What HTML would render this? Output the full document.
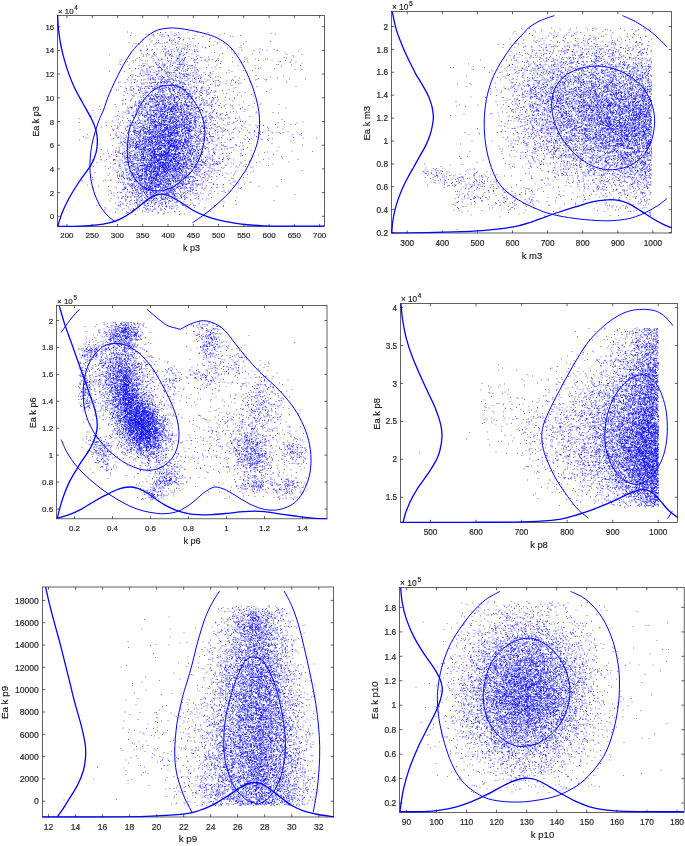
<!DOCTYPE html>
<html lang="en">
<head>
<meta charset="utf-8">
<title>Posterior scatter plots</title>
<style>
html,body{margin:0;padding:0;background:#fff;overflow:hidden}
svg{display:block}
text{font-family:"Liberation Sans",sans-serif;fill:#262626;stroke:#262626;stroke-width:0.18}
.a{fill:none;stroke:#262626;stroke-width:0.72}
.d{fill:none;stroke:#0000ff;stroke-width:2;stroke-opacity:0.55}
.m{fill:none;stroke:#0000ff;stroke-width:1.3;stroke-linejoin:round}
.c{fill:none;stroke:#0000ff;stroke-width:1.0;stroke-linejoin:round}
</style>
</head>
<body>
<svg width="685" height="846" viewBox="0 0 685 846">
<rect width="685" height="846" fill="#fff"/>
<g id="panel1">
<clipPath id="c1"><rect x="56.8" y="14.8" width="268.4" height="212.4"/></clipPath>
<path class="d" transform="scale(0.5)" d="M254 64h2m85 0h2m32 0h2m16 0h2m-75 1h2m-2 0h2m8 0h2m24 0h2m37 0h2m18 0h2m-155 1h2m50 1h2m33 0h2m97 0h2m91 0h2m-185 1h2m190 0h2m-261 1h2m32 0h2m16 0h2m7 0h2m-58 1h2m5 0h2m0 0h2m-1 0h2m11 0h2m-2 0h2m2 0h2m8 0h2m104 0h2m-181 1h2m74 0h2m10 0h2m1 0h2m36 0h2m89 0h2m-175 1h2m27 0h2m-2 0h2m122 0h2m-139 1h2m2 0h2m76 0h2m58 0h2m-112 2h2m-1 0h2m0 0h2m-21 1h2m26 0h2m6 0h2m43 0h2m-62 1h2m22 0h2m1 0h2m-105 1h2m13 0h2m47 0h2m28 0h2m38 0h2m-81 1h2m17 0h2m6 0h2m-55 1h2m23 0h2m26 0h2m-65 1h2m11 0h2m20 0h2m2 0h2m2 0h2m-9 1h2m16 1h2m59 0h2m9 0h2m60 0h2m47 0h2m-258 1h2m15 0h2m30 0h2m8 0h2m36 0h2m-126 1h2m53 0h2m2 0h2m15 0h2m15 0h2m-33 1h2m7 0h2m12 0h2m10 0h2m78 0h2m-1 0h2m-166 1h2m3 0h2m32 0h2m3 0h2m6 0h2m49 0h2m20 0h2m49 0h2m-182 1h2m9 0h2m76 0h2m5 0h2m121 0h2m-181 1h2m36 0h2m32 0h2m-83 1h2m50 0h2m15 0h2m1 0h2m54 0h2m23 0h2m-78 1h2m104 0h2m-219 1h2m26 0h2m30 0h2m48 0h2m10 0h2m2 0h2m25 0h2m-110 1h2m19 0h2m86 0h2m-82 1h2m18 0h2m14 0h2m3 0h2m12 0h2m9 0h2m-54 1h2m-2 0h2m15 0h2m39 0h2m47 0h2m18 0h2m-116 1h2m44 0h2m28 0h2m11 0h2m26 0h2m-121 1h2m2 0h2m-76 1h2m-1 0h2m17 0h2m13 0h2m-1 0h2m0 0h2m14 0h2m4 0h2m1 0h2m15 0h2m144 0h2m-227 1h2m8 0h2m18 0h2m17 0h2m23 0h2m8 0h2m8 0h2m3 0h2m152 0h2m-269 1h2m20 0h2m37 0h2m11 0h2m6 0h2m9 0h2m8 0h2m77 0h2m60 0h2m7 0h2m19 0h2m-276 1h2m10 0h2m189 0h2m22 0h2m44 0h2m-273 1h2m52 0h2m-2 0h2m16 0h2m6 0h2m24 0h2m3 0h2m201 0h2m-272 1h2m7 0h2m5 0h2m4 0h2m12 0h2m25 0h2m4 0h2m-136 1h2m58 0h2m9 0h2m55 0h2m-83 1h2m21 0h2m24 0h2m13 0h2m0 0h2m52 0h2m88 0h2m-178 1h2m16 0h2m4 0h2m4 0h2m195 0h2m-277 1h2m10 0h2m136 0h2m21 0h2m-186 1h2m12 0h2m12 0h2m16 0h2m-1 0h2m1 0h2m1 0h2m20 0h2m3 0h2m18 0h2m91 0h2m26 0h2m-215 1h2m14 0h2m30 0h2m-1 0h2m16 0h2m0 0h2m6 0h2m203 0h2m28 0h2m-387 1h2m66 0h2m9 0h2m31 0h2m6 0h2m-2 0h2m4 0h2m12 0h2m78 0h2m-131 1h2m19 0h2m25 0h2m7 0h2m27 0h2m188 0h2m-295 1h2m9 0h2m34 0h2m1 0h2m-1 0h2m7 0h2m11 0h2m-82 1h2m18 0h2m22 0h2m14 0h2m10 0h2m18 0h2m13 0h2m-83 1h2m103 0h2m168 0h2m-310 1h2m22 0h2m30 0h2m33 0h2m-1 0h2m28 0h2m1 0h2m59 0h2m23 0h2m76 0h2m-254 1h2m34 0h2m1 0h2m-1 0h2m1 0h2m25 0h2m185 0h2m-316 1h2m13 0h2m30 0h2m27 0h2m6 0h2m10 0h2m0 0h2m5 0h2m3 0h2m12 0h2m10 0h2m39 0h2m56 0h2m-173 1h2m0 0h2m28 0h2m154 0h2m18 0h2m2 0h2m-220 1h2m4 0h2m29 0h2m9 0h2m2 0h2m18 0h2m2 0h2m15 0h2m6 0h2m5 0h2m63 0h2m-248 1h2m25 0h2m7 0h2m26 0h2m12 0h2m6 0h2m27 0h2m29 0h2m26 0h2m16 0h2m106 0h2m37 0h2m-319 1h2m16 0h2m32 0h2m15 0h2m1 0h2m2 0h2m19 0h2m2 0h2m-1 0h2m18 0h2m13 0h2m5 0h2m21 0h2m2 0h2m78 0h2m52 0h2m-282 1h2m2 0h2m9 0h2m44 0h2m-1 0h2m2 0h2m9 0h2m125 0h2m-257 1h2m13 0h2m80 0h2m22 0h2m51 0h2m15 0h2m9 0h2m45 0h2m67 0h2m1 0h2m-296 1h2m47 0h2m7 0h2m15 0h2m4 0h2m16 0h2m6 0h2m13 0h2m74 0h2m115 0h2m8 0h2m-282 1h2m45 0h2m29 0h2m2 0h2m84 0h2m14 0h2m82 0h2m-271 1h2m21 0h2m5 0h2m5 0h2m1 0h2m6 0h2m-1 0h2m3 0h2m3 0h2m23 0h2m207 0h2m-320 1h2m2 0h2m27 0h2m25 0h2m93 0h2m-205 1h2m54 0h2m17 0h2m10 0h2m1 0h2m26 0h2m4 0h2m3 0h2m-128 1h2m70 0h2m1 0h2m23 0h2m12 0h2m1 0h2m-1 0h2m-1 0h2m0 0h2m-1 0h2m0 0h2m6 0h2m178 0h2m2 0h2m-301 1h2m64 0h2m1 0h2m1 0h2m-2 0h2m-2 0h2m37 0h2m20 0h2m24 0h2m15 0h2m147 0h2m-307 1h2m3 0h2m4 0h2m25 0h2m27 0h2m-2 0h2m22 0h2m7 0h2m0 0h2m1 0h2m0 0h2m89 0h2m32 0h2m89 0h2m-316 1h2m-2 0h2m29 0h2m9 0h2m8 0h2m20 0h2m21 0h2m177 0h2m-267 1h2m4 0h2m1 0h2m18 0h2m6 0h2m5 0h2m14 0h2m7 0h2m6 0h2m-76 1h2m15 0h2m-1 0h2m-2 0h2m30 0h2m5 0h2m1 0h2m3 0h2m21 0h2m39 0h2m-150 1h2m15 0h2m-1 0h2m14 0h2m3 0h2m-2 0h2m5 0h2m23 0h2m37 0h2m19 0h2m25 0h2m-126 1h2m15 0h2m5 0h2m13 0h2m-2 0h2m0 0h2m26 0h2m37 0h2m85 0h2m7 0h2m-263 1h2m10 0h2m4 0h2m15 0h2m27 0h2m9 0h2m13 0h2m7 0h2m6 0h2m8 0h2m-2 0h2m3 0h2m134 0h2m30 0h2m-280 1h2m62 0h2m28 0h2m22 0h2m1 0h2m6 0h2m30 0h2m-150 1h2m8 0h2m8 0h2m18 0h2m-1 0h2m3 0h2m27 0h2m10 0h2m22 0h2m193 0h2m12 0h2m-308 1h2m23 0h2m23 0h2m3 0h2m-1 0h2m-1 0h2m18 0h2m18 0h2m-113 1h2m8 0h2m21 0h2m5 0h2m3 0h2m20 0h2m-1 0h2m1 0h2m17 0h2m-1 0h2m6 0h2m5 0h2m66 0h2m27 0h2m16 0h2m-243 1h2m20 0h2m24 0h2m5 0h2m13 0h2m13 0h2m12 0h2m2 0h2m-1 0h2m27 0h2m-180 1h2m28 0h2m63 0h2m14 0h2m39 0h2m53 0h2m36 0h2m-185 1h2m6 0h2m2 0h2m0 0h2m1 0h2m1 0h2m-2 0h2m5 0h2m7 0h2m3 0h2m6 0h2m4 0h2m-2 0h2m0 0h2m49 0h2m-83 1h2m24 0h2m0 0h2m1 0h2m1 0h2m3 0h2m-1 0h2m0 0h2m7 0h2m25 0h2m5 0h2m13 0h2m10 0h2m36 0h2m-174 1h2m44 0h2m9 0h2m13 0h2m21 0h2m38 0h2m30 0h2m-175 1h2m36 0h2m13 0h2m4 0h2m18 0h2m-1 0h2m1 0h2m7 0h2m-93 1h2m13 0h2m14 0h2m1 0h2m13 0h2m0 0h2m33 0h2m0 0h2m2 0h2m3 0h2m6 0h2m4 0h2m1 0h2m27 0h2m-162 1h2m26 0h2m4 0h2m13 0h2m0 0h2m23 0h2m10 0h2m-2 0h2m12 0h2m-2 0h2m6 0h2m-1 0h2m34 0h2m-147 1h2m14 0h2m10 0h2m1 0h2m3 0h2m19 0h2m10 0h2m9 0h2m13 0h2m5 0h2m7 0h2m-1 0h2m12 0h2m9 0h2m-144 1h2m8 0h2m10 0h2m3 0h2m14 0h2m7 0h2m24 0h2m28 0h2m9 0h2m16 0h2m17 0h2m93 0h2m-250 1h2m20 0h2m34 0h2m10 0h2m7 0h2m3 0h2m1 0h2m7 0h2m13 0h2m7 0h2m0 0h2m-1 0h2m30 0h2m146 0h2m-294 1h2m1 0h2m38 0h2m0 0h2m3 0h2m-2 0h2m8 0h2m0 0h2m12 0h2m0 0h2m13 0h2m-2 0h2m2 0h2m-2 0h2m-1 0h2m21 0h2m22 0h2m14 0h2m32 0h2m-175 1h2m2 0h2m24 0h2m29 0h2m41 0h2m1 0h2m25 0h2m108 0h2m-286 1h2m5 0h2m39 0h2m-1 0h2m3 0h2m10 0h2m3 0h2m-2 0h2m8 0h2m15 0h2m-2 0h2m-2 0h2m4 0h2m27 0h2m10 0h2m17 0h2m18 0h2m-125 1h2m6 0h2m0 0h2m12 0h2m31 0h2m3 0h2m11 0h2m84 0h2m74 0h2m-261 1h2m4 0h2m1 0h2m9 0h2m20 0h2m4 0h2m5 0h2m7 0h2m3 0h2m2 0h2m7 0h2m9 0h2m-2 0h2m6 0h2m-2 0h2m2 0h2m114 0h2m-221 1h2m1 0h2m4 0h2m-1 0h2m11 0h2m1 0h2m0 0h2m14 0h2m0 0h2m0 0h2m14 0h2m21 0h2m15 0h2m6 0h2m14 0h2m151 0h2m30 0h2m-358 1h2m11 0h2m1 0h2m17 0h2m9 0h2m3 0h2m2 0h2m6 0h2m4 0h2m4 0h2m3 0h2m0 0h2m1 0h2m4 0h2m28 0h2m13 0h2m72 0h2m22 0h2m23 0h2m14 0h2m1 0h2m-273 1h2m18 0h2m-1 0h2m2 0h2m7 0h2m3 0h2m5 0h2m12 0h2m15 0h2m10 0h2m62 0h2m1 0h2m91 0h2m-202 1h2m10 0h2m5 0h2m1 0h2m1 0h2m9 0h2m3 0h2m3 0h2m11 0h2m2 0h2m24 0h2m32 0h2m1 0h2m24 0h2m2 0h2m8 0h2m-223 1h2m12 0h2m3 0h2m71 0h2m-2 0h2m3 0h2m4 0h2m2 0h2m17 0h2m1 0h2m5 0h2m5 0h2m30 0h2m21 0h2m43 0h2m31 0h2m-213 1h2m2 0h2m0 0h2m0 0h2m2 0h2m2 0h2m1 0h2m39 0h2m16 0h2m2 0h2m1 0h2m4 0h2m13 0h2m11 0h2m-202 1h2m32 0h2m35 0h2m17 0h2m3 0h2m-1 0h2m2 0h2m-1 0h2m15 0h2m0 0h2m0 0h2m99 0h2m6 0h2m100 0h2m-338 1h2m11 0h2m17 0h2m-2 0h2m11 0h2m8 0h2m5 0h2m3 0h2m0 0h2m-1 0h2m0 0h2m-1 0h2m-1 0h2m2 0h2m0 0h2m2 0h2m0 0h2m-2 0h2m5 0h2m0 0h2m1 0h2m10 0h2m12 0h2m-1 0h2m0 0h2m1 0h2m19 0h2m-2 0h2m8 0h2m2 0h2m4 0h2m61 0h2m-210 1h2m23 0h2m5 0h2m4 0h2m18 0h2m4 0h2m-1 0h2m-1 0h2m3 0h2m8 0h2m20 0h2m1 0h2m6 0h2m14 0h2m35 0h2m8 0h2m36 0h2m2 0h2m-200 1h2m17 0h2m10 0h2m7 0h2m7 0h2m8 0h2m15 0h2m45 0h2m43 0h2m-166 1h2m10 0h2m43 0h2m-2 0h2m11 0h2m0 0h2m6 0h2m-1 0h2m10 0h2m42 0h2m34 0h2m14 0h2m-195 1h2m28 0h2m-2 0h2m30 0h2m6 0h2m9 0h2m3 0h2m-1 0h2m3 0h2m43 0h2m-149 1h2m33 0h2m5 0h2m3 0h2m19 0h2m-1 0h2m-1 0h2m2 0h2m1 0h2m-2 0h2m1 0h2m21 0h2m52 0h2m6 0h2m-121 1h2m2 0h2m-2 0h2m-1 0h2m0 0h2m10 0h2m-1 0h2m0 0h2m9 0h2m-1 0h2m40 0h2m18 0h2m17 0h2m27 0h2m-170 1h2m1 0h2m2 0h2m10 0h2m3 0h2m2 0h2m16 0h2m12 0h2m0 0h2m29 0h2m40 0h2m4 0h2m67 0h2m-266 1h2m20 0h2m8 0h2m1 0h2m3 0h2m7 0h2m1 0h2m4 0h2m1 0h2m-1 0h2m6 0h2m-2 0h2m16 0h2m0 0h2m26 0h2m3 0h2m-1 0h2m-2 0h2m-1 0h2m18 0h2m15 0h2m108 0h2m76 0h2m-333 1h2m27 0h2m5 0h2m6 0h2m2 0h2m26 0h2m5 0h2m3 0h2m1 0h2m11 0h2m6 0h2m8 0h2m-107 1h2m29 0h2m8 0h2m10 0h2m0 0h2m2 0h2m6 0h2m1 0h2m1 0h2m2 0h2m1 0h2m2 0h2m3 0h2m11 0h2m8 0h2m1 0h2m-2 0h2m8 0h2m-1 0h2m12 0h2m52 0h2m-223 1h2m9 0h2m17 0h2m11 0h2m14 0h2m7 0h2m-1 0h2m2 0h2m-2 0h2m2 0h2m-2 0h2m4 0h2m4 0h2m12 0h2m4 0h2m31 0h2m10 0h2m3 0h2m7 0h2m47 0h2m-217 1h2m12 0h2m-2 0h2m16 0h2m2 0h2m6 0h2m0 0h2m4 0h2m0 0h2m1 0h2m6 0h2m5 0h2m1 0h2m8 0h2m-1 0h2m4 0h2m5 0h2m28 0h2m18 0h2m-123 1h2m-2 0h2m23 0h2m2 0h2m2 0h2m-2 0h2m7 0h2m0 0h2m4 0h2m6 0h2m0 0h2m5 0h2m9 0h2m-1 0h2m-1 0h2m3 0h2m2 0h2m1 0h2m18 0h2m7 0h2m138 0h2m-282 1h2m4 0h2m7 0h2m38 0h2m1 0h2m15 0h2m0 0h2m5 0h2m0 0h2m-1 0h2m14 0h2m2 0h2m0 0h2m-2 0h2m3 0h2m36 0h2m1 0h2m39 0h2m-227 1h2m2 0h2m14 0h2m5 0h2m45 0h2m1 0h2m5 0h2m1 0h2m-2 0h2m-1 0h2m2 0h2m14 0h2m4 0h2m-1 0h2m4 0h2m2 0h2m-1 0h2m-2 0h2m5 0h2m2 0h2m-1 0h2m2 0h2m3 0h2m7 0h2m4 0h2m9 0h2m-146 1h2m0 0h2m11 0h2m-1 0h2m2 0h2m22 0h2m-1 0h2m15 0h2m0 0h2m5 0h2m4 0h2m4 0h2m0 0h2m19 0h2m10 0h2m21 0h2m4 0h2m12 0h2m20 0h2m-156 1h2m-1 0h2m7 0h2m20 0h2m1 0h2m-2 0h2m2 0h2m15 0h2m9 0h2m4 0h2m2 0h2m19 0h2m10 0h2m9 0h2m0 0h2m14 0h2m0 0h2m-186 1h2m34 0h2m18 0h2m12 0h2m8 0h2m10 0h2m-2 0h2m7 0h2m11 0h2m16 0h2m4 0h2m5 0h2m4 0h2m29 0h2m35 0h2m64 0h2m-283 1h2m13 0h2m20 0h2m4 0h2m-1 0h2m18 0h2m2 0h2m-1 0h2m5 0h2m10 0h2m-1 0h2m6 0h2m7 0h2m3 0h2m3 0h2m-1 0h2m-1 0h2m7 0h2m13 0h2m18 0h2m-137 1h2m11 0h2m-1 0h2m6 0h2m13 0h2m8 0h2m27 0h2m0 0h2m-2 0h2m14 0h2m15 0h2m10 0h2m-2 0h2m17 0h2m5 0h2m60 0h2m-213 1h2m3 0h2m7 0h2m10 0h2m13 0h2m3 0h2m-1 0h2m22 0h2m8 0h2m20 0h2m28 0h2m3 0h2m59 0h2m-225 1h2m13 0h2m1 0h2m12 0h2m2 0h2m18 0h2m30 0h2m6 0h2m12 0h2m-1 0h2m9 0h2m-1 0h2m-2 0h2m5 0h2m3 0h2m13 0h2m46 0h2m-193 1h2m47 0h2m1 0h2m16 0h2m1 0h2m5 0h2m1 0h2m8 0h2m2 0h2m-1 0h2m4 0h2m6 0h2m1 0h2m2 0h2m16 0h2m17 0h2m26 0h2m-159 1h2m6 0h2m4 0h2m9 0h2m-1 0h2m-1 0h2m2 0h2m4 0h2m0 0h2m13 0h2m1 0h2m0 0h2m5 0h2m9 0h2m1 0h2m2 0h2m-2 0h2m0 0h2m4 0h2m7 0h2m23 0h2m-1 0h2m85 0h2m-201 1h2m3 0h2m-1 0h2m2 0h2m12 0h2m-1 0h2m12 0h2m2 0h2m15 0h2m11 0h2m-2 0h2m96 0h2m-229 1h2m15 0h2m1 0h2m17 0h2m3 0h2m4 0h2m2 0h2m1 0h2m4 0h2m9 0h2m0 0h2m4 0h2m10 0h2m3 0h2m1 0h2m8 0h2m-1 0h2m38 0h2m-1 0h2m-1 0h2m25 0h2m-147 1h2m10 0h2m-1 0h2m2 0h2m7 0h2m5 0h2m0 0h2m1 0h2m-2 0h2m16 0h2m0 0h2m12 0h2m2 0h2m3 0h2m6 0h2m0 0h2m0 0h2m-1 0h2m2 0h2m0 0h2m26 0h2m68 0h2m22 0h2m-241 1h2m23 0h2m3 0h2m7 0h2m-2 0h2m3 0h2m-2 0h2m3 0h2m-1 0h2m-2 0h2m8 0h2m2 0h2m4 0h2m6 0h2m4 0h2m0 0h2m-1 0h2m-2 0h2m-1 0h2m17 0h2m0 0h2m6 0h2m11 0h2m35 0h2m-161 1h2m3 0h2m11 0h2m17 0h2m0 0h2m6 0h2m0 0h2m-2 0h2m-2 0h2m-1 0h2m3 0h2m2 0h2m1 0h2m-2 0h2m0 0h2m1 0h2m3 0h2m-1 0h2m2 0h2m-2 0h2m-2 0h2m9 0h2m2 0h2m-2 0h2m-1 0h2m3 0h2m0 0h2m2 0h2m1 0h2m-103 1h2m3 0h2m-1 0h2m11 0h2m11 0h2m0 0h2m3 0h2m5 0h2m1 0h2m4 0h2m2 0h2m6 0h2m5 0h2m-2 0h2m18 0h2m15 0h2m4 0h2m24 0h2m1 0h2m1 0h2m2 0h2m14 0h2m-187 1h2m30 0h2m2 0h2m2 0h2m1 0h2m3 0h2m-2 0h2m-1 0h2m-1 0h2m15 0h2m1 0h2m2 0h2m-1 0h2m1 0h2m2 0h2m12 0h2m13 0h2m3 0h2m-1 0h2m-1 0h2m5 0h2m-1 0h2m11 0h2m62 0h2m-179 1h2m5 0h2m0 0h2m1 0h2m2 0h2m12 0h2m-2 0h2m4 0h2m3 0h2m3 0h2m6 0h2m1 0h2m-2 0h2m-1 0h2m6 0h2m4 0h2m4 0h2m0 0h2m1 0h2m6 0h2m-1 0h2m6 0h2m25 0h2m6 0h2m40 0h2m-219 1h2m9 0h2m22 0h2m2 0h2m11 0h2m-1 0h2m-1 0h2m2 0h2m16 0h2m0 0h2m17 0h2m-2 0h2m1 0h2m5 0h2m-2 0h2m8 0h2m10 0h2m1 0h2m17 0h2m23 0h2m29 0h2m-210 1h2m30 0h2m14 0h2m-1 0h2m1 0h2m-1 0h2m2 0h2m-1 0h2m-1 0h2m6 0h2m0 0h2m6 0h2m5 0h2m-1 0h2m0 0h2m3 0h2m13 0h2m-1 0h2m12 0h2m5 0h2m4 0h2m18 0h2m0 0h2m26 0h2m-191 1h2m13 0h2m29 0h2m6 0h2m1 0h2m-1 0h2m12 0h2m1 0h2m1 0h2m-1 0h2m12 0h2m1 0h2m2 0h2m1 0h2m22 0h2m23 0h2m25 0h2m22 0h2m-208 1h2m33 0h2m5 0h2m22 0h2m2 0h2m-2 0h2m6 0h2m1 0h2m1 0h2m1 0h2m-2 0h2m4 0h2m8 0h2m-1 0h2m-1 0h2m6 0h2m5 0h2m5 0h2m20 0h2m8 0h2m1 0h2m4 0h2m10 0h2m-165 1h2m25 0h2m5 0h2m14 0h2m2 0h2m6 0h2m-1 0h2m1 0h2m-1 0h2m0 0h2m16 0h2m-1 0h2m12 0h2m13 0h2m6 0h2m26 0h2m10 0h2m7 0h2m28 0h2m-196 1h2m7 0h2m5 0h2m0 0h2m7 0h2m-1 0h2m0 0h2m1 0h2m2 0h2m3 0h2m0 0h2m4 0h2m1 0h2m9 0h2m4 0h2m12 0h2m12 0h2m0 0h2m6 0h2m4 0h2m36 0h2m-154 1h2m4 0h2m3 0h2m-2 0h2m21 0h2m8 0h2m2 0h2m-2 0h2m4 0h2m0 0h2m10 0h2m-2 0h2m9 0h2m1 0h2m16 0h2m5 0h2m3 0h2m21 0h2m6 0h2m71 0h2m-210 1h2m21 0h2m4 0h2m0 0h2m1 0h2m17 0h2m2 0h2m-2 0h2m0 0h2m9 0h2m-1 0h2m-2 0h2m1 0h2m5 0h2m0 0h2m-1 0h2m6 0h2m-1 0h2m1 0h2m2 0h2m1 0h2m0 0h2m6 0h2m15 0h2m12 0h2m-147 1h2m0 0h2m0 0h2m9 0h2m1 0h2m0 0h2m11 0h2m4 0h2m-2 0h2m5 0h2m-1 0h2m1 0h2m12 0h2m1 0h2m5 0h2m0 0h2m-2 0h2m2 0h2m8 0h2m13 0h2m28 0h2m5 0h2m10 0h2m88 0h2m-247 1h2m12 0h2m0 0h2m2 0h2m7 0h2m11 0h2m10 0h2m5 0h2m2 0h2m-2 0h2m70 0h2m15 0h2m8 0h2m66 0h2m-266 1h2m-1 0h2m3 0h2m17 0h2m0 0h2m5 0h2m1 0h2m2 0h2m4 0h2m18 0h2m2 0h2m8 0h2m-1 0h2m-1 0h2m-1 0h2m5 0h2m3 0h2m3 0h2m4 0h2m0 0h2m0 0h2m-2 0h2m3 0h2m0 0h2m3 0h2m-2 0h2m2 0h2m-1 0h2m6 0h2m1 0h2m-2 0h2m14 0h2m0 0h2m-1 0h2m2 0h2m0 0h2m-181 1h2m52 0h2m6 0h2m2 0h2m-2 0h2m-1 0h2m13 0h2m1 0h2m-2 0h2m0 0h2m-1 0h2m0 0h2m3 0h2m-1 0h2m2 0h2m6 0h2m-1 0h2m-1 0h2m0 0h2m3 0h2m1 0h2m0 0h2m0 0h2m8 0h2m3 0h2m1 0h2m-1 0h2m-1 0h2m9 0h2m5 0h2m-2 0h2m7 0h2m15 0h2m5 0h2m25 0h2m66 0h2m36 0h2m-291 1h2m0 0h2m18 0h2m14 0h2m0 0h2m2 0h2m0 0h2m1 0h2m5 0h2m1 0h2m3 0h2m5 0h2m6 0h2m3 0h2m-1 0h2m14 0h2m-2 0h2m29 0h2m7 0h2m4 0h2m4 0h2m-1 0h2m36 0h2m15 0h2m-207 1h2m2 0h2m5 0h2m14 0h2m9 0h2m-2 0h2m-1 0h2m-1 0h2m2 0h2m10 0h2m-2 0h2m-1 0h2m0 0h2m0 0h2m8 0h2m2 0h2m4 0h2m-1 0h2m4 0h2m2 0h2m6 0h2m-1 0h2m-2 0h2m2 0h2m2 0h2m5 0h2m8 0h2m7 0h2m4 0h2m0 0h2m2 0h2m15 0h2m0 0h2m57 0h2m-301 1h2m68 0h2m6 0h2m-2 0h2m4 0h2m3 0h2m-1 0h2m11 0h2m1 0h2m3 0h2m0 0h2m-1 0h2m7 0h2m5 0h2m1 0h2m5 0h2m9 0h2m0 0h2m1 0h2m5 0h2m1 0h2m2 0h2m3 0h2m0 0h2m-1 0h2m-1 0h2m-2 0h2m2 0h2m3 0h2m-1 0h2m58 0h2m-1 0h2m13 0h2m-1 0h2m-235 1h2m68 0h2m-1 0h2m1 0h2m2 0h2m8 0h2m7 0h2m2 0h2m3 0h2m5 0h2m0 0h2m-1 0h2m0 0h2m-2 0h2m-1 0h2m3 0h2m0 0h2m1 0h2m-2 0h2m1 0h2m9 0h2m0 0h2m4 0h2m-1 0h2m37 0h2m-2 0h2m1 0h2m-173 1h2m4 0h2m2 0h2m9 0h2m6 0h2m0 0h2m2 0h2m-1 0h2m2 0h2m4 0h2m14 0h2m-1 0h2m3 0h2m1 0h2m1 0h2m0 0h2m-1 0h2m3 0h2m-2 0h2m5 0h2m-2 0h2m-1 0h2m-1 0h2m-1 0h2m4 0h2m12 0h2m6 0h2m1 0h2m18 0h2m106 0h2m-246 1h2m-1 0h2m17 0h2m5 0h2m-1 0h2m7 0h2m2 0h2m-1 0h2m1 0h2m5 0h2m10 0h2m-2 0h2m1 0h2m-2 0h2m-1 0h2m-2 0h2m6 0h2m3 0h2m-2 0h2m5 0h2m4 0h2m3 0h2m26 0h2m-2 0h2m-1 0h2m1 0h2m0 0h2m1 0h2m0 0h2m41 0h2m40 0h2m-229 1h2m2 0h2m1 0h2m15 0h2m0 0h2m5 0h2m8 0h2m5 0h2m2 0h2m1 0h2m4 0h2m-1 0h2m13 0h2m0 0h2m1 0h2m-2 0h2m0 0h2m-2 0h2m3 0h2m1 0h2m1 0h2m6 0h2m-2 0h2m0 0h2m6 0h2m-1 0h2m0 0h2m8 0h2m5 0h2m2 0h2m21 0h2m150 0h2m-318 1h2m15 0h2m11 0h2m26 0h2m3 0h2m2 0h2m-2 0h2m5 0h2m0 0h2m1 0h2m1 0h2m1 0h2m0 0h2m0 0h2m-1 0h2m-1 0h2m0 0h2m0 0h2m3 0h2m-2 0h2m10 0h2m12 0h2m-1 0h2m5 0h2m-1 0h2m14 0h2m14 0h2m26 0h2m13 0h2m13 0h2m-220 1h2m11 0h2m16 0h2m16 0h2m2 0h2m3 0h2m4 0h2m0 0h2m4 0h2m-1 0h2m1 0h2m4 0h2m1 0h2m1 0h2m-2 0h2m6 0h2m-1 0h2m0 0h2m4 0h2m6 0h2m0 0h2m5 0h2m-1 0h2m93 0h2m-282 1h2m70 0h2m8 0h2m3 0h2m9 0h2m1 0h2m8 0h2m8 0h2m0 0h2m-1 0h2m-2 0h2m1 0h2m2 0h2m3 0h2m-1 0h2m-2 0h2m3 0h2m2 0h2m-1 0h2m4 0h2m1 0h2m2 0h2m0 0h2m2 0h2m7 0h2m3 0h2m17 0h2m1 0h2m24 0h2m59 0h2m-214 1h2m5 0h2m1 0h2m2 0h2m6 0h2m2 0h2m9 0h2m-1 0h2m0 0h2m1 0h2m0 0h2m5 0h2m9 0h2m-2 0h2m-1 0h2m-1 0h2m-2 0h2m11 0h2m-1 0h2m-1 0h2m2 0h2m2 0h2m13 0h2m-1 0h2m4 0h2m1 0h2m8 0h2m-1 0h2m-218 1h2m68 0h2m15 0h2m25 0h2m3 0h2m-1 0h2m0 0h2m0 0h2m-2 0h2m0 0h2m-1 0h2m-1 0h2m0 0h2m4 0h2m7 0h2m1 0h2m-2 0h2m-1 0h2m4 0h2m-1 0h2m7 0h2m-1 0h2m-2 0h2m-1 0h2m8 0h2m4 0h2m16 0h2m16 0h2m-155 1h2m2 0h2m12 0h2m6 0h2m12 0h2m-1 0h2m4 0h2m0 0h2m4 0h2m-1 0h2m0 0h2m5 0h2m5 0h2m0 0h2m6 0h2m6 0h2m-1 0h2m0 0h2m-1 0h2m-1 0h2m1 0h2m1 0h2m11 0h2m5 0h2m0 0h2m28 0h2m1 0h2m15 0h2m0 0h2m-1 0h2m-193 1h2m40 0h2m2 0h2m-1 0h2m10 0h2m18 0h2m2 0h2m-2 0h2m0 0h2m-1 0h2m0 0h2m-1 0h2m0 0h2m-1 0h2m-1 0h2m-1 0h2m5 0h2m1 0h2m0 0h2m0 0h2m-2 0h2m-1 0h2m15 0h2m3 0h2m0 0h2m22 0h2m-2 0h2m0 0h2m16 0h2m51 0h2m19 0h2m-244 1h2m9 0h2m0 0h2m6 0h2m3 0h2m11 0h2m8 0h2m6 0h2m2 0h2m9 0h2m1 0h2m6 0h2m2 0h2m7 0h2m1 0h2m-2 0h2m3 0h2m-2 0h2m3 0h2m-1 0h2m0 0h2m-1 0h2m-1 0h2m5 0h2m3 0h2m4 0h2m-2 0h2m6 0h2m2 0h2m5 0h2m-1 0h2m11 0h2m0 0h2m46 0h2m10 0h2m38 0h2m-265 1h2m25 0h2m4 0h2m9 0h2m-2 0h2m11 0h2m-1 0h2m7 0h2m10 0h2m4 0h2m-2 0h2m-2 0h2m0 0h2m1 0h2m11 0h2m0 0h2m4 0h2m-2 0h2m0 0h2m-2 0h2m-2 0h2m3 0h2m-1 0h2m3 0h2m2 0h2m10 0h2m9 0h2m22 0h2m26 0h2m91 0h2m-289 1h2m5 0h2m10 0h2m10 0h2m3 0h2m4 0h2m4 0h2m1 0h2m1 0h2m-2 0h2m6 0h2m2 0h2m3 0h2m7 0h2m8 0h2m1 0h2m7 0h2m1 0h2m6 0h2m4 0h2m-1 0h2m2 0h2m-1 0h2m20 0h2m11 0h2m1 0h2m9 0h2m-1 0h2m76 0h2m43 0h2m-302 1h2m21 0h2m1 0h2m9 0h2m15 0h2m7 0h2m2 0h2m-1 0h2m-1 0h2m-1 0h2m6 0h2m29 0h2m6 0h2m0 0h2m2 0h2m-1 0h2m9 0h2m39 0h2m-2 0h2m9 0h2m-202 1h2m8 0h2m15 0h2m1 0h2m1 0h2m1 0h2m4 0h2m2 0h2m3 0h2m5 0h2m6 0h2m0 0h2m1 0h2m1 0h2m15 0h2m-2 0h2m4 0h2m2 0h2m0 0h2m-2 0h2m-2 0h2m-1 0h2m-1 0h2m-1 0h2m9 0h2m1 0h2m3 0h2m8 0h2m0 0h2m-1 0h2m-2 0h2m2 0h2m2 0h2m1 0h2m23 0h2m21 0h2m-170 1h2m19 0h2m-1 0h2m0 0h2m-1 0h2m0 0h2m1 0h2m5 0h2m0 0h2m-2 0h2m7 0h2m-1 0h2m0 0h2m1 0h2m0 0h2m-2 0h2m8 0h2m-2 0h2m2 0h2m-2 0h2m3 0h2m2 0h2m6 0h2m-2 0h2m2 0h2m2 0h2m-1 0h2m-1 0h2m-1 0h2m6 0h2m-1 0h2m-1 0h2m9 0h2m3 0h2m42 0h2m11 0h2m-190 1h2m6 0h2m5 0h2m2 0h2m-1 0h2m10 0h2m5 0h2m1 0h2m-1 0h2m2 0h2m-1 0h2m6 0h2m-1 0h2m1 0h2m3 0h2m7 0h2m4 0h2m2 0h2m11 0h2m-1 0h2m3 0h2m-1 0h2m1 0h2m-1 0h2m14 0h2m29 0h2m29 0h2m1 0h2m-277 1h2m53 0h2m27 0h2m-1 0h2m0 0h2m10 0h2m4 0h2m2 0h2m0 0h2m0 0h2m7 0h2m-1 0h2m-1 0h2m0 0h2m-2 0h2m4 0h2m6 0h2m0 0h2m0 0h2m2 0h2m0 0h2m1 0h2m0 0h2m-2 0h2m16 0h2m9 0h2m9 0h2m1 0h2m3 0h2m0 0h2m-1 0h2m10 0h2m12 0h2m6 0h2m18 0h2m9 0h2m-271 1h2m55 0h2m30 0h2m3 0h2m8 0h2m2 0h2m2 0h2m5 0h2m4 0h2m0 0h2m8 0h2m1 0h2m-1 0h2m8 0h2m11 0h2m3 0h2m3 0h2m-1 0h2m2 0h2m-1 0h2m2 0h2m6 0h2m4 0h2m-2 0h2m40 0h2m11 0h2m-205 1h2m32 0h2m21 0h2m2 0h2m7 0h2m4 0h2m-1 0h2m-2 0h2m8 0h2m0 0h2m3 0h2m-1 0h2m3 0h2m-2 0h2m1 0h2m2 0h2m1 0h2m2 0h2m-2 0h2m7 0h2m2 0h2m4 0h2m-1 0h2m-1 0h2m4 0h2m0 0h2m11 0h2m0 0h2m-1 0h2m3 0h2m-2 0h2m13 0h2m5 0h2m4 0h2m74 0h2m-310 1h2m34 0h2m15 0h2m42 0h2m9 0h2m-2 0h2m-1 0h2m-1 0h2m2 0h2m1 0h2m-2 0h2m2 0h2m-2 0h2m1 0h2m0 0h2m-2 0h2m4 0h2m-2 0h2m-1 0h2m1 0h2m2 0h2m-2 0h2m8 0h2m-2 0h2m0 0h2m0 0h2m4 0h2m-2 0h2m3 0h2m12 0h2m1 0h2m-1 0h2m8 0h2m5 0h2m-2 0h2m5 0h2m8 0h2m-1 0h2m1 0h2m10 0h2m6 0h2m44 0h2m-214 1h2m8 0h2m11 0h2m5 0h2m1 0h2m-1 0h2m14 0h2m0 0h2m2 0h2m0 0h2m-1 0h2m3 0h2m-1 0h2m6 0h2m3 0h2m-1 0h2m0 0h2m0 0h2m4 0h2m-2 0h2m0 0h2m6 0h2m3 0h2m-1 0h2m11 0h2m-1 0h2m1 0h2m-2 0h2m3 0h2m4 0h2m5 0h2m11 0h2m2 0h2m-2 0h2m32 0h2m-212 1h2m17 0h2m26 0h2m1 0h2m17 0h2m1 0h2m9 0h2m0 0h2m-1 0h2m1 0h2m2 0h2m0 0h2m-2 0h2m20 0h2m1 0h2m2 0h2m-2 0h2m-2 0h2m2 0h2m-1 0h2m2 0h2m13 0h2m0 0h2m7 0h2m10 0h2m5 0h2m10 0h2m2 0h2m12 0h2m14 0h2m-316 1h2m95 0h2m20 0h2m23 0h2m5 0h2m12 0h2m2 0h2m0 0h2m0 0h2m2 0h2m4 0h2m1 0h2m-1 0h2m1 0h2m-1 0h2m1 0h2m3 0h2m6 0h2m9 0h2m-1 0h2m2 0h2m-1 0h2m-1 0h2m5 0h2m0 0h2m13 0h2m13 0h2m5 0h2m19 0h2m19 0h2m-236 1h2m39 0h2m6 0h2m7 0h2m0 0h2m-1 0h2m2 0h2m10 0h2m0 0h2m7 0h2m1 0h2m2 0h2m1 0h2m1 0h2m9 0h2m1 0h2m4 0h2m2 0h2m-2 0h2m-1 0h2m4 0h2m-2 0h2m5 0h2m12 0h2m21 0h2m25 0h2m1 0h2m1 0h2m32 0h2m-187 1h2m6 0h2m0 0h2m1 0h2m-2 0h2m6 0h2m0 0h2m-1 0h2m17 0h2m-1 0h2m0 0h2m-1 0h2m-2 0h2m8 0h2m-2 0h2m9 0h2m-1 0h2m-1 0h2m-2 0h2m-2 0h2m3 0h2m1 0h2m-2 0h2m-1 0h2m-1 0h2m3 0h2m7 0h2m6 0h2m6 0h2m14 0h2m141 0h2m-332 1h2m42 0h2m-2 0h2m11 0h2m1 0h2m-1 0h2m-1 0h2m3 0h2m-2 0h2m-1 0h2m1 0h2m0 0h2m2 0h2m9 0h2m-1 0h2m-1 0h2m2 0h2m0 0h2m9 0h2m4 0h2m-1 0h2m1 0h2m0 0h2m-1 0h2m0 0h2m12 0h2m14 0h2m2 0h2m20 0h2m-169 1h2m10 0h2m-1 0h2m1 0h2m12 0h2m5 0h2m5 0h2m5 0h2m12 0h2m-1 0h2m4 0h2m6 0h2m0 0h2m-2 0h2m0 0h2m0 0h2m-1 0h2m-1 0h2m6 0h2m-2 0h2m-2 0h2m2 0h2m6 0h2m2 0h2m-2 0h2m4 0h2m-2 0h2m1 0h2m1 0h2m4 0h2m3 0h2m0 0h2m-1 0h2m5 0h2m-1 0h2m-1 0h2m-1 0h2m16 0h2m1 0h2m11 0h2m2 0h2m14 0h2m26 0h2m-252 1h2m53 0h2m2 0h2m11 0h2m2 0h2m4 0h2m3 0h2m3 0h2m7 0h2m-1 0h2m3 0h2m0 0h2m2 0h2m0 0h2m3 0h2m7 0h2m1 0h2m-2 0h2m-1 0h2m5 0h2m6 0h2m2 0h2m2 0h2m5 0h2m0 0h2m31 0h2m56 0h2m-209 1h2m12 0h2m1 0h2m-1 0h2m8 0h2m-1 0h2m-1 0h2m-1 0h2m-1 0h2m-2 0h2m1 0h2m-2 0h2m0 0h2m0 0h2m-1 0h2m1 0h2m4 0h2m3 0h2m-1 0h2m7 0h2m-2 0h2m0 0h2m-1 0h2m3 0h2m1 0h2m-1 0h2m-1 0h2m2 0h2m-1 0h2m-2 0h2m9 0h2m0 0h2m2 0h2m2 0h2m1 0h2m7 0h2m0 0h2m3 0h2m74 0h2m7 0h2m2 0h2m33 0h2m47 0h2m-330 1h2m15 0h2m1 0h2m1 0h2m5 0h2m16 0h2m17 0h2m-1 0h2m-1 0h2m10 0h2m0 0h2m3 0h2m-1 0h2m0 0h2m2 0h2m-1 0h2m1 0h2m2 0h2m0 0h2m-2 0h2m0 0h2m-2 0h2m-1 0h2m7 0h2m0 0h2m4 0h2m5 0h2m4 0h2m0 0h2m4 0h2m0 0h2m0 0h2m3 0h2m10 0h2m-1 0h2m0 0h2m1 0h2m5 0h2m44 0h2m22 0h2m113 0h2m-449 1h2m51 0h2m22 0h2m16 0h2m9 0h2m0 0h2m2 0h2m3 0h2m2 0h2m15 0h2m2 0h2m2 0h2m3 0h2m2 0h2m-1 0h2m-2 0h2m-1 0h2m1 0h2m2 0h2m3 0h2m8 0h2m-1 0h2m2 0h2m1 0h2m-1 0h2m4 0h2m5 0h2m3 0h2m-1 0h2m1 0h2m-1 0h2m3 0h2m2 0h2m0 0h2m-2 0h2m0 0h2m6 0h2m8 0h2m3 0h2m5 0h2m5 0h2m37 0h2m7 0h2m86 0h2m-311 1h2m12 0h2m8 0h2m6 0h2m-1 0h2m4 0h2m3 0h2m7 0h2m1 0h2m2 0h2m-1 0h2m9 0h2m-2 0h2m-2 0h2m4 0h2m1 0h2m4 0h2m7 0h2m6 0h2m-1 0h2m-1 0h2m-1 0h2m5 0h2m3 0h2m-1 0h2m11 0h2m1 0h2m5 0h2m-1 0h2m16 0h2m0 0h2m22 0h2m18 0h2m31 0h2m104 0h2m-330 1h2m9 0h2m3 0h2m-2 0h2m12 0h2m4 0h2m4 0h2m6 0h2m-1 0h2m3 0h2m-2 0h2m-2 0h2m-1 0h2m16 0h2m0 0h2m-1 0h2m0 0h2m3 0h2m6 0h2m2 0h2m3 0h2m9 0h2m-2 0h2m-1 0h2m0 0h2m4 0h2m76 0h2m-280 1h2m49 0h2m29 0h2m1 0h2m10 0h2m5 0h2m1 0h2m2 0h2m1 0h2m-1 0h2m-2 0h2m0 0h2m3 0h2m8 0h2m-1 0h2m0 0h2m2 0h2m2 0h2m5 0h2m-1 0h2m6 0h2m2 0h2m10 0h2m5 0h2m-2 0h2m0 0h2m-1 0h2m5 0h2m11 0h2m3 0h2m17 0h2m5 0h2m0 0h2m140 0h2m-296 1h2m14 0h2m0 0h2m16 0h2m-2 0h2m-1 0h2m-2 0h2m-2 0h2m6 0h2m2 0h2m0 0h2m0 0h2m0 0h2m0 0h2m1 0h2m-2 0h2m0 0h2m2 0h2m6 0h2m2 0h2m-1 0h2m-2 0h2m4 0h2m1 0h2m0 0h2m6 0h2m-1 0h2m0 0h2m-1 0h2m0 0h2m9 0h2m38 0h2m0 0h2m15 0h2m6 0h2m0 0h2m91 0h2m29 0h2m7 0h2m-334 1h2m-2 0h2m3 0h2m0 0h2m20 0h2m19 0h2m0 0h2m-1 0h2m-2 0h2m0 0h2m-1 0h2m-1 0h2m-1 0h2m1 0h2m0 0h2m-2 0h2m0 0h2m0 0h2m-2 0h2m0 0h2m-1 0h2m-1 0h2m-1 0h2m0 0h2m1 0h2m9 0h2m-1 0h2m5 0h2m-1 0h2m-1 0h2m-1 0h2m0 0h2m0 0h2m-1 0h2m0 0h2m-2 0h2m0 0h2m0 0h2m-2 0h2m-1 0h2m5 0h2m6 0h2m3 0h2m-2 0h2m-1 0h2m11 0h2m22 0h2m53 0h2m15 0h2m24 0h2m-315 1h2m15 0h2m10 0h2m12 0h2m2 0h2m0 0h2m1 0h2m19 0h2m-1 0h2m10 0h2m0 0h2m2 0h2m4 0h2m-1 0h2m-1 0h2m1 0h2m-1 0h2m0 0h2m0 0h2m-1 0h2m6 0h2m3 0h2m1 0h2m2 0h2m5 0h2m2 0h2m0 0h2m3 0h2m5 0h2m0 0h2m5 0h2m1 0h2m1 0h2m15 0h2m7 0h2m2 0h2m7 0h2m89 0h2m2 0h2m9 0h2m-294 1h2m1 0h2m27 0h2m0 0h2m1 0h2m2 0h2m4 0h2m2 0h2m11 0h2m-2 0h2m2 0h2m2 0h2m1 0h2m-2 0h2m-1 0h2m9 0h2m3 0h2m-1 0h2m5 0h2m2 0h2m-2 0h2m-1 0h2m4 0h2m1 0h2m-1 0h2m-1 0h2m0 0h2m-1 0h2m1 0h2m0 0h2m1 0h2m0 0h2m2 0h2m4 0h2m17 0h2m3 0h2m-1 0h2m2 0h2m0 0h2m9 0h2m13 0h2m19 0h2m31 0h2m-264 1h2m30 0h2m19 0h2m4 0h2m4 0h2m3 0h2m-1 0h2m13 0h2m-1 0h2m-1 0h2m-1 0h2m0 0h2m7 0h2m8 0h2m-1 0h2m6 0h2m2 0h2m-2 0h2m0 0h2m1 0h2m0 0h2m5 0h2m2 0h2m1 0h2m0 0h2m3 0h2m3 0h2m-1 0h2m-1 0h2m0 0h2m6 0h2m11 0h2m0 0h2m28 0h2m1 0h2m-238 1h2m45 0h2m2 0h2m0 0h2m24 0h2m-2 0h2m10 0h2m3 0h2m4 0h2m0 0h2m3 0h2m-1 0h2m-2 0h2m2 0h2m1 0h2m-1 0h2m-1 0h2m9 0h2m-1 0h2m4 0h2m-1 0h2m-1 0h2m1 0h2m-1 0h2m2 0h2m-1 0h2m0 0h2m6 0h2m5 0h2m-1 0h2m2 0h2m6 0h2m-2 0h2m-1 0h2m2 0h2m-1 0h2m22 0h2m58 0h2m41 0h2m39 0h2m-321 1h2m29 0h2m1 0h2m7 0h2m4 0h2m0 0h2m-2 0h2m0 0h2m-2 0h2m5 0h2m0 0h2m-1 0h2m-2 0h2m1 0h2m5 0h2m0 0h2m-1 0h2m10 0h2m3 0h2m0 0h2m-1 0h2m1 0h2m-2 0h2m-1 0h2m1 0h2m2 0h2m1 0h2m1 0h2m0 0h2m1 0h2m1 0h2m-2 0h2m-1 0h2m-1 0h2m2 0h2m-1 0h2m5 0h2m0 0h2m-2 0h2m1 0h2m0 0h2m7 0h2m2 0h2m0 0h2m6 0h2m4 0h2m3 0h2m9 0h2m9 0h2m54 0h2m23 0h2m18 0h2m-302 1h2m31 0h2m4 0h2m0 0h2m11 0h2m8 0h2m7 0h2m0 0h2m1 0h2m-1 0h2m1 0h2m1 0h2m-1 0h2m6 0h2m-2 0h2m0 0h2m-1 0h2m1 0h2m-2 0h2m0 0h2m1 0h2m-1 0h2m1 0h2m6 0h2m-2 0h2m0 0h2m-1 0h2m12 0h2m-2 0h2m1 0h2m1 0h2m1 0h2m2 0h2m2 0h2m-2 0h2m24 0h2m-1 0h2m26 0h2m-1 0h2m3 0h2m27 0h2m-244 1h2m15 0h2m7 0h2m12 0h2m10 0h2m2 0h2m-1 0h2m-2 0h2m1 0h2m14 0h2m11 0h2m7 0h2m-2 0h2m-1 0h2m-2 0h2m-1 0h2m-2 0h2m-1 0h2m3 0h2m1 0h2m1 0h2m-1 0h2m-2 0h2m4 0h2m-1 0h2m-1 0h2m11 0h2m-2 0h2m0 0h2m1 0h2m-2 0h2m2 0h2m0 0h2m6 0h2m0 0h2m5 0h2m2 0h2m4 0h2m-1 0h2m6 0h2m2 0h2m1 0h2m2 0h2m42 0h2m11 0h2m52 0h2m-314 1h2m24 0h2m16 0h2m0 0h2m9 0h2m-1 0h2m0 0h2m5 0h2m1 0h2m-2 0h2m2 0h2m-2 0h2m-1 0h2m5 0h2m-1 0h2m0 0h2m0 0h2m3 0h2m0 0h2m3 0h2m7 0h2m3 0h2m1 0h2m4 0h2m1 0h2m-1 0h2m-1 0h2m5 0h2m3 0h2m-1 0h2m0 0h2m1 0h2m3 0h2m2 0h2m27 0h2m34 0h2m4 0h2m114 0h2m-408 1h2m66 0h2m29 0h2m26 0h2m1 0h2m2 0h2m4 0h2m-1 0h2m2 0h2m10 0h2m2 0h2m-2 0h2m6 0h2m0 0h2m0 0h2m1 0h2m-2 0h2m0 0h2m1 0h2m-1 0h2m0 0h2m3 0h2m8 0h2m3 0h2m-1 0h2m-2 0h2m10 0h2m-1 0h2m1 0h2m7 0h2m9 0h2m31 0h2m15 0h2m14 0h2m-213 1h2m9 0h2m1 0h2m9 0h2m0 0h2m2 0h2m13 0h2m-2 0h2m0 0h2m0 0h2m-1 0h2m3 0h2m-1 0h2m-1 0h2m4 0h2m4 0h2m-1 0h2m-1 0h2m-2 0h2m0 0h2m0 0h2m0 0h2m4 0h2m-2 0h2m-1 0h2m0 0h2m4 0h2m0 0h2m2 0h2m-1 0h2m5 0h2m0 0h2m7 0h2m-1 0h2m1 0h2m-1 0h2m-2 0h2m-1 0h2m1 0h2m-1 0h2m0 0h2m3 0h2m27 0h2m7 0h2m25 0h2m28 0h2m-261 1h2m24 0h2m13 0h2m0 0h2m-1 0h2m5 0h2m0 0h2m-1 0h2m2 0h2m0 0h2m8 0h2m-1 0h2m14 0h2m0 0h2m3 0h2m-1 0h2m0 0h2m-2 0h2m-1 0h2m3 0h2m-1 0h2m-2 0h2m1 0h2m4 0h2m4 0h2m-1 0h2m-1 0h2m2 0h2m0 0h2m-2 0h2m8 0h2m4 0h2m-1 0h2m1 0h2m-2 0h2m-2 0h2m-1 0h2m0 0h2m0 0h2m2 0h2m-1 0h2m45 0h2m13 0h2m2 0h2m3 0h2m38 0h2m12 0h2m26 0h2m-281 1h2m8 0h2m0 0h2m18 0h2m3 0h2m-1 0h2m-1 0h2m-2 0h2m0 0h2m5 0h2m1 0h2m6 0h2m9 0h2m-1 0h2m-2 0h2m6 0h2m-2 0h2m-2 0h2m4 0h2m0 0h2m2 0h2m12 0h2m-2 0h2m5 0h2m-1 0h2m2 0h2m0 0h2m-2 0h2m-1 0h2m0 0h2m2 0h2m3 0h2m1 0h2m2 0h2m1 0h2m-1 0h2m-1 0h2m8 0h2m2 0h2m61 0h2m-223 1h2m2 0h2m3 0h2m-1 0h2m3 0h2m-1 0h2m0 0h2m-1 0h2m0 0h2m1 0h2m4 0h2m-1 0h2m1 0h2m2 0h2m6 0h2m-1 0h2m-1 0h2m0 0h2m-1 0h2m1 0h2m3 0h2m-2 0h2m1 0h2m-1 0h2m2 0h2m-1 0h2m0 0h2m-1 0h2m-1 0h2m5 0h2m-2 0h2m-1 0h2m8 0h2m0 0h2m3 0h2m1 0h2m0 0h2m-2 0h2m2 0h2m14 0h2m-2 0h2m0 0h2m-1 0h2m10 0h2m7 0h2m-2 0h2m2 0h2m21 0h2m4 0h2m4 0h2m4 0h2m59 0h2m65 0h2m-340 1h2m29 0h2m-1 0h2m5 0h2m1 0h2m-1 0h2m6 0h2m0 0h2m0 0h2m-1 0h2m0 0h2m1 0h2m-1 0h2m-1 0h2m0 0h2m6 0h2m-2 0h2m-1 0h2m0 0h2m3 0h2m3 0h2m-2 0h2m-1 0h2m5 0h2m2 0h2m3 0h2m0 0h2m0 0h2m0 0h2m4 0h2m0 0h2m-2 0h2m7 0h2m3 0h2m-1 0h2m7 0h2m19 0h2m-1 0h2m-2 0h2m8 0h2m6 0h2m24 0h2m9 0h2m21 0h2m29 0h2m6 0h2m1 0h2m5 0h2m-287 1h2m10 0h2m11 0h2m-2 0h2m2 0h2m6 0h2m-2 0h2m6 0h2m0 0h2m0 0h2m4 0h2m2 0h2m0 0h2m0 0h2m4 0h2m2 0h2m-2 0h2m6 0h2m1 0h2m-2 0h2m-1 0h2m7 0h2m-1 0h2m-1 0h2m-1 0h2m-1 0h2m-1 0h2m1 0h2m0 0h2m-1 0h2m1 0h2m1 0h2m-2 0h2m-2 0h2m-1 0h2m-2 0h2m2 0h2m4 0h2m0 0h2m4 0h2m0 0h2m14 0h2m4 0h2m36 0h2m29 0h2m30 0h2m17 0h2m6 0h2m17 0h2m8 0h2m3 0h2m5 0h2m-335 1h2m12 0h2m8 0h2m11 0h2m6 0h2m-1 0h2m9 0h2m0 0h2m4 0h2m0 0h2m-2 0h2m-2 0h2m4 0h2m-2 0h2m1 0h2m9 0h2m-2 0h2m1 0h2m2 0h2m2 0h2m7 0h2m-1 0h2m-1 0h2m-1 0h2m-1 0h2m0 0h2m0 0h2m-1 0h2m-1 0h2m0 0h2m0 0h2m-1 0h2m-1 0h2m-1 0h2m13 0h2m1 0h2m0 0h2m-2 0h2m3 0h2m33 0h2m0 0h2m42 0h2m35 0h2m44 0h2m48 0h2m-352 1h2m7 0h2m16 0h2m0 0h2m5 0h2m4 0h2m0 0h2m0 0h2m0 0h2m2 0h2m1 0h2m-1 0h2m11 0h2m2 0h2m-1 0h2m-2 0h2m8 0h2m5 0h2m-2 0h2m0 0h2m-1 0h2m1 0h2m-2 0h2m-1 0h2m0 0h2m0 0h2m0 0h2m-1 0h2m0 0h2m-1 0h2m-1 0h2m-1 0h2m7 0h2m-2 0h2m-1 0h2m3 0h2m1 0h2m2 0h2m13 0h2m7 0h2m-2 0h2m2 0h2m6 0h2m10 0h2m91 0h2m40 0h2m40 0h2m-374 1h2m36 0h2m-1 0h2m4 0h2m1 0h2m6 0h2m4 0h2m3 0h2m0 0h2m2 0h2m-1 0h2m2 0h2m0 0h2m-2 0h2m0 0h2m1 0h2m1 0h2m-1 0h2m-1 0h2m-1 0h2m-2 0h2m0 0h2m3 0h2m-1 0h2m0 0h2m-2 0h2m2 0h2m-1 0h2m6 0h2m7 0h2m11 0h2m0 0h2m0 0h2m4 0h2m-1 0h2m-1 0h2m8 0h2m17 0h2m3 0h2m3 0h2m11 0h2m26 0h2m-286 1h2m86 0h2m4 0h2m6 0h2m15 0h2m2 0h2m-1 0h2m2 0h2m8 0h2m-1 0h2m8 0h2m-1 0h2m-1 0h2m-1 0h2m1 0h2m0 0h2m-2 0h2m1 0h2m4 0h2m-1 0h2m-2 0h2m6 0h2m3 0h2m-1 0h2m3 0h2m-1 0h2m7 0h2m26 0h2m-1 0h2m17 0h2m100 0h2m63 0h2m12 0h2m-368 1h2m14 0h2m12 0h2m14 0h2m-1 0h2m-1 0h2m0 0h2m20 0h2m0 0h2m1 0h2m-1 0h2m2 0h2m6 0h2m-2 0h2m0 0h2m2 0h2m4 0h2m1 0h2m-1 0h2m0 0h2m-2 0h2m-1 0h2m-2 0h2m1 0h2m0 0h2m0 0h2m3 0h2m0 0h2m13 0h2m3 0h2m2 0h2m-2 0h2m3 0h2m1 0h2m-1 0h2m15 0h2m3 0h2m21 0h2m72 0h2m-290 1h2m9 0h2m38 0h2m0 0h2m14 0h2m12 0h2m1 0h2m1 0h2m3 0h2m3 0h2m-1 0h2m0 0h2m0 0h2m-2 0h2m0 0h2m1 0h2m2 0h2m0 0h2m-1 0h2m1 0h2m0 0h2m1 0h2m-2 0h2m2 0h2m5 0h2m3 0h2m2 0h2m0 0h2m8 0h2m12 0h2m-1 0h2m3 0h2m-2 0h2m47 0h2m43 0h2m44 0h2m63 0h2m-363 1h2m10 0h2m7 0h2m12 0h2m1 0h2m0 0h2m1 0h2m18 0h2m1 0h2m-2 0h2m6 0h2m-2 0h2m1 0h2m-2 0h2m-2 0h2m-2 0h2m0 0h2m8 0h2m5 0h2m-2 0h2m-1 0h2m0 0h2m4 0h2m3 0h2m0 0h2m-2 0h2m3 0h2m-1 0h2m0 0h2m-1 0h2m2 0h2m2 0h2m0 0h2m3 0h2m1 0h2m-1 0h2m0 0h2m35 0h2m-1 0h2m161 0h2m-419 1h2m105 0h2m11 0h2m1 0h2m0 0h2m6 0h2m2 0h2m1 0h2m-1 0h2m0 0h2m-2 0h2m-1 0h2m-1 0h2m2 0h2m2 0h2m4 0h2m-2 0h2m-1 0h2m1 0h2m-1 0h2m0 0h2m0 0h2m-1 0h2m1 0h2m-2 0h2m-1 0h2m-2 0h2m9 0h2m0 0h2m-2 0h2m10 0h2m5 0h2m4 0h2m3 0h2m-1 0h2m0 0h2m-2 0h2m7 0h2m1 0h2m7 0h2m11 0h2m1 0h2m0 0h2m0 0h2m84 0h2m-281 1h2m2 0h2m4 0h2m13 0h2m7 0h2m4 0h2m4 0h2m-1 0h2m5 0h2m2 0h2m1 0h2m-1 0h2m2 0h2m0 0h2m-1 0h2m0 0h2m-2 0h2m1 0h2m-1 0h2m-2 0h2m1 0h2m1 0h2m-1 0h2m-1 0h2m0 0h2m-1 0h2m1 0h2m-2 0h2m4 0h2m1 0h2m3 0h2m2 0h2m-1 0h2m4 0h2m0 0h2m7 0h2m-2 0h2m3 0h2m2 0h2m3 0h2m8 0h2m8 0h2m1 0h2m22 0h2m3 0h2m11 0h2m36 0h2m36 0h2m-279 1h2m13 0h2m3 0h2m5 0h2m6 0h2m3 0h2m8 0h2m-1 0h2m1 0h2m3 0h2m0 0h2m0 0h2m0 0h2m5 0h2m0 0h2m0 0h2m0 0h2m2 0h2m-1 0h2m2 0h2m0 0h2m-1 0h2m-1 0h2m-2 0h2m-2 0h2m1 0h2m-1 0h2m13 0h2m1 0h2m10 0h2m9 0h2m5 0h2m6 0h2m-1 0h2m2 0h2m1 0h2m6 0h2m7 0h2m28 0h2m21 0h2m27 0h2m90 0h2m-417 1h2m2 0h2m50 0h2m5 0h2m10 0h2m7 0h2m4 0h2m3 0h2m10 0h2m6 0h2m6 0h2m1 0h2m-2 0h2m-1 0h2m-1 0h2m4 0h2m1 0h2m4 0h2m4 0h2m-2 0h2m2 0h2m-2 0h2m2 0h2m0 0h2m6 0h2m-2 0h2m0 0h2m19 0h2m7 0h2m1 0h2m1 0h2m-1 0h2m1 0h2m-1 0h2m2 0h2m21 0h2m3 0h2m13 0h2m5 0h2m6 0h2m20 0h2m138 0h2m25 0h2m-408 1h2m19 0h2m12 0h2m12 0h2m-1 0h2m6 0h2m0 0h2m3 0h2m9 0h2m-2 0h2m2 0h2m5 0h2m-1 0h2m3 0h2m3 0h2m8 0h2m-2 0h2m-1 0h2m4 0h2m1 0h2m-2 0h2m-1 0h2m10 0h2m-1 0h2m3 0h2m4 0h2m3 0h2m1 0h2m1 0h2m1 0h2m-1 0h2m9 0h2m-1 0h2m9 0h2m26 0h2m50 0h2m12 0h2m34 0h2m-299 1h2m14 0h2m2 0h2m6 0h2m-1 0h2m12 0h2m2 0h2m-2 0h2m1 0h2m-2 0h2m1 0h2m3 0h2m0 0h2m0 0h2m0 0h2m2 0h2m-1 0h2m2 0h2m-1 0h2m1 0h2m1 0h2m3 0h2m0 0h2m1 0h2m-2 0h2m1 0h2m-2 0h2m6 0h2m-2 0h2m-1 0h2m2 0h2m3 0h2m-2 0h2m-2 0h2m15 0h2m8 0h2m3 0h2m5 0h2m8 0h2m-2 0h2m3 0h2m-2 0h2m0 0h2m3 0h2m0 0h2m-2 0h2m5 0h2m14 0h2m15 0h2m41 0h2m22 0h2m21 0h2m-323 1h2m25 0h2m10 0h2m0 0h2m0 0h2m2 0h2m6 0h2m10 0h2m-1 0h2m0 0h2m0 0h2m-1 0h2m0 0h2m0 0h2m5 0h2m1 0h2m7 0h2m-1 0h2m5 0h2m-2 0h2m-2 0h2m8 0h2m0 0h2m2 0h2m0 0h2m2 0h2m-2 0h2m4 0h2m6 0h2m3 0h2m0 0h2m-1 0h2m3 0h2m20 0h2m23 0h2m35 0h2m-1 0h2m26 0h2m7 0h2m-2 0h2m23 0h2m9 0h2m-378 1h2m117 0h2m-1 0h2m-2 0h2m1 0h2m4 0h2m-1 0h2m6 0h2m-2 0h2m4 0h2m-1 0h2m8 0h2m-2 0h2m1 0h2m0 0h2m4 0h2m-1 0h2m7 0h2m-1 0h2m1 0h2m0 0h2m-1 0h2m-2 0h2m9 0h2m-1 0h2m-1 0h2m5 0h2m-2 0h2m-1 0h2m0 0h2m2 0h2m-1 0h2m-2 0h2m-2 0h2m-1 0h2m1 0h2m17 0h2m12 0h2m5 0h2m18 0h2m24 0h2m-205 1h2m0 0h2m1 0h2m2 0h2m17 0h2m0 0h2m3 0h2m6 0h2m1 0h2m0 0h2m8 0h2m-1 0h2m4 0h2m-2 0h2m1 0h2m1 0h2m0 0h2m-2 0h2m-2 0h2m1 0h2m1 0h2m0 0h2m-2 0h2m1 0h2m-1 0h2m-2 0h2m0 0h2m-2 0h2m2 0h2m-2 0h2m-1 0h2m4 0h2m-1 0h2m0 0h2m0 0h2m-2 0h2m-1 0h2m8 0h2m1 0h2m0 0h2m-2 0h2m2 0h2m1 0h2m9 0h2m4 0h2m-2 0h2m6 0h2m4 0h2m8 0h2m111 0h2m-291 1h2m2 0h2m1 0h2m13 0h2m0 0h2m6 0h2m-1 0h2m1 0h2m-1 0h2m5 0h2m-1 0h2m0 0h2m0 0h2m-2 0h2m5 0h2m5 0h2m-2 0h2m1 0h2m-1 0h2m1 0h2m-1 0h2m0 0h2m5 0h2m-1 0h2m4 0h2m0 0h2m0 0h2m1 0h2m-1 0h2m-2 0h2m-1 0h2m-2 0h2m-2 0h2m-1 0h2m2 0h2m0 0h2m-2 0h2m-1 0h2m3 0h2m-1 0h2m9 0h2m3 0h2m1 0h2m4 0h2m9 0h2m7 0h2m0 0h2m9 0h2m6 0h2m-1 0h2m155 0h2m-342 1h2m3 0h2m13 0h2m2 0h2m-1 0h2m4 0h2m1 0h2m-1 0h2m1 0h2m-1 0h2m1 0h2m4 0h2m0 0h2m-1 0h2m4 0h2m-1 0h2m-2 0h2m2 0h2m-2 0h2m-1 0h2m-1 0h2m2 0h2m-1 0h2m-1 0h2m1 0h2m5 0h2m6 0h2m-1 0h2m0 0h2m2 0h2m0 0h2m8 0h2m1 0h2m-2 0h2m-1 0h2m3 0h2m0 0h2m0 0h2m-2 0h2m6 0h2m-2 0h2m-1 0h2m0 0h2m-2 0h2m-1 0h2m0 0h2m0 0h2m-1 0h2m7 0h2m1 0h2m1 0h2m2 0h2m-2 0h2m2 0h2m16 0h2m6 0h2m67 0h2m-249 1h2m5 0h2m1 0h2m11 0h2m0 0h2m1 0h2m6 0h2m1 0h2m0 0h2m9 0h2m-1 0h2m-1 0h2m10 0h2m1 0h2m-1 0h2m0 0h2m-1 0h2m-2 0h2m3 0h2m1 0h2m-1 0h2m0 0h2m0 0h2m0 0h2m-1 0h2m3 0h2m1 0h2m-1 0h2m1 0h2m0 0h2m1 0h2m1 0h2m3 0h2m3 0h2m-1 0h2m0 0h2m0 0h2m6 0h2m-141 1h2m4 0h2m-1 0h2m2 0h2m2 0h2m5 0h2m0 0h2m4 0h2m4 0h2m9 0h2m1 0h2m2 0h2m0 0h2m0 0h2m5 0h2m-1 0h2m1 0h2m-2 0h2m0 0h2m1 0h2m-1 0h2m0 0h2m0 0h2m-1 0h2m-2 0h2m-2 0h2m10 0h2m-2 0h2m0 0h2m-1 0h2m-1 0h2m0 0h2m5 0h2m3 0h2m-2 0h2m2 0h2m-1 0h2m0 0h2m1 0h2m-2 0h2m1 0h2m-2 0h2m0 0h2m1 0h2m3 0h2m-1 0h2m1 0h2m9 0h2m25 0h2m-1 0h2m22 0h2m5 0h2m29 0h2m-242 1h2m8 0h2m6 0h2m4 0h2m0 0h2m3 0h2m5 0h2m3 0h2m4 0h2m6 0h2m-2 0h2m3 0h2m-1 0h2m0 0h2m-2 0h2m-1 0h2m4 0h2m-1 0h2m-2 0h2m1 0h2m2 0h2m7 0h2m3 0h2m-1 0h2m-1 0h2m-2 0h2m-1 0h2m2 0h2m-1 0h2m1 0h2m-1 0h2m0 0h2m-1 0h2m-1 0h2m-1 0h2m2 0h2m-1 0h2m1 0h2m0 0h2m1 0h2m6 0h2m-2 0h2m3 0h2m18 0h2m16 0h2m22 0h2m43 0h2m-249 1h2m14 0h2m14 0h2m-1 0h2m-2 0h2m7 0h2m5 0h2m1 0h2m-2 0h2m2 0h2m9 0h2m-2 0h2m4 0h2m5 0h2m-2 0h2m-1 0h2m3 0h2m-1 0h2m-1 0h2m-1 0h2m0 0h2m2 0h2m-2 0h2m2 0h2m-2 0h2m1 0h2m1 0h2m-1 0h2m0 0h2m0 0h2m7 0h2m0 0h2m0 0h2m4 0h2m-2 0h2m-2 0h2m2 0h2m3 0h2m6 0h2m2 0h2m10 0h2m3 0h2m17 0h2m74 0h2m42 0h2m-348 1h2m45 0h2m12 0h2m3 0h2m2 0h2m3 0h2m-1 0h2m-2 0h2m0 0h2m6 0h2m-1 0h2m0 0h2m7 0h2m-1 0h2m1 0h2m-1 0h2m1 0h2m-1 0h2m6 0h2m-2 0h2m0 0h2m-1 0h2m6 0h2m1 0h2m0 0h2m6 0h2m-1 0h2m-1 0h2m3 0h2m1 0h2m-2 0h2m2 0h2m1 0h2m5 0h2m4 0h2m0 0h2m3 0h2m5 0h2m-1 0h2m10 0h2m-2 0h2m1 0h2m0 0h2m13 0h2m2 0h2m-174 1h2m7 0h2m3 0h2m10 0h2m1 0h2m-1 0h2m2 0h2m1 0h2m0 0h2m3 0h2m-1 0h2m1 0h2m3 0h2m0 0h2m3 0h2m1 0h2m1 0h2m-1 0h2m1 0h2m0 0h2m0 0h2m2 0h2m4 0h2m3 0h2m0 0h2m2 0h2m-1 0h2m10 0h2m-1 0h2m1 0h2m1 0h2m4 0h2m0 0h2m2 0h2m-1 0h2m5 0h2m11 0h2m75 0h2m-220 1h2m0 0h2m0 0h2m1 0h2m-1 0h2m3 0h2m4 0h2m-2 0h2m3 0h2m0 0h2m2 0h2m1 0h2m7 0h2m0 0h2m1 0h2m-1 0h2m-1 0h2m6 0h2m-1 0h2m-2 0h2m3 0h2m3 0h2m0 0h2m5 0h2m-1 0h2m7 0h2m-1 0h2m-2 0h2m0 0h2m0 0h2m-1 0h2m-1 0h2m0 0h2m-2 0h2m-1 0h2m1 0h2m5 0h2m-1 0h2m0 0h2m1 0h2m1 0h2m1 0h2m0 0h2m-2 0h2m8 0h2m8 0h2m32 0h2m2 0h2m0 0h2m7 0h2m-1 0h2m1 0h2m24 0h2m130 0h2m-382 1h2m36 0h2m1 0h2m2 0h2m1 0h2m-1 0h2m5 0h2m6 0h2m1 0h2m0 0h2m5 0h2m-2 0h2m-1 0h2m7 0h2m6 0h2m-2 0h2m-1 0h2m2 0h2m-2 0h2m-1 0h2m-2 0h2m-1 0h2m0 0h2m0 0h2m-1 0h2m-1 0h2m1 0h2m3 0h2m-1 0h2m-2 0h2m-1 0h2m-2 0h2m-1 0h2m1 0h2m-2 0h2m1 0h2m-2 0h2m1 0h2m-1 0h2m-2 0h2m9 0h2m1 0h2m7 0h2m0 0h2m2 0h2m1 0h2m-1 0h2m1 0h2m17 0h2m62 0h2m12 0h2m-246 1h2m2 0h2m2 0h2m9 0h2m3 0h2m-2 0h2m4 0h2m4 0h2m4 0h2m11 0h2m2 0h2m-2 0h2m1 0h2m-1 0h2m-1 0h2m0 0h2m1 0h2m0 0h2m-1 0h2m2 0h2m0 0h2m1 0h2m3 0h2m-1 0h2m-2 0h2m3 0h2m-1 0h2m0 0h2m0 0h2m0 0h2m-1 0h2m0 0h2m0 0h2m0 0h2m-2 0h2m0 0h2m-1 0h2m2 0h2m-1 0h2m-1 0h2m1 0h2m3 0h2m-1 0h2m-2 0h2m-1 0h2m-2 0h2m5 0h2m-1 0h2m-1 0h2m-2 0h2m0 0h2m7 0h2m7 0h2m6 0h2m-1 0h2m27 0h2m10 0h2m-193 1h2m-2 0h2m-1 0h2m3 0h2m9 0h2m0 0h2m1 0h2m-1 0h2m1 0h2m7 0h2m-2 0h2m0 0h2m1 0h2m0 0h2m18 0h2m-1 0h2m-2 0h2m7 0h2m2 0h2m4 0h2m2 0h2m-2 0h2m-1 0h2m-2 0h2m1 0h2m0 0h2m-1 0h2m-2 0h2m-1 0h2m-2 0h2m-1 0h2m1 0h2m4 0h2m0 0h2m2 0h2m2 0h2m6 0h2m2 0h2m1 0h2m-1 0h2m3 0h2m1 0h2m4 0h2m9 0h2m37 0h2m0 0h2m1 0h2m23 0h2m-226 1h2m1 0h2m-1 0h2m0 0h2m6 0h2m0 0h2m-1 0h2m-1 0h2m-1 0h2m0 0h2m-2 0h2m2 0h2m2 0h2m1 0h2m3 0h2m1 0h2m8 0h2m2 0h2m-2 0h2m5 0h2m2 0h2m1 0h2m0 0h2m0 0h2m0 0h2m-1 0h2m-2 0h2m7 0h2m-2 0h2m-2 0h2m0 0h2m2 0h2m-2 0h2m-1 0h2m-2 0h2m1 0h2m2 0h2m-1 0h2m-1 0h2m-1 0h2m0 0h2m2 0h2m1 0h2m-2 0h2m2 0h2m10 0h2m10 0h2m0 0h2m9 0h2m32 0h2m116 0h2m-322 1h2m14 0h2m2 0h2m5 0h2m2 0h2m2 0h2m-2 0h2m0 0h2m0 0h2m8 0h2m-2 0h2m1 0h2m-2 0h2m-2 0h2m-1 0h2m13 0h2m-1 0h2m6 0h2m3 0h2m-1 0h2m6 0h2m5 0h2m-1 0h2m-2 0h2m5 0h2m3 0h2m-1 0h2m-1 0h2m0 0h2m0 0h2m0 0h2m10 0h2m0 0h2m1 0h2m0 0h2m36 0h2m46 0h2m2 0h2m27 0h2m-264 1h2m37 0h2m-2 0h2m6 0h2m1 0h2m3 0h2m-1 0h2m10 0h2m0 0h2m1 0h2m-1 0h2m0 0h2m3 0h2m-1 0h2m-2 0h2m-2 0h2m1 0h2m0 0h2m0 0h2m5 0h2m1 0h2m2 0h2m1 0h2m-1 0h2m7 0h2m3 0h2m2 0h2m1 0h2m1 0h2m2 0h2m0 0h2m1 0h2m3 0h2m2 0h2m0 0h2m-1 0h2m6 0h2m-1 0h2m13 0h2m3 0h2m14 0h2m28 0h2m-214 1h2m10 0h2m9 0h2m-1 0h2m3 0h2m1 0h2m4 0h2m-2 0h2m0 0h2m1 0h2m6 0h2m-2 0h2m-1 0h2m2 0h2m5 0h2m1 0h2m3 0h2m0 0h2m-1 0h2m-1 0h2m-2 0h2m-1 0h2m5 0h2m3 0h2m-1 0h2m0 0h2m8 0h2m1 0h2m-2 0h2m0 0h2m-1 0h2m-1 0h2m0 0h2m3 0h2m-1 0h2m2 0h2m0 0h2m0 0h2m4 0h2m4 0h2m0 0h2m-2 0h2m15 0h2m6 0h2m14 0h2m25 0h2m-217 1h2m14 0h2m-2 0h2m27 0h2m1 0h2m5 0h2m0 0h2m-1 0h2m3 0h2m3 0h2m-2 0h2m4 0h2m0 0h2m0 0h2m-2 0h2m0 0h2m0 0h2m-1 0h2m8 0h2m-1 0h2m-1 0h2m0 0h2m-2 0h2m-2 0h2m1 0h2m-2 0h2m3 0h2m1 0h2m4 0h2m0 0h2m-1 0h2m5 0h2m-2 0h2m-1 0h2m4 0h2m4 0h2m0 0h2m19 0h2m-1 0h2m9 0h2m4 0h2m13 0h2m9 0h2m4 0h2m4 0h2m29 0h2m-285 1h2m51 0h2m13 0h2m5 0h2m-2 0h2m0 0h2m-1 0h2m-1 0h2m-2 0h2m-1 0h2m1 0h2m-1 0h2m0 0h2m-1 0h2m2 0h2m1 0h2m-2 0h2m2 0h2m-2 0h2m6 0h2m-1 0h2m-1 0h2m-1 0h2m2 0h2m-1 0h2m0 0h2m0 0h2m-1 0h2m7 0h2m5 0h2m0 0h2m0 0h2m3 0h2m-2 0h2m-1 0h2m0 0h2m0 0h2m0 0h2m-1 0h2m-2 0h2m1 0h2m-2 0h2m4 0h2m17 0h2m2 0h2m0 0h2m3 0h2m5 0h2m2 0h2m17 0h2m18 0h2m41 0h2m-241 1h2m4 0h2m2 0h2m13 0h2m5 0h2m8 0h2m0 0h2m2 0h2m4 0h2m0 0h2m0 0h2m-1 0h2m-1 0h2m-2 0h2m-1 0h2m-2 0h2m3 0h2m2 0h2m0 0h2m8 0h2m2 0h2m3 0h2m-1 0h2m1 0h2m-2 0h2m8 0h2m6 0h2m3 0h2m5 0h2m-1 0h2m3 0h2m-2 0h2m-1 0h2m0 0h2m3 0h2m2 0h2m2 0h2m5 0h2m22 0h2m0 0h2m8 0h2m28 0h2m12 0h2m-231 1h2m12 0h2m-1 0h2m14 0h2m2 0h2m-1 0h2m-1 0h2m7 0h2m-1 0h2m0 0h2m2 0h2m0 0h2m6 0h2m8 0h2m0 0h2m-1 0h2m3 0h2m1 0h2m0 0h2m2 0h2m0 0h2m0 0h2m2 0h2m-2 0h2m12 0h2m4 0h2m5 0h2m-1 0h2m0 0h2m-2 0h2m1 0h2m5 0h2m4 0h2m-2 0h2m-2 0h2m103 0h2m-289 1h2m14 0h2m-1 0h2m3 0h2m0 0h2m23 0h2m-2 0h2m10 0h2m8 0h2m2 0h2m-1 0h2m3 0h2m-2 0h2m0 0h2m-1 0h2m3 0h2m4 0h2m5 0h2m5 0h2m7 0h2m1 0h2m-1 0h2m-2 0h2m5 0h2m-2 0h2m3 0h2m0 0h2m-2 0h2m-1 0h2m2 0h2m-2 0h2m4 0h2m0 0h2m-1 0h2m8 0h2m5 0h2m7 0h2m1 0h2m22 0h2m134 0h2m28 0h2m-337 1h2m11 0h2m19 0h2m-1 0h2m-2 0h2m8 0h2m4 0h2m2 0h2m-1 0h2m-1 0h2m0 0h2m-1 0h2m-1 0h2m-2 0h2m2 0h2m-1 0h2m6 0h2m2 0h2m1 0h2m-2 0h2m-2 0h2m-2 0h2m5 0h2m3 0h2m9 0h2m9 0h2m1 0h2m1 0h2m8 0h2m6 0h2m0 0h2m14 0h2m20 0h2m195 0h2m-401 1h2m7 0h2m1 0h2m12 0h2m3 0h2m11 0h2m0 0h2m4 0h2m-2 0h2m-1 0h2m2 0h2m-1 0h2m1 0h2m-1 0h2m-2 0h2m7 0h2m-1 0h2m3 0h2m-1 0h2m-1 0h2m-1 0h2m2 0h2m-2 0h2m-1 0h2m3 0h2m1 0h2m1 0h2m-2 0h2m-1 0h2m-1 0h2m1 0h2m-2 0h2m3 0h2m-1 0h2m0 0h2m0 0h2m-2 0h2m-1 0h2m-1 0h2m8 0h2m0 0h2m-2 0h2m8 0h2m12 0h2m1 0h2m-2 0h2m1 0h2m-1 0h2m3 0h2m-2 0h2m0 0h2m9 0h2m3 0h2m10 0h2m116 0h2m-306 1h2m5 0h2m19 0h2m-1 0h2m13 0h2m6 0h2m-2 0h2m2 0h2m3 0h2m-1 0h2m7 0h2m-1 0h2m1 0h2m1 0h2m12 0h2m4 0h2m-1 0h2m-2 0h2m-2 0h2m-1 0h2m3 0h2m-2 0h2m-2 0h2m3 0h2m13 0h2m-1 0h2m-1 0h2m-1 0h2m-2 0h2m9 0h2m3 0h2m0 0h2m2 0h2m2 0h2m8 0h2m-1 0h2m7 0h2m21 0h2m-2 0h2m-2 0h2m33 0h2m64 0h2m-293 1h2m6 0h2m-2 0h2m2 0h2m7 0h2m12 0h2m3 0h2m14 0h2m0 0h2m3 0h2m2 0h2m-1 0h2m1 0h2m-1 0h2m3 0h2m1 0h2m7 0h2m1 0h2m0 0h2m-1 0h2m-1 0h2m-1 0h2m-1 0h2m-2 0h2m0 0h2m19 0h2m-1 0h2m2 0h2m2 0h2m5 0h2m20 0h2m-182 1h2m22 0h2m-1 0h2m1 0h2m3 0h2m8 0h2m1 0h2m19 0h2m-1 0h2m-1 0h2m-2 0h2m2 0h2m8 0h2m2 0h2m1 0h2m0 0h2m8 0h2m0 0h2m-1 0h2m-1 0h2m-2 0h2m1 0h2m3 0h2m-1 0h2m-1 0h2m0 0h2m-1 0h2m0 0h2m2 0h2m0 0h2m-2 0h2m3 0h2m-2 0h2m-1 0h2m-1 0h2m4 0h2m0 0h2m-2 0h2m0 0h2m-2 0h2m2 0h2m0 0h2m5 0h2m3 0h2m-1 0h2m-1 0h2m2 0h2m-2 0h2m5 0h2m3 0h2m4 0h2m24 0h2m-2 0h2m14 0h2m-1 0h2m5 0h2m4 0h2m21 0h2m-277 1h2m37 0h2m9 0h2m9 0h2m0 0h2m-2 0h2m8 0h2m-2 0h2m8 0h2m2 0h2m2 0h2m-1 0h2m1 0h2m-2 0h2m4 0h2m0 0h2m-2 0h2m-2 0h2m0 0h2m-1 0h2m4 0h2m0 0h2m0 0h2m-1 0h2m0 0h2m3 0h2m-1 0h2m-2 0h2m-1 0h2m0 0h2m-1 0h2m2 0h2m1 0h2m0 0h2m0 0h2m1 0h2m-1 0h2m-2 0h2m-1 0h2m0 0h2m-1 0h2m-2 0h2m0 0h2m6 0h2m0 0h2m-2 0h2m-1 0h2m3 0h2m2 0h2m1 0h2m-1 0h2m-1 0h2m0 0h2m-1 0h2m5 0h2m-2 0h2m3 0h2m20 0h2m61 0h2m-261 1h2m8 0h2m10 0h2m22 0h2m3 0h2m8 0h2m-1 0h2m-1 0h2m-2 0h2m-1 0h2m8 0h2m1 0h2m4 0h2m-1 0h2m0 0h2m-2 0h2m1 0h2m-1 0h2m-1 0h2m-1 0h2m-1 0h2m-1 0h2m0 0h2m1 0h2m0 0h2m0 0h2m-1 0h2m-1 0h2m-2 0h2m-1 0h2m-1 0h2m-2 0h2m-1 0h2m2 0h2m-2 0h2m-2 0h2m2 0h2m2 0h2m0 0h2m1 0h2m-1 0h2m-1 0h2m-1 0h2m0 0h2m-1 0h2m0 0h2m15 0h2m-2 0h2m5 0h2m3 0h2m17 0h2m-2 0h2m24 0h2m10 0h2m47 0h2m54 0h2m-321 1h2m24 0h2m0 0h2m0 0h2m-1 0h2m8 0h2m0 0h2m2 0h2m-2 0h2m-1 0h2m2 0h2m1 0h2m2 0h2m3 0h2m0 0h2m-1 0h2m9 0h2m2 0h2m-1 0h2m4 0h2m-2 0h2m-1 0h2m0 0h2m0 0h2m-2 0h2m1 0h2m1 0h2m-2 0h2m2 0h2m3 0h2m-1 0h2m-2 0h2m0 0h2m7 0h2m7 0h2m-1 0h2m0 0h2m4 0h2m5 0h2m10 0h2m5 0h2m1 0h2m2 0h2m-2 0h2m14 0h2m99 0h2m-271 1h2m5 0h2m4 0h2m1 0h2m2 0h2m1 0h2m8 0h2m17 0h2m-2 0h2m-1 0h2m-1 0h2m-1 0h2m-1 0h2m1 0h2m-1 0h2m0 0h2m0 0h2m1 0h2m2 0h2m-1 0h2m0 0h2m-2 0h2m1 0h2m-2 0h2m-1 0h2m-2 0h2m-1 0h2m-1 0h2m-2 0h2m3 0h2m-1 0h2m0 0h2m0 0h2m-1 0h2m-2 0h2m0 0h2m4 0h2m-1 0h2m1 0h2m4 0h2m10 0h2m-1 0h2m11 0h2m5 0h2m6 0h2m25 0h2m29 0h2m27 0h2m-269 1h2m28 0h2m2 0h2m5 0h2m0 0h2m-1 0h2m2 0h2m0 0h2m15 0h2m0 0h2m-2 0h2m2 0h2m2 0h2m-2 0h2m3 0h2m2 0h2m1 0h2m-1 0h2m-1 0h2m-1 0h2m4 0h2m-2 0h2m-1 0h2m3 0h2m-1 0h2m0 0h2m-1 0h2m0 0h2m0 0h2m-2 0h2m-1 0h2m-1 0h2m4 0h2m-1 0h2m-1 0h2m-1 0h2m-1 0h2m-1 0h2m-2 0h2m0 0h2m7 0h2m-2 0h2m11 0h2m-1 0h2m4 0h2m0 0h2m0 0h2m2 0h2m4 0h2m6 0h2m3 0h2m21 0h2m55 0h2m1 0h2m22 0h2m-309 1h2m30 0h2m1 0h2m35 0h2m1 0h2m5 0h2m1 0h2m-2 0h2m-1 0h2m1 0h2m4 0h2m5 0h2m-1 0h2m3 0h2m1 0h2m-1 0h2m5 0h2m-2 0h2m0 0h2m0 0h2m4 0h2m-1 0h2m0 0h2m-1 0h2m-2 0h2m2 0h2m6 0h2m-1 0h2m-1 0h2m-2 0h2m-1 0h2m3 0h2m1 0h2m-1 0h2m2 0h2m-2 0h2m2 0h2m2 0h2m-1 0h2m5 0h2m3 0h2m9 0h2m58 0h2m107 0h2m-345 1h2m23 0h2m2 0h2m-1 0h2m4 0h2m3 0h2m3 0h2m2 0h2m8 0h2m1 0h2m-2 0h2m1 0h2m0 0h2m1 0h2m-1 0h2m4 0h2m0 0h2m1 0h2m-1 0h2m0 0h2m-1 0h2m1 0h2m-2 0h2m-2 0h2m0 0h2m6 0h2m-1 0h2m-1 0h2m-2 0h2m-1 0h2m1 0h2m1 0h2m1 0h2m1 0h2m-1 0h2m-1 0h2m1 0h2m-1 0h2m9 0h2m-1 0h2m2 0h2m8 0h2m1 0h2m4 0h2m13 0h2m0 0h2m1 0h2m5 0h2m5 0h2m0 0h2m1 0h2m1 0h2m5 0h2m11 0h2m18 0h2m-208 1h2m-1 0h2m2 0h2m0 0h2m3 0h2m2 0h2m0 0h2m0 0h2m1 0h2m6 0h2m5 0h2m13 0h2m2 0h2m-1 0h2m-1 0h2m-2 0h2m-1 0h2m-1 0h2m8 0h2m-2 0h2m2 0h2m-2 0h2m0 0h2m-2 0h2m3 0h2m9 0h2m-1 0h2m0 0h2m1 0h2m-2 0h2m-1 0h2m-2 0h2m-2 0h2m-1 0h2m3 0h2m1 0h2m-2 0h2m-1 0h2m1 0h2m10 0h2m9 0h2m21 0h2m34 0h2m-192 1h2m11 0h2m0 0h2m11 0h2m1 0h2m-2 0h2m1 0h2m1 0h2m3 0h2m2 0h2m-1 0h2m-1 0h2m-1 0h2m-1 0h2m-2 0h2m-1 0h2m1 0h2m-1 0h2m-1 0h2m-2 0h2m4 0h2m-2 0h2m-1 0h2m1 0h2m4 0h2m-1 0h2m1 0h2m-2 0h2m-1 0h2m0 0h2m6 0h2m0 0h2m0 0h2m2 0h2m-1 0h2m-2 0h2m1 0h2m2 0h2m4 0h2m2 0h2m-1 0h2m0 0h2m0 0h2m-2 0h2m3 0h2m5 0h2m-2 0h2m-1 0h2m4 0h2m0 0h2m22 0h2m82 0h2m59 0h2m-317 1h2m7 0h2m6 0h2m5 0h2m0 0h2m0 0h2m3 0h2m1 0h2m-2 0h2m-1 0h2m-2 0h2m-1 0h2m-2 0h2m-1 0h2m-2 0h2m-2 0h2m4 0h2m3 0h2m1 0h2m11 0h2m1 0h2m2 0h2m-1 0h2m5 0h2m-1 0h2m0 0h2m1 0h2m-1 0h2m2 0h2m2 0h2m-2 0h2m-1 0h2m0 0h2m-2 0h2m-1 0h2m5 0h2m2 0h2m2 0h2m2 0h2m-2 0h2m-1 0h2m16 0h2m5 0h2m-1 0h2m20 0h2m18 0h2m-1 0h2m14 0h2m3 0h2m-213 1h2m5 0h2m3 0h2m-2 0h2m8 0h2m2 0h2m4 0h2m0 0h2m9 0h2m5 0h2m0 0h2m-1 0h2m2 0h2m-1 0h2m-1 0h2m1 0h2m-1 0h2m2 0h2m-1 0h2m-2 0h2m2 0h2m-2 0h2m1 0h2m4 0h2m-1 0h2m1 0h2m4 0h2m-2 0h2m0 0h2m1 0h2m1 0h2m2 0h2m2 0h2m0 0h2m-1 0h2m-2 0h2m7 0h2m-2 0h2m6 0h2m-1 0h2m-1 0h2m-1 0h2m3 0h2m0 0h2m0 0h2m7 0h2m-2 0h2m6 0h2m4 0h2m6 0h2m2 0h2m20 0h2m89 0h2m-338 1h2m9 0h2m12 0h2m0 0h2m-1 0h2m20 0h2m7 0h2m3 0h2m2 0h2m8 0h2m6 0h2m3 0h2m2 0h2m2 0h2m5 0h2m2 0h2m1 0h2m0 0h2m-1 0h2m-2 0h2m1 0h2m-1 0h2m-2 0h2m-1 0h2m-1 0h2m0 0h2m1 0h2m0 0h2m-2 0h2m1 0h2m1 0h2m4 0h2m2 0h2m-2 0h2m0 0h2m0 0h2m10 0h2m0 0h2m-2 0h2m2 0h2m5 0h2m-2 0h2m1 0h2m-1 0h2m-1 0h2m10 0h2m9 0h2m8 0h2m12 0h2m15 0h2m-2 0h2m10 0h2m43 0h2m23 0h2m67 0h2m-413 1h2m16 0h2m35 0h2m1 0h2m21 0h2m8 0h2m-1 0h2m2 0h2m0 0h2m-1 0h2m2 0h2m-2 0h2m0 0h2m-2 0h2m4 0h2m-2 0h2m4 0h2m-2 0h2m-2 0h2m3 0h2m5 0h2m-1 0h2m10 0h2m-1 0h2m-2 0h2m2 0h2m3 0h2m0 0h2m1 0h2m-2 0h2m-1 0h2m2 0h2m1 0h2m-1 0h2m2 0h2m3 0h2m2 0h2m-1 0h2m-1 0h2m-1 0h2m19 0h2m3 0h2m8 0h2m20 0h2m29 0h2m9 0h2m-242 1h2m1 0h2m26 0h2m12 0h2m1 0h2m0 0h2m-1 0h2m1 0h2m3 0h2m-2 0h2m-1 0h2m4 0h2m3 0h2m-1 0h2m-1 0h2m1 0h2m-1 0h2m3 0h2m1 0h2m-1 0h2m-1 0h2m-1 0h2m-1 0h2m-1 0h2m-1 0h2m-1 0h2m-1 0h2m8 0h2m-1 0h2m-2 0h2m1 0h2m-1 0h2m1 0h2m-1 0h2m0 0h2m0 0h2m-1 0h2m5 0h2m-1 0h2m-2 0h2m2 0h2m-2 0h2m0 0h2m0 0h2m2 0h2m5 0h2m1 0h2m1 0h2m-1 0h2m3 0h2m5 0h2m4 0h2m5 0h2m7 0h2m76 0h2m-282 1h2m24 0h2m7 0h2m14 0h2m-1 0h2m10 0h2m10 0h2m4 0h2m-1 0h2m4 0h2m2 0h2m-1 0h2m0 0h2m-2 0h2m-1 0h2m1 0h2m5 0h2m-2 0h2m0 0h2m1 0h2m8 0h2m6 0h2m-2 0h2m-1 0h2m-2 0h2m-1 0h2m-2 0h2m-1 0h2m0 0h2m2 0h2m5 0h2m1 0h2m-2 0h2m1 0h2m12 0h2m1 0h2m0 0h2m22 0h2m4 0h2m12 0h2m19 0h2m51 0h2m-250 1h2m0 0h2m4 0h2m2 0h2m-1 0h2m0 0h2m13 0h2m26 0h2m3 0h2m-1 0h2m-2 0h2m-1 0h2m4 0h2m2 0h2m3 0h2m3 0h2m2 0h2m-1 0h2m-1 0h2m-2 0h2m5 0h2m0 0h2m-2 0h2m0 0h2m-2 0h2m3 0h2m6 0h2m13 0h2m1 0h2m1 0h2m4 0h2m2 0h2m1 0h2m-2 0h2m9 0h2m2 0h2m11 0h2m3 0h2m2 0h2m6 0h2m52 0h2m-246 1h2m0 0h2m0 0h2m0 0h2m2 0h2m29 0h2m0 0h2m0 0h2m-1 0h2m0 0h2m6 0h2m-2 0h2m-1 0h2m1 0h2m4 0h2m-1 0h2m2 0h2m5 0h2m3 0h2m4 0h2m-1 0h2m-1 0h2m7 0h2m-1 0h2m12 0h2m-1 0h2m-1 0h2m-1 0h2m-2 0h2m8 0h2m5 0h2m4 0h2m7 0h2m-1 0h2m-1 0h2m26 0h2m3 0h2m78 0h2m56 0h2m-386 1h2m44 0h2m7 0h2m1 0h2m0 0h2m-1 0h2m0 0h2m-2 0h2m3 0h2m14 0h2m3 0h2m0 0h2m0 0h2m3 0h2m-1 0h2m2 0h2m1 0h2m6 0h2m-1 0h2m-2 0h2m0 0h2m-1 0h2m-1 0h2m-2 0h2m2 0h2m0 0h2m0 0h2m-1 0h2m0 0h2m-1 0h2m-2 0h2m0 0h2m-2 0h2m3 0h2m-2 0h2m0 0h2m-1 0h2m1 0h2m2 0h2m0 0h2m10 0h2m-2 0h2m-2 0h2m-2 0h2m-1 0h2m-2 0h2m1 0h2m5 0h2m1 0h2m0 0h2m4 0h2m1 0h2m22 0h2m-2 0h2m1 0h2m-1 0h2m102 0h2m-294 1h2m23 0h2m4 0h2m2 0h2m-1 0h2m4 0h2m1 0h2m14 0h2m-1 0h2m2 0h2m10 0h2m2 0h2m0 0h2m-2 0h2m-1 0h2m-2 0h2m-1 0h2m0 0h2m-1 0h2m7 0h2m-2 0h2m0 0h2m-2 0h2m-1 0h2m2 0h2m-1 0h2m-2 0h2m-1 0h2m-1 0h2m0 0h2m-1 0h2m1 0h2m-2 0h2m0 0h2m0 0h2m-2 0h2m10 0h2m-1 0h2m0 0h2m11 0h2m-2 0h2m-1 0h2m-1 0h2m3 0h2m11 0h2m1 0h2m4 0h2m12 0h2m6 0h2m8 0h2m0 0h2m8 0h2m14 0h2m5 0h2m17 0h2m-2 0h2m-253 1h2m30 0h2m3 0h2m0 0h2m1 0h2m5 0h2m4 0h2m0 0h2m5 0h2m2 0h2m-1 0h2m1 0h2m4 0h2m5 0h2m-1 0h2m0 0h2m-1 0h2m2 0h2m-1 0h2m1 0h2m-2 0h2m4 0h2m0 0h2m-1 0h2m5 0h2m2 0h2m2 0h2m0 0h2m1 0h2m0 0h2m-1 0h2m-1 0h2m5 0h2m14 0h2m-2 0h2m25 0h2m20 0h2m-1 0h2m4 0h2m-214 1h2m0 0h2m6 0h2m8 0h2m15 0h2m0 0h2m-2 0h2m0 0h2m1 0h2m2 0h2m-2 0h2m18 0h2m3 0h2m-1 0h2m-1 0h2m3 0h2m-1 0h2m-2 0h2m1 0h2m1 0h2m-2 0h2m4 0h2m6 0h2m-1 0h2m-2 0h2m-1 0h2m-1 0h2m2 0h2m3 0h2m-2 0h2m2 0h2m-1 0h2m-1 0h2m1 0h2m4 0h2m-2 0h2m-1 0h2m-2 0h2m1 0h2m1 0h2m-2 0h2m-2 0h2m1 0h2m-1 0h2m-1 0h2m1 0h2m-1 0h2m-1 0h2m-1 0h2m-1 0h2m5 0h2m7 0h2m15 0h2m-2 0h2m4 0h2m5 0h2m4 0h2m2 0h2m1 0h2m2 0h2m27 0h2m77 0h2m-308 1h2m33 0h2m12 0h2m-2 0h2m-1 0h2m-2 0h2m0 0h2m1 0h2m0 0h2m0 0h2m-1 0h2m-1 0h2m13 0h2m-2 0h2m2 0h2m2 0h2m0 0h2m-1 0h2m0 0h2m1 0h2m3 0h2m1 0h2m10 0h2m0 0h2m0 0h2m-1 0h2m4 0h2m1 0h2m1 0h2m3 0h2m0 0h2m5 0h2m-1 0h2m-1 0h2m-1 0h2m3 0h2m3 0h2m2 0h2m0 0h2m-2 0h2m20 0h2m0 0h2m6 0h2m-1 0h2m-1 0h2m54 0h2m-244 1h2m1 0h2m0 0h2m7 0h2m0 0h2m0 0h2m15 0h2m0 0h2m3 0h2m1 0h2m3 0h2m-1 0h2m-1 0h2m-1 0h2m-1 0h2m-1 0h2m-2 0h2m4 0h2m3 0h2m1 0h2m0 0h2m-1 0h2m0 0h2m-1 0h2m-1 0h2m3 0h2m1 0h2m-1 0h2m1 0h2m2 0h2m-1 0h2m0 0h2m-1 0h2m2 0h2m-1 0h2m19 0h2m6 0h2m4 0h2m1 0h2m5 0h2m2 0h2m11 0h2m5 0h2m31 0h2m24 0h2m-242 1h2m9 0h2m10 0h2m-1 0h2m1 0h2m6 0h2m5 0h2m-2 0h2m-1 0h2m-2 0h2m-1 0h2m-2 0h2m-1 0h2m-1 0h2m2 0h2m-2 0h2m1 0h2m0 0h2m-1 0h2m4 0h2m5 0h2m1 0h2m-1 0h2m5 0h2m1 0h2m-2 0h2m0 0h2m-1 0h2m0 0h2m0 0h2m-1 0h2m-1 0h2m1 0h2m1 0h2m-2 0h2m0 0h2m0 0h2m-2 0h2m4 0h2m0 0h2m2 0h2m-1 0h2m-1 0h2m4 0h2m-1 0h2m2 0h2m5 0h2m5 0h2m21 0h2m-2 0h2m1 0h2m3 0h2m15 0h2m21 0h2m84 0h2m-302 1h2m24 0h2m13 0h2m-1 0h2m3 0h2m-2 0h2m1 0h2m-1 0h2m-2 0h2m2 0h2m1 0h2m0 0h2m-2 0h2m4 0h2m-1 0h2m-2 0h2m1 0h2m0 0h2m5 0h2m0 0h2m-1 0h2m-1 0h2m-1 0h2m1 0h2m-1 0h2m0 0h2m2 0h2m-1 0h2m0 0h2m4 0h2m3 0h2m2 0h2m-2 0h2m-1 0h2m1 0h2m-1 0h2m2 0h2m-1 0h2m1 0h2m-2 0h2m2 0h2m2 0h2m-1 0h2m1 0h2m6 0h2m-1 0h2m6 0h2m0 0h2m-1 0h2m4 0h2m18 0h2m65 0h2m-302 1h2m21 0h2m28 0h2m-2 0h2m17 0h2m-1 0h2m4 0h2m-2 0h2m2 0h2m22 0h2m-2 0h2m-2 0h2m0 0h2m-1 0h2m-1 0h2m-1 0h2m0 0h2m-2 0h2m-2 0h2m0 0h2m3 0h2m-2 0h2m0 0h2m0 0h2m1 0h2m-1 0h2m1 0h2m-1 0h2m-1 0h2m-2 0h2m-1 0h2m1 0h2m-1 0h2m0 0h2m2 0h2m-1 0h2m-1 0h2m1 0h2m-1 0h2m0 0h2m5 0h2m-2 0h2m-2 0h2m3 0h2m6 0h2m0 0h2m1 0h2m0 0h2m-2 0h2m1 0h2m-2 0h2m7 0h2m2 0h2m0 0h2m-1 0h2m4 0h2m78 0h2m17 0h2m-272 1h2m38 0h2m0 0h2m1 0h2m0 0h2m-1 0h2m0 0h2m2 0h2m-2 0h2m0 0h2m1 0h2m8 0h2m0 0h2m0 0h2m3 0h2m0 0h2m1 0h2m1 0h2m3 0h2m-2 0h2m1 0h2m2 0h2m-1 0h2m3 0h2m-2 0h2m-1 0h2m-1 0h2m0 0h2m0 0h2m-2 0h2m-1 0h2m3 0h2m-1 0h2m-2 0h2m2 0h2m-1 0h2m3 0h2m0 0h2m0 0h2m2 0h2m1 0h2m-2 0h2m3 0h2m1 0h2m4 0h2m0 0h2m-1 0h2m4 0h2m5 0h2m3 0h2m18 0h2m4 0h2m40 0h2m12 0h2m28 0h2m-249 1h2m13 0h2m8 0h2m4 0h2m0 0h2m1 0h2m4 0h2m0 0h2m3 0h2m-1 0h2m0 0h2m-1 0h2m-2 0h2m3 0h2m0 0h2m2 0h2m-2 0h2m-1 0h2m-1 0h2m0 0h2m-1 0h2m1 0h2m1 0h2m1 0h2m-2 0h2m8 0h2m1 0h2m2 0h2m1 0h2m6 0h2m-1 0h2m-1 0h2m5 0h2m10 0h2m2 0h2m-2 0h2m1 0h2m2 0h2m8 0h2m9 0h2m23 0h2m3 0h2m52 0h2m-278 1h2m16 0h2m4 0h2m7 0h2m13 0h2m2 0h2m8 0h2m1 0h2m0 0h2m-2 0h2m0 0h2m1 0h2m-1 0h2m0 0h2m3 0h2m-1 0h2m-1 0h2m5 0h2m-1 0h2m1 0h2m-1 0h2m2 0h2m0 0h2m0 0h2m-1 0h2m1 0h2m-2 0h2m-2 0h2m0 0h2m0 0h2m2 0h2m-2 0h2m0 0h2m1 0h2m-1 0h2m0 0h2m1 0h2m3 0h2m1 0h2m-2 0h2m8 0h2m3 0h2m-2 0h2m16 0h2m3 0h2m0 0h2m4 0h2m-190 1h2m21 0h2m10 0h2m6 0h2m2 0h2m9 0h2m9 0h2m-2 0h2m0 0h2m-2 0h2m4 0h2m0 0h2m0 0h2m5 0h2m3 0h2m-2 0h2m0 0h2m1 0h2m-1 0h2m0 0h2m-2 0h2m-1 0h2m1 0h2m4 0h2m-1 0h2m-1 0h2m2 0h2m-2 0h2m-1 0h2m-1 0h2m3 0h2m0 0h2m0 0h2m-1 0h2m2 0h2m-1 0h2m-2 0h2m4 0h2m-1 0h2m1 0h2m-2 0h2m3 0h2m2 0h2m2 0h2m2 0h2m-2 0h2m1 0h2m12 0h2m23 0h2m2 0h2m20 0h2m-193 1h2m14 0h2m-2 0h2m0 0h2m2 0h2m-2 0h2m3 0h2m0 0h2m4 0h2m-1 0h2m3 0h2m1 0h2m2 0h2m3 0h2m0 0h2m-2 0h2m-2 0h2m-2 0h2m3 0h2m-1 0h2m0 0h2m-1 0h2m5 0h2m-2 0h2m3 0h2m2 0h2m8 0h2m2 0h2m-2 0h2m0 0h2m0 0h2m-1 0h2m0 0h2m0 0h2m-1 0h2m0 0h2m0 0h2m-1 0h2m11 0h2m-2 0h2m-1 0h2m3 0h2m43 0h2m-178 1h2m13 0h2m0 0h2m11 0h2m1 0h2m-2 0h2m2 0h2m1 0h2m-1 0h2m4 0h2m3 0h2m-1 0h2m2 0h2m7 0h2m4 0h2m0 0h2m-1 0h2m0 0h2m-1 0h2m-1 0h2m-1 0h2m0 0h2m0 0h2m-1 0h2m-1 0h2m-1 0h2m0 0h2m-2 0h2m-2 0h2m5 0h2m1 0h2m1 0h2m-2 0h2m0 0h2m-1 0h2m2 0h2m3 0h2m23 0h2m0 0h2m3 0h2m2 0h2m-174 1h2m4 0h2m4 0h2m8 0h2m14 0h2m-1 0h2m4 0h2m0 0h2m-1 0h2m-2 0h2m1 0h2m1 0h2m-1 0h2m6 0h2m-1 0h2m-2 0h2m-2 0h2m-2 0h2m1 0h2m2 0h2m4 0h2m0 0h2m3 0h2m0 0h2m-1 0h2m-1 0h2m-1 0h2m2 0h2m2 0h2m-2 0h2m6 0h2m1 0h2m-2 0h2m1 0h2m0 0h2m0 0h2m-1 0h2m0 0h2m1 0h2m13 0h2m2 0h2m11 0h2m9 0h2m1 0h2m2 0h2m7 0h2m13 0h2m11 0h2m-188 1h2m11 0h2m5 0h2m7 0h2m2 0h2m4 0h2m2 0h2m0 0h2m-1 0h2m3 0h2m4 0h2m1 0h2m5 0h2m-2 0h2m8 0h2m-1 0h2m1 0h2m-1 0h2m0 0h2m-1 0h2m0 0h2m5 0h2m-1 0h2m2 0h2m-2 0h2m5 0h2m0 0h2m1 0h2m-2 0h2m6 0h2m17 0h2m25 0h2m17 0h2m166 0h2m-374 1h2m18 0h2m4 0h2m-1 0h2m14 0h2m0 0h2m-1 0h2m5 0h2m2 0h2m1 0h2m-2 0h2m5 0h2m2 0h2m-1 0h2m0 0h2m-2 0h2m-1 0h2m3 0h2m2 0h2m0 0h2m3 0h2m1 0h2m0 0h2m-2 0h2m-1 0h2m0 0h2m0 0h2m-2 0h2m-1 0h2m9 0h2m0 0h2m-1 0h2m-1 0h2m1 0h2m-2 0h2m-1 0h2m-1 0h2m2 0h2m4 0h2m1 0h2m3 0h2m-1 0h2m5 0h2m8 0h2m28 0h2m7 0h2m1 0h2m7 0h2m31 0h2m16 0h2m13 0h2m-272 1h2m6 0h2m14 0h2m-1 0h2m9 0h2m9 0h2m-1 0h2m1 0h2m0 0h2m-2 0h2m-2 0h2m-1 0h2m-1 0h2m-2 0h2m4 0h2m-1 0h2m-2 0h2m-1 0h2m0 0h2m3 0h2m-1 0h2m-2 0h2m-1 0h2m-1 0h2m-2 0h2m-1 0h2m-2 0h2m-1 0h2m-1 0h2m0 0h2m2 0h2m0 0h2m1 0h2m0 0h2m1 0h2m-2 0h2m0 0h2m-2 0h2m3 0h2m1 0h2m0 0h2m-1 0h2m6 0h2m1 0h2m1 0h2m-1 0h2m-1 0h2m4 0h2m-2 0h2m18 0h2m0 0h2m3 0h2m1 0h2m2 0h2m-1 0h2m13 0h2m2 0h2m-186 1h2m11 0h2m-2 0h2m24 0h2m0 0h2m2 0h2m-1 0h2m7 0h2m-1 0h2m-1 0h2m0 0h2m4 0h2m0 0h2m-2 0h2m-1 0h2m-2 0h2m0 0h2m1 0h2m7 0h2m4 0h2m2 0h2m-1 0h2m0 0h2m4 0h2m3 0h2m2 0h2m1 0h2m6 0h2m5 0h2m8 0h2m19 0h2m3 0h2m0 0h2m8 0h2m11 0h2m-1 0h2m45 0h2m29 0h2m-314 1h2m42 0h2m17 0h2m-1 0h2m-1 0h2m13 0h2m33 0h2m0 0h2m5 0h2m-1 0h2m0 0h2m4 0h2m-1 0h2m3 0h2m-1 0h2m-1 0h2m2 0h2m-2 0h2m-2 0h2m3 0h2m10 0h2m4 0h2m-1 0h2m0 0h2m2 0h2m2 0h2m-1 0h2m1 0h2m5 0h2m5 0h2m20 0h2m-1 0h2m-170 1h2m15 0h2m1 0h2m1 0h2m-2 0h2m-1 0h2m-1 0h2m4 0h2m-1 0h2m13 0h2m1 0h2m-2 0h2m-1 0h2m-2 0h2m-1 0h2m6 0h2m-1 0h2m3 0h2m-2 0h2m1 0h2m0 0h2m-1 0h2m-2 0h2m2 0h2m5 0h2m-2 0h2m0 0h2m2 0h2m0 0h2m-1 0h2m5 0h2m0 0h2m3 0h2m1 0h2m0 0h2m5 0h2m11 0h2m1 0h2m0 0h2m-1 0h2m0 0h2m-2 0h2m6 0h2m31 0h2m10 0h2m9 0h2m5 0h2m8 0h2m-217 1h2m26 0h2m0 0h2m-1 0h2m4 0h2m-1 0h2m-2 0h2m5 0h2m4 0h2m2 0h2m-2 0h2m-2 0h2m6 0h2m3 0h2m0 0h2m2 0h2m0 0h2m1 0h2m5 0h2m-1 0h2m1 0h2m15 0h2m2 0h2m1 0h2m1 0h2m28 0h2m8 0h2m-187 1h2m14 0h2m2 0h2m16 0h2m0 0h2m3 0h2m2 0h2m-2 0h2m-1 0h2m-1 0h2m2 0h2m7 0h2m1 0h2m4 0h2m2 0h2m2 0h2m10 0h2m-1 0h2m0 0h2m-2 0h2m-1 0h2m2 0h2m0 0h2m-1 0h2m6 0h2m6 0h2m8 0h2m-2 0h2m7 0h2m3 0h2m8 0h2m3 0h2m-1 0h2m8 0h2m3 0h2m18 0h2m12 0h2m26 0h2m11 0h2m-227 1h2m17 0h2m9 0h2m-1 0h2m8 0h2m2 0h2m2 0h2m-1 0h2m-1 0h2m3 0h2m-2 0h2m0 0h2m3 0h2m0 0h2m-1 0h2m0 0h2m-1 0h2m2 0h2m-1 0h2m1 0h2m3 0h2m4 0h2m-2 0h2m4 0h2m2 0h2m0 0h2m-2 0h2m6 0h2m2 0h2m2 0h2m4 0h2m2 0h2m1 0h2m19 0h2m8 0h2m8 0h2m2 0h2m19 0h2m54 0h2m-249 1h2m3 0h2m2 0h2m8 0h2m2 0h2m-2 0h2m4 0h2m-2 0h2m10 0h2m-1 0h2m3 0h2m6 0h2m0 0h2m1 0h2m-2 0h2m2 0h2m1 0h2m0 0h2m-1 0h2m-2 0h2m9 0h2m-1 0h2m1 0h2m0 0h2m1 0h2m7 0h2m4 0h2m-2 0h2m-1 0h2m-1 0h2m8 0h2m1 0h2m4 0h2m2 0h2m12 0h2m4 0h2m-1 0h2m8 0h2m-1 0h2m55 0h2m-253 1h2m17 0h2m2 0h2m3 0h2m16 0h2m2 0h2m10 0h2m-2 0h2m1 0h2m-2 0h2m-1 0h2m-2 0h2m0 0h2m-1 0h2m6 0h2m-1 0h2m-1 0h2m5 0h2m7 0h2m-1 0h2m-1 0h2m-1 0h2m-2 0h2m1 0h2m6 0h2m1 0h2m0 0h2m6 0h2m0 0h2m2 0h2m-1 0h2m-2 0h2m-2 0h2m5 0h2m5 0h2m0 0h2m2 0h2m5 0h2m0 0h2m0 0h2m16 0h2m49 0h2m-208 1h2m2 0h2m-1 0h2m-2 0h2m8 0h2m7 0h2m3 0h2m-1 0h2m7 0h2m3 0h2m-2 0h2m-1 0h2m3 0h2m-1 0h2m0 0h2m7 0h2m-2 0h2m-1 0h2m3 0h2m1 0h2m-1 0h2m0 0h2m-1 0h2m-1 0h2m2 0h2m-1 0h2m-1 0h2m-2 0h2m2 0h2m-1 0h2m3 0h2m0 0h2m9 0h2m-2 0h2m2 0h2m-1 0h2m3 0h2m2 0h2m-2 0h2m2 0h2m1 0h2m1 0h2m-1 0h2m-2 0h2m46 0h2m0 0h2m-181 1h2m4 0h2m25 0h2m3 0h2m-1 0h2m-2 0h2m-1 0h2m0 0h2m-1 0h2m1 0h2m4 0h2m0 0h2m3 0h2m1 0h2m0 0h2m0 0h2m3 0h2m-1 0h2m-1 0h2m4 0h2m2 0h2m-1 0h2m1 0h2m-1 0h2m4 0h2m-1 0h2m-2 0h2m3 0h2m5 0h2m-1 0h2m1 0h2m3 0h2m12 0h2m1 0h2m1 0h2m2 0h2m-1 0h2m0 0h2m2 0h2m11 0h2m22 0h2m7 0h2m-200 1h2m10 0h2m11 0h2m3 0h2m8 0h2m2 0h2m-2 0h2m0 0h2m0 0h2m13 0h2m0 0h2m4 0h2m3 0h2m14 0h2m-1 0h2m0 0h2m0 0h2m5 0h2m4 0h2m-1 0h2m-2 0h2m-2 0h2m0 0h2m2 0h2m1 0h2m7 0h2m2 0h2m1 0h2m4 0h2m1 0h2m0 0h2m1 0h2m-2 0h2m14 0h2m8 0h2m-228 1h2m60 0h2m9 0h2m6 0h2m2 0h2m1 0h2m2 0h2m-1 0h2m12 0h2m3 0h2m1 0h2m1 0h2m0 0h2m-2 0h2m0 0h2m0 0h2m-1 0h2m1 0h2m3 0h2m0 0h2m22 0h2m3 0h2m7 0h2m4 0h2m-1 0h2m1 0h2m2 0h2m-2 0h2m0 0h2m12 0h2m0 0h2m14 0h2m-2 0h2m42 0h2m35 0h2m-235 1h2m-2 0h2m1 0h2m5 0h2m6 0h2m-2 0h2m0 0h2m1 0h2m0 0h2m2 0h2m4 0h2m2 0h2m-1 0h2m3 0h2m-2 0h2m1 0h2m-2 0h2m-1 0h2m-2 0h2m3 0h2m3 0h2m0 0h2m3 0h2m2 0h2m-1 0h2m-1 0h2m0 0h2m0 0h2m4 0h2m9 0h2m-1 0h2m0 0h2m1 0h2m1 0h2m1 0h2m3 0h2m2 0h2m4 0h2m-2 0h2m1 0h2m10 0h2m18 0h2m5 0h2m45 0h2m-228 1h2m9 0h2m-1 0h2m4 0h2m2 0h2m21 0h2m0 0h2m-1 0h2m-2 0h2m1 0h2m-2 0h2m1 0h2m4 0h2m1 0h2m4 0h2m-1 0h2m-2 0h2m0 0h2m-2 0h2m1 0h2m-2 0h2m-1 0h2m4 0h2m6 0h2m-2 0h2m-2 0h2m3 0h2m1 0h2m2 0h2m1 0h2m-2 0h2m0 0h2m5 0h2m-2 0h2m2 0h2m-1 0h2m13 0h2m18 0h2m73 0h2m-228 1h2m1 0h2m5 0h2m7 0h2m1 0h2m0 0h2m11 0h2m0 0h2m-1 0h2m0 0h2m-1 0h2m-1 0h2m-1 0h2m-1 0h2m2 0h2m-2 0h2m0 0h2m3 0h2m-1 0h2m-1 0h2m2 0h2m-1 0h2m2 0h2m1 0h2m7 0h2m0 0h2m-2 0h2m3 0h2m0 0h2m3 0h2m0 0h2m0 0h2m-2 0h2m5 0h2m2 0h2m-2 0h2m5 0h2m0 0h2m2 0h2m-1 0h2m3 0h2m46 0h2m16 0h2m-250 1h2m67 0h2m4 0h2m6 0h2m13 0h2m6 0h2m-1 0h2m2 0h2m9 0h2m1 0h2m0 0h2m-1 0h2m-1 0h2m5 0h2m7 0h2m-1 0h2m-1 0h2m2 0h2m12 0h2m13 0h2m3 0h2m6 0h2m-2 0h2m-2 0h2m42 0h2m138 0h2m-402 1h2m46 0h2m10 0h2m34 0h2m-1 0h2m-1 0h2m4 0h2m2 0h2m-1 0h2m1 0h2m2 0h2m8 0h2m1 0h2m4 0h2m-2 0h2m0 0h2m2 0h2m0 0h2m-2 0h2m0 0h2m1 0h2m0 0h2m2 0h2m-2 0h2m3 0h2m-2 0h2m1 0h2m-2 0h2m2 0h2m1 0h2m4 0h2m-2 0h2m2 0h2m1 0h2m8 0h2m2 0h2m0 0h2m-1 0h2m0 0h2m20 0h2m-1 0h2m13 0h2m0 0h2m5 0h2m55 0h2m-249 1h2m40 0h2m5 0h2m1 0h2m3 0h2m-1 0h2m-1 0h2m-1 0h2m0 0h2m12 0h2m1 0h2m1 0h2m-2 0h2m-1 0h2m1 0h2m2 0h2m-1 0h2m0 0h2m-1 0h2m5 0h2m0 0h2m4 0h2m4 0h2m-2 0h2m-2 0h2m1 0h2m5 0h2m-2 0h2m-1 0h2m2 0h2m-1 0h2m3 0h2m-1 0h2m11 0h2m17 0h2m0 0h2m0 0h2m-2 0h2m-1 0h2m18 0h2m41 0h2m-295 1h2m40 0h2m29 0h2m18 0h2m12 0h2m0 0h2m6 0h2m5 0h2m-1 0h2m6 0h2m1 0h2m0 0h2m5 0h2m3 0h2m0 0h2m2 0h2m2 0h2m0 0h2m0 0h2m1 0h2m5 0h2m-2 0h2m5 0h2m-1 0h2m4 0h2m0 0h2m-1 0h2m1 0h2m3 0h2m1 0h2m6 0h2m0 0h2m6 0h2m21 0h2m-141 1h2m-2 0h2m1 0h2m-2 0h2m1 0h2m12 0h2m0 0h2m9 0h2m1 0h2m-1 0h2m1 0h2m4 0h2m0 0h2m1 0h2m-1 0h2m3 0h2m6 0h2m0 0h2m3 0h2m-2 0h2m-1 0h2m3 0h2m2 0h2m-1 0h2m0 0h2m10 0h2m10 0h2m0 0h2m0 0h2m3 0h2m0 0h2m79 0h2m-238 1h2m9 0h2m2 0h2m27 0h2m-1 0h2m0 0h2m3 0h2m2 0h2m7 0h2m1 0h2m1 0h2m8 0h2m1 0h2m-1 0h2m6 0h2m2 0h2m0 0h2m2 0h2m9 0h2m2 0h2m5 0h2m-1 0h2m5 0h2m1 0h2m5 0h2m9 0h2m17 0h2m57 0h2m34 0h2m-267 1h2m2 0h2m3 0h2m24 0h2m16 0h2m-1 0h2m0 0h2m2 0h2m-1 0h2m3 0h2m-1 0h2m4 0h2m-2 0h2m8 0h2m2 0h2m2 0h2m1 0h2m18 0h2m7 0h2m5 0h2m15 0h2m32 0h2m2 0h2m76 0h2m-246 1h2m10 0h2m10 0h2m-1 0h2m0 0h2m1 0h2m2 0h2m2 0h2m-1 0h2m-2 0h2m3 0h2m-1 0h2m0 0h2m-2 0h2m-1 0h2m-1 0h2m0 0h2m-2 0h2m1 0h2m1 0h2m3 0h2m1 0h2m-1 0h2m-2 0h2m-1 0h2m2 0h2m2 0h2m1 0h2m-2 0h2m1 0h2m3 0h2m3 0h2m8 0h2m4 0h2m-2 0h2m0 0h2m11 0h2m-2 0h2m5 0h2m18 0h2m53 0h2m-214 1h2m8 0h2m3 0h2m22 0h2m2 0h2m-1 0h2m6 0h2m0 0h2m-1 0h2m-1 0h2m4 0h2m0 0h2m7 0h2m11 0h2m-1 0h2m1 0h2m0 0h2m-1 0h2m-1 0h2m10 0h2m-1 0h2m-1 0h2m2 0h2m0 0h2m6 0h2m4 0h2m-1 0h2m0 0h2m11 0h2m-139 1h2m-1 0h2m6 0h2m-1 0h2m-1 0h2m0 0h2m4 0h2m1 0h2m1 0h2m-2 0h2m2 0h2m-1 0h2m15 0h2m6 0h2m2 0h2m2 0h2m-1 0h2m0 0h2m-2 0h2m0 0h2m4 0h2m3 0h2m0 0h2m2 0h2m-2 0h2m15 0h2m-1 0h2m2 0h2m-1 0h2m0 0h2m-1 0h2m-1 0h2m0 0h2m2 0h2m-2 0h2m7 0h2m3 0h2m2 0h2m4 0h2m1 0h2m0 0h2m22 0h2m-1 0h2m33 0h2m13 0h2m10 0h2m-244 1h2m2 0h2m5 0h2m0 0h2m20 0h2m7 0h2m2 0h2m2 0h2m1 0h2m2 0h2m2 0h2m1 0h2m-1 0h2m-2 0h2m0 0h2m-1 0h2m-2 0h2m1 0h2m2 0h2m0 0h2m4 0h2m3 0h2m-2 0h2m2 0h2m-2 0h2m7 0h2m13 0h2m4 0h2m-1 0h2m0 0h2m9 0h2m7 0h2m1 0h2m29 0h2m4 0h2m11 0h2m-274 1h2m84 0h2m3 0h2m-2 0h2m0 0h2m19 0h2m-1 0h2m1 0h2m-2 0h2m9 0h2m2 0h2m7 0h2m-1 0h2m-1 0h2m-1 0h2m5 0h2m-1 0h2m4 0h2m1 0h2m12 0h2m2 0h2m-2 0h2m1 0h2m5 0h2m0 0h2m13 0h2m10 0h2m9 0h2m28 0h2m9 0h2m-189 1h2m2 0h2m-1 0h2m7 0h2m6 0h2m1 0h2m6 0h2m1 0h2m1 0h2m5 0h2m1 0h2m4 0h2m-1 0h2m0 0h2m0 0h2m5 0h2m-1 0h2m-1 0h2m1 0h2m8 0h2m2 0h2m18 0h2m15 0h2m2 0h2m12 0h2m11 0h2m52 0h2m-272 1h2m63 0h2m0 0h2m4 0h2m5 0h2m5 0h2m2 0h2m4 0h2m2 0h2m-1 0h2m-1 0h2m0 0h2m-2 0h2m6 0h2m-2 0h2m-1 0h2m-2 0h2m-1 0h2m-1 0h2m3 0h2m17 0h2m5 0h2m3 0h2m0 0h2m2 0h2m3 0h2m3 0h2m1 0h2m18 0h2m4 0h2m-1 0h2m-180 1h2m31 0h2m10 0h2m2 0h2m3 0h2m4 0h2m-1 0h2m8 0h2m-1 0h2m3 0h2m1 0h2m2 0h2m-2 0h2m1 0h2m3 0h2m-1 0h2m-1 0h2m-1 0h2m3 0h2m2 0h2m3 0h2m2 0h2m0 0h2m-2 0h2m2 0h2m2 0h2m6 0h2m-1 0h2m6 0h2m-1 0h2m-1 0h2m0 0h2m155 0h2m34 0h2m-326 1h2m17 0h2m2 0h2m14 0h2m-1 0h2m13 0h2m3 0h2m1 0h2m2 0h2m1 0h2m0 0h2m4 0h2m2 0h2m1 0h2m0 0h2m0 0h2m0 0h2m7 0h2m-2 0h2m-1 0h2m2 0h2m6 0h2m-1 0h2m8 0h2m14 0h2m-2 0h2m0 0h2m6 0h2m30 0h2m-145 1h2m4 0h2m5 0h2m7 0h2m1 0h2m1 0h2m1 0h2m-1 0h2m2 0h2m3 0h2m0 0h2m2 0h2m-1 0h2m8 0h2m1 0h2m1 0h2m9 0h2m0 0h2m6 0h2m-1 0h2m16 0h2m5 0h2m2 0h2m6 0h2m10 0h2m17 0h2m9 0h2m-2 0h2m10 0h2m35 0h2m-298 1h2m44 0h2m13 0h2m0 0h2m-2 0h2m0 0h2m8 0h2m-1 0h2m0 0h2m9 0h2m0 0h2m1 0h2m1 0h2m-1 0h2m3 0h2m-1 0h2m3 0h2m1 0h2m-2 0h2m-2 0h2m0 0h2m-2 0h2m1 0h2m6 0h2m8 0h2m-2 0h2m-2 0h2m1 0h2m-2 0h2m8 0h2m1 0h2m-1 0h2m2 0h2m-1 0h2m-1 0h2m-1 0h2m5 0h2m-1 0h2m1 0h2m1 0h2m1 0h2m-1 0h2m-1 0h2m1 0h2m10 0h2m4 0h2m89 0h2m-228 1h2m-2 0h2m12 0h2m2 0h2m9 0h2m0 0h2m1 0h2m0 0h2m0 0h2m2 0h2m-1 0h2m0 0h2m4 0h2m-1 0h2m0 0h2m-1 0h2m3 0h2m13 0h2m1 0h2m3 0h2m-1 0h2m4 0h2m-1 0h2m4 0h2m0 0h2m9 0h2m-1 0h2m8 0h2m0 0h2m6 0h2m20 0h2m4 0h2m69 0h2m-234 1h2m20 0h2m19 0h2m6 0h2m4 0h2m-2 0h2m16 0h2m-1 0h2m11 0h2m2 0h2m1 0h2m21 0h2m11 0h2m4 0h2m33 0h2m-179 1h2m0 0h2m-1 0h2m5 0h2m-2 0h2m16 0h2m0 0h2m-2 0h2m5 0h2m-1 0h2m-1 0h2m1 0h2m0 0h2m1 0h2m-2 0h2m-1 0h2m3 0h2m0 0h2m1 0h2m6 0h2m7 0h2m-2 0h2m9 0h2m0 0h2m1 0h2m0 0h2m2 0h2m3 0h2m-2 0h2m35 0h2m0 0h2m-118 1h2m0 0h2m7 0h2m-1 0h2m8 0h2m0 0h2m1 0h2m-2 0h2m0 0h2m1 0h2m1 0h2m5 0h2m0 0h2m10 0h2m3 0h2m0 0h2m-1 0h2m5 0h2m1 0h2m3 0h2m-2 0h2m0 0h2m6 0h2m8 0h2m5 0h2m30 0h2m-190 1h2m42 0h2m1 0h2m2 0h2m1 0h2m12 0h2m4 0h2m0 0h2m-1 0h2m-1 0h2m8 0h2m-1 0h2m0 0h2m5 0h2m-1 0h2m-1 0h2m4 0h2m0 0h2m-1 0h2m6 0h2m2 0h2m-1 0h2m-2 0h2m2 0h2m28 0h2m2 0h2m3 0h2m5 0h2m-1 0h2m53 0h2m-204 1h2m7 0h2m10 0h2m7 0h2m4 0h2m3 0h2m-2 0h2m23 0h2m-2 0h2m15 0h2m7 0h2m3 0h2m0 0h2m2 0h2m10 0h2m17 0h2m2 0h2m36 0h2m33 0h2m-199 1h2m12 0h2m10 0h2m3 0h2m0 0h2m6 0h2m2 0h2m18 0h2m0 0h2m3 0h2m0 0h2m2 0h2m0 0h2m5 0h2m2 0h2m19 0h2m4 0h2m1 0h2m46 0h2m13 0h2m-224 1h2m14 0h2m16 0h2m25 0h2m0 0h2m1 0h2m5 0h2m-1 0h2m8 0h2m-2 0h2m-1 0h2m3 0h2m-2 0h2m2 0h2m3 0h2m17 0h2m-1 0h2m18 0h2m3 0h2m80 0h2m24 0h2m-241 1h2m4 0h2m0 0h2m14 0h2m3 0h2m-2 0h2m6 0h2m2 0h2m11 0h2m2 0h2m-2 0h2m5 0h2m-1 0h2m-1 0h2m-2 0h2m-2 0h2m7 0h2m0 0h2m4 0h2m8 0h2m3 0h2m3 0h2m1 0h2m0 0h2m1 0h2m19 0h2m-1 0h2m4 0h2m74 0h2m-225 1h2m22 0h2m11 0h2m2 0h2m2 0h2m2 0h2m-2 0h2m3 0h2m5 0h2m-2 0h2m-2 0h2m1 0h2m13 0h2m0 0h2m5 0h2m7 0h2m6 0h2m-1 0h2m0 0h2m-1 0h2m4 0h2m17 0h2m21 0h2m0 0h2m6 0h2m4 0h2m-180 1h2m41 0h2m10 0h2m1 0h2m10 0h2m6 0h2m7 0h2m-1 0h2m3 0h2m13 0h2m1 0h2m-1 0h2m-1 0h2m7 0h2m0 0h2m2 0h2m1 0h2m0 0h2m9 0h2m3 0h2m6 0h2m8 0h2m0 0h2m12 0h2m12 0h2m14 0h2m-173 1h2m12 0h2m-1 0h2m2 0h2m-2 0h2m13 0h2m1 0h2m1 0h2m1 0h2m-1 0h2m2 0h2m-1 0h2m7 0h2m-1 0h2m2 0h2m-1 0h2m1 0h2m-1 0h2m-2 0h2m3 0h2m5 0h2m0 0h2m0 0h2m-1 0h2m1 0h2m16 0h2m21 0h2m-145 1h2m18 0h2m1 0h2m15 0h2m2 0h2m3 0h2m0 0h2m2 0h2m4 0h2m23 0h2m-1 0h2m19 0h2m3 0h2m224 0h2m-375 1h2m77 0h2m3 0h2m4 0h2m21 0h2m4 0h2m7 0h2m0 0h2m0 0h2m-2 0h2m-2 0h2m11 0h2m17 0h2m15 0h2m17 0h2m-191 1h2m22 0h2m12 0h2m9 0h2m5 0h2m0 0h2m4 0h2m-1 0h2m9 0h2m6 0h2m0 0h2m6 0h2m9 0h2m14 0h2m11 0h2m5 0h2m19 0h2m-130 1h2m13 0h2m4 0h2m16 0h2m1 0h2m1 0h2m14 0h2m3 0h2m2 0h2m4 0h2m2 0h2m6 0h2m3 0h2m5 0h2m5 0h2m-124 1h2m2 0h2m3 0h2m12 0h2m2 0h2m5 0h2m9 0h2m0 0h2m8 0h2m2 0h2m-2 0h2m-1 0h2m12 0h2m17 0h2m-1 0h2m7 0h2m8 0h2m3 0h2m28 0h2m-163 1h2m7 0h2m7 0h2m0 0h2m3 0h2m5 0h2m0 0h2m4 0h2m2 0h2m1 0h2m10 0h2m-2 0h2m-1 0h2m5 0h2m-1 0h2m0 0h2m-1 0h2m11 0h2m5 0h2m16 0h2m-1 0h2m1 0h2m0 0h2m10 0h2m5 0h2m102 0h2m-221 1h2m5 0h2m15 0h2m8 0h2m7 0h2m12 0h2m8 0h2m7 0h2m-2 0h2m-2 0h2m4 0h2m24 0h2m-2 0h2m5 0h2m1 0h2m48 0h2m-188 1h2m4 0h2m28 0h2m15 0h2m0 0h2m29 0h2m3 0h2m5 0h2m12 0h2m5 0h2m5 0h2m10 0h2m16 0h2m18 0h2m-193 1h2m20 0h2m4 0h2m26 0h2m18 0h2m3 0h2m-1 0h2m3 0h2m1 0h2m-1 0h2m-2 0h2m7 0h2m0 0h2m0 0h2m3 0h2m1 0h2m3 0h2m1 0h2m10 0h2m4 0h2m8 0h2m18 0h2m5 0h2m-115 1h2m-1 0h2m7 0h2m6 0h2m3 0h2m-2 0h2m1 0h2m3 0h2m6 0h2m6 0h2m11 0h2m-1 0h2m3 0h2m44 0h2m7 0h2m11 0h2m-168 1h2m22 0h2m15 0h2m-2 0h2m0 0h2m10 0h2m15 0h2m-1 0h2m-1 0h2m-1 0h2m0 0h2m4 0h2m32 0h2m-1 0h2m9 0h2m-130 1h2m8 0h2m9 0h2m-2 0h2m-2 0h2m6 0h2m16 0h2m12 0h2m34 0h2m60 0h2m-153 1h2m6 0h2m12 0h2m-1 0h2m4 0h2m3 0h2m1 0h2m4 0h2m-1 0h2m3 0h2m8 0h2m-1 0h2m15 0h2m-1 0h2m4 0h2m35 0h2m87 0h2m75 0h2m-330 1h2m29 0h2m23 0h2m2 0h2m4 0h2m10 0h2m0 0h2m6 0h2m4 0h2m16 0h2m5 0h2m0 0h2m57 0h2m-161 1h2m16 0h2m19 0h2m6 0h2m3 0h2m8 0h2m13 0h2m8 0h2m7 0h2m3 0h2m10 0h2m12 0h2m-132 1h2m34 0h2m30 0h2m14 0h2m6 0h2m21 0h2m0 0h2m91 0h2m-179 1h2m0 0h2m-2 0h2m5 0h2m4 0h2m15 0h2m6 0h2m-1 0h2m-1 0h2m9 0h2m6 0h2m16 0h2m-121 1h2m11 0h2m14 0h2m7 0h2m18 0h2m6 0h2m4 0h2m13 0h2m5 0h2m4 0h2m-1 0h2m18 0h2m30 0h2m-132 1h2m17 0h2m20 0h2m-2 0h2m11 0h2m11 0h2m8 0h2m4 0h2m23 0h2m34 0h2m-155 1h2m0 0h2m17 0h2m7 0h2m2 0h2m7 0h2m0 0h2m4 0h2m11 0h2m0 0h2m5 0h2m4 0h2m5 0h2m13 0h2m-107 1h2m17 0h2m16 0h2m44 0h2m48 0h2m5 0h2m89 0h2m-237 1h2m37 0h2m31 0h2m13 0h2m7 0h2m29 0h2m-1 0h2m0 0h2m18 0h2m-195 1h2m40 0h2m14 0h2m26 0h2m7 0h2m0 0h2m1 0h2m1 0h2m20 0h2m33 0h2m10 0h2m10 0h2m8 0h2m1 0h2m36 0h2m16 0h2m-211 1h2m0 0h2m-1 0h2m11 0h2m15 0h2m2 0h2m-1 0h2m64 0h2m8 0h2m-60 1h2m5 0h2m2 0h2m-2 0h2m10 0h2m6 0h2m4 0h2m0 0h2m-1 0h2m3 0h2m3 0h2m101 0h2m-192 1h2m58 0h2m14 0h2m13 0h2m21 0h2m-163 1h2m64 0h2m10 0h2m-2 0h2m66 0h2m31 0h2m19 0h2m-120 1h2m15 0h2m11 0h2m15 0h2m-1 0h2m-94 1h2m17 0h2m26 0h2m32 0h2m12 0h2m1 0h2m-136 1h2m18 0h2m2 0h2m20 0h2m2 0h2m4 0h2m9 0h2m10 0h2m5 0h2m1 0h2m7 0h2m0 0h2m8 0h2m29 0h2m18 0h2m35 0h2m-145 1h2m0 0h2m23 0h2m12 0h2m21 0h2m-124 1h2m34 0h2m46 0h2m2 0h2m7 0h2m13 0h2m0 0h2m-64 1h2m2 0h2m18 0h2m13 1h2m2 0h2m-16 1h2m13 0h2m42 0h2m-1 0h2m7 0h2m60 0h2m-170 1h2m9 0h2m19 0h2m29 0h2m11 0h2m49 0h2m-151 1h2m23 0h2m-2 0h2m38 0h2m38 0h2m-22 1h2m-1 0h2m-65 1h2m72 0h2m32 0h2m-37 1h2m40 0h2m-100 1h2m86 0h2"/>
<path class="a" d="M66.9 226.5v-2.6M66.9 15.5v2.6M92.2 226.5v-2.6M92.2 15.5v2.6M117.4 226.5v-2.6M117.4 15.5v2.6M142.7 226.5v-2.6M142.7 15.5v2.6M168 226.5v-2.6M168 15.5v2.6M193.3 226.5v-2.6M193.3 15.5v2.6M218.5 226.5v-2.6M218.5 15.5v2.6M243.8 226.5v-2.6M243.8 15.5v2.6M269.1 226.5v-2.6M269.1 15.5v2.6M294.3 226.5v-2.6M294.3 15.5v2.6M319.6 226.5v-2.6M319.6 15.5v2.6M57.5 216.3h2.6M324.5 216.3h-2.6M57.5 192.6h2.6M324.5 192.6h-2.6M57.5 168.9h2.6M324.5 168.9h-2.6M57.5 145.2h2.6M324.5 145.2h-2.6M57.5 121.5h2.6M324.5 121.5h-2.6M57.5 97.8h2.6M324.5 97.8h-2.6M57.5 74.1h2.6M324.5 74.1h-2.6M57.5 50.4h2.6M324.5 50.4h-2.6M57.5 26.7h2.6M324.5 26.7h-2.6"/>
<rect class="a" x="57.5" y="15.5" width="267" height="211"/>
<g clip-path="url(#c1)">
<path class="m" d="M57.6 15.1C57.8 17.6 58 25.1 58.6 30.4C59.2 35.7 60.1 41.3 61.2 46.8C62.3 52.2 63.9 58.3 65.3 63.1C66.7 67.9 67.9 71.3 69.4 75.4C70.9 79.5 72.3 83.1 74.5 87.7C76.7 92.3 79.8 97.7 82.7 103C85.6 108.3 89.7 115.2 91.9 119.8C94.1 124.4 95.1 126.9 96 130.4C96.9 133.9 97.4 136.9 97.4 140.7C97.4 144.4 97.1 148.8 96 152.9C94.9 157 93.5 160.8 90.9 165.2C88.4 169.6 84.1 174.4 80.7 179.5C77.3 184.6 73.3 190.7 70.4 195.8C67.5 200.9 65.2 205.8 63.3 210.1C61.4 214.4 60.1 218.7 59.2 221.4C58.3 224.1 58 225.7 57.8 226.5"/>
<path class="m" d="M57.8 226.5C61.6 226.4 74.2 226.4 80.7 226.1C87.2 225.8 92.2 225.4 97 224.9C101.8 224.4 105.5 223.7 109.3 222.8C113 221.9 115.8 221.1 119.5 219.3C123.2 217.5 127.9 214.8 131.7 212.2C135.4 209.6 138.9 206.4 142 204C145.1 201.6 147.7 199.4 150.1 197.9C152.5 196.4 154.4 195.8 156.3 195.2C158.2 194.6 159.7 194.2 161.4 194.2C163.1 194.2 164.6 194.4 166.5 195C168.4 195.6 170.2 196.3 172.6 197.5C175 198.7 177.4 200.1 180.8 202.2C184.2 204.3 188.8 207.9 193 210.2C197.2 212.5 201.7 214.5 206 216.2C210.3 217.8 214.7 219 219 220.1C223.3 221.2 227.7 222 232 222.7C236.3 223.4 239.8 224 245 224.5C250.2 225 255.7 225.5 263.2 225.8C270.7 226.1 279.8 226 290 226.1C300.2 226.2 318.6 226.2 324.3 226.2"/>
<path class="c" d="M115 221.8C113.5 220.5 108.9 217.2 106.2 214.2C103.5 211.2 101 207.7 99 204C97 200.3 95.2 195.9 93.9 191.8C92.6 187.7 91.6 183.6 90.9 179.5C90.2 175.4 90 170.9 89.9 167.2C89.8 163.4 90 160.8 90.3 157C90.6 153.2 91.1 148.8 91.9 144.7C92.7 140.6 93.8 136.6 95 132.5C96.2 128.4 97.6 124 99 120.2C100.4 116.5 101.8 114.4 103.5 110C105.2 105.6 106.5 100.4 109.3 93.8C112.1 87.2 116.8 77.3 120.5 70.3C124.2 63.3 128.1 56.8 131.7 51.9C135.3 47 138.9 43.7 142 40.7C145.1 37.7 147.4 35.9 150.1 34.1C152.8 32.3 155.1 30.8 158.3 29.8C161.6 28.8 165.8 28.2 169.6 28C173.3 27.8 176.5 28.1 180.8 28.6C185.1 29.2 190.5 30.2 195.6 31.3C200.7 32.5 206.6 33.9 211.2 35.5C215.8 37.1 219.4 39 222.9 41.2C226.4 43.5 229 45.5 232 49C235 52.5 238.3 57.2 241.1 62C243.9 66.8 246.5 72 248.9 77.6C251.3 83.2 253.8 90.2 255.4 95.8C257.1 101.4 258.1 106.6 258.8 111.4C259.5 116.2 259.6 119.6 259.5 124.4C259.4 129.2 259.1 134.8 258 140C256.9 145.2 255 150.4 252.8 155.6C250.6 160.8 248.5 165.6 245 171.2C241.5 176.8 236.3 184.2 232 189.4C227.7 194.6 223.3 198.4 219 202.4C214.7 206.4 210.4 209.9 206 213.3C201.6 216.7 194.8 221.1 192.5 222.7"/>
<path class="c" d="M169.6 85.2C166 85.2 161.9 85.7 158.3 87.3C154.7 88.9 151.2 91.7 148.1 94.8C145 97.9 142.3 102 139.9 106.1C137.5 110.2 135.5 115.8 133.8 119.3C132.2 122.8 130.9 124.1 130 127C129.1 129.9 128.8 132.6 128.3 136.6C127.9 140.6 127.2 146.1 127.3 150.9C127.4 155.7 127.8 161.1 128.7 165.2C129.6 169.3 130.9 172.2 132.8 175.4C134.7 178.6 137.4 182.3 139.9 184.6C142.4 186.9 145.4 188.2 148.1 189.3C150.8 190.4 153.6 190.8 156.3 190.9C159 191 161.4 190.9 164.5 190.1C167.6 189.3 171.6 187.8 174.7 186C177.8 184.2 180 182 182.8 179.5C185.6 177 188.9 174.8 191.7 171.2C194.5 167.6 197.5 163 199.5 158.2C201.5 153.4 203 147.4 203.9 142.6C204.8 137.8 205 133.9 204.7 129.6C204.4 125.3 203.6 120.9 202.1 116.6C200.6 112.3 198 107.5 195.6 103.6C193.2 99.7 190.4 95.9 187.8 93.2C185.2 90.5 183 88.6 180 87.3C177 86 173.2 85.2 169.6 85.2Z"/>
</g>
<g font-size="7.90" text-anchor="middle">
<text x="66.9" y="238.4">200</text>
<text x="92.2" y="238.4">250</text>
<text x="117.4" y="238.4">300</text>
<text x="142.7" y="238.4">350</text>
<text x="168" y="238.4">400</text>
<text x="193.3" y="238.4">450</text>
<text x="218.5" y="238.4">500</text>
<text x="243.8" y="238.4">550</text>
<text x="269.1" y="238.4">600</text>
<text x="294.3" y="238.4">650</text>
<text x="319.6" y="238.4">700</text>
</g>
<g font-size="7.90" text-anchor="end">
<text x="54.2" y="219.3">0</text>
<text x="54.2" y="195.6">2</text>
<text x="54.2" y="171.9">4</text>
<text x="54.2" y="148.2">6</text>
<text x="54.2" y="124.5">8</text>
<text x="54.2" y="100.8">10</text>
<text x="54.2" y="77.1">12</text>
<text x="54.2" y="53.4">14</text>
<text x="54.2" y="29.7">16</text>
</g>
<text font-size="9.00" text-anchor="middle" x="191.5" y="251">k p3</text>
<text font-size="9.00" text-anchor="middle" transform="translate(38.7 121.4) rotate(-90)">Ea k p3</text>
<text font-size="7.90" x="58" y="13.7">× 10<tspan dx="0.7" dy="-3.8" font-size="6.32">4</tspan></text>
</g>
<g id="panel2">
<clipPath id="c2"><rect x="390.8" y="10.9" width="281.4" height="222.8"/></clipPath>
<path class="d" transform="scale(0.5)" d="M1042 56h2m58 0h2m48 0h2m17 0h2m16 0h2m-133 1h2m125 0h2m53 0h2m45 0h2m-149 1h2m49 0h2m107 0h2m-257 1h2m72 0h2m89 0h2m51 0h2m11 0h2m19 0h2m-232 1h2m14 0h2m52 0h2m35 0h2m38 0h2m-32 1h2m34 0h2m26 0h2m40 0h2m-210 1h2m24 0h2m160 0h2m1 0h2m-246 1h2m174 0h2m-156 1h2m17 0h2m82 0h2m-19 1h2m21 0h2m63 0h2m-202 1h2m72 0h2m8 0h2m4 0h2m34 0h2m-95 1h2m88 0h2m116 0h2m-237 1h2m69 0h2m93 0h2m24 0h2m29 0h2m-45 1h2m55 0h2m-138 1h2m17 0h2m123 0h2m-214 1h2m41 0h2m6 0h2m29 0h2m20 0h2m9 0h2m-85 1h2m30 0h2m12 0h2m-1 0h2m42 0h2m17 0h2m13 0h2m67 0h2m-251 1h2m69 0h2m88 0h2m49 0h2m36 0h2m-224 1h2m38 0h2m128 0h2m14 0h2m7 0h2m-160 1h2m18 0h2m59 0h2m76 0h2m13 0h2m-191 1h2m97 0h2m-1 0h2m29 0h2m56 0h2m-198 1h2m44 0h2m18 0h2m14 0h2m11 0h2m15 0h2m-179 1h2m134 0h2m21 0h2m54 0h2m6 0h2m58 0h2m-128 1h2m9 0h2m69 0h2m-214 1h2m33 0h2m108 0h2m89 0h2m-251 1h2m38 0h2m26 0h2m22 0h2m0 0h2m21 0h2m14 0h2m56 0h2m8 0h2m14 0h2m-185 1h2m18 0h2m80 0h2m3 0h2m29 0h2m21 0h2m-199 1h2m44 0h2m35 0h2m37 0h2m27 0h2m53 0h2m33 0h2m22 0h2m-228 1h2m56 0h2m11 0h2m58 0h2m14 0h2m40 0h2m-189 1h2m40 0h2m2 0h2m15 0h2m25 0h2m60 0h2m1 0h2m41 0h2m0 0h2m4 0h2m0 0h2m-251 1h2m102 0h2m37 0h2m11 0h2m33 0h2m19 0h2m-216 1h2m14 0h2m40 0h2m66 0h2m10 0h2m7 0h2m9 0h2m40 0h2m-195 1h2m184 0h2m6 0h2m-1 0h2m42 0h2m5 0h2m0 0h2m-291 1h2m9 0h2m75 0h2m14 0h2m90 0h2m1 0h2m14 0h2m27 0h2m-149 1h2m3 0h2m47 0h2m0 0h2m0 0h2m1 0h2m18 0h2m51 0h2m1 0h2m23 0h2m27 0h2m-208 1h2m30 0h2m44 0h2m58 0h2m53 0h2m3 0h2m18 0h2m-247 1h2m27 0h2m48 0h2m3 0h2m-1 0h2m1 0h2m9 0h2m17 0h2m31 0h2m4 0h2m44 0h2m10 0h2m30 0h2m-250 1h2m11 0h2m39 0h2m1 0h2m3 0h2m1 0h2m63 0h2m2 0h2m5 0h2m5 0h2m12 0h2m1 0h2m-124 1h2m7 0h2m26 0h2m16 0h2m7 0h2m32 0h2m2 0h2m32 0h2m41 0h2m-268 1h2m22 0h2m15 0h2m15 0h2m17 0h2m7 0h2m45 0h2m20 0h2m61 0h2m15 0h2m-1 0h2m-2 0h2m16 0h2m17 0h2m-190 1h2m15 0h2m77 0h2m68 0h2m8 0h2m-144 1h2m38 0h2m32 0h2m5 0h2m22 0h2m15 0h2m2 0h2m42 0h2m-210 1h2m76 0h2m5 0h2m0 0h2m2 0h2m3 0h2m3 0h2m5 0h2m4 0h2m0 0h2m1 0h2m50 0h2m5 0h2m0 0h2m20 0h2m-2 0h2m-227 1h2m69 0h2m0 0h2m8 0h2m70 0h2m0 0h2m10 0h2m3 0h2m34 0h2m9 0h2m1 0h2m-196 1h2m11 0h2m24 0h2m2 0h2m22 0h2m6 0h2m7 0h2m20 0h2m-1 0h2m10 0h2m67 0h2m11 0h2m-248 1h2m17 0h2m8 0h2m0 0h2m5 0h2m4 0h2m28 0h2m5 0h2m4 0h2m54 0h2m0 0h2m21 0h2m5 0h2m1 0h2m26 0h2m-1 0h2m6 0h2m37 0h2m-240 1h2m29 0h2m19 0h2m1 0h2m5 0h2m15 0h2m91 0h2m12 0h2m5 0h2m21 0h2m-261 1h2m76 0h2m24 0h2m16 0h2m-1 0h2m-1 0h2m6 0h2m21 0h2m20 0h2m16 0h2m12 0h2m46 0h2m-1 0h2m20 0h2m-240 1h2m35 0h2m4 0h2m14 0h2m4 0h2m1 0h2m18 0h2m9 0h2m21 0h2m18 0h2m1 0h2m15 0h2m3 0h2m-1 0h2m2 0h2m13 0h2m-214 1h2m94 0h2m9 0h2m18 0h2m8 0h2m15 0h2m4 0h2m10 0h2m14 0h2m12 0h2m34 0h2m0 0h2m3 0h2m-1 0h2m5 0h2m-1 0h2m-222 1h2m13 0h2m15 0h2m22 0h2m18 0h2m14 0h2m22 0h2m1 0h2m30 0h2m-1 0h2m50 0h2m14 0h2m-244 1h2m2 0h2m15 0h2m8 0h2m6 0h2m1 0h2m4 0h2m29 0h2m41 0h2m10 0h2m3 0h2m2 0h2m7 0h2m10 0h2m1 0h2m2 0h2m3 0h2m26 0h2m4 0h2m19 0h2m0 0h2m1 0h2m-256 1h2m128 0h2m14 0h2m3 0h2m12 0h2m39 0h2m-201 1h2m15 0h2m28 0h2m32 0h2m25 0h2m12 0h2m0 0h2m-2 0h2m7 0h2m26 0h2m8 0h2m11 0h2m56 0h2m11 0h2m-195 1h2m40 0h2m-1 0h2m11 0h2m3 0h2m24 0h2m34 0h2m2 0h2m8 0h2m0 0h2m19 0h2m-244 1h2m7 0h2m14 0h2m24 0h2m10 0h2m28 0h2m36 0h2m9 0h2m19 0h2m7 0h2m14 0h2m16 0h2m47 0h2m0 0h2m4 0h2m-224 1h2m0 0h2m10 0h2m10 0h2m69 0h2m-1 0h2m0 0h2m25 0h2m1 0h2m26 0h2m3 0h2m21 0h2m-1 0h2m-149 1h2m63 0h2m8 0h2m14 0h2m-1 0h2m1 0h2m-1 0h2m6 0h2m10 0h2m1 0h2m21 0h2m-218 1h2m0 0h2m88 0h2m17 0h2m27 0h2m-1 0h2m29 0h2m1 0h2m2 0h2m20 0h2m29 0h2m-225 1h2m22 0h2m5 0h2m3 0h2m6 0h2m17 0h2m24 0h2m1 0h2m3 0h2m6 0h2m-2 0h2m-2 0h2m3 0h2m11 0h2m2 0h2m9 0h2m56 0h2m4 0h2m0 0h2m9 0h2m6 0h2m1 0h2m8 0h2m-266 1h2m42 0h2m8 0h2m17 0h2m10 0h2m-1 0h2m10 0h2m30 0h2m7 0h2m12 0h2m29 0h2m-1 0h2m0 0h2m2 0h2m19 0h2m15 0h2m4 0h2m14 0h2m6 0h2m2 0h2m12 0h2m15 0h2m-276 1h2m54 0h2m20 0h2m15 0h2m14 0h2m10 0h2m29 0h2m9 0h2m7 0h2m-1 0h2m20 0h2m-1 0h2m40 0h2m7 0h2m5 0h2m6 0h2m-202 1h2m41 0h2m10 0h2m8 0h2m7 0h2m21 0h2m7 0h2m31 0h2m22 0h2m2 0h2m3 0h2m10 0h2m10 0h2m10 0h2m-223 1h2m16 0h2m11 0h2m12 0h2m1 0h2m62 0h2m15 0h2m-2 0h2m13 0h2m2 0h2m8 0h2m8 0h2m31 0h2m-321 1h2m60 0h2m8 0h2m19 0h2m31 0h2m9 0h2m7 0h2m6 0h2m25 0h2m49 0h2m7 0h2m19 0h2m0 0h2m37 0h2m5 0h2m22 0h2m3 0h2m-289 1h2m15 0h2m61 0h2m13 0h2m4 0h2m25 0h2m40 0h2m10 0h2m0 0h2m4 0h2m22 0h2m43 0h2m10 0h2m10 0h2m-264 1h2m19 0h2m18 0h2m79 0h2m25 0h2m5 0h2m-1 0h2m0 0h2m-1 0h2m25 0h2m6 0h2m61 0h2m6 0h2m1 0h2m-260 1h2m9 0h2m24 0h2m6 0h2m2 0h2m7 0h2m1 0h2m14 0h2m-1 0h2m5 0h2m7 0h2m8 0h2m4 0h2m-2 0h2m-1 0h2m6 0h2m-1 0h2m6 0h2m8 0h2m1 0h2m10 0h2m0 0h2m7 0h2m15 0h2m13 0h2m5 0h2m-183 1h2m-2 0h2m41 0h2m6 0h2m12 0h2m-1 0h2m8 0h2m10 0h2m10 0h2m-2 0h2m5 0h2m-1 0h2m10 0h2m0 0h2m5 0h2m13 0h2m2 0h2m24 0h2m7 0h2m26 0h2m3 0h2m-236 1h2m3 0h2m66 0h2m3 0h2m-2 0h2m13 0h2m-2 0h2m1 0h2m0 0h2m5 0h2m33 0h2m36 0h2m16 0h2m2 0h2m2 0h2m12 0h2m13 0h2m19 0h2m-269 1h2m32 0h2m37 0h2m9 0h2m5 0h2m-1 0h2m16 0h2m66 0h2m-1 0h2m2 0h2m47 0h2m1 0h2m3 0h2m4 0h2m-1 0h2m8 0h2m-164 1h2m5 0h2m0 0h2m2 0h2m11 0h2m-1 0h2m-2 0h2m31 0h2m17 0h2m27 0h2m37 0h2m9 0h2m-354 1h2m59 0h2m57 0h2m3 0h2m5 0h2m9 0h2m30 0h2m1 0h2m7 0h2m16 0h2m25 0h2m14 0h2m2 0h2m2 0h2m9 0h2m11 0h2m15 0h2m2 0h2m0 0h2m-2 0h2m5 0h2m-1 0h2m0 0h2m14 0h2m3 0h2m-1 0h2m28 0h2m-279 1h2m-2 0h2m52 0h2m0 0h2m9 0h2m13 0h2m1 0h2m12 0h2m9 0h2m-2 0h2m15 0h2m9 0h2m5 0h2m10 0h2m0 0h2m16 0h2m0 0h2m0 0h2m10 0h2m4 0h2m-2 0h2m20 0h2m-1 0h2m9 0h2m-2 0h2m13 0h2m9 0h2m11 0h2m-281 1h2m-1 0h2m28 0h2m9 0h2m10 0h2m12 0h2m2 0h2m11 0h2m-1 0h2m3 0h2m6 0h2m10 0h2m35 0h2m-1 0h2m36 0h2m5 0h2m6 0h2m1 0h2m6 0h2m5 0h2m6 0h2m1 0h2m0 0h2m2 0h2m23 0h2m16 0h2m-281 1h2m54 0h2m5 0h2m23 0h2m61 0h2m4 0h2m1 0h2m16 0h2m12 0h2m36 0h2m-1 0h2m5 0h2m16 0h2m6 0h2m-211 1h2m21 0h2m4 0h2m11 0h2m3 0h2m-1 0h2m0 0h2m28 0h2m10 0h2m11 0h2m12 0h2m-2 0h2m1 0h2m0 0h2m0 0h2m18 0h2m-1 0h2m8 0h2m0 0h2m22 0h2m16 0h2m6 0h2m6 0h2m3 0h2m-352 1h2m68 0h2m39 0h2m-1 0h2m12 0h2m2 0h2m8 0h2m21 0h2m1 0h2m25 0h2m1 0h2m11 0h2m24 0h2m5 0h2m16 0h2m-1 0h2m17 0h2m-1 0h2m1 0h2m2 0h2m2 0h2m1 0h2m17 0h2m2 0h2m22 0h2m6 0h2m-1 0h2m-1 0h2m1 0h2m-300 1h2m9 0h2m15 0h2m2 0h2m15 0h2m28 0h2m14 0h2m42 0h2m1 0h2m5 0h2m37 0h2m-2 0h2m11 0h2m0 0h2m18 0h2m16 0h2m9 0h2m-2 0h2m9 0h2m3 0h2m-1 0h2m1 0h2m3 0h2m2 0h2m-1 0h2m-2 0h2m5 0h2m5 0h2m1 0h2m-403 1h2m4 0h2m60 0h2m73 0h2m32 0h2m1 0h2m2 0h2m17 0h2m17 0h2m1 0h2m-1 0h2m14 0h2m30 0h2m11 0h2m-1 0h2m-1 0h2m20 0h2m3 0h2m14 0h2m10 0h2m11 0h2m8 0h2m-2 0h2m-1 0h2m27 0h2m-276 1h2m28 0h2m9 0h2m49 0h2m13 0h2m5 0h2m15 0h2m3 0h2m-2 0h2m2 0h2m6 0h2m11 0h2m9 0h2m23 0h2m1 0h2m4 0h2m4 0h2m10 0h2m3 0h2m0 0h2m44 0h2m-293 1h2m32 0h2m-1 0h2m21 0h2m6 0h2m-1 0h2m7 0h2m12 0h2m10 0h2m3 0h2m3 0h2m22 0h2m0 0h2m1 0h2m12 0h2m4 0h2m2 0h2m0 0h2m13 0h2m0 0h2m27 0h2m1 0h2m3 0h2m14 0h2m5 0h2m9 0h2m1 0h2m-2 0h2m6 0h2m6 0h2m6 0h2m3 0h2m-355 1h2m102 0h2m0 0h2m19 0h2m2 0h2m1 0h2m10 0h2m44 0h2m8 0h2m10 0h2m1 0h2m23 0h2m2 0h2m22 0h2m6 0h2m19 0h2m10 0h2m6 0h2m-318 1h2m79 0h2m58 0h2m14 0h2m1 0h2m1 0h2m41 0h2m3 0h2m6 0h2m24 0h2m-1 0h2m8 0h2m9 0h2m5 0h2m-2 0h2m1 0h2m4 0h2m0 0h2m32 0h2m6 0h2m14 0h2m2 0h2m-313 1h2m35 0h2m8 0h2m12 0h2m8 0h2m12 0h2m-2 0h2m14 0h2m2 0h2m5 0h2m5 0h2m9 0h2m1 0h2m13 0h2m-2 0h2m4 0h2m2 0h2m8 0h2m-1 0h2m2 0h2m5 0h2m-1 0h2m16 0h2m0 0h2m8 0h2m8 0h2m-1 0h2m4 0h2m-1 0h2m1 0h2m-1 0h2m12 0h2m3 0h2m50 0h2m8 0h2m3 0h2m-266 1h2m0 0h2m1 0h2m9 0h2m-1 0h2m3 0h2m2 0h2m12 0h2m38 0h2m3 0h2m14 0h2m11 0h2m3 0h2m8 0h2m6 0h2m27 0h2m1 0h2m-1 0h2m22 0h2m2 0h2m4 0h2m0 0h2m13 0h2m8 0h2m5 0h2m-1 0h2m14 0h2m4 0h2m-315 1h2m24 0h2m36 0h2m20 0h2m19 0h2m10 0h2m13 0h2m8 0h2m20 0h2m9 0h2m-1 0h2m0 0h2m0 0h2m13 0h2m11 0h2m5 0h2m27 0h2m27 0h2m9 0h2m0 0h2m-1 0h2m0 0h2m3 0h2m-250 1h2m26 0h2m24 0h2m3 0h2m5 0h2m7 0h2m6 0h2m3 0h2m11 0h2m33 0h2m2 0h2m14 0h2m13 0h2m3 0h2m7 0h2m3 0h2m-1 0h2m3 0h2m0 0h2m16 0h2m1 0h2m4 0h2m-2 0h2m4 0h2m1 0h2m23 0h2m2 0h2m-295 1h2m66 0h2m8 0h2m14 0h2m-1 0h2m15 0h2m4 0h2m12 0h2m4 0h2m3 0h2m29 0h2m9 0h2m11 0h2m0 0h2m10 0h2m9 0h2m12 0h2m4 0h2m-1 0h2m-1 0h2m11 0h2m20 0h2m-307 1h2m19 0h2m29 0h2m5 0h2m43 0h2m-2 0h2m2 0h2m5 0h2m6 0h2m18 0h2m2 0h2m22 0h2m7 0h2m17 0h2m-1 0h2m-1 0h2m6 0h2m13 0h2m10 0h2m1 0h2m4 0h2m1 0h2m41 0h2m12 0h2m-1 0h2m4 0h2m3 0h2m-266 1h2m12 0h2m0 0h2m17 0h2m6 0h2m24 0h2m2 0h2m0 0h2m-1 0h2m-2 0h2m15 0h2m-2 0h2m8 0h2m2 0h2m24 0h2m-1 0h2m15 0h2m-1 0h2m1 0h2m3 0h2m4 0h2m4 0h2m1 0h2m1 0h2m0 0h2m23 0h2m2 0h2m15 0h2m-2 0h2m4 0h2m0 0h2m5 0h2m7 0h2m4 0h2m-1 0h2m0 0h2m-257 1h2m22 0h2m13 0h2m9 0h2m4 0h2m3 0h2m8 0h2m24 0h2m24 0h2m7 0h2m23 0h2m1 0h2m-1 0h2m7 0h2m-2 0h2m0 0h2m11 0h2m7 0h2m-2 0h2m9 0h2m-1 0h2m6 0h2m6 0h2m-1 0h2m-2 0h2m7 0h2m19 0h2m5 0h2m-1 0h2m-284 1h2m7 0h2m42 0h2m37 0h2m1 0h2m9 0h2m6 0h2m9 0h2m13 0h2m6 0h2m7 0h2m11 0h2m7 0h2m26 0h2m8 0h2m20 0h2m19 0h2m20 0h2m-280 1h2m54 0h2m3 0h2m16 0h2m14 0h2m-1 0h2m28 0h2m11 0h2m9 0h2m0 0h2m9 0h2m-2 0h2m0 0h2m2 0h2m5 0h2m17 0h2m2 0h2m4 0h2m11 0h2m7 0h2m13 0h2m0 0h2m2 0h2m4 0h2m5 0h2m8 0h2m3 0h2m-250 1h2m32 0h2m5 0h2m5 0h2m18 0h2m2 0h2m0 0h2m22 0h2m16 0h2m2 0h2m1 0h2m-2 0h2m1 0h2m6 0h2m3 0h2m-1 0h2m20 0h2m9 0h2m4 0h2m0 0h2m-2 0h2m12 0h2m12 0h2m-2 0h2m22 0h2m3 0h2m-1 0h2m13 0h2m-289 1h2m1 0h2m26 0h2m18 0h2m16 0h2m20 0h2m11 0h2m12 0h2m28 0h2m-1 0h2m16 0h2m6 0h2m-1 0h2m22 0h2m11 0h2m1 0h2m-2 0h2m20 0h2m1 0h2m4 0h2m4 0h2m7 0h2m1 0h2m0 0h2m2 0h2m6 0h2m0 0h2m5 0h2m-371 1h2m136 0h2m6 0h2m30 0h2m9 0h2m4 0h2m-1 0h2m6 0h2m-1 0h2m7 0h2m-1 0h2m7 0h2m17 0h2m1 0h2m4 0h2m3 0h2m-1 0h2m5 0h2m1 0h2m6 0h2m0 0h2m1 0h2m-1 0h2m0 0h2m0 0h2m1 0h2m3 0h2m2 0h2m12 0h2m0 0h2m2 0h2m0 0h2m0 0h2m3 0h2m4 0h2m2 0h2m24 0h2m-290 1h2m25 0h2m7 0h2m58 0h2m16 0h2m2 0h2m3 0h2m-1 0h2m17 0h2m-1 0h2m4 0h2m2 0h2m12 0h2m40 0h2m9 0h2m2 0h2m3 0h2m3 0h2m2 0h2m16 0h2m7 0h2m4 0h2m3 0h2m4 0h2m4 0h2m4 0h2m-249 1h2m28 0h2m13 0h2m11 0h2m1 0h2m5 0h2m6 0h2m6 0h2m0 0h2m5 0h2m2 0h2m4 0h2m25 0h2m-1 0h2m2 0h2m-1 0h2m11 0h2m40 0h2m-1 0h2m1 0h2m6 0h2m-1 0h2m11 0h2m10 0h2m-1 0h2m-293 1h2m49 0h2m7 0h2m17 0h2m24 0h2m3 0h2m-1 0h2m-2 0h2m-2 0h2m6 0h2m1 0h2m4 0h2m-1 0h2m9 0h2m14 0h2m10 0h2m8 0h2m8 0h2m1 0h2m5 0h2m4 0h2m5 0h2m-2 0h2m13 0h2m-1 0h2m-1 0h2m1 0h2m3 0h2m7 0h2m15 0h2m6 0h2m5 0h2m1 0h2m8 0h2m-1 0h2m3 0h2m-281 1h2m12 0h2m20 0h2m15 0h2m-2 0h2m2 0h2m13 0h2m2 0h2m12 0h2m4 0h2m17 0h2m6 0h2m11 0h2m5 0h2m-1 0h2m0 0h2m2 0h2m8 0h2m3 0h2m14 0h2m11 0h2m12 0h2m5 0h2m14 0h2m6 0h2m8 0h2m-1 0h2m10 0h2m6 0h2m3 0h2m3 0h2m-235 1h2m41 0h2m1 0h2m15 0h2m1 0h2m1 0h2m2 0h2m18 0h2m3 0h2m21 0h2m-1 0h2m1 0h2m2 0h2m2 0h2m1 0h2m1 0h2m25 0h2m6 0h2m6 0h2m9 0h2m8 0h2m12 0h2m-1 0h2m1 0h2m4 0h2m9 0h2m-272 1h2m38 0h2m20 0h2m1 0h2m22 0h2m13 0h2m-1 0h2m7 0h2m5 0h2m7 0h2m-1 0h2m31 0h2m2 0h2m2 0h2m8 0h2m11 0h2m2 0h2m3 0h2m24 0h2m3 0h2m16 0h2m-2 0h2m-1 0h2m-1 0h2m-1 0h2m7 0h2m1 0h2m-273 1h2m7 0h2m49 0h2m19 0h2m0 0h2m4 0h2m22 0h2m2 0h2m14 0h2m1 0h2m4 0h2m-1 0h2m-2 0h2m22 0h2m-1 0h2m4 0h2m1 0h2m11 0h2m0 0h2m8 0h2m4 0h2m4 0h2m11 0h2m3 0h2m3 0h2m3 0h2m5 0h2m-1 0h2m-1 0h2m0 0h2m18 0h2m-298 1h2m16 0h2m35 0h2m6 0h2m20 0h2m6 0h2m-1 0h2m0 0h2m4 0h2m9 0h2m7 0h2m5 0h2m0 0h2m10 0h2m3 0h2m1 0h2m2 0h2m6 0h2m29 0h2m8 0h2m10 0h2m-2 0h2m2 0h2m3 0h2m0 0h2m3 0h2m21 0h2m2 0h2m0 0h2m17 0h2m2 0h2m13 0h2m-253 1h2m8 0h2m8 0h2m0 0h2m-1 0h2m4 0h2m2 0h2m6 0h2m9 0h2m11 0h2m17 0h2m16 0h2m-1 0h2m5 0h2m5 0h2m30 0h2m0 0h2m9 0h2m12 0h2m6 0h2m1 0h2m6 0h2m2 0h2m7 0h2m7 0h2m0 0h2m4 0h2m3 0h2m14 0h2m0 0h2m-242 1h2m14 0h2m-1 0h2m28 0h2m29 0h2m-1 0h2m2 0h2m-1 0h2m6 0h2m6 0h2m9 0h2m3 0h2m4 0h2m2 0h2m-2 0h2m0 0h2m19 0h2m-1 0h2m10 0h2m1 0h2m0 0h2m11 0h2m8 0h2m5 0h2m4 0h2m7 0h2m-2 0h2m0 0h2m10 0h2m0 0h2m5 0h2m8 0h2m-260 1h2m9 0h2m22 0h2m13 0h2m2 0h2m18 0h2m1 0h2m2 0h2m4 0h2m8 0h2m10 0h2m3 0h2m1 0h2m4 0h2m0 0h2m7 0h2m-2 0h2m1 0h2m0 0h2m6 0h2m3 0h2m-1 0h2m7 0h2m5 0h2m8 0h2m-1 0h2m-2 0h2m0 0h2m12 0h2m11 0h2m17 0h2m24 0h2m-278 1h2m53 0h2m20 0h2m11 0h2m11 0h2m0 0h2m1 0h2m5 0h2m4 0h2m4 0h2m-2 0h2m1 0h2m4 0h2m3 0h2m1 0h2m6 0h2m-2 0h2m20 0h2m-1 0h2m8 0h2m12 0h2m0 0h2m14 0h2m-2 0h2m6 0h2m13 0h2m-1 0h2m14 0h2m2 0h2m10 0h2m-271 1h2m5 0h2m12 0h2m29 0h2m8 0h2m2 0h2m-1 0h2m19 0h2m5 0h2m-1 0h2m2 0h2m1 0h2m5 0h2m9 0h2m7 0h2m4 0h2m0 0h2m0 0h2m-1 0h2m-1 0h2m10 0h2m17 0h2m1 0h2m4 0h2m6 0h2m1 0h2m-1 0h2m1 0h2m7 0h2m5 0h2m-1 0h2m4 0h2m14 0h2m-1 0h2m1 0h2m4 0h2m0 0h2m2 0h2m-2 0h2m17 0h2m-1 0h2m2 0h2m-314 1h2m31 0h2m0 0h2m41 0h2m4 0h2m0 0h2m1 0h2m9 0h2m16 0h2m16 0h2m-1 0h2m0 0h2m8 0h2m6 0h2m12 0h2m-1 0h2m18 0h2m2 0h2m0 0h2m0 0h2m-1 0h2m10 0h2m-1 0h2m0 0h2m3 0h2m0 0h2m2 0h2m2 0h2m12 0h2m17 0h2m3 0h2m-1 0h2m-1 0h2m37 0h2m1 0h2m-365 1h2m97 0h2m36 0h2m32 0h2m3 0h2m0 0h2m9 0h2m-1 0h2m23 0h2m0 0h2m10 0h2m-1 0h2m2 0h2m0 0h2m5 0h2m-1 0h2m0 0h2m4 0h2m28 0h2m1 0h2m1 0h2m-2 0h2m4 0h2m0 0h2m4 0h2m-2 0h2m6 0h2m7 0h2m1 0h2m16 0h2m2 0h2m5 0h2m3 0h2m-383 1h2m113 0h2m13 0h2m38 0h2m-1 0h2m15 0h2m19 0h2m11 0h2m-2 0h2m4 0h2m17 0h2m1 0h2m4 0h2m6 0h2m2 0h2m2 0h2m9 0h2m4 0h2m13 0h2m5 0h2m-2 0h2m10 0h2m0 0h2m6 0h2m1 0h2m-1 0h2m0 0h2m5 0h2m4 0h2m16 0h2m-345 1h2m86 0h2m8 0h2m13 0h2m0 0h2m8 0h2m18 0h2m4 0h2m0 0h2m-2 0h2m21 0h2m0 0h2m8 0h2m14 0h2m13 0h2m4 0h2m-2 0h2m14 0h2m5 0h2m0 0h2m5 0h2m-1 0h2m11 0h2m0 0h2m2 0h2m4 0h2m2 0h2m0 0h2m16 0h2m4 0h2m9 0h2m4 0h2m-2 0h2m1 0h2m-2 0h2m0 0h2m20 0h2m-245 1h2m11 0h2m6 0h2m4 0h2m21 0h2m2 0h2m14 0h2m-2 0h2m-1 0h2m1 0h2m4 0h2m9 0h2m12 0h2m12 0h2m7 0h2m2 0h2m2 0h2m-1 0h2m3 0h2m-1 0h2m7 0h2m4 0h2m0 0h2m-1 0h2m2 0h2m5 0h2m3 0h2m3 0h2m6 0h2m2 0h2m8 0h2m2 0h2m10 0h2m8 0h2m-1 0h2m13 0h2m-1 0h2m-277 1h2m6 0h2m10 0h2m7 0h2m0 0h2m34 0h2m15 0h2m5 0h2m-2 0h2m41 0h2m-1 0h2m2 0h2m3 0h2m9 0h2m-1 0h2m0 0h2m11 0h2m7 0h2m3 0h2m1 0h2m6 0h2m3 0h2m0 0h2m0 0h2m-1 0h2m9 0h2m-2 0h2m8 0h2m11 0h2m6 0h2m0 0h2m3 0h2m-1 0h2m10 0h2m-275 1h2m13 0h2m13 0h2m20 0h2m13 0h2m3 0h2m5 0h2m10 0h2m5 0h2m1 0h2m3 0h2m4 0h2m17 0h2m6 0h2m20 0h2m1 0h2m1 0h2m7 0h2m8 0h2m0 0h2m-2 0h2m11 0h2m0 0h2m8 0h2m8 0h2m1 0h2m3 0h2m9 0h2m-2 0h2m12 0h2m1 0h2m3 0h2m11 0h2m1 0h2m-371 1h2m92 0h2m19 0h2m6 0h2m8 0h2m9 0h2m8 0h2m1 0h2m17 0h2m0 0h2m4 0h2m18 0h2m16 0h2m11 0h2m-2 0h2m13 0h2m2 0h2m0 0h2m1 0h2m1 0h2m-1 0h2m5 0h2m3 0h2m-1 0h2m-1 0h2m1 0h2m6 0h2m6 0h2m11 0h2m-1 0h2m16 0h2m4 0h2m0 0h2m-1 0h2m2 0h2m9 0h2m3 0h2m2 0h2m-1 0h2m0 0h2m-1 0h2m0 0h2m-312 1h2m15 0h2m15 0h2m34 0h2m6 0h2m1 0h2m13 0h2m2 0h2m0 0h2m7 0h2m1 0h2m-2 0h2m24 0h2m2 0h2m25 0h2m8 0h2m3 0h2m6 0h2m0 0h2m0 0h2m19 0h2m2 0h2m0 0h2m-2 0h2m5 0h2m0 0h2m1 0h2m-2 0h2m1 0h2m6 0h2m-2 0h2m0 0h2m-1 0h2m4 0h2m10 0h2m-197 1h2m-1 0h2m3 0h2m-1 0h2m9 0h2m1 0h2m12 0h2m1 0h2m2 0h2m4 0h2m0 0h2m-2 0h2m12 0h2m19 0h2m-1 0h2m-2 0h2m-1 0h2m3 0h2m-2 0h2m1 0h2m0 0h2m0 0h2m7 0h2m3 0h2m0 0h2m-2 0h2m4 0h2m7 0h2m13 0h2m1 0h2m-1 0h2m12 0h2m17 0h2m9 0h2m0 0h2m3 0h2m4 0h2m5 0h2m7 0h2m-1 0h2m2 0h2m-273 1h2m1 0h2m10 0h2m5 0h2m26 0h2m8 0h2m-1 0h2m6 0h2m12 0h2m12 0h2m1 0h2m5 0h2m1 0h2m5 0h2m12 0h2m5 0h2m11 0h2m9 0h2m1 0h2m1 0h2m12 0h2m2 0h2m-1 0h2m-1 0h2m5 0h2m-2 0h2m-2 0h2m4 0h2m5 0h2m2 0h2m-2 0h2m6 0h2m8 0h2m2 0h2m5 0h2m7 0h2m0 0h2m6 0h2m5 0h2m5 0h2m3 0h2m1 0h2m-324 1h2m27 0h2m-1 0h2m16 0h2m30 0h2m-1 0h2m5 0h2m-2 0h2m6 0h2m10 0h2m6 0h2m6 0h2m2 0h2m9 0h2m3 0h2m1 0h2m13 0h2m3 0h2m-1 0h2m6 0h2m9 0h2m6 0h2m6 0h2m-1 0h2m10 0h2m0 0h2m-2 0h2m13 0h2m-2 0h2m17 0h2m7 0h2m7 0h2m2 0h2m2 0h2m0 0h2m-1 0h2m2 0h2m13 0h2m-1 0h2m-2 0h2m4 0h2m0 0h2m-2 0h2m9 0h2m-287 1h2m25 0h2m1 0h2m32 0h2m0 0h2m4 0h2m10 0h2m-1 0h2m3 0h2m7 0h2m5 0h2m6 0h2m-2 0h2m15 0h2m4 0h2m14 0h2m3 0h2m2 0h2m-2 0h2m10 0h2m2 0h2m0 0h2m3 0h2m-1 0h2m14 0h2m3 0h2m-2 0h2m3 0h2m16 0h2m-2 0h2m2 0h2m9 0h2m1 0h2m-2 0h2m-1 0h2m-1 0h2m6 0h2m3 0h2m5 0h2m2 0h2m3 0h2m-1 0h2m-266 1h2m30 0h2m-2 0h2m-1 0h2m3 0h2m13 0h2m16 0h2m17 0h2m15 0h2m0 0h2m-1 0h2m-1 0h2m1 0h2m4 0h2m3 0h2m-1 0h2m0 0h2m6 0h2m1 0h2m9 0h2m-1 0h2m6 0h2m18 0h2m2 0h2m21 0h2m-2 0h2m14 0h2m2 0h2m0 0h2m17 0h2m2 0h2m3 0h2m5 0h2m-1 0h2m0 0h2m2 0h2m-1 0h2m-311 1h2m22 0h2m16 0h2m6 0h2m14 0h2m-1 0h2m23 0h2m3 0h2m17 0h2m7 0h2m9 0h2m30 0h2m16 0h2m8 0h2m2 0h2m12 0h2m0 0h2m3 0h2m-1 0h2m0 0h2m6 0h2m0 0h2m6 0h2m-2 0h2m0 0h2m0 0h2m8 0h2m9 0h2m0 0h2m-1 0h2m3 0h2m5 0h2m-1 0h2m0 0h2m2 0h2m6 0h2m0 0h2m5 0h2m-241 1h2m4 0h2m1 0h2m10 0h2m7 0h2m9 0h2m3 0h2m1 0h2m3 0h2m0 0h2m5 0h2m5 0h2m16 0h2m0 0h2m10 0h2m-1 0h2m8 0h2m-1 0h2m2 0h2m0 0h2m4 0h2m-1 0h2m30 0h2m0 0h2m1 0h2m5 0h2m-2 0h2m30 0h2m16 0h2m4 0h2m-2 0h2m-2 0h2m1 0h2m9 0h2m-322 1h2m19 0h2m24 0h2m19 0h2m-2 0h2m4 0h2m4 0h2m-1 0h2m7 0h2m20 0h2m1 0h2m15 0h2m9 0h2m6 0h2m13 0h2m2 0h2m-2 0h2m-2 0h2m0 0h2m3 0h2m1 0h2m-2 0h2m12 0h2m3 0h2m-2 0h2m0 0h2m3 0h2m-2 0h2m-1 0h2m0 0h2m-2 0h2m3 0h2m5 0h2m-2 0h2m2 0h2m0 0h2m4 0h2m1 0h2m12 0h2m-2 0h2m3 0h2m-1 0h2m8 0h2m4 0h2m-1 0h2m0 0h2m9 0h2m11 0h2m1 0h2m4 0h2m2 0h2m0 0h2m-2 0h2m1 0h2m-268 1h2m20 0h2m14 0h2m8 0h2m3 0h2m15 0h2m7 0h2m13 0h2m4 0h2m1 0h2m0 0h2m0 0h2m2 0h2m-2 0h2m1 0h2m10 0h2m0 0h2m4 0h2m1 0h2m1 0h2m16 0h2m-2 0h2m14 0h2m-1 0h2m2 0h2m1 0h2m0 0h2m1 0h2m0 0h2m4 0h2m11 0h2m-1 0h2m6 0h2m4 0h2m1 0h2m13 0h2m-2 0h2m0 0h2m9 0h2m-1 0h2m0 0h2m3 0h2m3 0h2m-274 1h2m19 0h2m8 0h2m0 0h2m0 0h2m28 0h2m4 0h2m1 0h2m5 0h2m-2 0h2m5 0h2m-1 0h2m3 0h2m16 0h2m11 0h2m11 0h2m3 0h2m-1 0h2m2 0h2m-1 0h2m4 0h2m0 0h2m3 0h2m13 0h2m1 0h2m3 0h2m-2 0h2m8 0h2m8 0h2m7 0h2m4 0h2m-1 0h2m7 0h2m17 0h2m7 0h2m11 0h2m-2 0h2m0 0h2m-301 1h2m41 0h2m23 0h2m5 0h2m-1 0h2m7 0h2m6 0h2m14 0h2m0 0h2m3 0h2m0 0h2m7 0h2m0 0h2m5 0h2m-1 0h2m1 0h2m2 0h2m16 0h2m4 0h2m17 0h2m1 0h2m6 0h2m-1 0h2m6 0h2m0 0h2m11 0h2m0 0h2m2 0h2m1 0h2m2 0h2m-2 0h2m0 0h2m0 0h2m0 0h2m0 0h2m9 0h2m-1 0h2m5 0h2m1 0h2m6 0h2m9 0h2m3 0h2m2 0h2m-234 1h2m2 0h2m7 0h2m11 0h2m0 0h2m1 0h2m0 0h2m3 0h2m0 0h2m12 0h2m5 0h2m12 0h2m7 0h2m6 0h2m7 0h2m1 0h2m-1 0h2m-2 0h2m0 0h2m2 0h2m1 0h2m0 0h2m-1 0h2m-1 0h2m8 0h2m0 0h2m9 0h2m25 0h2m-1 0h2m0 0h2m1 0h2m3 0h2m0 0h2m7 0h2m2 0h2m7 0h2m2 0h2m1 0h2m3 0h2m1 0h2m1 0h2m1 0h2m-1 0h2m-1 0h2m2 0h2m-242 1h2m1 0h2m6 0h2m7 0h2m24 0h2m2 0h2m0 0h2m-1 0h2m14 0h2m4 0h2m4 0h2m8 0h2m5 0h2m3 0h2m31 0h2m8 0h2m5 0h2m12 0h2m8 0h2m1 0h2m-2 0h2m0 0h2m0 0h2m4 0h2m-2 0h2m4 0h2m6 0h2m3 0h2m3 0h2m4 0h2m15 0h2m-311 1h2m62 0h2m-1 0h2m13 0h2m4 0h2m13 0h2m-2 0h2m7 0h2m-1 0h2m6 0h2m4 0h2m14 0h2m13 0h2m1 0h2m2 0h2m2 0h2m7 0h2m3 0h2m2 0h2m6 0h2m5 0h2m1 0h2m2 0h2m-2 0h2m2 0h2m-2 0h2m-2 0h2m0 0h2m2 0h2m-1 0h2m1 0h2m11 0h2m5 0h2m-1 0h2m1 0h2m-1 0h2m-2 0h2m-2 0h2m2 0h2m2 0h2m13 0h2m-1 0h2m5 0h2m1 0h2m0 0h2m-2 0h2m1 0h2m4 0h2m-1 0h2m9 0h2m0 0h2m12 0h2m1 0h2m-2 0h2m-261 1h2m1 0h2m10 0h2m8 0h2m0 0h2m-2 0h2m-1 0h2m3 0h2m14 0h2m21 0h2m4 0h2m2 0h2m4 0h2m1 0h2m3 0h2m3 0h2m6 0h2m-2 0h2m4 0h2m2 0h2m1 0h2m0 0h2m0 0h2m-1 0h2m8 0h2m3 0h2m3 0h2m-1 0h2m1 0h2m3 0h2m3 0h2m-1 0h2m10 0h2m1 0h2m-1 0h2m-2 0h2m5 0h2m-2 0h2m1 0h2m0 0h2m14 0h2m-2 0h2m-1 0h2m-2 0h2m3 0h2m1 0h2m12 0h2m1 0h2m1 0h2m-254 1h2m55 0h2m12 0h2m11 0h2m9 0h2m2 0h2m4 0h2m-1 0h2m18 0h2m0 0h2m-1 0h2m3 0h2m-1 0h2m6 0h2m2 0h2m-2 0h2m1 0h2m1 0h2m-2 0h2m11 0h2m10 0h2m-2 0h2m7 0h2m-2 0h2m9 0h2m12 0h2m0 0h2m7 0h2m8 0h2m1 0h2m6 0h2m9 0h2m-2 0h2m1 0h2m-2 0h2m-1 0h2m-2 0h2m2 0h2m1 0h2m-302 1h2m39 0h2m3 0h2m32 0h2m9 0h2m-1 0h2m6 0h2m17 0h2m1 0h2m2 0h2m5 0h2m-1 0h2m2 0h2m12 0h2m5 0h2m6 0h2m0 0h2m3 0h2m9 0h2m8 0h2m2 0h2m-2 0h2m2 0h2m-1 0h2m4 0h2m6 0h2m9 0h2m-2 0h2m5 0h2m2 0h2m-2 0h2m7 0h2m-1 0h2m16 0h2m-1 0h2m-2 0h2m-1 0h2m2 0h2m-1 0h2m5 0h2m1 0h2m2 0h2m1 0h2m-1 0h2m3 0h2m0 0h2m0 0h2m-272 1h2m18 0h2m1 0h2m1 0h2m3 0h2m4 0h2m6 0h2m0 0h2m8 0h2m-1 0h2m0 0h2m3 0h2m15 0h2m5 0h2m-1 0h2m-1 0h2m2 0h2m26 0h2m-1 0h2m5 0h2m4 0h2m3 0h2m4 0h2m13 0h2m2 0h2m5 0h2m2 0h2m19 0h2m0 0h2m2 0h2m1 0h2m-2 0h2m7 0h2m3 0h2m0 0h2m1 0h2m3 0h2m1 0h2m7 0h2m1 0h2m-1 0h2m-1 0h2m0 0h2m0 0h2m4 0h2m-1 0h2m-2 0h2m-1 0h2m0 0h2m0 0h2m-240 1h2m9 0h2m4 0h2m-1 0h2m3 0h2m20 0h2m0 0h2m4 0h2m0 0h2m10 0h2m3 0h2m0 0h2m10 0h2m2 0h2m4 0h2m0 0h2m-1 0h2m5 0h2m1 0h2m5 0h2m1 0h2m7 0h2m4 0h2m-1 0h2m5 0h2m-1 0h2m0 0h2m5 0h2m3 0h2m-1 0h2m1 0h2m14 0h2m6 0h2m3 0h2m-1 0h2m2 0h2m2 0h2m6 0h2m2 0h2m2 0h2m2 0h2m8 0h2m6 0h2m-1 0h2m5 0h2m1 0h2m-1 0h2m-361 1h2m117 0h2m2 0h2m-1 0h2m5 0h2m8 0h2m-1 0h2m2 0h2m1 0h2m6 0h2m0 0h2m-2 0h2m-1 0h2m4 0h2m1 0h2m10 0h2m1 0h2m-1 0h2m29 0h2m1 0h2m-1 0h2m1 0h2m0 0h2m9 0h2m-1 0h2m3 0h2m-1 0h2m3 0h2m0 0h2m0 0h2m0 0h2m1 0h2m3 0h2m13 0h2m3 0h2m17 0h2m-1 0h2m2 0h2m1 0h2m2 0h2m-2 0h2m-1 0h2m0 0h2m13 0h2m4 0h2m-1 0h2m-1 0h2m1 0h2m0 0h2m0 0h2m-319 1h2m31 0h2m1 0h2m35 0h2m2 0h2m12 0h2m48 0h2m3 0h2m15 0h2m25 0h2m-2 0h2m0 0h2m10 0h2m0 0h2m2 0h2m2 0h2m10 0h2m-1 0h2m14 0h2m14 0h2m-1 0h2m-1 0h2m10 0h2m-1 0h2m2 0h2m12 0h2m-1 0h2m-2 0h2m5 0h2m5 0h2m4 0h2m2 0h2m1 0h2m3 0h2m-238 1h2m-1 0h2m-1 0h2m13 0h2m0 0h2m14 0h2m6 0h2m0 0h2m0 0h2m5 0h2m5 0h2m-2 0h2m-1 0h2m7 0h2m1 0h2m1 0h2m7 0h2m0 0h2m5 0h2m1 0h2m0 0h2m16 0h2m7 0h2m2 0h2m1 0h2m6 0h2m1 0h2m1 0h2m4 0h2m1 0h2m4 0h2m8 0h2m0 0h2m1 0h2m1 0h2m9 0h2m2 0h2m0 0h2m9 0h2m-2 0h2m1 0h2m8 0h2m0 0h2m5 0h2m0 0h2m0 0h2m-1 0h2m-2 0h2m-225 1h2m0 0h2m5 0h2m14 0h2m1 0h2m2 0h2m-2 0h2m0 0h2m-2 0h2m7 0h2m1 0h2m-1 0h2m13 0h2m-1 0h2m6 0h2m25 0h2m3 0h2m8 0h2m5 0h2m-1 0h2m16 0h2m-1 0h2m5 0h2m1 0h2m0 0h2m5 0h2m0 0h2m-1 0h2m-1 0h2m-2 0h2m14 0h2m-1 0h2m5 0h2m4 0h2m-1 0h2m0 0h2m-1 0h2m-1 0h2m1 0h2m9 0h2m1 0h2m11 0h2m-287 1h2m11 0h2m1 0h2m1 0h2m25 0h2m16 0h2m25 0h2m4 0h2m-1 0h2m-1 0h2m0 0h2m1 0h2m0 0h2m3 0h2m5 0h2m-1 0h2m2 0h2m2 0h2m5 0h2m-2 0h2m11 0h2m2 0h2m-1 0h2m1 0h2m9 0h2m4 0h2m-2 0h2m-1 0h2m9 0h2m2 0h2m0 0h2m1 0h2m3 0h2m9 0h2m-1 0h2m-2 0h2m11 0h2m-1 0h2m0 0h2m-1 0h2m-2 0h2m5 0h2m-1 0h2m-1 0h2m0 0h2m14 0h2m-2 0h2m-1 0h2m10 0h2m-1 0h2m1 0h2m1 0h2m-2 0h2m-272 1h2m12 0h2m42 0h2m-2 0h2m13 0h2m6 0h2m0 0h2m10 0h2m5 0h2m-1 0h2m1 0h2m6 0h2m0 0h2m9 0h2m-2 0h2m13 0h2m-1 0h2m1 0h2m-1 0h2m-1 0h2m11 0h2m11 0h2m2 0h2m1 0h2m2 0h2m4 0h2m-1 0h2m3 0h2m6 0h2m4 0h2m0 0h2m-1 0h2m1 0h2m-2 0h2m3 0h2m1 0h2m-1 0h2m-1 0h2m-1 0h2m0 0h2m-1 0h2m4 0h2m4 0h2m1 0h2m0 0h2m0 0h2m-2 0h2m4 0h2m9 0h2m0 0h2m-1 0h2m5 0h2m0 0h2m-2 0h2m-267 1h2m10 0h2m6 0h2m25 0h2m3 0h2m-1 0h2m6 0h2m-1 0h2m-1 0h2m9 0h2m6 0h2m14 0h2m20 0h2m8 0h2m14 0h2m-1 0h2m0 0h2m4 0h2m1 0h2m16 0h2m1 0h2m-1 0h2m-1 0h2m10 0h2m-2 0h2m0 0h2m9 0h2m-1 0h2m2 0h2m-1 0h2m5 0h2m2 0h2m7 0h2m4 0h2m10 0h2m9 0h2m0 0h2m0 0h2m-293 1h2m4 0h2m23 0h2m-1 0h2m38 0h2m5 0h2m8 0h2m8 0h2m0 0h2m4 0h2m0 0h2m1 0h2m-1 0h2m2 0h2m1 0h2m14 0h2m2 0h2m3 0h2m1 0h2m-1 0h2m8 0h2m0 0h2m11 0h2m6 0h2m-2 0h2m2 0h2m-1 0h2m2 0h2m-1 0h2m7 0h2m-1 0h2m3 0h2m1 0h2m-1 0h2m-2 0h2m6 0h2m10 0h2m5 0h2m23 0h2m5 0h2m0 0h2m2 0h2m-1 0h2m-2 0h2m1 0h2m-1 0h2m1 0h2m8 0h2m-2 0h2m-2 0h2m-1 0h2m-268 1h2m52 0h2m5 0h2m0 0h2m8 0h2m1 0h2m0 0h2m4 0h2m0 0h2m6 0h2m6 0h2m0 0h2m24 0h2m1 0h2m-2 0h2m1 0h2m4 0h2m10 0h2m4 0h2m-1 0h2m-2 0h2m2 0h2m-1 0h2m3 0h2m8 0h2m18 0h2m-2 0h2m1 0h2m3 0h2m6 0h2m6 0h2m1 0h2m7 0h2m5 0h2m3 0h2m4 0h2m4 0h2m-388 1h2m78 0h2m31 0h2m3 0h2m19 0h2m6 0h2m19 0h2m4 0h2m-2 0h2m6 0h2m-1 0h2m0 0h2m4 0h2m10 0h2m0 0h2m-2 0h2m0 0h2m12 0h2m5 0h2m4 0h2m1 0h2m1 0h2m3 0h2m0 0h2m0 0h2m-2 0h2m2 0h2m16 0h2m0 0h2m2 0h2m7 0h2m3 0h2m9 0h2m-2 0h2m13 0h2m1 0h2m5 0h2m-1 0h2m7 0h2m0 0h2m0 0h2m2 0h2m5 0h2m1 0h2m0 0h2m-2 0h2m4 0h2m1 0h2m-1 0h2m5 0h2m-1 0h2m1 0h2m1 0h2m6 0h2m-1 0h2m-254 1h2m11 0h2m-1 0h2m4 0h2m0 0h2m12 0h2m8 0h2m16 0h2m12 0h2m2 0h2m-1 0h2m-2 0h2m-1 0h2m2 0h2m12 0h2m2 0h2m0 0h2m8 0h2m-2 0h2m1 0h2m3 0h2m15 0h2m0 0h2m-1 0h2m5 0h2m0 0h2m-2 0h2m0 0h2m3 0h2m-2 0h2m3 0h2m-1 0h2m2 0h2m-2 0h2m-1 0h2m-2 0h2m3 0h2m0 0h2m29 0h2m3 0h2m-1 0h2m1 0h2m4 0h2m-2 0h2m8 0h2m9 0h2m0 0h2m-289 1h2m81 0h2m6 0h2m0 0h2m1 0h2m16 0h2m3 0h2m11 0h2m14 0h2m1 0h2m-1 0h2m3 0h2m4 0h2m5 0h2m-1 0h2m1 0h2m-1 0h2m-2 0h2m14 0h2m-1 0h2m9 0h2m-2 0h2m0 0h2m4 0h2m4 0h2m10 0h2m-1 0h2m2 0h2m8 0h2m3 0h2m1 0h2m-1 0h2m0 0h2m-1 0h2m3 0h2m-1 0h2m0 0h2m0 0h2m8 0h2m6 0h2m-275 1h2m7 0h2m15 0h2m34 0h2m6 0h2m18 0h2m-2 0h2m-2 0h2m3 0h2m0 0h2m-1 0h2m-1 0h2m0 0h2m5 0h2m0 0h2m1 0h2m2 0h2m1 0h2m-2 0h2m-1 0h2m5 0h2m5 0h2m2 0h2m3 0h2m1 0h2m10 0h2m4 0h2m4 0h2m-1 0h2m0 0h2m1 0h2m-1 0h2m3 0h2m2 0h2m3 0h2m1 0h2m0 0h2m0 0h2m-2 0h2m-1 0h2m7 0h2m-2 0h2m2 0h2m3 0h2m-1 0h2m13 0h2m-1 0h2m5 0h2m0 0h2m8 0h2m5 0h2m6 0h2m4 0h2m-1 0h2m-262 1h2m25 0h2m1 0h2m14 0h2m2 0h2m-2 0h2m-1 0h2m-1 0h2m4 0h2m9 0h2m3 0h2m-1 0h2m2 0h2m-1 0h2m3 0h2m-1 0h2m9 0h2m0 0h2m14 0h2m3 0h2m5 0h2m6 0h2m0 0h2m5 0h2m10 0h2m4 0h2m8 0h2m6 0h2m-1 0h2m2 0h2m1 0h2m-2 0h2m3 0h2m5 0h2m8 0h2m7 0h2m0 0h2m9 0h2m-2 0h2m13 0h2m-1 0h2m2 0h2m-1 0h2m-1 0h2m2 0h2m-2 0h2m-269 1h2m2 0h2m3 0h2m15 0h2m1 0h2m8 0h2m0 0h2m-1 0h2m7 0h2m9 0h2m-1 0h2m39 0h2m3 0h2m3 0h2m3 0h2m1 0h2m5 0h2m4 0h2m3 0h2m4 0h2m6 0h2m2 0h2m5 0h2m6 0h2m3 0h2m7 0h2m1 0h2m-1 0h2m0 0h2m0 0h2m2 0h2m1 0h2m12 0h2m-1 0h2m-2 0h2m-1 0h2m-1 0h2m7 0h2m2 0h2m2 0h2m4 0h2m-2 0h2m2 0h2m3 0h2m4 0h2m14 0h2m-298 1h2m16 0h2m34 0h2m2 0h2m8 0h2m1 0h2m21 0h2m4 0h2m12 0h2m11 0h2m-1 0h2m3 0h2m12 0h2m9 0h2m5 0h2m-1 0h2m3 0h2m0 0h2m10 0h2m0 0h2m0 0h2m-1 0h2m3 0h2m3 0h2m-1 0h2m-2 0h2m8 0h2m0 0h2m3 0h2m1 0h2m1 0h2m1 0h2m1 0h2m18 0h2m6 0h2m1 0h2m6 0h2m3 0h2m8 0h2m-1 0h2m0 0h2m3 0h2m0 0h2m-384 1h2m35 0h2m37 0h2m38 0h2m37 0h2m-1 0h2m-1 0h2m6 0h2m11 0h2m3 0h2m-2 0h2m8 0h2m3 0h2m16 0h2m3 0h2m22 0h2m4 0h2m1 0h2m1 0h2m5 0h2m1 0h2m3 0h2m-2 0h2m5 0h2m6 0h2m-2 0h2m-1 0h2m5 0h2m0 0h2m-1 0h2m-2 0h2m-1 0h2m-1 0h2m-1 0h2m-1 0h2m8 0h2m-2 0h2m1 0h2m3 0h2m5 0h2m3 0h2m1 0h2m1 0h2m0 0h2m-2 0h2m7 0h2m1 0h2m7 0h2m0 0h2m2 0h2m-1 0h2m0 0h2m2 0h2m6 0h2m-2 0h2m0 0h2m-245 1h2m3 0h2m-1 0h2m12 0h2m29 0h2m-1 0h2m11 0h2m-2 0h2m0 0h2m16 0h2m11 0h2m0 0h2m1 0h2m-2 0h2m2 0h2m-2 0h2m-1 0h2m0 0h2m-1 0h2m1 0h2m3 0h2m7 0h2m2 0h2m-1 0h2m-2 0h2m-2 0h2m3 0h2m4 0h2m4 0h2m-1 0h2m1 0h2m-1 0h2m-1 0h2m-1 0h2m0 0h2m0 0h2m-2 0h2m0 0h2m1 0h2m3 0h2m3 0h2m0 0h2m-1 0h2m1 0h2m5 0h2m1 0h2m0 0h2m3 0h2m0 0h2m2 0h2m-1 0h2m4 0h2m-1 0h2m-1 0h2m-1 0h2m-1 0h2m1 0h2m0 0h2m-1 0h2m-1 0h2m6 0h2m1 0h2m-383 1h2m137 0h2m8 0h2m1 0h2m11 0h2m17 0h2m8 0h2m9 0h2m2 0h2m-1 0h2m1 0h2m0 0h2m7 0h2m11 0h2m5 0h2m1 0h2m1 0h2m-1 0h2m10 0h2m-2 0h2m-1 0h2m-2 0h2m1 0h2m-2 0h2m0 0h2m0 0h2m10 0h2m2 0h2m-1 0h2m-1 0h2m4 0h2m-2 0h2m6 0h2m-2 0h2m2 0h2m4 0h2m2 0h2m-1 0h2m-1 0h2m-2 0h2m1 0h2m0 0h2m11 0h2m2 0h2m2 0h2m-2 0h2m-1 0h2m3 0h2m2 0h2m1 0h2m0 0h2m-2 0h2m9 0h2m0 0h2m8 0h2m-1 0h2m-2 0h2m0 0h2m-2 0h2m-1 0h2m-371 1h2m84 0h2m-1 0h2m17 0h2m8 0h2m10 0h2m-1 0h2m5 0h2m13 0h2m11 0h2m12 0h2m2 0h2m-1 0h2m0 0h2m10 0h2m6 0h2m4 0h2m-1 0h2m-1 0h2m-1 0h2m10 0h2m-2 0h2m8 0h2m-1 0h2m9 0h2m-2 0h2m-1 0h2m0 0h2m-2 0h2m3 0h2m-1 0h2m-2 0h2m2 0h2m2 0h2m2 0h2m5 0h2m-2 0h2m5 0h2m-1 0h2m0 0h2m1 0h2m-1 0h2m-1 0h2m5 0h2m-2 0h2m7 0h2m-2 0h2m-1 0h2m1 0h2m0 0h2m1 0h2m-1 0h2m-1 0h2m-1 0h2m0 0h2m-1 0h2m12 0h2m0 0h2m1 0h2m7 0h2m3 0h2m-1 0h2m10 0h2m-254 1h2m12 0h2m4 0h2m39 0h2m-1 0h2m1 0h2m1 0h2m-1 0h2m-2 0h2m-1 0h2m1 0h2m15 0h2m1 0h2m2 0h2m-1 0h2m13 0h2m0 0h2m2 0h2m-2 0h2m0 0h2m-1 0h2m-1 0h2m1 0h2m11 0h2m5 0h2m-1 0h2m5 0h2m4 0h2m18 0h2m10 0h2m-2 0h2m8 0h2m-1 0h2m-1 0h2m2 0h2m3 0h2m18 0h2m4 0h2m6 0h2m6 0h2m-1 0h2m-264 1h2m0 0h2m4 0h2m20 0h2m0 0h2m12 0h2m0 0h2m9 0h2m0 0h2m6 0h2m4 0h2m11 0h2m17 0h2m0 0h2m11 0h2m3 0h2m9 0h2m-1 0h2m6 0h2m2 0h2m-2 0h2m1 0h2m3 0h2m-1 0h2m-1 0h2m5 0h2m-1 0h2m1 0h2m4 0h2m16 0h2m1 0h2m-1 0h2m5 0h2m3 0h2m-2 0h2m1 0h2m-2 0h2m2 0h2m7 0h2m-1 0h2m0 0h2m3 0h2m7 0h2m3 0h2m-2 0h2m-1 0h2m4 0h2m-1 0h2m-299 1h2m60 0h2m-1 0h2m0 0h2m11 0h2m7 0h2m4 0h2m6 0h2m2 0h2m3 0h2m3 0h2m1 0h2m-1 0h2m3 0h2m10 0h2m5 0h2m0 0h2m2 0h2m1 0h2m-1 0h2m-1 0h2m3 0h2m3 0h2m11 0h2m-1 0h2m4 0h2m2 0h2m3 0h2m7 0h2m-1 0h2m0 0h2m3 0h2m0 0h2m-1 0h2m5 0h2m1 0h2m-2 0h2m0 0h2m-1 0h2m8 0h2m-1 0h2m14 0h2m0 0h2m6 0h2m1 0h2m4 0h2m0 0h2m0 0h2m-1 0h2m-1 0h2m-1 0h2m3 0h2m-1 0h2m7 0h2m-1 0h2m-278 1h2m13 0h2m38 0h2m19 0h2m7 0h2m-1 0h2m14 0h2m6 0h2m-1 0h2m5 0h2m4 0h2m0 0h2m-1 0h2m5 0h2m1 0h2m8 0h2m3 0h2m-1 0h2m0 0h2m3 0h2m-2 0h2m2 0h2m3 0h2m4 0h2m-1 0h2m1 0h2m2 0h2m7 0h2m6 0h2m15 0h2m3 0h2m-2 0h2m0 0h2m0 0h2m7 0h2m-1 0h2m1 0h2m4 0h2m4 0h2m-1 0h2m0 0h2m2 0h2m7 0h2m1 0h2m0 0h2m1 0h2m-1 0h2m-2 0h2m4 0h2m-274 1h2m40 0h2m15 0h2m0 0h2m11 0h2m15 0h2m-2 0h2m-2 0h2m3 0h2m18 0h2m1 0h2m5 0h2m4 0h2m8 0h2m1 0h2m-1 0h2m3 0h2m17 0h2m11 0h2m-1 0h2m-2 0h2m-1 0h2m1 0h2m14 0h2m0 0h2m-1 0h2m1 0h2m2 0h2m3 0h2m0 0h2m3 0h2m3 0h2m1 0h2m-1 0h2m-1 0h2m1 0h2m5 0h2m-1 0h2m1 0h2m0 0h2m3 0h2m0 0h2m-1 0h2m-268 1h2m-1 0h2m17 0h2m6 0h2m6 0h2m11 0h2m-1 0h2m9 0h2m1 0h2m1 0h2m14 0h2m-2 0h2m2 0h2m7 0h2m4 0h2m21 0h2m6 0h2m10 0h2m5 0h2m3 0h2m-1 0h2m-1 0h2m3 0h2m2 0h2m2 0h2m-1 0h2m19 0h2m-1 0h2m6 0h2m5 0h2m4 0h2m2 0h2m4 0h2m13 0h2m-1 0h2m-2 0h2m1 0h2m0 0h2m0 0h2m5 0h2m-1 0h2m-2 0h2m-1 0h2m1 0h2m-1 0h2m5 0h2m-2 0h2m1 0h2m-276 1h2m48 0h2m22 0h2m-1 0h2m1 0h2m9 0h2m3 0h2m11 0h2m4 0h2m4 0h2m3 0h2m-2 0h2m8 0h2m14 0h2m8 0h2m-2 0h2m0 0h2m16 0h2m-1 0h2m-1 0h2m3 0h2m0 0h2m6 0h2m-2 0h2m8 0h2m3 0h2m3 0h2m-1 0h2m2 0h2m0 0h2m-1 0h2m3 0h2m-1 0h2m0 0h2m3 0h2m0 0h2m0 0h2m11 0h2m0 0h2m-1 0h2m-2 0h2m-1 0h2m0 0h2m4 0h2m6 0h2m0 0h2m-1 0h2m-262 1h2m11 0h2m8 0h2m4 0h2m2 0h2m-1 0h2m0 0h2m-1 0h2m9 0h2m1 0h2m4 0h2m16 0h2m-2 0h2m0 0h2m10 0h2m9 0h2m14 0h2m-1 0h2m3 0h2m-1 0h2m-1 0h2m6 0h2m0 0h2m5 0h2m1 0h2m-2 0h2m-1 0h2m-1 0h2m-1 0h2m3 0h2m0 0h2m-1 0h2m1 0h2m2 0h2m1 0h2m9 0h2m2 0h2m8 0h2m-2 0h2m5 0h2m12 0h2m-2 0h2m5 0h2m-1 0h2m3 0h2m0 0h2m-1 0h2m10 0h2m9 0h2m2 0h2m1 0h2m2 0h2m-281 1h2m47 0h2m3 0h2m9 0h2m3 0h2m29 0h2m1 0h2m8 0h2m9 0h2m1 0h2m-1 0h2m2 0h2m0 0h2m7 0h2m1 0h2m-1 0h2m2 0h2m4 0h2m3 0h2m15 0h2m11 0h2m2 0h2m4 0h2m-1 0h2m-2 0h2m3 0h2m0 0h2m4 0h2m0 0h2m1 0h2m2 0h2m3 0h2m5 0h2m-2 0h2m-1 0h2m1 0h2m6 0h2m2 0h2m1 0h2m4 0h2m7 0h2m-1 0h2m-2 0h2m3 0h2m-277 1h2m23 0h2m-1 0h2m9 0h2m3 0h2m-2 0h2m4 0h2m2 0h2m20 0h2m-2 0h2m0 0h2m18 0h2m8 0h2m-2 0h2m-1 0h2m4 0h2m2 0h2m9 0h2m-1 0h2m2 0h2m-1 0h2m-1 0h2m-1 0h2m-1 0h2m21 0h2m6 0h2m0 0h2m4 0h2m0 0h2m0 0h2m2 0h2m2 0h2m4 0h2m0 0h2m-2 0h2m9 0h2m-1 0h2m7 0h2m0 0h2m3 0h2m1 0h2m1 0h2m-1 0h2m1 0h2m6 0h2m0 0h2m0 0h2m5 0h2m0 0h2m0 0h2m1 0h2m-2 0h2m-1 0h2m0 0h2m-1 0h2m4 0h2m-293 1h2m24 0h2m61 0h2m4 0h2m-1 0h2m15 0h2m-2 0h2m-1 0h2m6 0h2m2 0h2m0 0h2m-2 0h2m2 0h2m20 0h2m7 0h2m-2 0h2m-1 0h2m1 0h2m-1 0h2m10 0h2m5 0h2m2 0h2m-1 0h2m0 0h2m2 0h2m12 0h2m2 0h2m0 0h2m-1 0h2m0 0h2m5 0h2m3 0h2m-1 0h2m1 0h2m-1 0h2m-2 0h2m1 0h2m3 0h2m12 0h2m1 0h2m0 0h2m-2 0h2m1 0h2m-2 0h2m15 0h2m1 0h2m3 0h2m-2 0h2m3 0h2m-291 1h2m11 0h2m11 0h2m9 0h2m14 0h2m15 0h2m10 0h2m3 0h2m10 0h2m5 0h2m-2 0h2m-1 0h2m5 0h2m-1 0h2m27 0h2m-1 0h2m0 0h2m9 0h2m-1 0h2m5 0h2m-2 0h2m1 0h2m-1 0h2m6 0h2m1 0h2m-1 0h2m2 0h2m-2 0h2m8 0h2m3 0h2m3 0h2m-1 0h2m-1 0h2m1 0h2m-2 0h2m-1 0h2m1 0h2m3 0h2m3 0h2m9 0h2m4 0h2m0 0h2m-1 0h2m4 0h2m0 0h2m1 0h2m7 0h2m-1 0h2m-1 0h2m1 0h2m0 0h2m8 0h2m-1 0h2m0 0h2m-305 1h2m87 0h2m23 0h2m4 0h2m6 0h2m4 0h2m0 0h2m6 0h2m2 0h2m6 0h2m2 0h2m1 0h2m3 0h2m-1 0h2m6 0h2m11 0h2m12 0h2m-2 0h2m2 0h2m-1 0h2m2 0h2m2 0h2m0 0h2m-1 0h2m9 0h2m-2 0h2m-1 0h2m3 0h2m3 0h2m3 0h2m-1 0h2m-1 0h2m-1 0h2m5 0h2m2 0h2m7 0h2m6 0h2m1 0h2m-2 0h2m0 0h2m-1 0h2m-1 0h2m2 0h2m6 0h2m-2 0h2m-1 0h2m-1 0h2m-314 1h2m69 0h2m21 0h2m10 0h2m37 0h2m0 0h2m1 0h2m-2 0h2m1 0h2m-1 0h2m49 0h2m1 0h2m13 0h2m-1 0h2m8 0h2m2 0h2m2 0h2m7 0h2m1 0h2m6 0h2m1 0h2m-1 0h2m6 0h2m5 0h2m11 0h2m3 0h2m-1 0h2m-2 0h2m1 0h2m-1 0h2m5 0h2m2 0h2m-372 1h2m50 0h2m93 0h2m0 0h2m7 0h2m23 0h2m5 0h2m1 0h2m-1 0h2m1 0h2m4 0h2m0 0h2m17 0h2m3 0h2m8 0h2m0 0h2m3 0h2m7 0h2m8 0h2m3 0h2m-1 0h2m11 0h2m-2 0h2m2 0h2m5 0h2m-1 0h2m0 0h2m5 0h2m1 0h2m1 0h2m-1 0h2m5 0h2m-1 0h2m9 0h2m-1 0h2m6 0h2m-1 0h2m-1 0h2m1 0h2m-2 0h2m-1 0h2m-2 0h2m5 0h2m-2 0h2m-2 0h2m6 0h2m1 0h2m2 0h2m1 0h2m-1 0h2m-2 0h2m-260 1h2m0 0h2m19 0h2m14 0h2m2 0h2m3 0h2m4 0h2m13 0h2m2 0h2m7 0h2m13 0h2m12 0h2m11 0h2m0 0h2m3 0h2m3 0h2m-1 0h2m11 0h2m-1 0h2m1 0h2m-2 0h2m-2 0h2m1 0h2m-1 0h2m2 0h2m3 0h2m-2 0h2m3 0h2m0 0h2m7 0h2m4 0h2m9 0h2m-2 0h2m0 0h2m17 0h2m2 0h2m3 0h2m2 0h2m-1 0h2m1 0h2m-1 0h2m1 0h2m0 0h2m0 0h2m-2 0h2m1 0h2m-1 0h2m2 0h2m2 0h2m-233 1h2m13 0h2m18 0h2m18 0h2m0 0h2m-2 0h2m5 0h2m-1 0h2m8 0h2m-2 0h2m9 0h2m5 0h2m-1 0h2m2 0h2m-1 0h2m3 0h2m2 0h2m4 0h2m0 0h2m-2 0h2m0 0h2m0 0h2m1 0h2m4 0h2m3 0h2m-1 0h2m2 0h2m-1 0h2m21 0h2m4 0h2m-2 0h2m-1 0h2m1 0h2m8 0h2m4 0h2m2 0h2m-1 0h2m-1 0h2m1 0h2m-2 0h2m1 0h2m-1 0h2m5 0h2m-2 0h2m2 0h2m5 0h2m-1 0h2m-2 0h2m1 0h2m2 0h2m0 0h2m0 0h2m-402 1h2m134 0h2m19 0h2m5 0h2m-1 0h2m-1 0h2m8 0h2m9 0h2m4 0h2m19 0h2m6 0h2m-1 0h2m-2 0h2m0 0h2m4 0h2m17 0h2m13 0h2m9 0h2m0 0h2m3 0h2m22 0h2m-2 0h2m4 0h2m-1 0h2m6 0h2m1 0h2m11 0h2m0 0h2m9 0h2m5 0h2m2 0h2m-2 0h2m1 0h2m-1 0h2m0 0h2m-1 0h2m-2 0h2m2 0h2m-2 0h2m-2 0h2m3 0h2m2 0h2m-1 0h2m7 0h2m-2 0h2m-297 1h2m19 0h2m37 0h2m13 0h2m20 0h2m1 0h2m-1 0h2m29 0h2m5 0h2m0 0h2m1 0h2m-2 0h2m13 0h2m-1 0h2m1 0h2m-1 0h2m7 0h2m2 0h2m1 0h2m3 0h2m0 0h2m1 0h2m4 0h2m0 0h2m-2 0h2m-1 0h2m5 0h2m3 0h2m3 0h2m8 0h2m15 0h2m9 0h2m-1 0h2m1 0h2m1 0h2m12 0h2m-1 0h2m-2 0h2m3 0h2m3 0h2m-1 0h2m1 0h2m1 0h2m-1 0h2m0 0h2m3 0h2m-2 0h2m-1 0h2m-277 1h2m26 0h2m1 0h2m40 0h2m12 0h2m8 0h2m-1 0h2m-1 0h2m-1 0h2m8 0h2m2 0h2m-2 0h2m-1 0h2m0 0h2m0 0h2m12 0h2m1 0h2m0 0h2m0 0h2m0 0h2m1 0h2m0 0h2m7 0h2m11 0h2m3 0h2m0 0h2m11 0h2m0 0h2m1 0h2m6 0h2m-2 0h2m11 0h2m3 0h2m-2 0h2m3 0h2m5 0h2m-2 0h2m8 0h2m7 0h2m1 0h2m-2 0h2m0 0h2m5 0h2m-1 0h2m-1 0h2m1 0h2m1 0h2m2 0h2m0 0h2m-288 1h2m30 0h2m1 0h2m47 0h2m9 0h2m58 0h2m4 0h2m4 0h2m0 0h2m-1 0h2m9 0h2m1 0h2m-1 0h2m0 0h2m2 0h2m-1 0h2m3 0h2m2 0h2m2 0h2m7 0h2m-2 0h2m-1 0h2m-1 0h2m-1 0h2m0 0h2m-1 0h2m20 0h2m0 0h2m2 0h2m6 0h2m-1 0h2m0 0h2m0 0h2m1 0h2m6 0h2m0 0h2m-1 0h2m-1 0h2m-1 0h2m-1 0h2m2 0h2m2 0h2m-270 1h2m-2 0h2m2 0h2m24 0h2m23 0h2m24 0h2m3 0h2m1 0h2m8 0h2m20 0h2m15 0h2m1 0h2m5 0h2m5 0h2m8 0h2m-1 0h2m0 0h2m9 0h2m0 0h2m-1 0h2m-1 0h2m-1 0h2m0 0h2m-2 0h2m12 0h2m4 0h2m-2 0h2m3 0h2m1 0h2m3 0h2m-2 0h2m5 0h2m2 0h2m0 0h2m2 0h2m-1 0h2m-1 0h2m-1 0h2m5 0h2m-2 0h2m4 0h2m8 0h2m5 0h2m-274 1h2m37 0h2m9 0h2m-1 0h2m11 0h2m4 0h2m1 0h2m1 0h2m0 0h2m6 0h2m1 0h2m5 0h2m1 0h2m-2 0h2m0 0h2m6 0h2m1 0h2m4 0h2m5 0h2m0 0h2m8 0h2m-1 0h2m-1 0h2m9 0h2m-2 0h2m10 0h2m-1 0h2m-1 0h2m1 0h2m2 0h2m0 0h2m3 0h2m-1 0h2m0 0h2m0 0h2m2 0h2m0 0h2m-1 0h2m2 0h2m3 0h2m10 0h2m2 0h2m7 0h2m1 0h2m5 0h2m3 0h2m-2 0h2m5 0h2m0 0h2m-2 0h2m-1 0h2m-1 0h2m-1 0h2m3 0h2m1 0h2m0 0h2m8 0h2m-276 1h2m29 0h2m-1 0h2m3 0h2m5 0h2m-1 0h2m39 0h2m10 0h2m-1 0h2m0 0h2m6 0h2m5 0h2m4 0h2m8 0h2m2 0h2m-1 0h2m3 0h2m0 0h2m6 0h2m-1 0h2m-1 0h2m2 0h2m-2 0h2m1 0h2m-2 0h2m8 0h2m-2 0h2m-1 0h2m1 0h2m5 0h2m1 0h2m0 0h2m-1 0h2m0 0h2m-1 0h2m-2 0h2m8 0h2m2 0h2m6 0h2m-1 0h2m-1 0h2m2 0h2m6 0h2m4 0h2m2 0h2m4 0h2m2 0h2m0 0h2m0 0h2m4 0h2m13 0h2m-2 0h2m-264 1h2m-1 0h2m11 0h2m14 0h2m0 0h2m5 0h2m6 0h2m5 0h2m8 0h2m8 0h2m12 0h2m0 0h2m5 0h2m0 0h2m1 0h2m24 0h2m7 0h2m0 0h2m-1 0h2m-2 0h2m-2 0h2m4 0h2m-2 0h2m3 0h2m-1 0h2m2 0h2m11 0h2m-1 0h2m1 0h2m-2 0h2m0 0h2m0 0h2m5 0h2m6 0h2m8 0h2m-2 0h2m3 0h2m-1 0h2m2 0h2m-1 0h2m4 0h2m-2 0h2m0 0h2m0 0h2m1 0h2m1 0h2m1 0h2m-1 0h2m3 0h2m9 0h2m7 0h2m3 0h2m-259 1h2m2 0h2m34 0h2m-1 0h2m8 0h2m-1 0h2m32 0h2m6 0h2m3 0h2m0 0h2m5 0h2m5 0h2m2 0h2m4 0h2m0 0h2m15 0h2m3 0h2m0 0h2m6 0h2m11 0h2m1 0h2m3 0h2m1 0h2m-1 0h2m-1 0h2m-1 0h2m-2 0h2m7 0h2m0 0h2m8 0h2m-2 0h2m4 0h2m3 0h2m-2 0h2m-1 0h2m0 0h2m0 0h2m0 0h2m-2 0h2m0 0h2m-1 0h2m0 0h2m1 0h2m4 0h2m4 0h2m1 0h2m6 0h2m-265 1h2m16 0h2m7 0h2m3 0h2m8 0h2m5 0h2m2 0h2m-2 0h2m-1 0h2m2 0h2m17 0h2m1 0h2m0 0h2m0 0h2m13 0h2m4 0h2m2 0h2m0 0h2m7 0h2m7 0h2m9 0h2m-2 0h2m0 0h2m-1 0h2m0 0h2m0 0h2m2 0h2m4 0h2m1 0h2m3 0h2m6 0h2m5 0h2m-1 0h2m2 0h2m2 0h2m1 0h2m5 0h2m15 0h2m10 0h2m9 0h2m1 0h2m-1 0h2m-1 0h2m7 0h2m-1 0h2m1 0h2m-1 0h2m0 0h2m-2 0h2m2 0h2m-2 0h2m0 0h2m-2 0h2m-288 1h2m3 0h2m31 0h2m-1 0h2m6 0h2m7 0h2m9 0h2m25 0h2m2 0h2m17 0h2m3 0h2m1 0h2m4 0h2m13 0h2m2 0h2m-1 0h2m0 0h2m6 0h2m0 0h2m1 0h2m-1 0h2m3 0h2m4 0h2m-2 0h2m5 0h2m6 0h2m-1 0h2m0 0h2m17 0h2m0 0h2m-1 0h2m0 0h2m-1 0h2m-2 0h2m6 0h2m0 0h2m-1 0h2m0 0h2m-1 0h2m3 0h2m-2 0h2m2 0h2m0 0h2m-2 0h2m2 0h2m0 0h2m-1 0h2m0 0h2m2 0h2m1 0h2m5 0h2m10 0h2m0 0h2m-1 0h2m-286 1h2m9 0h2m30 0h2m8 0h2m1 0h2m19 0h2m2 0h2m12 0h2m6 0h2m4 0h2m6 0h2m0 0h2m-2 0h2m6 0h2m1 0h2m-1 0h2m0 0h2m1 0h2m0 0h2m12 0h2m2 0h2m-1 0h2m7 0h2m-2 0h2m5 0h2m9 0h2m-1 0h2m-2 0h2m-1 0h2m-1 0h2m-1 0h2m0 0h2m2 0h2m0 0h2m2 0h2m0 0h2m-1 0h2m-1 0h2m-2 0h2m4 0h2m1 0h2m0 0h2m0 0h2m4 0h2m4 0h2m3 0h2m-1 0h2m9 0h2m1 0h2m2 0h2m0 0h2m13 0h2m2 0h2m-2 0h2m-2 0h2m2 0h2m-1 0h2m4 0h2m-335 1h2m32 0h2m31 0h2m3 0h2m7 0h2m47 0h2m0 0h2m0 0h2m17 0h2m6 0h2m-1 0h2m4 0h2m-1 0h2m1 0h2m0 0h2m10 0h2m7 0h2m-2 0h2m12 0h2m6 0h2m1 0h2m7 0h2m0 0h2m2 0h2m3 0h2m1 0h2m-1 0h2m2 0h2m-1 0h2m2 0h2m2 0h2m0 0h2m9 0h2m-2 0h2m14 0h2m13 0h2m11 0h2m-1 0h2m0 0h2m3 0h2m2 0h2m3 0h2m-259 1h2m16 0h2m-1 0h2m8 0h2m-1 0h2m5 0h2m10 0h2m-1 0h2m3 0h2m6 0h2m4 0h2m12 0h2m-1 0h2m0 0h2m-2 0h2m7 0h2m-1 0h2m6 0h2m-2 0h2m28 0h2m15 0h2m1 0h2m-1 0h2m0 0h2m0 0h2m0 0h2m0 0h2m-2 0h2m7 0h2m1 0h2m-2 0h2m-1 0h2m0 0h2m4 0h2m-1 0h2m7 0h2m0 0h2m7 0h2m0 0h2m3 0h2m1 0h2m7 0h2m1 0h2m5 0h2m-2 0h2m5 0h2m-2 0h2m2 0h2m9 0h2m-1 0h2m-2 0h2m0 0h2m-254 1h2m17 0h2m23 0h2m4 0h2m2 0h2m1 0h2m7 0h2m5 0h2m-1 0h2m9 0h2m13 0h2m3 0h2m-1 0h2m0 0h2m0 0h2m2 0h2m17 0h2m3 0h2m5 0h2m8 0h2m-1 0h2m-2 0h2m3 0h2m0 0h2m4 0h2m8 0h2m0 0h2m2 0h2m0 0h2m0 0h2m-1 0h2m0 0h2m1 0h2m2 0h2m-1 0h2m6 0h2m1 0h2m2 0h2m-1 0h2m5 0h2m0 0h2m5 0h2m5 0h2m1 0h2m7 0h2m-248 1h2m3 0h2m13 0h2m1 0h2m7 0h2m18 0h2m12 0h2m11 0h2m5 0h2m9 0h2m1 0h2m5 0h2m11 0h2m2 0h2m-1 0h2m4 0h2m-1 0h2m2 0h2m-2 0h2m7 0h2m3 0h2m0 0h2m-2 0h2m3 0h2m2 0h2m2 0h2m1 0h2m2 0h2m6 0h2m3 0h2m-2 0h2m0 0h2m-2 0h2m-1 0h2m4 0h2m-1 0h2m2 0h2m0 0h2m0 0h2m2 0h2m7 0h2m4 0h2m0 0h2m-2 0h2m-2 0h2m6 0h2m-1 0h2m-1 0h2m0 0h2m0 0h2m5 0h2m0 0h2m-294 1h2m82 0h2m-2 0h2m11 0h2m8 0h2m5 0h2m7 0h2m5 0h2m2 0h2m3 0h2m5 0h2m0 0h2m3 0h2m1 0h2m25 0h2m-1 0h2m3 0h2m0 0h2m-1 0h2m3 0h2m-1 0h2m3 0h2m0 0h2m1 0h2m-1 0h2m1 0h2m-2 0h2m9 0h2m4 0h2m1 0h2m4 0h2m10 0h2m3 0h2m0 0h2m-2 0h2m0 0h2m0 0h2m5 0h2m2 0h2m11 0h2m6 0h2m-290 1h2m35 0h2m8 0h2m15 0h2m10 0h2m13 0h2m8 0h2m0 0h2m5 0h2m0 0h2m8 0h2m-2 0h2m-1 0h2m0 0h2m5 0h2m1 0h2m14 0h2m-1 0h2m10 0h2m-2 0h2m2 0h2m9 0h2m-1 0h2m5 0h2m1 0h2m2 0h2m4 0h2m-1 0h2m-1 0h2m1 0h2m-1 0h2m-2 0h2m4 0h2m1 0h2m1 0h2m4 0h2m1 0h2m4 0h2m-1 0h2m0 0h2m1 0h2m-1 0h2m-2 0h2m2 0h2m5 0h2m0 0h2m1 0h2m10 0h2m1 0h2m-1 0h2m-1 0h2m-1 0h2m6 0h2m0 0h2m-1 0h2m1 0h2m-250 1h2m16 0h2m9 0h2m2 0h2m8 0h2m1 0h2m6 0h2m19 0h2m-2 0h2m3 0h2m6 0h2m0 0h2m23 0h2m-1 0h2m1 0h2m5 0h2m9 0h2m3 0h2m-1 0h2m1 0h2m-2 0h2m2 0h2m12 0h2m1 0h2m0 0h2m4 0h2m6 0h2m4 0h2m3 0h2m2 0h2m1 0h2m-2 0h2m4 0h2m3 0h2m3 0h2m1 0h2m-1 0h2m1 0h2m-2 0h2m-1 0h2m9 0h2m-1 0h2m-1 0h2m-1 0h2m4 0h2m-2 0h2m-236 1h2m9 0h2m12 0h2m9 0h2m5 0h2m7 0h2m5 0h2m1 0h2m5 0h2m5 0h2m21 0h2m5 0h2m-1 0h2m2 0h2m1 0h2m3 0h2m-1 0h2m0 0h2m4 0h2m0 0h2m1 0h2m2 0h2m0 0h2m4 0h2m-2 0h2m1 0h2m-1 0h2m0 0h2m1 0h2m0 0h2m-2 0h2m0 0h2m0 0h2m0 0h2m-1 0h2m1 0h2m-1 0h2m3 0h2m1 0h2m4 0h2m-2 0h2m-1 0h2m3 0h2m2 0h2m-1 0h2m1 0h2m2 0h2m-1 0h2m0 0h2m6 0h2m-1 0h2m-2 0h2m9 0h2m1 0h2m4 0h2m-301 1h2m46 0h2m2 0h2m12 0h2m8 0h2m10 0h2m-1 0h2m30 0h2m0 0h2m-1 0h2m-2 0h2m4 0h2m2 0h2m3 0h2m11 0h2m1 0h2m-1 0h2m7 0h2m6 0h2m0 0h2m1 0h2m1 0h2m9 0h2m7 0h2m5 0h2m-1 0h2m-2 0h2m-2 0h2m1 0h2m1 0h2m-1 0h2m1 0h2m1 0h2m4 0h2m-1 0h2m5 0h2m-1 0h2m3 0h2m-1 0h2m-1 0h2m1 0h2m3 0h2m7 0h2m1 0h2m15 0h2m2 0h2m-1 0h2m-1 0h2m3 0h2m6 0h2m-2 0h2m-298 1h2m76 0h2m2 0h2m-2 0h2m2 0h2m8 0h2m8 0h2m8 0h2m1 0h2m4 0h2m5 0h2m3 0h2m0 0h2m-2 0h2m0 0h2m5 0h2m-2 0h2m0 0h2m-1 0h2m17 0h2m0 0h2m3 0h2m-2 0h2m0 0h2m1 0h2m7 0h2m18 0h2m-1 0h2m2 0h2m0 0h2m12 0h2m1 0h2m-1 0h2m1 0h2m0 0h2m-2 0h2m-1 0h2m-1 0h2m4 0h2m-1 0h2m-2 0h2m9 0h2m3 0h2m1 0h2m-2 0h2m0 0h2m11 0h2m-1 0h2m-1 0h2m9 0h2m-292 1h2m30 0h2m1 0h2m19 0h2m29 0h2m6 0h2m2 0h2m18 0h2m2 0h2m0 0h2m8 0h2m4 0h2m7 0h2m0 0h2m0 0h2m-2 0h2m18 0h2m12 0h2m15 0h2m-1 0h2m0 0h2m-2 0h2m-1 0h2m-2 0h2m0 0h2m2 0h2m-1 0h2m2 0h2m2 0h2m-1 0h2m-1 0h2m-1 0h2m2 0h2m2 0h2m2 0h2m0 0h2m6 0h2m4 0h2m3 0h2m0 0h2m-1 0h2m2 0h2m-1 0h2m6 0h2m2 0h2m-1 0h2m0 0h2m-1 0h2m5 0h2m-1 0h2m-267 1h2m54 0h2m-1 0h2m11 0h2m-1 0h2m12 0h2m4 0h2m-2 0h2m12 0h2m-2 0h2m6 0h2m24 0h2m13 0h2m-2 0h2m-2 0h2m6 0h2m-1 0h2m9 0h2m4 0h2m14 0h2m7 0h2m1 0h2m-1 0h2m0 0h2m2 0h2m1 0h2m-2 0h2m5 0h2m2 0h2m0 0h2m8 0h2m3 0h2m-1 0h2m3 0h2m-2 0h2m1 0h2m-2 0h2m3 0h2m1 0h2m-1 0h2m1 0h2m-2 0h2m-239 1h2m-1 0h2m27 0h2m4 0h2m18 0h2m-2 0h2m8 0h2m0 0h2m0 0h2m1 0h2m8 0h2m4 0h2m-1 0h2m-1 0h2m-1 0h2m-2 0h2m1 0h2m5 0h2m14 0h2m4 0h2m-1 0h2m10 0h2m1 0h2m2 0h2m7 0h2m-2 0h2m1 0h2m-1 0h2m6 0h2m6 0h2m-1 0h2m7 0h2m-1 0h2m-1 0h2m1 0h2m-1 0h2m2 0h2m8 0h2m-1 0h2m-2 0h2m3 0h2m3 0h2m3 0h2m-2 0h2m-1 0h2m2 0h2m2 0h2m2 0h2m3 0h2m-289 1h2m12 0h2m17 0h2m7 0h2m5 0h2m-1 0h2m14 0h2m0 0h2m2 0h2m11 0h2m1 0h2m4 0h2m-2 0h2m-2 0h2m6 0h2m0 0h2m0 0h2m10 0h2m17 0h2m8 0h2m2 0h2m10 0h2m9 0h2m-1 0h2m11 0h2m2 0h2m0 0h2m-1 0h2m3 0h2m1 0h2m0 0h2m4 0h2m2 0h2m0 0h2m5 0h2m1 0h2m-1 0h2m3 0h2m1 0h2m2 0h2m1 0h2m1 0h2m-1 0h2m-1 0h2m-2 0h2m-1 0h2m-1 0h2m1 0h2m1 0h2m2 0h2m-2 0h2m-1 0h2m-2 0h2m4 0h2m8 0h2m1 0h2m4 0h2m-349 1h2m67 0h2m0 0h2m1 0h2m26 0h2m10 0h2m12 0h2m0 0h2m10 0h2m2 0h2m-1 0h2m0 0h2m0 0h2m6 0h2m-2 0h2m19 0h2m10 0h2m0 0h2m0 0h2m-1 0h2m14 0h2m-1 0h2m0 0h2m-2 0h2m-1 0h2m-2 0h2m4 0h2m17 0h2m6 0h2m0 0h2m0 0h2m1 0h2m1 0h2m-1 0h2m-1 0h2m1 0h2m-1 0h2m0 0h2m-1 0h2m-1 0h2m-1 0h2m5 0h2m-1 0h2m-1 0h2m1 0h2m8 0h2m3 0h2m-1 0h2m2 0h2m7 0h2m0 0h2m2 0h2m2 0h2m-1 0h2m2 0h2m0 0h2m2 0h2m2 0h2m3 0h2m-247 1h2m30 0h2m2 0h2m4 0h2m-1 0h2m5 0h2m0 0h2m3 0h2m14 0h2m1 0h2m13 0h2m0 0h2m3 0h2m0 0h2m17 0h2m2 0h2m0 0h2m-1 0h2m2 0h2m0 0h2m-2 0h2m15 0h2m0 0h2m-1 0h2m4 0h2m8 0h2m0 0h2m1 0h2m-1 0h2m1 0h2m-1 0h2m4 0h2m4 0h2m-1 0h2m-1 0h2m4 0h2m10 0h2m-1 0h2m-1 0h2m3 0h2m1 0h2m0 0h2m1 0h2m12 0h2m0 0h2m-2 0h2m-1 0h2m-1 0h2m5 0h2m-256 1h2m4 0h2m8 0h2m8 0h2m6 0h2m35 0h2m-1 0h2m7 0h2m13 0h2m-1 0h2m5 0h2m9 0h2m0 0h2m3 0h2m-2 0h2m-1 0h2m-1 0h2m10 0h2m1 0h2m4 0h2m11 0h2m-2 0h2m6 0h2m-1 0h2m-2 0h2m0 0h2m-1 0h2m3 0h2m1 0h2m-1 0h2m0 0h2m1 0h2m2 0h2m8 0h2m5 0h2m5 0h2m9 0h2m1 0h2m3 0h2m4 0h2m0 0h2m5 0h2m0 0h2m-1 0h2m-1 0h2m-2 0h2m-1 0h2m-1 0h2m-297 1h2m46 0h2m9 0h2m-1 0h2m13 0h2m1 0h2m-1 0h2m6 0h2m-1 0h2m0 0h2m0 0h2m5 0h2m4 0h2m7 0h2m10 0h2m12 0h2m0 0h2m-1 0h2m0 0h2m1 0h2m4 0h2m1 0h2m-2 0h2m0 0h2m0 0h2m1 0h2m2 0h2m0 0h2m-2 0h2m3 0h2m11 0h2m1 0h2m2 0h2m1 0h2m-1 0h2m6 0h2m-1 0h2m-1 0h2m-1 0h2m-1 0h2m3 0h2m0 0h2m1 0h2m1 0h2m1 0h2m3 0h2m-1 0h2m2 0h2m7 0h2m-1 0h2m-1 0h2m0 0h2m0 0h2m-2 0h2m9 0h2m0 0h2m-2 0h2m1 0h2m3 0h2m2 0h2m8 0h2m0 0h2m0 0h2m1 0h2m2 0h2m-2 0h2m-234 1h2m7 0h2m14 0h2m24 0h2m1 0h2m0 0h2m-1 0h2m11 0h2m1 0h2m-2 0h2m8 0h2m8 0h2m2 0h2m0 0h2m-1 0h2m11 0h2m5 0h2m7 0h2m2 0h2m16 0h2m1 0h2m0 0h2m10 0h2m0 0h2m-1 0h2m0 0h2m3 0h2m-2 0h2m-2 0h2m-2 0h2m-1 0h2m-1 0h2m4 0h2m0 0h2m1 0h2m0 0h2m0 0h2m0 0h2m-2 0h2m-1 0h2m0 0h2m2 0h2m9 0h2m-1 0h2m2 0h2m3 0h2m-267 1h2m33 0h2m13 0h2m1 0h2m-2 0h2m12 0h2m8 0h2m11 0h2m22 0h2m5 0h2m0 0h2m3 0h2m-1 0h2m10 0h2m-1 0h2m4 0h2m0 0h2m10 0h2m-2 0h2m2 0h2m1 0h2m-2 0h2m6 0h2m-1 0h2m1 0h2m3 0h2m13 0h2m2 0h2m3 0h2m0 0h2m-2 0h2m-1 0h2m-1 0h2m-1 0h2m-2 0h2m5 0h2m-2 0h2m1 0h2m-1 0h2m5 0h2m-2 0h2m0 0h2m-2 0h2m1 0h2m10 0h2m0 0h2m4 0h2m1 0h2m-2 0h2m2 0h2m-2 0h2m-296 1h2m7 0h2m33 0h2m2 0h2m22 0h2m47 0h2m15 0h2m17 0h2m4 0h2m6 0h2m1 0h2m-1 0h2m-1 0h2m0 0h2m2 0h2m0 0h2m18 0h2m17 0h2m-2 0h2m4 0h2m-2 0h2m-1 0h2m1 0h2m6 0h2m8 0h2m2 0h2m3 0h2m4 0h2m-2 0h2m-1 0h2m-1 0h2m4 0h2m1 0h2m-1 0h2m-1 0h2m1 0h2m-2 0h2m0 0h2m-1 0h2m-2 0h2m-2 0h2m-1 0h2m0 0h2m7 0h2m-298 1h2m71 0h2m13 0h2m13 0h2m14 0h2m10 0h2m1 0h2m2 0h2m29 0h2m13 0h2m4 0h2m6 0h2m-2 0h2m2 0h2m2 0h2m0 0h2m7 0h2m-1 0h2m0 0h2m0 0h2m3 0h2m0 0h2m4 0h2m16 0h2m3 0h2m1 0h2m2 0h2m6 0h2m0 0h2m6 0h2m0 0h2m-1 0h2m-2 0h2m10 0h2m-1 0h2m-2 0h2m-374 1h2m63 0h2m37 0h2m-1 0h2m19 0h2m9 0h2m14 0h2m-1 0h2m8 0h2m6 0h2m14 0h2m11 0h2m9 0h2m13 0h2m3 0h2m6 0h2m-2 0h2m12 0h2m5 0h2m2 0h2m2 0h2m0 0h2m10 0h2m1 0h2m4 0h2m1 0h2m0 0h2m1 0h2m0 0h2m3 0h2m1 0h2m-1 0h2m0 0h2m1 0h2m-1 0h2m0 0h2m-1 0h2m-1 0h2m6 0h2m-1 0h2m3 0h2m17 0h2m3 0h2m-2 0h2m6 0h2m-341 1h2m102 0h2m4 0h2m3 0h2m12 0h2m0 0h2m6 0h2m0 0h2m3 0h2m4 0h2m3 0h2m-1 0h2m4 0h2m-1 0h2m8 0h2m-2 0h2m-1 0h2m1 0h2m6 0h2m3 0h2m2 0h2m13 0h2m-2 0h2m18 0h2m6 0h2m-1 0h2m5 0h2m11 0h2m-2 0h2m0 0h2m6 0h2m3 0h2m7 0h2m-1 0h2m4 0h2m6 0h2m0 0h2m-2 0h2m12 0h2m0 0h2m0 0h2m-1 0h2m0 0h2m-2 0h2m4 0h2m1 0h2m-1 0h2m-2 0h2m3 0h2m4 0h2m-276 1h2m14 0h2m20 0h2m9 0h2m17 0h2m-1 0h2m3 0h2m12 0h2m-1 0h2m31 0h2m6 0h2m-1 0h2m-2 0h2m0 0h2m2 0h2m-2 0h2m3 0h2m7 0h2m-1 0h2m9 0h2m0 0h2m20 0h2m3 0h2m-1 0h2m9 0h2m4 0h2m-1 0h2m9 0h2m7 0h2m-1 0h2m-2 0h2m4 0h2m2 0h2m0 0h2m0 0h2m3 0h2m-2 0h2m-1 0h2m-1 0h2m7 0h2m1 0h2m0 0h2m1 0h2m0 0h2m-342 1h2m76 0h2m18 0h2m35 0h2m23 0h2m21 0h2m-2 0h2m-1 0h2m3 0h2m-1 0h2m15 0h2m-1 0h2m0 0h2m-2 0h2m1 0h2m0 0h2m6 0h2m6 0h2m1 0h2m1 0h2m2 0h2m-1 0h2m6 0h2m0 0h2m4 0h2m2 0h2m6 0h2m-1 0h2m5 0h2m4 0h2m-2 0h2m-2 0h2m3 0h2m0 0h2m1 0h2m2 0h2m3 0h2m-1 0h2m0 0h2m-1 0h2m1 0h2m2 0h2m-1 0h2m4 0h2m0 0h2m2 0h2m4 0h2m-1 0h2m-357 1h2m111 0h2m10 0h2m4 0h2m25 0h2m3 0h2m5 0h2m7 0h2m10 0h2m35 0h2m2 0h2m1 0h2m-1 0h2m5 0h2m-2 0h2m8 0h2m0 0h2m5 0h2m3 0h2m-2 0h2m-1 0h2m-2 0h2m-1 0h2m7 0h2m1 0h2m-1 0h2m6 0h2m1 0h2m-2 0h2m0 0h2m-1 0h2m-1 0h2m5 0h2m1 0h2m4 0h2m-1 0h2m-1 0h2m-1 0h2m-2 0h2m0 0h2m5 0h2m7 0h2m2 0h2m9 0h2m-2 0h2m-1 0h2m-1 0h2m-1 0h2m-1 0h2m5 0h2m0 0h2m-2 0h2m0 0h2m-276 1h2m33 0h2m12 0h2m23 0h2m11 0h2m1 0h2m2 0h2m19 0h2m4 0h2m0 0h2m17 0h2m4 0h2m7 0h2m1 0h2m1 0h2m-2 0h2m0 0h2m0 0h2m2 0h2m2 0h2m2 0h2m9 0h2m-2 0h2m16 0h2m3 0h2m-1 0h2m-1 0h2m4 0h2m1 0h2m1 0h2m0 0h2m2 0h2m0 0h2m-1 0h2m-2 0h2m5 0h2m-1 0h2m-2 0h2m-2 0h2m0 0h2m3 0h2m-1 0h2m3 0h2m0 0h2m-1 0h2m-1 0h2m0 0h2m8 0h2m-231 1h2m5 0h2m41 0h2m22 0h2m-2 0h2m-1 0h2m-1 0h2m-2 0h2m4 0h2m6 0h2m7 0h2m2 0h2m1 0h2m17 0h2m4 0h2m5 0h2m-1 0h2m2 0h2m3 0h2m2 0h2m0 0h2m9 0h2m4 0h2m3 0h2m1 0h2m0 0h2m7 0h2m3 0h2m3 0h2m-1 0h2m1 0h2m5 0h2m2 0h2m3 0h2m2 0h2m-2 0h2m2 0h2m-252 1h2m20 0h2m16 0h2m6 0h2m14 0h2m23 0h2m-1 0h2m3 0h2m5 0h2m11 0h2m4 0h2m-2 0h2m6 0h2m10 0h2m4 0h2m-1 0h2m1 0h2m4 0h2m1 0h2m-1 0h2m10 0h2m6 0h2m1 0h2m3 0h2m4 0h2m-2 0h2m1 0h2m-2 0h2m0 0h2m0 0h2m-1 0h2m0 0h2m-2 0h2m0 0h2m7 0h2m0 0h2m0 0h2m-2 0h2m-1 0h2m-2 0h2m-1 0h2m0 0h2m1 0h2m4 0h2m0 0h2m0 0h2m-2 0h2m6 0h2m6 0h2m-269 1h2m19 0h2m0 0h2m2 0h2m19 0h2m6 0h2m7 0h2m3 0h2m6 0h2m1 0h2m9 0h2m-2 0h2m3 0h2m-2 0h2m9 0h2m4 0h2m-2 0h2m4 0h2m1 0h2m11 0h2m2 0h2m8 0h2m4 0h2m-1 0h2m5 0h2m-1 0h2m-2 0h2m6 0h2m1 0h2m5 0h2m-1 0h2m0 0h2m2 0h2m11 0h2m1 0h2m0 0h2m-1 0h2m5 0h2m-1 0h2m-1 0h2m-2 0h2m-1 0h2m1 0h2m-1 0h2m3 0h2m0 0h2m-1 0h2m0 0h2m-2 0h2m14 0h2m2 0h2m-276 1h2m55 0h2m10 0h2m18 0h2m22 0h2m10 0h2m8 0h2m15 0h2m3 0h2m-1 0h2m-1 0h2m-2 0h2m-1 0h2m3 0h2m-1 0h2m5 0h2m1 0h2m-1 0h2m-1 0h2m4 0h2m1 0h2m3 0h2m2 0h2m-2 0h2m-1 0h2m8 0h2m3 0h2m-2 0h2m1 0h2m4 0h2m19 0h2m4 0h2m-1 0h2m3 0h2m5 0h2m2 0h2m3 0h2m0 0h2m2 0h2m-1 0h2m-1 0h2m1 0h2m-1 0h2m-293 1h2m39 0h2m-1 0h2m18 0h2m9 0h2m3 0h2m4 0h2m42 0h2m-2 0h2m2 0h2m34 0h2m3 0h2m6 0h2m-1 0h2m-1 0h2m1 0h2m16 0h2m6 0h2m0 0h2m1 0h2m1 0h2m-1 0h2m6 0h2m7 0h2m0 0h2m0 0h2m-1 0h2m18 0h2m5 0h2m-1 0h2m2 0h2m0 0h2m6 0h2m-1 0h2m7 0h2m-287 1h2m21 0h2m20 0h2m46 0h2m30 0h2m1 0h2m11 0h2m-2 0h2m11 0h2m10 0h2m-1 0h2m2 0h2m-1 0h2m3 0h2m0 0h2m4 0h2m-2 0h2m1 0h2m2 0h2m2 0h2m0 0h2m-1 0h2m-1 0h2m10 0h2m11 0h2m-2 0h2m5 0h2m4 0h2m-2 0h2m0 0h2m7 0h2m12 0h2m6 0h2m-1 0h2m0 0h2m-236 1h2m9 0h2m26 0h2m6 0h2m9 0h2m3 0h2m1 0h2m0 0h2m4 0h2m0 0h2m0 0h2m6 0h2m3 0h2m2 0h2m0 0h2m2 0h2m5 0h2m1 0h2m1 0h2m3 0h2m-1 0h2m-1 0h2m-1 0h2m2 0h2m1 0h2m0 0h2m0 0h2m4 0h2m1 0h2m-2 0h2m4 0h2m2 0h2m9 0h2m8 0h2m4 0h2m2 0h2m-1 0h2m0 0h2m-1 0h2m4 0h2m-2 0h2m-1 0h2m0 0h2m-1 0h2m0 0h2m-1 0h2m6 0h2m-2 0h2m4 0h2m-2 0h2m6 0h2m-1 0h2m3 0h2m0 0h2m-2 0h2m3 0h2m-1 0h2m-256 1h2m26 0h2m12 0h2m-1 0h2m20 0h2m19 0h2m6 0h2m0 0h2m-1 0h2m0 0h2m20 0h2m2 0h2m7 0h2m4 0h2m6 0h2m5 0h2m8 0h2m3 0h2m17 0h2m-2 0h2m-1 0h2m-1 0h2m3 0h2m-1 0h2m4 0h2m-1 0h2m1 0h2m6 0h2m-1 0h2m10 0h2m3 0h2m2 0h2m15 0h2m6 0h2m-290 1h2m79 0h2m14 0h2m7 0h2m4 0h2m2 0h2m11 0h2m1 0h2m17 0h2m0 0h2m3 0h2m5 0h2m2 0h2m2 0h2m-1 0h2m6 0h2m0 0h2m1 0h2m3 0h2m1 0h2m4 0h2m5 0h2m7 0h2m3 0h2m1 0h2m-2 0h2m4 0h2m3 0h2m1 0h2m-1 0h2m1 0h2m-2 0h2m-1 0h2m0 0h2m2 0h2m-1 0h2m2 0h2m4 0h2m4 0h2m3 0h2m4 0h2m0 0h2m7 0h2m-2 0h2m-276 1h2m19 0h2m51 0h2m11 0h2m17 0h2m4 0h2m1 0h2m5 0h2m1 0h2m0 0h2m9 0h2m12 0h2m0 0h2m7 0h2m10 0h2m-2 0h2m3 0h2m3 0h2m0 0h2m3 0h2m-1 0h2m1 0h2m0 0h2m-1 0h2m-2 0h2m2 0h2m1 0h2m1 0h2m-1 0h2m1 0h2m1 0h2m7 0h2m-1 0h2m12 0h2m3 0h2m-1 0h2m4 0h2m-1 0h2m-2 0h2m1 0h2m-2 0h2m-1 0h2m4 0h2m2 0h2m1 0h2m-1 0h2m-269 1h2m1 0h2m11 0h2m21 0h2m15 0h2m4 0h2m8 0h2m6 0h2m-2 0h2m0 0h2m3 0h2m-1 0h2m10 0h2m5 0h2m-1 0h2m0 0h2m0 0h2m-1 0h2m11 0h2m5 0h2m4 0h2m0 0h2m2 0h2m-2 0h2m18 0h2m-1 0h2m0 0h2m4 0h2m1 0h2m2 0h2m6 0h2m2 0h2m-1 0h2m7 0h2m6 0h2m-1 0h2m-1 0h2m3 0h2m4 0h2m0 0h2m2 0h2m6 0h2m-1 0h2m-1 0h2m-2 0h2m0 0h2m0 0h2m8 0h2m6 0h2m3 0h2m0 0h2m-358 1h2m38 0h2m31 0h2m3 0h2m13 0h2m47 0h2m-1 0h2m5 0h2m2 0h2m6 0h2m3 0h2m-1 0h2m11 0h2m9 0h2m0 0h2m5 0h2m-1 0h2m6 0h2m15 0h2m-1 0h2m6 0h2m0 0h2m6 0h2m0 0h2m0 0h2m15 0h2m-1 0h2m0 0h2m5 0h2m1 0h2m0 0h2m0 0h2m0 0h2m1 0h2m1 0h2m2 0h2m3 0h2m-2 0h2m3 0h2m2 0h2m2 0h2m0 0h2m-1 0h2m-2 0h2m16 0h2m-2 0h2m2 0h2m6 0h2m4 0h2m-2 0h2m-2 0h2m-250 1h2m22 0h2m10 0h2m8 0h2m2 0h2m32 0h2m13 0h2m5 0h2m-1 0h2m0 0h2m4 0h2m6 0h2m-1 0h2m9 0h2m5 0h2m21 0h2m2 0h2m-2 0h2m-1 0h2m-2 0h2m-1 0h2m3 0h2m5 0h2m1 0h2m-1 0h2m0 0h2m1 0h2m2 0h2m4 0h2m-1 0h2m4 0h2m-1 0h2m-1 0h2m2 0h2m-1 0h2m2 0h2m2 0h2m1 0h2m20 0h2m-2 0h2m0 0h2m-1 0h2m-214 1h2m6 0h2m-1 0h2m11 0h2m0 0h2m0 0h2m15 0h2m1 0h2m30 0h2m0 0h2m11 0h2m3 0h2m3 0h2m11 0h2m-2 0h2m5 0h2m5 0h2m4 0h2m3 0h2m0 0h2m8 0h2m0 0h2m12 0h2m1 0h2m3 0h2m5 0h2m12 0h2m4 0h2m0 0h2m-1 0h2m3 0h2m-256 1h2m-2 0h2m7 0h2m11 0h2m29 0h2m1 0h2m2 0h2m12 0h2m3 0h2m3 0h2m4 0h2m2 0h2m47 0h2m9 0h2m0 0h2m-1 0h2m3 0h2m1 0h2m0 0h2m-1 0h2m-1 0h2m-2 0h2m8 0h2m16 0h2m1 0h2m3 0h2m3 0h2m6 0h2m3 0h2m3 0h2m-1 0h2m5 0h2m3 0h2m1 0h2m1 0h2m3 0h2m2 0h2m-281 1h2m17 0h2m4 0h2m27 0h2m31 0h2m2 0h2m5 0h2m34 0h2m4 0h2m3 0h2m11 0h2m9 0h2m1 0h2m4 0h2m0 0h2m-1 0h2m20 0h2m7 0h2m10 0h2m2 0h2m11 0h2m0 0h2m2 0h2m-2 0h2m1 0h2m10 0h2m6 0h2m-1 0h2m0 0h2m0 0h2m0 0h2m-1 0h2m-252 1h2m-1 0h2m20 0h2m3 0h2m11 0h2m13 0h2m5 0h2m15 0h2m1 0h2m6 0h2m22 0h2m10 0h2m5 0h2m1 0h2m2 0h2m5 0h2m-1 0h2m1 0h2m1 0h2m2 0h2m-1 0h2m5 0h2m1 0h2m9 0h2m0 0h2m-1 0h2m0 0h2m1 0h2m-1 0h2m-2 0h2m2 0h2m-1 0h2m8 0h2m-1 0h2m2 0h2m4 0h2m1 0h2m2 0h2m2 0h2m3 0h2m0 0h2m4 0h2m0 0h2m0 0h2m-2 0h2m-1 0h2m0 0h2m-380 1h2m99 0h2m6 0h2m20 0h2m16 0h2m15 0h2m19 0h2m23 0h2m15 0h2m-1 0h2m-1 0h2m5 0h2m9 0h2m16 0h2m2 0h2m4 0h2m4 0h2m-1 0h2m-1 0h2m2 0h2m2 0h2m2 0h2m-1 0h2m11 0h2m-1 0h2m0 0h2m0 0h2m-1 0h2m-1 0h2m-1 0h2m0 0h2m-2 0h2m0 0h2m2 0h2m-1 0h2m8 0h2m11 0h2m5 0h2m2 0h2m-1 0h2m13 0h2m-266 1h2m19 0h2m12 0h2m21 0h2m36 0h2m12 0h2m3 0h2m10 0h2m1 0h2m23 0h2m-1 0h2m11 0h2m10 0h2m0 0h2m18 0h2m3 0h2m0 0h2m9 0h2m1 0h2m9 0h2m2 0h2m-2 0h2m1 0h2m-2 0h2m-1 0h2m-2 0h2m-1 0h2m15 0h2m-1 0h2m-2 0h2m0 0h2m-247 1h2m15 0h2m8 0h2m3 0h2m0 0h2m29 0h2m6 0h2m0 0h2m2 0h2m26 0h2m12 0h2m27 0h2m6 0h2m4 0h2m11 0h2m1 0h2m-2 0h2m-1 0h2m1 0h2m0 0h2m0 0h2m-1 0h2m1 0h2m-1 0h2m2 0h2m2 0h2m3 0h2m1 0h2m-1 0h2m1 0h2m2 0h2m13 0h2m0 0h2m-1 0h2m1 0h2m0 0h2m-2 0h2m-1 0h2m5 0h2m-250 1h2m47 0h2m4 0h2m4 0h2m4 0h2m5 0h2m6 0h2m-1 0h2m16 0h2m11 0h2m3 0h2m7 0h2m-2 0h2m8 0h2m0 0h2m1 0h2m7 0h2m1 0h2m-1 0h2m2 0h2m1 0h2m0 0h2m1 0h2m0 0h2m0 0h2m0 0h2m-2 0h2m-2 0h2m0 0h2m-1 0h2m-1 0h2m0 0h2m5 0h2m-1 0h2m0 0h2m-2 0h2m-1 0h2m-1 0h2m-2 0h2m0 0h2m5 0h2m0 0h2m9 0h2m-1 0h2m-1 0h2m1 0h2m-1 0h2m-2 0h2m19 0h2m1 0h2m-1 0h2m-2 0h2m-1 0h2m-2 0h2m-304 1h2m17 0h2m3 0h2m28 0h2m46 0h2m7 0h2m28 0h2m11 0h2m20 0h2m16 0h2m3 0h2m0 0h2m3 0h2m6 0h2m4 0h2m2 0h2m2 0h2m3 0h2m2 0h2m-1 0h2m8 0h2m1 0h2m6 0h2m9 0h2m11 0h2m2 0h2m-1 0h2m5 0h2m-1 0h2m-2 0h2m3 0h2m-221 1h2m0 0h2m8 0h2m0 0h2m0 0h2m8 0h2m38 0h2m18 0h2m5 0h2m7 0h2m17 0h2m-1 0h2m4 0h2m2 0h2m-1 0h2m5 0h2m-2 0h2m6 0h2m1 0h2m-1 0h2m6 0h2m5 0h2m5 0h2m-1 0h2m0 0h2m16 0h2m2 0h2m6 0h2m0 0h2m2 0h2m3 0h2m-275 1h2m0 0h2m27 0h2m26 0h2m33 0h2m10 0h2m6 0h2m9 0h2m-1 0h2m-1 0h2m1 0h2m6 0h2m2 0h2m-1 0h2m8 0h2m10 0h2m0 0h2m0 0h2m4 0h2m2 0h2m1 0h2m2 0h2m5 0h2m17 0h2m-2 0h2m-1 0h2m2 0h2m6 0h2m1 0h2m3 0h2m9 0h2m4 0h2m0 0h2m0 0h2m3 0h2m-1 0h2m2 0h2m6 0h2m4 0h2m-278 1h2m41 0h2m6 0h2m15 0h2m10 0h2m-1 0h2m2 0h2m18 0h2m6 0h2m5 0h2m22 0h2m13 0h2m-1 0h2m7 0h2m4 0h2m-1 0h2m3 0h2m-2 0h2m3 0h2m12 0h2m0 0h2m23 0h2m0 0h2m2 0h2m0 0h2m-2 0h2m-1 0h2m0 0h2m-2 0h2m28 0h2m-1 0h2m-226 1h2m15 0h2m16 0h2m0 0h2m4 0h2m24 0h2m3 0h2m11 0h2m-2 0h2m15 0h2m3 0h2m0 0h2m7 0h2m0 0h2m1 0h2m12 0h2m2 0h2m5 0h2m2 0h2m7 0h2m7 0h2m1 0h2m-1 0h2m3 0h2m0 0h2m7 0h2m9 0h2m-1 0h2m7 0h2m5 0h2m-1 0h2m-1 0h2m-2 0h2m7 0h2m-238 1h2m14 0h2m24 0h2m4 0h2m0 0h2m1 0h2m3 0h2m-2 0h2m15 0h2m24 0h2m0 0h2m11 0h2m21 0h2m-1 0h2m4 0h2m-1 0h2m1 0h2m0 0h2m5 0h2m3 0h2m-1 0h2m14 0h2m-1 0h2m4 0h2m1 0h2m-1 0h2m-2 0h2m-1 0h2m-1 0h2m0 0h2m0 0h2m3 0h2m5 0h2m1 0h2m-2 0h2m-1 0h2m4 0h2m-2 0h2m-1 0h2m1 0h2m-1 0h2m-2 0h2m-1 0h2m1 0h2m5 0h2m-305 1h2m3 0h2m64 0h2m3 0h2m16 0h2m-1 0h2m35 0h2m13 0h2m4 0h2m11 0h2m1 0h2m2 0h2m0 0h2m8 0h2m-1 0h2m-1 0h2m8 0h2m1 0h2m0 0h2m6 0h2m-1 0h2m16 0h2m-1 0h2m6 0h2m12 0h2m2 0h2m4 0h2m-1 0h2m0 0h2m-1 0h2m-1 0h2m6 0h2m21 0h2m-1 0h2m-231 1h2m-2 0h2m-2 0h2m21 0h2m2 0h2m6 0h2m7 0h2m26 0h2m4 0h2m1 0h2m0 0h2m7 0h2m3 0h2m7 0h2m0 0h2m-2 0h2m1 0h2m-2 0h2m25 0h2m7 0h2m7 0h2m0 0h2m41 0h2m4 0h2m-1 0h2m8 0h2m5 0h2m6 0h2m-251 1h2m47 0h2m8 0h2m3 0h2m16 0h2m-1 0h2m4 0h2m2 0h2m3 0h2m8 0h2m4 0h2m3 0h2m0 0h2m3 0h2m-1 0h2m0 0h2m2 0h2m-1 0h2m22 0h2m12 0h2m0 0h2m1 0h2m13 0h2m28 0h2m16 0h2m-273 1h2m3 0h2m46 0h2m5 0h2m4 0h2m19 0h2m0 0h2m-1 0h2m11 0h2m-1 0h2m22 0h2m2 0h2m-1 0h2m9 0h2m1 0h2m17 0h2m-2 0h2m4 0h2m-1 0h2m0 0h2m2 0h2m25 0h2m1 0h2m0 0h2m-1 0h2m3 0h2m27 0h2m5 0h2m-1 0h2m15 0h2m-1 0h2m-231 1h2m29 0h2m13 0h2m4 0h2m12 0h2m3 0h2m9 0h2m22 0h2m5 0h2m8 0h2m6 0h2m2 0h2m-2 0h2m12 0h2m6 0h2m-1 0h2m0 0h2m6 0h2m8 0h2m18 0h2m3 0h2m1 0h2m2 0h2m-1 0h2m-1 0h2m-1 0h2m-2 0h2m6 0h2m13 0h2m-1 0h2m-365 1h2m62 0h2m49 0h2m15 0h2m27 0h2m-1 0h2m7 0h2m-2 0h2m52 0h2m16 0h2m14 0h2m4 0h2m1 0h2m5 0h2m3 0h2m2 0h2m1 0h2m4 0h2m-2 0h2m2 0h2m3 0h2m5 0h2m15 0h2m1 0h2m2 0h2m0 0h2m2 0h2m-1 0h2m-2 0h2m1 0h2m2 0h2m2 0h2m-1 0h2m-2 0h2m5 0h2m1 0h2m-270 1h2m10 0h2m22 0h2m35 0h2m2 0h2m8 0h2m4 0h2m3 0h2m-2 0h2m37 0h2m11 0h2m-1 0h2m2 0h2m18 0h2m9 0h2m-1 0h2m2 0h2m5 0h2m-1 0h2m6 0h2m7 0h2m-2 0h2m3 0h2m4 0h2m2 0h2m0 0h2m-1 0h2m0 0h2m2 0h2m8 0h2m-1 0h2m-245 1h2m7 0h2m-1 0h2m10 0h2m32 0h2m0 0h2m6 0h2m43 0h2m15 0h2m23 0h2m12 0h2m3 0h2m0 0h2m0 0h2m2 0h2m10 0h2m6 0h2m4 0h2m3 0h2m0 0h2m-1 0h2m-2 0h2m0 0h2m2 0h2m2 0h2m0 0h2m-1 0h2m1 0h2m4 0h2m-2 0h2m10 0h2m1 0h2m0 0h2m-1 0h2m1 0h2m2 0h2m-239 1h2m88 0h2m1 0h2m6 0h2m3 0h2m1 0h2m-1 0h2m0 0h2m29 0h2m3 0h2m0 0h2m1 0h2m4 0h2m2 0h2m4 0h2m0 0h2m3 0h2m-2 0h2m4 0h2m0 0h2m-1 0h2m-2 0h2m19 0h2m-1 0h2m-2 0h2m1 0h2m13 0h2m2 0h2m1 0h2m-296 1h2m64 0h2m15 0h2m5 0h2m12 0h2m17 0h2m17 0h2m7 0h2m5 0h2m0 0h2m4 0h2m39 0h2m-2 0h2m3 0h2m0 0h2m22 0h2m0 0h2m6 0h2m8 0h2m2 0h2m1 0h2m24 0h2m-1 0h2m-1 0h2m0 0h2m2 0h2m-202 1h2m2 0h2m0 0h2m13 0h2m19 0h2m14 0h2m18 0h2m7 0h2m4 0h2m39 0h2m3 0h2m5 0h2m0 0h2m-1 0h2m2 0h2m-1 0h2m1 0h2m1 0h2m6 0h2m10 0h2m-2 0h2m5 0h2m0 0h2m-200 1h2m14 0h2m12 0h2m5 0h2m6 0h2m-1 0h2m20 0h2m1 0h2m-2 0h2m20 0h2m21 0h2m26 0h2m1 0h2m5 0h2m2 0h2m0 0h2m-2 0h2m-2 0h2m3 0h2m-2 0h2m1 0h2m-2 0h2m4 0h2m1 0h2m10 0h2m7 0h2m0 0h2m4 0h2m-283 1h2m33 0h2m49 0h2m11 0h2m10 0h2m1 0h2m2 0h2m0 0h2m4 0h2m0 0h2m-2 0h2m1 0h2m1 0h2m0 0h2m27 0h2m1 0h2m15 0h2m2 0h2m4 0h2m22 0h2m3 0h2m2 0h2m3 0h2m1 0h2m3 0h2m-1 0h2m-2 0h2m13 0h2m24 0h2m-2 0h2m-244 1h2m13 0h2m45 0h2m-2 0h2m4 0h2m-1 0h2m11 0h2m28 0h2m11 0h2m3 0h2m1 0h2m11 0h2m0 0h2m16 0h2m1 0h2m0 0h2m3 0h2m4 0h2m-2 0h2m1 0h2m6 0h2m0 0h2m3 0h2m10 0h2m1 0h2m4 0h2m1 0h2m4 0h2m6 0h2m-259 1h2m21 0h2m23 0h2m32 0h2m-1 0h2m8 0h2m21 0h2m-1 0h2m0 0h2m34 0h2m2 0h2m15 0h2m2 0h2m0 0h2m5 0h2m4 0h2m6 0h2m11 0h2m4 0h2m12 0h2m1 0h2m10 0h2m-1 0h2m0 0h2m1 0h2m2 0h2m-2 0h2m-385 1h2m14 0h2m93 0h2m19 0h2m11 0h2m41 0h2m2 0h2m18 0h2m5 0h2m2 0h2m18 0h2m20 0h2m14 0h2m-1 0h2m13 0h2m0 0h2m7 0h2m7 0h2m4 0h2m-1 0h2m6 0h2m4 0h2m-2 0h2m4 0h2m9 0h2m0 0h2m1 0h2m7 0h2m5 0h2m-275 1h2m66 0h2m27 0h2m0 0h2m0 0h2m5 0h2m16 0h2m1 0h2m9 0h2m0 0h2m8 0h2m1 0h2m5 0h2m10 0h2m8 0h2m5 0h2m4 0h2m9 0h2m5 0h2m2 0h2m3 0h2m-2 0h2m0 0h2m5 0h2m-2 0h2m9 0h2m-1 0h2m-1 0h2m5 0h2m11 0h2m-225 1h2m35 0h2m2 0h2m5 0h2m21 0h2m5 0h2m3 0h2m6 0h2m9 0h2m11 0h2m-1 0h2m4 0h2m3 0h2m4 0h2m-1 0h2m-1 0h2m6 0h2m5 0h2m1 0h2m17 0h2m-1 0h2m4 0h2m0 0h2m-2 0h2m1 0h2m-1 0h2m-1 0h2m9 0h2m7 0h2m6 0h2m5 0h2m-1 0h2m1 0h2m-370 1h2m122 0h2m6 0h2m12 0h2m3 0h2m27 0h2m3 0h2m23 0h2m5 0h2m14 0h2m25 0h2m0 0h2m12 0h2m2 0h2m0 0h2m5 0h2m0 0h2m12 0h2m3 0h2m6 0h2m10 0h2m2 0h2m16 0h2m0 0h2m-2 0h2m9 0h2m0 0h2m-1 0h2m2 0h2m1 0h2m4 0h2m-383 1h2m83 0h2m32 0h2m23 0h2m49 0h2m28 0h2m1 0h2m12 0h2m-1 0h2m13 0h2m2 0h2m2 0h2m4 0h2m23 0h2m6 0h2m-1 0h2m5 0h2m8 0h2m-1 0h2m-2 0h2m2 0h2m1 0h2m3 0h2m3 0h2m0 0h2m11 0h2m-1 0h2m-2 0h2m0 0h2m-195 1h2m-2 0h2m17 0h2m7 0h2m5 0h2m22 0h2m15 0h2m5 0h2m29 0h2m7 0h2m-2 0h2m0 0h2m7 0h2m0 0h2m4 0h2m8 0h2m4 0h2m1 0h2m1 0h2m-1 0h2m0 0h2m8 0h2m9 0h2m17 0h2m-221 1h2m9 0h2m59 0h2m3 0h2m6 0h2m30 0h2m9 0h2m12 0h2m3 0h2m-2 0h2m5 0h2m5 0h2m3 0h2m-1 0h2m2 0h2m10 0h2m6 0h2m2 0h2m9 0h2m12 0h2m2 0h2m-336 1h2m99 0h2m83 0h2m0 0h2m10 0h2m17 0h2m-2 0h2m-1 0h2m12 0h2m15 0h2m5 0h2m2 0h2m6 0h2m9 0h2m0 0h2m11 0h2m13 0h2m10 0h2m8 0h2m1 0h2m-226 1h2m64 0h2m0 0h2m6 0h2m4 0h2m1 0h2m-1 0h2m0 0h2m29 0h2m2 0h2m8 0h2m-2 0h2m2 0h2m18 0h2m4 0h2m-2 0h2m6 0h2m3 0h2m-2 0h2m1 0h2m0 0h2m2 0h2m2 0h2m6 0h2m19 0h2m-1 0h2m1 0h2m-1 0h2m-246 1h2m10 0h2m12 0h2m38 0h2m2 0h2m0 0h2m46 0h2m1 0h2m8 0h2m1 0h2m5 0h2m2 0h2m3 0h2m15 0h2m17 0h2m2 0h2m19 0h2m-1 0h2m4 0h2m0 0h2m2 0h2m-1 0h2m-1 0h2m-1 0h2m6 0h2m-213 1h2m38 0h2m10 0h2m1 0h2m11 0h2m8 0h2m8 0h2m7 0h2m2 0h2m6 0h2m16 0h2m0 0h2m-1 0h2m-2 0h2m32 0h2m3 0h2m4 0h2m0 0h2m-2 0h2m1 0h2m0 0h2m5 0h2m-1 0h2m7 0h2m0 0h2m0 0h2m-230 1h2m11 0h2m40 0h2m19 0h2m-1 0h2m22 0h2m20 0h2m14 0h2m12 0h2m-1 0h2m-1 0h2m15 0h2m10 0h2m6 0h2m9 0h2m-2 0h2m8 0h2m15 0h2m1 0h2m-2 0h2m-2 0h2m-339 1h2m151 0h2m20 0h2m49 0h2m1 0h2m6 0h2m0 0h2m-1 0h2m0 0h2m-1 0h2m14 0h2m5 0h2m3 0h2m10 0h2m4 0h2m5 0h2m23 0h2m3 0h2m1 0h2m-1 0h2m2 0h2m-2 0h2m11 0h2m-243 1h2m17 0h2m6 0h2m12 0h2m11 0h2m23 0h2m40 0h2m5 0h2m24 0h2m-1 0h2m-1 0h2m-1 0h2m-1 0h2m7 0h2m2 0h2m2 0h2m-2 0h2m9 0h2m2 0h2m0 0h2m3 0h2m1 0h2m2 0h2m9 0h2m4 0h2m0 0h2m0 0h2m3 0h2m-281 1h2m81 0h2m51 0h2m12 0h2m25 0h2m26 0h2m11 0h2m3 0h2m7 0h2m-2 0h2m16 0h2m2 0h2m14 0h2m7 0h2m-1 0h2m-2 0h2m-444 1h2m177 0h2m22 0h2m8 0h2m18 0h2m-1 0h2m15 0h2m8 0h2m9 0h2m4 0h2m4 0h2m0 0h2m6 0h2m8 0h2m7 0h2m3 0h2m14 0h2m18 0h2m0 0h2m37 0h2m-1 0h2m1 0h2m0 0h2m0 0h2m0 0h2m6 0h2m5 0h2m10 0h2m1 0h2m0 0h2m1 0h2m-2 0h2m0 0h2m-2 0h2m0 0h2m4 0h2m-377 1h2m92 0h2m61 0h2m4 0h2m53 0h2m7 0h2m33 0h2m9 0h2m13 0h2m2 0h2m11 0h2m10 0h2m1 0h2m4 0h2m5 0h2m-1 0h2m13 0h2m3 0h2m7 0h2m-1 0h2m8 0h2m-400 1h2m178 0h2m65 0h2m10 0h2m-2 0h2m12 0h2m43 0h2m1 0h2m0 0h2m0 0h2m7 0h2m0 0h2m17 0h2m-2 0h2m17 0h2m20 0h2m-1 0h2m3 0h2m-1 0h2m-171 1h2m4 0h2m11 0h2m20 0h2m-1 0h2m32 0h2m0 0h2m10 0h2m7 0h2m-1 0h2m27 0h2m7 0h2m9 0h2m3 0h2m2 0h2m-233 1h2m33 0h2m12 0h2m9 0h2m5 0h2m18 0h2m5 0h2m2 0h2m1 0h2m49 0h2m5 0h2m-2 0h2m6 0h2m2 0h2m-1 0h2m10 0h2m16 0h2m6 0h2m13 0h2m0 0h2m9 0h2m-419 1h2m141 0h2m35 0h2m66 0h2m41 0h2m4 0h2m0 0h2m13 0h2m10 0h2m23 0h2m7 0h2m8 0h2m11 0h2m10 0h2m16 0h2m2 0h2m-272 1h2m14 0h2m94 0h2m19 0h2m0 0h2m21 0h2m21 0h2m9 0h2m17 0h2m15 0h2m11 0h2m1 0h2m0 0h2m10 0h2m-1 0h2m4 0h2m4 0h2m-239 1h2m10 0h2m31 0h2m36 0h2m12 0h2m-1 0h2m15 0h2m25 0h2m3 0h2m7 0h2m9 0h2m8 0h2m1 0h2m-1 0h2m4 0h2m3 0h2m-1 0h2m2 0h2m3 0h2m0 0h2m-2 0h2m2 0h2m12 0h2m7 0h2m-444 1h2m32 0h2m133 0h2m87 0h2m20 0h2m2 0h2m47 0h2m47 0h2m2 0h2m20 0h2m3 0h2m3 0h2m13 0h2m5 0h2m0 0h2m6 0h2m-437 1h2m4 0h2m183 0h2m21 0h2m44 0h2m9 0h2m42 0h2m0 0h2m1 0h2m0 0h2m8 0h2m-2 0h2m16 0h2m33 0h2m5 0h2m18 0h2m2 0h2m0 0h2m5 0h2m-354 1h2m7 0h2m175 0h2m21 0h2m2 0h2m25 0h2m13 0h2m3 0h2m-1 0h2m7 0h2m50 0h2m-2 0h2m5 0h2m3 0h2m4 0h2m7 0h2m8 0h2m-2 0h2m-1 0h2m-180 1h2m4 0h2m2 0h2m3 0h2m23 0h2m11 0h2m10 0h2m17 0h2m19 0h2m20 0h2m30 0h2m5 0h2m-2 0h2m2 0h2m2 0h2m-448 1h2m19 0h2m-1 0h2m62 0h2m173 0h2m41 0h2m15 0h2m8 0h2m49 0h2m15 0h2m1 0h2m4 0h2m5 0h2m16 0h2m-2 0h2m16 0h2m-2 0h2m0 0h2m-441 1h2m10 0h2m4 0h2m200 0h2m21 0h2m69 0h2m2 0h2m-2 0h2m7 0h2m7 0h2m6 0h2m1 0h2m19 0h2m3 0h2m4 0h2m17 0h2m7 0h2m2 0h2m-2 0h2m8 0h2m8 0h2m2 0h2m-369 1h2m164 0h2m6 0h2m13 0h2m53 0h2m11 0h2m-2 0h2m12 0h2m10 0h2m-1 0h2m4 0h2m12 0h2m1 0h2m-1 0h2m18 0h2m-1 0h2m14 0h2m2 0h2m1 0h2m6 0h2m4 0h2m-453 1h2m5 0h2m0 0h2m24 0h2m1 0h2m-2 0h2m7 0h2m78 0h2m120 0h2m29 0h2m25 0h2m22 0h2m37 0h2m8 0h2m14 0h2m3 0h2m13 0h2m1 0h2m7 0h2m-1 0h2m12 0h2m-2 0h2m5 0h2m-1 0h2m-452 1h2m48 0h2m55 0h2m140 0h2m16 0h2m17 0h2m26 0h2m2 0h2m0 0h2m6 0h2m0 0h2m27 0h2m3 0h2m27 0h2m11 0h2m0 0h2m14 0h2m10 0h2m5 0h2m-1 0h2m-431 1h2m8 0h2m78 0h2m149 0h2m24 0h2m11 0h2m25 0h2m4 0h2m15 0h2m47 0h2m12 0h2m8 0h2m6 0h2m6 0h2m6 0h2m-1 0h2m-443 1h2m27 0h2m178 0h2m48 0h2m40 0h2m2 0h2m8 0h2m19 0h2m1 0h2m7 0h2m26 0h2m0 0h2m0 0h2m13 0h2m2 0h2m2 0h2m17 0h2m20 0h2m-445 1h2m0 0h2m8 0h2m18 0h2m65 0h2m99 0h2m70 0h2m-1 0h2m-1 0h2m6 0h2m16 0h2m24 0h2m31 0h2m3 0h2m2 0h2m4 0h2m18 0h2m4 0h2m-1 0h2m6 0h2m8 0h2m18 0h2m-1 0h2m-2 0h2m6 0h2m-444 1h2m14 0h2m19 0h2m24 0h2m27 0h2m30 0h2m73 0h2m54 0h2m54 0h2m2 0h2m14 0h2m-1 0h2m16 0h2m4 0h2m20 0h2m13 0h2m9 0h2m8 0h2m5 0h2m-2 0h2m20 0h2m-1 0h2m-437 1h2m63 0h2m61 0h2m120 0h2m9 0h2m4 0h2m52 0h2m14 0h2m17 0h2m10 0h2m0 0h2m22 0h2m1 0h2m-1 0h2m15 0h2m8 0h2m-420 1h2m11 0h2m14 0h2m6 0h2m35 0h2m21 0h2m168 0h2m36 0h2m9 0h2m8 0h2m2 0h2m1 0h2m-1 0h2m0 0h2m14 0h2m0 0h2m9 0h2m8 0h2m19 0h2m-2 0h2m8 0h2m3 0h2m-1 0h2m-2 0h2m-1 0h2m15 0h2m-450 1h2m16 0h2m0 0h2m22 0h2m48 0h2m12 0h2m152 0h2m5 0h2m4 0h2m3 0h2m7 0h2m10 0h2m10 0h2m10 0h2m14 0h2m6 0h2m23 0h2m11 0h2m38 0h2m8 0h2m0 0h2m2 0h2m-430 1h2m4 0h2m11 0h2m16 0h2m39 0h2m9 0h2m2 0h2m26 0h2m16 0h2m12 0h2m38 0h2m106 0h2m-1 0h2m10 0h2m16 0h2m0 0h2m35 0h2m13 0h2m18 0h2m5 0h2m6 0h2m6 0h2m-431 1h2m100 0h2m135 0h2m45 0h2m74 0h2m15 0h2m-1 0h2m5 0h2m0 0h2m28 0h2m-416 1h2m8 0h2m6 0h2m27 0h2m0 0h2m-2 0h2m0 0h2m36 0h2m0 0h2m142 0h2m54 0h2m43 0h2m6 0h2m10 0h2m6 0h2m4 0h2m8 0h2m3 0h2m0 0h2m1 0h2m14 0h2m15 0h2m-450 1h2m14 0h2m20 0h2m28 0h2m0 0h2m54 0h2m133 0h2m23 0h2m65 0h2m29 0h2m16 0h2m2 0h2m8 0h2m0 0h2m10 0h2m9 0h2m3 0h2m-372 1h2m11 0h2m8 0h2m112 0h2m26 0h2m2 0h2m49 0h2m7 0h2m49 0h2m19 0h2m17 0h2m18 0h2m4 0h2m-1 0h2m9 0h2m2 0h2m3 0h2m5 0h2m-2 0h2m-1 0h2m-442 1h2m52 0h2m18 0h2m127 0h2m-2 0h2m100 0h2m24 0h2m-1 0h2m20 0h2m20 0h2m24 0h2m24 0h2m-410 1h2m21 0h2m11 0h2m8 0h2m46 0h2m120 0h2m101 0h2m22 0h2m-1 0h2m5 0h2m15 0h2m17 0h2m13 0h2m-419 1h2m29 0h2m12 0h2m38 0h2m12 0h2m117 0h2m28 0h2m20 0h2m48 0h2m31 0h2m19 0h2m22 0h2m6 0h2m13 0h2m-408 1h2m6 0h2m61 0h2m5 0h2m29 0h2m93 0h2m80 0h2m40 0h2m27 0h2m25 0h2m9 0h2m9 0h2m1 0h2m-2 0h2m1 0h2m-425 1h2m5 0h2m12 0h2m28 0h2m30 0h2m39 0h2m45 0h2m39 0h2m73 0h2m18 0h2m6 0h2m1 0h2m13 0h2m0 0h2m10 0h2m10 0h2m3 0h2m1 0h2m0 0h2m35 0h2m-361 1h2m4 0h2m44 0h2m135 0h2m39 0h2m9 0h2m-1 0h2m39 0h2m-2 0h2m1 0h2m44 0h2m-2 0h2m18 0h2m22 0h2m-382 1h2m-1 0h2m12 0h2m19 0h2m3 0h2m7 0h2m10 0h2m5 0h2m9 0h2m171 0h2m40 0h2m2 0h2m0 0h2m0 0h2m28 0h2m3 0h2m16 0h2m7 0h2m-2 0h2m16 0h2m-436 1h2m25 0h2m72 0h2m3 0h2m18 0h2m143 0h2m12 0h2m67 0h2m9 0h2m13 0h2m58 0h2m-2 0h2m-436 1h2m24 0h2m9 0h2m12 0h2m26 0h2m10 0h2m4 0h2m25 0h2m143 0h2m6 0h2m11 0h2m28 0h2m-2 0h2m37 0h2m11 0h2m12 0h2m-2 0h2m19 0h2m4 0h2m3 0h2m9 0h2m-428 1h2m5 0h2m4 0h2m3 0h2m26 0h2m19 0h2m14 0h2m198 0h2m44 0h2m-1 0h2m17 0h2m21 0h2m20 0h2m1 0h2m-2 0h2m0 0h2m15 0h2m6 0h2m-394 1h2m62 0h2m0 0h2m118 0h2m49 0h2m65 0h2m67 0h2m-356 1h2m8 0h2m15 0h2m9 0h2m32 0h2m74 0h2m24 0h2m71 0h2m3 0h2m5 0h2m37 0h2m7 0h2m30 0h2m2 0h2m-1 0h2m25 0h2m7 0h2m-415 1h2m49 0h2m14 0h2m28 0h2m45 0h2m121 0h2m34 0h2m15 0h2m0 0h2m17 0h2m7 0h2m22 0h2m-2 0h2m11 0h2m2 0h2m14 0h2m1 0h2m-446 1h2m51 0h2m0 0h2m0 0h2m30 0h2m0 0h2m12 0h2m4 0h2m15 0h2m115 0h2m66 0h2m89 0h2m3 0h2m23 0h2m9 0h2m-1 0h2m-405 1h2m-2 0h2m5 0h2m4 0h2m19 0h2m15 0h2m5 0h2m134 0h2m38 0h2m62 0h2m26 0h2m5 0h2m5 0h2m7 0h2m41 0h2m-397 1h2m99 0h2m243 0h2m12 0h2m3 0h2m12 0h2m8 0h2m7 0h2m-2 0h2m-352 1h2m-1 0h2m16 0h2m1 0h2m2 0h2m16 0h2m153 0h2m12 0h2m10 0h2m7 0h2m15 0h2m0 0h2m7 0h2m1 0h2m34 0h2m19 0h2m9 0h2m16 0h2m-387 1h2m15 0h2m4 0h2m63 0h2m24 0h2m82 0h2m90 0h2m7 0h2m13 0h2m39 0h2m11 0h2m16 0h2m-409 1h2m52 0h2m11 0h2m24 0h2m65 0h2m34 0h2m31 0h2m76 0h2m16 0h2m74 0h2m1 0h2m-287 1h2m160 0h2m-2 0h2m22 0h2m64 0h2m6 0h2m18 0h2m6 0h2m0 0h2m-368 1h2m25 0h2m27 0h2m4 0h2m-1 0h2m58 0h2m22 0h2m96 0h2m19 0h2m5 0h2m65 0h2m6 0h2m14 0h2m-2 0h2m-360 1h2m0 0h2m12 0h2m13 0h2m42 0h2m28 0h2m8 0h2m3 0h2m0 0h2m135 0h2m7 0h2m26 0h2m26 0h2m-341 1h2m83 0h2m187 0h2m4 0h2m6 0h2m15 0h2m4 0h2m-1 0h2m42 0h2m4 0h2m-281 1h2m68 0h2m82 0h2m25 0h2m19 0h2m18 0h2m16 0h2m0 0h2m0 0h2m3 0h2m-307 1h2m26 0h2m-2 0h2m8 0h2m74 0h2m147 0h2m18 0h2m20 0h2m18 0h2m22 0h2m-323 1h2m8 0h2m-2 0h2m62 0h2m75 0h2m38 0h2m17 0h2m5 0h2m52 0h2m-1 0h2m18 0h2m-360 1h2m2 0h2m21 0h2m47 0h2m35 0h2m34 0h2m25 0h2m30 0h2m67 0h2m36 0h2m39 0h2m13 0h2m-365 1h2m23 0h2m62 0h2m0 0h2m53 0h2m233 0h2m-332 1h2m6 0h2m30 0h2m4 0h2m25 0h2m174 0h2m17 0h2m1 0h2m19 0h2m19 0h2m0 0h2m-1 0h2m14 0h2m-368 1h2m113 0h2m93 0h2m54 0h2m37 0h2m6 0h2m22 0h2m6 0h2m5 0h2m-2 0h2m0 0h2m-366 1h2m60 0h2m40 0h2m179 0h2m71 0h2m-1 0h2m14 0h2m-368 1h2m103 0h2m9 0h2m11 0h2m117 0h2m37 0h2m13 0h2m11 0h2m18 0h2m-358 1h2m123 0h2m27 0h2m48 0h2m72 0h2m-274 1h2m15 0h2m5 0h2m21 0h2m55 0h2m5 0h2m7 0h2m76 0h2m90 0h2m38 0h2m3 0h2m1 0h2m26 0h2m4 0h2m6 0h2m-372 1h2m60 0h2m11 0h2m121 0h2m37 0h2m10 0h2m25 0h2m34 0h2m11 0h2m-2 0h2m-303 1h2m57 0h2m17 0h2m257 0h2m-364 1h2m18 0h2m14 0h2m154 0h2m91 0h2m57 0h2m13 0h2m-373 1h2m19 0h2m16 0h2m21 0h2m61 0h2m16 0h2m93 0h2m3 0h2m37 0h2m9 0h2m54 0h2m2 0h2m-356 1h2m30 0h2m1 0h2m19 0h2m-2 0h2m33 0h2m0 0h2m17 0h2m36 0h2m28 0h2m15 0h2m54 0h2m68 0h2m12 0h2m31 0h2m-359 1h2m19 0h2m6 0h2m1 0h2m-1 0h2m62 0h2m30 0h2m167 0h2m42 0h2m-363 1h2m24 0h2m9 0h2m0 0h2m10 0h2m49 0h2m1 0h2m255 0h2m-350 1h2m82 0h2m168 0h2m57 0h2m15 0h2m25 0h2m-342 1h2m0 0h2m31 0h2m36 0h2m16 0h2m16 0h2m7 0h2m3 0h2m77 0h2m25 0h2m-1 0h2m37 0h2m27 0h2m19 0h2m27 0h2m5 0h2m1 0h2m-238 1h2m103 0h2m113 0h2m-320 1h2m30 0h2m31 0h2m42 0h2m146 0h2m70 0h2m-333 1h2m-1 0h2m63 0h2m33 0h2m0 0h2m43 0h2m176 0h2m-374 1h2m30 0h2m60 0h2m41 0h2m38 0h2m70 0h2m80 0h2m27 0h2m4 0h2m7 0h2m-380 1h2m9 0h2m73 0h2m10 0h2m47 0h2m14 0h2m179 0h2m-345 1h2m74 0h2m14 0h2m16 0h2m34 0h2m-151 1h2m29 0h2m6 0h2m56 0h2m14 0h2m20 0h2m102 0h2m40 0h2m15 0h2m1 0h2m66 0h2m10 0h2m-302 1h2m25 0h2m26 0h2m8 0h2m218 0h2m-346 1h2m55 0h2m36 0h2m34 0h2m62 0h2m20 0h2m123 0h2m19 0h2m-392 1h2m33 0h2m33 0h2m54 0h2m231 0h2m-266 1h2m47 0h2m14 0h2m28 0h2m66 0h2m44 0h2m78 0h2m-383 1h2m72 0h2m14 0h2m28 0h2m67 0h2m114 0h2m2 0h2m25 0h2m39 0h2m-137 1h2m72 0h2m25 0h2m-329 1h2m4 0h2m83 0h2m34 0h2m169 1h2m7 0h2m16 0h2m-338 1h2m106 0h2m0 0h2m228 0h2m33 0h2m-313 1h2m4 0h2m21 0h2m110 0h2m119 0h2m42 0h2m7 0h2m-379 1h2m-1 0h2m109 0h2m37 0h2m181 0h2m-232 1h2m165 0h2m26 0h2m19 1h2m-331 1h2m93 0h2m11 0h2m2 0h2m30 0h2m177 0h2m-315 1h2m44 0h2m229 0h2m76 0h2m-339 1h2m330 0h2m32 0h2m-197 1h2m101 0h2m45 0h2m2 0h2m-339 1h2m91 1h2m280 0h2m-253 1h2m250 0h2m-1 0h2m-265 2h2m260 1h2m-360 1h2m173 0h2m101 1h2m15 0h2m62 0h2m-214 1h2m-91 2h2m-88 25h2"/>
<path class="a" d="M407.2 233v-2.7M407.2 11.6v2.7M442.3 233v-2.7M442.3 11.6v2.7M477.4 233v-2.7M477.4 11.6v2.7M512.5 233v-2.7M512.5 11.6v2.7M547.6 233v-2.7M547.6 11.6v2.7M582.7 233v-2.7M582.7 11.6v2.7M617.8 233v-2.7M617.8 11.6v2.7M652.9 233v-2.7M652.9 11.6v2.7M391.5 232.6h2.7M671.5 232.6h-2.7M391.5 209.7h2.7M671.5 209.7h-2.7M391.5 186.8h2.7M671.5 186.8h-2.7M391.5 163.9h2.7M671.5 163.9h-2.7M391.5 141h2.7M671.5 141h-2.7M391.5 118.1h2.7M671.5 118.1h-2.7M391.5 95.2h2.7M671.5 95.2h-2.7M391.5 72.3h2.7M671.5 72.3h-2.7M391.5 49.4h2.7M671.5 49.4h-2.7M391.5 26.5h2.7M671.5 26.5h-2.7"/>
<rect class="a" x="391.5" y="11.6" width="280" height="221.4"/>
<g clip-path="url(#c2)">
<path class="m" d="M392.3 11.9C392.6 13.4 393.5 18.1 394.2 21.1C394.9 24.1 395.5 27 396.4 29.9C397.3 32.8 398.3 35.7 399.4 38.6C400.5 41.5 401.7 44.3 403 47.4C404.3 50.5 405.8 53.8 407.3 57C408.8 60.2 410.7 63.8 412.1 66.7C413.6 69.6 414.8 72.3 416 74.5C417.2 76.7 417.8 77.3 419.2 79.6C420.6 81.9 422.8 85.5 424.4 88.4C426 91.3 427.6 94.2 428.8 97.1C430 100 431.1 103.1 431.8 105.9C432.5 108.7 432.9 111.6 433.2 113.8C433.4 116 433.4 117 433.3 119C433.2 121 432.8 123.4 432.3 126C431.8 128.6 431.2 131.3 430.2 134.5C429.1 137.7 427.7 141.3 426 144.9C424.3 148.5 421.9 152.4 419.8 156.1C417.7 159.8 415.6 163.8 413.6 167.3C411.6 170.8 409.9 173.7 408 177.2C406.1 180.7 404.1 184.7 402.4 188.4C400.7 192.1 399.3 195.9 398 199.6C396.7 203.3 395.6 207.1 394.7 210.8C393.8 214.5 393.2 218.5 392.7 222C392.2 225.5 392 230 391.8 231.9C391.6 233.8 391.6 233.1 391.5 233.3"/>
<path class="m" d="M391.9 233.1C397.7 233 416.3 232.8 426.7 232.6C437.1 232.4 445.1 232.2 454.4 231.9C463.6 231.6 474.3 231.2 482.2 230.6C490.1 230 495.7 229.4 501.7 228.6C507.7 227.8 513.6 226.8 518.3 225.8C523 224.8 525.7 223.9 530 222.5C534.3 221.1 539.3 219.2 543.9 217.5C548.5 215.8 552.7 214.2 557.8 212.5C562.9 210.8 568.8 208.9 574.4 207.2C580 205.5 586.5 203.3 591.1 202.2C595.7 201 598.7 200.7 602.2 200.3C605.7 199.9 608.6 199.6 611.9 199.7C615.1 199.8 618.7 200.3 621.7 201.1C624.7 201.9 626.8 202.7 630 204.4C633.2 206.1 637.4 208.8 641.1 211.1C644.8 213.4 648.5 216.1 652.2 218.3C655.9 220.5 660 222.8 663.3 224.4C666.5 226 670.3 227.2 671.7 227.8"/>
<path class="c" d="M554.4 15.6C552.2 16.4 545.2 18.4 541.1 20.3C537 22.2 532.9 24.6 530 26.7C527.1 28.8 527 29.5 523.9 32.8C520.8 36.1 515.3 41.6 511.4 46.7C507.5 51.8 503.6 57.8 500.3 63.3C497.1 68.8 494.2 74 491.9 80C489.6 86 487.7 92.5 486.4 99.4C485.1 106.4 484.3 114.3 484.2 121.7C484.1 129.1 484.6 137 485.6 143.9C486.6 150.8 488.2 157.5 490 163.3C491.8 169.1 493.7 174.2 496.1 178.6C498.5 183 501.1 186.4 504.4 189.7C507.6 192.9 511.9 195.6 515.6 198.1C519.3 200.6 523.5 202.7 526.7 204.4C529.9 206.1 531.7 206.8 535 208.2C538.3 209.6 542 211.4 546.7 212.8C551.4 214.2 556.8 215.5 563.3 216.7C569.8 217.8 578.2 219 585.6 219.7C593 220.4 601.3 220.9 607.8 220.8C614.3 220.8 619.8 220.1 624.4 219.4C629 218.7 631.9 217.9 635.6 216.7C639.3 215.4 643 213.8 646.7 211.9C650.4 210.1 654.4 207.8 657.8 205.6C661.2 203.4 665.4 199.8 666.9 198.6"/>
<path class="c" d="M622.5 15.6C624.7 16.6 631.1 19.2 635.6 21.7C640.1 24.2 645.5 27.7 649.4 30.6C653.3 33.5 656.3 36.2 659.2 38.9C662.1 41.6 665.5 45.4 666.7 46.7"/>
<path class="c" d="M593.9 66.1C588.6 66.4 582.3 67.6 577.2 69.4C572.1 71.2 567.1 73.8 563.3 77.2C559.5 80.6 556.3 85.1 554.4 89.7C552.5 94.3 551.7 99.7 551.7 105C551.7 110.3 552.7 116.2 554.4 121.7C556.1 127.2 558.6 133 561.9 138.3C565.2 143.6 570 149.3 574.4 153.6C578.8 157.9 583.7 161.3 588.3 163.9C592.9 166.5 597.6 168 602.2 168.9C606.8 169.8 611.5 170 616.1 169.4C620.7 168.8 625.6 167.8 630 165.6C634.4 163.4 639 160.2 642.5 156.4C646 152.6 648.8 147.6 650.8 142.5C652.8 137.4 653.9 131.1 654.4 125.8C654.9 120.5 654.6 115.7 653.6 110.6C652.6 105.5 650.7 99.9 648.1 95.3C645.5 90.7 642.2 86.5 638.3 82.8C634.3 79.1 629.2 75.6 624.4 73.1C619.5 70.5 614.3 68.7 609.2 67.5C604.1 66.3 599.2 65.8 593.9 66.1Z"/>
</g>
<g font-size="8.28" text-anchor="middle">
<text x="407.2" y="245.5">300</text>
<text x="442.3" y="245.5">400</text>
<text x="477.4" y="245.5">500</text>
<text x="512.5" y="245.5">600</text>
<text x="547.6" y="245.5">700</text>
<text x="582.7" y="245.5">800</text>
<text x="617.8" y="245.5">900</text>
<text x="652.9" y="245.5">1000</text>
</g>
<g font-size="8.28" text-anchor="end">
<text x="388" y="235.7">0.2</text>
<text x="388" y="212.8">0.4</text>
<text x="388" y="189.9">0.6</text>
<text x="388" y="167">0.8</text>
<text x="388" y="144.1">1</text>
<text x="388" y="121.2">1.2</text>
<text x="388" y="98.3">1.4</text>
<text x="388" y="75.4">1.6</text>
<text x="388" y="52.5">1.8</text>
<text x="388" y="29.6">2</text>
</g>
<text font-size="9.44" text-anchor="middle" x="532" y="259">k m3</text>
<text font-size="9.44" text-anchor="middle" transform="translate(370 123.2) rotate(-90)">Ea k m3</text>
<text font-size="8.28" x="392" y="9.8">× 10<tspan dx="0.7" dy="-4.0" font-size="6.63">5</tspan></text>
</g>
<g id="panel3">
<clipPath id="c3"><rect x="55.8" y="304.8" width="271.9" height="214.7"/></clipPath>
<path class="d" transform="scale(0.5)" d="M243 644h2m2 0h2m148 0h2m-192 1h2m18 0h2m1 0h2m15 0h2m4 0h2m5 0h2m0 0h2m-49 1h2m4 0h2m3 0h2m14 0h2m7 0h2m2 0h2m-1 0h2m9 0h2m5 0h2m122 0h2m17 0h2m-2 0h2m5 0h2m-186 1h2m-1 0h2m24 0h2m5 0h2m-2 0h2m3 0h2m6 0h2m136 0h2m1 0h2m-221 1h2m2 0h2m15 0h2m10 0h2m-1 0h2m5 0h2m3 0h2m10 0h2m-1 0h2m5 0h2m105 0h2m14 0h2m-2 0h2m-207 1h2m36 0h2m-1 0h2m-2 0h2m7 0h2m4 0h2m1 0h2m-1 0h2m9 0h2m140 0h2m1 0h2m-202 1h2m38 0h2m4 0h2m1 0h2m12 0h2m6 0h2m4 0h2m0 0h2m107 0h2m14 0h2m0 0h2m-1 0h2m-195 1h2m0 0h2m0 0h2m10 0h2m0 0h2m-2 0h2m3 0h2m-1 0h2m1 0h2m1 0h2m-1 0h2m9 0h2m118 0h2m40 0h2m-195 1h2m19 0h2m1 0h2m3 0h2m4 0h2m17 0h2m98 0h2m-2 0h2m4 0h2m7 0h2m29 0h2m-265 1h2m18 0h2m23 0h2m15 0h2m2 0h2m-1 0h2m12 0h2m8 0h2m-2 0h2m14 0h2m131 0h2m23 0h2m1 0h2m-226 1h2m6 0h2m5 0h2m0 0h2m-1 0h2m13 0h2m1 0h2m4 0h2m2 0h2m179 0h2m-225 1h2m16 0h2m2 0h2m-2 0h2m-1 0h2m3 0h2m6 0h2m0 0h2m-2 0h2m5 0h2m2 0h2m1 0h2m-2 0h2m-1 0h2m4 0h2m13 0h2m102 0h2m4 0h2m0 0h2m-2 0h2m-182 1h2m12 0h2m-2 0h2m3 0h2m3 0h2m0 0h2m-1 0h2m-2 0h2m-2 0h2m-1 0h2m3 0h2m-2 0h2m7 0h2m0 0h2m4 0h2m97 0h2m50 0h2m-196 1h2m3 0h2m5 0h2m-1 0h2m-1 0h2m2 0h2m2 0h2m0 0h2m2 0h2m2 0h2m139 0h2m-2 0h2m0 0h2m5 0h2m12 0h2m-1 0h2m2 0h2m-226 1h2m24 0h2m-2 0h2m-1 0h2m6 0h2m0 0h2m3 0h2m-2 0h2m-1 0h2m9 0h2m1 0h2m1 0h2m11 0h2m83 0h2m29 0h2m36 0h2m-218 1h2m6 0h2m1 0h2m-1 0h2m5 0h2m7 0h2m1 0h2m-1 0h2m-1 0h2m-1 0h2m2 0h2m-1 0h2m8 0h2m1 0h2m0 0h2m0 0h2m149 0h2m2 0h2m6 0h2m-243 1h2m1 0h2m16 0h2m2 0h2m0 0h2m2 0h2m1 0h2m11 0h2m0 0h2m1 0h2m-1 0h2m-2 0h2m-2 0h2m-1 0h2m2 0h2m4 0h2m3 0h2m7 0h2m137 0h2m-1 0h2m3 0h2m-194 1h2m3 0h2m2 0h2m-1 0h2m3 0h2m1 0h2m0 0h2m0 0h2m0 0h2m5 0h2m0 0h2m150 0h2m8 0h2m-227 1h2m17 0h2m4 0h2m8 0h2m5 0h2m2 0h2m1 0h2m-1 0h2m-1 0h2m3 0h2m2 0h2m4 0h2m1 0h2m7 0h2m134 0h2m3 0h2m4 0h2m-253 1h2m35 0h2m22 0h2m-1 0h2m3 0h2m3 0h2m-1 0h2m1 0h2m1 0h2m0 0h2m2 0h2m-2 0h2m3 0h2m4 0h2m7 0h2m3 0h2m103 0h2m0 0h2m25 0h2m17 0h2m-239 1h2m11 0h2m13 0h2m1 0h2m0 0h2m-2 0h2m9 0h2m-2 0h2m-2 0h2m0 0h2m0 0h2m-1 0h2m-2 0h2m-2 0h2m-1 0h2m1 0h2m-1 0h2m0 0h2m-2 0h2m0 0h2m5 0h2m5 0h2m0 0h2m0 0h2m123 0h2m19 0h2m-224 1h2m14 0h2m3 0h2m1 0h2m0 0h2m16 0h2m0 0h2m3 0h2m-1 0h2m8 0h2m1 0h2m-1 0h2m-1 0h2m0 0h2m0 0h2m4 0h2m-2 0h2m8 0h2m13 0h2m112 0h2m5 0h2m3 0h2m-1 0h2m-1 0h2m-230 1h2m6 0h2m1 0h2m11 0h2m8 0h2m4 0h2m4 0h2m-2 0h2m-1 0h2m1 0h2m3 0h2m-2 0h2m0 0h2m1 0h2m-2 0h2m8 0h2m-1 0h2m1 0h2m145 0h2m-2 0h2m-189 1h2m-2 0h2m0 0h2m-1 0h2m11 0h2m4 0h2m-1 0h2m12 0h2m0 0h2m-1 0h2m97 0h2m49 0h2m6 0h2m0 0h2m4 0h2m-228 1h2m4 0h2m-1 0h2m2 0h2m-1 0h2m1 0h2m-2 0h2m-1 0h2m0 0h2m8 0h2m-2 0h2m11 0h2m13 0h2m-1 0h2m-1 0h2m12 0h2m108 0h2m28 0h2m3 0h2m8 0h2m-230 1h2m5 0h2m2 0h2m1 0h2m6 0h2m-1 0h2m1 0h2m7 0h2m2 0h2m2 0h2m0 0h2m-2 0h2m0 0h2m0 0h2m0 0h2m2 0h2m-1 0h2m-1 0h2m0 0h2m0 0h2m114 0h2m6 0h2m-1 0h2m5 0h2m5 0h2m4 0h2m0 0h2m-2 0h2m-236 1h2m6 0h2m19 0h2m10 0h2m2 0h2m5 0h2m-2 0h2m-1 0h2m15 0h2m2 0h2m15 0h2m2 0h2m110 0h2m21 0h2m0 0h2m0 0h2m4 0h2m-205 1h2m4 0h2m-1 0h2m0 0h2m1 0h2m2 0h2m4 0h2m0 0h2m-2 0h2m-1 0h2m0 0h2m-2 0h2m1 0h2m6 0h2m4 0h2m-2 0h2m0 0h2m-1 0h2m0 0h2m6 0h2m111 0h2m-2 0h2m7 0h2m9 0h2m82 0h2m-298 1h2m9 0h2m6 0h2m-1 0h2m3 0h2m-1 0h2m0 0h2m0 0h2m0 0h2m4 0h2m3 0h2m-1 0h2m-1 0h2m2 0h2m1 0h2m0 0h2m4 0h2m2 0h2m0 0h2m-2 0h2m2 0h2m-1 0h2m2 0h2m3 0h2m127 0h2m-2 0h2m4 0h2m0 0h2m31 0h2m-239 1h2m4 0h2m8 0h2m-1 0h2m-2 0h2m2 0h2m-2 0h2m-2 0h2m-1 0h2m-1 0h2m1 0h2m2 0h2m2 0h2m1 0h2m0 0h2m-2 0h2m3 0h2m2 0h2m4 0h2m6 0h2m120 0h2m6 0h2m6 0h2m11 0h2m-258 1h2m31 0h2m2 0h2m9 0h2m2 0h2m0 0h2m-2 0h2m8 0h2m3 0h2m5 0h2m1 0h2m0 0h2m0 0h2m0 0h2m-1 0h2m1 0h2m0 0h2m8 0h2m4 0h2m-1 0h2m120 0h2m1 0h2m3 0h2m1 0h2m8 0h2m2 0h2m1 0h2m5 0h2m-249 1h2m34 0h2m1 0h2m3 0h2m6 0h2m-2 0h2m9 0h2m-2 0h2m0 0h2m0 0h2m-2 0h2m-1 0h2m31 0h2m128 0h2m-1 0h2m6 0h2m-212 1h2m0 0h2m2 0h2m-1 0h2m5 0h2m3 0h2m1 0h2m7 0h2m-2 0h2m0 0h2m17 0h2m17 0h2m124 0h2m3 0h2m0 0h2m4 0h2m1 0h2m1 0h2m-216 1h2m2 0h2m3 0h2m10 0h2m-1 0h2m1 0h2m1 0h2m-1 0h2m-1 0h2m-1 0h2m-2 0h2m-1 0h2m-2 0h2m6 0h2m0 0h2m4 0h2m124 0h2m6 0h2m7 0h2m1 0h2m4 0h2m-1 0h2m-252 1h2m45 0h2m-2 0h2m-1 0h2m0 0h2m3 0h2m0 0h2m3 0h2m16 0h2m4 0h2m-2 0h2m0 0h2m1 0h2m8 0h2m4 0h2m-1 0h2m0 0h2m121 0h2m4 0h2m2 0h2m4 0h2m1 0h2m2 0h2m2 0h2m-250 1h2m30 0h2m0 0h2m0 0h2m11 0h2m0 0h2m-1 0h2m2 0h2m0 0h2m4 0h2m3 0h2m8 0h2m4 0h2m2 0h2m1 0h2m4 0h2m108 0h2m9 0h2m18 0h2m-1 0h2m1 0h2m2 0h2m-1 0h2m-224 1h2m14 0h2m1 0h2m6 0h2m2 0h2m0 0h2m0 0h2m-1 0h2m-1 0h2m6 0h2m4 0h2m0 0h2m-2 0h2m5 0h2m0 0h2m0 0h2m148 0h2m12 0h2m-249 1h2m25 0h2m0 0h2m0 0h2m9 0h2m3 0h2m-2 0h2m9 0h2m9 0h2m0 0h2m10 0h2m121 0h2m-221 1h2m27 0h2m17 0h2m13 0h2m-2 0h2m1 0h2m3 0h2m-1 0h2m5 0h2m-1 0h2m129 0h2m16 0h2m13 0h2m0 0h2m21 0h2m-248 1h2m9 0h2m6 0h2m5 0h2m0 0h2m-2 0h2m-1 0h2m1 0h2m1 0h2m13 0h2m-2 0h2m141 0h2m16 0h2m-1 0h2m15 0h2m2 0h2m-264 1h2m11 0h2m18 0h2m23 0h2m-1 0h2m-2 0h2m2 0h2m0 0h2m-1 0h2m0 0h2m0 0h2m2 0h2m-1 0h2m7 0h2m2 0h2m0 0h2m145 0h2m1 0h2m2 0h2m-1 0h2m24 0h2m7 0h2m13 0h2m-291 1h2m15 0h2m13 0h2m2 0h2m1 0h2m9 0h2m15 0h2m1 0h2m5 0h2m1 0h2m36 0h2m107 0h2m12 0h2m3 0h2m17 0h2m143 0h2m-363 1h2m2 0h2m9 0h2m4 0h2m2 0h2m2 0h2m7 0h2m3 0h2m146 0h2m-2 0h2m14 0h2m3 0h2m-236 1h2m14 0h2m-1 0h2m14 0h2m1 0h2m6 0h2m2 0h2m-1 0h2m2 0h2m-2 0h2m41 0h2m110 0h2m1 0h2m11 0h2m-264 1h2m1 0h2m46 0h2m1 0h2m0 0h2m-1 0h2m4 0h2m1 0h2m-2 0h2m0 0h2m-1 0h2m4 0h2m-1 0h2m0 0h2m1 0h2m1 0h2m1 0h2m0 0h2m0 0h2m1 0h2m5 0h2m21 0h2m114 0h2m9 0h2m-1 0h2m1 0h2m-248 1h2m12 0h2m13 0h2m3 0h2m8 0h2m11 0h2m0 0h2m3 0h2m13 0h2m7 0h2m3 0h2m18 0h2m116 0h2m4 0h2m12 0h2m3 0h2m0 0h2m-258 1h2m6 0h2m3 0h2m8 0h2m12 0h2m1 0h2m18 0h2m3 0h2m6 0h2m2 0h2m-1 0h2m6 0h2m8 0h2m-1 0h2m133 0h2m6 0h2m3 0h2m64 0h2m-274 1h2m8 0h2m6 0h2m-1 0h2m3 0h2m-1 0h2m-2 0h2m6 0h2m0 0h2m3 0h2m-1 0h2m-2 0h2m-1 0h2m0 0h2m5 0h2m137 0h2m-2 0h2m3 0h2m7 0h2m0 0h2m0 0h2m20 0h2m-261 1h2m6 0h2m0 0h2m5 0h2m0 0h2m6 0h2m10 0h2m9 0h2m7 0h2m4 0h2m5 0h2m4 0h2m1 0h2m2 0h2m131 0h2m4 0h2m0 0h2m22 0h2m3 0h2m11 0h2m-288 1h2m3 0h2m25 0h2m34 0h2m8 0h2m12 0h2m2 0h2m3 0h2m99 0h2m26 0h2m2 0h2m1 0h2m0 0h2m1 0h2m-1 0h2m0 0h2m1 0h2m10 0h2m3 0h2m15 0h2m-275 1h2m-1 0h2m14 0h2m27 0h2m2 0h2m8 0h2m7 0h2m150 0h2m-2 0h2m24 0h2m0 0h2m9 0h2m-267 1h2m11 0h2m4 0h2m21 0h2m-2 0h2m7 0h2m-1 0h2m3 0h2m9 0h2m2 0h2m0 0h2m0 0h2m1 0h2m1 0h2m2 0h2m-1 0h2m4 0h2m2 0h2m128 0h2m24 0h2m8 0h2m15 0h2m26 0h2m-321 1h2m18 0h2m7 0h2m17 0h2m13 0h2m-1 0h2m5 0h2m-2 0h2m27 0h2m15 0h2m2 0h2m107 0h2m9 0h2m0 0h2m6 0h2m12 0h2m-1 0h2m4 0h2m-271 1h2m3 0h2m-1 0h2m8 0h2m6 0h2m1 0h2m18 0h2m1 0h2m4 0h2m8 0h2m14 0h2m-2 0h2m1 0h2m0 0h2m0 0h2m1 0h2m-2 0h2m-1 0h2m3 0h2m189 0h2m16 0h2m-319 1h2m0 0h2m20 0h2m-1 0h2m6 0h2m0 0h2m14 0h2m1 0h2m-1 0h2m-2 0h2m28 0h2m9 0h2m5 0h2m-1 0h2m151 0h2m-1 0h2m0 0h2m-257 1h2m8 0h2m-1 0h2m0 0h2m2 0h2m4 0h2m2 0h2m2 0h2m-2 0h2m4 0h2m3 0h2m4 0h2m1 0h2m4 0h2m-2 0h2m10 0h2m13 0h2m-1 0h2m-1 0h2m-1 0h2m6 0h2m6 0h2m0 0h2m17 0h2m119 0h2m2 0h2m16 0h2m33 0h2m-281 1h2m4 0h2m2 0h2m-2 0h2m8 0h2m9 0h2m3 0h2m4 0h2m-1 0h2m9 0h2m8 0h2m1 0h2m9 0h2m24 0h2m91 0h2m20 0h2m2 0h2m3 0h2m9 0h2m3 0h2m0 0h2m19 0h2m-290 1h2m3 0h2m6 0h2m-1 0h2m-2 0h2m1 0h2m-1 0h2m-1 0h2m-2 0h2m9 0h2m12 0h2m10 0h2m11 0h2m3 0h2m5 0h2m18 0h2m157 0h2m27 0h2m24 0h2m-312 1h2m-1 0h2m6 0h2m0 0h2m6 0h2m-1 0h2m6 0h2m12 0h2m32 0h2m1 0h2m-2 0h2m2 0h2m1 0h2m37 0h2m-2 0h2m108 0h2m4 0h2m-239 1h2m0 0h2m6 0h2m4 0h2m0 0h2m9 0h2m-1 0h2m6 0h2m36 0h2m-2 0h2m1 0h2m17 0h2m-1 0h2m0 0h2m-1 0h2m16 0h2m120 0h2m17 0h2m6 0h2m-278 1h2m2 0h2m9 0h2m2 0h2m2 0h2m-1 0h2m13 0h2m14 0h2m4 0h2m3 0h2m17 0h2m12 0h2m142 0h2m-233 1h2m3 0h2m41 0h2m9 0h2m3 0h2m6 0h2m0 0h2m8 0h2m2 0h2m12 0h2m126 0h2m11 0h2m-248 1h2m1 0h2m0 0h2m8 0h2m10 0h2m-1 0h2m18 0h2m2 0h2m-2 0h2m4 0h2m-1 0h2m21 0h2m13 0h2m125 0h2m13 0h2m4 0h2m4 0h2m-238 1h2m0 0h2m-2 0h2m12 0h2m2 0h2m11 0h2m0 0h2m3 0h2m4 0h2m8 0h2m6 0h2m12 0h2m-1 0h2m4 0h2m3 0h2m117 0h2m10 0h2m9 0h2m0 0h2m2 0h2m46 0h2m9 0h2m-330 1h2m13 0h2m6 0h2m-1 0h2m10 0h2m22 0h2m7 0h2m4 0h2m5 0h2m1 0h2m8 0h2m0 0h2m139 0h2m21 0h2m52 0h2m-307 1h2m1 0h2m18 0h2m7 0h2m16 0h2m9 0h2m3 0h2m0 0h2m0 0h2m2 0h2m0 0h2m0 0h2m-1 0h2m1 0h2m8 0h2m0 0h2m3 0h2m141 0h2m4 0h2m-1 0h2m4 0h2m8 0h2m1 0h2m-274 1h2m-2 0h2m7 0h2m0 0h2m3 0h2m5 0h2m3 0h2m-1 0h2m9 0h2m6 0h2m7 0h2m5 0h2m-1 0h2m2 0h2m3 0h2m-1 0h2m2 0h2m4 0h2m6 0h2m1 0h2m0 0h2m-1 0h2m-1 0h2m153 0h2m46 0h2m2 0h2m-309 1h2m7 0h2m11 0h2m1 0h2m1 0h2m-1 0h2m32 0h2m21 0h2m-2 0h2m2 0h2m0 0h2m154 0h2m17 0h2m11 0h2m7 0h2m4 0h2m-300 1h2m1 0h2m0 0h2m0 0h2m-2 0h2m-1 0h2m-2 0h2m10 0h2m-2 0h2m29 0h2m9 0h2m12 0h2m6 0h2m2 0h2m-1 0h2m3 0h2m10 0h2m2 0h2m27 0h2m0 0h2m103 0h2m12 0h2m1 0h2m1 0h2m47 0h2m-298 1h2m8 0h2m-1 0h2m9 0h2m18 0h2m8 0h2m-1 0h2m7 0h2m11 0h2m2 0h2m2 0h2m-1 0h2m29 0h2m145 0h2m20 0h2m25 0h2m-326 1h2m12 0h2m4 0h2m3 0h2m1 0h2m12 0h2m3 0h2m36 0h2m2 0h2m20 0h2m18 0h2m112 0h2m-2 0h2m5 0h2m-1 0h2m47 0h2m11 0h2m-310 1h2m1 0h2m7 0h2m14 0h2m24 0h2m0 0h2m0 0h2m-2 0h2m1 0h2m2 0h2m1 0h2m21 0h2m-1 0h2m21 0h2m12 0h2m0 0h2m100 0h2m20 0h2m28 0h2m18 0h2m-2 0h2m1 0h2m0 0h2m2 0h2m-328 1h2m37 0h2m10 0h2m8 0h2m2 0h2m4 0h2m-1 0h2m2 0h2m-2 0h2m-2 0h2m11 0h2m3 0h2m7 0h2m4 0h2m142 0h2m42 0h2m-251 1h2m0 0h2m7 0h2m-2 0h2m2 0h2m-1 0h2m12 0h2m0 0h2m4 0h2m0 0h2m2 0h2m0 0h2m3 0h2m8 0h2m0 0h2m161 0h2m1 0h2m-272 1h2m9 0h2m7 0h2m0 0h2m25 0h2m-1 0h2m10 0h2m-2 0h2m4 0h2m-2 0h2m3 0h2m3 0h2m8 0h2m1 0h2m5 0h2m49 0h2m91 0h2m79 0h2m-321 1h2m3 0h2m4 0h2m15 0h2m3 0h2m6 0h2m5 0h2m3 0h2m2 0h2m0 0h2m4 0h2m1 0h2m5 0h2m-2 0h2m-2 0h2m-1 0h2m4 0h2m0 0h2m120 0h2m25 0h2m35 0h2m18 0h2m-294 1h2m7 0h2m16 0h2m4 0h2m11 0h2m0 0h2m-2 0h2m10 0h2m8 0h2m3 0h2m2 0h2m3 0h2m191 0h2m26 0h2m-301 1h2m-1 0h2m21 0h2m38 0h2m8 0h2m7 0h2m7 0h2m248 0h2m-347 1h2m28 0h2m4 0h2m1 0h2m5 0h2m3 0h2m-2 0h2m6 0h2m-1 0h2m1 0h2m-1 0h2m4 0h2m-2 0h2m-2 0h2m4 0h2m3 0h2m2 0h2m1 0h2m4 0h2m1 0h2m13 0h2m11 0h2m114 0h2m48 0h2m20 0h2m-289 1h2m-2 0h2m17 0h2m10 0h2m0 0h2m6 0h2m5 0h2m3 0h2m-1 0h2m-2 0h2m55 0h2m22 0h2m103 0h2m31 0h2m-316 1h2m10 0h2m29 0h2m6 0h2m8 0h2m-1 0h2m8 0h2m5 0h2m-1 0h2m6 0h2m0 0h2m20 0h2m15 0h2m13 0h2m24 0h2m85 0h2m0 0h2m0 0h2m23 0h2m38 0h2m49 0h2m-368 1h2m34 0h2m5 0h2m2 0h2m0 0h2m-1 0h2m-2 0h2m1 0h2m2 0h2m4 0h2m-1 0h2m3 0h2m0 0h2m-2 0h2m8 0h2m-2 0h2m13 0h2m21 0h2m135 0h2m1 0h2m10 0h2m3 0h2m20 0h2m-1 0h2m-312 1h2m-1 0h2m36 0h2m4 0h2m3 0h2m-2 0h2m-1 0h2m20 0h2m3 0h2m4 0h2m12 0h2m2 0h2m13 0h2m3 0h2m-1 0h2m50 0h2m-175 1h2m15 0h2m19 0h2m-1 0h2m-1 0h2m-1 0h2m6 0h2m11 0h2m0 0h2m0 0h2m1 0h2m4 0h2m3 0h2m0 0h2m-1 0h2m4 0h2m-1 0h2m3 0h2m12 0h2m3 0h2m-1 0h2m0 0h2m150 0h2m8 0h2m14 0h2m79 0h2m-373 1h2m0 0h2m27 0h2m9 0h2m0 0h2m4 0h2m20 0h2m-1 0h2m-1 0h2m5 0h2m3 0h2m0 0h2m1 0h2m-1 0h2m4 0h2m2 0h2m21 0h2m1 0h2m108 0h2m15 0h2m46 0h2m1 0h2m-284 1h2m38 0h2m1 0h2m7 0h2m-1 0h2m3 0h2m2 0h2m7 0h2m2 0h2m-2 0h2m0 0h2m5 0h2m0 0h2m2 0h2m1 0h2m7 0h2m0 0h2m12 0h2m163 0h2m54 0h2m-324 1h2m0 0h2m8 0h2m2 0h2m1 0h2m4 0h2m0 0h2m1 0h2m1 0h2m2 0h2m3 0h2m1 0h2m-1 0h2m16 0h2m3 0h2m13 0h2m7 0h2m92 0h2m35 0h2m5 0h2m27 0h2m2 0h2m46 0h2m-347 1h2m9 0h2m9 0h2m7 0h2m-1 0h2m-2 0h2m8 0h2m-2 0h2m4 0h2m0 0h2m11 0h2m-1 0h2m8 0h2m3 0h2m7 0h2m-1 0h2m-1 0h2m3 0h2m-1 0h2m18 0h2m10 0h2m103 0h2m-1 0h2m17 0h2m6 0h2m25 0h2m13 0h2m-309 1h2m19 0h2m11 0h2m-1 0h2m-1 0h2m-1 0h2m6 0h2m7 0h2m4 0h2m-2 0h2m-1 0h2m3 0h2m-2 0h2m-2 0h2m-1 0h2m-1 0h2m0 0h2m2 0h2m3 0h2m12 0h2m-1 0h2m16 0h2m64 0h2m66 0h2m11 0h2m58 0h2m-275 1h2m1 0h2m-1 0h2m2 0h2m10 0h2m-1 0h2m0 0h2m1 0h2m12 0h2m9 0h2m2 0h2m4 0h2m-2 0h2m3 0h2m7 0h2m153 0h2m-1 0h2m4 0h2m80 0h2m-335 1h2m22 0h2m2 0h2m4 0h2m-2 0h2m4 0h2m-2 0h2m-1 0h2m1 0h2m-1 0h2m5 0h2m-1 0h2m11 0h2m3 0h2m3 0h2m103 0h2m36 0h2m30 0h2m-290 1h2m16 0h2m19 0h2m5 0h2m-1 0h2m0 0h2m4 0h2m-1 0h2m3 0h2m-1 0h2m0 0h2m11 0h2m3 0h2m1 0h2m0 0h2m2 0h2m-1 0h2m-1 0h2m6 0h2m4 0h2m0 0h2m-1 0h2m5 0h2m57 0h2m84 0h2m1 0h2m28 0h2m9 0h2m3 0h2m49 0h2m-368 1h2m0 0h2m10 0h2m40 0h2m-1 0h2m4 0h2m1 0h2m0 0h2m2 0h2m0 0h2m-2 0h2m6 0h2m3 0h2m-1 0h2m-1 0h2m4 0h2m1 0h2m3 0h2m4 0h2m0 0h2m159 0h2m21 0h2m18 0h2m6 0h2m-316 1h2m12 0h2m10 0h2m9 0h2m5 0h2m12 0h2m-2 0h2m3 0h2m9 0h2m4 0h2m15 0h2m10 0h2m1 0h2m3 0h2m4 0h2m41 0h2m83 0h2m1 0h2m16 0h2m19 0h2m-308 1h2m10 0h2m1 0h2m2 0h2m35 0h2m0 0h2m3 0h2m-1 0h2m3 0h2m3 0h2m3 0h2m2 0h2m0 0h2m2 0h2m0 0h2m2 0h2m-1 0h2m-1 0h2m-1 0h2m2 0h2m-2 0h2m-2 0h2m4 0h2m2 0h2m12 0h2m5 0h2m47 0h2m3 0h2m71 0h2m10 0h2m2 0h2m31 0h2m3 0h2m43 0h2m-355 1h2m17 0h2m10 0h2m31 0h2m7 0h2m1 0h2m-1 0h2m-1 0h2m0 0h2m8 0h2m-2 0h2m6 0h2m15 0h2m0 0h2m48 0h2m4 0h2m14 0h2m41 0h2m49 0h2m8 0h2m-259 1h2m19 0h2m-2 0h2m3 0h2m9 0h2m6 0h2m5 0h2m-1 0h2m1 0h2m10 0h2m-1 0h2m8 0h2m-2 0h2m23 0h2m74 0h2m-2 0h2m30 0h2m0 0h2m41 0h2m5 0h2m11 0h2m-315 1h2m-1 0h2m1 0h2m9 0h2m18 0h2m15 0h2m3 0h2m5 0h2m1 0h2m-1 0h2m0 0h2m2 0h2m-1 0h2m0 0h2m-1 0h2m-2 0h2m0 0h2m1 0h2m1 0h2m6 0h2m-1 0h2m-1 0h2m-2 0h2m-2 0h2m0 0h2m6 0h2m-2 0h2m0 0h2m2 0h2m30 0h2m24 0h2m6 0h2m49 0h2m36 0h2m87 0h2m14 0h2m-363 1h2m37 0h2m2 0h2m3 0h2m-1 0h2m0 0h2m10 0h2m6 0h2m1 0h2m-1 0h2m-2 0h2m-1 0h2m0 0h2m-2 0h2m0 0h2m1 0h2m-1 0h2m-1 0h2m0 0h2m3 0h2m0 0h2m2 0h2m18 0h2m20 0h2m-1 0h2m24 0h2m-1 0h2m41 0h2m27 0h2m6 0h2m49 0h2m0 0h2m13 0h2m11 0h2m-327 1h2m10 0h2m20 0h2m12 0h2m-1 0h2m2 0h2m1 0h2m0 0h2m-1 0h2m-2 0h2m2 0h2m-2 0h2m-2 0h2m6 0h2m5 0h2m-1 0h2m2 0h2m1 0h2m32 0h2m6 0h2m17 0h2m70 0h2m48 0h2m2 0h2m-1 0h2m-2 0h2m-283 1h2m14 0h2m15 0h2m-1 0h2m3 0h2m3 0h2m12 0h2m2 0h2m-1 0h2m-1 0h2m1 0h2m1 0h2m-1 0h2m0 0h2m-2 0h2m0 0h2m2 0h2m-1 0h2m-1 0h2m-1 0h2m-2 0h2m4 0h2m-1 0h2m3 0h2m15 0h2m0 0h2m19 0h2m25 0h2m0 0h2m55 0h2m4 0h2m-234 1h2m47 0h2m9 0h2m6 0h2m2 0h2m-1 0h2m0 0h2m-1 0h2m-1 0h2m5 0h2m2 0h2m3 0h2m2 0h2m14 0h2m-1 0h2m1 0h2m0 0h2m26 0h2m41 0h2m2 0h2m26 0h2m10 0h2m17 0h2m13 0h2m37 0h2m10 0h2m-325 1h2m34 0h2m12 0h2m3 0h2m-1 0h2m4 0h2m-1 0h2m5 0h2m0 0h2m2 0h2m4 0h2m2 0h2m13 0h2m3 0h2m-2 0h2m0 0h2m3 0h2m21 0h2m45 0h2m1 0h2m46 0h2m17 0h2m15 0h2m-2 0h2m23 0h2m20 0h2m73 0h2m-344 1h2m-1 0h2m4 0h2m0 0h2m-2 0h2m3 0h2m1 0h2m4 0h2m3 0h2m1 0h2m-1 0h2m1 0h2m3 0h2m-1 0h2m1 0h2m2 0h2m-2 0h2m2 0h2m0 0h2m5 0h2m71 0h2m41 0h2m28 0h2m7 0h2m27 0h2m18 0h2m-287 1h2m11 0h2m9 0h2m8 0h2m0 0h2m-2 0h2m0 0h2m3 0h2m1 0h2m-1 0h2m3 0h2m-1 0h2m5 0h2m-1 0h2m3 0h2m1 0h2m-1 0h2m4 0h2m1 0h2m2 0h2m9 0h2m0 0h2m49 0h2m51 0h2m1 0h2m10 0h2m28 0h2m4 0h2m4 0h2m6 0h2m20 0h2m16 0h2m-332 1h2m33 0h2m-1 0h2m1 0h2m10 0h2m-2 0h2m1 0h2m-2 0h2m6 0h2m1 0h2m12 0h2m1 0h2m0 0h2m-1 0h2m10 0h2m5 0h2m0 0h2m20 0h2m3 0h2m4 0h2m55 0h2m16 0h2m9 0h2m11 0h2m2 0h2m31 0h2m66 0h2m-354 1h2m1 0h2m7 0h2m13 0h2m11 0h2m7 0h2m21 0h2m3 0h2m4 0h2m-1 0h2m4 0h2m-2 0h2m0 0h2m-1 0h2m1 0h2m-1 0h2m-1 0h2m-1 0h2m0 0h2m0 0h2m4 0h2m11 0h2m12 0h2m52 0h2m1 0h2m28 0h2m1 0h2m15 0h2m35 0h2m-280 1h2m10 0h2m7 0h2m15 0h2m10 0h2m0 0h2m7 0h2m3 0h2m-2 0h2m-1 0h2m-2 0h2m3 0h2m2 0h2m-1 0h2m-2 0h2m4 0h2m2 0h2m2 0h2m-1 0h2m1 0h2m-1 0h2m2 0h2m3 0h2m2 0h2m15 0h2m117 0h2m4 0h2m-1 0h2m1 0h2m54 0h2m-310 1h2m4 0h2m8 0h2m18 0h2m0 0h2m10 0h2m2 0h2m0 0h2m0 0h2m8 0h2m1 0h2m5 0h2m0 0h2m2 0h2m-1 0h2m-2 0h2m1 0h2m-2 0h2m-2 0h2m-1 0h2m-1 0h2m12 0h2m2 0h2m13 0h2m1 0h2m0 0h2m24 0h2m10 0h2m21 0h2m48 0h2m6 0h2m24 0h2m95 0h2m-374 1h2m2 0h2m5 0h2m17 0h2m0 0h2m11 0h2m1 0h2m0 0h2m7 0h2m10 0h2m-2 0h2m0 0h2m-1 0h2m-2 0h2m1 0h2m-2 0h2m0 0h2m3 0h2m1 0h2m0 0h2m-1 0h2m0 0h2m1 0h2m-1 0h2m0 0h2m2 0h2m-1 0h2m7 0h2m2 0h2m1 0h2m13 0h2m116 0h2m8 0h2m45 0h2m59 0h2m13 0h2m-361 1h2m24 0h2m3 0h2m6 0h2m3 0h2m0 0h2m-1 0h2m-2 0h2m9 0h2m2 0h2m-1 0h2m2 0h2m-1 0h2m5 0h2m3 0h2m11 0h2m24 0h2m52 0h2m10 0h2m22 0h2m120 0h2m-1 0h2m6 0h2m-349 1h2m29 0h2m7 0h2m5 0h2m-2 0h2m4 0h2m2 0h2m0 0h2m-1 0h2m4 0h2m-2 0h2m1 0h2m-2 0h2m1 0h2m-1 0h2m-1 0h2m2 0h2m-2 0h2m-1 0h2m9 0h2m2 0h2m10 0h2m7 0h2m7 0h2m84 0h2m-1 0h2m13 0h2m3 0h2m0 0h2m10 0h2m48 0h2m35 0h2m-2 0h2m9 0h2m-353 1h2m-1 0h2m40 0h2m1 0h2m1 0h2m1 0h2m-1 0h2m-1 0h2m4 0h2m-2 0h2m13 0h2m-2 0h2m-1 0h2m-1 0h2m1 0h2m-2 0h2m-1 0h2m0 0h2m1 0h2m5 0h2m7 0h2m32 0h2m64 0h2m0 0h2m11 0h2m12 0h2m7 0h2m17 0h2m-1 0h2m68 0h2m26 0h2m-362 1h2m-1 0h2m40 0h2m2 0h2m-1 0h2m3 0h2m-1 0h2m2 0h2m2 0h2m0 0h2m2 0h2m7 0h2m0 0h2m-1 0h2m-1 0h2m0 0h2m0 0h2m-1 0h2m0 0h2m1 0h2m-1 0h2m4 0h2m4 0h2m0 0h2m1 0h2m52 0h2m16 0h2m-1 0h2m0 0h2m3 0h2m30 0h2m0 0h2m6 0h2m87 0h2m52 0h2m-380 1h2m34 0h2m18 0h2m3 0h2m-2 0h2m-1 0h2m-2 0h2m2 0h2m0 0h2m7 0h2m-2 0h2m1 0h2m2 0h2m-1 0h2m-2 0h2m7 0h2m0 0h2m-1 0h2m11 0h2m0 0h2m5 0h2m2 0h2m13 0h2m32 0h2m-1 0h2m10 0h2m58 0h2m13 0h2m14 0h2m-274 1h2m9 0h2m7 0h2m7 0h2m-2 0h2m11 0h2m2 0h2m14 0h2m2 0h2m-1 0h2m0 0h2m-1 0h2m0 0h2m3 0h2m2 0h2m1 0h2m-1 0h2m-2 0h2m-1 0h2m2 0h2m0 0h2m0 0h2m-2 0h2m2 0h2m0 0h2m-1 0h2m3 0h2m34 0h2m16 0h2m0 0h2m10 0h2m2 0h2m12 0h2m39 0h2m8 0h2m11 0h2m19 0h2m80 0h2m-356 1h2m7 0h2m7 0h2m7 0h2m11 0h2m0 0h2m2 0h2m5 0h2m0 0h2m2 0h2m-2 0h2m0 0h2m2 0h2m-1 0h2m1 0h2m-2 0h2m0 0h2m-1 0h2m1 0h2m-1 0h2m-2 0h2m0 0h2m2 0h2m14 0h2m2 0h2m-2 0h2m22 0h2m-1 0h2m35 0h2m55 0h2m5 0h2m11 0h2m118 0h2m38 0h2m-414 1h2m8 0h2m21 0h2m11 0h2m0 0h2m-2 0h2m-1 0h2m12 0h2m6 0h2m1 0h2m1 0h2m0 0h2m-1 0h2m0 0h2m-1 0h2m0 0h2m-2 0h2m2 0h2m2 0h2m-2 0h2m-1 0h2m2 0h2m-2 0h2m-1 0h2m4 0h2m-2 0h2m1 0h2m0 0h2m5 0h2m-1 0h2m2 0h2m53 0h2m3 0h2m1 0h2m8 0h2m49 0h2m9 0h2m0 0h2m2 0h2m91 0h2m7 0h2m-368 1h2m8 0h2m4 0h2m9 0h2m7 0h2m1 0h2m9 0h2m3 0h2m0 0h2m1 0h2m7 0h2m1 0h2m0 0h2m1 0h2m-1 0h2m0 0h2m1 0h2m-2 0h2m3 0h2m0 0h2m-1 0h2m0 0h2m0 0h2m24 0h2m53 0h2m6 0h2m4 0h2m3 0h2m61 0h2m1 0h2m103 0h2m-352 1h2m5 0h2m4 0h2m16 0h2m29 0h2m-2 0h2m0 0h2m1 0h2m3 0h2m0 0h2m-2 0h2m1 0h2m-1 0h2m-1 0h2m-2 0h2m0 0h2m1 0h2m-2 0h2m26 0h2m2 0h2m0 0h2m6 0h2m19 0h2m-1 0h2m4 0h2m17 0h2m63 0h2m10 0h2m92 0h2m-365 1h2m6 0h2m2 0h2m-1 0h2m4 0h2m0 0h2m1 0h2m1 0h2m-1 0h2m21 0h2m8 0h2m-1 0h2m-2 0h2m0 0h2m-1 0h2m2 0h2m2 0h2m-1 0h2m0 0h2m6 0h2m1 0h2m7 0h2m-1 0h2m1 0h2m2 0h2m2 0h2m12 0h2m1 0h2m-1 0h2m5 0h2m11 0h2m23 0h2m6 0h2m82 0h2m15 0h2m4 0h2m2 0h2m13 0h2m25 0h2m40 0h2m-365 1h2m1 0h2m-1 0h2m1 0h2m20 0h2m10 0h2m6 0h2m0 0h2m1 0h2m7 0h2m7 0h2m2 0h2m5 0h2m-1 0h2m-2 0h2m2 0h2m0 0h2m-2 0h2m5 0h2m3 0h2m10 0h2m21 0h2m128 0h2m24 0h2m44 0h2m-342 1h2m1 0h2m22 0h2m3 0h2m6 0h2m-1 0h2m4 0h2m7 0h2m-2 0h2m-2 0h2m2 0h2m-1 0h2m-1 0h2m10 0h2m1 0h2m-1 0h2m-2 0h2m-1 0h2m-2 0h2m-1 0h2m1 0h2m4 0h2m-1 0h2m-2 0h2m4 0h2m2 0h2m1 0h2m-2 0h2m3 0h2m-2 0h2m62 0h2m64 0h2m46 0h2m40 0h2m59 0h2m-401 1h2m10 0h2m8 0h2m30 0h2m13 0h2m-1 0h2m-1 0h2m3 0h2m1 0h2m0 0h2m-1 0h2m5 0h2m-1 0h2m-1 0h2m0 0h2m2 0h2m1 0h2m-1 0h2m1 0h2m-1 0h2m0 0h2m7 0h2m1 0h2m19 0h2m18 0h2m24 0h2m29 0h2m41 0h2m8 0h2m43 0h2m7 0h2m2 0h2m-330 1h2m7 0h2m0 0h2m1 0h2m15 0h2m4 0h2m7 0h2m4 0h2m6 0h2m6 0h2m-2 0h2m3 0h2m5 0h2m0 0h2m4 0h2m0 0h2m-1 0h2m5 0h2m15 0h2m4 0h2m62 0h2m68 0h2m45 0h2m23 0h2m3 0h2m26 0h2m20 0h2m-383 1h2m5 0h2m-1 0h2m7 0h2m0 0h2m19 0h2m10 0h2m2 0h2m4 0h2m0 0h2m8 0h2m6 0h2m-1 0h2m0 0h2m0 0h2m-2 0h2m-1 0h2m0 0h2m0 0h2m-1 0h2m-2 0h2m-1 0h2m0 0h2m-2 0h2m-2 0h2m6 0h2m2 0h2m-1 0h2m1 0h2m2 0h2m0 0h2m1 0h2m2 0h2m8 0h2m32 0h2m3 0h2m68 0h2m14 0h2m91 0h2m8 0h2m5 0h2m32 0h2m-394 1h2m-1 0h2m9 0h2m9 0h2m1 0h2m8 0h2m3 0h2m-2 0h2m3 0h2m-1 0h2m0 0h2m-2 0h2m2 0h2m8 0h2m-2 0h2m3 0h2m1 0h2m-1 0h2m1 0h2m0 0h2m-2 0h2m-1 0h2m-1 0h2m-1 0h2m-2 0h2m-1 0h2m-1 0h2m-2 0h2m0 0h2m0 0h2m3 0h2m-2 0h2m-2 0h2m0 0h2m3 0h2m5 0h2m2 0h2m135 0h2m64 0h2m29 0h2m-2 0h2m-1 0h2m2 0h2m6 0h2m10 0h2m-376 1h2m4 0h2m4 0h2m25 0h2m4 0h2m3 0h2m-2 0h2m10 0h2m1 0h2m4 0h2m2 0h2m3 0h2m-1 0h2m2 0h2m-1 0h2m-1 0h2m0 0h2m-1 0h2m5 0h2m2 0h2m-2 0h2m3 0h2m-2 0h2m0 0h2m16 0h2m0 0h2m20 0h2m10 0h2m83 0h2m115 0h2m-360 1h2m2 0h2m8 0h2m17 0h2m-1 0h2m13 0h2m5 0h2m-2 0h2m0 0h2m-2 0h2m2 0h2m-2 0h2m3 0h2m-1 0h2m5 0h2m-1 0h2m-2 0h2m-1 0h2m-1 0h2m3 0h2m-2 0h2m-2 0h2m4 0h2m0 0h2m1 0h2m-1 0h2m4 0h2m2 0h2m56 0h2m7 0h2m55 0h2m35 0h2m41 0h2m9 0h2m15 0h2m-355 1h2m21 0h2m16 0h2m21 0h2m2 0h2m5 0h2m3 0h2m2 0h2m2 0h2m-2 0h2m-2 0h2m0 0h2m-1 0h2m-1 0h2m-2 0h2m-1 0h2m0 0h2m-1 0h2m3 0h2m-1 0h2m0 0h2m9 0h2m-1 0h2m9 0h2m1 0h2m3 0h2m15 0h2m26 0h2m9 0h2m102 0h2m28 0h2m21 0h2m26 0h2m6 0h2m-385 1h2m39 0h2m28 0h2m0 0h2m0 0h2m4 0h2m-1 0h2m-2 0h2m5 0h2m-1 0h2m-2 0h2m0 0h2m0 0h2m1 0h2m7 0h2m-1 0h2m8 0h2m51 0h2m176 0h2m37 0h2m0 0h2m-381 1h2m4 0h2m3 0h2m-2 0h2m24 0h2m-1 0h2m4 0h2m1 0h2m2 0h2m2 0h2m-1 0h2m-1 0h2m-2 0h2m1 0h2m0 0h2m-1 0h2m2 0h2m-2 0h2m5 0h2m-2 0h2m1 0h2m-1 0h2m4 0h2m-1 0h2m-2 0h2m2 0h2m-1 0h2m2 0h2m0 0h2m26 0h2m-2 0h2m0 0h2m32 0h2m10 0h2m-1 0h2m6 0h2m38 0h2m22 0h2m122 0h2m7 0h2m-389 1h2m-1 0h2m3 0h2m14 0h2m45 0h2m2 0h2m2 0h2m3 0h2m3 0h2m4 0h2m-1 0h2m1 0h2m-1 0h2m3 0h2m1 0h2m1 0h2m5 0h2m24 0h2m47 0h2m-1 0h2m7 0h2m6 0h2m26 0h2m11 0h2m108 0h2m19 0h2m5 0h2m-378 1h2m2 0h2m33 0h2m-2 0h2m5 0h2m4 0h2m-1 0h2m6 0h2m0 0h2m-2 0h2m6 0h2m-1 0h2m-2 0h2m1 0h2m-2 0h2m-1 0h2m1 0h2m2 0h2m-2 0h2m1 0h2m-2 0h2m-1 0h2m8 0h2m-2 0h2m1 0h2m2 0h2m-2 0h2m2 0h2m2 0h2m18 0h2m31 0h2m57 0h2m34 0h2m76 0h2m2 0h2m0 0h2m18 0h2m-372 1h2m2 0h2m8 0h2m-1 0h2m7 0h2m-1 0h2m31 0h2m6 0h2m0 0h2m6 0h2m-2 0h2m0 0h2m3 0h2m2 0h2m-2 0h2m-2 0h2m-1 0h2m-2 0h2m-2 0h2m4 0h2m1 0h2m-1 0h2m0 0h2m-1 0h2m0 0h2m-1 0h2m6 0h2m-1 0h2m8 0h2m-2 0h2m26 0h2m83 0h2m80 0h2m43 0h2m-359 1h2m-1 0h2m-2 0h2m0 0h2m7 0h2m21 0h2m0 0h2m5 0h2m12 0h2m1 0h2m1 0h2m-1 0h2m1 0h2m-1 0h2m2 0h2m1 0h2m-2 0h2m-2 0h2m-1 0h2m-1 0h2m0 0h2m0 0h2m-1 0h2m10 0h2m-1 0h2m2 0h2m3 0h2m-1 0h2m3 0h2m4 0h2m19 0h2m29 0h2m25 0h2m32 0h2m132 0h2m47 0h2m-424 1h2m36 0h2m18 0h2m-1 0h2m0 0h2m2 0h2m-1 0h2m1 0h2m4 0h2m2 0h2m-2 0h2m1 0h2m-1 0h2m1 0h2m1 0h2m0 0h2m-1 0h2m-2 0h2m-1 0h2m2 0h2m-1 0h2m-2 0h2m1 0h2m1 0h2m0 0h2m0 0h2m2 0h2m0 0h2m5 0h2m140 0h2m85 0h2m35 0h2m-380 1h2m46 0h2m2 0h2m-1 0h2m8 0h2m-1 0h2m0 0h2m1 0h2m1 0h2m2 0h2m0 0h2m-2 0h2m-1 0h2m0 0h2m0 0h2m3 0h2m-1 0h2m1 0h2m-1 0h2m-1 0h2m-1 0h2m1 0h2m-1 0h2m0 0h2m-1 0h2m-2 0h2m0 0h2m17 0h2m2 0h2m27 0h2m109 0h2m61 0h2m19 0h2m-356 1h2m-1 0h2m5 0h2m2 0h2m7 0h2m34 0h2m3 0h2m0 0h2m-1 0h2m-1 0h2m0 0h2m2 0h2m1 0h2m0 0h2m-1 0h2m-1 0h2m1 0h2m-2 0h2m0 0h2m-1 0h2m0 0h2m0 0h2m-1 0h2m3 0h2m1 0h2m6 0h2m28 0h2m2 0h2m20 0h2m4 0h2m11 0h2m87 0h2m87 0h2m2 0h2m11 0h2m27 0h2m-412 1h2m-2 0h2m7 0h2m3 0h2m13 0h2m6 0h2m-2 0h2m10 0h2m6 0h2m6 0h2m15 0h2m0 0h2m1 0h2m-1 0h2m-2 0h2m1 0h2m-1 0h2m-1 0h2m-2 0h2m-1 0h2m-1 0h2m-2 0h2m2 0h2m1 0h2m-2 0h2m1 0h2m3 0h2m12 0h2m40 0h2m27 0h2m159 0h2m3 0h2m37 0h2m-401 1h2m-2 0h2m1 0h2m-2 0h2m30 0h2m10 0h2m5 0h2m0 0h2m-2 0h2m-1 0h2m-1 0h2m-1 0h2m10 0h2m-2 0h2m2 0h2m-2 0h2m1 0h2m3 0h2m-1 0h2m1 0h2m3 0h2m-2 0h2m7 0h2m5 0h2m3 0h2m7 0h2m41 0h2m172 0h2m2 0h2m9 0h2m22 0h2m1 0h2m-385 1h2m6 0h2m-1 0h2m1 0h2m46 0h2m6 0h2m-1 0h2m1 0h2m-1 0h2m-2 0h2m0 0h2m-1 0h2m1 0h2m0 0h2m0 0h2m0 0h2m-2 0h2m2 0h2m-1 0h2m0 0h2m-2 0h2m-2 0h2m-2 0h2m14 0h2m-2 0h2m2 0h2m5 0h2m3 0h2m5 0h2m3 0h2m1 0h2m194 0h2m13 0h2m3 0h2m1 0h2m-1 0h2m3 0h2m-355 1h2m25 0h2m3 0h2m0 0h2m6 0h2m13 0h2m6 0h2m-1 0h2m-1 0h2m-2 0h2m0 0h2m3 0h2m1 0h2m-1 0h2m-1 0h2m-1 0h2m4 0h2m2 0h2m-1 0h2m0 0h2m7 0h2m5 0h2m-1 0h2m7 0h2m103 0h2m134 0h2m-367 1h2m6 0h2m47 0h2m4 0h2m0 0h2m1 0h2m8 0h2m1 0h2m-1 0h2m-1 0h2m-1 0h2m0 0h2m-2 0h2m1 0h2m-1 0h2m0 0h2m0 0h2m-2 0h2m2 0h2m-2 0h2m3 0h2m5 0h2m10 0h2m133 0h2m65 0h2m56 0h2m4 0h2m-399 1h2m8 0h2m4 0h2m6 0h2m26 0h2m0 0h2m0 0h2m8 0h2m-2 0h2m-1 0h2m-1 0h2m4 0h2m-1 0h2m0 0h2m0 0h2m-1 0h2m7 0h2m-2 0h2m1 0h2m-1 0h2m-1 0h2m-2 0h2m-1 0h2m-1 0h2m0 0h2m-1 0h2m-1 0h2m-2 0h2m-1 0h2m0 0h2m1 0h2m0 0h2m-2 0h2m-1 0h2m0 0h2m1 0h2m-1 0h2m1 0h2m10 0h2m-2 0h2m-1 0h2m-2 0h2m1 0h2m52 0h2m-1 0h2m2 0h2m-186 1h2m7 0h2m1 0h2m8 0h2m0 0h2m10 0h2m13 0h2m11 0h2m-2 0h2m1 0h2m0 0h2m1 0h2m0 0h2m-1 0h2m-2 0h2m-1 0h2m4 0h2m-2 0h2m-2 0h2m0 0h2m-2 0h2m-1 0h2m2 0h2m6 0h2m1 0h2m0 0h2m3 0h2m0 0h2m0 0h2m5 0h2m-1 0h2m11 0h2m1 0h2m77 0h2m102 0h2m11 0h2m19 0h2m17 0h2m10 0h2m-384 1h2m0 0h2m5 0h2m-2 0h2m21 0h2m0 0h2m4 0h2m12 0h2m3 0h2m8 0h2m1 0h2m-2 0h2m-2 0h2m1 0h2m1 0h2m-2 0h2m-1 0h2m4 0h2m-2 0h2m0 0h2m0 0h2m-2 0h2m-1 0h2m1 0h2m0 0h2m1 0h2m0 0h2m-2 0h2m-1 0h2m0 0h2m-1 0h2m0 0h2m-1 0h2m-2 0h2m7 0h2m0 0h2m4 0h2m8 0h2m6 0h2m-1 0h2m34 0h2m111 0h2m8 0h2m-1 0h2m26 0h2m11 0h2m0 0h2m1 0h2m-353 1h2m-2 0h2m1 0h2m-2 0h2m35 0h2m7 0h2m2 0h2m14 0h2m-2 0h2m-1 0h2m-1 0h2m5 0h2m0 0h2m-1 0h2m-2 0h2m1 0h2m-1 0h2m1 0h2m-1 0h2m2 0h2m-2 0h2m-1 0h2m0 0h2m-1 0h2m2 0h2m2 0h2m-1 0h2m9 0h2m12 0h2m4 0h2m0 0h2m27 0h2m26 0h2m146 0h2m16 0h2m25 0h2m-396 1h2m2 0h2m9 0h2m3 0h2m42 0h2m9 0h2m7 0h2m9 0h2m0 0h2m2 0h2m-1 0h2m0 0h2m-2 0h2m6 0h2m13 0h2m7 0h2m-2 0h2m24 0h2m169 0h2m21 0h2m-363 1h2m2 0h2m54 0h2m10 0h2m0 0h2m-1 0h2m-1 0h2m1 0h2m-2 0h2m-1 0h2m7 0h2m-1 0h2m-2 0h2m0 0h2m-1 0h2m0 0h2m-2 0h2m-1 0h2m-2 0h2m-2 0h2m-2 0h2m1 0h2m6 0h2m3 0h2m0 0h2m1 0h2m-2 0h2m3 0h2m0 0h2m0 0h2m9 0h2m1 0h2m7 0h2m28 0h2m0 0h2m164 0h2m2 0h2m12 0h2m2 0h2m-326 1h2m5 0h2m-2 0h2m14 0h2m0 0h2m1 0h2m-1 0h2m1 0h2m1 0h2m-2 0h2m-1 0h2m5 0h2m-2 0h2m-1 0h2m2 0h2m0 0h2m-1 0h2m-1 0h2m0 0h2m3 0h2m-2 0h2m-1 0h2m-2 0h2m-1 0h2m0 0h2m0 0h2m0 0h2m-1 0h2m-2 0h2m0 0h2m-1 0h2m-2 0h2m-1 0h2m5 0h2m-1 0h2m2 0h2m2 0h2m14 0h2m0 0h2m31 0h2m30 0h2m57 0h2m27 0h2m20 0h2m9 0h2m7 0h2m16 0h2m2 0h2m30 0h2m20 0h2m-406 1h2m5 0h2m-1 0h2m41 0h2m-2 0h2m0 0h2m1 0h2m9 0h2m-1 0h2m3 0h2m-2 0h2m-1 0h2m5 0h2m-1 0h2m-2 0h2m-2 0h2m-1 0h2m-1 0h2m-2 0h2m-2 0h2m-1 0h2m3 0h2m0 0h2m-1 0h2m-2 0h2m-2 0h2m0 0h2m2 0h2m1 0h2m2 0h2m5 0h2m0 0h2m22 0h2m11 0h2m180 0h2m3 0h2m20 0h2m-358 1h2m16 0h2m13 0h2m11 0h2m1 0h2m-1 0h2m7 0h2m0 0h2m-2 0h2m4 0h2m-1 0h2m-1 0h2m-1 0h2m3 0h2m-2 0h2m-1 0h2m3 0h2m1 0h2m-1 0h2m1 0h2m0 0h2m0 0h2m3 0h2m4 0h2m11 0h2m3 0h2m188 0h2m6 0h2m63 0h2m-400 1h2m-2 0h2m0 0h2m-1 0h2m35 0h2m7 0h2m1 0h2m14 0h2m6 0h2m1 0h2m-1 0h2m0 0h2m1 0h2m-1 0h2m-1 0h2m-2 0h2m-2 0h2m3 0h2m-1 0h2m0 0h2m-1 0h2m-2 0h2m0 0h2m-2 0h2m-2 0h2m6 0h2m0 0h2m-1 0h2m-1 0h2m-1 0h2m3 0h2m1 0h2m12 0h2m77 0h2m89 0h2m-1 0h2m16 0h2m20 0h2m2 0h2m15 0h2m8 0h2m19 0h2m-402 1h2m6 0h2m3 0h2m5 0h2m2 0h2m4 0h2m22 0h2m11 0h2m0 0h2m0 0h2m-1 0h2m2 0h2m0 0h2m3 0h2m1 0h2m-1 0h2m-1 0h2m-1 0h2m-1 0h2m2 0h2m-1 0h2m1 0h2m-1 0h2m1 0h2m-2 0h2m1 0h2m1 0h2m0 0h2m12 0h2m1 0h2m3 0h2m-2 0h2m7 0h2m0 0h2m88 0h2m4 0h2m164 0h2m-411 1h2m3 0h2m2 0h2m24 0h2m29 0h2m1 0h2m-1 0h2m4 0h2m1 0h2m2 0h2m-2 0h2m-1 0h2m2 0h2m-2 0h2m-1 0h2m1 0h2m-2 0h2m0 0h2m-2 0h2m-1 0h2m2 0h2m1 0h2m0 0h2m1 0h2m0 0h2m-2 0h2m10 0h2m4 0h2m11 0h2m46 0h2m74 0h2m79 0h2m18 0h2m-353 1h2m1 0h2m45 0h2m6 0h2m-1 0h2m-2 0h2m1 0h2m-1 0h2m2 0h2m-1 0h2m3 0h2m0 0h2m-1 0h2m5 0h2m-2 0h2m-1 0h2m2 0h2m0 0h2m-1 0h2m-2 0h2m-1 0h2m-1 0h2m-2 0h2m-2 0h2m-2 0h2m0 0h2m-2 0h2m4 0h2m-1 0h2m6 0h2m0 0h2m21 0h2m12 0h2m17 0h2m103 0h2m69 0h2m12 0h2m5 0h2m-366 1h2m5 0h2m6 0h2m23 0h2m-1 0h2m1 0h2m1 0h2m1 0h2m0 0h2m-1 0h2m3 0h2m0 0h2m7 0h2m3 0h2m-2 0h2m1 0h2m-1 0h2m-2 0h2m-1 0h2m0 0h2m-1 0h2m0 0h2m-1 0h2m-2 0h2m-2 0h2m-1 0h2m4 0h2m-2 0h2m-1 0h2m-2 0h2m0 0h2m2 0h2m-1 0h2m0 0h2m-2 0h2m1 0h2m0 0h2m1 0h2m0 0h2m4 0h2m1 0h2m7 0h2m180 0h2m10 0h2m27 0h2m-1 0h2m5 0h2m22 0h2m3 0h2m-377 1h2m0 0h2m13 0h2m3 0h2m2 0h2m3 0h2m6 0h2m10 0h2m-1 0h2m0 0h2m-2 0h2m1 0h2m-1 0h2m0 0h2m-2 0h2m7 0h2m-2 0h2m-2 0h2m-2 0h2m-1 0h2m-2 0h2m6 0h2m3 0h2m-1 0h2m-2 0h2m7 0h2m2 0h2m6 0h2m-1 0h2m-1 0h2m1 0h2m33 0h2m25 0h2m59 0h2m64 0h2m14 0h2m13 0h2m38 0h2m0 0h2m-395 1h2m3 0h2m1 0h2m2 0h2m27 0h2m8 0h2m7 0h2m1 0h2m-1 0h2m-2 0h2m-2 0h2m4 0h2m2 0h2m-2 0h2m7 0h2m6 0h2m-2 0h2m1 0h2m-1 0h2m-2 0h2m-1 0h2m3 0h2m1 0h2m-1 0h2m2 0h2m0 0h2m4 0h2m1 0h2m0 0h2m3 0h2m-1 0h2m2 0h2m23 0h2m187 0h2m13 0h2m-2 0h2m22 0h2m-332 1h2m1 0h2m11 0h2m0 0h2m-2 0h2m8 0h2m-2 0h2m-1 0h2m3 0h2m1 0h2m-2 0h2m1 0h2m1 0h2m0 0h2m0 0h2m5 0h2m6 0h2m2 0h2m2 0h2m1 0h2m3 0h2m2 0h2m3 0h2m78 0h2m58 0h2m12 0h2m46 0h2m0 0h2m1 0h2m15 0h2m29 0h2m-399 1h2m3 0h2m8 0h2m5 0h2m0 0h2m19 0h2m2 0h2m9 0h2m8 0h2m1 0h2m-1 0h2m-1 0h2m1 0h2m-1 0h2m-1 0h2m1 0h2m0 0h2m1 0h2m0 0h2m0 0h2m-2 0h2m-2 0h2m-1 0h2m-2 0h2m-2 0h2m-1 0h2m-2 0h2m-1 0h2m-1 0h2m-1 0h2m1 0h2m5 0h2m-1 0h2m0 0h2m-2 0h2m-1 0h2m3 0h2m-2 0h2m18 0h2m14 0h2m23 0h2m27 0h2m119 0h2m-1 0h2m27 0h2m-1 0h2m2 0h2m7 0h2m-380 1h2m5 0h2m7 0h2m-2 0h2m1 0h2m16 0h2m12 0h2m2 0h2m5 0h2m0 0h2m7 0h2m12 0h2m0 0h2m-2 0h2m1 0h2m-1 0h2m2 0h2m-2 0h2m-2 0h2m-1 0h2m1 0h2m1 0h2m-2 0h2m1 0h2m0 0h2m-1 0h2m-1 0h2m0 0h2m0 0h2m-2 0h2m0 0h2m1 0h2m-2 0h2m-1 0h2m2 0h2m0 0h2m1 0h2m9 0h2m1 0h2m-1 0h2m13 0h2m1 0h2m23 0h2m120 0h2m49 0h2m5 0h2m-357 1h2m-2 0h2m1 0h2m2 0h2m18 0h2m19 0h2m-2 0h2m13 0h2m2 0h2m-2 0h2m-2 0h2m0 0h2m-2 0h2m1 0h2m2 0h2m0 0h2m-1 0h2m0 0h2m1 0h2m4 0h2m1 0h2m-2 0h2m-1 0h2m2 0h2m-1 0h2m0 0h2m0 0h2m0 0h2m-1 0h2m2 0h2m-2 0h2m-1 0h2m-1 0h2m-2 0h2m-1 0h2m-2 0h2m2 0h2m-1 0h2m5 0h2m5 0h2m230 0h2m-376 1h2m4 0h2m0 0h2m38 0h2m5 0h2m4 0h2m-1 0h2m3 0h2m1 0h2m2 0h2m-2 0h2m6 0h2m0 0h2m-1 0h2m2 0h2m-2 0h2m0 0h2m-2 0h2m-2 0h2m-1 0h2m1 0h2m0 0h2m-1 0h2m0 0h2m4 0h2m0 0h2m3 0h2m-2 0h2m10 0h2m4 0h2m-1 0h2m-2 0h2m-1 0h2m0 0h2m-1 0h2m4 0h2m22 0h2m165 0h2m8 0h2m10 0h2m1 0h2m3 0h2m12 0h2m2 0h2m3 0h2m11 0h2m-376 1h2m36 0h2m0 0h2m-1 0h2m7 0h2m0 0h2m0 0h2m-2 0h2m-1 0h2m3 0h2m-2 0h2m1 0h2m-1 0h2m-2 0h2m-2 0h2m1 0h2m-1 0h2m-2 0h2m0 0h2m-1 0h2m-1 0h2m-1 0h2m-2 0h2m2 0h2m4 0h2m-2 0h2m4 0h2m1 0h2m-1 0h2m-1 0h2m-1 0h2m0 0h2m2 0h2m-1 0h2m-1 0h2m3 0h2m4 0h2m-2 0h2m1 0h2m3 0h2m-1 0h2m6 0h2m71 0h2m104 0h2m3 0h2m9 0h2m7 0h2m17 0h2m3 0h2m-369 1h2m20 0h2m4 0h2m4 0h2m2 0h2m6 0h2m3 0h2m3 0h2m-2 0h2m4 0h2m2 0h2m-1 0h2m0 0h2m0 0h2m3 0h2m-2 0h2m-2 0h2m1 0h2m-1 0h2m0 0h2m-2 0h2m-2 0h2m-1 0h2m2 0h2m-1 0h2m-1 0h2m-2 0h2m2 0h2m7 0h2m0 0h2m-1 0h2m9 0h2m8 0h2m15 0h2m11 0h2m145 0h2m12 0h2m8 0h2m6 0h2m2 0h2m5 0h2m22 0h2m2 0h2m-395 1h2m-1 0h2m3 0h2m9 0h2m46 0h2m7 0h2m-1 0h2m0 0h2m7 0h2m1 0h2m-1 0h2m-1 0h2m0 0h2m-2 0h2m-1 0h2m1 0h2m2 0h2m-1 0h2m0 0h2m-1 0h2m-1 0h2m6 0h2m-1 0h2m-1 0h2m-2 0h2m1 0h2m-1 0h2m0 0h2m0 0h2m0 0h2m8 0h2m6 0h2m1 0h2m6 0h2m11 0h2m160 0h2m2 0h2m10 0h2m13 0h2m18 0h2m16 0h2m-401 1h2m12 0h2m0 0h2m-1 0h2m12 0h2m11 0h2m-1 0h2m7 0h2m11 0h2m2 0h2m-1 0h2m0 0h2m-2 0h2m-1 0h2m-2 0h2m5 0h2m1 0h2m0 0h2m7 0h2m5 0h2m0 0h2m-1 0h2m4 0h2m-1 0h2m0 0h2m3 0h2m2 0h2m-1 0h2m0 0h2m2 0h2m3 0h2m-1 0h2m0 0h2m7 0h2m0 0h2m15 0h2m53 0h2m63 0h2m7 0h2m87 0h2m-385 1h2m9 0h2m2 0h2m32 0h2m16 0h2m1 0h2m-1 0h2m6 0h2m5 0h2m3 0h2m-2 0h2m-1 0h2m1 0h2m1 0h2m-1 0h2m-2 0h2m-2 0h2m9 0h2m-1 0h2m0 0h2m-1 0h2m1 0h2m0 0h2m0 0h2m5 0h2m-1 0h2m0 0h2m0 0h2m13 0h2m198 0h2m17 0h2m24 0h2m-390 1h2m6 0h2m11 0h2m23 0h2m8 0h2m4 0h2m0 0h2m-1 0h2m-1 0h2m5 0h2m-1 0h2m-1 0h2m4 0h2m1 0h2m-2 0h2m1 0h2m1 0h2m-1 0h2m-1 0h2m-2 0h2m0 0h2m-2 0h2m0 0h2m-2 0h2m2 0h2m1 0h2m-1 0h2m1 0h2m-2 0h2m1 0h2m-2 0h2m-1 0h2m-2 0h2m-2 0h2m3 0h2m8 0h2m0 0h2m17 0h2m24 0h2m78 0h2m74 0h2m32 0h2m-1 0h2m-362 1h2m5 0h2m-2 0h2m8 0h2m21 0h2m14 0h2m1 0h2m3 0h2m4 0h2m2 0h2m0 0h2m0 0h2m0 0h2m0 0h2m2 0h2m0 0h2m-1 0h2m-2 0h2m-1 0h2m2 0h2m1 0h2m-2 0h2m2 0h2m-2 0h2m1 0h2m0 0h2m-1 0h2m0 0h2m2 0h2m-1 0h2m-1 0h2m-1 0h2m-1 0h2m-2 0h2m-1 0h2m0 0h2m-1 0h2m17 0h2m4 0h2m206 0h2m5 0h2m31 0h2m-400 1h2m0 0h2m-2 0h2m30 0h2m-1 0h2m6 0h2m19 0h2m1 0h2m-1 0h2m3 0h2m1 0h2m1 0h2m4 0h2m-2 0h2m-2 0h2m-2 0h2m4 0h2m0 0h2m-2 0h2m0 0h2m0 0h2m4 0h2m-2 0h2m0 0h2m4 0h2m6 0h2m-2 0h2m0 0h2m-1 0h2m3 0h2m0 0h2m0 0h2m-1 0h2m-1 0h2m-1 0h2m1 0h2m36 0h2m159 0h2m7 0h2m2 0h2m1 0h2m3 0h2m29 0h2m-378 1h2m34 0h2m6 0h2m0 0h2m9 0h2m3 0h2m6 0h2m0 0h2m0 0h2m0 0h2m-2 0h2m-2 0h2m-1 0h2m-2 0h2m1 0h2m2 0h2m2 0h2m-1 0h2m3 0h2m-2 0h2m-1 0h2m1 0h2m-2 0h2m-1 0h2m-2 0h2m0 0h2m1 0h2m-1 0h2m2 0h2m-2 0h2m0 0h2m1 0h2m0 0h2m12 0h2m12 0h2m-2 0h2m112 0h2m41 0h2m3 0h2m55 0h2m6 0h2m25 0h2m-374 1h2m13 0h2m0 0h2m5 0h2m4 0h2m-1 0h2m5 0h2m2 0h2m-1 0h2m0 0h2m-1 0h2m-2 0h2m-1 0h2m7 0h2m-1 0h2m5 0h2m-2 0h2m0 0h2m-1 0h2m-2 0h2m0 0h2m2 0h2m2 0h2m1 0h2m-2 0h2m2 0h2m-2 0h2m8 0h2m-2 0h2m6 0h2m24 0h2m167 0h2m12 0h2m-351 1h2m21 0h2m18 0h2m0 0h2m21 0h2m1 0h2m7 0h2m-1 0h2m1 0h2m0 0h2m2 0h2m-2 0h2m6 0h2m-2 0h2m-2 0h2m2 0h2m-2 0h2m0 0h2m1 0h2m-2 0h2m4 0h2m-2 0h2m6 0h2m5 0h2m1 0h2m-1 0h2m0 0h2m4 0h2m-1 0h2m-2 0h2m1 0h2m0 0h2m-1 0h2m-1 0h2m2 0h2m5 0h2m156 0h2m-1 0h2m15 0h2m8 0h2m3 0h2m-2 0h2m5 0h2m3 0h2m2 0h2m-359 1h2m23 0h2m22 0h2m0 0h2m9 0h2m-1 0h2m-1 0h2m1 0h2m-2 0h2m4 0h2m1 0h2m0 0h2m-2 0h2m2 0h2m1 0h2m-2 0h2m1 0h2m0 0h2m1 0h2m-2 0h2m-1 0h2m-1 0h2m0 0h2m-2 0h2m0 0h2m-1 0h2m-1 0h2m-2 0h2m5 0h2m0 0h2m-2 0h2m-1 0h2m-1 0h2m0 0h2m7 0h2m-1 0h2m2 0h2m126 0h2m38 0h2m24 0h2m9 0h2m14 0h2m15 0h2m55 0h2m-394 1h2m5 0h2m13 0h2m11 0h2m1 0h2m-2 0h2m1 0h2m-2 0h2m0 0h2m-2 0h2m0 0h2m-2 0h2m3 0h2m-1 0h2m-2 0h2m-1 0h2m-1 0h2m0 0h2m-1 0h2m2 0h2m4 0h2m0 0h2m-2 0h2m-2 0h2m0 0h2m2 0h2m1 0h2m-2 0h2m-2 0h2m1 0h2m-1 0h2m-2 0h2m0 0h2m0 0h2m-1 0h2m10 0h2m122 0h2m73 0h2m24 0h2m-2 0h2m4 0h2m-373 1h2m30 0h2m1 0h2m8 0h2m7 0h2m7 0h2m1 0h2m2 0h2m-2 0h2m4 0h2m-2 0h2m-1 0h2m2 0h2m-2 0h2m0 0h2m0 0h2m0 0h2m-1 0h2m2 0h2m-1 0h2m-1 0h2m-2 0h2m-1 0h2m0 0h2m1 0h2m3 0h2m-1 0h2m-1 0h2m-2 0h2m2 0h2m-1 0h2m-1 0h2m-2 0h2m4 0h2m-1 0h2m-2 0h2m-1 0h2m1 0h2m3 0h2m-1 0h2m-1 0h2m7 0h2m-1 0h2m-1 0h2m1 0h2m4 0h2m-1 0h2m4 0h2m176 0h2m0 0h2m1 0h2m0 0h2m31 0h2m1 0h2m-353 1h2m32 0h2m7 0h2m9 0h2m-2 0h2m-1 0h2m-2 0h2m-1 0h2m-1 0h2m-1 0h2m1 0h2m-2 0h2m5 0h2m-1 0h2m-1 0h2m0 0h2m-1 0h2m0 0h2m3 0h2m-1 0h2m-1 0h2m-2 0h2m0 0h2m0 0h2m0 0h2m-1 0h2m-1 0h2m-1 0h2m0 0h2m-2 0h2m-2 0h2m0 0h2m-2 0h2m1 0h2m-2 0h2m-1 0h2m0 0h2m-1 0h2m-1 0h2m7 0h2m0 0h2m-2 0h2m0 0h2m0 0h2m106 0h2m72 0h2m14 0h2m-1 0h2m2 0h2m4 0h2m13 0h2m-319 1h2m3 0h2m3 0h2m20 0h2m-2 0h2m-1 0h2m4 0h2m-1 0h2m-1 0h2m-1 0h2m-1 0h2m1 0h2m-1 0h2m-1 0h2m0 0h2m-1 0h2m-1 0h2m-1 0h2m0 0h2m2 0h2m4 0h2m0 0h2m-2 0h2m0 0h2m-2 0h2m-1 0h2m0 0h2m-2 0h2m1 0h2m3 0h2m-2 0h2m-1 0h2m-1 0h2m0 0h2m-1 0h2m-1 0h2m1 0h2m4 0h2m-1 0h2m201 0h2m31 0h2m-1 0h2m-331 1h2m-1 0h2m8 0h2m-2 0h2m-2 0h2m2 0h2m1 0h2m-1 0h2m0 0h2m-1 0h2m-1 0h2m3 0h2m2 0h2m-2 0h2m-1 0h2m0 0h2m-2 0h2m2 0h2m-1 0h2m1 0h2m3 0h2m-1 0h2m-1 0h2m-2 0h2m-2 0h2m1 0h2m-2 0h2m1 0h2m-1 0h2m3 0h2m2 0h2m-1 0h2m-1 0h2m-1 0h2m-1 0h2m-2 0h2m0 0h2m-1 0h2m-2 0h2m0 0h2m0 0h2m-1 0h2m9 0h2m2 0h2m124 0h2m60 0h2m29 0h2m-311 1h2m5 0h2m5 0h2m0 0h2m0 0h2m1 0h2m3 0h2m1 0h2m-1 0h2m-1 0h2m2 0h2m1 0h2m1 0h2m0 0h2m-1 0h2m2 0h2m0 0h2m0 0h2m-1 0h2m-2 0h2m-1 0h2m0 0h2m-2 0h2m-1 0h2m-1 0h2m0 0h2m-1 0h2m-2 0h2m0 0h2m2 0h2m-1 0h2m3 0h2m2 0h2m2 0h2m-2 0h2m8 0h2m134 0h2m4 0h2m43 0h2m13 0h2m0 0h2m0 0h2m-304 1h2m4 0h2m8 0h2m11 0h2m-1 0h2m2 0h2m1 0h2m-2 0h2m-2 0h2m0 0h2m-1 0h2m-1 0h2m-1 0h2m-2 0h2m0 0h2m-1 0h2m0 0h2m1 0h2m0 0h2m-2 0h2m-1 0h2m0 0h2m-1 0h2m-2 0h2m-2 0h2m5 0h2m0 0h2m-1 0h2m0 0h2m0 0h2m0 0h2m2 0h2m0 0h2m0 0h2m0 0h2m0 0h2m-1 0h2m-2 0h2m0 0h2m-2 0h2m26 0h2m170 0h2m22 0h2m64 0h2m-393 1h2m17 0h2m-2 0h2m-1 0h2m-2 0h2m3 0h2m9 0h2m1 0h2m2 0h2m3 0h2m-2 0h2m-1 0h2m1 0h2m-1 0h2m-1 0h2m4 0h2m1 0h2m-1 0h2m-1 0h2m-2 0h2m1 0h2m-1 0h2m-1 0h2m-1 0h2m-1 0h2m3 0h2m-2 0h2m6 0h2m4 0h2m1 0h2m1 0h2m-1 0h2m-1 0h2m5 0h2m26 0h2m4 0h2m119 0h2m13 0h2m16 0h2m14 0h2m33 0h2m2 0h2m-338 1h2m8 0h2m3 0h2m3 0h2m1 0h2m-1 0h2m2 0h2m3 0h2m-2 0h2m-1 0h2m-1 0h2m0 0h2m-1 0h2m-2 0h2m1 0h2m-1 0h2m-2 0h2m-1 0h2m1 0h2m0 0h2m-1 0h2m-1 0h2m1 0h2m6 0h2m-2 0h2m-1 0h2m-1 0h2m-2 0h2m-1 0h2m-2 0h2m0 0h2m-2 0h2m0 0h2m-2 0h2m-1 0h2m-2 0h2m0 0h2m-1 0h2m1 0h2m1 0h2m-2 0h2m1 0h2m2 0h2m3 0h2m-2 0h2m3 0h2m-2 0h2m40 0h2m96 0h2m22 0h2m35 0h2m18 0h2m25 0h2m-376 1h2m31 0h2m11 0h2m5 0h2m1 0h2m5 0h2m-2 0h2m-1 0h2m0 0h2m2 0h2m0 0h2m4 0h2m-2 0h2m1 0h2m-1 0h2m0 0h2m-2 0h2m0 0h2m1 0h2m2 0h2m-2 0h2m-1 0h2m5 0h2m0 0h2m-2 0h2m-1 0h2m-2 0h2m0 0h2m0 0h2m-2 0h2m-1 0h2m-2 0h2m-1 0h2m0 0h2m0 0h2m-1 0h2m-2 0h2m1 0h2m-1 0h2m17 0h2m18 0h2m48 0h2m38 0h2m34 0h2m8 0h2m42 0h2m6 0h2m-1 0h2m41 0h2m-375 1h2m18 0h2m5 0h2m1 0h2m-2 0h2m0 0h2m-1 0h2m3 0h2m3 0h2m0 0h2m-1 0h2m0 0h2m3 0h2m2 0h2m-1 0h2m-1 0h2m2 0h2m-2 0h2m0 0h2m-1 0h2m-1 0h2m2 0h2m0 0h2m-1 0h2m0 0h2m-1 0h2m-2 0h2m-2 0h2m-2 0h2m0 0h2m0 0h2m-1 0h2m4 0h2m-1 0h2m-2 0h2m-1 0h2m-2 0h2m-2 0h2m-1 0h2m-2 0h2m5 0h2m-1 0h2m-2 0h2m-2 0h2m-2 0h2m12 0h2m6 0h2m3 0h2m4 0h2m59 0h2m86 0h2m11 0h2m0 0h2m7 0h2m6 0h2m17 0h2m3 0h2m-320 1h2m4 0h2m6 0h2m-1 0h2m10 0h2m0 0h2m6 0h2m-1 0h2m-1 0h2m4 0h2m-1 0h2m-1 0h2m1 0h2m-1 0h2m-2 0h2m0 0h2m3 0h2m-2 0h2m-2 0h2m0 0h2m0 0h2m1 0h2m0 0h2m-2 0h2m-1 0h2m0 0h2m-1 0h2m-2 0h2m1 0h2m6 0h2m-1 0h2m0 0h2m2 0h2m14 0h2m12 0h2m2 0h2m51 0h2m81 0h2m45 0h2m-308 1h2m-2 0h2m8 0h2m-2 0h2m0 0h2m2 0h2m-2 0h2m4 0h2m0 0h2m-2 0h2m-2 0h2m-1 0h2m-2 0h2m-1 0h2m0 0h2m-1 0h2m0 0h2m2 0h2m1 0h2m0 0h2m-1 0h2m0 0h2m-2 0h2m0 0h2m-2 0h2m-1 0h2m-1 0h2m-2 0h2m1 0h2m0 0h2m1 0h2m-1 0h2m-1 0h2m0 0h2m-2 0h2m0 0h2m0 0h2m3 0h2m0 0h2m5 0h2m0 0h2m-2 0h2m-1 0h2m5 0h2m-1 0h2m-1 0h2m36 0h2m94 0h2m14 0h2m68 0h2m25 0h2m-364 1h2m31 0h2m16 0h2m2 0h2m-1 0h2m-1 0h2m2 0h2m6 0h2m1 0h2m-1 0h2m-2 0h2m-1 0h2m0 0h2m-2 0h2m0 0h2m-1 0h2m-1 0h2m-2 0h2m8 0h2m-1 0h2m-2 0h2m0 0h2m2 0h2m-2 0h2m-1 0h2m-1 0h2m1 0h2m1 0h2m-2 0h2m1 0h2m2 0h2m7 0h2m1 0h2m-1 0h2m-1 0h2m104 0h2m60 0h2m22 0h2m9 0h2m0 0h2m7 0h2m10 0h2m7 0h2m-343 1h2m6 0h2m-1 0h2m1 0h2m3 0h2m7 0h2m1 0h2m-2 0h2m-2 0h2m-1 0h2m-1 0h2m4 0h2m0 0h2m0 0h2m-2 0h2m-1 0h2m-1 0h2m-1 0h2m-2 0h2m6 0h2m1 0h2m3 0h2m1 0h2m2 0h2m-1 0h2m-1 0h2m3 0h2m3 0h2m-2 0h2m0 0h2m-1 0h2m0 0h2m-2 0h2m-1 0h2m0 0h2m0 0h2m-1 0h2m4 0h2m14 0h2m31 0h2m89 0h2m10 0h2m28 0h2m8 0h2m0 0h2m11 0h2m23 0h2m6 0h2m1 0h2m-337 1h2m0 0h2m-1 0h2m1 0h2m3 0h2m-1 0h2m1 0h2m-2 0h2m6 0h2m-2 0h2m-1 0h2m4 0h2m-2 0h2m-1 0h2m1 0h2m-1 0h2m-1 0h2m-2 0h2m-1 0h2m-1 0h2m0 0h2m-1 0h2m-1 0h2m-1 0h2m-1 0h2m9 0h2m1 0h2m-2 0h2m-2 0h2m0 0h2m3 0h2m0 0h2m-2 0h2m-2 0h2m3 0h2m-1 0h2m0 0h2m3 0h2m0 0h2m0 0h2m6 0h2m7 0h2m-2 0h2m2 0h2m149 0h2m64 0h2m-323 1h2m13 0h2m0 0h2m0 0h2m-2 0h2m5 0h2m-2 0h2m7 0h2m-2 0h2m7 0h2m-1 0h2m-1 0h2m-2 0h2m-1 0h2m0 0h2m-1 0h2m2 0h2m-2 0h2m-2 0h2m-1 0h2m-1 0h2m-2 0h2m-2 0h2m-1 0h2m-2 0h2m-2 0h2m-1 0h2m-2 0h2m0 0h2m2 0h2m-1 0h2m-2 0h2m-1 0h2m-2 0h2m2 0h2m-1 0h2m-2 0h2m0 0h2m-1 0h2m0 0h2m-1 0h2m0 0h2m0 0h2m1 0h2m2 0h2m16 0h2m-1 0h2m3 0h2m68 0h2m54 0h2m45 0h2m4 0h2m4 0h2m-311 1h2m16 0h2m5 0h2m1 0h2m-1 0h2m0 0h2m2 0h2m2 0h2m2 0h2m3 0h2m-2 0h2m0 0h2m-2 0h2m-2 0h2m2 0h2m-1 0h2m-2 0h2m0 0h2m-1 0h2m-2 0h2m-2 0h2m4 0h2m-2 0h2m-1 0h2m-2 0h2m-1 0h2m1 0h2m0 0h2m1 0h2m-2 0h2m-1 0h2m-2 0h2m-1 0h2m-2 0h2m-1 0h2m0 0h2m-2 0h2m2 0h2m-1 0h2m-2 0h2m-1 0h2m0 0h2m-1 0h2m0 0h2m-2 0h2m4 0h2m-2 0h2m1 0h2m-1 0h2m1 0h2m92 0h2m86 0h2m11 0h2m0 0h2m-342 1h2m12 0h2m18 0h2m14 0h2m22 0h2m-1 0h2m-1 0h2m2 0h2m0 0h2m-1 0h2m1 0h2m-2 0h2m0 0h2m0 0h2m0 0h2m-2 0h2m-2 0h2m1 0h2m-2 0h2m0 0h2m-1 0h2m-1 0h2m-1 0h2m-1 0h2m-2 0h2m-2 0h2m0 0h2m4 0h2m-2 0h2m0 0h2m-1 0h2m-2 0h2m-2 0h2m0 0h2m-2 0h2m5 0h2m2 0h2m-2 0h2m1 0h2m0 0h2m0 0h2m-1 0h2m-1 0h2m0 0h2m2 0h2m0 0h2m1 0h2m3 0h2m5 0h2m0 0h2m2 0h2m74 0h2m32 0h2m17 0h2m19 0h2m0 0h2m31 0h2m20 0h2m11 0h2m-351 1h2m24 0h2m3 0h2m1 0h2m-1 0h2m5 0h2m2 0h2m-2 0h2m-1 0h2m-1 0h2m0 0h2m1 0h2m-1 0h2m-1 0h2m-2 0h2m2 0h2m0 0h2m-2 0h2m0 0h2m2 0h2m-1 0h2m0 0h2m1 0h2m5 0h2m-1 0h2m0 0h2m2 0h2m5 0h2m3 0h2m-1 0h2m-2 0h2m-1 0h2m-2 0h2m4 0h2m3 0h2m-1 0h2m-2 0h2m0 0h2m3 0h2m8 0h2m1 0h2m73 0h2m21 0h2m25 0h2m1 0h2m49 0h2m9 0h2m6 0h2m-2 0h2m19 0h2m2 0h2m-339 1h2m5 0h2m3 0h2m0 0h2m-1 0h2m0 0h2m0 0h2m10 0h2m-1 0h2m-1 0h2m1 0h2m-1 0h2m-1 0h2m-1 0h2m-1 0h2m-1 0h2m1 0h2m-2 0h2m-2 0h2m-1 0h2m-2 0h2m-1 0h2m-1 0h2m1 0h2m-2 0h2m-2 0h2m0 0h2m2 0h2m-2 0h2m-1 0h2m-1 0h2m-2 0h2m0 0h2m-2 0h2m0 0h2m-1 0h2m-2 0h2m-1 0h2m-1 0h2m0 0h2m-1 0h2m-1 0h2m-1 0h2m3 0h2m-2 0h2m8 0h2m-2 0h2m1 0h2m6 0h2m5 0h2m57 0h2m31 0h2m34 0h2m26 0h2m26 0h2m-1 0h2m10 0h2m2 0h2m11 0h2m-322 1h2m10 0h2m3 0h2m-1 0h2m-2 0h2m-1 0h2m0 0h2m1 0h2m1 0h2m-2 0h2m-1 0h2m2 0h2m1 0h2m-2 0h2m-1 0h2m0 0h2m-1 0h2m-1 0h2m-2 0h2m-1 0h2m0 0h2m-1 0h2m0 0h2m4 0h2m-1 0h2m-2 0h2m-1 0h2m2 0h2m-1 0h2m-2 0h2m-1 0h2m-2 0h2m-1 0h2m3 0h2m0 0h2m0 0h2m1 0h2m0 0h2m-1 0h2m3 0h2m1 0h2m-1 0h2m-1 0h2m1 0h2m-1 0h2m1 0h2m2 0h2m3 0h2m1 0h2m-2 0h2m0 0h2m-1 0h2m179 0h2m6 0h2m-288 1h2m2 0h2m1 0h2m3 0h2m4 0h2m0 0h2m1 0h2m-1 0h2m-1 0h2m2 0h2m4 0h2m0 0h2m-2 0h2m0 0h2m-2 0h2m-1 0h2m-2 0h2m0 0h2m-2 0h2m0 0h2m-1 0h2m-2 0h2m-1 0h2m2 0h2m1 0h2m-1 0h2m1 0h2m-1 0h2m-1 0h2m0 0h2m0 0h2m-1 0h2m-1 0h2m-1 0h2m-2 0h2m-2 0h2m0 0h2m-2 0h2m1 0h2m-1 0h2m-1 0h2m0 0h2m-1 0h2m1 0h2m1 0h2m-2 0h2m14 0h2m46 0h2m60 0h2m7 0h2m3 0h2m25 0h2m32 0h2m18 0h2m-371 1h2m72 0h2m4 0h2m0 0h2m0 0h2m-2 0h2m3 0h2m-1 0h2m-1 0h2m4 0h2m-1 0h2m-2 0h2m2 0h2m0 0h2m-2 0h2m0 0h2m-2 0h2m-2 0h2m-1 0h2m0 0h2m-2 0h2m0 0h2m3 0h2m-2 0h2m-2 0h2m0 0h2m-2 0h2m-1 0h2m-1 0h2m2 0h2m2 0h2m-1 0h2m1 0h2m1 0h2m2 0h2m-1 0h2m3 0h2m-1 0h2m0 0h2m8 0h2m0 0h2m9 0h2m76 0h2m62 0h2m3 0h2m-1 0h2m17 0h2m5 0h2m18 0h2m10 0h2m4 0h2m20 0h2m-334 1h2m-1 0h2m7 0h2m0 0h2m-2 0h2m-1 0h2m1 0h2m-2 0h2m-1 0h2m0 0h2m-1 0h2m3 0h2m0 0h2m0 0h2m0 0h2m-2 0h2m-1 0h2m-1 0h2m0 0h2m-2 0h2m-2 0h2m-1 0h2m-2 0h2m-1 0h2m-1 0h2m2 0h2m-1 0h2m2 0h2m0 0h2m-2 0h2m0 0h2m-1 0h2m-1 0h2m0 0h2m0 0h2m-2 0h2m-1 0h2m2 0h2m-1 0h2m-1 0h2m0 0h2m1 0h2m-2 0h2m5 0h2m17 0h2m115 0h2m36 0h2m12 0h2m8 0h2m33 0h2m-322 1h2m0 0h2m0 0h2m1 0h2m8 0h2m2 0h2m4 0h2m-1 0h2m-1 0h2m0 0h2m-1 0h2m-2 0h2m-1 0h2m-1 0h2m-1 0h2m-1 0h2m0 0h2m-1 0h2m0 0h2m-1 0h2m0 0h2m-1 0h2m-1 0h2m-2 0h2m-1 0h2m-2 0h2m0 0h2m-2 0h2m-2 0h2m-2 0h2m-2 0h2m-1 0h2m0 0h2m-1 0h2m0 0h2m-1 0h2m0 0h2m4 0h2m0 0h2m-1 0h2m-2 0h2m0 0h2m-2 0h2m0 0h2m2 0h2m-1 0h2m5 0h2m-1 0h2m-2 0h2m2 0h2m-1 0h2m0 0h2m4 0h2m-2 0h2m14 0h2m90 0h2m15 0h2m31 0h2m-268 1h2m11 0h2m2 0h2m2 0h2m14 0h2m1 0h2m-1 0h2m1 0h2m-2 0h2m2 0h2m-2 0h2m2 0h2m-2 0h2m6 0h2m-1 0h2m-1 0h2m-2 0h2m-1 0h2m-2 0h2m-1 0h2m3 0h2m-1 0h2m-1 0h2m-2 0h2m1 0h2m2 0h2m0 0h2m1 0h2m-2 0h2m0 0h2m-1 0h2m-1 0h2m1 0h2m1 0h2m3 0h2m-1 0h2m-1 0h2m0 0h2m0 0h2m-1 0h2m31 0h2m92 0h2m52 0h2m13 0h2m13 0h2m25 0h2m-382 1h2m53 0h2m3 0h2m6 0h2m0 0h2m5 0h2m-2 0h2m1 0h2m-1 0h2m2 0h2m-2 0h2m-1 0h2m1 0h2m-1 0h2m-2 0h2m-1 0h2m-2 0h2m-2 0h2m0 0h2m-2 0h2m0 0h2m-2 0h2m-2 0h2m-1 0h2m-2 0h2m-1 0h2m-1 0h2m-1 0h2m2 0h2m-2 0h2m-2 0h2m-1 0h2m-2 0h2m0 0h2m0 0h2m0 0h2m-2 0h2m-1 0h2m-1 0h2m-2 0h2m1 0h2m1 0h2m1 0h2m4 0h2m-2 0h2m0 0h2m0 0h2m0 0h2m-1 0h2m2 0h2m12 0h2m3 0h2m5 0h2m120 0h2m2 0h2m9 0h2m16 0h2m23 0h2m-310 1h2m4 0h2m-1 0h2m8 0h2m7 0h2m0 0h2m-2 0h2m3 0h2m0 0h2m-1 0h2m1 0h2m-1 0h2m0 0h2m-2 0h2m4 0h2m-1 0h2m2 0h2m0 0h2m0 0h2m-2 0h2m1 0h2m-1 0h2m0 0h2m0 0h2m-2 0h2m-2 0h2m-1 0h2m-1 0h2m0 0h2m-2 0h2m-2 0h2m-1 0h2m-2 0h2m2 0h2m1 0h2m0 0h2m-1 0h2m-2 0h2m-1 0h2m0 0h2m-1 0h2m-1 0h2m2 0h2m1 0h2m-1 0h2m1 0h2m7 0h2m4 0h2m4 0h2m50 0h2m50 0h2m50 0h2m5 0h2m15 0h2m14 0h2m-297 1h2m9 0h2m0 0h2m10 0h2m-2 0h2m-1 0h2m0 0h2m-1 0h2m2 0h2m0 0h2m-2 0h2m-1 0h2m-1 0h2m1 0h2m-1 0h2m-1 0h2m-2 0h2m-1 0h2m0 0h2m0 0h2m-1 0h2m-1 0h2m2 0h2m1 0h2m-1 0h2m0 0h2m3 0h2m-2 0h2m-1 0h2m-1 0h2m-2 0h2m1 0h2m-1 0h2m1 0h2m8 0h2m0 0h2m0 0h2m0 0h2m-2 0h2m2 0h2m4 0h2m148 0h2m13 0h2m-283 1h2m12 0h2m5 0h2m8 0h2m1 0h2m1 0h2m-2 0h2m2 0h2m-1 0h2m-1 0h2m-1 0h2m0 0h2m1 0h2m1 0h2m-2 0h2m-2 0h2m-1 0h2m-1 0h2m-2 0h2m-2 0h2m-2 0h2m9 0h2m-2 0h2m3 0h2m-1 0h2m-2 0h2m1 0h2m1 0h2m0 0h2m0 0h2m0 0h2m4 0h2m2 0h2m-2 0h2m7 0h2m7 0h2m123 0h2m19 0h2m2 0h2m16 0h2m28 0h2m-286 1h2m-2 0h2m2 0h2m1 0h2m2 0h2m2 0h2m0 0h2m-1 0h2m-1 0h2m-2 0h2m-1 0h2m0 0h2m2 0h2m0 0h2m-1 0h2m-1 0h2m-1 0h2m1 0h2m-2 0h2m0 0h2m-2 0h2m-1 0h2m-1 0h2m-1 0h2m-1 0h2m0 0h2m-2 0h2m-2 0h2m-1 0h2m-2 0h2m-2 0h2m0 0h2m-2 0h2m4 0h2m-2 0h2m-1 0h2m-1 0h2m2 0h2m-1 0h2m2 0h2m-2 0h2m-2 0h2m-1 0h2m14 0h2m-2 0h2m2 0h2m1 0h2m11 0h2m161 0h2m4 0h2m10 0h2m-298 1h2m6 0h2m6 0h2m4 0h2m-1 0h2m-1 0h2m-2 0h2m1 0h2m1 0h2m1 0h2m-2 0h2m2 0h2m-1 0h2m0 0h2m0 0h2m3 0h2m0 0h2m-1 0h2m-1 0h2m0 0h2m-1 0h2m-1 0h2m0 0h2m2 0h2m0 0h2m-1 0h2m-1 0h2m-2 0h2m1 0h2m0 0h2m-2 0h2m-1 0h2m4 0h2m1 0h2m-1 0h2m-1 0h2m7 0h2m2 0h2m2 0h2m66 0h2m104 0h2m20 0h2m2 0h2m48 0h2m23 0h2m-359 1h2m4 0h2m10 0h2m0 0h2m2 0h2m0 0h2m-2 0h2m1 0h2m-2 0h2m0 0h2m0 0h2m-1 0h2m0 0h2m0 0h2m-2 0h2m-1 0h2m-2 0h2m-1 0h2m-1 0h2m-1 0h2m-2 0h2m-1 0h2m0 0h2m-1 0h2m-1 0h2m-2 0h2m-1 0h2m0 0h2m-1 0h2m1 0h2m-2 0h2m3 0h2m3 0h2m-1 0h2m-1 0h2m-1 0h2m0 0h2m11 0h2m2 0h2m85 0h2m19 0h2m15 0h2m26 0h2m1 0h2m21 0h2m0 0h2m12 0h2m27 0h2m23 0h2m-1 0h2m-346 1h2m0 0h2m5 0h2m6 0h2m-1 0h2m0 0h2m1 0h2m1 0h2m-2 0h2m1 0h2m-1 0h2m-2 0h2m0 0h2m-1 0h2m0 0h2m0 0h2m0 0h2m-1 0h2m-1 0h2m4 0h2m-2 0h2m-1 0h2m-1 0h2m-2 0h2m-1 0h2m-2 0h2m-2 0h2m1 0h2m4 0h2m1 0h2m-1 0h2m8 0h2m0 0h2m0 0h2m8 0h2m3 0h2m92 0h2m48 0h2m5 0h2m49 0h2m-286 1h2m-1 0h2m2 0h2m0 0h2m0 0h2m3 0h2m-2 0h2m-2 0h2m5 0h2m-1 0h2m0 0h2m-1 0h2m2 0h2m-2 0h2m0 0h2m-2 0h2m1 0h2m2 0h2m-2 0h2m-2 0h2m-2 0h2m1 0h2m-2 0h2m-2 0h2m-1 0h2m0 0h2m-2 0h2m0 0h2m0 0h2m-1 0h2m-1 0h2m0 0h2m0 0h2m0 0h2m-1 0h2m-1 0h2m-2 0h2m-2 0h2m-1 0h2m1 0h2m4 0h2m-1 0h2m-2 0h2m0 0h2m0 0h2m0 0h2m4 0h2m0 0h2m7 0h2m4 0h2m53 0h2m34 0h2m46 0h2m-1 0h2m7 0h2m55 0h2m-353 1h2m28 0h2m1 0h2m0 0h2m7 0h2m2 0h2m1 0h2m0 0h2m-1 0h2m-1 0h2m1 0h2m-2 0h2m-1 0h2m1 0h2m0 0h2m2 0h2m-1 0h2m2 0h2m-2 0h2m2 0h2m1 0h2m-2 0h2m-1 0h2m0 0h2m-1 0h2m0 0h2m0 0h2m-2 0h2m-2 0h2m-1 0h2m-2 0h2m0 0h2m-2 0h2m4 0h2m3 0h2m-2 0h2m0 0h2m-1 0h2m-1 0h2m-2 0h2m2 0h2m0 0h2m0 0h2m-2 0h2m3 0h2m-2 0h2m6 0h2m2 0h2m171 0h2m0 0h2m-2 0h2m0 0h2m0 0h2m15 0h2m10 0h2m8 0h2m4 0h2m-317 1h2m7 0h2m3 0h2m3 0h2m-1 0h2m-1 0h2m0 0h2m-2 0h2m-1 0h2m-1 0h2m1 0h2m2 0h2m-1 0h2m-2 0h2m1 0h2m1 0h2m-1 0h2m-2 0h2m2 0h2m3 0h2m-2 0h2m1 0h2m-1 0h2m2 0h2m0 0h2m-2 0h2m2 0h2m1 0h2m3 0h2m-1 0h2m-1 0h2m10 0h2m1 0h2m-1 0h2m173 0h2m0 0h2m8 0h2m-324 1h2m34 0h2m8 0h2m5 0h2m-1 0h2m-2 0h2m2 0h2m-2 0h2m-1 0h2m7 0h2m3 0h2m-1 0h2m1 0h2m-1 0h2m5 0h2m1 0h2m-2 0h2m-1 0h2m0 0h2m-2 0h2m2 0h2m-2 0h2m-1 0h2m0 0h2m-2 0h2m3 0h2m1 0h2m-2 0h2m-1 0h2m-1 0h2m-1 0h2m0 0h2m-1 0h2m-1 0h2m0 0h2m2 0h2m-2 0h2m0 0h2m1 0h2m8 0h2m-2 0h2m149 0h2m23 0h2m2 0h2m31 0h2m2 0h2m-309 1h2m8 0h2m2 0h2m-1 0h2m0 0h2m-2 0h2m1 0h2m-2 0h2m4 0h2m2 0h2m-1 0h2m2 0h2m-2 0h2m-2 0h2m-2 0h2m-1 0h2m-2 0h2m-1 0h2m-1 0h2m-2 0h2m0 0h2m-2 0h2m-1 0h2m-1 0h2m-2 0h2m2 0h2m0 0h2m2 0h2m-2 0h2m-2 0h2m1 0h2m-1 0h2m-2 0h2m1 0h2m-2 0h2m-1 0h2m1 0h2m4 0h2m0 0h2m-1 0h2m1 0h2m-2 0h2m-1 0h2m-1 0h2m-1 0h2m9 0h2m-1 0h2m2 0h2m75 0h2m13 0h2m62 0h2m4 0h2m40 0h2m28 0h2m-339 1h2m0 0h2m5 0h2m8 0h2m3 0h2m4 0h2m-2 0h2m-1 0h2m-1 0h2m-2 0h2m-1 0h2m1 0h2m-2 0h2m-1 0h2m-1 0h2m-1 0h2m4 0h2m0 0h2m2 0h2m3 0h2m-1 0h2m0 0h2m1 0h2m0 0h2m-2 0h2m-1 0h2m0 0h2m1 0h2m-2 0h2m-1 0h2m-2 0h2m-2 0h2m0 0h2m5 0h2m1 0h2m0 0h2m-1 0h2m-1 0h2m13 0h2m1 0h2m-1 0h2m3 0h2m84 0h2m20 0h2m5 0h2m2 0h2m15 0h2m1 0h2m66 0h2m-323 1h2m8 0h2m2 0h2m0 0h2m-2 0h2m3 0h2m9 0h2m0 0h2m2 0h2m-1 0h2m-1 0h2m-1 0h2m-1 0h2m-1 0h2m-1 0h2m4 0h2m2 0h2m-2 0h2m2 0h2m-1 0h2m-2 0h2m5 0h2m-2 0h2m-2 0h2m1 0h2m-2 0h2m-2 0h2m0 0h2m-2 0h2m-1 0h2m7 0h2m-1 0h2m0 0h2m-1 0h2m-1 0h2m-1 0h2m2 0h2m-2 0h2m1 0h2m-1 0h2m0 0h2m-1 0h2m0 0h2m-1 0h2m-2 0h2m5 0h2m82 0h2m7 0h2m39 0h2m12 0h2m23 0h2m5 0h2m30 0h2m7 0h2m24 0h2m10 0h2m-360 1h2m10 0h2m3 0h2m-1 0h2m5 0h2m-1 0h2m-2 0h2m-2 0h2m3 0h2m0 0h2m-1 0h2m-2 0h2m-2 0h2m2 0h2m1 0h2m-2 0h2m1 0h2m0 0h2m1 0h2m0 0h2m-2 0h2m0 0h2m-2 0h2m1 0h2m0 0h2m0 0h2m-1 0h2m0 0h2m0 0h2m-2 0h2m0 0h2m-2 0h2m-1 0h2m2 0h2m-1 0h2m-1 0h2m-2 0h2m0 0h2m-2 0h2m-1 0h2m-1 0h2m-2 0h2m11 0h2m62 0h2m27 0h2m12 0h2m-1 0h2m10 0h2m19 0h2m10 0h2m52 0h2m4 0h2m-365 1h2m1 0h2m12 0h2m44 0h2m2 0h2m7 0h2m3 0h2m-1 0h2m-1 0h2m1 0h2m1 0h2m3 0h2m3 0h2m-1 0h2m1 0h2m1 0h2m-2 0h2m-1 0h2m1 0h2m-2 0h2m0 0h2m1 0h2m1 0h2m0 0h2m-2 0h2m-2 0h2m0 0h2m-1 0h2m-2 0h2m-2 0h2m-1 0h2m-1 0h2m0 0h2m-1 0h2m-1 0h2m1 0h2m3 0h2m1 0h2m2 0h2m1 0h2m2 0h2m6 0h2m8 0h2m79 0h2m7 0h2m66 0h2m1 0h2m3 0h2m2 0h2m-281 1h2m2 0h2m7 0h2m7 0h2m1 0h2m1 0h2m-2 0h2m-2 0h2m1 0h2m5 0h2m-1 0h2m-1 0h2m-1 0h2m2 0h2m1 0h2m-2 0h2m-1 0h2m-2 0h2m-1 0h2m-2 0h2m-1 0h2m-2 0h2m1 0h2m-1 0h2m0 0h2m-2 0h2m0 0h2m0 0h2m1 0h2m-2 0h2m2 0h2m3 0h2m-2 0h2m2 0h2m0 0h2m-1 0h2m-1 0h2m-1 0h2m1 0h2m4 0h2m167 0h2m79 0h2m-350 1h2m13 0h2m0 0h2m-1 0h2m5 0h2m-1 0h2m-1 0h2m4 0h2m-1 0h2m1 0h2m-2 0h2m-1 0h2m-1 0h2m-1 0h2m0 0h2m0 0h2m0 0h2m0 0h2m2 0h2m-1 0h2m1 0h2m-1 0h2m-1 0h2m-2 0h2m5 0h2m1 0h2m4 0h2m-1 0h2m-2 0h2m-1 0h2m1 0h2m-1 0h2m0 0h2m0 0h2m-2 0h2m-1 0h2m6 0h2m-1 0h2m2 0h2m1 0h2m6 0h2m98 0h2m50 0h2m-1 0h2m8 0h2m7 0h2m-278 1h2m0 0h2m8 0h2m4 0h2m2 0h2m-1 0h2m5 0h2m0 0h2m1 0h2m1 0h2m0 0h2m-1 0h2m-1 0h2m-1 0h2m0 0h2m1 0h2m0 0h2m-2 0h2m2 0h2m1 0h2m-1 0h2m-2 0h2m-1 0h2m-2 0h2m0 0h2m1 0h2m-2 0h2m0 0h2m0 0h2m0 0h2m4 0h2m-2 0h2m-1 0h2m-2 0h2m-1 0h2m1 0h2m0 0h2m1 0h2m24 0h2m76 0h2m36 0h2m3 0h2m12 0h2m6 0h2m11 0h2m13 0h2m37 0h2m23 0h2m25 0h2m-384 1h2m4 0h2m6 0h2m-1 0h2m3 0h2m1 0h2m5 0h2m-1 0h2m1 0h2m1 0h2m-2 0h2m0 0h2m6 0h2m2 0h2m-1 0h2m1 0h2m-1 0h2m-1 0h2m-1 0h2m1 0h2m-1 0h2m-2 0h2m-1 0h2m0 0h2m-1 0h2m-1 0h2m1 0h2m1 0h2m-2 0h2m-2 0h2m-2 0h2m2 0h2m-1 0h2m2 0h2m0 0h2m-2 0h2m0 0h2m-1 0h2m0 0h2m2 0h2m-1 0h2m1 0h2m-2 0h2m4 0h2m120 0h2m-1 0h2m19 0h2m9 0h2m11 0h2m5 0h2m3 0h2m49 0h2m-326 1h2m-2 0h2m3 0h2m-1 0h2m0 0h2m13 0h2m-1 0h2m1 0h2m0 0h2m-1 0h2m5 0h2m2 0h2m-2 0h2m0 0h2m2 0h2m-2 0h2m-2 0h2m-1 0h2m0 0h2m-1 0h2m-2 0h2m-1 0h2m0 0h2m-2 0h2m-2 0h2m-1 0h2m0 0h2m-2 0h2m-1 0h2m-1 0h2m-2 0h2m2 0h2m-1 0h2m0 0h2m1 0h2m-1 0h2m-2 0h2m-2 0h2m14 0h2m1 0h2m-2 0h2m5 0h2m4 0h2m5 0h2m117 0h2m14 0h2m35 0h2m0 0h2m49 0h2m-347 1h2m21 0h2m0 0h2m1 0h2m0 0h2m3 0h2m-1 0h2m-1 0h2m-2 0h2m0 0h2m3 0h2m-1 0h2m-1 0h2m-1 0h2m0 0h2m4 0h2m-2 0h2m-1 0h2m-1 0h2m1 0h2m-1 0h2m3 0h2m-1 0h2m-2 0h2m-2 0h2m-2 0h2m-2 0h2m5 0h2m-2 0h2m-2 0h2m0 0h2m5 0h2m0 0h2m6 0h2m-1 0h2m-2 0h2m1 0h2m-1 0h2m4 0h2m11 0h2m2 0h2m6 0h2m23 0h2m53 0h2m56 0h2m-2 0h2m0 0h2m6 0h2m1 0h2m15 0h2m4 0h2m11 0h2m40 0h2m-397 1h2m0 0h2m2 0h2m24 0h2m25 0h2m10 0h2m-1 0h2m-1 0h2m-2 0h2m8 0h2m0 0h2m1 0h2m-1 0h2m5 0h2m-2 0h2m-2 0h2m-2 0h2m2 0h2m-1 0h2m8 0h2m0 0h2m-1 0h2m2 0h2m4 0h2m3 0h2m-1 0h2m1 0h2m6 0h2m1 0h2m4 0h2m4 0h2m0 0h2m3 0h2m131 0h2m10 0h2m14 0h2m12 0h2m13 0h2m9 0h2m-317 1h2m1 0h2m9 0h2m3 0h2m3 0h2m-1 0h2m9 0h2m-1 0h2m-1 0h2m-1 0h2m0 0h2m-1 0h2m3 0h2m-2 0h2m-2 0h2m-1 0h2m-2 0h2m0 0h2m-1 0h2m0 0h2m-2 0h2m-1 0h2m-1 0h2m0 0h2m0 0h2m-1 0h2m0 0h2m-2 0h2m-1 0h2m-1 0h2m-1 0h2m-1 0h2m-1 0h2m-1 0h2m0 0h2m-1 0h2m1 0h2m0 0h2m2 0h2m0 0h2m3 0h2m0 0h2m2 0h2m2 0h2m105 0h2m21 0h2m24 0h2m3 0h2m-2 0h2m7 0h2m7 0h2m-1 0h2m17 0h2m-2 0h2m-361 1h2m38 0h2m6 0h2m29 0h2m7 0h2m3 0h2m-2 0h2m-1 0h2m0 0h2m2 0h2m2 0h2m2 0h2m-2 0h2m1 0h2m5 0h2m0 0h2m-2 0h2m0 0h2m-2 0h2m4 0h2m1 0h2m-2 0h2m2 0h2m-1 0h2m-2 0h2m3 0h2m7 0h2m6 0h2m3 0h2m82 0h2m68 0h2m8 0h2m26 0h2m52 0h2m-403 1h2m12 0h2m13 0h2m34 0h2m1 0h2m6 0h2m2 0h2m7 0h2m1 0h2m-1 0h2m2 0h2m-1 0h2m-2 0h2m-2 0h2m-1 0h2m-1 0h2m-1 0h2m0 0h2m0 0h2m0 0h2m1 0h2m0 0h2m1 0h2m-1 0h2m1 0h2m-2 0h2m2 0h2m3 0h2m1 0h2m-1 0h2m0 0h2m13 0h2m69 0h2m32 0h2m53 0h2m90 0h2m-392 1h2m7 0h2m20 0h2m14 0h2m4 0h2m1 0h2m0 0h2m5 0h2m-1 0h2m4 0h2m-2 0h2m2 0h2m-2 0h2m8 0h2m0 0h2m-1 0h2m0 0h2m-2 0h2m0 0h2m5 0h2m-2 0h2m-1 0h2m-1 0h2m0 0h2m0 0h2m-1 0h2m5 0h2m-2 0h2m1 0h2m0 0h2m-1 0h2m0 0h2m0 0h2m-2 0h2m6 0h2m-1 0h2m53 0h2m38 0h2m38 0h2m10 0h2m16 0h2m1 0h2m-2 0h2m1 0h2m10 0h2m15 0h2m18 0h2m0 0h2m40 0h2m-361 1h2m1 0h2m7 0h2m-2 0h2m2 0h2m6 0h2m12 0h2m-2 0h2m-2 0h2m-2 0h2m-1 0h2m-2 0h2m0 0h2m-1 0h2m-2 0h2m-1 0h2m1 0h2m0 0h2m1 0h2m1 0h2m-1 0h2m0 0h2m-2 0h2m-1 0h2m-2 0h2m1 0h2m0 0h2m0 0h2m-1 0h2m-1 0h2m-2 0h2m-2 0h2m-1 0h2m-2 0h2m-1 0h2m-2 0h2m-2 0h2m-1 0h2m-1 0h2m1 0h2m1 0h2m-2 0h2m-1 0h2m1 0h2m6 0h2m1 0h2m2 0h2m3 0h2m0 0h2m0 0h2m-1 0h2m2 0h2m136 0h2m12 0h2m66 0h2m38 0h2m-408 1h2m0 0h2m-1 0h2m21 0h2m35 0h2m0 0h2m3 0h2m0 0h2m-1 0h2m-1 0h2m3 0h2m0 0h2m-2 0h2m0 0h2m0 0h2m-1 0h2m1 0h2m-1 0h2m0 0h2m0 0h2m0 0h2m-2 0h2m-1 0h2m0 0h2m-1 0h2m-1 0h2m-1 0h2m-1 0h2m0 0h2m-2 0h2m5 0h2m1 0h2m-1 0h2m-2 0h2m-1 0h2m-1 0h2m0 0h2m24 0h2m49 0h2m14 0h2m93 0h2m10 0h2m1 0h2m11 0h2m60 0h2m-421 1h2m24 0h2m1 0h2m52 0h2m0 0h2m0 0h2m2 0h2m3 0h2m0 0h2m4 0h2m-1 0h2m-1 0h2m0 0h2m-2 0h2m-2 0h2m1 0h2m0 0h2m-2 0h2m-1 0h2m-2 0h2m1 0h2m-2 0h2m-1 0h2m-2 0h2m2 0h2m2 0h2m-1 0h2m-2 0h2m2 0h2m0 0h2m-1 0h2m-1 0h2m0 0h2m-1 0h2m3 0h2m-2 0h2m0 0h2m4 0h2m0 0h2m9 0h2m3 0h2m-1 0h2m83 0h2m9 0h2m29 0h2m-1 0h2m10 0h2m-1 0h2m3 0h2m4 0h2m2 0h2m3 0h2m-1 0h2m5 0h2m-2 0h2m32 0h2m42 0h2m-404 1h2m21 0h2m37 0h2m1 0h2m-1 0h2m5 0h2m-1 0h2m1 0h2m2 0h2m1 0h2m0 0h2m-1 0h2m2 0h2m-2 0h2m-1 0h2m3 0h2m-2 0h2m4 0h2m-1 0h2m6 0h2m-1 0h2m-2 0h2m8 0h2m-1 0h2m11 0h2m-2 0h2m14 0h2m92 0h2m-1 0h2m32 0h2m2 0h2m16 0h2m0 0h2m7 0h2m-2 0h2m20 0h2m4 0h2m-2 0h2m62 0h2m-431 1h2m12 0h2m6 0h2m53 0h2m12 0h2m6 0h2m-2 0h2m11 0h2m0 0h2m2 0h2m-2 0h2m-2 0h2m0 0h2m4 0h2m0 0h2m-1 0h2m1 0h2m-1 0h2m0 0h2m2 0h2m2 0h2m4 0h2m7 0h2m6 0h2m0 0h2m4 0h2m125 0h2m12 0h2m11 0h2m3 0h2m-2 0h2m28 0h2m9 0h2m11 0h2m32 0h2m12 0h2m2 0h2m-430 1h2m2 0h2m20 0h2m48 0h2m-1 0h2m3 0h2m4 0h2m0 0h2m1 0h2m-2 0h2m1 0h2m-1 0h2m-2 0h2m-2 0h2m0 0h2m-2 0h2m1 0h2m0 0h2m0 0h2m1 0h2m-1 0h2m-1 0h2m2 0h2m-1 0h2m0 0h2m1 0h2m11 0h2m0 0h2m-1 0h2m1 0h2m-1 0h2m0 0h2m-1 0h2m-1 0h2m3 0h2m0 0h2m0 0h2m-2 0h2m19 0h2m20 0h2m6 0h2m-1 0h2m21 0h2m25 0h2m26 0h2m13 0h2m13 0h2m0 0h2m0 0h2m0 0h2m0 0h2m-2 0h2m10 0h2m9 0h2m13 0h2m-349 1h2m10 0h2m33 0h2m7 0h2m5 0h2m-2 0h2m5 0h2m-1 0h2m-2 0h2m10 0h2m-1 0h2m-2 0h2m-1 0h2m-1 0h2m2 0h2m0 0h2m0 0h2m3 0h2m1 0h2m0 0h2m0 0h2m-1 0h2m-1 0h2m-1 0h2m-1 0h2m-1 0h2m-1 0h2m2 0h2m-1 0h2m1 0h2m-1 0h2m2 0h2m-2 0h2m-2 0h2m0 0h2m18 0h2m1 0h2m119 0h2m3 0h2m1 0h2m6 0h2m-1 0h2m-1 0h2m3 0h2m6 0h2m9 0h2m3 0h2m10 0h2m11 0h2m2 0h2m36 0h2m-392 1h2m6 0h2m0 0h2m11 0h2m16 0h2m44 0h2m-1 0h2m-1 0h2m2 0h2m0 0h2m1 0h2m0 0h2m1 0h2m5 0h2m0 0h2m-2 0h2m-1 0h2m2 0h2m2 0h2m8 0h2m8 0h2m13 0h2m3 0h2m0 0h2m64 0h2m62 0h2m11 0h2m1 0h2m3 0h2m3 0h2m-2 0h2m1 0h2m11 0h2m10 0h2m59 0h2m-407 1h2m-2 0h2m3 0h2m2 0h2m-1 0h2m2 0h2m4 0h2m29 0h2m-2 0h2m10 0h2m7 0h2m0 0h2m1 0h2m-2 0h2m13 0h2m-2 0h2m6 0h2m3 0h2m-2 0h2m-1 0h2m1 0h2m-2 0h2m-2 0h2m3 0h2m2 0h2m1 0h2m-1 0h2m1 0h2m11 0h2m37 0h2m28 0h2m66 0h2m20 0h2m1 0h2m7 0h2m11 0h2m3 0h2m8 0h2m3 0h2m-1 0h2m22 0h2m51 0h2m-438 1h2m17 0h2m1 0h2m-2 0h2m26 0h2m19 0h2m10 0h2m1 0h2m6 0h2m0 0h2m-1 0h2m-2 0h2m2 0h2m-1 0h2m-1 0h2m1 0h2m-2 0h2m-2 0h2m1 0h2m3 0h2m0 0h2m3 0h2m0 0h2m-1 0h2m-1 0h2m-1 0h2m-1 0h2m1 0h2m3 0h2m-1 0h2m8 0h2m1 0h2m15 0h2m22 0h2m74 0h2m24 0h2m23 0h2m7 0h2m2 0h2m0 0h2m8 0h2m0 0h2m3 0h2m-2 0h2m5 0h2m36 0h2m0 0h2m-380 1h2m13 0h2m6 0h2m1 0h2m34 0h2m10 0h2m-2 0h2m1 0h2m-1 0h2m-2 0h2m5 0h2m0 0h2m0 0h2m2 0h2m2 0h2m0 0h2m-1 0h2m3 0h2m-1 0h2m0 0h2m0 0h2m5 0h2m0 0h2m-1 0h2m8 0h2m1 0h2m7 0h2m14 0h2m12 0h2m91 0h2m18 0h2m-2 0h2m13 0h2m2 0h2m9 0h2m0 0h2m5 0h2m-1 0h2m1 0h2m4 0h2m13 0h2m37 0h2m-375 1h2m10 0h2m38 0h2m0 0h2m1 0h2m7 0h2m7 0h2m-1 0h2m-2 0h2m0 0h2m4 0h2m-2 0h2m0 0h2m5 0h2m0 0h2m11 0h2m1 0h2m13 0h2m11 0h2m74 0h2m41 0h2m-2 0h2m-1 0h2m14 0h2m6 0h2m6 0h2m-2 0h2m16 0h2m3 0h2m64 0h2m0 0h2m-395 1h2m7 0h2m11 0h2m18 0h2m-1 0h2m7 0h2m6 0h2m4 0h2m10 0h2m-1 0h2m-2 0h2m3 0h2m-1 0h2m4 0h2m-1 0h2m1 0h2m1 0h2m0 0h2m0 0h2m2 0h2m0 0h2m1 0h2m-1 0h2m-1 0h2m1 0h2m-1 0h2m-2 0h2m-1 0h2m-1 0h2m2 0h2m-2 0h2m63 0h2m110 0h2m5 0h2m3 0h2m-2 0h2m-2 0h2m6 0h2m0 0h2m12 0h2m36 0h2m-392 1h2m6 0h2m2 0h2m-1 0h2m16 0h2m30 0h2m6 0h2m17 0h2m0 0h2m2 0h2m2 0h2m-2 0h2m-1 0h2m11 0h2m0 0h2m0 0h2m-1 0h2m-1 0h2m0 0h2m-1 0h2m-2 0h2m-1 0h2m5 0h2m8 0h2m12 0h2m10 0h2m60 0h2m66 0h2m12 0h2m8 0h2m10 0h2m0 0h2m1 0h2m50 0h2m9 0h2m11 0h2m3 0h2m-415 1h2m6 0h2m15 0h2m3 0h2m8 0h2m22 0h2m7 0h2m7 0h2m9 0h2m-1 0h2m7 0h2m0 0h2m3 0h2m2 0h2m-1 0h2m4 0h2m1 0h2m0 0h2m5 0h2m-1 0h2m3 0h2m7 0h2m9 0h2m88 0h2m18 0h2m11 0h2m22 0h2m4 0h2m15 0h2m0 0h2m12 0h2m-1 0h2m45 0h2m5 0h2m-388 1h2m0 0h2m0 0h2m10 0h2m2 0h2m-1 0h2m14 0h2m7 0h2m12 0h2m-1 0h2m-1 0h2m1 0h2m-2 0h2m2 0h2m3 0h2m1 0h2m0 0h2m-1 0h2m-1 0h2m7 0h2m-1 0h2m-1 0h2m-1 0h2m0 0h2m6 0h2m0 0h2m0 0h2m4 0h2m3 0h2m-1 0h2m1 0h2m-1 0h2m100 0h2m52 0h2m-2 0h2m-1 0h2m-1 0h2m-1 0h2m-2 0h2m18 0h2m10 0h2m1 0h2m15 0h2m9 0h2m30 0h2m2 0h2m2 0h2m2 0h2m13 0h2m-403 1h2m2 0h2m0 0h2m1 0h2m5 0h2m3 0h2m-1 0h2m9 0h2m7 0h2m26 0h2m-1 0h2m4 0h2m0 0h2m2 0h2m2 0h2m3 0h2m-1 0h2m5 0h2m-1 0h2m-2 0h2m-2 0h2m-1 0h2m-2 0h2m3 0h2m-1 0h2m0 0h2m6 0h2m117 0h2m1 0h2m51 0h2m15 0h2m7 0h2m4 0h2m13 0h2m9 0h2m16 0h2m2 0h2m18 0h2m-402 1h2m16 0h2m28 0h2m9 0h2m13 0h2m6 0h2m2 0h2m9 0h2m1 0h2m-1 0h2m-1 0h2m-1 0h2m-2 0h2m-2 0h2m2 0h2m-2 0h2m2 0h2m0 0h2m-1 0h2m2 0h2m0 0h2m-1 0h2m0 0h2m3 0h2m16 0h2m103 0h2m9 0h2m30 0h2m6 0h2m6 0h2m0 0h2m2 0h2m12 0h2m48 0h2m6 0h2m0 0h2m0 0h2m-401 1h2m0 0h2m1 0h2m16 0h2m43 0h2m21 0h2m3 0h2m3 0h2m-1 0h2m1 0h2m0 0h2m-1 0h2m-1 0h2m8 0h2m0 0h2m2 0h2m3 0h2m26 0h2m73 0h2m20 0h2m24 0h2m5 0h2m18 0h2m-1 0h2m6 0h2m6 0h2m0 0h2m43 0h2m14 0h2m8 0h2m-423 1h2m40 0h2m13 0h2m20 0h2m17 0h2m-1 0h2m4 0h2m-2 0h2m1 0h2m5 0h2m-1 0h2m-2 0h2m5 0h2m-1 0h2m2 0h2m-1 0h2m2 0h2m-2 0h2m3 0h2m-1 0h2m3 0h2m-2 0h2m-1 0h2m0 0h2m-1 0h2m3 0h2m-2 0h2m2 0h2m2 0h2m64 0h2m76 0h2m7 0h2m3 0h2m8 0h2m6 0h2m3 0h2m7 0h2m77 0h2m-1 0h2m5 0h2m1 0h2m3 0h2m-425 1h2m5 0h2m2 0h2m0 0h2m7 0h2m23 0h2m1 0h2m10 0h2m9 0h2m2 0h2m-1 0h2m9 0h2m0 0h2m0 0h2m0 0h2m-1 0h2m-2 0h2m0 0h2m5 0h2m-1 0h2m-1 0h2m-2 0h2m5 0h2m-1 0h2m-1 0h2m4 0h2m-1 0h2m2 0h2m0 0h2m2 0h2m-2 0h2m2 0h2m7 0h2m-1 0h2m32 0h2m90 0h2m7 0h2m13 0h2m-2 0h2m2 0h2m2 0h2m1 0h2m1 0h2m7 0h2m8 0h2m26 0h2m22 0h2m5 0h2m2 0h2m4 0h2m7 0h2m-399 1h2m1 0h2m0 0h2m4 0h2m37 0h2m2 0h2m8 0h2m10 0h2m3 0h2m-1 0h2m0 0h2m10 0h2m5 0h2m3 0h2m-1 0h2m5 0h2m0 0h2m0 0h2m12 0h2m44 0h2m39 0h2m-1 0h2m46 0h2m1 0h2m18 0h2m-1 0h2m7 0h2m0 0h2m-2 0h2m0 0h2m0 0h2m12 0h2m0 0h2m-1 0h2m6 0h2m25 0h2m16 0h2m31 0h2m-391 1h2m40 0h2m11 0h2m-2 0h2m2 0h2m0 0h2m1 0h2m5 0h2m4 0h2m-1 0h2m0 0h2m22 0h2m0 0h2m3 0h2m2 0h2m7 0h2m97 0h2m16 0h2m22 0h2m2 0h2m1 0h2m0 0h2m4 0h2m7 0h2m0 0h2m0 0h2m64 0h2m-2 0h2m-1 0h2m-395 1h2m-1 0h2m10 0h2m52 0h2m1 0h2m1 0h2m13 0h2m2 0h2m1 0h2m8 0h2m-2 0h2m-1 0h2m3 0h2m5 0h2m7 0h2m156 0h2m11 0h2m20 0h2m-1 0h2m51 0h2m-1 0h2m6 0h2m3 0h2m8 0h2m4 0h2m18 0h2m-416 1h2m5 0h2m2 0h2m4 0h2m44 0h2m0 0h2m2 0h2m-1 0h2m-1 0h2m3 0h2m0 0h2m0 0h2m1 0h2m9 0h2m18 0h2m2 0h2m12 0h2m11 0h2m122 0h2m9 0h2m6 0h2m4 0h2m8 0h2m-1 0h2m3 0h2m-1 0h2m3 0h2m2 0h2m50 0h2m18 0h2m3 0h2m6 0h2m-426 1h2m-1 0h2m9 0h2m1 0h2m8 0h2m0 0h2m6 0h2m39 0h2m-1 0h2m20 0h2m1 0h2m-1 0h2m-2 0h2m2 0h2m-1 0h2m3 0h2m-2 0h2m-1 0h2m2 0h2m0 0h2m12 0h2m3 0h2m13 0h2m2 0h2m71 0h2m5 0h2m8 0h2m25 0h2m16 0h2m-2 0h2m3 0h2m10 0h2m15 0h2m0 0h2m2 0h2m8 0h2m4 0h2m81 0h2m-421 1h2m-1 0h2m5 0h2m2 0h2m9 0h2m27 0h2m7 0h2m7 0h2m9 0h2m4 0h2m0 0h2m10 0h2m0 0h2m-2 0h2m-1 0h2m2 0h2m12 0h2m4 0h2m1 0h2m1 0h2m0 0h2m87 0h2m53 0h2m-1 0h2m-1 0h2m-1 0h2m3 0h2m11 0h2m0 0h2m6 0h2m5 0h2m4 0h2m3 0h2m0 0h2m-1 0h2m24 0h2m32 0h2m-411 1h2m28 0h2m4 0h2m2 0h2m-2 0h2m3 0h2m40 0h2m10 0h2m8 0h2m4 0h2m11 0h2m1 0h2m1 0h2m12 0h2m2 0h2m41 0h2m17 0h2m42 0h2m24 0h2m22 0h2m2 0h2m3 0h2m-1 0h2m0 0h2m0 0h2m5 0h2m-1 0h2m3 0h2m-1 0h2m3 0h2m13 0h2m7 0h2m40 0h2m0 0h2m-1 0h2m1 0h2m4 0h2m-413 1h2m5 0h2m-1 0h2m0 0h2m13 0h2m7 0h2m4 0h2m20 0h2m11 0h2m12 0h2m3 0h2m3 0h2m13 0h2m5 0h2m0 0h2m9 0h2m4 0h2m142 0h2m1 0h2m35 0h2m2 0h2m20 0h2m29 0h2m9 0h2m8 0h2m14 0h2m3 0h2m4 0h2m-428 1h2m13 0h2m9 0h2m29 0h2m3 0h2m9 0h2m13 0h2m6 0h2m3 0h2m3 0h2m6 0h2m1 0h2m3 0h2m7 0h2m-1 0h2m75 0h2m54 0h2m-2 0h2m42 0h2m5 0h2m36 0h2m2 0h2m35 0h2m-1 0h2m-2 0h2m4 0h2m1 0h2m5 0h2m2 0h2m1 0h2m-413 1h2m0 0h2m-1 0h2m-1 0h2m7 0h2m13 0h2m21 0h2m3 0h2m3 0h2m6 0h2m10 0h2m3 0h2m2 0h2m1 0h2m17 0h2m111 0h2m37 0h2m15 0h2m2 0h2m1 0h2m8 0h2m18 0h2m-2 0h2m4 0h2m54 0h2m-1 0h2m9 0h2m0 0h2m20 0h2m-414 1h2m7 0h2m66 0h2m4 0h2m0 0h2m11 0h2m-1 0h2m7 0h2m0 0h2m-2 0h2m-1 0h2m2 0h2m0 0h2m37 0h2m1 0h2m103 0h2m14 0h2m-1 0h2m16 0h2m-1 0h2m1 0h2m-1 0h2m4 0h2m0 0h2m-1 0h2m1 0h2m0 0h2m-2 0h2m-1 0h2m6 0h2m3 0h2m-1 0h2m0 0h2m33 0h2m14 0h2m2 0h2m5 0h2m6 0h2m-418 1h2m4 0h2m7 0h2m4 0h2m-1 0h2m21 0h2m17 0h2m15 0h2m17 0h2m12 0h2m-2 0h2m0 0h2m-1 0h2m0 0h2m14 0h2m-1 0h2m6 0h2m72 0h2m35 0h2m27 0h2m5 0h2m4 0h2m0 0h2m12 0h2m0 0h2m14 0h2m0 0h2m3 0h2m3 0h2m-2 0h2m-2 0h2m47 0h2m12 0h2m4 0h2m-417 1h2m14 0h2m2 0h2m2 0h2m2 0h2m4 0h2m1 0h2m25 0h2m34 0h2m-1 0h2m5 0h2m5 0h2m-1 0h2m-2 0h2m2 0h2m1 0h2m0 0h2m22 0h2m22 0h2m113 0h2m4 0h2m-2 0h2m4 0h2m0 0h2m2 0h2m5 0h2m2 0h2m1 0h2m-1 0h2m4 0h2m4 0h2m3 0h2m-1 0h2m15 0h2m11 0h2m17 0h2m21 0h2m6 0h2m-355 1h2m24 0h2m3 0h2m-1 0h2m3 0h2m10 0h2m25 0h2m3 0h2m138 0h2m18 0h2m0 0h2m-1 0h2m13 0h2m7 0h2m4 0h2m-2 0h2m-1 0h2m20 0h2m19 0h2m10 0h2m17 0h2m-405 1h2m9 0h2m1 0h2m-1 0h2m41 0h2m32 0h2m-1 0h2m3 0h2m1 0h2m13 0h2m3 0h2m-2 0h2m-2 0h2m8 0h2m77 0h2m26 0h2m43 0h2m8 0h2m0 0h2m9 0h2m12 0h2m1 0h2m0 0h2m6 0h2m34 0h2m31 0h2m-401 1h2m2 0h2m5 0h2m0 0h2m-1 0h2m68 0h2m10 0h2m4 0h2m9 0h2m18 0h2m37 0h2m13 0h2m42 0h2m51 0h2m5 0h2m-1 0h2m1 0h2m9 0h2m1 0h2m3 0h2m2 0h2m-2 0h2m7 0h2m0 0h2m0 0h2m2 0h2m53 0h2m3 0h2m-411 1h2m21 0h2m7 0h2m16 0h2m25 0h2m11 0h2m13 0h2m5 0h2m4 0h2m7 0h2m0 0h2m6 0h2m30 0h2m6 0h2m110 0h2m-1 0h2m13 0h2m4 0h2m2 0h2m-1 0h2m-1 0h2m15 0h2m2 0h2m14 0h2m29 0h2m-2 0h2m28 0h2m-2 0h2m-396 1h2m84 0h2m0 0h2m-1 0h2m-2 0h2m8 0h2m5 0h2m63 0h2m28 0h2m5 0h2m-1 0h2m6 0h2m8 0h2m49 0h2m28 0h2m9 0h2m1 0h2m0 0h2m7 0h2m41 0h2m-1 0h2m18 0h2m2 0h2m-379 1h2m27 0h2m16 0h2m-2 0h2m1 0h2m9 0h2m16 0h2m1 0h2m12 0h2m3 0h2m1 0h2m35 0h2m11 0h2m47 0h2m5 0h2m10 0h2m27 0h2m7 0h2m9 0h2m-1 0h2m5 0h2m5 0h2m1 0h2m0 0h2m9 0h2m9 0h2m39 0h2m1 0h2m5 0h2m0 0h2m1 0h2m-406 1h2m-2 0h2m5 0h2m21 0h2m47 0h2m23 0h2m4 0h2m10 0h2m3 0h2m3 0h2m2 0h2m20 0h2m34 0h2m6 0h2m79 0h2m13 0h2m-1 0h2m-1 0h2m0 0h2m4 0h2m1 0h2m6 0h2m-1 0h2m27 0h2m63 0h2m1 0h2m-409 1h2m7 0h2m31 0h2m35 0h2m11 0h2m-1 0h2m7 0h2m5 0h2m141 0h2m29 0h2m9 0h2m0 0h2m0 0h2m13 0h2m16 0h2m26 0h2m15 0h2m-390 1h2m12 0h2m5 0h2m53 0h2m0 0h2m17 0h2m4 0h2m14 0h2m30 0h2m103 0h2m27 0h2m-2 0h2m1 0h2m12 0h2m-2 0h2m5 0h2m2 0h2m3 0h2m19 0h2m-1 0h2m0 0h2m8 0h2m38 0h2m-2 0h2m24 0h2m-410 1h2m-2 0h2m11 0h2m79 0h2m14 0h2m32 0h2m127 0h2m-2 0h2m5 0h2m-1 0h2m3 0h2m-1 0h2m2 0h2m4 0h2m7 0h2m-1 0h2m5 0h2m3 0h2m40 0h2m22 0h2m3 0h2m-328 1h2m28 0h2m23 0h2m4 0h2m9 0h2m39 0h2m24 0h2m46 0h2m28 0h2m0 0h2m0 0h2m9 0h2m4 0h2m7 0h2m18 0h2m8 0h2m-1 0h2m21 0h2m-375 1h2m-1 0h2m-2 0h2m11 0h2m6 0h2m78 0h2m-1 0h2m1 0h2m10 0h2m2 0h2m6 0h2m33 0h2m130 0h2m5 0h2m1 0h2m2 0h2m5 0h2m6 0h2m34 0h2m14 0h2m32 0h2m-407 1h2m8 0h2m85 0h2m12 0h2m2 0h2m0 0h2m0 0h2m166 0h2m4 0h2m-1 0h2m0 0h2m6 0h2m6 0h2m2 0h2m-1 0h2m-1 0h2m0 0h2m4 0h2m61 0h2m-394 1h2m6 0h2m1 0h2m60 0h2m58 0h2m16 0h2m4 0h2m11 0h2m18 0h2m86 0h2m-1 0h2m0 0h2m4 0h2m13 0h2m11 0h2m0 0h2m0 0h2m-2 0h2m-1 0h2m4 0h2m-1 0h2m50 0h2m28 0h2m-410 1h2m4 0h2m3 0h2m19 0h2m50 0h2m9 0h2m16 0h2m-1 0h2m16 0h2m4 0h2m0 0h2m133 0h2m4 0h2m0 0h2m1 0h2m20 0h2m1 0h2m17 0h2m-342 1h2m-1 0h2m0 0h2m2 0h2m8 0h2m49 0h2m35 0h2m13 0h2m5 0h2m0 0h2m19 0h2m132 0h2m8 0h2m19 0h2m2 0h2m4 0h2m0 0h2m3 0h2m-1 0h2m1 0h2m9 0h2m3 0h2m25 0h2m36 0h2m-326 1h2m1 0h2m9 0h2m20 0h2m4 0h2m2 0h2m124 0h2m20 0h2m16 0h2m0 0h2m2 0h2m9 0h2m-2 0h2m19 0h2m57 0h2m-398 1h2m17 0h2m-1 0h2m72 0h2m5 0h2m-1 0h2m41 0h2m0 0h2m51 0h2m43 0h2m55 0h2m-2 0h2m0 0h2m0 0h2m1 0h2m1 0h2m0 0h2m2 0h2m-1 0h2m1 0h2m9 0h2m48 0h2m3 0h2m2 0h2m8 0h2m13 0h2m-407 1h2m4 0h2m-2 0h2m134 0h2m3 0h2m119 0h2m8 0h2m12 0h2m1 0h2m3 0h2m3 0h2m-1 0h2m20 0h2m58 0h2m-2 0h2m5 0h2m-394 1h2m0 0h2m101 0h2m2 0h2m11 0h2m14 0h2m141 0h2m7 0h2m2 0h2m3 0h2m57 0h2m-355 1h2m12 0h2m64 0h2m-1 0h2m40 0h2m7 0h2m124 0h2m7 0h2m-2 0h2m6 0h2m2 0h2m7 0h2m-1 0h2m28 0h2m2 0h2m-287 1h2m13 0h2m9 0h2m9 0h2m42 0h2m-1 0h2m24 0h2m45 0h2m58 0h2m5 0h2m9 0h2m11 0h2m0 0h2m0 0h2m8 0h2m-2 0h2m9 0h2m5 0h2m6 0h2m12 0h2m-340 1h2m9 0h2m53 0h2m27 0h2m9 0h2m10 0h2m1 0h2m148 0h2m0 0h2m9 0h2m-2 0h2m19 0h2m20 0h2m29 0h2m-373 1h2m0 0h2m87 0h2m18 0h2m8 0h2m1 0h2m14 0h2m5 0h2m95 0h2m5 0h2m1 0h2m9 0h2m17 0h2m12 0h2m16 0h2m3 0h2m2 0h2m70 0h2m-397 1h2m6 0h2m18 0h2m66 0h2m20 0h2m19 0h2m3 0h2m3 0h2m-2 0h2m2 0h2m61 0h2m87 0h2m13 0h2m-326 1h2m98 0h2m5 0h2m9 0h2m33 0h2m8 0h2m87 0h2m1 0h2m34 0h2m5 0h2m9 0h2m0 0h2m0 0h2m27 0h2m-317 1h2m32 0h2m16 0h2m31 0h2m10 0h2m0 0h2m72 0h2m-2 0h2m89 0h2m6 0h2m2 0h2m1 0h2m-1 0h2m1 0h2m-1 0h2m15 0h2m-1 0h2m23 0h2m52 0h2m-398 1h2m121 0h2m55 0h2m7 0h2m71 0h2m4 0h2m10 0h2m41 0h2m-1 0h2m2 0h2m-362 1h2m40 0h2m70 0h2m2 0h2m18 0h2m7 0h2m13 0h2m0 0h2m-1 0h2m22 0h2m88 0h2m8 0h2m22 0h2m13 0h2m-288 1h2m96 0h2m10 0h2m24 0h2m8 0h2m56 0h2m86 0h2m8 0h2m1 0h2m39 0h2m11 0h2m-374 1h2m1 0h2m2 0h2m96 0h2m10 0h2m20 0h2m118 0h2m35 0h2m4 0h2m8 0h2m1 0h2m75 0h2m-389 1h2m64 0h2m16 0h2m37 0h2m162 0h2m11 0h2m5 0h2m10 0h2m-323 1h2m66 0h2m11 0h2m2 0h2m24 0h2m7 0h2m-1 0h2m6 0h2m115 0h2m40 0h2m-2 0h2m15 0h2m21 0h2m15 0h2m-258 1h2m7 0h2m3 0h2m25 0h2m4 0h2m0 0h2m3 0h2m79 0h2m45 0h2m8 0h2m13 0h2m8 0h2m-210 1h2m6 0h2m0 0h2m11 0h2m23 0h2m53 0h2m39 0h2m32 0h2m-2 0h2m-1 0h2m2 0h2m6 0h2m7 0h2m-327 1h2m141 0h2m2 0h2m5 0h2m74 0h2m21 0h2m78 0h2m0 0h2m1 0h2m33 0h2m32 0h2m-374 1h2m87 0h2m0 0h2m5 0h2m4 0h2m10 0h2m0 0h2m5 0h2m7 0h2m120 0h2m66 0h2m0 0h2m18 0h2m-294 1h2m0 0h2m21 0h2m17 0h2m-2 0h2m2 0h2m2 0h2m3 0h2m8 0h2m10 0h2m-42 1h2m4 0h2m1 0h2m-1 0h2m1 0h2m8 0h2m4 0h2m-1 0h2m-2 0h2m3 0h2m124 0h2m54 0h2m1 0h2m20 0h2m-226 1h2m0 0h2m-1 0h2m1 0h2m16 0h2m131 0h2m6 0h2m25 0h2m9 0h2m5 0h2m-323 1h2m87 0h2m6 0h2m30 0h2m116 0h2m18 0h2m6 0h2m25 0h2m32 0h2m15 0h2m-324 1h2m80 0h2m29 0h2m139 0h2m1 0h2m0 0h2m14 0h2m-231 1h2m29 0h2m18 0h2m9 0h2m139 0h2m20 0h2m58 0h2m-264 1h2m1 0h2m0 0h2m5 0h2m5 0h2m2 0h2m2 0h2m1 0h2m11 0h2m124 0h2m21 0h2m15 0h2m26 0h2m-291 1h2m37 0h2m14 0h2m3 0h2m-2 0h2m9 0h2m17 0h2m120 0h2m12 0h2m10 0h2m1 0h2m-2 0h2m-2 0h2m-199 1h2m14 0h2m8 0h2m12 0h2m15 0h2m9 0h2m15 0h2m98 0h2m4 0h2m22 0h2m62 0h2m-276 1h2m-1 0h2m-1 0h2m4 0h2m0 0h2m0 0h2m11 0h2m10 0h2m8 0h2m43 0h2m130 0h2m69 0h2m-399 1h2m87 0h2m17 0h2m6 0h2m-2 0h2m-1 0h2m6 0h2m9 0h2m4 0h2m2 0h2m16 0h2m115 0h2m1 0h2m8 0h2m4 0h2m6 0h2m-2 0h2m66 0h2m-302 1h2m11 0h2m25 0h2m7 0h2m-1 0h2m-1 0h2m7 0h2m187 0h2m20 0h2m8 0h2m0 0h2m0 0h2m-239 1h2m-2 0h2m1 0h2m124 0h2m9 0h2m5 0h2m-2 0h2m25 0h2m28 0h2m17 0h2m-2 0h2m7 0h2m0 0h2m-262 1h2m0 0h2m-1 0h2m0 0h2m6 0h2m-2 0h2m4 0h2m3 0h2m0 0h2m-1 0h2m9 0h2m-1 0h2m139 0h2m53 0h2m-227 1h2m1 0h2m4 0h2m-1 0h2m0 0h2m-1 0h2m0 0h2m-1 0h2m-1 0h2m-2 0h2m144 0h2m7 0h2m13 0h2m5 0h2m4 0h2m10 0h2m50 0h2m-281 1h2m2 0h2m4 0h2m-1 0h2m8 0h2m7 0h2m-2 0h2m1 0h2m0 0h2m4 0h2m136 0h2m0 0h2m5 0h2m5 0h2m0 0h2m2 0h2m13 0h2m9 0h2m28 0h2m8 0h2m-1 0h2m-1 0h2m3 0h2m-291 1h2m22 0h2m0 0h2m-1 0h2m-2 0h2m1 0h2m0 0h2m1 0h2m1 0h2m0 0h2m12 0h2m-1 0h2m-1 0h2m5 0h2m15 0h2m130 0h2m5 0h2m3 0h2m13 0h2m7 0h2m26 0h2m0 0h2m11 0h2m-1 0h2m-2 0h2m-302 1h2m21 0h2m2 0h2m-1 0h2m13 0h2m2 0h2m5 0h2m4 0h2m123 0h2m-2 0h2m46 0h2m2 0h2m2 0h2m2 0h2m17 0h2m25 0h2m2 0h2m12 0h2m1 0h2m-278 1h2m12 0h2m12 0h2m0 0h2m19 0h2m62 0h2m68 0h2m1 0h2m0 0h2m0 0h2m5 0h2m4 0h2m16 0h2m18 0h2m17 0h2m8 0h2m-2 0h2m-317 1h2m26 0h2m6 0h2m4 0h2m-1 0h2m1 0h2m2 0h2m-1 0h2m5 0h2m5 0h2m-1 0h2m3 0h2m2 0h2m-2 0h2m139 0h2m-1 0h2m10 0h2m0 0h2m-2 0h2m1 0h2m8 0h2m1 0h2m8 0h2m4 0h2m5 0h2m35 0h2m7 0h2m6 0h2m4 0h2m-300 1h2m8 0h2m-2 0h2m5 0h2m0 0h2m3 0h2m2 0h2m0 0h2m19 0h2m0 0h2m119 0h2m9 0h2m-1 0h2m55 0h2m15 0h2m0 0h2m11 0h2m0 0h2m-289 1h2m8 0h2m-1 0h2m0 0h2m3 0h2m33 0h2m11 0h2m77 0h2m38 0h2m14 0h2m9 0h2m26 0h2m1 0h2m6 0h2m22 0h2m0 0h2m0 0h2m-309 1h2m30 0h2m6 0h2m3 0h2m12 0h2m4 0h2m3 0h2m11 0h2m130 0h2m1 0h2m-2 0h2m25 0h2m3 0h2m29 0h2m2 0h2m1 0h2m7 0h2m3 0h2m9 0h2m-269 1h2m10 0h2m-2 0h2m2 0h2m-1 0h2m4 0h2m14 0h2m139 0h2m5 0h2m0 0h2m2 0h2m3 0h2m2 0h2m1 0h2m-1 0h2m0 0h2m15 0h2m-1 0h2m13 0h2m7 0h2m7 0h2m7 0h2m22 0h2m-301 1h2m15 0h2m5 0h2m90 0h2m43 0h2m9 0h2m2 0h2m14 0h2m-2 0h2m10 0h2m2 0h2m2 0h2m18 0h2m12 0h2m12 0h2m3 0h2m3 0h2m1 0h2m8 0h2m-321 1h2m6 0h2m22 0h2m4 0h2m0 0h2m4 0h2m6 0h2m144 0h2m4 0h2m23 0h2m0 0h2m0 0h2m33 0h2m7 0h2m17 0h2m-1 0h2m1 0h2m-1 0h2m16 0h2m8 0h2m-284 1h2m64 0h2m80 0h2m15 0h2m0 0h2m5 0h2m2 0h2m3 0h2m3 0h2m1 0h2m-1 0h2m1 0h2m-1 0h2m-1 0h2m2 0h2m-2 0h2m43 0h2m2 0h2m12 0h2m-278 1h2m11 0h2m135 0h2m40 0h2m6 0h2m-1 0h2m2 0h2m50 0h2m19 0h2m0 0h2m-293 1h2m4 0h2m9 0h2m160 0h2m1 0h2m22 0h2m11 0h2m-1 0h2m12 0h2m24 0h2m22 0h2m2 0h2m12 0h2m0 0h2m-303 1h2m14 0h2m1 0h2m1 0h2m0 0h2m22 0h2m149 0h2m11 0h2m1 0h2m1 0h2m46 0h2m3 0h2m11 0h2m8 0h2m-320 1h2m25 0h2m-1 0h2m9 0h2m15 0h2m14 0h2m3 0h2m62 0h2m53 0h2m7 0h2m2 0h2m3 0h2m11 0h2m27 0h2m20 0h2m12 0h2m4 0h2m-311 1h2m45 0h2m47 0h2m115 0h2m7 0h2m-2 0h2m26 0h2m25 0h2m0 0h2m12 0h2m-264 1h2m3 0h2m3 0h2m175 0h2m19 0h2m4 0h2m9 0h2m3 0h2m14 0h2m10 0h2m-2 0h2m0 0h2m4 0h2m0 0h2m2 0h2m9 0h2m-299 1h2m7 0h2m12 0h2m-2 0h2m13 0h2m22 0h2m151 0h2m1 0h2m19 0h2m18 0h2m5 0h2m23 0h2m6 0h2m3 0h2m-299 1h2m8 0h2m1 0h2m-2 0h2m0 0h2m10 0h2m37 0h2m99 0h2m51 0h2m35 0h2m9 0h2m-282 1h2m6 0h2m4 0h2m12 0h2m30 0h2m149 0h2m23 0h2m-1 0h2m33 0h2m18 0h2m-2 0h2m7 0h2m-2 0h2m17 0h2m8 0h2m-313 1h2m9 0h2m3 0h2m1 0h2m-1 0h2m9 0h2m146 0h2m24 0h2m-1 0h2m43 0h2m14 0h2m9 0h2m-291 1h2m2 0h2m20 0h2m31 0h2m66 0h2m20 0h2m91 0h2m19 0h2m3 0h2m13 0h2m1 0h2m6 0h2m14 0h2m-314 1h2m4 0h2m2 0h2m-1 0h2m-2 0h2m4 0h2m7 0h2m8 0h2m18 0h2m115 0h2m51 0h2m18 0h2m11 0h2m5 0h2m19 0h2m29 0h2m-387 1h2m74 0h2m210 0h2m60 0h2m6 0h2m3 0h2m-1 0h2m15 0h2m-311 1h2m7 0h2m-1 0h2m-1 0h2m180 0h2m82 0h2m1 0h2m4 0h2m-292 1h2m9 0h2m2 0h2m0 0h2m8 0h2m5 0h2m-1 0h2m11 0h2m8 0h2m206 0h2m-267 1h2m13 0h2m0 0h2m0 0h2m-2 0h2m4 0h2m11 0h2m-27 1h2m15 0h2m243 0h2m-1 0h2m14 0h2m-279 1h2m0 0h2m-2 0h2m6 0h2m0 0h2m4 0h2m3 0h2m4 0h2m161 0h2m-203 1h2m9 0h2m6 0h2m5 0h2m6 0h2m16 0h2m137 0h2m82 0h2m-264 1h2m199 0h2m15 0h2m29 0h2m-260 1h2m1 0h2m6 0h2m13 0h2m131 0h2m129 0h2m-317 1h2m21 0h2m2 0h2m-1 0h2m7 0h2m234 0h2m6 0h2m24 0h2m10 0h2m-290 1h2m15 0h2m129 0h2m102 0h2m0 0h2m-277 1h2m4 0h2m13 0h2m142 0h2m114 0h2m4 0h2m12 0h2m-301 1h2m13 0h2m14 0h2m-37 1h2m20 0h2m252 0h2m26 0h2m-287 1h2"/>
<path class="a" d="M74.5 518.8v-2.6M74.5 305.5v2.6M112.5 518.8v-2.6M112.5 305.5v2.6M150.5 518.8v-2.6M150.5 305.5v2.6M188.5 518.8v-2.6M188.5 305.5v2.6M226.5 518.8v-2.6M226.5 305.5v2.6M264.5 518.8v-2.6M264.5 305.5v2.6M302.5 518.8v-2.6M302.5 305.5v2.6M56.5 509h2.6M327 509h-2.6M56.5 482.1h2.6M327 482.1h-2.6M56.5 455.1h2.6M327 455.1h-2.6M56.5 428.2h2.6M327 428.2h-2.6M56.5 401.3h2.6M327 401.3h-2.6M56.5 374.4h2.6M327 374.4h-2.6M56.5 347.4h2.6M327 347.4h-2.6M56.5 320.5h2.6M327 320.5h-2.6"/>
<rect class="a" x="56.5" y="305.5" width="270.5" height="213.3"/>
<g clip-path="url(#c3)">
<path class="m" d="M59.3 305.9C60.2 308.9 62.6 317.8 64.6 323.9C66.6 330 69.1 336.4 71.3 342.6C73.5 348.8 75.7 355 77.9 361.2C80.1 367.4 82.4 373.6 84.6 379.8C86.8 386 89.3 392.9 91.2 398.4C93.1 403.9 94.7 408.6 95.7 413C96.7 417.4 97.3 421.2 97.3 425C97.3 428.8 96.9 431.6 95.7 435.6C94.5 439.6 92.6 444 89.9 448.9C87.2 453.8 82.6 459.6 79.3 464.9C76 470.2 72.6 475.6 69.9 480.9C67.2 486.2 65.1 491.9 63.3 496.8C61.5 501.7 60.3 506.6 59.3 510.1C58.3 513.6 57.7 516.8 57.4 518.1"/>
<path class="m" d="M57.4 518.1C59.3 517.6 64.5 516.4 68.6 514.9C72.7 513.4 77.5 511.1 81.9 508.8C86.3 506.5 90.8 503.3 95.2 500.8C99.6 498.3 104.5 495.6 108.5 493.6C112.5 491.6 115.5 489.9 119.1 488.8C122.6 487.7 126.7 487.1 129.8 487C132.9 486.9 135.2 487.5 137.8 488.3C140.5 489.1 142.6 490.1 145.7 492C148.8 493.9 152.8 497.1 156.4 499.5C160 501.9 163.4 504.2 167 506.1C170.6 508 174.1 509.6 177.7 510.9C181.2 512.1 184.9 513 188.3 513.6C191.7 514.2 194.4 514.5 198.3 514.7C202.2 514.9 206.7 514.8 211.6 514.6C216.5 514.4 222.3 513.8 227.6 513.3C232.9 512.8 239.1 512 243.5 511.7C247.9 511.4 250.5 511.2 254.1 511.2C257.6 511.2 260.4 511.2 264.8 511.7C269.2 512.2 275.4 513.4 280.7 514.1C286 514.9 291.4 515.5 296.7 516.2C302 516.9 307.6 517.7 312.7 518.1C317.8 518.5 324.9 518.8 327.3 518.9"/>
<path class="c" d="M61.2 332.4C62.7 330.3 67 323.9 70 320C73 316.1 77.8 311.1 79.3 309.3"/>
<path class="c" d="M61.2 439.6C62.2 441.8 64.7 448.5 67.3 452.9C69.9 457.3 72.8 461.8 76.6 466.2C80.4 470.6 85.5 475.5 89.9 479.5C94.3 483.5 98.8 487 103.2 490.2C107.6 493.4 112.1 496.2 116.5 498.9C120.9 501.5 125.4 504.1 129.8 506.1C134.2 508.1 138.7 509.7 143.1 510.9C147.5 512.1 152.4 512.8 156.4 513.3C160.4 513.8 163.4 513.9 167 513.6C170.6 513.3 174.7 512.4 177.7 511.4C180.7 510.4 182.4 509.2 185 507.6C187.6 506.1 189.9 504.6 193 502.1C196.1 499.6 201.8 494.4 203.6 492.8"/>
<path class="c" d="M203.6 492.8C205.4 491.8 210.8 487.6 214.3 487C217.9 486.4 223.1 489 224.9 489.4"/>
<path class="c" d="M224.9 489.4C226.7 490.4 231.5 493.1 235.5 495.5C239.5 497.9 244.4 501.3 248.8 503.5C253.2 505.7 257.7 507.7 262.1 508.8C266.5 509.9 271.2 510.4 275.4 510.1C279.6 509.8 283.8 508.4 287.4 506.9C290.9 505.3 293.8 503.8 296.7 500.8C299.6 497.8 302.5 493.5 304.7 488.8C306.9 484.1 309 478.6 310 472.9C311 467.1 311.2 460.5 310.8 454.3C310.4 448.1 309.2 441.8 307.3 435.6C305.4 429.4 302.5 422.8 299.4 417C296.3 411.2 292.7 406.2 288.7 401.1C284.7 396 280.3 391.3 275.4 386.4C270.5 381.5 264.4 376.7 259.5 371.8C254.6 366.9 250.2 361.9 246.2 357.2C242.2 352.5 239.1 348.3 235.5 343.9C231.9 339.5 228.4 334 224.9 330.6C221.4 327.2 217.9 325 214.3 323.4C210.8 321.8 206.9 320.8 203.6 320.7C200.3 320.6 197.4 321.6 194.3 322.6C191.2 323.6 187.3 325.5 185 326.6C182.7 327.7 181.1 328.9 180.3 329.3"/>
<path class="c" d="M180.3 329.3C179.4 329.1 177.2 328.6 175 327.9C172.8 327.2 170.1 327.1 167 325.3C163.9 323.5 159.7 320 156.4 317.3C153.1 314.6 148.7 310.6 147.1 309.3"/>
<path class="c" d="M115.2 343.4C111.2 343.5 107 344.2 103.2 346.5C99.4 348.8 95.5 353 92.6 357.2C89.7 361.4 87.5 366.3 85.9 371.8C84.3 377.3 83.4 384.2 83.2 390.4C83 396.6 83.5 403.2 84.6 409C85.7 414.8 87.7 420.1 89.9 425C92.1 429.9 94.8 434.1 97.9 438.3C101 442.5 104.5 446.5 108.5 450.3C112.5 454.1 117.4 458 121.8 460.9C126.2 463.8 130.9 466.1 135.1 467.6C139.3 469.2 143.1 470.1 147.1 470.2C151.1 470.3 155.2 469.9 159 468.4C162.8 466.8 166.8 463.9 169.7 460.9C172.6 457.9 174.8 454.5 176.3 450.3C177.9 446.1 178.9 440.7 179 435.6C179.1 430.5 178.4 425.2 177.1 419.7C175.8 414.2 173.6 408.4 171 402.4C168.4 396.4 165 389.8 161.7 383.8C158.4 377.8 154.9 371.6 151.1 366.5C147.3 361.4 143.1 356.7 139.1 353.2C135.1 349.7 131.1 347.3 127.1 345.7C123.1 344.1 119.2 343.3 115.2 343.4Z"/>
</g>
<g font-size="8.00" text-anchor="middle">
<text x="74.5" y="530.9">0.2</text>
<text x="112.5" y="530.9">0.4</text>
<text x="150.5" y="530.9">0.6</text>
<text x="188.5" y="530.9">0.8</text>
<text x="226.5" y="530.9">1</text>
<text x="264.5" y="530.9">1.2</text>
<text x="302.5" y="530.9">1.4</text>
</g>
<g font-size="8.00" text-anchor="end">
<text x="53.2" y="512">0.6</text>
<text x="53.2" y="485.1">0.8</text>
<text x="53.2" y="458.1">1</text>
<text x="53.2" y="431.2">1.2</text>
<text x="53.2" y="404.3">1.4</text>
<text x="53.2" y="377.4">1.6</text>
<text x="53.2" y="350.4">1.8</text>
<text x="53.2" y="323.5">2</text>
</g>
<text font-size="9.12" text-anchor="middle" x="192" y="543.5">k p6</text>
<text font-size="9.12" text-anchor="middle" transform="translate(36 412.9) rotate(-90)">Ea k p6</text>
<text font-size="8.00" x="57" y="303.7">× 10<tspan dx="0.7" dy="-3.8" font-size="6.40">5</tspan></text>
</g>
<g id="panel4">
<clipPath id="c4"><rect x="399.8" y="302.8" width="278.4" height="220.4"/></clipPath>
<path class="d" transform="scale(0.5)" d="M1209 656h2m62 0h2m-98 1h2m59 0h2m29 0h2m17 0h2m-1 0h2m2 0h2m3 0h2m11 0h2m1 0h2m-108 1h2m84 0h2m0 0h2m0 0h2m8 0h2m3 0h2m-66 1h2m34 0h2m1 0h2m5 0h2m2 0h2m6 0h2m3 0h2m-1 0h2m-82 1h2m-1 0h2m36 0h2m1 0h2m1 0h2m9 0h2m10 0h2m4 0h2m-31 1h2m9 0h2m4 0h2m0 0h2m-1 0h2m7 0h2m-1 0h2m1 0h2m-79 1h2m28 0h2m-1 0h2m25 0h2m7 0h2m11 0h2m-166 1h2m37 0h2m37 0h2m20 0h2m-2 0h2m2 0h2m5 0h2m19 0h2m5 0h2m12 0h2m-47 1h2m52 0h2m-72 1h2m26 0h2m-1 0h2m-2 0h2m-1 0h2m0 0h2m9 0h2m13 0h2m-1 0h2m11 0h2m-58 1h2m6 0h2m7 0h2m8 0h2m7 0h2m0 0h2m1 0h2m5 0h2m1 0h2m-2 0h2m1 0h2m-49 1h2m31 0h2m5 0h2m-54 1h2m3 0h2m3 0h2m5 0h2m24 0h2m0 0h2m2 0h2m7 0h2m-85 1h2m13 0h2m36 0h2m4 0h2m-1 0h2m1 0h2m-2 0h2m3 0h2m14 0h2m-62 1h2m10 0h2m10 0h2m21 0h2m12 0h2m-1 0h2m-36 1h2m7 0h2m1 0h2m8 0h2m4 0h2m-117 1h2m75 0h2m22 0h2m5 0h2m10 0h2m-2 0h2m-161 1h2m56 0h2m39 0h2m26 0h2m11 0h2m-2 0h2m10 0h2m0 0h2m-25 1h2m15 0h2m7 0h2m2 0h2m-95 1h2m38 0h2m9 0h2m6 0h2m1 0h2m-45 1h2m4 0h2m4 0h2m37 0h2m4 0h2m10 0h2m-41 1h2m-1 0h2m4 0h2m13 0h2m0 0h2m1 0h2m2 0h2m2 0h2m5 0h2m-84 1h2m17 0h2m17 0h2m23 0h2m10 0h2m1 0h2m-133 1h2m27 0h2m5 0h2m59 0h2m3 0h2m23 0h2m0 0h2m2 0h2m-129 1h2m78 0h2m9 0h2m28 0h2m2 0h2m0 0h2m-76 1h2m35 0h2m-1 0h2m0 0h2m9 0h2m10 0h2m14 0h2m-92 1h2m36 0h2m6 0h2m11 0h2m18 0h2m6 0h2m-1 0h2m-1 0h2m-91 1h2m50 0h2m0 0h2m4 0h2m1 0h2m5 0h2m13 0h2m0 0h2m-43 1h2m1 0h2m-1 0h2m27 0h2m3 0h2m1 0h2m-95 1h2m4 0h2m7 0h2m26 0h2m-2 0h2m1 0h2m2 0h2m0 0h2m-2 0h2m14 0h2m6 0h2m15 0h2m-1 0h2m-2 0h2m-1 0h2m-67 1h2m-1 0h2m8 0h2m0 0h2m5 0h2m5 0h2m14 0h2m1 0h2m1 0h2m15 0h2m-35 1h2m-1 0h2m5 0h2m0 0h2m3 0h2m-2 0h2m1 0h2m3 0h2m5 0h2m-85 1h2m3 0h2m56 0h2m6 0h2m9 0h2m-88 1h2m39 0h2m11 0h2m4 0h2m4 0h2m7 0h2m3 0h2m3 0h2m-90 1h2m18 0h2m0 0h2m14 0h2m6 0h2m3 0h2m-1 0h2m10 0h2m0 0h2m2 0h2m3 0h2m3 0h2m2 0h2m0 0h2m-68 1h2m13 0h2m12 0h2m0 0h2m-2 0h2m17 0h2m5 0h2m2 0h2m-135 1h2m43 0h2m56 0h2m1 0h2m-2 0h2m5 0h2m1 0h2m2 0h2m-2 0h2m4 0h2m10 0h2m0 0h2m-113 1h2m72 0h2m6 0h2m-1 0h2m6 0h2m-1 0h2m4 0h2m2 0h2m0 0h2m0 0h2m-1 0h2m3 0h2m-79 1h2m10 0h2m-1 0h2m21 0h2m3 0h2m-2 0h2m7 0h2m2 0h2m1 0h2m11 0h2m3 0h2m-2 0h2m2 0h2m-93 1h2m11 0h2m34 0h2m7 0h2m0 0h2m4 0h2m-2 0h2m3 0h2m2 0h2m1 0h2m-90 1h2m59 0h2m1 0h2m3 0h2m5 0h2m-2 0h2m6 0h2m3 0h2m0 0h2m-1 0h2m2 0h2m-1 0h2m3 0h2m-79 1h2m27 0h2m-2 0h2m0 0h2m37 0h2m-1 0h2m2 0h2m-95 1h2m53 0h2m0 0h2m10 0h2m3 0h2m6 0h2m0 0h2m1 0h2m-38 1h2m19 0h2m4 0h2m1 0h2m0 0h2m-1 0h2m5 0h2m-78 1h2m31 0h2m6 0h2m0 0h2m2 0h2m11 0h2m-2 0h2m-61 1h2m1 0h2m14 0h2m6 0h2m27 0h2m12 0h2m1 0h2m-1 0h2m1 0h2m-131 1h2m36 0h2m20 0h2m19 0h2m1 0h2m20 0h2m7 0h2m-2 0h2m5 0h2m1 0h2m2 0h2m-172 1h2m105 0h2m9 0h2m18 0h2m2 0h2m19 0h2m-121 1h2m36 0h2m22 0h2m-1 0h2m-1 0h2m28 0h2m6 0h2m7 0h2m5 0h2m-2 0h2m1 0h2m4 0h2m-150 1h2m65 0h2m5 0h2m29 0h2m-1 0h2m0 0h2m6 0h2m11 0h2m1 0h2m1 0h2m1 0h2m-2 0h2m-73 1h2m42 0h2m24 0h2m-1 0h2m0 0h2m4 0h2m1 0h2m-2 0h2m-93 1h2m23 0h2m-1 0h2m1 0h2m21 0h2m2 0h2m8 0h2m0 0h2m-1 0h2m1 0h2m1 0h2m2 0h2m7 0h2m-140 1h2m61 0h2m21 0h2m21 0h2m5 0h2m0 0h2m-1 0h2m2 0h2m6 0h2m-142 1h2m78 0h2m15 0h2m5 0h2m-1 0h2m2 0h2m13 0h2m-1 0h2m4 0h2m9 0h2m2 0h2m-160 1h2m65 0h2m37 0h2m3 0h2m4 0h2m2 0h2m-1 0h2m7 0h2m-2 0h2m7 0h2m-1 0h2m-2 0h2m-1 0h2m3 0h2m-2 0h2m1 0h2m5 0h2m-101 1h2m22 0h2m-1 0h2m14 0h2m10 0h2m3 0h2m-2 0h2m-1 0h2m-1 0h2m9 0h2m4 0h2m2 0h2m-2 0h2m2 0h2m16 0h2m-182 1h2m85 0h2m18 0h2m10 0h2m12 0h2m6 0h2m35 0h2m-103 1h2m8 0h2m43 0h2m32 0h2m-101 1h2m45 0h2m24 0h2m8 0h2m0 0h2m-1 0h2m0 0h2m-2 0h2m-1 0h2m8 0h2m7 0h2m-53 1h2m14 0h2m7 0h2m6 0h2m6 0h2m-2 0h2m1 0h2m-72 1h2m62 0h2m8 0h2m-1 0h2m-59 1h2m0 0h2m9 0h2m4 0h2m7 0h2m6 0h2m5 0h2m5 0h2m-1 0h2m5 0h2m-1 0h2m-1 0h2m-1 0h2m-1 0h2m1 0h2m-195 1h2m69 0h2m34 0h2m12 0h2m29 0h2m4 0h2m13 0h2m8 0h2m1 0h2m-2 0h2m2 0h2m-140 1h2m21 0h2m32 0h2m13 0h2m1 0h2m15 0h2m6 0h2m-1 0h2m1 0h2m4 0h2m6 0h2m-2 0h2m-1 0h2m-1 0h2m4 0h2m1 0h2m0 0h2m-115 1h2m28 0h2m10 0h2m0 0h2m-2 0h2m5 0h2m6 0h2m10 0h2m9 0h2m2 0h2m0 0h2m5 0h2m4 0h2m11 0h2m-1 0h2m-162 1h2m20 0h2m23 0h2m12 0h2m0 0h2m9 0h2m7 0h2m7 0h2m18 0h2m6 0h2m21 0h2m6 0h2m6 0h2m-1 0h2m-2 0h2m2 0h2m-104 1h2m8 0h2m16 0h2m20 0h2m14 0h2m7 0h2m2 0h2m-2 0h2m6 0h2m2 0h2m6 0h2m1 0h2m-1 0h2m-118 1h2m30 0h2m9 0h2m-1 0h2m1 0h2m1 0h2m5 0h2m-1 0h2m9 0h2m10 0h2m-2 0h2m6 0h2m8 0h2m-73 1h2m14 0h2m4 0h2m1 0h2m11 0h2m8 0h2m0 0h2m4 0h2m6 0h2m1 0h2m8 0h2m12 0h2m-105 1h2m41 0h2m-1 0h2m4 0h2m13 0h2m2 0h2m0 0h2m14 0h2m-1 0h2m-1 0h2m5 0h2m0 0h2m3 0h2m-185 1h2m64 0h2m5 0h2m-1 0h2m18 0h2m-2 0h2m18 0h2m6 0h2m0 0h2m5 0h2m0 0h2m5 0h2m2 0h2m-2 0h2m1 0h2m1 0h2m9 0h2m2 0h2m1 0h2m4 0h2m5 0h2m0 0h2m-170 1h2m53 0h2m68 0h2m9 0h2m0 0h2m4 0h2m3 0h2m-1 0h2m0 0h2m0 0h2m10 0h2m0 0h2m-2 0h2m-1 0h2m-178 1h2m5 0h2m64 0h2m6 0h2m27 0h2m2 0h2m4 0h2m6 0h2m7 0h2m1 0h2m2 0h2m6 0h2m5 0h2m7 0h2m-1 0h2m0 0h2m3 0h2m-322 1h2m228 0h2m14 0h2m38 0h2m2 0h2m-1 0h2m3 0h2m0 0h2m0 0h2m-2 0h2m7 0h2m-2 0h2m-1 0h2m-1 0h2m0 0h2m-1 0h2m-83 1h2m9 0h2m2 0h2m6 0h2m13 0h2m9 0h2m14 0h2m19 0h2m-117 1h2m18 0h2m43 0h2m1 0h2m5 0h2m10 0h2m-2 0h2m7 0h2m-1 0h2m12 0h2m-1 0h2m0 0h2m-133 1h2m15 0h2m0 0h2m24 0h2m0 0h2m23 0h2m-2 0h2m12 0h2m-1 0h2m8 0h2m1 0h2m-1 0h2m0 0h2m6 0h2m-1 0h2m9 0h2m-1 0h2m-2 0h2m-1 0h2m-1 0h2m-1 0h2m-198 1h2m33 0h2m73 0h2m4 0h2m5 0h2m21 0h2m5 0h2m3 0h2m6 0h2m-1 0h2m4 0h2m8 0h2m9 0h2m-1 0h2m-1 0h2m1 0h2m-69 1h2m0 0h2m7 0h2m12 0h2m0 0h2m2 0h2m16 0h2m2 0h2m2 0h2m6 0h2m0 0h2m-89 1h2m20 0h2m11 0h2m8 0h2m-1 0h2m2 0h2m17 0h2m-1 0h2m-1 0h2m2 0h2m2 0h2m-1 0h2m3 0h2m-2 0h2m-309 1h2m97 0h2m52 0h2m18 0h2m34 0h2m37 0h2m12 0h2m4 0h2m2 0h2m4 0h2m-1 0h2m10 0h2m0 0h2m1 0h2m3 0h2m-2 0h2m7 0h2m0 0h2m-218 1h2m34 0h2m100 0h2m-2 0h2m0 0h2m4 0h2m19 0h2m5 0h2m6 0h2m-1 0h2m2 0h2m10 0h2m3 0h2m-72 1h2m9 0h2m3 0h2m6 0h2m1 0h2m8 0h2m-1 0h2m9 0h2m6 0h2m0 0h2m0 0h2m1 0h2m0 0h2m2 0h2m-1 0h2m3 0h2m-64 1h2m4 0h2m1 0h2m-1 0h2m-1 0h2m0 0h2m1 0h2m0 0h2m2 0h2m4 0h2m-2 0h2m5 0h2m0 0h2m14 0h2m-2 0h2m1 0h2m4 0h2m4 0h2m-322 1h2m34 0h2m176 0h2m41 0h2m5 0h2m0 0h2m3 0h2m0 0h2m3 0h2m2 0h2m6 0h2m1 0h2m-2 0h2m-1 0h2m3 0h2m0 0h2m-1 0h2m-1 0h2m-2 0h2m-1 0h2m4 0h2m-1 0h2m0 0h2m-2 0h2m-1 0h2m-52 1h2m4 0h2m6 0h2m3 0h2m3 0h2m1 0h2m6 0h2m5 0h2m1 0h2m2 0h2m3 0h2m-136 1h2m10 0h2m12 0h2m4 0h2m13 0h2m5 0h2m44 0h2m-2 0h2m2 0h2m4 0h2m-1 0h2m0 0h2m5 0h2m1 0h2m-1 0h2m-1 0h2m2 0h2m-199 1h2m19 0h2m20 0h2m8 0h2m61 0h2m10 0h2m16 0h2m21 0h2m0 0h2m5 0h2m2 0h2m4 0h2m-2 0h2m1 0h2m0 0h2m1 0h2m0 0h2m-2 0h2m-175 1h2m63 0h2m2 0h2m3 0h2m20 0h2m15 0h2m32 0h2m0 0h2m10 0h2m0 0h2m4 0h2m4 0h2m-82 1h2m33 0h2m7 0h2m1 0h2m6 0h2m6 0h2m4 0h2m1 0h2m1 0h2m1 0h2m0 0h2m-168 1h2m51 0h2m1 0h2m16 0h2m8 0h2m13 0h2m6 0h2m4 0h2m0 0h2m1 0h2m0 0h2m16 0h2m-1 0h2m2 0h2m6 0h2m9 0h2m-1 0h2m1 0h2m-144 1h2m54 0h2m34 0h2m13 0h2m0 0h2m0 0h2m-2 0h2m6 0h2m-1 0h2m-1 0h2m-1 0h2m-1 0h2m2 0h2m2 0h2m7 0h2m-2 0h2m-153 1h2m70 0h2m31 0h2m16 0h2m0 0h2m6 0h2m2 0h2m-1 0h2m6 0h2m-2 0h2m-254 1h2m131 0h2m14 0h2m9 0h2m19 0h2m22 0h2m3 0h2m-2 0h2m-1 0h2m4 0h2m1 0h2m0 0h2m12 0h2m3 0h2m0 0h2m-2 0h2m0 0h2m4 0h2m9 0h2m-145 1h2m27 0h2m1 0h2m30 0h2m0 0h2m2 0h2m7 0h2m3 0h2m1 0h2m0 0h2m1 0h2m0 0h2m-1 0h2m0 0h2m9 0h2m7 0h2m4 0h2m1 0h2m0 0h2m-1 0h2m0 0h2m-2 0h2m7 0h2m-97 1h2m17 0h2m6 0h2m6 0h2m6 0h2m4 0h2m4 0h2m8 0h2m2 0h2m2 0h2m-2 0h2m4 0h2m6 0h2m-1 0h2m-1 0h2m0 0h2m1 0h2m-2 0h2m-1 0h2m-2 0h2m0 0h2m-252 1h2m73 0h2m10 0h2m36 0h2m18 0h2m35 0h2m4 0h2m10 0h2m2 0h2m-1 0h2m-1 0h2m2 0h2m4 0h2m4 0h2m-1 0h2m0 0h2m2 0h2m4 0h2m4 0h2m-2 0h2m-1 0h2m0 0h2m-1 0h2m-2 0h2m0 0h2m0 0h2m1 0h2m-182 1h2m33 0h2m40 0h2m14 0h2m13 0h2m-2 0h2m3 0h2m-2 0h2m1 0h2m5 0h2m6 0h2m14 0h2m4 0h2m0 0h2m3 0h2m0 0h2m3 0h2m1 0h2m3 0h2m-112 1h2m19 0h2m2 0h2m24 0h2m9 0h2m11 0h2m17 0h2m8 0h2m1 0h2m-188 1h2m58 0h2m34 0h2m4 0h2m7 0h2m4 0h2m10 0h2m5 0h2m20 0h2m2 0h2m1 0h2m0 0h2m-1 0h2m1 0h2m5 0h2m6 0h2m4 0h2m-142 1h2m5 0h2m13 0h2m6 0h2m12 0h2m25 0h2m10 0h2m-2 0h2m-1 0h2m1 0h2m-1 0h2m4 0h2m-1 0h2m0 0h2m3 0h2m1 0h2m2 0h2m4 0h2m7 0h2m4 0h2m4 0h2m-1 0h2m-200 1h2m68 0h2m55 0h2m0 0h2m4 0h2m10 0h2m1 0h2m-2 0h2m1 0h2m1 0h2m0 0h2m0 0h2m2 0h2m1 0h2m4 0h2m2 0h2m6 0h2m-1 0h2m-1 0h2m0 0h2m6 0h2m0 0h2m-2 0h2m-1 0h2m-222 1h2m89 0h2m57 0h2m2 0h2m7 0h2m6 0h2m2 0h2m16 0h2m1 0h2m0 0h2m1 0h2m0 0h2m1 0h2m-1 0h2m3 0h2m-1 0h2m1 0h2m-268 1h2m79 0h2m96 0h2m2 0h2m9 0h2m13 0h2m12 0h2m2 0h2m7 0h2m7 0h2m0 0h2m14 0h2m-1 0h2m4 0h2m-233 1h2m12 0h2m49 0h2m52 0h2m11 0h2m22 0h2m-1 0h2m3 0h2m9 0h2m13 0h2m-1 0h2m-1 0h2m-2 0h2m2 0h2m-2 0h2m0 0h2m2 0h2m2 0h2m1 0h2m3 0h2m5 0h2m-2 0h2m5 0h2m4 0h2m-104 1h2m14 0h2m13 0h2m10 0h2m0 0h2m14 0h2m0 0h2m10 0h2m3 0h2m0 0h2m0 0h2m-1 0h2m2 0h2m10 0h2m-268 1h2m131 0h2m1 0h2m34 0h2m10 0h2m-1 0h2m20 0h2m4 0h2m0 0h2m1 0h2m4 0h2m-2 0h2m0 0h2m-1 0h2m2 0h2m-2 0h2m16 0h2m-1 0h2m-1 0h2m3 0h2m7 0h2m-1 0h2m-161 1h2m6 0h2m34 0h2m20 0h2m6 0h2m9 0h2m0 0h2m-2 0h2m-1 0h2m2 0h2m1 0h2m0 0h2m13 0h2m3 0h2m7 0h2m1 0h2m-1 0h2m-2 0h2m1 0h2m2 0h2m-1 0h2m0 0h2m5 0h2m2 0h2m-2 0h2m3 0h2m-2 0h2m0 0h2m1 0h2m-201 1h2m8 0h2m46 0h2m6 0h2m13 0h2m39 0h2m7 0h2m10 0h2m-1 0h2m-2 0h2m18 0h2m2 0h2m10 0h2m1 0h2m0 0h2m0 0h2m0 0h2m6 0h2m-1 0h2m-1 0h2m-198 1h2m30 0h2m0 0h2m30 0h2m11 0h2m2 0h2m14 0h2m6 0h2m22 0h2m13 0h2m3 0h2m13 0h2m6 0h2m4 0h2m-1 0h2m9 0h2m0 0h2m-241 1h2m72 0h2m14 0h2m32 0h2m72 0h2m9 0h2m1 0h2m8 0h2m-2 0h2m9 0h2m-346 1h2m218 0h2m3 0h2m24 0h2m-1 0h2m-1 0h2m-2 0h2m4 0h2m19 0h2m5 0h2m1 0h2m2 0h2m0 0h2m4 0h2m4 0h2m-1 0h2m10 0h2m2 0h2m0 0h2m3 0h2m-2 0h2m12 0h2m1 0h2m-306 1h2m101 0h2m102 0h2m7 0h2m0 0h2m9 0h2m15 0h2m10 0h2m13 0h2m9 0h2m3 0h2m2 0h2m-2 0h2m-1 0h2m-2 0h2m-1 0h2m-1 0h2m7 0h2m-202 1h2m12 0h2m56 0h2m11 0h2m1 0h2m28 0h2m11 0h2m6 0h2m15 0h2m-1 0h2m0 0h2m4 0h2m0 0h2m9 0h2m2 0h2m0 0h2m-1 0h2m-2 0h2m0 0h2m1 0h2m-1 0h2m1 0h2m-2 0h2m-310 1h2m47 0h2m100 0h2m18 0h2m13 0h2m0 0h2m16 0h2m-1 0h2m1 0h2m2 0h2m19 0h2m15 0h2m-1 0h2m3 0h2m-2 0h2m21 0h2m10 0h2m4 0h2m1 0h2m1 0h2m0 0h2m-113 1h2m16 0h2m-1 0h2m9 0h2m20 0h2m0 0h2m5 0h2m0 0h2m2 0h2m1 0h2m-2 0h2m-1 0h2m1 0h2m-2 0h2m2 0h2m0 0h2m-1 0h2m0 0h2m-1 0h2m2 0h2m-1 0h2m3 0h2m4 0h2m3 0h2m1 0h2m-2 0h2m1 0h2m0 0h2m3 0h2m-339 1h2m198 0h2m11 0h2m19 0h2m4 0h2m1 0h2m2 0h2m6 0h2m2 0h2m7 0h2m4 0h2m1 0h2m11 0h2m0 0h2m-1 0h2m0 0h2m6 0h2m-1 0h2m3 0h2m1 0h2m1 0h2m0 0h2m0 0h2m5 0h2m2 0h2m7 0h2m-2 0h2m-129 1h2m2 0h2m31 0h2m12 0h2m-1 0h2m14 0h2m-1 0h2m0 0h2m3 0h2m4 0h2m4 0h2m10 0h2m-1 0h2m1 0h2m0 0h2m2 0h2m-1 0h2m6 0h2m-2 0h2m-1 0h2m2 0h2m-333 1h2m13 0h2m156 0h2m35 0h2m8 0h2m31 0h2m28 0h2m3 0h2m10 0h2m-1 0h2m9 0h2m-2 0h2m1 0h2m-2 0h2m4 0h2m2 0h2m-2 0h2m0 0h2m-2 0h2m3 0h2m-171 1h2m36 0h2m27 0h2m22 0h2m4 0h2m18 0h2m1 0h2m2 0h2m2 0h2m0 0h2m6 0h2m2 0h2m0 0h2m-2 0h2m3 0h2m4 0h2m1 0h2m0 0h2m4 0h2m-177 1h2m74 0h2m14 0h2m0 0h2m0 0h2m3 0h2m14 0h2m1 0h2m6 0h2m10 0h2m-1 0h2m1 0h2m0 0h2m5 0h2m4 0h2m2 0h2m-1 0h2m0 0h2m0 0h2m-1 0h2m-129 1h2m39 0h2m6 0h2m6 0h2m6 0h2m11 0h2m5 0h2m1 0h2m13 0h2m0 0h2m8 0h2m9 0h2m-2 0h2m2 0h2m1 0h2m1 0h2m0 0h2m-339 1h2m117 0h2m31 0h2m21 0h2m10 0h2m7 0h2m35 0h2m6 0h2m10 0h2m6 0h2m2 0h2m4 0h2m10 0h2m1 0h2m-2 0h2m4 0h2m4 0h2m2 0h2m1 0h2m-2 0h2m3 0h2m6 0h2m-2 0h2m2 0h2m1 0h2m2 0h2m4 0h2m0 0h2m-227 1h2m21 0h2m44 0h2m33 0h2m31 0h2m5 0h2m2 0h2m4 0h2m1 0h2m1 0h2m1 0h2m5 0h2m5 0h2m4 0h2m10 0h2m5 0h2m-1 0h2m-1 0h2m3 0h2m-2 0h2m-1 0h2m0 0h2m-1 0h2m2 0h2m3 0h2m-1 0h2m1 0h2m-357 1h2m53 0h2m168 0h2m12 0h2m4 0h2m12 0h2m-2 0h2m30 0h2m8 0h2m4 0h2m0 0h2m8 0h2m1 0h2m-1 0h2m8 0h2m-1 0h2m5 0h2m-1 0h2m1 0h2m-2 0h2m1 0h2m0 0h2m-2 0h2m-201 1h2m75 0h2m9 0h2m10 0h2m9 0h2m6 0h2m2 0h2m-1 0h2m11 0h2m-2 0h2m3 0h2m18 0h2m3 0h2m1 0h2m10 0h2m6 0h2m-2 0h2m-1 0h2m-2 0h2m3 0h2m4 0h2m-1 0h2m-220 1h2m66 0h2m10 0h2m45 0h2m-1 0h2m-1 0h2m3 0h2m3 0h2m3 0h2m8 0h2m-1 0h2m8 0h2m6 0h2m0 0h2m-2 0h2m2 0h2m8 0h2m-1 0h2m1 0h2m1 0h2m0 0h2m2 0h2m-1 0h2m-1 0h2m-1 0h2m11 0h2m-167 1h2m31 0h2m-1 0h2m-1 0h2m11 0h2m7 0h2m25 0h2m7 0h2m-1 0h2m-2 0h2m7 0h2m0 0h2m6 0h2m2 0h2m1 0h2m2 0h2m2 0h2m0 0h2m1 0h2m11 0h2m-1 0h2m4 0h2m4 0h2m-302 1h2m127 0h2m41 0h2m13 0h2m4 0h2m11 0h2m10 0h2m13 0h2m1 0h2m3 0h2m24 0h2m1 0h2m10 0h2m-2 0h2m0 0h2m1 0h2m1 0h2m7 0h2m-1 0h2m1 0h2m-337 1h2m118 0h2m82 0h2m1 0h2m14 0h2m25 0h2m42 0h2m4 0h2m1 0h2m2 0h2m-1 0h2m6 0h2m0 0h2m2 0h2m-2 0h2m0 0h2m-1 0h2m6 0h2m1 0h2m-336 1h2m180 0h2m5 0h2m1 0h2m19 0h2m3 0h2m-1 0h2m3 0h2m-1 0h2m3 0h2m-1 0h2m3 0h2m8 0h2m7 0h2m26 0h2m-1 0h2m1 0h2m3 0h2m0 0h2m3 0h2m-2 0h2m-2 0h2m0 0h2m3 0h2m0 0h2m5 0h2m-1 0h2m5 0h2m5 0h2m-326 1h2m17 0h2m134 0h2m9 0h2m16 0h2m7 0h2m8 0h2m6 0h2m11 0h2m7 0h2m6 0h2m4 0h2m4 0h2m12 0h2m2 0h2m0 0h2m8 0h2m0 0h2m9 0h2m-1 0h2m0 0h2m0 0h2m-2 0h2m0 0h2m0 0h2m9 0h2m0 0h2m0 0h2m0 0h2m-1 0h2m-1 0h2m4 0h2m-302 1h2m144 0h2m32 0h2m0 0h2m12 0h2m19 0h2m22 0h2m5 0h2m-2 0h2m9 0h2m10 0h2m1 0h2m-2 0h2m-1 0h2m1 0h2m2 0h2m5 0h2m-1 0h2m-1 0h2m3 0h2m0 0h2m-197 1h2m39 0h2m21 0h2m1 0h2m10 0h2m11 0h2m3 0h2m17 0h2m5 0h2m3 0h2m-2 0h2m12 0h2m0 0h2m-2 0h2m-1 0h2m2 0h2m0 0h2m1 0h2m-2 0h2m9 0h2m-1 0h2m3 0h2m0 0h2m-2 0h2m-2 0h2m0 0h2m-1 0h2m0 0h2m2 0h2m-2 0h2m-1 0h2m7 0h2m-176 1h2m47 0h2m20 0h2m9 0h2m19 0h2m4 0h2m-1 0h2m0 0h2m-1 0h2m12 0h2m9 0h2m2 0h2m2 0h2m5 0h2m5 0h2m-1 0h2m1 0h2m3 0h2m4 0h2m-2 0h2m-1 0h2m-1 0h2m-224 1h2m50 0h2m36 0h2m15 0h2m13 0h2m2 0h2m4 0h2m4 0h2m4 0h2m4 0h2m1 0h2m2 0h2m-1 0h2m1 0h2m2 0h2m6 0h2m-1 0h2m2 0h2m-2 0h2m0 0h2m-1 0h2m2 0h2m1 0h2m-1 0h2m7 0h2m-1 0h2m1 0h2m-2 0h2m19 0h2m-2 0h2m-230 1h2m29 0h2m22 0h2m13 0h2m15 0h2m6 0h2m12 0h2m1 0h2m14 0h2m-1 0h2m15 0h2m-2 0h2m0 0h2m4 0h2m-2 0h2m16 0h2m7 0h2m0 0h2m-2 0h2m6 0h2m-1 0h2m12 0h2m2 0h2m2 0h2m0 0h2m4 0h2m-328 1h2m154 0h2m63 0h2m3 0h2m9 0h2m5 0h2m0 0h2m-1 0h2m3 0h2m0 0h2m11 0h2m-1 0h2m-1 0h2m0 0h2m3 0h2m0 0h2m11 0h2m4 0h2m8 0h2m5 0h2m3 0h2m0 0h2m2 0h2m-1 0h2m4 0h2m-1 0h2m-167 1h2m16 0h2m0 0h2m-1 0h2m13 0h2m15 0h2m1 0h2m1 0h2m7 0h2m1 0h2m4 0h2m25 0h2m-1 0h2m3 0h2m2 0h2m15 0h2m2 0h2m-1 0h2m2 0h2m-1 0h2m2 0h2m-1 0h2m-1 0h2m-1 0h2m-2 0h2m0 0h2m-1 0h2m0 0h2m-1 0h2m-1 0h2m0 0h2m-1 0h2m-1 0h2m-291 1h2m11 0h2m70 0h2m14 0h2m34 0h2m21 0h2m10 0h2m24 0h2m4 0h2m16 0h2m-1 0h2m-2 0h2m-2 0h2m-1 0h2m4 0h2m2 0h2m10 0h2m0 0h2m9 0h2m-2 0h2m-1 0h2m5 0h2m-2 0h2m-1 0h2m1 0h2m0 0h2m-2 0h2m-1 0h2m1 0h2m0 0h2m1 0h2m2 0h2m-1 0h2m2 0h2m0 0h2m1 0h2m-274 1h2m120 0h2m8 0h2m13 0h2m8 0h2m12 0h2m7 0h2m35 0h2m0 0h2m0 0h2m-2 0h2m-1 0h2m2 0h2m5 0h2m-1 0h2m-2 0h2m7 0h2m1 0h2m3 0h2m0 0h2m-2 0h2m8 0h2m0 0h2m3 0h2m-281 1h2m40 0h2m100 0h2m27 0h2m8 0h2m5 0h2m0 0h2m2 0h2m4 0h2m11 0h2m0 0h2m-2 0h2m4 0h2m-1 0h2m-1 0h2m2 0h2m3 0h2m4 0h2m0 0h2m-1 0h2m3 0h2m-2 0h2m0 0h2m-2 0h2m2 0h2m-2 0h2m0 0h2m3 0h2m0 0h2m-1 0h2m1 0h2m-1 0h2m5 0h2m-2 0h2m0 0h2m-1 0h2m-211 1h2m3 0h2m37 0h2m65 0h2m5 0h2m1 0h2m1 0h2m-2 0h2m7 0h2m11 0h2m0 0h2m12 0h2m-1 0h2m-2 0h2m9 0h2m0 0h2m-1 0h2m-2 0h2m3 0h2m0 0h2m-2 0h2m-1 0h2m4 0h2m-2 0h2m1 0h2m-2 0h2m5 0h2m-2 0h2m-1 0h2m-1 0h2m-2 0h2m-1 0h2m4 0h2m-268 1h2m104 0h2m16 0h2m-2 0h2m4 0h2m25 0h2m22 0h2m1 0h2m12 0h2m7 0h2m2 0h2m1 0h2m7 0h2m2 0h2m1 0h2m19 0h2m-1 0h2m0 0h2m1 0h2m3 0h2m-1 0h2m-1 0h2m-1 0h2m-348 1h2m148 0h2m79 0h2m4 0h2m21 0h2m9 0h2m6 0h2m-2 0h2m7 0h2m-1 0h2m-2 0h2m0 0h2m1 0h2m4 0h2m-1 0h2m0 0h2m4 0h2m5 0h2m-2 0h2m-1 0h2m1 0h2m-2 0h2m-1 0h2m-1 0h2m-1 0h2m-1 0h2m8 0h2m9 0h2m-222 1h2m69 0h2m17 0h2m5 0h2m20 0h2m2 0h2m5 0h2m1 0h2m1 0h2m7 0h2m0 0h2m4 0h2m-1 0h2m14 0h2m2 0h2m15 0h2m9 0h2m1 0h2m0 0h2m-2 0h2m1 0h2m3 0h2m-1 0h2m-2 0h2m2 0h2m-2 0h2m-1 0h2m-2 0h2m-238 1h2m12 0h2m56 0h2m11 0h2m3 0h2m20 0h2m0 0h2m5 0h2m18 0h2m3 0h2m-1 0h2m0 0h2m27 0h2m-1 0h2m0 0h2m-1 0h2m3 0h2m0 0h2m5 0h2m0 0h2m-1 0h2m8 0h2m-1 0h2m-2 0h2m5 0h2m4 0h2m0 0h2m-1 0h2m2 0h2m-1 0h2m0 0h2m-350 1h2m55 0h2m43 0h2m28 0h2m1 0h2m46 0h2m4 0h2m26 0h2m33 0h2m0 0h2m5 0h2m4 0h2m8 0h2m-1 0h2m4 0h2m11 0h2m6 0h2m2 0h2m-2 0h2m3 0h2m0 0h2m1 0h2m0 0h2m4 0h2m2 0h2m0 0h2m-1 0h2m0 0h2m3 0h2m9 0h2m0 0h2m-223 1h2m43 0h2m4 0h2m10 0h2m-2 0h2m4 0h2m7 0h2m17 0h2m31 0h2m0 0h2m-1 0h2m3 0h2m0 0h2m0 0h2m-1 0h2m0 0h2m-2 0h2m4 0h2m3 0h2m4 0h2m1 0h2m2 0h2m3 0h2m4 0h2m2 0h2m-2 0h2m3 0h2m1 0h2m0 0h2m2 0h2m-1 0h2m-2 0h2m1 0h2m-1 0h2m1 0h2m3 0h2m-2 0h2m7 0h2m-244 1h2m110 0h2m21 0h2m26 0h2m4 0h2m5 0h2m1 0h2m0 0h2m8 0h2m1 0h2m-2 0h2m2 0h2m15 0h2m4 0h2m1 0h2m-1 0h2m4 0h2m-2 0h2m1 0h2m-2 0h2m-128 1h2m2 0h2m3 0h2m19 0h2m4 0h2m27 0h2m3 0h2m2 0h2m17 0h2m-1 0h2m-1 0h2m2 0h2m-1 0h2m1 0h2m0 0h2m0 0h2m-1 0h2m-2 0h2m1 0h2m9 0h2m1 0h2m-2 0h2m1 0h2m0 0h2m-343 1h2m21 0h2m2 0h2m119 0h2m5 0h2m24 0h2m17 0h2m40 0h2m3 0h2m-1 0h2m22 0h2m2 0h2m17 0h2m2 0h2m-1 0h2m7 0h2m-2 0h2m-1 0h2m2 0h2m5 0h2m0 0h2m9 0h2m-2 0h2m-1 0h2m4 0h2m-307 1h2m37 0h2m80 0h2m53 0h2m-2 0h2m24 0h2m0 0h2m15 0h2m15 0h2m0 0h2m1 0h2m-1 0h2m-2 0h2m-1 0h2m2 0h2m1 0h2m3 0h2m-1 0h2m8 0h2m-1 0h2m-1 0h2m1 0h2m8 0h2m0 0h2m5 0h2m-2 0h2m0 0h2m-2 0h2m1 0h2m-1 0h2m-2 0h2m1 0h2m5 0h2m-293 1h2m13 0h2m53 0h2m11 0h2m1 0h2m9 0h2m23 0h2m-1 0h2m18 0h2m3 0h2m16 0h2m19 0h2m-1 0h2m2 0h2m15 0h2m15 0h2m4 0h2m7 0h2m1 0h2m8 0h2m0 0h2m-1 0h2m-2 0h2m-1 0h2m-2 0h2m-1 0h2m1 0h2m-1 0h2m1 0h2m-2 0h2m-1 0h2m0 0h2m4 0h2m0 0h2m1 0h2m4 0h2m0 0h2m0 0h2m-310 1h2m110 0h2m38 0h2m11 0h2m19 0h2m13 0h2m4 0h2m13 0h2m4 0h2m14 0h2m1 0h2m-1 0h2m1 0h2m1 0h2m0 0h2m0 0h2m1 0h2m0 0h2m-2 0h2m-2 0h2m0 0h2m9 0h2m4 0h2m-1 0h2m0 0h2m1 0h2m-2 0h2m10 0h2m-2 0h2m-2 0h2m4 0h2m2 0h2m-332 1h2m160 0h2m14 0h2m-1 0h2m2 0h2m5 0h2m6 0h2m6 0h2m4 0h2m2 0h2m8 0h2m4 0h2m5 0h2m0 0h2m3 0h2m2 0h2m2 0h2m26 0h2m12 0h2m5 0h2m0 0h2m9 0h2m9 0h2m-2 0h2m-230 1h2m101 0h2m2 0h2m15 0h2m-2 0h2m15 0h2m2 0h2m3 0h2m19 0h2m1 0h2m0 0h2m-1 0h2m-1 0h2m8 0h2m2 0h2m17 0h2m-1 0h2m0 0h2m5 0h2m8 0h2m-260 1h2m105 0h2m16 0h2m12 0h2m8 0h2m20 0h2m5 0h2m11 0h2m2 0h2m1 0h2m19 0h2m1 0h2m-2 0h2m-1 0h2m0 0h2m-2 0h2m8 0h2m9 0h2m-2 0h2m-1 0h2m-1 0h2m0 0h2m0 0h2m2 0h2m-346 1h2m137 0h2m23 0h2m49 0h2m17 0h2m-1 0h2m-1 0h2m36 0h2m2 0h2m0 0h2m3 0h2m3 0h2m-1 0h2m-2 0h2m-1 0h2m11 0h2m0 0h2m6 0h2m7 0h2m2 0h2m0 0h2m-1 0h2m0 0h2m1 0h2m-1 0h2m1 0h2m0 0h2m-2 0h2m2 0h2m-346 1h2m59 0h2m40 0h2m47 0h2m16 0h2m7 0h2m17 0h2m2 0h2m-1 0h2m17 0h2m19 0h2m7 0h2m0 0h2m2 0h2m-1 0h2m10 0h2m2 0h2m1 0h2m0 0h2m4 0h2m2 0h2m-1 0h2m6 0h2m13 0h2m0 0h2m3 0h2m-2 0h2m-1 0h2m-1 0h2m3 0h2m-2 0h2m-2 0h2m-1 0h2m-2 0h2m0 0h2m-1 0h2m-2 0h2m5 0h2m0 0h2m-337 1h2m30 0h2m63 0h2m36 0h2m3 0h2m69 0h2m5 0h2m16 0h2m8 0h2m9 0h2m-2 0h2m37 0h2m-2 0h2m4 0h2m-2 0h2m2 0h2m-2 0h2m2 0h2m2 0h2m-2 0h2m20 0h2m-1 0h2m-306 1h2m8 0h2m79 0h2m73 0h2m1 0h2m7 0h2m2 0h2m1 0h2m4 0h2m16 0h2m8 0h2m-2 0h2m8 0h2m1 0h2m0 0h2m0 0h2m0 0h2m2 0h2m6 0h2m6 0h2m-2 0h2m11 0h2m-1 0h2m3 0h2m3 0h2m-2 0h2m2 0h2m1 0h2m-2 0h2m4 0h2m-2 0h2m4 0h2m-1 0h2m-1 0h2m-1 0h2m-187 1h2m44 0h2m2 0h2m13 0h2m2 0h2m8 0h2m1 0h2m1 0h2m5 0h2m19 0h2m-1 0h2m0 0h2m0 0h2m1 0h2m3 0h2m-1 0h2m1 0h2m3 0h2m-1 0h2m-2 0h2m0 0h2m-1 0h2m2 0h2m0 0h2m0 0h2m2 0h2m1 0h2m-2 0h2m1 0h2m-2 0h2m-2 0h2m-1 0h2m6 0h2m-2 0h2m0 0h2m1 0h2m0 0h2m-2 0h2m1 0h2m-2 0h2m3 0h2m0 0h2m-291 1h2m16 0h2m61 0h2m13 0h2m25 0h2m86 0h2m4 0h2m0 0h2m0 0h2m11 0h2m5 0h2m8 0h2m-1 0h2m0 0h2m3 0h2m-2 0h2m6 0h2m2 0h2m1 0h2m4 0h2m-2 0h2m0 0h2m-1 0h2m-2 0h2m-1 0h2m0 0h2m3 0h2m-254 1h2m59 0h2m16 0h2m52 0h2m-1 0h2m8 0h2m0 0h2m1 0h2m16 0h2m0 0h2m17 0h2m-2 0h2m1 0h2m-2 0h2m12 0h2m-2 0h2m4 0h2m1 0h2m2 0h2m3 0h2m0 0h2m-1 0h2m1 0h2m-1 0h2m-2 0h2m0 0h2m-1 0h2m-2 0h2m-2 0h2m2 0h2m10 0h2m0 0h2m-1 0h2m-348 1h2m147 0h2m25 0h2m16 0h2m3 0h2m10 0h2m2 0h2m12 0h2m6 0h2m17 0h2m2 0h2m16 0h2m-1 0h2m2 0h2m5 0h2m0 0h2m5 0h2m0 0h2m11 0h2m2 0h2m1 0h2m-1 0h2m3 0h2m7 0h2m-2 0h2m0 0h2m0 0h2m1 0h2m3 0h2m-263 1h2m15 0h2m58 0h2m-1 0h2m14 0h2m-2 0h2m0 0h2m8 0h2m0 0h2m42 0h2m1 0h2m14 0h2m4 0h2m1 0h2m10 0h2m0 0h2m8 0h2m3 0h2m6 0h2m0 0h2m0 0h2m0 0h2m2 0h2m-2 0h2m3 0h2m-1 0h2m-1 0h2m4 0h2m4 0h2m0 0h2m-1 0h2m0 0h2m3 0h2m-328 1h2m59 0h2m54 0h2m1 0h2m68 0h2m42 0h2m-2 0h2m-2 0h2m5 0h2m0 0h2m4 0h2m33 0h2m1 0h2m5 0h2m-2 0h2m0 0h2m-1 0h2m4 0h2m-2 0h2m0 0h2m2 0h2m-1 0h2m0 0h2m-1 0h2m-1 0h2m1 0h2m-1 0h2m4 0h2m-2 0h2m0 0h2m-307 1h2m61 0h2m56 0h2m9 0h2m9 0h2m40 0h2m1 0h2m20 0h2m3 0h2m-2 0h2m10 0h2m0 0h2m1 0h2m1 0h2m-1 0h2m1 0h2m6 0h2m0 0h2m-2 0h2m7 0h2m2 0h2m-1 0h2m-1 0h2m-1 0h2m-1 0h2m0 0h2m3 0h2m-1 0h2m-2 0h2m-2 0h2m1 0h2m0 0h2m0 0h2m2 0h2m0 0h2m1 0h2m2 0h2m2 0h2m3 0h2m0 0h2m2 0h2m-259 1h2m62 0h2m21 0h2m11 0h2m8 0h2m11 0h2m11 0h2m0 0h2m0 0h2m0 0h2m8 0h2m6 0h2m-1 0h2m-1 0h2m-1 0h2m0 0h2m-2 0h2m4 0h2m4 0h2m1 0h2m-1 0h2m5 0h2m14 0h2m2 0h2m8 0h2m0 0h2m8 0h2m-2 0h2m-2 0h2m-2 0h2m-2 0h2m0 0h2m6 0h2m0 0h2m-2 0h2m2 0h2m1 0h2m3 0h2m-2 0h2m-1 0h2m-2 0h2m-328 1h2m133 0h2m27 0h2m11 0h2m3 0h2m11 0h2m-1 0h2m10 0h2m1 0h2m3 0h2m2 0h2m12 0h2m13 0h2m19 0h2m1 0h2m-2 0h2m0 0h2m6 0h2m-2 0h2m-1 0h2m-1 0h2m0 0h2m-1 0h2m0 0h2m6 0h2m1 0h2m-1 0h2m-1 0h2m-1 0h2m2 0h2m1 0h2m1 0h2m-2 0h2m6 0h2m-2 0h2m2 0h2m-267 1h2m34 0h2m76 0h2m3 0h2m6 0h2m3 0h2m22 0h2m5 0h2m5 0h2m3 0h2m0 0h2m2 0h2m4 0h2m-1 0h2m1 0h2m15 0h2m0 0h2m-2 0h2m-1 0h2m1 0h2m0 0h2m-2 0h2m0 0h2m-2 0h2m-1 0h2m1 0h2m-2 0h2m4 0h2m0 0h2m-1 0h2m6 0h2m2 0h2m-2 0h2m0 0h2m10 0h2m-1 0h2m-1 0h2m-211 1h2m13 0h2m4 0h2m72 0h2m0 0h2m-1 0h2m7 0h2m1 0h2m1 0h2m8 0h2m5 0h2m-1 0h2m5 0h2m1 0h2m8 0h2m4 0h2m2 0h2m7 0h2m1 0h2m-1 0h2m2 0h2m4 0h2m1 0h2m4 0h2m4 0h2m2 0h2m-1 0h2m-1 0h2m-2 0h2m1 0h2m2 0h2m2 0h2m-216 1h2m18 0h2m6 0h2m38 0h2m8 0h2m0 0h2m-1 0h2m1 0h2m2 0h2m17 0h2m-1 0h2m-1 0h2m26 0h2m7 0h2m5 0h2m-2 0h2m1 0h2m-1 0h2m3 0h2m0 0h2m-1 0h2m-1 0h2m7 0h2m-1 0h2m2 0h2m1 0h2m2 0h2m-1 0h2m6 0h2m1 0h2m-1 0h2m0 0h2m-1 0h2m1 0h2m1 0h2m2 0h2m-350 1h2m107 0h2m50 0h2m6 0h2m5 0h2m7 0h2m-1 0h2m1 0h2m3 0h2m41 0h2m16 0h2m6 0h2m-1 0h2m30 0h2m1 0h2m-2 0h2m3 0h2m0 0h2m4 0h2m4 0h2m-1 0h2m-2 0h2m-2 0h2m-1 0h2m-1 0h2m-2 0h2m0 0h2m0 0h2m-1 0h2m-1 0h2m2 0h2m0 0h2m2 0h2m-1 0h2m7 0h2m0 0h2m-177 1h2m8 0h2m5 0h2m5 0h2m-1 0h2m6 0h2m4 0h2m13 0h2m13 0h2m11 0h2m16 0h2m7 0h2m7 0h2m-2 0h2m22 0h2m4 0h2m0 0h2m1 0h2m-2 0h2m-1 0h2m-1 0h2m0 0h2m-1 0h2m-1 0h2m1 0h2m-2 0h2m-1 0h2m-1 0h2m-1 0h2m-2 0h2m-1 0h2m0 0h2m-1 0h2m6 0h2m-312 1h2m76 0h2m46 0h2m27 0h2m-2 0h2m26 0h2m2 0h2m0 0h2m5 0h2m3 0h2m10 0h2m2 0h2m3 0h2m1 0h2m7 0h2m-1 0h2m-1 0h2m10 0h2m0 0h2m-1 0h2m7 0h2m-1 0h2m4 0h2m2 0h2m0 0h2m-2 0h2m2 0h2m2 0h2m7 0h2m0 0h2m1 0h2m-1 0h2m-2 0h2m-1 0h2m-1 0h2m2 0h2m1 0h2m3 0h2m-288 1h2m34 0h2m11 0h2m80 0h2m2 0h2m21 0h2m35 0h2m-2 0h2m0 0h2m6 0h2m1 0h2m1 0h2m22 0h2m4 0h2m4 0h2m-2 0h2m-1 0h2m5 0h2m2 0h2m1 0h2m-2 0h2m3 0h2m1 0h2m11 0h2m-1 0h2m0 0h2m-257 1h2m13 0h2m18 0h2m35 0h2m19 0h2m5 0h2m-2 0h2m21 0h2m28 0h2m2 0h2m8 0h2m2 0h2m-1 0h2m-1 0h2m2 0h2m6 0h2m-1 0h2m-1 0h2m7 0h2m4 0h2m6 0h2m4 0h2m-1 0h2m-2 0h2m5 0h2m-1 0h2m4 0h2m2 0h2m1 0h2m2 0h2m-2 0h2m-2 0h2m1 0h2m6 0h2m0 0h2m-243 1h2m3 0h2m5 0h2m22 0h2m2 0h2m12 0h2m-1 0h2m0 0h2m1 0h2m44 0h2m-1 0h2m1 0h2m19 0h2m0 0h2m6 0h2m1 0h2m6 0h2m8 0h2m5 0h2m2 0h2m1 0h2m-2 0h2m8 0h2m2 0h2m3 0h2m0 0h2m1 0h2m2 0h2m4 0h2m-2 0h2m-2 0h2m3 0h2m-1 0h2m2 0h2m3 0h2m-1 0h2m2 0h2m0 0h2m6 0h2m-346 1h2m10 0h2m24 0h2m6 0h2m47 0h2m17 0h2m20 0h2m1 0h2m74 0h2m-1 0h2m7 0h2m-1 0h2m3 0h2m-1 0h2m-2 0h2m15 0h2m7 0h2m11 0h2m1 0h2m-2 0h2m5 0h2m-1 0h2m0 0h2m1 0h2m-1 0h2m0 0h2m3 0h2m-1 0h2m6 0h2m2 0h2m5 0h2m0 0h2m2 0h2m0 0h2m4 0h2m4 0h2m-2 0h2m-1 0h2m-2 0h2m-277 1h2m1 0h2m34 0h2m68 0h2m3 0h2m11 0h2m10 0h2m0 0h2m-2 0h2m17 0h2m15 0h2m5 0h2m6 0h2m-1 0h2m8 0h2m10 0h2m-1 0h2m7 0h2m-1 0h2m-2 0h2m4 0h2m4 0h2m0 0h2m-2 0h2m-2 0h2m-1 0h2m-2 0h2m1 0h2m-2 0h2m7 0h2m0 0h2m5 0h2m1 0h2m2 0h2m1 0h2m-2 0h2m1 0h2m0 0h2m-1 0h2m-256 1h2m62 0h2m11 0h2m36 0h2m22 0h2m0 0h2m4 0h2m4 0h2m-1 0h2m2 0h2m1 0h2m3 0h2m9 0h2m-1 0h2m-1 0h2m8 0h2m-1 0h2m4 0h2m-1 0h2m12 0h2m-1 0h2m-2 0h2m3 0h2m2 0h2m6 0h2m4 0h2m5 0h2m2 0h2m0 0h2m-319 1h2m36 0h2m19 0h2m5 0h2m37 0h2m38 0h2m2 0h2m7 0h2m0 0h2m10 0h2m11 0h2m1 0h2m15 0h2m16 0h2m10 0h2m0 0h2m4 0h2m7 0h2m15 0h2m2 0h2m5 0h2m0 0h2m9 0h2m-2 0h2m-1 0h2m0 0h2m1 0h2m3 0h2m-1 0h2m-2 0h2m0 0h2m6 0h2m-2 0h2m-1 0h2m-2 0h2m-1 0h2m-1 0h2m3 0h2m-1 0h2m3 0h2m-2 0h2m-351 1h2m4 0h2m32 0h2m53 0h2m46 0h2m-1 0h2m8 0h2m34 0h2m38 0h2m5 0h2m5 0h2m3 0h2m-2 0h2m2 0h2m2 0h2m1 0h2m9 0h2m2 0h2m-1 0h2m3 0h2m2 0h2m1 0h2m-1 0h2m0 0h2m4 0h2m1 0h2m8 0h2m3 0h2m-1 0h2m1 0h2m-1 0h2m-1 0h2m-2 0h2m-1 0h2m0 0h2m0 0h2m1 0h2m-1 0h2m1 0h2m-1 0h2m6 0h2m3 0h2m-324 1h2m102 0h2m58 0h2m6 0h2m3 0h2m16 0h2m22 0h2m0 0h2m5 0h2m22 0h2m0 0h2m4 0h2m0 0h2m-1 0h2m9 0h2m-2 0h2m7 0h2m0 0h2m-1 0h2m-2 0h2m-1 0h2m3 0h2m2 0h2m-2 0h2m0 0h2m-2 0h2m2 0h2m-2 0h2m0 0h2m-2 0h2m-1 0h2m1 0h2m-1 0h2m-321 1h2m78 0h2m23 0h2m26 0h2m40 0h2m11 0h2m22 0h2m4 0h2m0 0h2m0 0h2m9 0h2m-1 0h2m2 0h2m0 0h2m12 0h2m-2 0h2m7 0h2m-1 0h2m0 0h2m0 0h2m2 0h2m4 0h2m2 0h2m0 0h2m-1 0h2m7 0h2m-1 0h2m1 0h2m2 0h2m1 0h2m-1 0h2m0 0h2m2 0h2m-1 0h2m-1 0h2m1 0h2m14 0h2m-260 1h2m30 0h2m36 0h2m8 0h2m13 0h2m30 0h2m1 0h2m0 0h2m15 0h2m5 0h2m8 0h2m2 0h2m3 0h2m-1 0h2m2 0h2m-1 0h2m1 0h2m7 0h2m2 0h2m1 0h2m4 0h2m-1 0h2m-1 0h2m3 0h2m-1 0h2m3 0h2m4 0h2m-2 0h2m-2 0h2m0 0h2m4 0h2m0 0h2m-2 0h2m0 0h2m-2 0h2m-1 0h2m1 0h2m9 0h2m5 0h2m-266 1h2m4 0h2m30 0h2m82 0h2m11 0h2m7 0h2m1 0h2m6 0h2m-1 0h2m3 0h2m1 0h2m-2 0h2m1 0h2m0 0h2m6 0h2m8 0h2m1 0h2m16 0h2m2 0h2m-1 0h2m2 0h2m1 0h2m3 0h2m3 0h2m2 0h2m5 0h2m0 0h2m3 0h2m-2 0h2m-1 0h2m7 0h2m1 0h2m-347 1h2m85 0h2m14 0h2m18 0h2m26 0h2m13 0h2m43 0h2m3 0h2m0 0h2m1 0h2m1 0h2m1 0h2m13 0h2m11 0h2m17 0h2m1 0h2m4 0h2m1 0h2m-2 0h2m0 0h2m0 0h2m-1 0h2m1 0h2m1 0h2m2 0h2m0 0h2m3 0h2m0 0h2m-2 0h2m2 0h2m3 0h2m-1 0h2m5 0h2m-2 0h2m-2 0h2m-1 0h2m-2 0h2m-1 0h2m1 0h2m0 0h2m1 0h2m1 0h2m-327 1h2m58 0h2m44 0h2m21 0h2m8 0h2m55 0h2m8 0h2m32 0h2m0 0h2m10 0h2m3 0h2m-1 0h2m-1 0h2m-2 0h2m-1 0h2m6 0h2m-1 0h2m3 0h2m5 0h2m0 0h2m0 0h2m5 0h2m2 0h2m-2 0h2m-2 0h2m-1 0h2m1 0h2m-2 0h2m3 0h2m-2 0h2m-1 0h2m2 0h2m-2 0h2m-1 0h2m-2 0h2m0 0h2m-2 0h2m-1 0h2m1 0h2m-2 0h2m1 0h2m5 0h2m1 0h2m-353 1h2m56 0h2m93 0h2m0 0h2m3 0h2m15 0h2m19 0h2m1 0h2m6 0h2m30 0h2m-2 0h2m2 0h2m10 0h2m5 0h2m-1 0h2m8 0h2m8 0h2m2 0h2m4 0h2m0 0h2m1 0h2m-1 0h2m1 0h2m-2 0h2m2 0h2m1 0h2m1 0h2m-1 0h2m1 0h2m2 0h2m-1 0h2m2 0h2m1 0h2m-2 0h2m-1 0h2m-2 0h2m2 0h2m-1 0h2m5 0h2m-2 0h2m-2 0h2m-1 0h2m0 0h2m-2 0h2m1 0h2m-302 1h2m42 0h2m6 0h2m63 0h2m28 0h2m14 0h2m23 0h2m0 0h2m9 0h2m-2 0h2m0 0h2m-1 0h2m9 0h2m-1 0h2m5 0h2m-1 0h2m-1 0h2m0 0h2m0 0h2m-1 0h2m-1 0h2m18 0h2m0 0h2m-1 0h2m0 0h2m-2 0h2m0 0h2m5 0h2m-2 0h2m3 0h2m-1 0h2m-1 0h2m-2 0h2m-1 0h2m1 0h2m-2 0h2m-1 0h2m1 0h2m-1 0h2m1 0h2m1 0h2m5 0h2m-182 1h2m12 0h2m52 0h2m13 0h2m8 0h2m1 0h2m0 0h2m16 0h2m1 0h2m-1 0h2m-2 0h2m2 0h2m10 0h2m3 0h2m-1 0h2m-1 0h2m0 0h2m-1 0h2m1 0h2m5 0h2m7 0h2m-1 0h2m1 0h2m-1 0h2m4 0h2m-2 0h2m0 0h2m1 0h2m1 0h2m-1 0h2m-1 0h2m-324 1h2m106 0h2m36 0h2m31 0h2m11 0h2m12 0h2m0 0h2m-1 0h2m-2 0h2m10 0h2m8 0h2m12 0h2m8 0h2m8 0h2m6 0h2m-1 0h2m-2 0h2m6 0h2m-1 0h2m0 0h2m-1 0h2m-2 0h2m0 0h2m0 0h2m5 0h2m3 0h2m10 0h2m-2 0h2m1 0h2m-2 0h2m-239 1h2m-2 0h2m92 0h2m0 0h2m10 0h2m4 0h2m2 0h2m0 0h2m29 0h2m-2 0h2m-2 0h2m2 0h2m2 0h2m5 0h2m2 0h2m1 0h2m-1 0h2m12 0h2m3 0h2m0 0h2m7 0h2m-1 0h2m-1 0h2m-1 0h2m2 0h2m7 0h2m-2 0h2m-1 0h2m0 0h2m-2 0h2m-1 0h2m0 0h2m3 0h2m-1 0h2m-1 0h2m0 0h2m-2 0h2m1 0h2m-1 0h2m0 0h2m1 0h2m-223 1h2m8 0h2m13 0h2m-1 0h2m12 0h2m1 0h2m8 0h2m10 0h2m14 0h2m11 0h2m29 0h2m9 0h2m1 0h2m0 0h2m-2 0h2m3 0h2m1 0h2m-1 0h2m10 0h2m9 0h2m0 0h2m1 0h2m5 0h2m-1 0h2m-2 0h2m1 0h2m-1 0h2m0 0h2m6 0h2m-1 0h2m-2 0h2m-1 0h2m-1 0h2m1 0h2m-2 0h2m-1 0h2m0 0h2m0 0h2m-1 0h2m0 0h2m-2 0h2m0 0h2m1 0h2m-312 1h2m86 0h2m25 0h2m1 0h2m20 0h2m-1 0h2m1 0h2m30 0h2m4 0h2m15 0h2m16 0h2m11 0h2m-1 0h2m1 0h2m2 0h2m-1 0h2m5 0h2m9 0h2m0 0h2m-1 0h2m-2 0h2m6 0h2m1 0h2m11 0h2m7 0h2m3 0h2m-2 0h2m-1 0h2m0 0h2m1 0h2m-1 0h2m2 0h2m1 0h2m-1 0h2m-269 1h2m54 0h2m14 0h2m3 0h2m23 0h2m1 0h2m14 0h2m7 0h2m1 0h2m4 0h2m0 0h2m-1 0h2m11 0h2m0 0h2m2 0h2m17 0h2m1 0h2m1 0h2m0 0h2m-1 0h2m4 0h2m2 0h2m-2 0h2m1 0h2m3 0h2m4 0h2m3 0h2m-1 0h2m0 0h2m-2 0h2m3 0h2m-2 0h2m4 0h2m0 0h2m-2 0h2m0 0h2m-1 0h2m0 0h2m3 0h2m0 0h2m2 0h2m1 0h2m0 0h2m5 0h2m-2 0h2m-2 0h2m1 0h2m-248 1h2m6 0h2m15 0h2m14 0h2m8 0h2m-1 0h2m-2 0h2m17 0h2m0 0h2m10 0h2m1 0h2m11 0h2m11 0h2m4 0h2m5 0h2m-1 0h2m8 0h2m-1 0h2m13 0h2m1 0h2m9 0h2m13 0h2m-2 0h2m2 0h2m-2 0h2m1 0h2m1 0h2m-1 0h2m8 0h2m3 0h2m-1 0h2m4 0h2m-1 0h2m-2 0h2m-2 0h2m1 0h2m-2 0h2m0 0h2m-1 0h2m0 0h2m0 0h2m-2 0h2m-1 0h2m1 0h2m-1 0h2m-1 0h2m0 0h2m-1 0h2m0 0h2m-1 0h2m1 0h2m3 0h2m-2 0h2m-2 0h2m-213 1h2m48 0h2m1 0h2m20 0h2m7 0h2m6 0h2m9 0h2m0 0h2m-1 0h2m-1 0h2m12 0h2m1 0h2m3 0h2m-1 0h2m4 0h2m-2 0h2m10 0h2m8 0h2m9 0h2m4 0h2m0 0h2m-1 0h2m-2 0h2m-1 0h2m1 0h2m-1 0h2m-1 0h2m1 0h2m4 0h2m0 0h2m-2 0h2m-2 0h2m1 0h2m0 0h2m2 0h2m3 0h2m-262 1h2m23 0h2m25 0h2m12 0h2m37 0h2m26 0h2m8 0h2m16 0h2m-1 0h2m28 0h2m-2 0h2m4 0h2m1 0h2m1 0h2m-1 0h2m3 0h2m3 0h2m3 0h2m-2 0h2m0 0h2m-1 0h2m4 0h2m3 0h2m-2 0h2m0 0h2m0 0h2m3 0h2m-1 0h2m0 0h2m8 0h2m-1 0h2m-276 1h2m61 0h2m12 0h2m15 0h2m19 0h2m-1 0h2m4 0h2m0 0h2m23 0h2m-2 0h2m3 0h2m6 0h2m4 0h2m-1 0h2m14 0h2m-1 0h2m-2 0h2m2 0h2m6 0h2m0 0h2m-1 0h2m-1 0h2m-1 0h2m3 0h2m2 0h2m0 0h2m4 0h2m-1 0h2m0 0h2m2 0h2m9 0h2m1 0h2m-1 0h2m-1 0h2m-2 0h2m-1 0h2m-2 0h2m1 0h2m0 0h2m-2 0h2m0 0h2m-2 0h2m-1 0h2m-1 0h2m-2 0h2m-1 0h2m4 0h2m4 0h2m0 0h2m-2 0h2m2 0h2m0 0h2m-2 0h2m3 0h2m-1 0h2m-274 1h2m5 0h2m47 0h2m19 0h2m16 0h2m-2 0h2m26 0h2m9 0h2m-1 0h2m18 0h2m5 0h2m2 0h2m3 0h2m1 0h2m0 0h2m3 0h2m-1 0h2m-1 0h2m1 0h2m7 0h2m7 0h2m-2 0h2m3 0h2m-1 0h2m-1 0h2m3 0h2m1 0h2m-2 0h2m-1 0h2m-1 0h2m1 0h2m2 0h2m5 0h2m1 0h2m-1 0h2m10 0h2m-1 0h2m2 0h2m3 0h2m-1 0h2m-1 0h2m0 0h2m-1 0h2m0 0h2m-281 1h2m9 0h2m32 0h2m13 0h2m41 0h2m4 0h2m0 0h2m45 0h2m7 0h2m5 0h2m0 0h2m3 0h2m9 0h2m6 0h2m0 0h2m0 0h2m-2 0h2m-1 0h2m1 0h2m2 0h2m3 0h2m0 0h2m0 0h2m-2 0h2m1 0h2m-2 0h2m4 0h2m2 0h2m16 0h2m0 0h2m0 0h2m-2 0h2m-1 0h2m-2 0h2m0 0h2m0 0h2m-1 0h2m-2 0h2m-2 0h2m-1 0h2m-1 0h2m-2 0h2m-1 0h2m1 0h2m3 0h2m5 0h2m-1 0h2m0 0h2m-280 1h2m52 0h2m8 0h2m15 0h2m66 0h2m1 0h2m10 0h2m8 0h2m4 0h2m3 0h2m-1 0h2m-1 0h2m0 0h2m1 0h2m6 0h2m-1 0h2m1 0h2m7 0h2m0 0h2m-1 0h2m4 0h2m-2 0h2m-1 0h2m-1 0h2m-1 0h2m-1 0h2m6 0h2m3 0h2m2 0h2m0 0h2m7 0h2m-1 0h2m-1 0h2m1 0h2m10 0h2m0 0h2m-1 0h2m0 0h2m-2 0h2m0 0h2m-316 1h2m120 0h2m-1 0h2m13 0h2m11 0h2m20 0h2m39 0h2m9 0h2m3 0h2m-1 0h2m10 0h2m-1 0h2m-1 0h2m5 0h2m3 0h2m-1 0h2m4 0h2m-2 0h2m4 0h2m0 0h2m-1 0h2m5 0h2m0 0h2m-2 0h2m-1 0h2m9 0h2m-2 0h2m-1 0h2m3 0h2m2 0h2m-2 0h2m2 0h2m-1 0h2m0 0h2m-200 1h2m11 0h2m2 0h2m42 0h2m14 0h2m-2 0h2m12 0h2m6 0h2m1 0h2m2 0h2m3 0h2m0 0h2m-1 0h2m1 0h2m13 0h2m15 0h2m-2 0h2m-1 0h2m0 0h2m4 0h2m3 0h2m5 0h2m-1 0h2m-1 0h2m-1 0h2m-2 0h2m-2 0h2m-2 0h2m0 0h2m-1 0h2m3 0h2m-1 0h2m-2 0h2m3 0h2m1 0h2m3 0h2m1 0h2m-342 1h2m73 0h2m56 0h2m2 0h2m3 0h2m2 0h2m36 0h2m32 0h2m1 0h2m15 0h2m-1 0h2m0 0h2m1 0h2m8 0h2m-2 0h2m10 0h2m0 0h2m7 0h2m-1 0h2m-1 0h2m0 0h2m2 0h2m9 0h2m-1 0h2m0 0h2m0 0h2m-2 0h2m0 0h2m0 0h2m-1 0h2m1 0h2m0 0h2m0 0h2m-2 0h2m0 0h2m0 0h2m-1 0h2m0 0h2m2 0h2m0 0h2m0 0h2m-1 0h2m-2 0h2m4 0h2m-1 0h2m-1 0h2m1 0h2m-1 0h2m0 0h2m-2 0h2m-380 1h2m110 0h2m8 0h2m42 0h2m7 0h2m10 0h2m11 0h2m18 0h2m4 0h2m1 0h2m4 0h2m18 0h2m1 0h2m13 0h2m0 0h2m7 0h2m16 0h2m0 0h2m5 0h2m1 0h2m-1 0h2m3 0h2m1 0h2m1 0h2m1 0h2m3 0h2m-2 0h2m-1 0h2m1 0h2m0 0h2m-1 0h2m-2 0h2m-1 0h2m1 0h2m-1 0h2m-1 0h2m5 0h2m-1 0h2m-1 0h2m-1 0h2m1 0h2m-1 0h2m-1 0h2m-1 0h2m2 0h2m-1 0h2m-1 0h2m-1 0h2m0 0h2m0 0h2m0 0h2m-270 1h2m60 0h2m75 0h2m1 0h2m4 0h2m-1 0h2m10 0h2m6 0h2m3 0h2m-1 0h2m-2 0h2m16 0h2m0 0h2m0 0h2m2 0h2m-2 0h2m5 0h2m4 0h2m2 0h2m3 0h2m2 0h2m2 0h2m6 0h2m0 0h2m-2 0h2m-1 0h2m1 0h2m2 0h2m-1 0h2m-2 0h2m0 0h2m0 0h2m-2 0h2m0 0h2m-2 0h2m1 0h2m0 0h2m-1 0h2m-1 0h2m-2 0h2m1 0h2m0 0h2m-243 1h2m5 0h2m111 0h2m5 0h2m3 0h2m20 0h2m8 0h2m1 0h2m4 0h2m-2 0h2m-2 0h2m1 0h2m11 0h2m-1 0h2m6 0h2m-1 0h2m1 0h2m0 0h2m-1 0h2m0 0h2m1 0h2m-1 0h2m0 0h2m14 0h2m0 0h2m2 0h2m-1 0h2m-2 0h2m-1 0h2m0 0h2m-1 0h2m-1 0h2m-274 1h2m49 0h2m24 0h2m14 0h2m-1 0h2m3 0h2m19 0h2m7 0h2m8 0h2m7 0h2m0 0h2m8 0h2m3 0h2m0 0h2m7 0h2m3 0h2m0 0h2m5 0h2m-1 0h2m8 0h2m1 0h2m1 0h2m3 0h2m4 0h2m0 0h2m-1 0h2m1 0h2m2 0h2m-1 0h2m1 0h2m0 0h2m-2 0h2m2 0h2m0 0h2m-2 0h2m0 0h2m10 0h2m-1 0h2m-2 0h2m1 0h2m-2 0h2m2 0h2m-1 0h2m-2 0h2m7 0h2m-262 1h2m46 0h2m19 0h2m32 0h2m41 0h2m2 0h2m3 0h2m13 0h2m6 0h2m-2 0h2m-1 0h2m0 0h2m8 0h2m11 0h2m2 0h2m2 0h2m3 0h2m-1 0h2m-2 0h2m-1 0h2m2 0h2m-2 0h2m1 0h2m-1 0h2m-1 0h2m-1 0h2m8 0h2m1 0h2m2 0h2m5 0h2m2 0h2m1 0h2m-1 0h2m-2 0h2m-1 0h2m-2 0h2m-297 1h2m44 0h2m28 0h2m61 0h2m-1 0h2m16 0h2m3 0h2m7 0h2m27 0h2m3 0h2m8 0h2m-1 0h2m-1 0h2m0 0h2m0 0h2m2 0h2m-1 0h2m2 0h2m0 0h2m3 0h2m1 0h2m-1 0h2m-1 0h2m5 0h2m3 0h2m1 0h2m-2 0h2m-1 0h2m2 0h2m1 0h2m-1 0h2m2 0h2m0 0h2m-1 0h2m-1 0h2m-2 0h2m2 0h2m0 0h2m-1 0h2m-2 0h2m0 0h2m-1 0h2m-2 0h2m0 0h2m-1 0h2m-2 0h2m-302 1h2m58 0h2m3 0h2m22 0h2m22 0h2m37 0h2m2 0h2m-1 0h2m30 0h2m0 0h2m-1 0h2m3 0h2m-1 0h2m21 0h2m1 0h2m3 0h2m-1 0h2m5 0h2m1 0h2m15 0h2m1 0h2m-1 0h2m1 0h2m2 0h2m2 0h2m-1 0h2m2 0h2m-2 0h2m1 0h2m1 0h2m-1 0h2m7 0h2m0 0h2m4 0h2m2 0h2m0 0h2m-204 1h2m11 0h2m10 0h2m32 0h2m8 0h2m0 0h2m2 0h2m6 0h2m6 0h2m9 0h2m0 0h2m-1 0h2m3 0h2m2 0h2m1 0h2m1 0h2m1 0h2m-1 0h2m3 0h2m4 0h2m0 0h2m0 0h2m3 0h2m-2 0h2m-1 0h2m7 0h2m-1 0h2m2 0h2m6 0h2m1 0h2m-1 0h2m-2 0h2m5 0h2m-1 0h2m-2 0h2m5 0h2m-1 0h2m1 0h2m-1 0h2m-1 0h2m5 0h2m1 0h2m-252 1h2m35 0h2m0 0h2m21 0h2m6 0h2m50 0h2m1 0h2m6 0h2m10 0h2m2 0h2m5 0h2m1 0h2m-1 0h2m5 0h2m-2 0h2m2 0h2m6 0h2m-1 0h2m3 0h2m0 0h2m0 0h2m-1 0h2m1 0h2m4 0h2m2 0h2m-2 0h2m-2 0h2m0 0h2m-1 0h2m-1 0h2m2 0h2m1 0h2m0 0h2m-1 0h2m-1 0h2m-2 0h2m-2 0h2m1 0h2m-1 0h2m1 0h2m6 0h2m1 0h2m-1 0h2m-2 0h2m2 0h2m-2 0h2m2 0h2m-2 0h2m-258 1h2m82 0h2m12 0h2m18 0h2m14 0h2m2 0h2m-1 0h2m0 0h2m6 0h2m3 0h2m8 0h2m17 0h2m3 0h2m2 0h2m2 0h2m1 0h2m-1 0h2m-2 0h2m1 0h2m2 0h2m0 0h2m6 0h2m-1 0h2m5 0h2m-2 0h2m0 0h2m0 0h2m-2 0h2m6 0h2m-2 0h2m2 0h2m-1 0h2m4 0h2m3 0h2m0 0h2m-1 0h2m0 0h2m-1 0h2m-1 0h2m-2 0h2m-257 1h2m45 0h2m34 0h2m2 0h2m30 0h2m3 0h2m-1 0h2m3 0h2m3 0h2m3 0h2m5 0h2m3 0h2m-1 0h2m-1 0h2m-1 0h2m12 0h2m6 0h2m0 0h2m1 0h2m3 0h2m-1 0h2m-2 0h2m3 0h2m0 0h2m-1 0h2m-2 0h2m0 0h2m-1 0h2m-1 0h2m4 0h2m3 0h2m3 0h2m-1 0h2m-2 0h2m3 0h2m-1 0h2m0 0h2m-2 0h2m0 0h2m-1 0h2m0 0h2m2 0h2m-2 0h2m6 0h2m0 0h2m1 0h2m5 0h2m-289 1h2m38 0h2m22 0h2m34 0h2m44 0h2m4 0h2m8 0h2m0 0h2m3 0h2m8 0h2m8 0h2m0 0h2m8 0h2m1 0h2m6 0h2m-1 0h2m1 0h2m-1 0h2m0 0h2m6 0h2m-1 0h2m3 0h2m0 0h2m1 0h2m0 0h2m-2 0h2m1 0h2m9 0h2m10 0h2m2 0h2m-2 0h2m0 0h2m1 0h2m3 0h2m0 0h2m-1 0h2m0 0h2m0 0h2m-231 1h2m89 0h2m20 0h2m-2 0h2m3 0h2m18 0h2m12 0h2m4 0h2m13 0h2m1 0h2m0 0h2m0 0h2m3 0h2m2 0h2m1 0h2m1 0h2m0 0h2m0 0h2m-1 0h2m-1 0h2m1 0h2m-1 0h2m-1 0h2m1 0h2m0 0h2m-2 0h2m0 0h2m0 0h2m-2 0h2m-1 0h2m4 0h2m-2 0h2m1 0h2m1 0h2m0 0h2m-385 1h2m139 0h2m17 0h2m18 0h2m-1 0h2m9 0h2m-1 0h2m9 0h2m3 0h2m1 0h2m3 0h2m6 0h2m10 0h2m7 0h2m4 0h2m11 0h2m2 0h2m3 0h2m1 0h2m0 0h2m7 0h2m2 0h2m-1 0h2m4 0h2m9 0h2m4 0h2m-1 0h2m4 0h2m-2 0h2m0 0h2m6 0h2m-1 0h2m-2 0h2m1 0h2m4 0h2m-1 0h2m0 0h2m1 0h2m3 0h2m-1 0h2m5 0h2m4 0h2m1 0h2m1 0h2m-1 0h2m1 0h2m3 0h2m-342 1h2m126 0h2m17 0h2m3 0h2m24 0h2m-2 0h2m4 0h2m3 0h2m13 0h2m7 0h2m21 0h2m12 0h2m10 0h2m-2 0h2m0 0h2m3 0h2m-2 0h2m-1 0h2m2 0h2m-2 0h2m10 0h2m10 0h2m1 0h2m4 0h2m-2 0h2m0 0h2m1 0h2m-2 0h2m2 0h2m-2 0h2m-2 0h2m2 0h2m10 0h2m0 0h2m3 0h2m-268 1h2m28 0h2m20 0h2m64 0h2m8 0h2m15 0h2m8 0h2m12 0h2m2 0h2m7 0h2m3 0h2m2 0h2m-1 0h2m0 0h2m1 0h2m2 0h2m0 0h2m-1 0h2m0 0h2m-1 0h2m1 0h2m0 0h2m2 0h2m2 0h2m2 0h2m-1 0h2m3 0h2m0 0h2m2 0h2m0 0h2m0 0h2m0 0h2m-2 0h2m4 0h2m-1 0h2m2 0h2m0 0h2m4 0h2m-259 1h2m82 0h2m1 0h2m64 0h2m0 0h2m10 0h2m1 0h2m0 0h2m6 0h2m1 0h2m4 0h2m5 0h2m-2 0h2m1 0h2m-1 0h2m-2 0h2m-1 0h2m0 0h2m15 0h2m-1 0h2m3 0h2m-1 0h2m7 0h2m0 0h2m-1 0h2m-2 0h2m0 0h2m-1 0h2m0 0h2m-2 0h2m1 0h2m-1 0h2m-2 0h2m1 0h2m-1 0h2m0 0h2m-1 0h2m-1 0h2m0 0h2m-1 0h2m2 0h2m-315 1h2m20 0h2m58 0h2m18 0h2m27 0h2m2 0h2m27 0h2m20 0h2m2 0h2m9 0h2m0 0h2m14 0h2m11 0h2m16 0h2m0 0h2m-1 0h2m0 0h2m1 0h2m4 0h2m0 0h2m3 0h2m0 0h2m0 0h2m4 0h2m-1 0h2m0 0h2m0 0h2m-2 0h2m-1 0h2m-1 0h2m6 0h2m-2 0h2m-1 0h2m-2 0h2m1 0h2m-2 0h2m-2 0h2m-2 0h2m4 0h2m1 0h2m-2 0h2m0 0h2m-319 1h2m66 0h2m1 0h2m0 0h2m65 0h2m19 0h2m28 0h2m27 0h2m-1 0h2m4 0h2m9 0h2m-2 0h2m1 0h2m0 0h2m-1 0h2m2 0h2m3 0h2m-1 0h2m11 0h2m-2 0h2m4 0h2m6 0h2m3 0h2m0 0h2m-1 0h2m1 0h2m0 0h2m0 0h2m0 0h2m2 0h2m-2 0h2m3 0h2m-2 0h2m-1 0h2m-1 0h2m0 0h2m-1 0h2m0 0h2m-1 0h2m0 0h2m-2 0h2m-214 1h2m14 0h2m7 0h2m6 0h2m12 0h2m2 0h2m9 0h2m10 0h2m23 0h2m0 0h2m-1 0h2m4 0h2m0 0h2m0 0h2m-1 0h2m5 0h2m-1 0h2m0 0h2m11 0h2m-1 0h2m-1 0h2m0 0h2m1 0h2m3 0h2m4 0h2m0 0h2m4 0h2m0 0h2m-1 0h2m1 0h2m-2 0h2m2 0h2m-2 0h2m-1 0h2m-1 0h2m-1 0h2m1 0h2m0 0h2m3 0h2m-1 0h2m0 0h2m0 0h2m-1 0h2m-2 0h2m-1 0h2m10 0h2m-1 0h2m2 0h2m0 0h2m-1 0h2m-231 1h2m57 0h2m41 0h2m25 0h2m3 0h2m4 0h2m1 0h2m2 0h2m3 0h2m2 0h2m3 0h2m4 0h2m-1 0h2m-1 0h2m6 0h2m0 0h2m-2 0h2m0 0h2m-2 0h2m0 0h2m5 0h2m-1 0h2m1 0h2m3 0h2m0 0h2m-2 0h2m0 0h2m0 0h2m-1 0h2m-2 0h2m-1 0h2m-2 0h2m2 0h2m2 0h2m1 0h2m1 0h2m0 0h2m-2 0h2m-251 1h2m55 0h2m2 0h2m20 0h2m6 0h2m-1 0h2m17 0h2m4 0h2m5 0h2m5 0h2m0 0h2m11 0h2m3 0h2m-2 0h2m1 0h2m-1 0h2m4 0h2m-2 0h2m7 0h2m-2 0h2m5 0h2m4 0h2m6 0h2m0 0h2m0 0h2m7 0h2m1 0h2m1 0h2m-1 0h2m-1 0h2m2 0h2m-2 0h2m-1 0h2m-1 0h2m1 0h2m1 0h2m1 0h2m1 0h2m-1 0h2m-1 0h2m4 0h2m-1 0h2m0 0h2m1 0h2m2 0h2m1 0h2m-1 0h2m-1 0h2m3 0h2m-278 1h2m10 0h2m26 0h2m4 0h2m51 0h2m24 0h2m1 0h2m5 0h2m3 0h2m9 0h2m12 0h2m5 0h2m5 0h2m11 0h2m4 0h2m1 0h2m-2 0h2m0 0h2m-2 0h2m-2 0h2m-1 0h2m-2 0h2m-1 0h2m-1 0h2m1 0h2m0 0h2m0 0h2m-2 0h2m-2 0h2m1 0h2m2 0h2m5 0h2m2 0h2m1 0h2m15 0h2m2 0h2m-1 0h2m-1 0h2m-1 0h2m0 0h2m-2 0h2m-1 0h2m0 0h2m3 0h2m-2 0h2m0 0h2m-2 0h2m1 0h2m0 0h2m-301 1h2m42 0h2m83 0h2m11 0h2m9 0h2m5 0h2m12 0h2m17 0h2m5 0h2m1 0h2m8 0h2m1 0h2m0 0h2m6 0h2m1 0h2m1 0h2m0 0h2m8 0h2m8 0h2m1 0h2m0 0h2m-2 0h2m-1 0h2m-1 0h2m-2 0h2m0 0h2m1 0h2m-1 0h2m1 0h2m-1 0h2m2 0h2m7 0h2m-2 0h2m-2 0h2m0 0h2m0 0h2m1 0h2m-1 0h2m2 0h2m2 0h2m-234 1h2m83 0h2m-2 0h2m18 0h2m4 0h2m4 0h2m2 0h2m15 0h2m10 0h2m6 0h2m4 0h2m7 0h2m1 0h2m0 0h2m-1 0h2m0 0h2m6 0h2m-1 0h2m3 0h2m-1 0h2m-1 0h2m3 0h2m2 0h2m-2 0h2m0 0h2m-1 0h2m-1 0h2m0 0h2m5 0h2m3 0h2m0 0h2m3 0h2m-2 0h2m-339 1h2m111 0h2m8 0h2m12 0h2m8 0h2m15 0h2m54 0h2m-1 0h2m10 0h2m1 0h2m8 0h2m6 0h2m8 0h2m4 0h2m5 0h2m6 0h2m-1 0h2m-1 0h2m3 0h2m-2 0h2m3 0h2m10 0h2m-2 0h2m-1 0h2m0 0h2m1 0h2m2 0h2m0 0h2m-1 0h2m3 0h2m-1 0h2m-1 0h2m-1 0h2m5 0h2m-194 1h2m75 0h2m2 0h2m-2 0h2m31 0h2m-1 0h2m2 0h2m2 0h2m-1 0h2m-1 0h2m0 0h2m10 0h2m0 0h2m2 0h2m10 0h2m2 0h2m1 0h2m2 0h2m-1 0h2m-1 0h2m2 0h2m-1 0h2m3 0h2m-2 0h2m1 0h2m0 0h2m-1 0h2m-1 0h2m0 0h2m0 0h2m-1 0h2m-216 1h2m1 0h2m22 0h2m0 0h2m4 0h2m27 0h2m1 0h2m13 0h2m4 0h2m4 0h2m11 0h2m3 0h2m6 0h2m2 0h2m6 0h2m-2 0h2m-1 0h2m4 0h2m0 0h2m0 0h2m13 0h2m3 0h2m1 0h2m-2 0h2m0 0h2m0 0h2m-1 0h2m0 0h2m2 0h2m3 0h2m-1 0h2m-2 0h2m-2 0h2m-1 0h2m-1 0h2m0 0h2m0 0h2m-1 0h2m0 0h2m-1 0h2m2 0h2m6 0h2m2 0h2m-177 1h2m-1 0h2m14 0h2m13 0h2m11 0h2m18 0h2m-2 0h2m9 0h2m-1 0h2m-1 0h2m3 0h2m3 0h2m0 0h2m18 0h2m-2 0h2m-1 0h2m-1 0h2m1 0h2m1 0h2m6 0h2m0 0h2m4 0h2m-2 0h2m-2 0h2m0 0h2m5 0h2m-2 0h2m0 0h2m1 0h2m-1 0h2m0 0h2m3 0h2m-2 0h2m4 0h2m0 0h2m-1 0h2m1 0h2m6 0h2m-210 1h2m22 0h2m15 0h2m17 0h2m-2 0h2m14 0h2m13 0h2m6 0h2m2 0h2m-1 0h2m8 0h2m1 0h2m4 0h2m1 0h2m8 0h2m0 0h2m-1 0h2m1 0h2m-2 0h2m-1 0h2m-1 0h2m1 0h2m5 0h2m-1 0h2m1 0h2m4 0h2m3 0h2m-2 0h2m3 0h2m0 0h2m7 0h2m-1 0h2m-1 0h2m-1 0h2m-1 0h2m-2 0h2m-2 0h2m5 0h2m-2 0h2m0 0h2m11 0h2m-2 0h2m-1 0h2m-186 1h2m30 0h2m7 0h2m7 0h2m27 0h2m-2 0h2m12 0h2m0 0h2m0 0h2m4 0h2m7 0h2m-2 0h2m2 0h2m-1 0h2m-2 0h2m-2 0h2m-2 0h2m1 0h2m-2 0h2m-1 0h2m1 0h2m-2 0h2m-1 0h2m0 0h2m-1 0h2m-1 0h2m0 0h2m-2 0h2m-1 0h2m-1 0h2m2 0h2m0 0h2m0 0h2m-2 0h2m-2 0h2m-1 0h2m0 0h2m-2 0h2m-1 0h2m0 0h2m-1 0h2m2 0h2m7 0h2m1 0h2m-1 0h2m-1 0h2m1 0h2m0 0h2m6 0h2m2 0h2m-2 0h2m-1 0h2m-241 1h2m12 0h2m40 0h2m7 0h2m18 0h2m4 0h2m-2 0h2m1 0h2m14 0h2m0 0h2m2 0h2m13 0h2m7 0h2m-1 0h2m5 0h2m15 0h2m4 0h2m0 0h2m1 0h2m0 0h2m0 0h2m-2 0h2m1 0h2m-1 0h2m4 0h2m7 0h2m2 0h2m0 0h2m-2 0h2m1 0h2m-2 0h2m0 0h2m-1 0h2m6 0h2m-2 0h2m0 0h2m-1 0h2m-1 0h2m1 0h2m-2 0h2m0 0h2m-2 0h2m-1 0h2m2 0h2m-2 0h2m0 0h2m-2 0h2m3 0h2m-259 1h2m2 0h2m45 0h2m14 0h2m25 0h2m8 0h2m2 0h2m10 0h2m17 0h2m19 0h2m2 0h2m13 0h2m3 0h2m1 0h2m1 0h2m8 0h2m8 0h2m4 0h2m-1 0h2m1 0h2m-1 0h2m3 0h2m3 0h2m-1 0h2m0 0h2m-1 0h2m-2 0h2m1 0h2m9 0h2m0 0h2m-2 0h2m0 0h2m-1 0h2m-1 0h2m-2 0h2m-194 1h2m41 0h2m1 0h2m26 0h2m-1 0h2m16 0h2m4 0h2m0 0h2m0 0h2m6 0h2m0 0h2m0 0h2m2 0h2m2 0h2m2 0h2m1 0h2m0 0h2m1 0h2m0 0h2m2 0h2m4 0h2m-2 0h2m3 0h2m-1 0h2m-1 0h2m-2 0h2m-1 0h2m1 0h2m4 0h2m-1 0h2m10 0h2m-1 0h2m0 0h2m-1 0h2m2 0h2m-1 0h2m1 0h2m0 0h2m-245 1h2m9 0h2m44 0h2m2 0h2m7 0h2m14 0h2m13 0h2m15 0h2m4 0h2m3 0h2m-2 0h2m7 0h2m15 0h2m9 0h2m-1 0h2m6 0h2m-1 0h2m9 0h2m0 0h2m0 0h2m5 0h2m0 0h2m1 0h2m-1 0h2m-1 0h2m-1 0h2m1 0h2m-2 0h2m1 0h2m1 0h2m0 0h2m-1 0h2m5 0h2m5 0h2m-2 0h2m2 0h2m0 0h2m0 0h2m-1 0h2m2 0h2m-2 0h2m-2 0h2m-260 1h2m-1 0h2m107 0h2m6 0h2m18 0h2m-1 0h2m2 0h2m1 0h2m-1 0h2m2 0h2m9 0h2m7 0h2m-1 0h2m-1 0h2m-2 0h2m0 0h2m1 0h2m8 0h2m0 0h2m2 0h2m-1 0h2m0 0h2m0 0h2m-2 0h2m-1 0h2m7 0h2m4 0h2m-1 0h2m0 0h2m-1 0h2m-1 0h2m-1 0h2m8 0h2m-1 0h2m-1 0h2m0 0h2m-1 0h2m0 0h2m1 0h2m6 0h2m-1 0h2m0 0h2m0 0h2m-2 0h2m0 0h2m0 0h2m-266 1h2m27 0h2m53 0h2m0 0h2m19 0h2m5 0h2m6 0h2m9 0h2m7 0h2m20 0h2m8 0h2m1 0h2m-1 0h2m8 0h2m-2 0h2m6 0h2m-2 0h2m-1 0h2m0 0h2m2 0h2m0 0h2m-1 0h2m-1 0h2m-1 0h2m0 0h2m2 0h2m0 0h2m-2 0h2m-2 0h2m1 0h2m-1 0h2m4 0h2m-2 0h2m-2 0h2m-1 0h2m0 0h2m-1 0h2m-1 0h2m4 0h2m0 0h2m0 0h2m-1 0h2m0 0h2m1 0h2m2 0h2m3 0h2m-1 0h2m1 0h2m-2 0h2m0 0h2m0 0h2m-204 1h2m24 0h2m6 0h2m2 0h2m0 0h2m9 0h2m1 0h2m15 0h2m3 0h2m0 0h2m-1 0h2m4 0h2m-1 0h2m7 0h2m3 0h2m9 0h2m2 0h2m7 0h2m16 0h2m-1 0h2m-1 0h2m-2 0h2m-2 0h2m-2 0h2m1 0h2m-2 0h2m-1 0h2m-2 0h2m-1 0h2m0 0h2m6 0h2m3 0h2m0 0h2m-1 0h2m0 0h2m0 0h2m-1 0h2m-1 0h2m0 0h2m0 0h2m-2 0h2m-1 0h2m3 0h2m1 0h2m-1 0h2m-1 0h2m-2 0h2m-1 0h2m-1 0h2m2 0h2m0 0h2m1 0h2m0 0h2m-241 1h2m70 0h2m45 0h2m0 0h2m9 0h2m-1 0h2m4 0h2m-2 0h2m-1 0h2m4 0h2m3 0h2m-1 0h2m7 0h2m9 0h2m1 0h2m1 0h2m-2 0h2m1 0h2m-1 0h2m-2 0h2m4 0h2m1 0h2m-1 0h2m3 0h2m-1 0h2m1 0h2m-1 0h2m-2 0h2m-2 0h2m-2 0h2m0 0h2m-2 0h2m2 0h2m0 0h2m-2 0h2m6 0h2m1 0h2m-2 0h2m-1 0h2m0 0h2m1 0h2m0 0h2m-2 0h2m2 0h2m-1 0h2m-1 0h2m-1 0h2m0 0h2m0 0h2m-2 0h2m-326 1h2m118 0h2m17 0h2m16 0h2m12 0h2m12 0h2m4 0h2m1 0h2m3 0h2m6 0h2m2 0h2m3 0h2m3 0h2m1 0h2m14 0h2m12 0h2m9 0h2m-1 0h2m-2 0h2m-1 0h2m3 0h2m6 0h2m0 0h2m0 0h2m6 0h2m-2 0h2m0 0h2m-1 0h2m-1 0h2m0 0h2m-1 0h2m-1 0h2m-1 0h2m-2 0h2m-1 0h2m-2 0h2m3 0h2m-1 0h2m3 0h2m2 0h2m-1 0h2m0 0h2m-1 0h2m-1 0h2m-1 0h2m-252 1h2m47 0h2m11 0h2m34 0h2m4 0h2m-1 0h2m1 0h2m8 0h2m5 0h2m1 0h2m4 0h2m8 0h2m1 0h2m-1 0h2m17 0h2m7 0h2m5 0h2m2 0h2m0 0h2m1 0h2m4 0h2m-1 0h2m3 0h2m-1 0h2m5 0h2m-1 0h2m-1 0h2m-1 0h2m-2 0h2m1 0h2m-2 0h2m0 0h2m1 0h2m6 0h2m0 0h2m-1 0h2m1 0h2m-2 0h2m-1 0h2m0 0h2m1 0h2m1 0h2m-474 1h2m204 0h2m45 0h2m17 0h2m38 0h2m22 0h2m0 0h2m15 0h2m0 0h2m10 0h2m6 0h2m0 0h2m9 0h2m3 0h2m4 0h2m3 0h2m-2 0h2m1 0h2m0 0h2m-2 0h2m12 0h2m7 0h2m-1 0h2m-1 0h2m0 0h2m0 0h2m1 0h2m-1 0h2m0 0h2m0 0h2m-2 0h2m-1 0h2m2 0h2m0 0h2m-2 0h2m4 0h2m0 0h2m0 0h2m-1 0h2m0 0h2m0 0h2m-2 0h2m-1 0h2m-1 0h2m3 0h2m-305 1h2m20 0h2m34 0h2m22 0h2m60 0h2m59 0h2m6 0h2m12 0h2m-1 0h2m8 0h2m1 0h2m-2 0h2m3 0h2m0 0h2m6 0h2m-1 0h2m2 0h2m-2 0h2m4 0h2m-1 0h2m0 0h2m-2 0h2m0 0h2m-1 0h2m-2 0h2m-1 0h2m-1 0h2m1 0h2m1 0h2m-1 0h2m-1 0h2m-2 0h2m-1 0h2m0 0h2m0 0h2m-1 0h2m1 0h2m-2 0h2m0 0h2m1 0h2m0 0h2m-1 0h2m1 0h2m-198 1h2m18 0h2m19 0h2m0 0h2m26 0h2m-1 0h2m-2 0h2m3 0h2m1 0h2m0 0h2m6 0h2m5 0h2m6 0h2m3 0h2m-2 0h2m2 0h2m-2 0h2m0 0h2m5 0h2m1 0h2m8 0h2m2 0h2m1 0h2m-2 0h2m0 0h2m5 0h2m-1 0h2m-2 0h2m-1 0h2m-2 0h2m-2 0h2m-1 0h2m1 0h2m0 0h2m-1 0h2m-2 0h2m0 0h2m-1 0h2m0 0h2m-2 0h2m3 0h2m-1 0h2m-2 0h2m0 0h2m6 0h2m-1 0h2m0 0h2m0 0h2m3 0h2m-2 0h2m-1 0h2m1 0h2m-257 1h2m57 0h2m-1 0h2m-1 0h2m15 0h2m7 0h2m7 0h2m-1 0h2m2 0h2m-1 0h2m28 0h2m19 0h2m2 0h2m2 0h2m1 0h2m0 0h2m2 0h2m1 0h2m-1 0h2m11 0h2m6 0h2m-2 0h2m3 0h2m-2 0h2m-2 0h2m3 0h2m4 0h2m2 0h2m1 0h2m3 0h2m2 0h2m1 0h2m5 0h2m-1 0h2m1 0h2m-1 0h2m1 0h2m-1 0h2m-2 0h2m6 0h2m-2 0h2m-213 1h2m8 0h2m23 0h2m19 0h2m1 0h2m16 0h2m1 0h2m4 0h2m17 0h2m1 0h2m2 0h2m-1 0h2m-1 0h2m5 0h2m3 0h2m1 0h2m6 0h2m1 0h2m3 0h2m1 0h2m12 0h2m0 0h2m-1 0h2m2 0h2m4 0h2m3 0h2m-2 0h2m-2 0h2m-1 0h2m-1 0h2m1 0h2m-1 0h2m6 0h2m0 0h2m-1 0h2m2 0h2m2 0h2m-2 0h2m0 0h2m-2 0h2m0 0h2m1 0h2m-1 0h2m-275 1h2m47 0h2m27 0h2m11 0h2m22 0h2m13 0h2m5 0h2m0 0h2m14 0h2m8 0h2m1 0h2m2 0h2m-2 0h2m0 0h2m5 0h2m6 0h2m0 0h2m2 0h2m6 0h2m11 0h2m-2 0h2m0 0h2m1 0h2m2 0h2m-1 0h2m-1 0h2m0 0h2m3 0h2m-1 0h2m-1 0h2m2 0h2m-1 0h2m-1 0h2m0 0h2m-2 0h2m1 0h2m1 0h2m0 0h2m0 0h2m-1 0h2m5 0h2m-1 0h2m1 0h2m0 0h2m-1 0h2m-1 0h2m-221 1h2m35 0h2m4 0h2m-2 0h2m30 0h2m13 0h2m0 0h2m17 0h2m-1 0h2m8 0h2m4 0h2m1 0h2m2 0h2m3 0h2m0 0h2m0 0h2m-2 0h2m-1 0h2m11 0h2m2 0h2m2 0h2m2 0h2m1 0h2m0 0h2m0 0h2m0 0h2m-1 0h2m-1 0h2m-1 0h2m2 0h2m-2 0h2m5 0h2m1 0h2m-2 0h2m0 0h2m2 0h2m3 0h2m-1 0h2m-2 0h2m0 0h2m3 0h2m-2 0h2m-1 0h2m-1 0h2m-2 0h2m-1 0h2m-2 0h2m-1 0h2m0 0h2m-204 1h2m14 0h2m4 0h2m-1 0h2m21 0h2m7 0h2m18 0h2m2 0h2m3 0h2m-1 0h2m0 0h2m9 0h2m5 0h2m-1 0h2m-1 0h2m5 0h2m1 0h2m4 0h2m3 0h2m2 0h2m7 0h2m-2 0h2m1 0h2m3 0h2m3 0h2m0 0h2m0 0h2m2 0h2m3 0h2m-1 0h2m-1 0h2m0 0h2m-1 0h2m0 0h2m-2 0h2m1 0h2m-1 0h2m-1 0h2m-2 0h2m-1 0h2m2 0h2m6 0h2m-1 0h2m4 0h2m2 0h2m-221 1h2m34 0h2m4 0h2m8 0h2m7 0h2m6 0h2m0 0h2m12 0h2m13 0h2m0 0h2m5 0h2m8 0h2m0 0h2m0 0h2m0 0h2m-2 0h2m-1 0h2m-2 0h2m0 0h2m1 0h2m1 0h2m-1 0h2m6 0h2m4 0h2m2 0h2m4 0h2m2 0h2m-1 0h2m-1 0h2m-2 0h2m1 0h2m-2 0h2m-1 0h2m1 0h2m0 0h2m-2 0h2m4 0h2m9 0h2m0 0h2m1 0h2m-1 0h2m0 0h2m-1 0h2m3 0h2m-1 0h2m2 0h2m-2 0h2m0 0h2m-1 0h2m2 0h2m-233 1h2m5 0h2m54 0h2m12 0h2m18 0h2m41 0h2m8 0h2m-2 0h2m3 0h2m7 0h2m1 0h2m0 0h2m0 0h2m4 0h2m2 0h2m-1 0h2m-1 0h2m1 0h2m-1 0h2m-1 0h2m-1 0h2m-2 0h2m3 0h2m2 0h2m3 0h2m2 0h2m-1 0h2m-1 0h2m-1 0h2m2 0h2m-1 0h2m1 0h2m11 0h2m0 0h2m-193 1h2m4 0h2m42 0h2m14 0h2m11 0h2m4 0h2m0 0h2m-1 0h2m-2 0h2m1 0h2m-1 0h2m1 0h2m20 0h2m5 0h2m1 0h2m0 0h2m-2 0h2m1 0h2m-1 0h2m5 0h2m-1 0h2m-2 0h2m2 0h2m-1 0h2m6 0h2m-1 0h2m1 0h2m1 0h2m3 0h2m3 0h2m5 0h2m-1 0h2m-1 0h2m2 0h2m0 0h2m-1 0h2m-1 0h2m-1 0h2m0 0h2m-208 1h2m49 0h2m-1 0h2m8 0h2m12 0h2m5 0h2m3 0h2m14 0h2m-1 0h2m15 0h2m10 0h2m2 0h2m-1 0h2m0 0h2m1 0h2m-2 0h2m-1 0h2m0 0h2m-2 0h2m2 0h2m2 0h2m3 0h2m2 0h2m8 0h2m-2 0h2m0 0h2m-1 0h2m-1 0h2m-2 0h2m-1 0h2m-1 0h2m-2 0h2m0 0h2m-1 0h2m-1 0h2m-1 0h2m-2 0h2m1 0h2m-2 0h2m-1 0h2m-2 0h2m5 0h2m3 0h2m0 0h2m-2 0h2m-1 0h2m-258 1h2m161 0h2m-1 0h2m3 0h2m-1 0h2m0 0h2m4 0h2m12 0h2m-2 0h2m-1 0h2m7 0h2m0 0h2m1 0h2m2 0h2m1 0h2m0 0h2m-1 0h2m-1 0h2m-1 0h2m5 0h2m0 0h2m0 0h2m-1 0h2m0 0h2m3 0h2m-1 0h2m2 0h2m1 0h2m0 0h2m1 0h2m-2 0h2m-2 0h2m0 0h2m-1 0h2m-1 0h2m-1 0h2m-2 0h2m-241 1h2m-1 0h2m37 0h2m20 0h2m24 0h2m28 0h2m26 0h2m22 0h2m2 0h2m2 0h2m1 0h2m2 0h2m-1 0h2m8 0h2m-1 0h2m1 0h2m0 0h2m-2 0h2m-1 0h2m-1 0h2m-1 0h2m0 0h2m-1 0h2m-2 0h2m-1 0h2m-2 0h2m1 0h2m-1 0h2m4 0h2m4 0h2m-1 0h2m-1 0h2m-2 0h2m-2 0h2m1 0h2m2 0h2m1 0h2m-1 0h2m-210 1h2m5 0h2m1 0h2m18 0h2m57 0h2m2 0h2m2 0h2m5 0h2m-1 0h2m9 0h2m-2 0h2m4 0h2m-1 0h2m-1 0h2m9 0h2m2 0h2m6 0h2m-2 0h2m7 0h2m-1 0h2m-1 0h2m-2 0h2m7 0h2m4 0h2m2 0h2m-1 0h2m1 0h2m0 0h2m-1 0h2m3 0h2m0 0h2m0 0h2m-1 0h2m-1 0h2m0 0h2m1 0h2m-236 1h2m20 0h2m2 0h2m15 0h2m35 0h2m11 0h2m2 0h2m29 0h2m7 0h2m1 0h2m4 0h2m5 0h2m5 0h2m3 0h2m4 0h2m3 0h2m-2 0h2m3 0h2m0 0h2m-1 0h2m-1 0h2m0 0h2m0 0h2m1 0h2m2 0h2m-1 0h2m6 0h2m0 0h2m5 0h2m-2 0h2m-2 0h2m10 0h2m-2 0h2m5 0h2m-1 0h2m-1 0h2m1 0h2m-2 0h2m-1 0h2m0 0h2m-2 0h2m0 0h2m-251 1h2m17 0h2m40 0h2m25 0h2m-2 0h2m2 0h2m0 0h2m9 0h2m3 0h2m6 0h2m6 0h2m25 0h2m-2 0h2m4 0h2m6 0h2m0 0h2m1 0h2m2 0h2m4 0h2m0 0h2m8 0h2m-1 0h2m1 0h2m3 0h2m3 0h2m-1 0h2m0 0h2m-2 0h2m0 0h2m4 0h2m0 0h2m-2 0h2m-1 0h2m-1 0h2m-1 0h2m-1 0h2m0 0h2m-1 0h2m0 0h2m1 0h2m-1 0h2m-2 0h2m-2 0h2m2 0h2m-1 0h2m1 0h2m-1 0h2m-1 0h2m-2 0h2m3 0h2m-191 1h2m35 0h2m19 0h2m2 0h2m1 0h2m1 0h2m16 0h2m0 0h2m3 0h2m6 0h2m2 0h2m-2 0h2m1 0h2m23 0h2m-1 0h2m1 0h2m-1 0h2m-1 0h2m-2 0h2m-1 0h2m-2 0h2m2 0h2m-1 0h2m-2 0h2m0 0h2m0 0h2m-1 0h2m0 0h2m-1 0h2m-1 0h2m6 0h2m-1 0h2m0 0h2m1 0h2m2 0h2m-1 0h2m-1 0h2m-2 0h2m2 0h2m-2 0h2m0 0h2m-2 0h2m0 0h2m-1 0h2m0 0h2m-1 0h2m-2 0h2m-2 0h2m-1 0h2m-209 1h2m33 0h2m8 0h2m4 0h2m32 0h2m-2 0h2m6 0h2m-1 0h2m6 0h2m5 0h2m12 0h2m4 0h2m1 0h2m3 0h2m1 0h2m4 0h2m-1 0h2m-1 0h2m0 0h2m5 0h2m1 0h2m3 0h2m2 0h2m1 0h2m2 0h2m0 0h2m1 0h2m-1 0h2m4 0h2m2 0h2m4 0h2m-1 0h2m7 0h2m-182 1h2m7 0h2m16 0h2m12 0h2m0 0h2m6 0h2m-2 0h2m7 0h2m1 0h2m3 0h2m7 0h2m4 0h2m0 0h2m3 0h2m0 0h2m5 0h2m3 0h2m-1 0h2m-2 0h2m5 0h2m4 0h2m4 0h2m-2 0h2m0 0h2m6 0h2m-2 0h2m0 0h2m-2 0h2m9 0h2m0 0h2m-1 0h2m1 0h2m-1 0h2m-2 0h2m-2 0h2m0 0h2m-1 0h2m-2 0h2m-1 0h2m-2 0h2m-1 0h2m-1 0h2m-2 0h2m2 0h2m-2 0h2m2 0h2m0 0h2m0 0h2m5 0h2m-1 0h2m-2 0h2m1 0h2m-212 1h2m-1 0h2m27 0h2m5 0h2m21 0h2m-2 0h2m29 0h2m0 0h2m11 0h2m-1 0h2m4 0h2m4 0h2m0 0h2m9 0h2m-1 0h2m0 0h2m0 0h2m-1 0h2m-1 0h2m0 0h2m-2 0h2m4 0h2m-2 0h2m4 0h2m1 0h2m4 0h2m0 0h2m2 0h2m0 0h2m2 0h2m-1 0h2m-1 0h2m1 0h2m-1 0h2m-2 0h2m1 0h2m0 0h2m-1 0h2m-2 0h2m0 0h2m6 0h2m0 0h2m-1 0h2m0 0h2m0 0h2m0 0h2m0 0h2m-179 1h2m16 0h2m42 0h2m6 0h2m-2 0h2m3 0h2m1 0h2m12 0h2m2 0h2m3 0h2m-2 0h2m0 0h2m10 0h2m2 0h2m7 0h2m2 0h2m0 0h2m2 0h2m3 0h2m7 0h2m4 0h2m-1 0h2m-1 0h2m0 0h2m7 0h2m-1 0h2m-2 0h2m-2 0h2m3 0h2m0 0h2m-1 0h2m-234 1h2m48 0h2m29 0h2m-2 0h2m1 0h2m6 0h2m8 0h2m25 0h2m9 0h2m0 0h2m0 0h2m19 0h2m8 0h2m10 0h2m-2 0h2m0 0h2m-2 0h2m4 0h2m-2 0h2m0 0h2m0 0h2m-1 0h2m2 0h2m2 0h2m-1 0h2m-1 0h2m-2 0h2m0 0h2m-1 0h2m-2 0h2m1 0h2m3 0h2m1 0h2m2 0h2m-1 0h2m-2 0h2m-1 0h2m-2 0h2m-176 1h2m15 0h2m1 0h2m5 0h2m8 0h2m10 0h2m4 0h2m0 0h2m28 0h2m6 0h2m0 0h2m1 0h2m0 0h2m-1 0h2m3 0h2m3 0h2m4 0h2m3 0h2m-1 0h2m2 0h2m4 0h2m0 0h2m-1 0h2m1 0h2m-2 0h2m4 0h2m-1 0h2m0 0h2m0 0h2m2 0h2m-2 0h2m-2 0h2m-1 0h2m1 0h2m2 0h2m7 0h2m0 0h2m-153 1h2m30 0h2m28 0h2m-1 0h2m5 0h2m0 0h2m0 0h2m1 0h2m4 0h2m-1 0h2m5 0h2m1 0h2m2 0h2m-1 0h2m-2 0h2m4 0h2m1 0h2m5 0h2m-1 0h2m9 0h2m-1 0h2m0 0h2m4 0h2m-2 0h2m1 0h2m0 0h2m-2 0h2m-1 0h2m-1 0h2m2 0h2m-1 0h2m-2 0h2m-1 0h2m-1 0h2m-2 0h2m0 0h2m-243 1h2m71 0h2m19 0h2m5 0h2m-1 0h2m-1 0h2m-1 0h2m3 0h2m1 0h2m1 0h2m11 0h2m1 0h2m8 0h2m2 0h2m5 0h2m1 0h2m11 0h2m0 0h2m2 0h2m0 0h2m3 0h2m7 0h2m-1 0h2m0 0h2m-2 0h2m-1 0h2m1 0h2m-1 0h2m2 0h2m-1 0h2m1 0h2m0 0h2m-2 0h2m1 0h2m-1 0h2m-1 0h2m-2 0h2m-2 0h2m0 0h2m-2 0h2m-1 0h2m0 0h2m0 0h2m-2 0h2m0 0h2m0 0h2m-2 0h2m2 0h2m0 0h2m3 0h2m0 0h2m-262 1h2m8 0h2m93 0h2m12 0h2m15 0h2m19 0h2m4 0h2m1 0h2m4 0h2m9 0h2m-1 0h2m6 0h2m3 0h2m1 0h2m5 0h2m-1 0h2m6 0h2m4 0h2m7 0h2m-1 0h2m-1 0h2m-1 0h2m-1 0h2m-1 0h2m-1 0h2m4 0h2m0 0h2m2 0h2m2 0h2m-1 0h2m1 0h2m1 0h2m-1 0h2m0 0h2m-2 0h2m-263 1h2m0 0h2m56 0h2m37 0h2m13 0h2m29 0h2m14 0h2m1 0h2m-1 0h2m1 0h2m6 0h2m8 0h2m1 0h2m-2 0h2m0 0h2m-1 0h2m7 0h2m-1 0h2m-1 0h2m13 0h2m-2 0h2m6 0h2m3 0h2m2 0h2m-1 0h2m-1 0h2m1 0h2m-2 0h2m0 0h2m-1 0h2m-1 0h2m-1 0h2m0 0h2m-2 0h2m-1 0h2m-2 0h2m0 0h2m-2 0h2m-2 0h2m-1 0h2m-2 0h2m0 0h2m-2 0h2m0 0h2m3 0h2m-1 0h2m-2 0h2m-229 1h2m44 0h2m51 0h2m19 0h2m14 0h2m2 0h2m3 0h2m-1 0h2m4 0h2m0 0h2m8 0h2m2 0h2m0 0h2m6 0h2m0 0h2m-2 0h2m-1 0h2m-2 0h2m2 0h2m-1 0h2m1 0h2m4 0h2m3 0h2m-2 0h2m-2 0h2m-2 0h2m-1 0h2m5 0h2m-1 0h2m-2 0h2m2 0h2m2 0h2m-1 0h2m-2 0h2m-1 0h2m-1 0h2m-1 0h2m-130 1h2m7 0h2m4 0h2m1 0h2m0 0h2m5 0h2m8 0h2m3 0h2m8 0h2m9 0h2m-2 0h2m0 0h2m-1 0h2m-2 0h2m1 0h2m5 0h2m8 0h2m5 0h2m0 0h2m10 0h2m-1 0h2m1 0h2m3 0h2m-2 0h2m-1 0h2m-2 0h2m-1 0h2m-2 0h2m1 0h2m0 0h2m-2 0h2m-1 0h2m5 0h2m-219 1h2m99 0h2m0 0h2m9 0h2m14 0h2m-2 0h2m1 0h2m2 0h2m2 0h2m-1 0h2m6 0h2m6 0h2m4 0h2m7 0h2m6 0h2m1 0h2m0 0h2m-1 0h2m-2 0h2m-1 0h2m0 0h2m-1 0h2m-2 0h2m-2 0h2m2 0h2m-1 0h2m0 0h2m-1 0h2m15 0h2m-1 0h2m1 0h2m-1 0h2m-155 1h2m1 0h2m30 0h2m2 0h2m0 0h2m1 0h2m7 0h2m1 0h2m2 0h2m1 0h2m1 0h2m0 0h2m4 0h2m3 0h2m11 0h2m1 0h2m-1 0h2m4 0h2m0 0h2m1 0h2m2 0h2m-1 0h2m-1 0h2m2 0h2m0 0h2m0 0h2m3 0h2m-1 0h2m3 0h2m1 0h2m-2 0h2m3 0h2m0 0h2m-1 0h2m0 0h2m0 0h2m-265 1h2m42 0h2m41 0h2m12 0h2m3 0h2m5 0h2m0 0h2m4 0h2m10 0h2m22 0h2m-2 0h2m12 0h2m3 0h2m27 0h2m-1 0h2m-2 0h2m1 0h2m4 0h2m1 0h2m-2 0h2m-2 0h2m2 0h2m1 0h2m1 0h2m-2 0h2m-2 0h2m2 0h2m-2 0h2m1 0h2m-2 0h2m4 0h2m2 0h2m-2 0h2m0 0h2m-1 0h2m3 0h2m-1 0h2m-1 0h2m-2 0h2m0 0h2m1 0h2m0 0h2m2 0h2m-225 1h2m37 0h2m14 0h2m24 0h2m22 0h2m22 0h2m7 0h2m15 0h2m5 0h2m-2 0h2m-1 0h2m-1 0h2m-1 0h2m-2 0h2m0 0h2m0 0h2m2 0h2m-2 0h2m-2 0h2m6 0h2m-1 0h2m-2 0h2m-1 0h2m0 0h2m1 0h2m1 0h2m2 0h2m1 0h2m1 0h2m-2 0h2m-1 0h2m-1 0h2m-1 0h2m5 0h2m-1 0h2m0 0h2m0 0h2m3 0h2m-1 0h2m-1 0h2m-1 0h2m-187 1h2m24 0h2m23 0h2m49 0h2m5 0h2m6 0h2m0 0h2m-1 0h2m-1 0h2m5 0h2m-1 0h2m0 0h2m2 0h2m-2 0h2m-1 0h2m2 0h2m0 0h2m1 0h2m6 0h2m1 0h2m0 0h2m0 0h2m-1 0h2m-1 0h2m5 0h2m-1 0h2m2 0h2m-2 0h2m0 0h2m-1 0h2m1 0h2m-2 0h2m1 0h2m-1 0h2m-214 1h2m3 0h2m64 0h2m5 0h2m3 0h2m6 0h2m6 0h2m10 0h2m23 0h2m-1 0h2m8 0h2m0 0h2m0 0h2m-1 0h2m2 0h2m1 0h2m1 0h2m0 0h2m0 0h2m-2 0h2m0 0h2m-2 0h2m4 0h2m0 0h2m-1 0h2m-1 0h2m-1 0h2m-1 0h2m2 0h2m0 0h2m4 0h2m-1 0h2m1 0h2m1 0h2m-1 0h2m-1 0h2m0 0h2m-1 0h2m3 0h2m0 0h2m0 0h2m-1 0h2m-242 1h2m87 0h2m11 0h2m3 0h2m-2 0h2m7 0h2m18 0h2m15 0h2m-2 0h2m0 0h2m-1 0h2m0 0h2m13 0h2m1 0h2m-2 0h2m0 0h2m1 0h2m6 0h2m1 0h2m-1 0h2m-1 0h2m1 0h2m-2 0h2m-1 0h2m0 0h2m0 0h2m-1 0h2m3 0h2m4 0h2m-2 0h2m-1 0h2m-2 0h2m-1 0h2m0 0h2m-1 0h2m0 0h2m2 0h2m-2 0h2m-1 0h2m2 0h2m-2 0h2m0 0h2m-2 0h2m0 0h2m-2 0h2m-2 0h2m5 0h2m-244 1h2m23 0h2m84 0h2m11 0h2m2 0h2m4 0h2m5 0h2m4 0h2m0 0h2m6 0h2m2 0h2m4 0h2m4 0h2m11 0h2m3 0h2m2 0h2m1 0h2m4 0h2m0 0h2m8 0h2m-1 0h2m-2 0h2m2 0h2m3 0h2m2 0h2m3 0h2m-1 0h2m2 0h2m-248 1h2m38 0h2m16 0h2m32 0h2m2 0h2m27 0h2m0 0h2m-2 0h2m27 0h2m4 0h2m4 0h2m-1 0h2m1 0h2m-1 0h2m15 0h2m1 0h2m0 0h2m1 0h2m5 0h2m3 0h2m2 0h2m6 0h2m-2 0h2m1 0h2m1 0h2m0 0h2m5 0h2m2 0h2m-2 0h2m-2 0h2m-1 0h2m-1 0h2m0 0h2m-238 1h2m102 0h2m52 0h2m0 0h2m1 0h2m1 0h2m9 0h2m2 0h2m-1 0h2m3 0h2m-1 0h2m1 0h2m-1 0h2m1 0h2m4 0h2m0 0h2m3 0h2m1 0h2m1 0h2m0 0h2m0 0h2m-2 0h2m0 0h2m-1 0h2m1 0h2m-1 0h2m-2 0h2m-1 0h2m5 0h2m2 0h2m-244 1h2m52 0h2m10 0h2m4 0h2m22 0h2m30 0h2m4 0h2m7 0h2m-1 0h2m25 0h2m7 0h2m7 0h2m0 0h2m5 0h2m3 0h2m-2 0h2m2 0h2m-2 0h2m1 0h2m1 0h2m0 0h2m-2 0h2m2 0h2m1 0h2m-1 0h2m-1 0h2m0 0h2m-2 0h2m-2 0h2m-1 0h2m0 0h2m-1 0h2m0 0h2m-1 0h2m-1 0h2m-1 0h2m2 0h2m-1 0h2m1 0h2m-201 1h2m25 0h2m19 0h2m5 0h2m4 0h2m16 0h2m25 0h2m9 0h2m1 0h2m0 0h2m1 0h2m-1 0h2m11 0h2m-1 0h2m0 0h2m5 0h2m-1 0h2m-2 0h2m5 0h2m0 0h2m-2 0h2m-1 0h2m0 0h2m-1 0h2m3 0h2m1 0h2m1 0h2m-1 0h2m-1 0h2m0 0h2m4 0h2m0 0h2m1 0h2m-2 0h2m0 0h2m-1 0h2m0 0h2m-1 0h2m2 0h2m-153 1h2m-1 0h2m3 0h2m9 0h2m6 0h2m2 0h2m0 0h2m7 0h2m11 0h2m8 0h2m1 0h2m6 0h2m5 0h2m8 0h2m0 0h2m0 0h2m4 0h2m2 0h2m4 0h2m0 0h2m-1 0h2m0 0h2m1 0h2m-1 0h2m2 0h2m-1 0h2m3 0h2m3 0h2m2 0h2m-160 1h2m1 0h2m25 0h2m4 0h2m47 0h2m0 0h2m-2 0h2m10 0h2m-1 0h2m-1 0h2m15 0h2m-2 0h2m2 0h2m-1 0h2m0 0h2m1 0h2m-1 0h2m0 0h2m2 0h2m1 0h2m1 0h2m-2 0h2m2 0h2m4 0h2m3 0h2m0 0h2m4 0h2m1 0h2m-1 0h2m-2 0h2m0 0h2m-1 0h2m-196 1h2m29 0h2m-1 0h2m19 0h2m14 0h2m1 0h2m23 0h2m5 0h2m3 0h2m-2 0h2m8 0h2m-2 0h2m5 0h2m0 0h2m4 0h2m-1 0h2m-2 0h2m-1 0h2m3 0h2m-2 0h2m-1 0h2m6 0h2m1 0h2m1 0h2m-1 0h2m0 0h2m2 0h2m2 0h2m1 0h2m-1 0h2m-2 0h2m-1 0h2m-2 0h2m-1 0h2m-1 0h2m1 0h2m0 0h2m1 0h2m1 0h2m-2 0h2m2 0h2m-2 0h2m-1 0h2m-150 1h2m3 0h2m15 0h2m-1 0h2m6 0h2m25 0h2m1 0h2m-1 0h2m2 0h2m3 0h2m3 0h2m-2 0h2m13 0h2m7 0h2m0 0h2m2 0h2m3 0h2m-1 0h2m0 0h2m4 0h2m-2 0h2m3 0h2m-1 0h2m-1 0h2m4 0h2m2 0h2m2 0h2m-1 0h2m-1 0h2m-2 0h2m-1 0h2m-1 0h2m0 0h2m2 0h2m-163 1h2m33 0h2m33 0h2m0 0h2m6 0h2m12 0h2m-1 0h2m5 0h2m-1 0h2m-2 0h2m3 0h2m3 0h2m-2 0h2m4 0h2m0 0h2m-2 0h2m2 0h2m-2 0h2m-2 0h2m1 0h2m3 0h2m3 0h2m0 0h2m-2 0h2m1 0h2m0 0h2m3 0h2m-2 0h2m4 0h2m-196 1h2m53 0h2m35 0h2m21 0h2m-1 0h2m8 0h2m4 0h2m14 0h2m0 0h2m3 0h2m3 0h2m-2 0h2m10 0h2m-2 0h2m2 0h2m1 0h2m2 0h2m0 0h2m0 0h2m1 0h2m-2 0h2m-1 0h2m0 0h2m-1 0h2m-2 0h2m0 0h2m-2 0h2m-172 1h2m4 0h2m9 0h2m21 0h2m29 0h2m3 0h2m-2 0h2m1 0h2m14 0h2m6 0h2m2 0h2m2 0h2m2 0h2m0 0h2m-1 0h2m0 0h2m0 0h2m1 0h2m0 0h2m7 0h2m-2 0h2m-2 0h2m2 0h2m-1 0h2m2 0h2m7 0h2m-1 0h2m-2 0h2m1 0h2m0 0h2m-1 0h2m3 0h2m-1 0h2m0 0h2m-194 1h2m8 0h2m-2 0h2m10 0h2m44 0h2m6 0h2m0 0h2m4 0h2m25 0h2m2 0h2m-1 0h2m-1 0h2m4 0h2m3 0h2m1 0h2m0 0h2m4 0h2m-1 0h2m0 0h2m0 0h2m-1 0h2m2 0h2m0 0h2m1 0h2m5 0h2m0 0h2m-1 0h2m1 0h2m-1 0h2m4 0h2m-1 0h2m-2 0h2m0 0h2m-2 0h2m-1 0h2m1 0h2m0 0h2m1 0h2m1 0h2m-1 0h2m3 0h2m-190 1h2m40 0h2m15 0h2m18 0h2m13 0h2m13 0h2m13 0h2m-2 0h2m11 0h2m3 0h2m4 0h2m4 0h2m-1 0h2m0 0h2m0 0h2m-1 0h2m0 0h2m-2 0h2m8 0h2m6 0h2m-2 0h2m2 0h2m-237 1h2m51 0h2m6 0h2m2 0h2m7 0h2m31 0h2m-2 0h2m25 0h2m-1 0h2m-2 0h2m7 0h2m0 0h2m16 0h2m-1 0h2m4 0h2m28 0h2m2 0h2m7 0h2m0 0h2m7 0h2m-1 0h2m-1 0h2m1 0h2m1 0h2m-1 0h2m1 0h2m-1 0h2m-1 0h2m0 0h2m-182 1h2m4 0h2m47 0h2m15 0h2m0 0h2m13 0h2m1 0h2m1 0h2m0 0h2m5 0h2m4 0h2m3 0h2m2 0h2m5 0h2m0 0h2m2 0h2m9 0h2m-1 0h2m-2 0h2m3 0h2m-2 0h2m-1 0h2m4 0h2m2 0h2m11 0h2m4 0h2m-151 1h2m36 0h2m4 0h2m1 0h2m-2 0h2m0 0h2m-1 0h2m5 0h2m0 0h2m3 0h2m-2 0h2m-1 0h2m-1 0h2m11 0h2m1 0h2m17 0h2m1 0h2m0 0h2m2 0h2m0 0h2m-2 0h2m-2 0h2m4 0h2m0 0h2m-1 0h2m5 0h2m7 0h2m3 0h2m-1 0h2m-1 0h2m0 0h2m-260 1h2m41 0h2m1 0h2m67 0h2m31 0h2m13 0h2m0 0h2m3 0h2m6 0h2m4 0h2m10 0h2m6 0h2m-1 0h2m2 0h2m0 0h2m1 0h2m-1 0h2m4 0h2m0 0h2m0 0h2m-1 0h2m1 0h2m-2 0h2m-2 0h2m-2 0h2m5 0h2m-2 0h2m2 0h2m3 0h2m0 0h2m-2 0h2m-1 0h2m0 0h2m-1 0h2m-2 0h2m1 0h2m2 0h2m-1 0h2m-1 0h2m-166 1h2m15 0h2m6 0h2m2 0h2m8 0h2m40 0h2m-1 0h2m3 0h2m3 0h2m-1 0h2m-1 0h2m1 0h2m3 0h2m0 0h2m5 0h2m0 0h2m4 0h2m-1 0h2m5 0h2m5 0h2m0 0h2m11 0h2m1 0h2m1 0h2m0 0h2m3 0h2m2 0h2m-153 1h2m62 0h2m7 0h2m9 0h2m0 0h2m0 0h2m10 0h2m6 0h2m-2 0h2m1 0h2m4 0h2m-1 0h2m1 0h2m6 0h2m-1 0h2m-1 0h2m0 0h2m0 0h2m-1 0h2m-2 0h2m-1 0h2m0 0h2m-1 0h2m3 0h2m1 0h2m-1 0h2m-156 1h2m34 0h2m0 0h2m2 0h2m25 0h2m-1 0h2m4 0h2m1 0h2m14 0h2m3 0h2m-1 0h2m-1 0h2m-2 0h2m6 0h2m0 0h2m-1 0h2m-1 0h2m0 0h2m1 0h2m5 0h2m4 0h2m-2 0h2m-2 0h2m-1 0h2m0 0h2m4 0h2m3 0h2m-1 0h2m0 0h2m0 0h2m1 0h2m-1 0h2m-2 0h2m-1 0h2m-114 1h2m6 0h2m4 0h2m2 0h2m11 0h2m-2 0h2m1 0h2m3 0h2m1 0h2m0 0h2m0 0h2m2 0h2m2 0h2m-1 0h2m5 0h2m-1 0h2m3 0h2m-2 0h2m-1 0h2m-1 0h2m-2 0h2m-1 0h2m0 0h2m-1 0h2m4 0h2m1 0h2m0 0h2m-1 0h2m1 0h2m-2 0h2m3 0h2m4 0h2m-2 0h2m7 0h2m-1 0h2m-2 0h2m-2 0h2m-198 1h2m65 0h2m29 0h2m18 0h2m-1 0h2m-1 0h2m1 0h2m0 0h2m-2 0h2m5 0h2m0 0h2m-1 0h2m0 0h2m13 0h2m0 0h2m6 0h2m-2 0h2m5 0h2m-2 0h2m2 0h2m2 0h2m2 0h2m0 0h2m0 0h2m4 0h2m-206 1h2m10 0h2m42 0h2m24 0h2m35 0h2m6 0h2m7 0h2m20 0h2m0 0h2m7 0h2m3 0h2m-2 0h2m1 0h2m2 0h2m4 0h2m-1 0h2m-1 0h2m2 0h2m3 0h2m-1 0h2m-1 0h2m-1 0h2m1 0h2m1 0h2m1 0h2m-2 0h2m-222 1h2m86 0h2m10 0h2m1 0h2m35 0h2m8 0h2m12 0h2m2 0h2m2 0h2m9 0h2m5 0h2m-2 0h2m-1 0h2m-2 0h2m5 0h2m5 0h2m-2 0h2m-1 0h2m-2 0h2m1 0h2m-1 0h2m-1 0h2m-1 0h2m0 0h2m0 0h2m-1 0h2m-192 1h2m10 0h2m46 0h2m45 0h2m13 0h2m25 0h2m0 0h2m3 0h2m0 0h2m-2 0h2m-1 0h2m0 0h2m-2 0h2m-1 0h2m2 0h2m-1 0h2m-1 0h2m1 0h2m5 0h2m-2 0h2m0 0h2m-2 0h2m6 0h2m-2 0h2m-200 1h2m84 0h2m11 0h2m28 0h2m4 0h2m19 0h2m5 0h2m1 0h2m-1 0h2m7 0h2m-2 0h2m1 0h2m-1 0h2m0 0h2m-2 0h2m1 0h2m0 0h2m4 0h2m-1 0h2m3 0h2m-1 0h2m-1 0h2m1 0h2m-119 1h2m13 0h2m9 0h2m8 0h2m7 0h2m6 0h2m-2 0h2m18 0h2m-1 0h2m-2 0h2m3 0h2m3 0h2m-2 0h2m0 0h2m0 0h2m1 0h2m5 0h2m-2 0h2m8 0h2m-2 0h2m0 0h2m3 0h2m-141 1h2m26 0h2m12 0h2m13 0h2m21 0h2m-1 0h2m-2 0h2m17 0h2m1 0h2m5 0h2m4 0h2m1 0h2m1 0h2m0 0h2m2 0h2m2 0h2m5 0h2m-2 0h2m0 0h2m-159 1h2m3 0h2m2 0h2m8 0h2m1 0h2m22 0h2m24 0h2m0 0h2m-1 0h2m6 0h2m3 0h2m1 0h2m-1 0h2m3 0h2m0 0h2m-1 0h2m9 0h2m-1 0h2m6 0h2m1 0h2m0 0h2m5 0h2m6 0h2m1 0h2m4 0h2m0 0h2m-204 1h2m70 0h2m24 0h2m6 0h2m0 0h2m21 0h2m3 0h2m5 0h2m0 0h2m5 0h2m12 0h2m2 0h2m2 0h2m1 0h2m0 0h2m7 0h2m2 0h2m1 0h2m5 0h2m-1 0h2m-140 1h2m25 0h2m17 0h2m11 0h2m6 0h2m3 0h2m3 0h2m1 0h2m1 0h2m-1 0h2m4 0h2m0 0h2m0 0h2m1 0h2m-1 0h2m11 0h2m-1 0h2m1 0h2m-2 0h2m-1 0h2m2 0h2m-2 0h2m0 0h2m6 0h2m1 0h2m1 0h2m1 0h2m-1 0h2m-233 1h2m39 0h2m40 0h2m25 0h2m26 0h2m3 0h2m4 0h2m-2 0h2m7 0h2m7 0h2m1 0h2m5 0h2m3 0h2m2 0h2m-2 0h2m2 0h2m-2 0h2m-1 0h2m0 0h2m1 0h2m7 0h2m-2 0h2m1 0h2m1 0h2m1 0h2m2 0h2m0 0h2m4 0h2m-2 0h2m-1 0h2m-2 0h2m0 0h2m2 0h2m-1 0h2m-224 1h2m16 0h2m68 0h2m11 0h2m6 0h2m6 0h2m1 0h2m12 0h2m-1 0h2m5 0h2m-1 0h2m3 0h2m10 0h2m-1 0h2m0 0h2m12 0h2m4 0h2m-2 0h2m-1 0h2m4 0h2m3 0h2m1 0h2m-2 0h2m-1 0h2m-1 0h2m0 0h2m4 0h2m-1 0h2m-1 0h2m-1 0h2m-2 0h2m0 0h2m-2 0h2m-1 0h2m-2 0h2m-1 0h2m1 0h2m0 0h2m-170 1h2m55 0h2m0 0h2m17 0h2m13 0h2m11 0h2m17 0h2m-1 0h2m2 0h2m3 0h2m2 0h2m-1 0h2m7 0h2m6 0h2m-2 0h2m2 0h2m-1 0h2m5 0h2m-123 1h2m7 0h2m12 0h2m10 0h2m6 0h2m5 0h2m5 0h2m3 0h2m1 0h2m6 0h2m1 0h2m3 0h2m3 0h2m1 0h2m0 0h2m0 0h2m3 0h2m5 0h2m0 0h2m-1 0h2m-2 0h2m-1 0h2m-1 0h2m0 0h2m4 0h2m-201 1h2m11 0h2m29 0h2m56 0h2m13 0h2m13 0h2m2 0h2m12 0h2m6 0h2m4 0h2m6 0h2m18 0h2m-1 0h2m-130 1h2m58 0h2m7 0h2m13 0h2m0 0h2m5 0h2m2 0h2m0 0h2m5 0h2m3 0h2m3 0h2m4 0h2m3 0h2m4 0h2m-1 0h2m-1 0h2m-171 1h2m17 0h2m12 0h2m21 0h2m17 0h2m24 0h2m4 0h2m-2 0h2m16 0h2m3 0h2m6 0h2m3 0h2m-1 0h2m-1 0h2m2 0h2m2 0h2m3 0h2m-1 0h2m2 0h2m-1 0h2m-1 0h2m-1 0h2m4 0h2m-60 1h2m2 0h2m2 0h2m5 0h2m7 0h2m2 0h2m3 0h2m2 0h2m4 0h2m-1 0h2m0 0h2m-2 0h2m5 0h2m-191 1h2m26 0h2m12 0h2m55 0h2m9 0h2m17 0h2m-1 0h2m6 0h2m2 0h2m-1 0h2m8 0h2m-1 0h2m0 0h2m6 0h2m2 0h2m7 0h2m-2 0h2m1 0h2m-1 0h2m-1 0h2m-1 0h2m0 0h2m-1 0h2m-106 1h2m19 0h2m25 0h2m4 0h2m3 0h2m1 0h2m3 0h2m0 0h2m2 0h2m9 0h2m-2 0h2m-1 0h2m9 0h2m-1 0h2m0 0h2m1 0h2m1 0h2m5 0h2m-215 1h2m13 0h2m74 0h2m3 0h2m53 0h2m11 0h2m-1 0h2m3 0h2m-1 0h2m4 0h2m-1 0h2m1 0h2m8 0h2m9 0h2m2 0h2m-2 0h2m-1 0h2m-2 0h2m0 0h2m-1 0h2m-141 1h2m39 0h2m10 0h2m14 0h2m15 0h2m1 0h2m-1 0h2m0 0h2m11 0h2m4 0h2m14 0h2m4 0h2m3 0h2m-1 0h2m0 0h2m-1 0h2m-90 1h2m15 0h2m3 0h2m9 0h2m3 0h2m2 0h2m2 0h2m0 0h2m-1 0h2m2 0h2m3 0h2m1 0h2m-2 0h2m1 0h2m0 0h2m-2 0h2m-1 0h2m-1 0h2m2 0h2m1 0h2m6 0h2m0 0h2m-1 0h2m-1 0h2m-247 1h2m58 0h2m103 0h2m9 0h2m1 0h2m0 0h2m-1 0h2m1 0h2m-1 0h2m-1 0h2m18 0h2m4 0h2m4 0h2m3 0h2m14 0h2m-140 1h2m21 0h2m51 0h2m10 0h2m-1 0h2m6 0h2m-2 0h2m4 0h2m-1 0h2m11 0h2m3 0h2m0 0h2m2 0h2m-236 1h2m133 0h2m2 0h2m9 0h2m15 0h2m2 0h2m23 0h2m4 0h2m9 0h2m3 0h2m8 0h2m12 0h2m0 0h2m0 0h2m2 0h2m-163 1h2m35 0h2m22 0h2m16 0h2m23 0h2m13 0h2m4 0h2m7 0h2m-1 0h2m4 0h2m0 0h2m2 0h2m1 0h2m3 0h2m-1 0h2m-150 1h2m70 0h2m7 0h2m16 0h2m9 0h2m0 0h2m4 0h2m8 0h2m0 0h2m4 0h2m7 0h2m-1 0h2m0 0h2m2 0h2m-137 1h2m8 0h2m20 0h2m1 0h2m28 0h2m9 0h2m0 0h2m0 0h2m4 0h2m0 0h2m-1 0h2m1 0h2m18 0h2m-1 0h2m0 0h2m-1 0h2m-1 0h2m0 0h2m0 0h2m-2 0h2m1 0h2m2 0h2m-1 0h2m0 0h2m0 0h2m-2 0h2m-1 0h2m-105 1h2m16 0h2m20 0h2m-1 0h2m9 0h2m16 0h2m2 0h2m-2 0h2m3 0h2m-2 0h2m-1 0h2m8 0h2m12 0h2m-61 1h2m18 0h2m3 0h2m8 0h2m-1 0h2m0 0h2m3 0h2m7 0h2m-2 0h2m-1 0h2m-2 0h2m-1 0h2m-1 0h2m-1 0h2m2 0h2m-115 1h2m27 0h2m33 0h2m7 0h2m1 0h2m-1 0h2m0 0h2m16 0h2m2 0h2m3 0h2m4 0h2m-242 1h2m63 0h2m85 0h2m41 0h2m10 0h2m-2 0h2m9 0h2m3 0h2m1 0h2m2 0h2m-99 1h2m0 0h2m56 0h2m-1 0h2m14 0h2m0 0h2m0 0h2m1 0h2m9 0h2m0 0h2m-1 0h2m-1 0h2m-1 0h2m-2 0h2m4 0h2m-184 1h2m96 0h2m10 0h2m29 0h2m0 0h2m-1 0h2m15 0h2m-1 0h2m4 0h2m-1 0h2m-2 0h2m1 0h2m1 0h2m1 0h2m-1 0h2m0 0h2m-128 1h2m7 0h2m18 0h2m19 0h2m7 0h2m11 0h2m1 0h2m1 0h2m1 0h2m8 0h2m0 0h2m1 0h2m8 0h2m3 0h2m11 0h2m-2 0h2m-1 0h2m1 0h2m-165 1h2m59 0h2m16 0h2m5 0h2m47 0h2m4 0h2m5 0h2m-1 0h2m8 0h2m-2 0h2m0 0h2m-1 0h2m-125 1h2m19 0h2m6 0h2m41 0h2m15 0h2m1 0h2m11 0h2m0 0h2m-2 0h2m0 0h2m-1 0h2m3 0h2m-1 0h2m0 0h2m-1 0h2m-95 1h2m24 0h2m12 0h2m25 0h2m1 0h2m0 0h2m-1 0h2m1 0h2m7 0h2m2 0h2m2 0h2m4 0h2m-158 1h2m63 0h2m20 0h2m2 0h2m17 0h2m-2 0h2m0 0h2m12 0h2m4 0h2m-1 0h2m1 0h2m1 0h2m2 0h2m5 0h2m2 0h2m-113 1h2m16 0h2m-1 0h2m14 0h2m7 0h2m24 0h2m13 0h2m3 0h2m-2 0h2m7 0h2m-1 0h2m3 0h2m-2 0h2m0 0h2m-124 1h2m70 0h2m19 0h2m-2 0h2m16 0h2m-51 1h2m30 0h2m6 0h2m1 0h2m9 0h2m1 0h2m-2 0h2m-105 1h2m16 0h2m28 0h2m23 0h2m10 0h2m9 0h2m5 0h2m-1 0h2m3 0h2m1 0h2m-175 1h2m80 0h2m0 0h2m53 0h2m7 0h2m15 0h2m1 0h2m1 0h2m-82 1h2m4 0h2m11 0h2m21 0h2m-1 0h2m-2 0h2m4 0h2m8 0h2m7 0h2m4 0h2m0 0h2m4 0h2m-200 1h2m34 0h2m71 0h2m10 0h2m19 0h2m12 0h2m5 0h2m5 0h2m2 0h2m1 0h2m0 0h2m0 0h2m-2 0h2m14 0h2m-78 1h2m15 0h2m35 0h2m1 0h2m6 0h2m-1 0h2m-1 0h2m-1 0h2m-31 1h2m9 0h2m24 0h2m-69 1h2m-1 0h2m39 0h2m10 0h2m1 0h2"/>
<path class="a" d="M430.5 522.5v-2.7M430.5 303.5v2.7M476 522.5v-2.7M476 303.5v2.7M521.6 522.5v-2.7M521.6 303.5v2.7M567.1 522.5v-2.7M567.1 303.5v2.7M612.7 522.5v-2.7M612.7 303.5v2.7M658.2 522.5v-2.7M658.2 303.5v2.7M400.5 497.2h2.7M677.5 497.2h-2.7M400.5 459.3h2.7M677.5 459.3h-2.7M400.5 421.4h2.7M677.5 421.4h-2.7M400.5 383.4h2.7M677.5 383.4h-2.7M400.5 345.5h2.7M677.5 345.5h-2.7M400.5 307.6h2.7M677.5 307.6h-2.7"/>
<rect class="a" x="400.5" y="303.5" width="277" height="219"/>
<g clip-path="url(#c4)">
<path class="m" d="M401 304C401.3 306.6 401.7 313.9 402.6 319.7C403.5 325.5 404.7 332.4 406.4 338.8C408.1 345.2 410.3 351.5 412.7 357.8C415.1 364.1 418.1 370.7 420.8 376.8C423.5 382.9 426.5 389.1 429 394.5C431.5 399.9 433.9 404.4 435.8 409.4C437.8 414.4 439.7 419.9 440.7 424.4C441.7 428.9 442.1 432.2 442 436.6C441.9 441 440.8 446.8 439.9 450.5C439 454.2 438 456.2 436.9 458.8C435.8 461.4 434.4 463.5 433 465.8C431.6 468.1 430.1 470.5 428.5 472.8C426.9 475.1 425.2 477.5 423.6 479.8C422 482.1 420.2 484.4 418.7 486.7C417.2 489 415.9 491.4 414.5 493.7C413.1 496 411.8 498.4 410.6 500.7C409.5 503 408.5 505.4 407.6 507.7C406.7 510 405.7 512.3 405 514.7C404.3 517.1 403.5 521 403.2 522.2"/>
<path class="m" d="M400.5 522.4C412.1 522.4 449.6 522.4 470 522.3C490.4 522.2 509.2 522.2 522.7 521.9C536.2 521.6 543.8 521 551.3 520.3C558.8 519.6 562.2 518.9 567.6 517.6C573 516.3 578.5 514.5 583.9 512.7C589.3 510.9 594.8 508.9 600.2 506.7C605.6 504.5 611.5 501.9 616.5 499.6C621.5 497.3 626.2 494.7 630.1 493.1C634 491.5 636.9 490.4 639.6 489.8C642.3 489.2 644.1 489.2 646.4 489.8C648.7 490.4 650.9 491.8 653.2 493.6C655.5 495.4 657.5 497.7 660 500.4C662.5 503.1 665.2 507.1 668.2 510C671.2 512.9 676.1 516.3 677.7 517.6"/>
<path class="c" d="M673 325.7C671.7 324.2 668 319.4 665.4 317C662.8 314.6 660 312.8 657.3 311.6C654.6 310.4 652 310.1 649.1 309.7C646.2 309.3 643.2 309.1 639.6 309.4C636 309.7 631.7 310.1 627.4 311.6C623.1 313.1 618.3 315.4 613.8 318.4C609.3 321.3 604.7 325 600.2 329.3C595.7 333.6 591.1 338.1 586.6 344.2C582.1 350.3 577.5 358.2 573 365.9C568.5 373.6 563.6 382.7 559.5 390.4C555.4 398.1 551.3 406.2 548.6 412.1C545.9 418 544.3 421.6 543.2 425.7C542.1 429.8 541.8 432.8 541.8 436.6C541.8 440.5 542.1 444.3 543.2 448.8C544.3 453.3 546.4 458.6 548.6 463.8C550.9 469 553.5 474.7 556.7 480.1C559.9 485.5 564 491.4 567.6 496.4C571.2 501.4 575 506.4 578.5 510C582 513.6 586.8 516.8 588.5 518.1"/>
<path class="c" d="M667.6 518.7C668.4 517.5 671.4 512.5 672.2 511.3"/>
<path class="c" d="M639.6 374.9C636.2 375.7 631.2 377.9 627.4 380.9C623.5 383.9 619.6 388.4 616.5 393.1C613.4 397.9 610.8 403.5 608.9 409.4C607 415.3 605.6 422 605.1 428.4C604.6 434.8 604.7 441.6 605.7 447.5C606.7 453.4 608.9 459.1 611.1 463.8C613.4 468.6 616.2 472.8 619.2 476C622.2 479.2 625.6 481.4 628.8 482.8C632 484.2 634.9 484.8 638.3 484.1C641.7 483.4 645.7 481.6 649.1 478.7C652.5 475.8 656 471.2 658.6 466.5C661.2 461.8 663.5 456.1 664.9 450.2C666.3 444.3 667.1 437.5 667.3 431.2C667.5 424.9 667.1 418 666.3 412.1C665.4 406.2 663.9 400.6 662.2 395.8C660.5 391.1 658.3 386.9 655.9 383.6C653.5 380.4 650.5 377.8 647.8 376.3C645.1 374.9 643 374.1 639.6 374.9Z"/>
</g>
<g font-size="8.20" text-anchor="middle">
<text x="430.5" y="534.8">500</text>
<text x="476" y="534.8">600</text>
<text x="521.6" y="534.8">700</text>
<text x="567.1" y="534.8">800</text>
<text x="612.7" y="534.8">900</text>
<text x="658.2" y="534.8">1000</text>
</g>
<g font-size="8.20" text-anchor="end">
<text x="397.1" y="500.3">1.5</text>
<text x="397.1" y="462.4">2</text>
<text x="397.1" y="424.4">2.5</text>
<text x="397.1" y="386.5">3</text>
<text x="397.1" y="348.6">3.5</text>
<text x="397.1" y="310.7">4</text>
</g>
<text font-size="9.34" text-anchor="middle" x="539" y="548">k p8</text>
<text font-size="9.34" text-anchor="middle" transform="translate(380 413.9) rotate(-90)">Ea k p8</text>
<text font-size="8.20" x="401" y="301.7">× 10<tspan dx="0.7" dy="-3.9" font-size="6.56">4</tspan></text>
</g>
<g id="panel5">
<clipPath id="c5"><rect x="41.8" y="586.3" width="292.4" height="231.4"/></clipPath>
<path class="d" transform="scale(0.5)" d="M537 1211h2m-57 1h2m18 0h2m46 0h2m-80 1h2m21 0h2m0 0h2m8 0h2m-40 1h2m22 0h2m40 0h2m1 0h2m-95 1h2m29 0h2m24 0h2m49 0h2m-91 1h2m45 0h2m-71 1h2m11 0h2m7 0h2m26 0h2m38 0h2m21 0h2m7 0h2m-130 1h2m37 0h2m11 0h2m8 0h2m6 0h2m5 0h2m2 0h2m6 0h2m-50 1h2m0 0h2m5 0h2m22 0h2m12 0h2m4 0h2m23 0h2m-1 0h2m5 0h2m3 0h2m-99 1h2m25 0h2m-22 1h2m1 0h2m9 0h2m-1 0h2m39 0h2m16 0h2m1 0h2m-116 1h2m12 0h2m11 0h2m26 0h2m5 0h2m11 0h2m10 0h2m29 0h2m4 0h2m-118 1h2m8 0h2m27 0h2m10 0h2m4 0h2m1 0h2m6 0h2m5 0h2m-1 0h2m7 0h2m14 0h2m-117 1h2m12 0h2m32 0h2m17 0h2m-1 0h2m7 0h2m2 0h2m19 0h2m4 0h2m18 0h2m-100 1h2m9 0h2m7 0h2m14 0h2m3 0h2m1 0h2m20 0h2m4 0h2m16 0h2m-61 1h2m2 0h2m5 0h2m1 0h2m0 0h2m6 0h2m6 0h2m18 0h2m7 0h2m-1 0h2m-1 0h2m17 0h2m-98 1h2m16 0h2m3 0h2m-2 0h2m3 0h2m11 0h2m13 0h2m32 0h2m-1 0h2m-105 1h2m7 0h2m4 0h2m3 0h2m11 0h2m23 0h2m5 0h2m0 0h2m-2 0h2m3 0h2m-78 1h2m18 0h2m5 0h2m-2 0h2m1 0h2m0 0h2m0 0h2m9 0h2m-2 0h2m9 0h2m6 0h2m12 0h2m19 0h2m-70 1h2m3 0h2m-1 0h2m0 0h2m-1 0h2m-1 0h2m6 0h2m24 0h2m-1 0h2m4 0h2m11 0h2m-88 1h2m9 0h2m0 0h2m5 0h2m-1 0h2m-1 0h2m10 0h2m-1 0h2m0 0h2m11 0h2m-1 0h2m-1 0h2m5 0h2m-1 0h2m25 0h2m-100 1h2m0 0h2m1 0h2m1 0h2m52 0h2m3 0h2m21 0h2m8 0h2m5 0h2m-109 1h2m2 0h2m24 0h2m-2 0h2m4 0h2m10 0h2m-1 0h2m0 0h2m-1 0h2m-1 0h2m20 0h2m0 0h2m-1 0h2m-207 1h2m141 0h2m1 0h2m-2 0h2m3 0h2m14 0h2m-1 0h2m0 0h2m4 0h2m-1 0h2m6 0h2m7 0h2m4 0h2m12 0h2m8 0h2m-90 1h2m25 0h2m-1 0h2m-1 0h2m0 0h2m0 0h2m2 0h2m4 0h2m-1 0h2m-2 0h2m-2 0h2m5 0h2m8 0h2m5 0h2m4 0h2m0 0h2m-108 1h2m12 0h2m-1 0h2m14 0h2m-1 0h2m28 0h2m1 0h2m-1 0h2m-1 0h2m3 0h2m-1 0h2m6 0h2m9 0h2m7 0h2m-104 1h2m21 0h2m-2 0h2m5 0h2m11 0h2m-2 0h2m15 0h2m1 0h2m1 0h2m0 0h2m5 0h2m8 0h2m6 0h2m-1 0h2m-1 0h2m9 0h2m0 0h2m8 0h2m-109 1h2m25 0h2m22 0h2m0 0h2m2 0h2m8 0h2m21 0h2m20 0h2m-279 1h2m170 0h2m14 0h2m22 0h2m2 0h2m5 0h2m-1 0h2m2 0h2m-1 0h2m11 0h2m1 0h2m31 0h2m-123 1h2m8 0h2m-2 0h2m27 0h2m1 0h2m2 0h2m1 0h2m0 0h2m2 0h2m1 0h2m-2 0h2m-1 0h2m5 0h2m0 0h2m6 0h2m9 0h2m-2 0h2m0 0h2m9 0h2m-64 1h2m14 0h2m2 0h2m1 0h2m1 0h2m3 0h2m-1 0h2m4 0h2m3 0h2m2 0h2m10 0h2m12 0h2m3 0h2m22 0h2m-121 1h2m9 0h2m1 0h2m0 0h2m-1 0h2m0 0h2m4 0h2m3 0h2m1 0h2m5 0h2m-1 0h2m1 0h2m1 0h2m2 0h2m4 0h2m7 0h2m-1 0h2m11 0h2m8 0h2m-2 0h2m5 0h2m2 0h2m7 0h2m-127 1h2m23 0h2m-1 0h2m27 0h2m6 0h2m2 0h2m-1 0h2m-91 1h2m10 0h2m23 0h2m-1 0h2m1 0h2m-2 0h2m-1 0h2m0 0h2m-2 0h2m2 0h2m22 0h2m5 0h2m2 0h2m6 0h2m7 0h2m2 0h2m2 0h2m38 0h2m0 0h2m-152 1h2m59 0h2m0 0h2m2 0h2m6 0h2m14 0h2m1 0h2m-2 0h2m0 0h2m7 0h2m9 0h2m-117 1h2m15 0h2m20 0h2m7 0h2m6 0h2m1 0h2m5 0h2m-2 0h2m1 0h2m1 0h2m8 0h2m0 0h2m6 0h2m11 0h2m16 0h2m-81 1h2m-1 0h2m17 0h2m-1 0h2m6 0h2m0 0h2m0 0h2m9 0h2m0 0h2m-1 0h2m4 0h2m1 0h2m8 0h2m3 0h2m22 0h2m-102 1h2m14 0h2m9 0h2m11 0h2m2 0h2m0 0h2m59 0h2m-142 1h2m16 0h2m17 0h2m0 0h2m-2 0h2m-1 0h2m4 0h2m-1 0h2m1 0h2m-1 0h2m-2 0h2m9 0h2m1 0h2m-1 0h2m4 0h2m0 0h2m3 0h2m-1 0h2m1 0h2m13 0h2m12 0h2m-67 1h2m7 0h2m9 0h2m-2 0h2m-2 0h2m5 0h2m-1 0h2m5 0h2m-2 0h2m10 0h2m-1 0h2m-2 0h2m9 0h2m64 0h2m-177 1h2m19 0h2m17 0h2m21 0h2m1 0h2m7 0h2m3 0h2m-2 0h2m-1 0h2m10 0h2m0 0h2m0 0h2m9 0h2m-2 0h2m17 0h2m42 0h2m-153 1h2m6 0h2m13 0h2m8 0h2m0 0h2m-2 0h2m6 0h2m0 0h2m1 0h2m-1 0h2m-2 0h2m1 0h2m18 0h2m1 0h2m0 0h2m5 0h2m31 0h2m-100 1h2m4 0h2m1 0h2m-2 0h2m9 0h2m-2 0h2m-1 0h2m1 0h2m2 0h2m0 0h2m4 0h2m0 0h2m-1 0h2m-1 0h2m5 0h2m6 0h2m10 0h2m17 0h2m7 0h2m6 0h2m4 0h2m5 0h2m-168 1h2m40 0h2m8 0h2m-2 0h2m3 0h2m-1 0h2m5 0h2m-1 0h2m1 0h2m4 0h2m0 0h2m-1 0h2m-2 0h2m7 0h2m2 0h2m0 0h2m-2 0h2m-1 0h2m3 0h2m6 0h2m-1 0h2m-2 0h2m9 0h2m31 0h2m-108 1h2m7 0h2m5 0h2m1 0h2m-2 0h2m9 0h2m-2 0h2m-2 0h2m-2 0h2m2 0h2m-1 0h2m3 0h2m-1 0h2m0 0h2m-1 0h2m2 0h2m1 0h2m7 0h2m1 0h2m3 0h2m-1 0h2m-1 0h2m8 0h2m2 0h2m-1 0h2m-166 1h2m56 0h2m27 0h2m24 0h2m0 0h2m3 0h2m6 0h2m2 0h2m1 0h2m-1 0h2m64 0h2m-108 1h2m-2 0h2m0 0h2m-1 0h2m9 0h2m-1 0h2m-1 0h2m6 0h2m2 0h2m-1 0h2m-1 0h2m27 0h2m3 0h2m8 0h2m-280 1h2m55 0h2m115 0h2m11 0h2m1 0h2m3 0h2m5 0h2m2 0h2m7 0h2m-1 0h2m-1 0h2m3 0h2m4 0h2m6 0h2m0 0h2m1 0h2m4 0h2m9 0h2m3 0h2m7 0h2m-102 1h2m8 0h2m2 0h2m4 0h2m5 0h2m2 0h2m7 0h2m6 0h2m0 0h2m-1 0h2m2 0h2m0 0h2m0 0h2m-2 0h2m1 0h2m1 0h2m15 0h2m3 0h2m8 0h2m9 0h2m-122 1h2m-1 0h2m8 0h2m24 0h2m19 0h2m4 0h2m3 0h2m1 0h2m0 0h2m-2 0h2m5 0h2m-2 0h2m3 0h2m0 0h2m4 0h2m9 0h2m3 0h2m-1 0h2m-86 1h2m-1 0h2m14 0h2m1 0h2m2 0h2m-1 0h2m5 0h2m5 0h2m7 0h2m0 0h2m16 0h2m6 0h2m0 0h2m11 0h2m9 0h2m-130 1h2m9 0h2m0 0h2m28 0h2m0 0h2m1 0h2m0 0h2m2 0h2m4 0h2m-1 0h2m-1 0h2m-1 0h2m1 0h2m-1 0h2m14 0h2m5 0h2m-1 0h2m8 0h2m-119 1h2m12 0h2m7 0h2m18 0h2m-1 0h2m14 0h2m7 0h2m-2 0h2m6 0h2m10 0h2m-1 0h2m4 0h2m7 0h2m-99 1h2m4 0h2m23 0h2m4 0h2m4 0h2m8 0h2m3 0h2m15 0h2m-2 0h2m0 0h2m5 0h2m2 0h2m-1 0h2m0 0h2m1 0h2m2 0h2m3 0h2m8 0h2m1 0h2m11 0h2m8 0h2m-138 1h2m26 0h2m-2 0h2m6 0h2m3 0h2m0 0h2m16 0h2m-2 0h2m-1 0h2m8 0h2m9 0h2m-1 0h2m-1 0h2m0 0h2m10 0h2m3 0h2m18 0h2m-197 1h2m66 0h2m15 0h2m21 0h2m6 0h2m9 0h2m8 0h2m-1 0h2m-2 0h2m4 0h2m9 0h2m8 0h2m4 0h2m-1 0h2m12 0h2m0 0h2m3 0h2m45 0h2m-182 1h2m33 0h2m15 0h2m-1 0h2m3 0h2m6 0h2m17 0h2m-2 0h2m-1 0h2m4 0h2m3 0h2m2 0h2m-1 0h2m4 0h2m3 0h2m9 0h2m-100 1h2m27 0h2m3 0h2m-2 0h2m-1 0h2m0 0h2m-1 0h2m2 0h2m0 0h2m-1 0h2m-1 0h2m1 0h2m3 0h2m9 0h2m9 0h2m-1 0h2m2 0h2m-1 0h2m4 0h2m-113 1h2m18 0h2m10 0h2m24 0h2m-1 0h2m6 0h2m9 0h2m2 0h2m2 0h2m4 0h2m6 0h2m-1 0h2m3 0h2m3 0h2m-1 0h2m12 0h2m-126 1h2m14 0h2m5 0h2m23 0h2m2 0h2m16 0h2m10 0h2m0 0h2m3 0h2m1 0h2m0 0h2m5 0h2m0 0h2m5 0h2m-1 0h2m-86 1h2m-1 0h2m19 0h2m21 0h2m-1 0h2m1 0h2m0 0h2m0 0h2m14 0h2m10 0h2m1 0h2m0 0h2m26 0h2m8 0h2m-150 1h2m45 0h2m-1 0h2m6 0h2m2 0h2m-1 0h2m7 0h2m2 0h2m0 0h2m5 0h2m-1 0h2m0 0h2m4 0h2m2 0h2m23 0h2m7 0h2m0 0h2m2 0h2m-87 1h2m3 0h2m-2 0h2m2 0h2m4 0h2m7 0h2m20 0h2m-1 0h2m23 0h2m-220 1h2m114 0h2m11 0h2m12 0h2m3 0h2m10 0h2m0 0h2m-2 0h2m-1 0h2m8 0h2m0 0h2m0 0h2m-1 0h2m1 0h2m-1 0h2m0 0h2m0 0h2m10 0h2m12 0h2m-88 1h2m1 0h2m24 0h2m6 0h2m9 0h2m1 0h2m14 0h2m3 0h2m3 0h2m3 0h2m14 0h2m-113 1h2m18 0h2m5 0h2m5 0h2m0 0h2m0 0h2m6 0h2m4 0h2m7 0h2m-1 0h2m1 0h2m0 0h2m-2 0h2m-1 0h2m1 0h2m5 0h2m14 0h2m17 0h2m2 0h2m-135 1h2m16 0h2m17 0h2m25 0h2m3 0h2m-1 0h2m-2 0h2m1 0h2m6 0h2m6 0h2m-1 0h2m1 0h2m-1 0h2m14 0h2m4 0h2m-1 0h2m7 0h2m2 0h2m27 0h2m-128 1h2m4 0h2m5 0h2m3 0h2m3 0h2m1 0h2m-2 0h2m1 0h2m-2 0h2m0 0h2m0 0h2m1 0h2m1 0h2m2 0h2m2 0h2m0 0h2m0 0h2m0 0h2m11 0h2m-1 0h2m1 0h2m2 0h2m5 0h2m-88 1h2m0 0h2m31 0h2m28 0h2m-1 0h2m2 0h2m-1 0h2m6 0h2m-1 0h2m2 0h2m10 0h2m-2 0h2m1 0h2m10 0h2m4 0h2m-164 1h2m42 0h2m4 0h2m0 0h2m3 0h2m0 0h2m9 0h2m1 0h2m4 0h2m1 0h2m-1 0h2m11 0h2m3 0h2m5 0h2m8 0h2m-2 0h2m14 0h2m15 0h2m0 0h2m12 0h2m2 0h2m-155 1h2m17 0h2m24 0h2m-2 0h2m0 0h2m0 0h2m10 0h2m3 0h2m2 0h2m4 0h2m-1 0h2m1 0h2m-1 0h2m20 0h2m26 0h2m15 0h2m-133 1h2m10 0h2m4 0h2m14 0h2m3 0h2m0 0h2m0 0h2m0 0h2m7 0h2m3 0h2m-2 0h2m5 0h2m3 0h2m1 0h2m26 0h2m3 0h2m3 0h2m-1 0h2m-315 1h2m183 0h2m13 0h2m9 0h2m20 0h2m0 0h2m3 0h2m13 0h2m2 0h2m-111 1h2m35 0h2m14 0h2m14 0h2m25 0h2m3 0h2m4 0h2m2 0h2m5 0h2m-1 0h2m0 0h2m0 0h2m45 0h2m10 0h2m-216 1h2m83 0h2m7 0h2m1 0h2m-2 0h2m2 0h2m-2 0h2m5 0h2m-2 0h2m15 0h2m2 0h2m12 0h2m9 0h2m1 0h2m0 0h2m8 0h2m19 0h2m-206 1h2m56 0h2m-2 0h2m59 0h2m21 0h2m2 0h2m15 0h2m8 0h2m16 0h2m-117 1h2m26 0h2m32 0h2m7 0h2m3 0h2m-2 0h2m1 0h2m2 0h2m3 0h2m-1 0h2m16 0h2m3 0h2m10 0h2m9 0h2m-121 1h2m4 0h2m12 0h2m7 0h2m1 0h2m5 0h2m0 0h2m5 0h2m10 0h2m4 0h2m-1 0h2m1 0h2m3 0h2m-1 0h2m3 0h2m2 0h2m-1 0h2m-2 0h2m0 0h2m13 0h2m7 0h2m18 0h2m-274 1h2m137 0h2m11 0h2m-2 0h2m-2 0h2m11 0h2m4 0h2m8 0h2m5 0h2m-1 0h2m4 0h2m-1 0h2m4 0h2m14 0h2m5 0h2m5 0h2m-2 0h2m3 0h2m3 0h2m-2 0h2m-218 1h2m129 0h2m2 0h2m3 0h2m0 0h2m5 0h2m9 0h2m6 0h2m0 0h2m0 0h2m-2 0h2m1 0h2m4 0h2m-2 0h2m6 0h2m2 0h2m4 0h2m4 0h2m-1 0h2m18 0h2m-1 0h2m0 0h2m14 0h2m1 0h2m-287 1h2m118 0h2m23 0h2m31 0h2m3 0h2m-1 0h2m3 0h2m1 0h2m13 0h2m-1 0h2m2 0h2m-1 0h2m6 0h2m7 0h2m1 0h2m0 0h2m3 0h2m3 0h2m1 0h2m0 0h2m21 0h2m-133 1h2m5 0h2m0 0h2m8 0h2m35 0h2m1 0h2m0 0h2m1 0h2m3 0h2m2 0h2m8 0h2m8 0h2m0 0h2m-1 0h2m-2 0h2m10 0h2m32 0h2m-119 1h2m0 0h2m9 0h2m9 0h2m0 0h2m0 0h2m4 0h2m3 0h2m0 0h2m-1 0h2m10 0h2m3 0h2m-1 0h2m-2 0h2m7 0h2m27 0h2m6 0h2m-1 0h2m-96 1h2m23 0h2m6 0h2m3 0h2m30 0h2m10 0h2m-308 1h2m151 0h2m14 0h2m38 0h2m4 0h2m0 0h2m3 0h2m15 0h2m0 0h2m2 0h2m-2 0h2m-1 0h2m11 0h2m0 0h2m-1 0h2m-1 0h2m1 0h2m1 0h2m22 0h2m0 0h2m-1 0h2m7 0h2m6 0h2m32 0h2m-177 1h2m0 0h2m9 0h2m17 0h2m3 0h2m-1 0h2m11 0h2m13 0h2m-1 0h2m0 0h2m-2 0h2m-1 0h2m9 0h2m6 0h2m-1 0h2m0 0h2m2 0h2m0 0h2m42 0h2m-152 1h2m53 0h2m32 0h2m-1 0h2m4 0h2m1 0h2m3 0h2m-2 0h2m8 0h2m15 0h2m5 0h2m9 0h2m-132 1h2m14 0h2m11 0h2m-1 0h2m5 0h2m3 0h2m5 0h2m4 0h2m0 0h2m7 0h2m0 0h2m-1 0h2m2 0h2m11 0h2m-2 0h2m2 0h2m0 0h2m15 0h2m14 0h2m3 0h2m-168 1h2m47 0h2m7 0h2m5 0h2m1 0h2m0 0h2m2 0h2m-1 0h2m15 0h2m2 0h2m4 0h2m1 0h2m-2 0h2m0 0h2m3 0h2m0 0h2m-1 0h2m2 0h2m-1 0h2m2 0h2m1 0h2m0 0h2m2 0h2m32 0h2m11 0h2m-1 0h2m-172 1h2m21 0h2m19 0h2m2 0h2m18 0h2m5 0h2m8 0h2m5 0h2m0 0h2m4 0h2m7 0h2m5 0h2m8 0h2m32 0h2m14 0h2m-169 1h2m26 0h2m11 0h2m12 0h2m6 0h2m2 0h2m1 0h2m8 0h2m2 0h2m13 0h2m4 0h2m1 0h2m1 0h2m0 0h2m2 0h2m3 0h2m17 0h2m-117 1h2m5 0h2m3 0h2m17 0h2m2 0h2m-1 0h2m4 0h2m2 0h2m0 0h2m1 0h2m-2 0h2m-2 0h2m1 0h2m2 0h2m-1 0h2m2 0h2m0 0h2m4 0h2m0 0h2m15 0h2m-2 0h2m6 0h2m3 0h2m1 0h2m6 0h2m-1 0h2m4 0h2m9 0h2m10 0h2m-190 1h2m10 0h2m25 0h2m3 0h2m6 0h2m12 0h2m3 0h2m2 0h2m-1 0h2m0 0h2m10 0h2m2 0h2m6 0h2m-1 0h2m0 0h2m-1 0h2m-1 0h2m6 0h2m3 0h2m7 0h2m-1 0h2m5 0h2m-2 0h2m-2 0h2m0 0h2m1 0h2m0 0h2m3 0h2m14 0h2m12 0h2m-168 1h2m-1 0h2m40 0h2m-1 0h2m6 0h2m1 0h2m1 0h2m12 0h2m16 0h2m-2 0h2m1 0h2m-1 0h2m11 0h2m2 0h2m10 0h2m27 0h2m5 0h2m-155 1h2m27 0h2m9 0h2m1 0h2m9 0h2m-1 0h2m1 0h2m0 0h2m7 0h2m10 0h2m7 0h2m-2 0h2m14 0h2m2 0h2m2 0h2m1 0h2m22 0h2m7 0h2m-123 1h2m15 0h2m1 0h2m9 0h2m1 0h2m2 0h2m2 0h2m-2 0h2m0 0h2m7 0h2m6 0h2m-1 0h2m6 0h2m19 0h2m5 0h2m11 0h2m4 0h2m1 0h2m20 0h2m-291 1h2m139 0h2m5 0h2m13 0h2m24 0h2m6 0h2m-2 0h2m3 0h2m2 0h2m0 0h2m4 0h2m3 0h2m4 0h2m-1 0h2m-1 0h2m-1 0h2m9 0h2m9 0h2m2 0h2m-86 1h2m4 0h2m6 0h2m-1 0h2m9 0h2m6 0h2m2 0h2m12 0h2m1 0h2m9 0h2m9 0h2m-132 1h2m24 0h2m10 0h2m2 0h2m5 0h2m1 0h2m4 0h2m16 0h2m12 0h2m4 0h2m4 0h2m-1 0h2m1 0h2m4 0h2m-1 0h2m-2 0h2m11 0h2m10 0h2m-123 1h2m17 0h2m6 0h2m1 0h2m-2 0h2m19 0h2m-1 0h2m-1 0h2m3 0h2m6 0h2m1 0h2m0 0h2m0 0h2m9 0h2m6 0h2m1 0h2m1 0h2m14 0h2m-1 0h2m11 0h2m14 0h2m-178 1h2m24 0h2m19 0h2m2 0h2m16 0h2m3 0h2m0 0h2m10 0h2m7 0h2m-1 0h2m1 0h2m6 0h2m-1 0h2m7 0h2m20 0h2m21 0h2m-84 1h2m6 0h2m12 0h2m5 0h2m3 0h2m2 0h2m-2 0h2m5 0h2m0 0h2m8 0h2m5 0h2m6 0h2m-166 1h2m40 0h2m20 0h2m1 0h2m4 0h2m3 0h2m15 0h2m-1 0h2m1 0h2m4 0h2m3 0h2m2 0h2m8 0h2m-1 0h2m2 0h2m-1 0h2m-1 0h2m0 0h2m0 0h2m13 0h2m-1 0h2m1 0h2m12 0h2m2 0h2m-1 0h2m5 0h2m-205 1h2m59 0h2m1 0h2m11 0h2m18 0h2m4 0h2m7 0h2m8 0h2m-1 0h2m-1 0h2m-1 0h2m1 0h2m0 0h2m5 0h2m-1 0h2m6 0h2m1 0h2m4 0h2m4 0h2m5 0h2m30 0h2m-267 1h2m121 0h2m18 0h2m3 0h2m4 0h2m10 0h2m-2 0h2m2 0h2m4 0h2m1 0h2m7 0h2m-1 0h2m13 0h2m1 0h2m2 0h2m3 0h2m-1 0h2m0 0h2m6 0h2m0 0h2m10 0h2m-128 1h2m8 0h2m12 0h2m12 0h2m-1 0h2m6 0h2m4 0h2m-1 0h2m-1 0h2m1 0h2m-1 0h2m0 0h2m0 0h2m1 0h2m16 0h2m-2 0h2m-1 0h2m3 0h2m-2 0h2m-1 0h2m1 0h2m14 0h2m-1 0h2m-2 0h2m3 0h2m1 0h2m8 0h2m-1 0h2m4 0h2m-119 1h2m8 0h2m6 0h2m9 0h2m0 0h2m1 0h2m16 0h2m13 0h2m-2 0h2m7 0h2m-1 0h2m-2 0h2m2 0h2m-2 0h2m1 0h2m2 0h2m0 0h2m-1 0h2m2 0h2m1 0h2m4 0h2m10 0h2m0 0h2m9 0h2m10 0h2m-163 1h2m36 0h2m-1 0h2m9 0h2m9 0h2m1 0h2m0 0h2m3 0h2m29 0h2m5 0h2m11 0h2m3 0h2m5 0h2m-144 1h2m1 0h2m36 0h2m21 0h2m2 0h2m16 0h2m-2 0h2m1 0h2m-1 0h2m11 0h2m-2 0h2m-2 0h2m0 0h2m2 0h2m3 0h2m4 0h2m1 0h2m15 0h2m5 0h2m-113 1h2m-1 0h2m15 0h2m0 0h2m3 0h2m11 0h2m-2 0h2m-1 0h2m-2 0h2m-1 0h2m2 0h2m18 0h2m1 0h2m-2 0h2m-2 0h2m4 0h2m14 0h2m8 0h2m0 0h2m-1 0h2m4 0h2m-121 1h2m29 0h2m8 0h2m-1 0h2m2 0h2m-1 0h2m-1 0h2m0 0h2m0 0h2m9 0h2m4 0h2m2 0h2m9 0h2m4 0h2m1 0h2m-1 0h2m7 0h2m9 0h2m2 0h2m-2 0h2m-115 1h2m0 0h2m9 0h2m11 0h2m0 0h2m25 0h2m12 0h2m-1 0h2m9 0h2m4 0h2m2 0h2m7 0h2m5 0h2m-1 0h2m24 0h2m-157 1h2m22 0h2m2 0h2m16 0h2m0 0h2m5 0h2m13 0h2m-1 0h2m5 0h2m0 0h2m-1 0h2m13 0h2m4 0h2m7 0h2m1 0h2m4 0h2m-1 0h2m16 0h2m14 0h2m-129 1h2m12 0h2m27 0h2m23 0h2m1 0h2m16 0h2m29 0h2m5 0h2m-147 1h2m18 0h2m23 0h2m2 0h2m18 0h2m-2 0h2m1 0h2m2 0h2m0 0h2m13 0h2m-1 0h2m-2 0h2m3 0h2m11 0h2m3 0h2m-198 1h2m38 0h2m38 0h2m3 0h2m2 0h2m48 0h2m-1 0h2m7 0h2m12 0h2m-1 0h2m1 0h2m-1 0h2m-2 0h2m0 0h2m-2 0h2m4 0h2m4 0h2m-1 0h2m-1 0h2m4 0h2m2 0h2m0 0h2m4 0h2m8 0h2m4 0h2m-200 1h2m89 0h2m3 0h2m-1 0h2m1 0h2m-1 0h2m10 0h2m4 0h2m0 0h2m6 0h2m12 0h2m5 0h2m0 0h2m7 0h2m10 0h2m2 0h2m0 0h2m-108 1h2m9 0h2m-1 0h2m23 0h2m0 0h2m9 0h2m1 0h2m5 0h2m8 0h2m9 0h2m13 0h2m1 0h2m39 0h2m36 0h2m-214 1h2m4 0h2m10 0h2m6 0h2m19 0h2m6 0h2m10 0h2m10 0h2m0 0h2m1 0h2m0 0h2m1 0h2m-2 0h2m4 0h2m-1 0h2m-2 0h2m1 0h2m0 0h2m-1 0h2m-1 0h2m10 0h2m7 0h2m14 0h2m0 0h2m24 0h2m16 0h2m-163 1h2m9 0h2m1 0h2m7 0h2m5 0h2m7 0h2m0 0h2m0 0h2m8 0h2m0 0h2m2 0h2m-1 0h2m10 0h2m2 0h2m-2 0h2m0 0h2m4 0h2m3 0h2m1 0h2m4 0h2m4 0h2m1 0h2m5 0h2m5 0h2m-2 0h2m-2 0h2m1 0h2m7 0h2m21 0h2m-346 1h2m186 0h2m-1 0h2m7 0h2m19 0h2m1 0h2m3 0h2m0 0h2m-1 0h2m1 0h2m2 0h2m-1 0h2m3 0h2m-2 0h2m2 0h2m3 0h2m5 0h2m0 0h2m3 0h2m1 0h2m8 0h2m2 0h2m2 0h2m-2 0h2m1 0h2m-1 0h2m25 0h2m-2 0h2m6 0h2m-147 1h2m1 0h2m13 0h2m2 0h2m1 0h2m1 0h2m3 0h2m14 0h2m2 0h2m7 0h2m2 0h2m7 0h2m-1 0h2m0 0h2m47 0h2m0 0h2m9 0h2m20 0h2m-224 1h2m68 0h2m13 0h2m-1 0h2m-1 0h2m6 0h2m5 0h2m2 0h2m1 0h2m2 0h2m-1 0h2m1 0h2m1 0h2m-1 0h2m-1 0h2m1 0h2m4 0h2m0 0h2m-1 0h2m0 0h2m19 0h2m3 0h2m2 0h2m-1 0h2m9 0h2m1 0h2m0 0h2m3 0h2m-322 1h2m197 0h2m8 0h2m-2 0h2m7 0h2m-1 0h2m3 0h2m2 0h2m4 0h2m8 0h2m3 0h2m9 0h2m0 0h2m8 0h2m7 0h2m7 0h2m0 0h2m-2 0h2m0 0h2m2 0h2m-1 0h2m-2 0h2m0 0h2m3 0h2m6 0h2m49 0h2m-212 1h2m22 0h2m25 0h2m1 0h2m-1 0h2m3 0h2m10 0h2m3 0h2m8 0h2m0 0h2m3 0h2m1 0h2m4 0h2m9 0h2m-1 0h2m0 0h2m5 0h2m-1 0h2m-1 0h2m3 0h2m4 0h2m1 0h2m5 0h2m7 0h2m8 0h2m3 0h2m-120 1h2m28 0h2m4 0h2m5 0h2m1 0h2m-1 0h2m7 0h2m5 0h2m3 0h2m7 0h2m7 0h2m-2 0h2m-2 0h2m2 0h2m-1 0h2m19 0h2m12 0h2m16 0h2m-192 1h2m14 0h2m27 0h2m11 0h2m1 0h2m-2 0h2m8 0h2m6 0h2m7 0h2m3 0h2m3 0h2m-1 0h2m-1 0h2m1 0h2m-2 0h2m-1 0h2m4 0h2m-2 0h2m0 0h2m4 0h2m-2 0h2m9 0h2m12 0h2m-1 0h2m12 0h2m-1 0h2m3 0h2m0 0h2m4 0h2m-170 1h2m33 0h2m8 0h2m10 0h2m9 0h2m3 0h2m7 0h2m1 0h2m2 0h2m6 0h2m6 0h2m11 0h2m0 0h2m4 0h2m7 0h2m4 0h2m3 0h2m-106 1h2m3 0h2m19 0h2m0 0h2m-2 0h2m-1 0h2m-1 0h2m4 0h2m3 0h2m8 0h2m0 0h2m12 0h2m1 0h2m0 0h2m-2 0h2m-1 0h2m-1 0h2m-1 0h2m16 0h2m7 0h2m15 0h2m-148 1h2m14 0h2m8 0h2m6 0h2m3 0h2m8 0h2m0 0h2m-1 0h2m1 0h2m4 0h2m1 0h2m11 0h2m1 0h2m-1 0h2m-2 0h2m-1 0h2m6 0h2m1 0h2m9 0h2m-2 0h2m-2 0h2m1 0h2m-2 0h2m2 0h2m3 0h2m0 0h2m3 0h2m16 0h2m25 0h2m-171 1h2m0 0h2m26 0h2m-1 0h2m19 0h2m3 0h2m13 0h2m11 0h2m7 0h2m-1 0h2m7 0h2m3 0h2m4 0h2m-1 0h2m-2 0h2m2 0h2m9 0h2m22 0h2m-1 0h2m13 0h2m-143 1h2m13 0h2m7 0h2m1 0h2m2 0h2m1 0h2m2 0h2m1 0h2m1 0h2m-1 0h2m1 0h2m6 0h2m2 0h2m-1 0h2m-1 0h2m0 0h2m-2 0h2m2 0h2m4 0h2m7 0h2m1 0h2m0 0h2m5 0h2m-1 0h2m-2 0h2m12 0h2m-2 0h2m6 0h2m4 0h2m1 0h2m9 0h2m5 0h2m-146 1h2m20 0h2m2 0h2m4 0h2m3 0h2m8 0h2m3 0h2m8 0h2m3 0h2m1 0h2m-1 0h2m9 0h2m5 0h2m1 0h2m-2 0h2m3 0h2m1 0h2m27 0h2m3 0h2m-175 1h2m15 0h2m12 0h2m6 0h2m7 0h2m5 0h2m0 0h2m2 0h2m2 0h2m14 0h2m7 0h2m9 0h2m-1 0h2m1 0h2m4 0h2m3 0h2m0 0h2m-1 0h2m0 0h2m9 0h2m4 0h2m11 0h2m1 0h2m12 0h2m-144 1h2m-1 0h2m14 0h2m13 0h2m-2 0h2m9 0h2m6 0h2m-2 0h2m6 0h2m-1 0h2m2 0h2m1 0h2m6 0h2m3 0h2m-1 0h2m0 0h2m3 0h2m2 0h2m-1 0h2m1 0h2m0 0h2m2 0h2m0 0h2m10 0h2m7 0h2m3 0h2m7 0h2m30 0h2m-265 1h2m62 0h2m16 0h2m12 0h2m12 0h2m-2 0h2m-1 0h2m5 0h2m15 0h2m-1 0h2m22 0h2m1 0h2m1 0h2m7 0h2m0 0h2m-1 0h2m2 0h2m5 0h2m-1 0h2m1 0h2m-1 0h2m3 0h2m54 0h2m14 0h2m-165 1h2m7 0h2m15 0h2m13 0h2m3 0h2m-1 0h2m2 0h2m10 0h2m0 0h2m1 0h2m15 0h2m5 0h2m7 0h2m1 0h2m21 0h2m3 0h2m9 0h2m-170 1h2m6 0h2m7 0h2m30 0h2m1 0h2m12 0h2m1 0h2m-2 0h2m2 0h2m-1 0h2m-1 0h2m2 0h2m-1 0h2m1 0h2m1 0h2m2 0h2m0 0h2m0 0h2m2 0h2m9 0h2m0 0h2m5 0h2m-1 0h2m38 0h2m-209 1h2m42 0h2m20 0h2m18 0h2m3 0h2m4 0h2m4 0h2m5 0h2m-1 0h2m0 0h2m0 0h2m5 0h2m-2 0h2m5 0h2m3 0h2m2 0h2m-1 0h2m0 0h2m10 0h2m6 0h2m-2 0h2m3 0h2m1 0h2m5 0h2m12 0h2m6 0h2m4 0h2m-203 1h2m52 0h2m1 0h2m1 0h2m2 0h2m2 0h2m4 0h2m23 0h2m17 0h2m0 0h2m2 0h2m1 0h2m2 0h2m3 0h2m0 0h2m14 0h2m0 0h2m3 0h2m-2 0h2m1 0h2m0 0h2m0 0h2m-1 0h2m-1 0h2m2 0h2m11 0h2m26 0h2m0 0h2m-147 1h2m2 0h2m1 0h2m1 0h2m3 0h2m7 0h2m10 0h2m-1 0h2m-2 0h2m-1 0h2m8 0h2m2 0h2m15 0h2m1 0h2m-2 0h2m1 0h2m5 0h2m8 0h2m7 0h2m0 0h2m0 0h2m5 0h2m8 0h2m-153 1h2m14 0h2m4 0h2m2 0h2m5 0h2m20 0h2m-2 0h2m1 0h2m-1 0h2m2 0h2m5 0h2m0 0h2m-1 0h2m-1 0h2m10 0h2m-2 0h2m1 0h2m-2 0h2m3 0h2m-1 0h2m2 0h2m-2 0h2m0 0h2m-2 0h2m4 0h2m11 0h2m1 0h2m1 0h2m1 0h2m6 0h2m7 0h2m-1 0h2m11 0h2m1 0h2m-161 1h2m42 0h2m2 0h2m3 0h2m4 0h2m13 0h2m1 0h2m8 0h2m-2 0h2m-1 0h2m-1 0h2m-1 0h2m0 0h2m2 0h2m-1 0h2m1 0h2m0 0h2m-2 0h2m14 0h2m5 0h2m-269 1h2m159 0h2m5 0h2m6 0h2m-2 0h2m0 0h2m0 0h2m7 0h2m0 0h2m2 0h2m13 0h2m-2 0h2m-1 0h2m1 0h2m-1 0h2m1 0h2m2 0h2m0 0h2m-1 0h2m0 0h2m-2 0h2m4 0h2m-2 0h2m3 0h2m-1 0h2m-2 0h2m1 0h2m9 0h2m12 0h2m-1 0h2m8 0h2m-161 1h2m32 0h2m1 0h2m10 0h2m8 0h2m1 0h2m5 0h2m7 0h2m0 0h2m-2 0h2m10 0h2m-1 0h2m-1 0h2m-1 0h2m1 0h2m-2 0h2m0 0h2m-1 0h2m0 0h2m-1 0h2m-1 0h2m-1 0h2m-1 0h2m1 0h2m0 0h2m6 0h2m5 0h2m3 0h2m5 0h2m4 0h2m-150 1h2m45 0h2m-2 0h2m10 0h2m3 0h2m11 0h2m7 0h2m7 0h2m8 0h2m8 0h2m9 0h2m6 0h2m-1 0h2m4 0h2m2 0h2m11 0h2m1 0h2m5 0h2m-151 1h2m22 0h2m0 0h2m5 0h2m2 0h2m-1 0h2m3 0h2m4 0h2m-1 0h2m-2 0h2m5 0h2m4 0h2m1 0h2m-2 0h2m5 0h2m22 0h2m-2 0h2m6 0h2m0 0h2m1 0h2m3 0h2m8 0h2m45 0h2m-240 1h2m98 0h2m9 0h2m3 0h2m20 0h2m-1 0h2m4 0h2m1 0h2m6 0h2m-1 0h2m-1 0h2m-1 0h2m-1 0h2m-1 0h2m1 0h2m2 0h2m1 0h2m13 0h2m9 0h2m3 0h2m7 0h2m0 0h2m1 0h2m7 0h2m2 0h2m2 0h2m5 0h2m-170 1h2m1 0h2m6 0h2m11 0h2m27 0h2m1 0h2m4 0h2m0 0h2m5 0h2m-1 0h2m0 0h2m8 0h2m0 0h2m6 0h2m-1 0h2m31 0h2m-1 0h2m1 0h2m8 0h2m1 0h2m-2 0h2m7 0h2m-180 1h2m12 0h2m10 0h2m15 0h2m0 0h2m0 0h2m4 0h2m0 0h2m16 0h2m1 0h2m2 0h2m1 0h2m8 0h2m3 0h2m-2 0h2m6 0h2m-2 0h2m1 0h2m0 0h2m-1 0h2m4 0h2m3 0h2m4 0h2m0 0h2m-1 0h2m-2 0h2m-1 0h2m-1 0h2m0 0h2m0 0h2m18 0h2m5 0h2m3 0h2m2 0h2m28 0h2m-295 1h2m127 0h2m12 0h2m4 0h2m-1 0h2m25 0h2m2 0h2m-1 0h2m-2 0h2m4 0h2m-2 0h2m14 0h2m2 0h2m-2 0h2m-2 0h2m5 0h2m3 0h2m0 0h2m3 0h2m-2 0h2m74 0h2m-181 1h2m-2 0h2m14 0h2m19 0h2m-1 0h2m3 0h2m7 0h2m6 0h2m4 0h2m-2 0h2m0 0h2m3 0h2m2 0h2m-1 0h2m-2 0h2m-1 0h2m5 0h2m1 0h2m-1 0h2m5 0h2m2 0h2m4 0h2m-1 0h2m-1 0h2m1 0h2m11 0h2m3 0h2m8 0h2m-145 1h2m9 0h2m3 0h2m1 0h2m10 0h2m4 0h2m10 0h2m2 0h2m17 0h2m-1 0h2m-2 0h2m9 0h2m7 0h2m6 0h2m0 0h2m3 0h2m-2 0h2m-2 0h2m3 0h2m-1 0h2m21 0h2m5 0h2m25 0h2m-329 1h2m138 0h2m1 0h2m15 0h2m0 0h2m8 0h2m21 0h2m4 0h2m2 0h2m3 0h2m2 0h2m1 0h2m0 0h2m0 0h2m-2 0h2m0 0h2m0 0h2m4 0h2m0 0h2m-2 0h2m10 0h2m2 0h2m0 0h2m7 0h2m8 0h2m-2 0h2m0 0h2m9 0h2m-142 1h2m3 0h2m3 0h2m1 0h2m5 0h2m23 0h2m3 0h2m7 0h2m-1 0h2m1 0h2m2 0h2m6 0h2m3 0h2m5 0h2m0 0h2m4 0h2m1 0h2m1 0h2m12 0h2m8 0h2m2 0h2m0 0h2m12 0h2m3 0h2m-155 1h2m21 0h2m10 0h2m-2 0h2m9 0h2m6 0h2m2 0h2m2 0h2m-2 0h2m2 0h2m11 0h2m1 0h2m11 0h2m4 0h2m3 0h2m3 0h2m-2 0h2m2 0h2m-2 0h2m20 0h2m1 0h2m4 0h2m17 0h2m-326 1h2m185 0h2m0 0h2m-2 0h2m0 0h2m7 0h2m7 0h2m5 0h2m0 0h2m1 0h2m-1 0h2m-1 0h2m1 0h2m17 0h2m1 0h2m-1 0h2m1 0h2m-1 0h2m1 0h2m-1 0h2m2 0h2m4 0h2m1 0h2m4 0h2m-1 0h2m0 0h2m0 0h2m-2 0h2m-1 0h2m7 0h2m-1 0h2m-136 1h2m10 0h2m22 0h2m-2 0h2m13 0h2m1 0h2m3 0h2m2 0h2m4 0h2m0 0h2m2 0h2m-2 0h2m0 0h2m2 0h2m-2 0h2m-1 0h2m1 0h2m-2 0h2m8 0h2m2 0h2m-1 0h2m8 0h2m1 0h2m1 0h2m4 0h2m-1 0h2m-1 0h2m0 0h2m-1 0h2m35 0h2m-155 1h2m16 0h2m3 0h2m-2 0h2m2 0h2m2 0h2m10 0h2m8 0h2m2 0h2m7 0h2m8 0h2m10 0h2m2 0h2m-2 0h2m1 0h2m5 0h2m15 0h2m6 0h2m36 0h2m-149 1h2m22 0h2m7 0h2m5 0h2m-1 0h2m4 0h2m1 0h2m-1 0h2m-2 0h2m-2 0h2m4 0h2m3 0h2m-2 0h2m-2 0h2m3 0h2m-2 0h2m20 0h2m52 0h2m33 0h2m-367 1h2m128 0h2m47 0h2m6 0h2m12 0h2m2 0h2m-1 0h2m6 0h2m1 0h2m12 0h2m0 0h2m1 0h2m-1 0h2m2 0h2m2 0h2m-1 0h2m8 0h2m1 0h2m-1 0h2m-1 0h2m1 0h2m1 0h2m-1 0h2m11 0h2m-1 0h2m1 0h2m0 0h2m0 0h2m19 0h2m23 0h2m-149 1h2m0 0h2m8 0h2m0 0h2m9 0h2m-1 0h2m6 0h2m9 0h2m0 0h2m-1 0h2m4 0h2m2 0h2m0 0h2m-1 0h2m0 0h2m1 0h2m6 0h2m1 0h2m1 0h2m7 0h2m5 0h2m4 0h2m4 0h2m4 0h2m-150 1h2m24 0h2m7 0h2m1 0h2m2 0h2m2 0h2m7 0h2m6 0h2m4 0h2m-1 0h2m3 0h2m5 0h2m16 0h2m-1 0h2m-1 0h2m2 0h2m4 0h2m-1 0h2m3 0h2m0 0h2m-1 0h2m22 0h2m0 0h2m3 0h2m0 0h2m7 0h2m-2 0h2m-148 1h2m0 0h2m20 0h2m18 0h2m9 0h2m1 0h2m8 0h2m-2 0h2m1 0h2m5 0h2m6 0h2m0 0h2m0 0h2m2 0h2m0 0h2m-2 0h2m-1 0h2m3 0h2m-2 0h2m-1 0h2m6 0h2m8 0h2m-154 1h2m50 0h2m6 0h2m2 0h2m13 0h2m3 0h2m5 0h2m6 0h2m8 0h2m2 0h2m-1 0h2m-1 0h2m1 0h2m-2 0h2m-1 0h2m3 0h2m2 0h2m0 0h2m-1 0h2m0 0h2m5 0h2m8 0h2m6 0h2m4 0h2m-157 1h2m4 0h2m18 0h2m-1 0h2m11 0h2m9 0h2m19 0h2m11 0h2m-1 0h2m3 0h2m-1 0h2m7 0h2m-2 0h2m7 0h2m21 0h2m1 0h2m27 0h2m25 0h2m-191 1h2m21 0h2m1 0h2m38 0h2m10 0h2m6 0h2m6 0h2m3 0h2m-1 0h2m0 0h2m1 0h2m-1 0h2m7 0h2m0 0h2m-2 0h2m2 0h2m3 0h2m2 0h2m0 0h2m5 0h2m11 0h2m13 0h2m-191 1h2m55 0h2m20 0h2m5 0h2m9 0h2m6 0h2m7 0h2m2 0h2m-2 0h2m8 0h2m5 0h2m5 0h2m8 0h2m8 0h2m-1 0h2m-125 1h2m7 0h2m11 0h2m4 0h2m0 0h2m2 0h2m11 0h2m1 0h2m3 0h2m-2 0h2m1 0h2m8 0h2m3 0h2m0 0h2m1 0h2m0 0h2m1 0h2m4 0h2m8 0h2m-1 0h2m-2 0h2m5 0h2m6 0h2m0 0h2m3 0h2m-1 0h2m0 0h2m1 0h2m6 0h2m-281 1h2m133 0h2m2 0h2m8 0h2m9 0h2m8 0h2m2 0h2m13 0h2m-1 0h2m3 0h2m5 0h2m3 0h2m1 0h2m13 0h2m0 0h2m9 0h2m-1 0h2m0 0h2m2 0h2m1 0h2m-1 0h2m1 0h2m4 0h2m2 0h2m11 0h2m8 0h2m2 0h2m16 0h2m-159 1h2m2 0h2m-1 0h2m0 0h2m8 0h2m9 0h2m15 0h2m-1 0h2m0 0h2m9 0h2m-1 0h2m-1 0h2m-2 0h2m-1 0h2m11 0h2m-1 0h2m-1 0h2m4 0h2m16 0h2m0 0h2m1 0h2m2 0h2m3 0h2m-2 0h2m-1 0h2m-1 0h2m4 0h2m19 0h2m-190 1h2m62 0h2m5 0h2m5 0h2m13 0h2m2 0h2m1 0h2m-1 0h2m1 0h2m-1 0h2m-2 0h2m3 0h2m1 0h2m2 0h2m1 0h2m9 0h2m0 0h2m4 0h2m2 0h2m12 0h2m0 0h2m20 0h2m1 0h2m-1 0h2m7 0h2m-162 1h2m-2 0h2m7 0h2m8 0h2m5 0h2m-1 0h2m3 0h2m7 0h2m5 0h2m1 0h2m7 0h2m-1 0h2m0 0h2m-2 0h2m-1 0h2m1 0h2m-1 0h2m0 0h2m-2 0h2m3 0h2m-2 0h2m0 0h2m4 0h2m-2 0h2m3 0h2m9 0h2m2 0h2m0 0h2m1 0h2m0 0h2m13 0h2m1 0h2m3 0h2m58 0h2m-202 1h2m4 0h2m13 0h2m26 0h2m-2 0h2m9 0h2m20 0h2m6 0h2m-1 0h2m1 0h2m10 0h2m2 0h2m1 0h2m2 0h2m-2 0h2m6 0h2m1 0h2m4 0h2m41 0h2m-137 1h2m11 0h2m0 0h2m10 0h2m7 0h2m5 0h2m-1 0h2m0 0h2m7 0h2m-1 0h2m2 0h2m10 0h2m-1 0h2m5 0h2m10 0h2m0 0h2m-1 0h2m-2 0h2m16 0h2m12 0h2m-327 1h2m157 0h2m8 0h2m1 0h2m-1 0h2m7 0h2m3 0h2m0 0h2m0 0h2m-1 0h2m4 0h2m2 0h2m5 0h2m1 0h2m5 0h2m0 0h2m0 0h2m0 0h2m2 0h2m-2 0h2m5 0h2m-2 0h2m5 0h2m-1 0h2m-1 0h2m2 0h2m-2 0h2m9 0h2m3 0h2m1 0h2m0 0h2m-1 0h2m10 0h2m7 0h2m4 0h2m2 0h2m14 0h2m20 0h2m-267 1h2m65 0h2m2 0h2m4 0h2m15 0h2m4 0h2m-1 0h2m12 0h2m10 0h2m-1 0h2m1 0h2m0 0h2m0 0h2m5 0h2m-1 0h2m7 0h2m4 0h2m7 0h2m0 0h2m2 0h2m-1 0h2m-1 0h2m5 0h2m1 0h2m0 0h2m-1 0h2m4 0h2m-1 0h2m0 0h2m8 0h2m3 0h2m10 0h2m-1 0h2m-2 0h2m6 0h2m-217 1h2m71 0h2m8 0h2m-1 0h2m4 0h2m0 0h2m-1 0h2m11 0h2m-1 0h2m11 0h2m-1 0h2m6 0h2m-1 0h2m9 0h2m11 0h2m6 0h2m11 0h2m-2 0h2m0 0h2m-1 0h2m11 0h2m0 0h2m1 0h2m5 0h2m0 0h2m-1 0h2m12 0h2m30 0h2m-293 1h2m104 0h2m34 0h2m1 0h2m-1 0h2m2 0h2m4 0h2m2 0h2m1 0h2m0 0h2m0 0h2m7 0h2m0 0h2m1 0h2m-1 0h2m10 0h2m0 0h2m1 0h2m-2 0h2m6 0h2m1 0h2m-1 0h2m0 0h2m1 0h2m4 0h2m3 0h2m29 0h2m0 0h2m17 0h2m-173 1h2m7 0h2m5 0h2m2 0h2m8 0h2m19 0h2m-1 0h2m1 0h2m2 0h2m2 0h2m-1 0h2m18 0h2m0 0h2m-2 0h2m3 0h2m-1 0h2m6 0h2m-1 0h2m7 0h2m-1 0h2m18 0h2m13 0h2m13 0h2m-150 1h2m24 0h2m2 0h2m-1 0h2m1 0h2m-2 0h2m3 0h2m5 0h2m-2 0h2m-2 0h2m8 0h2m1 0h2m12 0h2m1 0h2m4 0h2m-1 0h2m-2 0h2m6 0h2m3 0h2m-2 0h2m0 0h2m2 0h2m2 0h2m0 0h2m0 0h2m3 0h2m38 0h2m-161 1h2m13 0h2m15 0h2m0 0h2m11 0h2m-2 0h2m1 0h2m4 0h2m0 0h2m1 0h2m4 0h2m15 0h2m0 0h2m1 0h2m11 0h2m6 0h2m1 0h2m5 0h2m7 0h2m18 0h2m5 0h2m0 0h2m-138 1h2m-1 0h2m0 0h2m3 0h2m0 0h2m-2 0h2m5 0h2m5 0h2m1 0h2m2 0h2m4 0h2m-2 0h2m0 0h2m3 0h2m-1 0h2m0 0h2m5 0h2m-1 0h2m0 0h2m-2 0h2m-1 0h2m-1 0h2m0 0h2m4 0h2m0 0h2m-1 0h2m6 0h2m7 0h2m-1 0h2m5 0h2m9 0h2m-1 0h2m3 0h2m51 0h2m-178 1h2m-1 0h2m2 0h2m1 0h2m12 0h2m-2 0h2m10 0h2m10 0h2m-1 0h2m-1 0h2m0 0h2m3 0h2m0 0h2m0 0h2m7 0h2m-1 0h2m10 0h2m-2 0h2m-1 0h2m4 0h2m6 0h2m0 0h2m1 0h2m-1 0h2m-2 0h2m1 0h2m-2 0h2m2 0h2m10 0h2m1 0h2m46 0h2m-181 1h2m5 0h2m34 0h2m1 0h2m-1 0h2m-1 0h2m8 0h2m7 0h2m-2 0h2m2 0h2m1 0h2m1 0h2m2 0h2m2 0h2m1 0h2m1 0h2m1 0h2m8 0h2m11 0h2m5 0h2m1 0h2m10 0h2m0 0h2m14 0h2m5 0h2m-201 1h2m0 0h2m13 0h2m2 0h2m3 0h2m2 0h2m11 0h2m15 0h2m6 0h2m-1 0h2m-2 0h2m8 0h2m0 0h2m-2 0h2m5 0h2m2 0h2m8 0h2m0 0h2m2 0h2m5 0h2m-2 0h2m4 0h2m0 0h2m5 0h2m15 0h2m18 0h2m-302 1h2m150 0h2m10 0h2m6 0h2m13 0h2m11 0h2m2 0h2m3 0h2m0 0h2m-2 0h2m10 0h2m3 0h2m-2 0h2m6 0h2m-2 0h2m6 0h2m5 0h2m-2 0h2m0 0h2m-1 0h2m0 0h2m3 0h2m0 0h2m1 0h2m33 0h2m-203 1h2m28 0h2m3 0h2m38 0h2m2 0h2m7 0h2m-1 0h2m-1 0h2m-1 0h2m-2 0h2m4 0h2m3 0h2m3 0h2m-2 0h2m5 0h2m-1 0h2m6 0h2m7 0h2m-1 0h2m5 0h2m4 0h2m16 0h2m5 0h2m7 0h2m2 0h2m4 0h2m14 0h2m11 0h2m-2 0h2m-195 1h2m47 0h2m14 0h2m10 0h2m0 0h2m-1 0h2m19 0h2m16 0h2m-1 0h2m-1 0h2m2 0h2m6 0h2m-1 0h2m0 0h2m-1 0h2m-1 0h2m4 0h2m2 0h2m3 0h2m31 0h2m22 0h2m4 0h2m-368 1h2m125 0h2m48 0h2m16 0h2m11 0h2m7 0h2m1 0h2m4 0h2m-1 0h2m5 0h2m2 0h2m-1 0h2m-1 0h2m0 0h2m5 0h2m0 0h2m7 0h2m1 0h2m6 0h2m2 0h2m-2 0h2m1 0h2m-1 0h2m1 0h2m0 0h2m-1 0h2m0 0h2m3 0h2m-1 0h2m-1 0h2m16 0h2m4 0h2m6 0h2m35 0h2m-193 1h2m27 0h2m-2 0h2m6 0h2m2 0h2m6 0h2m7 0h2m4 0h2m2 0h2m0 0h2m-1 0h2m0 0h2m2 0h2m3 0h2m11 0h2m5 0h2m6 0h2m-1 0h2m-1 0h2m3 0h2m0 0h2m15 0h2m-2 0h2m18 0h2m10 0h2m-154 1h2m15 0h2m17 0h2m10 0h2m0 0h2m2 0h2m-1 0h2m1 0h2m7 0h2m2 0h2m1 0h2m5 0h2m5 0h2m1 0h2m6 0h2m-1 0h2m7 0h2m1 0h2m-1 0h2m5 0h2m4 0h2m17 0h2m-166 1h2m18 0h2m11 0h2m14 0h2m-1 0h2m-1 0h2m7 0h2m-2 0h2m3 0h2m1 0h2m1 0h2m-1 0h2m8 0h2m2 0h2m2 0h2m0 0h2m-2 0h2m5 0h2m10 0h2m-1 0h2m-1 0h2m5 0h2m0 0h2m17 0h2m0 0h2m5 0h2m1 0h2m0 0h2m18 0h2m2 0h2m-177 1h2m31 0h2m-1 0h2m14 0h2m10 0h2m2 0h2m-2 0h2m13 0h2m6 0h2m10 0h2m11 0h2m1 0h2m0 0h2m4 0h2m0 0h2m0 0h2m2 0h2m16 0h2m3 0h2m-218 1h2m7 0h2m33 0h2m30 0h2m8 0h2m21 0h2m7 0h2m-1 0h2m4 0h2m8 0h2m0 0h2m1 0h2m0 0h2m1 0h2m-1 0h2m7 0h2m12 0h2m4 0h2m1 0h2m2 0h2m2 0h2m-2 0h2m1 0h2m6 0h2m7 0h2m30 0h2m-147 1h2m3 0h2m3 0h2m6 0h2m7 0h2m-2 0h2m8 0h2m4 0h2m-2 0h2m-1 0h2m-1 0h2m-2 0h2m7 0h2m0 0h2m-2 0h2m0 0h2m1 0h2m12 0h2m7 0h2m7 0h2m0 0h2m16 0h2m1 0h2m3 0h2m24 0h2m-220 1h2m17 0h2m6 0h2m37 0h2m1 0h2m1 0h2m2 0h2m-2 0h2m32 0h2m1 0h2m4 0h2m-1 0h2m-1 0h2m5 0h2m3 0h2m17 0h2m-1 0h2m10 0h2m2 0h2m1 0h2m2 0h2m0 0h2m2 0h2m15 0h2m2 0h2m-1 0h2m2 0h2m9 0h2m-206 1h2m25 0h2m20 0h2m7 0h2m9 0h2m5 0h2m12 0h2m-2 0h2m3 0h2m5 0h2m6 0h2m-2 0h2m-2 0h2m-1 0h2m5 0h2m1 0h2m-1 0h2m16 0h2m6 0h2m4 0h2m41 0h2m-180 1h2m16 0h2m2 0h2m22 0h2m7 0h2m7 0h2m-1 0h2m-1 0h2m-1 0h2m9 0h2m6 0h2m4 0h2m0 0h2m-1 0h2m9 0h2m-1 0h2m-1 0h2m7 0h2m4 0h2m0 0h2m0 0h2m2 0h2m-1 0h2m-2 0h2m-1 0h2m28 0h2m-2 0h2m11 0h2m-327 1h2m101 0h2m14 0h2m5 0h2m3 0h2m11 0h2m10 0h2m0 0h2m7 0h2m16 0h2m0 0h2m4 0h2m11 0h2m-1 0h2m-2 0h2m7 0h2m-2 0h2m4 0h2m-1 0h2m2 0h2m1 0h2m0 0h2m7 0h2m1 0h2m-1 0h2m5 0h2m-2 0h2m1 0h2m6 0h2m0 0h2m-1 0h2m-2 0h2m6 0h2m-1 0h2m0 0h2m1 0h2m11 0h2m4 0h2m5 0h2m-2 0h2m1 0h2m3 0h2m0 0h2m1 0h2m26 0h2m-288 1h2m77 0h2m19 0h2m10 0h2m2 0h2m15 0h2m-1 0h2m1 0h2m11 0h2m-1 0h2m3 0h2m6 0h2m-1 0h2m2 0h2m-1 0h2m-2 0h2m-1 0h2m2 0h2m2 0h2m0 0h2m0 0h2m8 0h2m0 0h2m-2 0h2m5 0h2m0 0h2m-1 0h2m0 0h2m2 0h2m2 0h2m1 0h2m2 0h2m4 0h2m22 0h2m6 0h2m-1 0h2m17 0h2m-179 1h2m1 0h2m18 0h2m3 0h2m6 0h2m-2 0h2m7 0h2m5 0h2m-2 0h2m0 0h2m3 0h2m-1 0h2m-1 0h2m3 0h2m-2 0h2m-1 0h2m1 0h2m9 0h2m0 0h2m1 0h2m9 0h2m5 0h2m-1 0h2m1 0h2m9 0h2m16 0h2m6 0h2m6 0h2m-266 1h2m81 0h2m34 0h2m1 0h2m1 0h2m20 0h2m1 0h2m1 0h2m10 0h2m-1 0h2m5 0h2m9 0h2m-1 0h2m-1 0h2m12 0h2m16 0h2m-1 0h2m-2 0h2m5 0h2m12 0h2m-2 0h2m26 0h2m9 0h2m-192 1h2m6 0h2m1 0h2m23 0h2m12 0h2m0 0h2m8 0h2m3 0h2m2 0h2m-1 0h2m0 0h2m-1 0h2m7 0h2m5 0h2m0 0h2m-2 0h2m1 0h2m0 0h2m-2 0h2m10 0h2m1 0h2m-2 0h2m2 0h2m5 0h2m7 0h2m11 0h2m1 0h2m41 0h2m-185 1h2m-1 0h2m17 0h2m17 0h2m1 0h2m4 0h2m2 0h2m4 0h2m2 0h2m9 0h2m0 0h2m-1 0h2m1 0h2m-2 0h2m-1 0h2m1 0h2m0 0h2m0 0h2m7 0h2m-1 0h2m2 0h2m2 0h2m2 0h2m0 0h2m0 0h2m12 0h2m0 0h2m1 0h2m-2 0h2m-1 0h2m-2 0h2m3 0h2m14 0h2m-186 1h2m68 0h2m3 0h2m10 0h2m-1 0h2m-1 0h2m1 0h2m6 0h2m0 0h2m4 0h2m-1 0h2m0 0h2m2 0h2m2 0h2m0 0h2m1 0h2m-2 0h2m-1 0h2m-1 0h2m0 0h2m7 0h2m2 0h2m1 0h2m11 0h2m1 0h2m0 0h2m-1 0h2m-1 0h2m8 0h2m2 0h2m10 0h2m-224 1h2m41 0h2m18 0h2m23 0h2m1 0h2m2 0h2m5 0h2m2 0h2m9 0h2m3 0h2m1 0h2m2 0h2m-1 0h2m6 0h2m2 0h2m6 0h2m-1 0h2m-1 0h2m-2 0h2m-1 0h2m-1 0h2m1 0h2m2 0h2m0 0h2m1 0h2m1 0h2m2 0h2m6 0h2m0 0h2m1 0h2m-2 0h2m3 0h2m3 0h2m3 0h2m17 0h2m-194 1h2m36 0h2m28 0h2m-1 0h2m15 0h2m8 0h2m3 0h2m-2 0h2m1 0h2m17 0h2m4 0h2m-1 0h2m14 0h2m1 0h2m0 0h2m1 0h2m1 0h2m-1 0h2m-1 0h2m1 0h2m-1 0h2m3 0h2m1 0h2m13 0h2m-215 1h2m13 0h2m17 0h2m42 0h2m-1 0h2m-2 0h2m14 0h2m13 0h2m6 0h2m3 0h2m1 0h2m-1 0h2m-1 0h2m1 0h2m0 0h2m-1 0h2m8 0h2m4 0h2m4 0h2m1 0h2m-2 0h2m-1 0h2m0 0h2m0 0h2m1 0h2m2 0h2m2 0h2m28 0h2m1 0h2m14 0h2m-1 0h2m-270 1h2m106 0h2m9 0h2m0 0h2m12 0h2m9 0h2m-2 0h2m2 0h2m-2 0h2m7 0h2m3 0h2m-1 0h2m1 0h2m0 0h2m5 0h2m15 0h2m1 0h2m-1 0h2m0 0h2m4 0h2m-1 0h2m-1 0h2m-2 0h2m-1 0h2m-2 0h2m-1 0h2m-1 0h2m-1 0h2m0 0h2m-2 0h2m19 0h2m3 0h2m3 0h2m0 0h2m5 0h2m10 0h2m12 0h2m-189 1h2m23 0h2m2 0h2m18 0h2m15 0h2m10 0h2m3 0h2m1 0h2m0 0h2m1 0h2m6 0h2m-1 0h2m-1 0h2m0 0h2m2 0h2m9 0h2m0 0h2m3 0h2m1 0h2m-1 0h2m6 0h2m2 0h2m15 0h2m-1 0h2m4 0h2m1 0h2m8 0h2m-165 1h2m7 0h2m11 0h2m-2 0h2m1 0h2m23 0h2m0 0h2m1 0h2m0 0h2m7 0h2m1 0h2m-1 0h2m3 0h2m0 0h2m6 0h2m-1 0h2m3 0h2m2 0h2m4 0h2m1 0h2m0 0h2m1 0h2m20 0h2m33 0h2m4 0h2m13 0h2m12 0h2m-255 1h2m5 0h2m49 0h2m23 0h2m3 0h2m0 0h2m1 0h2m4 0h2m6 0h2m2 0h2m7 0h2m-1 0h2m19 0h2m7 0h2m1 0h2m-1 0h2m2 0h2m1 0h2m1 0h2m0 0h2m2 0h2m-2 0h2m6 0h2m0 0h2m1 0h2m7 0h2m-320 1h2m142 0h2m33 0h2m16 0h2m9 0h2m6 0h2m12 0h2m-2 0h2m8 0h2m-2 0h2m4 0h2m1 0h2m9 0h2m1 0h2m2 0h2m3 0h2m-1 0h2m-1 0h2m-1 0h2m4 0h2m9 0h2m0 0h2m-1 0h2m2 0h2m1 0h2m3 0h2m-2 0h2m-1 0h2m48 0h2m-330 1h2m28 0h2m1 0h2m136 0h2m13 0h2m6 0h2m0 0h2m-1 0h2m7 0h2m-1 0h2m6 0h2m-1 0h2m5 0h2m2 0h2m4 0h2m5 0h2m-1 0h2m-1 0h2m3 0h2m9 0h2m-2 0h2m4 0h2m10 0h2m2 0h2m2 0h2m2 0h2m0 0h2m15 0h2m8 0h2m3 0h2m-262 1h2m23 0h2m15 0h2m14 0h2m36 0h2m40 0h2m8 0h2m15 0h2m0 0h2m2 0h2m8 0h2m-2 0h2m-1 0h2m4 0h2m2 0h2m9 0h2m10 0h2m-1 0h2m-2 0h2m19 0h2m4 0h2m1 0h2m18 0h2m-184 1h2m10 0h2m15 0h2m8 0h2m6 0h2m15 0h2m0 0h2m7 0h2m1 0h2m4 0h2m0 0h2m0 0h2m-2 0h2m7 0h2m2 0h2m1 0h2m5 0h2m1 0h2m1 0h2m4 0h2m1 0h2m-2 0h2m3 0h2m6 0h2m0 0h2m4 0h2m15 0h2m35 0h2m-249 1h2m42 0h2m9 0h2m13 0h2m7 0h2m5 0h2m4 0h2m21 0h2m-1 0h2m10 0h2m-2 0h2m2 0h2m-2 0h2m-1 0h2m11 0h2m-2 0h2m6 0h2m4 0h2m2 0h2m15 0h2m-1 0h2m0 0h2m-306 1h2m52 0h2m74 0h2m51 0h2m-1 0h2m8 0h2m6 0h2m8 0h2m2 0h2m3 0h2m7 0h2m0 0h2m1 0h2m-1 0h2m-2 0h2m3 0h2m0 0h2m5 0h2m0 0h2m2 0h2m-2 0h2m0 0h2m0 0h2m19 0h2m4 0h2m1 0h2m-1 0h2m2 0h2m-1 0h2m7 0h2m42 0h2m-263 1h2m59 0h2m21 0h2m2 0h2m5 0h2m11 0h2m3 0h2m8 0h2m6 0h2m7 0h2m9 0h2m0 0h2m3 0h2m6 0h2m0 0h2m-1 0h2m-1 0h2m-2 0h2m1 0h2m0 0h2m0 0h2m-2 0h2m-2 0h2m4 0h2m6 0h2m0 0h2m3 0h2m16 0h2m-1 0h2m0 0h2m18 0h2m7 0h2m-194 1h2m3 0h2m27 0h2m2 0h2m6 0h2m0 0h2m19 0h2m1 0h2m-2 0h2m1 0h2m2 0h2m3 0h2m-1 0h2m0 0h2m2 0h2m6 0h2m-2 0h2m-1 0h2m-1 0h2m0 0h2m6 0h2m4 0h2m0 0h2m-2 0h2m-1 0h2m4 0h2m0 0h2m-1 0h2m0 0h2m3 0h2m1 0h2m3 0h2m2 0h2m-1 0h2m3 0h2m1 0h2m4 0h2m-1 0h2m-2 0h2m0 0h2m23 0h2m-182 1h2m7 0h2m2 0h2m13 0h2m15 0h2m-1 0h2m17 0h2m1 0h2m5 0h2m1 0h2m0 0h2m0 0h2m8 0h2m13 0h2m-2 0h2m0 0h2m-2 0h2m-1 0h2m0 0h2m7 0h2m10 0h2m1 0h2m0 0h2m6 0h2m2 0h2m6 0h2m5 0h2m-230 1h2m7 0h2m44 0h2m3 0h2m21 0h2m13 0h2m22 0h2m1 0h2m-2 0h2m0 0h2m-1 0h2m14 0h2m1 0h2m19 0h2m0 0h2m8 0h2m0 0h2m0 0h2m19 0h2m32 0h2m3 0h2m8 0h2m-250 1h2m72 0h2m22 0h2m-1 0h2m2 0h2m2 0h2m-1 0h2m8 0h2m1 0h2m1 0h2m7 0h2m1 0h2m1 0h2m1 0h2m-2 0h2m1 0h2m-2 0h2m2 0h2m4 0h2m5 0h2m1 0h2m-1 0h2m0 0h2m1 0h2m10 0h2m-2 0h2m0 0h2m-2 0h2m-1 0h2m5 0h2m4 0h2m4 0h2m5 0h2m8 0h2m10 0h2m1 0h2m7 0h2m-292 1h2m54 0h2m24 0h2m21 0h2m24 0h2m0 0h2m10 0h2m18 0h2m0 0h2m3 0h2m5 0h2m0 0h2m2 0h2m3 0h2m1 0h2m2 0h2m7 0h2m-1 0h2m0 0h2m0 0h2m0 0h2m-2 0h2m-1 0h2m-1 0h2m-1 0h2m-1 0h2m-2 0h2m-1 0h2m10 0h2m6 0h2m0 0h2m3 0h2m-1 0h2m2 0h2m3 0h2m8 0h2m10 0h2m10 0h2m-291 1h2m111 0h2m1 0h2m22 0h2m0 0h2m6 0h2m0 0h2m9 0h2m0 0h2m0 0h2m-1 0h2m1 0h2m-2 0h2m3 0h2m8 0h2m-2 0h2m2 0h2m4 0h2m7 0h2m-2 0h2m0 0h2m12 0h2m0 0h2m-2 0h2m17 0h2m0 0h2m0 0h2m1 0h2m1 0h2m7 0h2m0 0h2m1 0h2m42 0h2m-249 1h2m39 0h2m48 0h2m0 0h2m12 0h2m-1 0h2m-1 0h2m-1 0h2m4 0h2m7 0h2m1 0h2m-1 0h2m3 0h2m2 0h2m-1 0h2m-2 0h2m-1 0h2m0 0h2m-1 0h2m-2 0h2m10 0h2m-1 0h2m-1 0h2m2 0h2m-1 0h2m0 0h2m3 0h2m-1 0h2m-1 0h2m22 0h2m0 0h2m5 0h2m-223 1h2m61 0h2m21 0h2m14 0h2m-2 0h2m18 0h2m3 0h2m2 0h2m-2 0h2m0 0h2m1 0h2m3 0h2m-1 0h2m-1 0h2m0 0h2m10 0h2m3 0h2m-2 0h2m1 0h2m1 0h2m0 0h2m1 0h2m0 0h2m-1 0h2m0 0h2m1 0h2m-2 0h2m0 0h2m2 0h2m-1 0h2m9 0h2m-2 0h2m-2 0h2m6 0h2m23 0h2m4 0h2m14 0h2m-340 1h2m137 0h2m7 0h2m16 0h2m3 0h2m15 0h2m2 0h2m2 0h2m7 0h2m0 0h2m1 0h2m-2 0h2m-1 0h2m1 0h2m0 0h2m2 0h2m-1 0h2m4 0h2m-1 0h2m0 0h2m-1 0h2m2 0h2m-2 0h2m6 0h2m1 0h2m-2 0h2m-2 0h2m3 0h2m3 0h2m-1 0h2m14 0h2m1 0h2m2 0h2m3 0h2m0 0h2m63 0h2m-245 1h2m26 0h2m15 0h2m4 0h2m8 0h2m11 0h2m-1 0h2m-1 0h2m11 0h2m-1 0h2m2 0h2m6 0h2m6 0h2m-1 0h2m0 0h2m6 0h2m10 0h2m2 0h2m-1 0h2m1 0h2m-2 0h2m-1 0h2m-1 0h2m0 0h2m0 0h2m6 0h2m0 0h2m10 0h2m15 0h2m6 0h2m2 0h2m-1 0h2m10 0h2m-262 1h2m103 0h2m-1 0h2m-1 0h2m-1 0h2m9 0h2m1 0h2m11 0h2m8 0h2m-2 0h2m0 0h2m-1 0h2m0 0h2m-1 0h2m1 0h2m6 0h2m-2 0h2m4 0h2m-2 0h2m8 0h2m6 0h2m18 0h2m-1 0h2m3 0h2m1 0h2m9 0h2m1 0h2m5 0h2m3 0h2m4 0h2m-337 1h2m73 0h2m43 0h2m48 0h2m27 0h2m1 0h2m13 0h2m7 0h2m2 0h2m-2 0h2m12 0h2m0 0h2m8 0h2m4 0h2m5 0h2m4 0h2m12 0h2m1 0h2m4 0h2m1 0h2m0 0h2m16 0h2m26 0h2m9 0h2m-299 1h2m105 0h2m9 0h2m9 0h2m34 0h2m1 0h2m5 0h2m13 0h2m3 0h2m8 0h2m0 0h2m-2 0h2m-1 0h2m10 0h2m-1 0h2m3 0h2m3 0h2m-1 0h2m-1 0h2m0 0h2m17 0h2m5 0h2m5 0h2m5 0h2m-1 0h2m-214 1h2m11 0h2m22 0h2m44 0h2m4 0h2m2 0h2m7 0h2m2 0h2m0 0h2m5 0h2m3 0h2m0 0h2m7 0h2m5 0h2m1 0h2m2 0h2m10 0h2m7 0h2m3 0h2m3 0h2m-2 0h2m1 0h2m-2 0h2m10 0h2m5 0h2m37 0h2m-299 1h2m91 0h2m19 0h2m2 0h2m-1 0h2m5 0h2m8 0h2m10 0h2m0 0h2m9 0h2m2 0h2m6 0h2m0 0h2m-1 0h2m20 0h2m3 0h2m5 0h2m1 0h2m0 0h2m-1 0h2m-2 0h2m1 0h2m6 0h2m12 0h2m-1 0h2m0 0h2m2 0h2m-2 0h2m8 0h2m1 0h2m17 0h2m-231 1h2m54 0h2m19 0h2m21 0h2m-1 0h2m6 0h2m-1 0h2m3 0h2m4 0h2m4 0h2m3 0h2m-2 0h2m4 0h2m0 0h2m2 0h2m-1 0h2m4 0h2m-2 0h2m1 0h2m10 0h2m2 0h2m0 0h2m5 0h2m-1 0h2m6 0h2m-1 0h2m4 0h2m-2 0h2m0 0h2m6 0h2m-2 0h2m-1 0h2m3 0h2m9 0h2m4 0h2m-171 1h2m10 0h2m21 0h2m12 0h2m-2 0h2m31 0h2m0 0h2m9 0h2m6 0h2m4 0h2m4 0h2m-1 0h2m-1 0h2m3 0h2m1 0h2m-1 0h2m6 0h2m-265 1h2m127 0h2m2 0h2m-1 0h2m6 0h2m10 0h2m2 0h2m11 0h2m11 0h2m10 0h2m8 0h2m6 0h2m3 0h2m3 0h2m-2 0h2m1 0h2m18 0h2m-2 0h2m0 0h2m7 0h2m4 0h2m13 0h2m-175 1h2m15 0h2m13 0h2m-1 0h2m0 0h2m24 0h2m1 0h2m5 0h2m1 0h2m9 0h2m0 0h2m1 0h2m0 0h2m29 0h2m1 0h2m-2 0h2m0 0h2m-2 0h2m-2 0h2m-1 0h2m4 0h2m1 0h2m1 0h2m-1 0h2m11 0h2m-1 0h2m15 0h2m1 0h2m5 0h2m-196 1h2m-2 0h2m28 0h2m0 0h2m2 0h2m1 0h2m-1 0h2m15 0h2m11 0h2m1 0h2m12 0h2m5 0h2m-1 0h2m12 0h2m10 0h2m2 0h2m9 0h2m0 0h2m0 0h2m9 0h2m15 0h2m0 0h2m-1 0h2m-1 0h2m5 0h2m6 0h2m5 0h2m-1 0h2m18 0h2m-190 1h2m-1 0h2m35 0h2m12 0h2m0 0h2m4 0h2m0 0h2m1 0h2m-1 0h2m2 0h2m4 0h2m1 0h2m2 0h2m11 0h2m5 0h2m-1 0h2m4 0h2m7 0h2m5 0h2m3 0h2m2 0h2m6 0h2m3 0h2m-1 0h2m7 0h2m43 0h2m-222 1h2m37 0h2m4 0h2m-1 0h2m4 0h2m13 0h2m1 0h2m5 0h2m-1 0h2m9 0h2m2 0h2m1 0h2m-2 0h2m15 0h2m-2 0h2m1 0h2m-2 0h2m-1 0h2m-1 0h2m2 0h2m9 0h2m0 0h2m0 0h2m1 0h2m2 0h2m0 0h2m9 0h2m4 0h2m0 0h2m12 0h2m2 0h2m9 0h2m-237 1h2m22 0h2m28 0h2m-1 0h2m11 0h2m8 0h2m2 0h2m4 0h2m1 0h2m1 0h2m0 0h2m-1 0h2m32 0h2m3 0h2m-1 0h2m1 0h2m2 0h2m0 0h2m0 0h2m-1 0h2m3 0h2m-2 0h2m1 0h2m2 0h2m-2 0h2m4 0h2m-1 0h2m1 0h2m0 0h2m-1 0h2m1 0h2m3 0h2m-1 0h2m1 0h2m6 0h2m-1 0h2m-2 0h2m5 0h2m1 0h2m1 0h2m2 0h2m2 0h2m6 0h2m16 0h2m-289 1h2m111 0h2m-2 0h2m8 0h2m4 0h2m1 0h2m13 0h2m8 0h2m3 0h2m-2 0h2m0 0h2m-1 0h2m7 0h2m8 0h2m-1 0h2m-2 0h2m-1 0h2m1 0h2m-1 0h2m-1 0h2m-1 0h2m10 0h2m8 0h2m7 0h2m-2 0h2m-2 0h2m12 0h2m0 0h2m5 0h2m8 0h2m-1 0h2m-1 0h2m5 0h2m0 0h2m1 0h2m10 0h2m7 0h2m-229 1h2m68 0h2m15 0h2m5 0h2m14 0h2m-1 0h2m-2 0h2m-1 0h2m-1 0h2m3 0h2m-1 0h2m-1 0h2m2 0h2m-2 0h2m-1 0h2m6 0h2m3 0h2m-1 0h2m3 0h2m2 0h2m2 0h2m-1 0h2m-1 0h2m-1 0h2m1 0h2m5 0h2m-2 0h2m-1 0h2m1 0h2m1 0h2m3 0h2m9 0h2m1 0h2m0 0h2m7 0h2m5 0h2m7 0h2m-353 1h2m143 0h2m67 0h2m-2 0h2m10 0h2m4 0h2m-1 0h2m-1 0h2m1 0h2m-2 0h2m6 0h2m-1 0h2m12 0h2m-1 0h2m-2 0h2m1 0h2m-2 0h2m1 0h2m-1 0h2m2 0h2m3 0h2m2 0h2m5 0h2m0 0h2m4 0h2m5 0h2m3 0h2m0 0h2m33 0h2m-300 1h2m12 0h2m125 0h2m0 0h2m6 0h2m7 0h2m26 0h2m1 0h2m-2 0h2m17 0h2m7 0h2m1 0h2m5 0h2m21 0h2m17 0h2m5 0h2m6 0h2m1 0h2m-213 1h2m4 0h2m9 0h2m13 0h2m28 0h2m17 0h2m-2 0h2m2 0h2m0 0h2m0 0h2m1 0h2m2 0h2m-1 0h2m5 0h2m2 0h2m10 0h2m5 0h2m5 0h2m6 0h2m-1 0h2m10 0h2m2 0h2m1 0h2m0 0h2m1 0h2m0 0h2m1 0h2m2 0h2m4 0h2m-1 0h2m-1 0h2m3 0h2m11 0h2m6 0h2m0 0h2m6 0h2m6 0h2m16 0h2m-361 1h2m136 0h2m0 0h2m41 0h2m2 0h2m-1 0h2m6 0h2m2 0h2m17 0h2m-2 0h2m-1 0h2m6 0h2m4 0h2m2 0h2m0 0h2m0 0h2m2 0h2m-2 0h2m1 0h2m2 0h2m-2 0h2m4 0h2m0 0h2m0 0h2m0 0h2m1 0h2m2 0h2m-1 0h2m-1 0h2m2 0h2m5 0h2m2 0h2m2 0h2m1 0h2m6 0h2m-1 0h2m-1 0h2m-2 0h2m2 0h2m11 0h2m2 0h2m14 0h2m-197 1h2m18 0h2m10 0h2m-1 0h2m1 0h2m13 0h2m5 0h2m9 0h2m4 0h2m7 0h2m2 0h2m0 0h2m0 0h2m6 0h2m3 0h2m6 0h2m-1 0h2m-2 0h2m-2 0h2m-2 0h2m-1 0h2m1 0h2m-1 0h2m-1 0h2m-2 0h2m13 0h2m10 0h2m-1 0h2m11 0h2m9 0h2m4 0h2m16 0h2m2 0h2m-339 1h2m64 0h2m53 0h2m41 0h2m9 0h2m5 0h2m6 0h2m0 0h2m9 0h2m4 0h2m16 0h2m6 0h2m18 0h2m30 0h2m5 0h2m10 0h2m1 0h2m14 0h2m-281 1h2m72 0h2m6 0h2m1 0h2m13 0h2m6 0h2m5 0h2m2 0h2m0 0h2m6 0h2m-1 0h2m-1 0h2m-1 0h2m21 0h2m4 0h2m1 0h2m0 0h2m3 0h2m8 0h2m-2 0h2m10 0h2m3 0h2m0 0h2m0 0h2m-2 0h2m-1 0h2m0 0h2m0 0h2m2 0h2m2 0h2m1 0h2m1 0h2m0 0h2m-1 0h2m2 0h2m1 0h2m4 0h2m25 0h2m-1 0h2m-2 0h2m35 0h2m-176 1h2m15 0h2m-1 0h2m0 0h2m-2 0h2m1 0h2m30 0h2m7 0h2m-2 0h2m2 0h2m-2 0h2m-2 0h2m-2 0h2m4 0h2m-1 0h2m-2 0h2m-2 0h2m4 0h2m-2 0h2m2 0h2m14 0h2m5 0h2m59 0h2m-334 1h2m78 0h2m47 0h2m30 0h2m1 0h2m21 0h2m1 0h2m3 0h2m5 0h2m3 0h2m10 0h2m0 0h2m-2 0h2m-2 0h2m6 0h2m4 0h2m1 0h2m3 0h2m1 0h2m-1 0h2m8 0h2m0 0h2m-2 0h2m-1 0h2m0 0h2m1 0h2m5 0h2m7 0h2m4 0h2m2 0h2m19 0h2m0 0h2m-339 1h2m52 0h2m19 0h2m33 0h2m44 0h2m5 0h2m2 0h2m28 0h2m13 0h2m2 0h2m-1 0h2m-2 0h2m9 0h2m0 0h2m3 0h2m-1 0h2m9 0h2m-2 0h2m-1 0h2m-1 0h2m17 0h2m3 0h2m7 0h2m1 0h2m1 0h2m8 0h2m3 0h2m2 0h2m0 0h2m20 0h2m25 0h2m-331 1h2m39 0h2m62 0h2m22 0h2m0 0h2m2 0h2m9 0h2m7 0h2m24 0h2m0 0h2m5 0h2m0 0h2m2 0h2m10 0h2m-2 0h2m5 0h2m-1 0h2m3 0h2m-1 0h2m-1 0h2m4 0h2m-1 0h2m-1 0h2m0 0h2m-1 0h2m-2 0h2m4 0h2m-1 0h2m-2 0h2m2 0h2m-2 0h2m3 0h2m2 0h2m5 0h2m1 0h2m2 0h2m1 0h2m0 0h2m4 0h2m1 0h2m4 0h2m43 0h2m-243 1h2m35 0h2m19 0h2m19 0h2m6 0h2m-1 0h2m20 0h2m0 0h2m6 0h2m3 0h2m8 0h2m5 0h2m4 0h2m3 0h2m-1 0h2m0 0h2m0 0h2m-2 0h2m1 0h2m2 0h2m3 0h2m2 0h2m-2 0h2m15 0h2m4 0h2m43 0h2m3 0h2m-339 1h2m84 0h2m42 0h2m29 0h2m-1 0h2m-1 0h2m1 0h2m4 0h2m0 0h2m6 0h2m2 0h2m16 0h2m21 0h2m3 0h2m0 0h2m0 0h2m-1 0h2m2 0h2m0 0h2m-2 0h2m8 0h2m1 0h2m6 0h2m-1 0h2m1 0h2m8 0h2m25 0h2m-270 1h2m99 0h2m4 0h2m5 0h2m6 0h2m5 0h2m4 0h2m-2 0h2m4 0h2m10 0h2m5 0h2m2 0h2m-2 0h2m0 0h2m-2 0h2m0 0h2m4 0h2m-2 0h2m10 0h2m-1 0h2m4 0h2m8 0h2m6 0h2m8 0h2m1 0h2m-2 0h2m-1 0h2m4 0h2m4 0h2m-2 0h2m9 0h2m0 0h2m4 0h2m-1 0h2m-1 0h2m-2 0h2m27 0h2m5 0h2m-209 1h2m3 0h2m22 0h2m6 0h2m15 0h2m-1 0h2m-2 0h2m1 0h2m7 0h2m-1 0h2m2 0h2m-2 0h2m17 0h2m-1 0h2m0 0h2m8 0h2m-1 0h2m2 0h2m2 0h2m0 0h2m-2 0h2m6 0h2m-2 0h2m2 0h2m9 0h2m-1 0h2m0 0h2m2 0h2m-1 0h2m0 0h2m13 0h2m3 0h2m7 0h2m21 0h2m-311 1h2m100 0h2m18 0h2m6 0h2m3 0h2m28 0h2m5 0h2m0 0h2m-1 0h2m-2 0h2m2 0h2m3 0h2m7 0h2m17 0h2m-2 0h2m-1 0h2m-1 0h2m4 0h2m2 0h2m3 0h2m2 0h2m-2 0h2m1 0h2m12 0h2m0 0h2m3 0h2m-1 0h2m5 0h2m0 0h2m-1 0h2m9 0h2m-275 1h2m91 0h2m4 0h2m23 0h2m0 0h2m21 0h2m0 0h2m9 0h2m0 0h2m6 0h2m-1 0h2m6 0h2m12 0h2m-2 0h2m0 0h2m-1 0h2m0 0h2m-1 0h2m-2 0h2m8 0h2m4 0h2m9 0h2m-2 0h2m39 0h2m7 0h2m31 0h2m-244 1h2m46 0h2m6 0h2m6 0h2m-2 0h2m-1 0h2m5 0h2m1 0h2m2 0h2m0 0h2m9 0h2m4 0h2m0 0h2m1 0h2m8 0h2m-2 0h2m0 0h2m-2 0h2m0 0h2m-1 0h2m-1 0h2m6 0h2m2 0h2m5 0h2m7 0h2m-2 0h2m0 0h2m0 0h2m5 0h2m0 0h2m12 0h2m5 0h2m6 0h2m2 0h2m11 0h2m7 0h2m-2 0h2m8 0h2m-203 1h2m52 0h2m-1 0h2m-1 0h2m6 0h2m5 0h2m8 0h2m1 0h2m-1 0h2m14 0h2m1 0h2m6 0h2m0 0h2m2 0h2m2 0h2m4 0h2m4 0h2m6 0h2m-1 0h2m6 0h2m3 0h2m9 0h2m-1 0h2m5 0h2m26 0h2m6 0h2m-264 1h2m27 0h2m6 0h2m44 0h2m7 0h2m17 0h2m14 0h2m0 0h2m-1 0h2m-2 0h2m15 0h2m-2 0h2m-1 0h2m3 0h2m3 0h2m2 0h2m6 0h2m-2 0h2m3 0h2m1 0h2m0 0h2m-1 0h2m2 0h2m1 0h2m-1 0h2m2 0h2m7 0h2m-1 0h2m2 0h2m7 0h2m8 0h2m13 0h2m-276 1h2m85 0h2m7 0h2m-2 0h2m5 0h2m9 0h2m11 0h2m3 0h2m6 0h2m1 0h2m1 0h2m13 0h2m-1 0h2m-1 0h2m6 0h2m13 0h2m3 0h2m0 0h2m-2 0h2m0 0h2m2 0h2m0 0h2m-1 0h2m-2 0h2m0 0h2m-1 0h2m0 0h2m0 0h2m4 0h2m4 0h2m-1 0h2m-2 0h2m-1 0h2m1 0h2m-1 0h2m4 0h2m7 0h2m-2 0h2m4 0h2m0 0h2m1 0h2m24 0h2m-1 0h2m-237 1h2m44 0h2m50 0h2m1 0h2m2 0h2m0 0h2m0 0h2m11 0h2m2 0h2m4 0h2m-1 0h2m-2 0h2m9 0h2m-1 0h2m0 0h2m0 0h2m5 0h2m-1 0h2m0 0h2m18 0h2m7 0h2m0 0h2m5 0h2m1 0h2m9 0h2m-2 0h2m-228 1h2m14 0h2m40 0h2m15 0h2m1 0h2m16 0h2m10 0h2m9 0h2m2 0h2m8 0h2m5 0h2m13 0h2m-1 0h2m-1 0h2m0 0h2m3 0h2m-1 0h2m4 0h2m-2 0h2m10 0h2m1 0h2m3 0h2m-1 0h2m-1 0h2m0 0h2m-2 0h2m6 0h2m-1 0h2m0 0h2m38 0h2m-339 1h2m176 0h2m18 0h2m4 0h2m4 0h2m9 0h2m-1 0h2m-1 0h2m0 0h2m0 0h2m7 0h2m14 0h2m11 0h2m0 0h2m-2 0h2m-1 0h2m3 0h2m-2 0h2m1 0h2m-1 0h2m0 0h2m3 0h2m7 0h2m9 0h2m2 0h2m5 0h2m4 0h2m2 0h2m-159 1h2m2 0h2m18 0h2m12 0h2m-2 0h2m0 0h2m14 0h2m6 0h2m0 0h2m6 0h2m0 0h2m-2 0h2m4 0h2m2 0h2m-2 0h2m-1 0h2m1 0h2m-1 0h2m-1 0h2m-1 0h2m3 0h2m6 0h2m7 0h2m-1 0h2m1 0h2m-1 0h2m0 0h2m13 0h2m-2 0h2m-1 0h2m2 0h2m3 0h2m0 0h2m12 0h2m-2 0h2m26 0h2m-271 1h2m26 0h2m47 0h2m6 0h2m-2 0h2m11 0h2m8 0h2m-1 0h2m17 0h2m3 0h2m0 0h2m-1 0h2m0 0h2m6 0h2m0 0h2m-2 0h2m11 0h2m0 0h2m3 0h2m3 0h2m-1 0h2m1 0h2m2 0h2m6 0h2m5 0h2m0 0h2m-1 0h2m3 0h2m2 0h2m0 0h2m2 0h2m4 0h2m-1 0h2m8 0h2m-288 1h2m81 0h2m5 0h2m5 0h2m26 0h2m24 0h2m4 0h2m1 0h2m0 0h2m7 0h2m6 0h2m7 0h2m0 0h2m-1 0h2m7 0h2m2 0h2m1 0h2m-1 0h2m-1 0h2m7 0h2m0 0h2m2 0h2m-1 0h2m-1 0h2m6 0h2m5 0h2m2 0h2m3 0h2m-1 0h2m-1 0h2m-1 0h2m1 0h2m3 0h2m0 0h2m2 0h2m6 0h2m0 0h2m40 0h2m1 0h2m-275 1h2m69 0h2m42 0h2m8 0h2m-1 0h2m2 0h2m1 0h2m5 0h2m5 0h2m-1 0h2m0 0h2m5 0h2m9 0h2m3 0h2m6 0h2m3 0h2m6 0h2m2 0h2m7 0h2m0 0h2m3 0h2m-2 0h2m7 0h2m2 0h2m5 0h2m1 0h2m0 0h2m1 0h2m14 0h2m-323 1h2m151 0h2m7 0h2m1 0h2m6 0h2m9 0h2m7 0h2m5 0h2m6 0h2m0 0h2m7 0h2m12 0h2m0 0h2m4 0h2m4 0h2m6 0h2m6 0h2m-2 0h2m-1 0h2m-1 0h2m0 0h2m10 0h2m7 0h2m-1 0h2m29 0h2m26 0h2m-238 1h2m8 0h2m1 0h2m4 0h2m28 0h2m0 0h2m24 0h2m0 0h2m-1 0h2m7 0h2m-1 0h2m3 0h2m1 0h2m15 0h2m-1 0h2m14 0h2m1 0h2m-2 0h2m1 0h2m2 0h2m7 0h2m12 0h2m1 0h2m15 0h2m11 0h2m0 0h2m10 0h2m-1 0h2m9 0h2m-351 1h2m171 0h2m4 0h2m-1 0h2m5 0h2m7 0h2m0 0h2m2 0h2m-2 0h2m0 0h2m4 0h2m5 0h2m7 0h2m-1 0h2m-1 0h2m12 0h2m14 0h2m3 0h2m4 0h2m2 0h2m2 0h2m5 0h2m5 0h2m9 0h2m31 0h2m-181 1h2m14 0h2m0 0h2m11 0h2m22 0h2m-1 0h2m-1 0h2m5 0h2m4 0h2m3 0h2m3 0h2m7 0h2m-1 0h2m-1 0h2m-1 0h2m4 0h2m-1 0h2m0 0h2m-1 0h2m2 0h2m13 0h2m5 0h2m1 0h2m17 0h2m28 0h2m-334 1h2m133 0h2m23 0h2m-1 0h2m2 0h2m5 0h2m7 0h2m0 0h2m3 0h2m7 0h2m1 0h2m6 0h2m8 0h2m0 0h2m2 0h2m0 0h2m0 0h2m0 0h2m0 0h2m-1 0h2m-2 0h2m-1 0h2m2 0h2m4 0h2m1 0h2m-1 0h2m0 0h2m-1 0h2m-2 0h2m2 0h2m10 0h2m1 0h2m2 0h2m0 0h2m2 0h2m5 0h2m0 0h2m3 0h2m-1 0h2m21 0h2m1 0h2m1 0h2m26 0h2m-187 1h2m14 0h2m-1 0h2m6 0h2m7 0h2m-1 0h2m0 0h2m5 0h2m3 0h2m8 0h2m3 0h2m19 0h2m-1 0h2m-2 0h2m6 0h2m0 0h2m3 0h2m2 0h2m45 0h2m23 0h2m11 0h2m-342 1h2m123 0h2m8 0h2m11 0h2m-1 0h2m25 0h2m4 0h2m-1 0h2m3 0h2m3 0h2m5 0h2m-2 0h2m-1 0h2m3 0h2m-1 0h2m-1 0h2m6 0h2m-1 0h2m-2 0h2m2 0h2m1 0h2m-2 0h2m-2 0h2m4 0h2m1 0h2m1 0h2m1 0h2m0 0h2m1 0h2m0 0h2m1 0h2m11 0h2m-1 0h2m1 0h2m8 0h2m-1 0h2m4 0h2m-1 0h2m6 0h2m4 0h2m-290 1h2m113 0h2m12 0h2m14 0h2m0 0h2m1 0h2m5 0h2m2 0h2m0 0h2m7 0h2m0 0h2m28 0h2m0 0h2m2 0h2m0 0h2m5 0h2m1 0h2m-1 0h2m-1 0h2m2 0h2m1 0h2m12 0h2m4 0h2m3 0h2m4 0h2m1 0h2m-2 0h2m16 0h2m-2 0h2m0 0h2m-1 0h2m-213 1h2m31 0h2m32 0h2m-1 0h2m11 0h2m-2 0h2m2 0h2m-2 0h2m6 0h2m2 0h2m-1 0h2m3 0h2m5 0h2m2 0h2m3 0h2m4 0h2m3 0h2m-1 0h2m8 0h2m-1 0h2m5 0h2m-2 0h2m15 0h2m2 0h2m4 0h2m4 0h2m6 0h2m-2 0h2m0 0h2m-1 0h2m-293 1h2m10 0h2m118 0h2m25 0h2m11 0h2m15 0h2m8 0h2m-1 0h2m-2 0h2m0 0h2m-2 0h2m0 0h2m0 0h2m3 0h2m-1 0h2m9 0h2m2 0h2m-1 0h2m0 0h2m4 0h2m-2 0h2m-2 0h2m-2 0h2m1 0h2m0 0h2m-2 0h2m-1 0h2m3 0h2m0 0h2m11 0h2m0 0h2m-2 0h2m9 0h2m5 0h2m7 0h2m3 0h2m27 0h2m-242 1h2m37 0h2m10 0h2m23 0h2m6 0h2m1 0h2m1 0h2m3 0h2m14 0h2m1 0h2m-2 0h2m3 0h2m1 0h2m11 0h2m1 0h2m5 0h2m2 0h2m18 0h2m-1 0h2m-1 0h2m2 0h2m-1 0h2m5 0h2m0 0h2m16 0h2m3 0h2m0 0h2m-2 0h2m2 0h2m47 0h2m0 0h2m-233 1h2m44 0h2m0 0h2m4 0h2m2 0h2m17 0h2m7 0h2m0 0h2m0 0h2m0 0h2m-1 0h2m-2 0h2m4 0h2m-1 0h2m3 0h2m4 0h2m3 0h2m3 0h2m0 0h2m-1 0h2m4 0h2m-2 0h2m-1 0h2m0 0h2m1 0h2m-1 0h2m6 0h2m2 0h2m10 0h2m-1 0h2m7 0h2m1 0h2m5 0h2m5 0h2m20 0h2m-318 1h2m75 0h2m7 0h2m18 0h2m16 0h2m14 0h2m0 0h2m2 0h2m14 0h2m1 0h2m-2 0h2m1 0h2m7 0h2m11 0h2m1 0h2m-1 0h2m0 0h2m1 0h2m0 0h2m5 0h2m4 0h2m13 0h2m2 0h2m-2 0h2m0 0h2m1 0h2m4 0h2m-2 0h2m3 0h2m5 0h2m1 0h2m10 0h2m15 0h2m4 0h2m10 0h2m-352 1h2m71 0h2m32 0h2m17 0h2m38 0h2m25 0h2m13 0h2m1 0h2m-2 0h2m1 0h2m3 0h2m-2 0h2m4 0h2m-2 0h2m5 0h2m1 0h2m-1 0h2m1 0h2m7 0h2m-1 0h2m0 0h2m17 0h2m1 0h2m3 0h2m-2 0h2m7 0h2m-1 0h2m3 0h2m2 0h2m-1 0h2m12 0h2m8 0h2m10 0h2m10 0h2m5 0h2m2 0h2m-327 1h2m5 0h2m25 0h2m124 0h2m1 0h2m9 0h2m0 0h2m5 0h2m15 0h2m3 0h2m2 0h2m19 0h2m15 0h2m8 0h2m-1 0h2m-2 0h2m2 0h2m4 0h2m-1 0h2m-1 0h2m-1 0h2m0 0h2m5 0h2m3 0h2m3 0h2m3 0h2m-2 0h2m0 0h2m18 0h2m-1 0h2m3 0h2m14 0h2m-2 0h2m-244 1h2m11 0h2m47 0h2m12 0h2m21 0h2m15 0h2m5 0h2m6 0h2m5 0h2m5 0h2m-1 0h2m5 0h2m1 0h2m1 0h2m1 0h2m-2 0h2m14 0h2m-2 0h2m1 0h2m0 0h2m-1 0h2m-1 0h2m8 0h2m6 0h2m10 0h2m4 0h2m-326 1h2m42 0h2m35 0h2m11 0h2m28 0h2m2 0h2m-1 0h2m50 0h2m-1 0h2m-1 0h2m8 0h2m-1 0h2m20 0h2m-1 0h2m10 0h2m0 0h2m-2 0h2m2 0h2m2 0h2m-2 0h2m6 0h2m2 0h2m-1 0h2m1 0h2m-1 0h2m0 0h2m8 0h2m1 0h2m14 0h2m8 0h2m2 0h2m-2 0h2m-327 1h2m138 0h2m4 0h2m28 0h2m15 0h2m5 0h2m-1 0h2m0 0h2m0 0h2m0 0h2m9 0h2m-2 0h2m2 0h2m3 0h2m6 0h2m-1 0h2m21 0h2m-2 0h2m0 0h2m0 0h2m4 0h2m-1 0h2m11 0h2m-1 0h2m3 0h2m2 0h2m4 0h2m2 0h2m6 0h2m2 0h2m3 0h2m0 0h2m-1 0h2m11 0h2m11 0h2m10 0h2m2 0h2m1 0h2m-197 1h2m26 0h2m7 0h2m6 0h2m-1 0h2m1 0h2m11 0h2m0 0h2m-1 0h2m2 0h2m2 0h2m10 0h2m2 0h2m-1 0h2m3 0h2m8 0h2m-1 0h2m4 0h2m5 0h2m3 0h2m0 0h2m2 0h2m0 0h2m0 0h2m3 0h2m7 0h2m-2 0h2m41 0h2m-320 1h2m51 0h2m91 0h2m3 0h2m3 0h2m-1 0h2m6 0h2m5 0h2m-1 0h2m2 0h2m2 0h2m13 0h2m2 0h2m-1 0h2m0 0h2m1 0h2m1 0h2m-1 0h2m-1 0h2m3 0h2m13 0h2m-1 0h2m0 0h2m-2 0h2m5 0h2m-1 0h2m8 0h2m2 0h2m-1 0h2m8 0h2m1 0h2m3 0h2m9 0h2m3 0h2m16 0h2m-211 1h2m21 0h2m2 0h2m20 0h2m9 0h2m4 0h2m0 0h2m1 0h2m23 0h2m3 0h2m-1 0h2m0 0h2m-2 0h2m-1 0h2m4 0h2m-1 0h2m2 0h2m2 0h2m3 0h2m16 0h2m1 0h2m0 0h2m9 0h2m9 0h2m6 0h2m24 0h2m7 0h2m-277 1h2m96 0h2m32 0h2m-1 0h2m-1 0h2m-1 0h2m16 0h2m-2 0h2m0 0h2m3 0h2m2 0h2m1 0h2m9 0h2m-1 0h2m-1 0h2m5 0h2m2 0h2m3 0h2m0 0h2m2 0h2m9 0h2m0 0h2m-2 0h2m-1 0h2m14 0h2m1 0h2m-2 0h2m3 0h2m4 0h2m-2 0h2m7 0h2m9 0h2m3 0h2m-218 1h2m25 0h2m25 0h2m12 0h2m0 0h2m7 0h2m1 0h2m4 0h2m0 0h2m2 0h2m1 0h2m1 0h2m0 0h2m0 0h2m0 0h2m-1 0h2m-2 0h2m0 0h2m2 0h2m1 0h2m3 0h2m-1 0h2m3 0h2m4 0h2m1 0h2m1 0h2m0 0h2m0 0h2m-2 0h2m-1 0h2m0 0h2m-2 0h2m1 0h2m29 0h2m4 0h2m-2 0h2m-1 0h2m0 0h2m-1 0h2m-1 0h2m-1 0h2m9 0h2m-1 0h2m-1 0h2m2 0h2m6 0h2m-297 1h2m29 0h2m47 0h2m0 0h2m-2 0h2m28 0h2m6 0h2m-2 0h2m15 0h2m-1 0h2m-1 0h2m19 0h2m17 0h2m-1 0h2m1 0h2m8 0h2m4 0h2m-2 0h2m-2 0h2m1 0h2m8 0h2m1 0h2m0 0h2m-2 0h2m1 0h2m9 0h2m58 0h2m-152 1h2m2 0h2m4 0h2m11 0h2m0 0h2m5 0h2m4 0h2m-1 0h2m0 0h2m5 0h2m-1 0h2m-2 0h2m-2 0h2m11 0h2m12 0h2m6 0h2m0 0h2m-2 0h2m3 0h2m5 0h2m6 0h2m13 0h2m5 0h2m-2 0h2m12 0h2m6 0h2m-1 0h2m8 0h2m-200 1h2m8 0h2m19 0h2m12 0h2m-1 0h2m2 0h2m12 0h2m0 0h2m-2 0h2m5 0h2m-1 0h2m-1 0h2m10 0h2m4 0h2m8 0h2m1 0h2m-2 0h2m4 0h2m0 0h2m0 0h2m-1 0h2m0 0h2m1 0h2m-1 0h2m13 0h2m6 0h2m4 0h2m3 0h2m1 0h2m-2 0h2m8 0h2m-272 1h2m31 0h2m12 0h2m60 0h2m7 0h2m7 0h2m-1 0h2m1 0h2m2 0h2m11 0h2m17 0h2m4 0h2m-1 0h2m2 0h2m11 0h2m0 0h2m1 0h2m0 0h2m-1 0h2m0 0h2m2 0h2m2 0h2m0 0h2m1 0h2m1 0h2m11 0h2m0 0h2m-1 0h2m-1 0h2m3 0h2m3 0h2m3 0h2m1 0h2m-1 0h2m-2 0h2m1 0h2m15 0h2m7 0h2m-243 1h2m43 0h2m14 0h2m4 0h2m6 0h2m4 0h2m9 0h2m9 0h2m8 0h2m1 0h2m5 0h2m3 0h2m1 0h2m11 0h2m-2 0h2m-2 0h2m6 0h2m7 0h2m-1 0h2m5 0h2m-1 0h2m5 0h2m4 0h2m9 0h2m1 0h2m-1 0h2m9 0h2m0 0h2m9 0h2m3 0h2m1 0h2m-1 0h2m8 0h2m5 0h2m24 0h2m-353 1h2m136 0h2m16 0h2m6 0h2m3 0h2m5 0h2m-1 0h2m1 0h2m4 0h2m0 0h2m-2 0h2m0 0h2m0 0h2m1 0h2m6 0h2m1 0h2m-1 0h2m-1 0h2m-1 0h2m6 0h2m3 0h2m0 0h2m0 0h2m7 0h2m0 0h2m5 0h2m13 0h2m5 0h2m2 0h2m4 0h2m19 0h2m-1 0h2m4 0h2m0 0h2m1 0h2m-1 0h2m5 0h2m32 0h2m-306 1h2m51 0h2m45 0h2m16 0h2m14 0h2m-1 0h2m7 0h2m6 0h2m2 0h2m6 0h2m-1 0h2m2 0h2m-1 0h2m-1 0h2m0 0h2m-1 0h2m1 0h2m2 0h2m-2 0h2m5 0h2m0 0h2m1 0h2m16 0h2m-1 0h2m-1 0h2m7 0h2m8 0h2m-2 0h2m-1 0h2m5 0h2m18 0h2m-1 0h2m-184 1h2m8 0h2m2 0h2m-1 0h2m2 0h2m0 0h2m27 0h2m11 0h2m17 0h2m3 0h2m-2 0h2m0 0h2m11 0h2m2 0h2m0 0h2m4 0h2m0 0h2m0 0h2m2 0h2m-1 0h2m-1 0h2m0 0h2m3 0h2m-1 0h2m1 0h2m1 0h2m-1 0h2m-1 0h2m-2 0h2m0 0h2m-1 0h2m2 0h2m-1 0h2m8 0h2m0 0h2m-1 0h2m2 0h2m6 0h2m-2 0h2m0 0h2m-2 0h2m16 0h2m-332 1h2m40 0h2m20 0h2m25 0h2m35 0h2m19 0h2m7 0h2m1 0h2m8 0h2m5 0h2m4 0h2m4 0h2m18 0h2m7 0h2m9 0h2m1 0h2m2 0h2m-2 0h2m0 0h2m-2 0h2m-1 0h2m2 0h2m-1 0h2m0 0h2m1 0h2m-2 0h2m5 0h2m1 0h2m0 0h2m3 0h2m-1 0h2m-2 0h2m-1 0h2m-2 0h2m0 0h2m9 0h2m4 0h2m14 0h2m3 0h2m25 0h2m8 0h2m-190 1h2m3 0h2m1 0h2m0 0h2m0 0h2m1 0h2m1 0h2m30 0h2m-1 0h2m10 0h2m2 0h2m-2 0h2m5 0h2m6 0h2m-1 0h2m-2 0h2m2 0h2m-1 0h2m-2 0h2m3 0h2m2 0h2m-1 0h2m9 0h2m-1 0h2m0 0h2m3 0h2m-1 0h2m1 0h2m0 0h2m12 0h2m14 0h2m6 0h2m0 0h2m0 0h2m2 0h2m-315 1h2m78 0h2m55 0h2m23 0h2m3 0h2m1 0h2m7 0h2m5 0h2m1 0h2m-1 0h2m0 0h2m6 0h2m-2 0h2m4 0h2m10 0h2m1 0h2m-2 0h2m10 0h2m2 0h2m3 0h2m1 0h2m5 0h2m0 0h2m9 0h2m1 0h2m9 0h2m10 0h2m8 0h2m-1 0h2m16 0h2m3 0h2m0 0h2m-269 1h2m19 0h2m68 0h2m1 0h2m16 0h2m12 0h2m1 0h2m7 0h2m9 0h2m1 0h2m1 0h2m2 0h2m-2 0h2m13 0h2m-1 0h2m0 0h2m0 0h2m4 0h2m-1 0h2m4 0h2m14 0h2m6 0h2m-1 0h2m-2 0h2m4 0h2m-1 0h2m35 0h2m-1 0h2m-275 1h2m85 0h2m0 0h2m4 0h2m-2 0h2m10 0h2m7 0h2m10 0h2m0 0h2m5 0h2m-2 0h2m4 0h2m-1 0h2m7 0h2m17 0h2m2 0h2m-1 0h2m2 0h2m1 0h2m2 0h2m-1 0h2m0 0h2m5 0h2m-1 0h2m0 0h2m2 0h2m2 0h2m-2 0h2m2 0h2m0 0h2m2 0h2m5 0h2m-1 0h2m5 0h2m0 0h2m-1 0h2m12 0h2m7 0h2m7 0h2m10 0h2m-356 1h2m155 0h2m23 0h2m0 0h2m4 0h2m1 0h2m9 0h2m7 0h2m12 0h2m-2 0h2m10 0h2m1 0h2m1 0h2m-2 0h2m0 0h2m1 0h2m-2 0h2m14 0h2m0 0h2m1 0h2m-1 0h2m-2 0h2m-1 0h2m-1 0h2m1 0h2m0 0h2m0 0h2m-2 0h2m3 0h2m-2 0h2m-1 0h2m6 0h2m3 0h2m12 0h2m-1 0h2m14 0h2m1 0h2m-1 0h2m6 0h2m0 0h2m10 0h2m-287 1h2m11 0h2m60 0h2m9 0h2m22 0h2m-1 0h2m32 0h2m7 0h2m13 0h2m2 0h2m-1 0h2m0 0h2m-1 0h2m-1 0h2m0 0h2m-2 0h2m0 0h2m7 0h2m0 0h2m1 0h2m1 0h2m6 0h2m1 0h2m18 0h2m1 0h2m10 0h2m12 0h2m5 0h2m17 0h2m0 0h2m-259 1h2m19 0h2m58 0h2m20 0h2m5 0h2m5 0h2m0 0h2m1 0h2m3 0h2m0 0h2m5 0h2m-2 0h2m0 0h2m10 0h2m2 0h2m25 0h2m8 0h2m-2 0h2m4 0h2m7 0h2m15 0h2m11 0h2m24 0h2m7 0h2m-306 1h2m16 0h2m35 0h2m16 0h2m24 0h2m36 0h2m6 0h2m8 0h2m3 0h2m-2 0h2m16 0h2m3 0h2m0 0h2m-2 0h2m1 0h2m-2 0h2m0 0h2m-2 0h2m-2 0h2m7 0h2m0 0h2m-1 0h2m5 0h2m12 0h2m15 0h2m4 0h2m11 0h2m1 0h2m2 0h2m31 0h2m-307 1h2m90 0h2m14 0h2m14 0h2m-2 0h2m7 0h2m1 0h2m13 0h2m-1 0h2m-1 0h2m0 0h2m8 0h2m3 0h2m7 0h2m13 0h2m0 0h2m0 0h2m-2 0h2m4 0h2m3 0h2m0 0h2m-1 0h2m7 0h2m2 0h2m1 0h2m3 0h2m0 0h2m1 0h2m5 0h2m-1 0h2m5 0h2m0 0h2m19 0h2m8 0h2m-173 1h2m6 0h2m8 0h2m5 0h2m5 0h2m5 0h2m3 0h2m9 0h2m5 0h2m2 0h2m-1 0h2m0 0h2m2 0h2m4 0h2m9 0h2m0 0h2m11 0h2m-2 0h2m-2 0h2m6 0h2m12 0h2m1 0h2m6 0h2m8 0h2m1 0h2m12 0h2m-340 1h2m145 0h2m19 0h2m14 0h2m3 0h2m7 0h2m8 0h2m-2 0h2m0 0h2m2 0h2m1 0h2m5 0h2m1 0h2m4 0h2m0 0h2m4 0h2m-2 0h2m-1 0h2m-2 0h2m-1 0h2m0 0h2m12 0h2m4 0h2m6 0h2m-1 0h2m-1 0h2m1 0h2m-2 0h2m7 0h2m2 0h2m24 0h2m2 0h2m0 0h2m12 0h2m-1 0h2m-2 0h2m4 0h2m-187 1h2m6 0h2m26 0h2m16 0h2m4 0h2m-1 0h2m-1 0h2m1 0h2m5 0h2m4 0h2m10 0h2m1 0h2m2 0h2m2 0h2m0 0h2m1 0h2m-2 0h2m4 0h2m5 0h2m3 0h2m5 0h2m1 0h2m1 0h2m2 0h2m0 0h2m5 0h2m0 0h2m-2 0h2m6 0h2m-2 0h2m6 0h2m2 0h2m5 0h2m-196 1h2m12 0h2m6 0h2m4 0h2m-1 0h2m6 0h2m23 0h2m-2 0h2m0 0h2m0 0h2m8 0h2m-2 0h2m5 0h2m0 0h2m-1 0h2m4 0h2m0 0h2m7 0h2m-1 0h2m-1 0h2m-2 0h2m6 0h2m-1 0h2m-1 0h2m3 0h2m-2 0h2m0 0h2m4 0h2m6 0h2m3 0h2m2 0h2m3 0h2m9 0h2m3 0h2m-1 0h2m15 0h2m9 0h2m-189 1h2m12 0h2m23 0h2m2 0h2m2 0h2m-1 0h2m5 0h2m1 0h2m0 0h2m-1 0h2m7 0h2m14 0h2m5 0h2m8 0h2m-1 0h2m1 0h2m1 0h2m7 0h2m0 0h2m5 0h2m7 0h2m1 0h2m0 0h2m-1 0h2m3 0h2m1 0h2m-1 0h2m8 0h2m0 0h2m13 0h2m2 0h2m7 0h2m-265 1h2m83 0h2m10 0h2m12 0h2m0 0h2m6 0h2m16 0h2m4 0h2m-1 0h2m4 0h2m12 0h2m3 0h2m9 0h2m-1 0h2m2 0h2m1 0h2m2 0h2m-1 0h2m-2 0h2m0 0h2m-1 0h2m10 0h2m1 0h2m-2 0h2m1 0h2m26 0h2m-1 0h2m6 0h2m13 0h2m-327 1h2m45 0h2m-1 0h2m4 0h2m30 0h2m29 0h2m5 0h2m6 0h2m3 0h2m3 0h2m1 0h2m3 0h2m1 0h2m12 0h2m12 0h2m-1 0h2m-1 0h2m-1 0h2m18 0h2m0 0h2m8 0h2m4 0h2m5 0h2m2 0h2m0 0h2m9 0h2m-1 0h2m1 0h2m4 0h2m8 0h2m-1 0h2m-2 0h2m-1 0h2m41 0h2m21 0h2m-235 1h2m45 0h2m-2 0h2m5 0h2m16 0h2m2 0h2m19 0h2m0 0h2m-2 0h2m2 0h2m1 0h2m-1 0h2m0 0h2m1 0h2m4 0h2m4 0h2m12 0h2m1 0h2m1 0h2m2 0h2m0 0h2m-1 0h2m-1 0h2m-1 0h2m4 0h2m-1 0h2m14 0h2m1 0h2m-1 0h2m20 0h2m9 0h2m-188 1h2m3 0h2m21 0h2m2 0h2m5 0h2m5 0h2m9 0h2m-1 0h2m-2 0h2m16 0h2m-1 0h2m9 0h2m9 0h2m1 0h2m0 0h2m2 0h2m-2 0h2m1 0h2m-1 0h2m-1 0h2m-2 0h2m-1 0h2m-2 0h2m-1 0h2m-2 0h2m0 0h2m4 0h2m1 0h2m-1 0h2m2 0h2m1 0h2m8 0h2m-2 0h2m19 0h2m0 0h2m7 0h2m-298 1h2m143 0h2m11 0h2m-2 0h2m-2 0h2m0 0h2m1 0h2m-2 0h2m-1 0h2m3 0h2m4 0h2m-1 0h2m0 0h2m1 0h2m6 0h2m3 0h2m1 0h2m10 0h2m-2 0h2m-1 0h2m0 0h2m0 0h2m-1 0h2m-1 0h2m-1 0h2m1 0h2m1 0h2m1 0h2m3 0h2m-2 0h2m1 0h2m4 0h2m7 0h2m2 0h2m0 0h2m12 0h2m4 0h2m-1 0h2m16 0h2m0 0h2m14 0h2m-408 1h2m176 0h2m23 0h2m19 0h2m6 0h2m11 0h2m0 0h2m2 0h2m0 0h2m-1 0h2m-1 0h2m12 0h2m-1 0h2m0 0h2m4 0h2m5 0h2m5 0h2m2 0h2m3 0h2m0 0h2m10 0h2m3 0h2m1 0h2m-1 0h2m1 0h2m0 0h2m8 0h2m14 0h2m0 0h2m0 0h2m4 0h2m0 0h2m7 0h2m16 0h2m-1 0h2m-2 0h2m-1 0h2m-1 0h2m12 0h2m-360 1h2m154 0h2m8 0h2m14 0h2m-2 0h2m30 0h2m12 0h2m0 0h2m9 0h2m10 0h2m0 0h2m3 0h2m4 0h2m-2 0h2m1 0h2m19 0h2m2 0h2m7 0h2m-2 0h2m8 0h2m6 0h2m12 0h2m-262 1h2m72 0h2m34 0h2m5 0h2m13 0h2m6 0h2m0 0h2m15 0h2m-2 0h2m25 0h2m0 0h2m-2 0h2m-1 0h2m2 0h2m0 0h2m5 0h2m0 0h2m4 0h2m2 0h2m3 0h2m-1 0h2m-2 0h2m-1 0h2m-2 0h2m-1 0h2m1 0h2m5 0h2m2 0h2m-1 0h2m3 0h2m-1 0h2m7 0h2m14 0h2m5 0h2m-212 1h2m32 0h2m5 0h2m-1 0h2m21 0h2m4 0h2m-2 0h2m1 0h2m4 0h2m2 0h2m12 0h2m4 0h2m4 0h2m2 0h2m2 0h2m0 0h2m4 0h2m4 0h2m6 0h2m4 0h2m8 0h2m-1 0h2m2 0h2m8 0h2m-1 0h2m5 0h2m32 0h2m2 0h2m-1 0h2m2 0h2m-234 1h2m25 0h2m9 0h2m4 0h2m16 0h2m9 0h2m5 0h2m-1 0h2m42 0h2m0 0h2m2 0h2m-1 0h2m5 0h2m-1 0h2m3 0h2m-2 0h2m-1 0h2m1 0h2m-1 0h2m0 0h2m4 0h2m1 0h2m1 0h2m-2 0h2m-1 0h2m-2 0h2m3 0h2m-1 0h2m-1 0h2m1 0h2m8 0h2m-229 1h2m22 0h2m70 0h2m10 0h2m11 0h2m-2 0h2m16 0h2m4 0h2m-1 0h2m3 0h2m9 0h2m1 0h2m5 0h2m-1 0h2m0 0h2m1 0h2m0 0h2m6 0h2m-2 0h2m-1 0h2m0 0h2m2 0h2m13 0h2m11 0h2m-1 0h2m2 0h2m6 0h2m2 0h2m7 0h2m3 0h2m6 0h2m22 0h2m-372 1h2m123 0h2m43 0h2m19 0h2m-1 0h2m7 0h2m1 0h2m2 0h2m1 0h2m12 0h2m3 0h2m12 0h2m-1 0h2m0 0h2m0 0h2m-1 0h2m2 0h2m6 0h2m3 0h2m-1 0h2m0 0h2m0 0h2m10 0h2m-1 0h2m2 0h2m2 0h2m5 0h2m-1 0h2m-1 0h2m1 0h2m11 0h2m13 0h2m10 0h2m-211 1h2m30 0h2m35 0h2m3 0h2m0 0h2m-1 0h2m15 0h2m3 0h2m17 0h2m3 0h2m4 0h2m1 0h2m0 0h2m4 0h2m8 0h2m2 0h2m2 0h2m0 0h2m11 0h2m7 0h2m0 0h2m12 0h2m2 0h2m1 0h2m22 0h2m-209 1h2m50 0h2m17 0h2m7 0h2m1 0h2m4 0h2m0 0h2m-1 0h2m2 0h2m0 0h2m11 0h2m-2 0h2m1 0h2m0 0h2m1 0h2m6 0h2m10 0h2m5 0h2m1 0h2m8 0h2m1 0h2m7 0h2m1 0h2m24 0h2m-321 1h2m68 0h2m48 0h2m17 0h2m17 0h2m9 0h2m1 0h2m11 0h2m-2 0h2m0 0h2m5 0h2m0 0h2m8 0h2m-1 0h2m10 0h2m-1 0h2m-1 0h2m-1 0h2m-1 0h2m1 0h2m-1 0h2m11 0h2m17 0h2m-1 0h2m0 0h2m5 0h2m6 0h2m-2 0h2m14 0h2m1 0h2m15 0h2m-1 0h2m3 0h2m-1 0h2m-326 1h2m142 0h2m11 0h2m11 0h2m3 0h2m13 0h2m-1 0h2m6 0h2m-1 0h2m-1 0h2m1 0h2m0 0h2m8 0h2m-2 0h2m2 0h2m4 0h2m3 0h2m13 0h2m-1 0h2m-1 0h2m1 0h2m1 0h2m1 0h2m4 0h2m4 0h2m-2 0h2m4 0h2m-1 0h2m0 0h2m-1 0h2m-1 0h2m33 0h2m-227 1h2m2 0h2m26 0h2m19 0h2m4 0h2m7 0h2m-1 0h2m2 0h2m4 0h2m1 0h2m8 0h2m22 0h2m6 0h2m0 0h2m0 0h2m8 0h2m-1 0h2m-2 0h2m3 0h2m5 0h2m-1 0h2m-1 0h2m1 0h2m1 0h2m3 0h2m-2 0h2m7 0h2m4 0h2m-1 0h2m11 0h2m6 0h2m2 0h2m-1 0h2m8 0h2m13 0h2m0 0h2m-316 1h2m83 0h2m37 0h2m31 0h2m2 0h2m15 0h2m3 0h2m3 0h2m24 0h2m3 0h2m2 0h2m-2 0h2m7 0h2m11 0h2m19 0h2m16 0h2m11 0h2m0 0h2m32 0h2m-251 1h2m32 0h2m23 0h2m8 0h2m2 0h2m3 0h2m7 0h2m9 0h2m9 0h2m4 0h2m-1 0h2m-1 0h2m-1 0h2m0 0h2m-1 0h2m1 0h2m-2 0h2m-2 0h2m-2 0h2m3 0h2m5 0h2m3 0h2m5 0h2m-1 0h2m-1 0h2m-1 0h2m1 0h2m-1 0h2m0 0h2m28 0h2m6 0h2m0 0h2m1 0h2m-330 1h2m173 0h2m18 0h2m1 0h2m14 0h2m-2 0h2m1 0h2m14 0h2m0 0h2m0 0h2m4 0h2m6 0h2m2 0h2m0 0h2m-2 0h2m8 0h2m2 0h2m2 0h2m10 0h2m-2 0h2m4 0h2m-2 0h2m-2 0h2m-1 0h2m0 0h2m4 0h2m-1 0h2m1 0h2m6 0h2m-1 0h2m2 0h2m33 0h2m-325 1h2m146 0h2m4 0h2m1 0h2m17 0h2m3 0h2m22 0h2m6 0h2m7 0h2m2 0h2m-2 0h2m-2 0h2m0 0h2m0 0h2m-1 0h2m0 0h2m-1 0h2m1 0h2m0 0h2m3 0h2m1 0h2m-2 0h2m3 0h2m8 0h2m-1 0h2m0 0h2m0 0h2m1 0h2m-2 0h2m4 0h2m7 0h2m12 0h2m-176 1h2m8 0h2m-1 0h2m11 0h2m5 0h2m4 0h2m2 0h2m3 0h2m4 0h2m2 0h2m0 0h2m0 0h2m0 0h2m1 0h2m6 0h2m4 0h2m3 0h2m4 0h2m1 0h2m0 0h2m2 0h2m6 0h2m2 0h2m-1 0h2m5 0h2m10 0h2m8 0h2m-2 0h2m-2 0h2m3 0h2m16 0h2m-1 0h2m-2 0h2m2 0h2m22 0h2m-209 1h2m5 0h2m38 0h2m0 0h2m16 0h2m19 0h2m0 0h2m9 0h2m1 0h2m3 0h2m1 0h2m-2 0h2m15 0h2m9 0h2m-2 0h2m2 0h2m6 0h2m-1 0h2m1 0h2m2 0h2m10 0h2m-1 0h2m18 0h2m4 0h2m9 0h2m3 0h2m-263 1h2m16 0h2m28 0h2m16 0h2m8 0h2m16 0h2m7 0h2m5 0h2m0 0h2m0 0h2m-1 0h2m-1 0h2m1 0h2m-1 0h2m6 0h2m0 0h2m0 0h2m-2 0h2m-1 0h2m4 0h2m-1 0h2m6 0h2m5 0h2m1 0h2m-1 0h2m1 0h2m0 0h2m-2 0h2m6 0h2m0 0h2m0 0h2m-1 0h2m-1 0h2m-2 0h2m-2 0h2m-1 0h2m-1 0h2m3 0h2m-2 0h2m18 0h2m2 0h2m11 0h2m32 0h2m10 0h2m-255 1h2m7 0h2m1 0h2m4 0h2m8 0h2m12 0h2m-1 0h2m14 0h2m14 0h2m-1 0h2m-1 0h2m0 0h2m10 0h2m0 0h2m2 0h2m1 0h2m8 0h2m4 0h2m1 0h2m23 0h2m3 0h2m3 0h2m5 0h2m2 0h2m1 0h2m0 0h2m1 0h2m1 0h2m21 0h2m1 0h2m7 0h2m-2 0h2m4 0h2m-248 1h2m27 0h2m51 0h2m24 0h2m2 0h2m4 0h2m9 0h2m0 0h2m1 0h2m1 0h2m0 0h2m-1 0h2m3 0h2m2 0h2m2 0h2m-1 0h2m-1 0h2m3 0h2m-1 0h2m1 0h2m-1 0h2m14 0h2m-2 0h2m0 0h2m1 0h2m3 0h2m7 0h2m3 0h2m-1 0h2m2 0h2m-2 0h2m-2 0h2m-1 0h2m4 0h2m-1 0h2m13 0h2m4 0h2m6 0h2m11 0h2m0 0h2m2 0h2m8 0h2m12 0h2m2 0h2m-235 1h2m12 0h2m13 0h2m0 0h2m3 0h2m3 0h2m6 0h2m0 0h2m4 0h2m16 0h2m-1 0h2m3 0h2m0 0h2m6 0h2m-2 0h2m12 0h2m6 0h2m0 0h2m2 0h2m-2 0h2m31 0h2m1 0h2m1 0h2m0 0h2m-1 0h2m-1 0h2m0 0h2m-1 0h2m-1 0h2m1 0h2m-1 0h2m2 0h2m20 0h2m32 0h2m-2 0h2m-250 1h2m24 0h2m6 0h2m69 0h2m-2 0h2m0 0h2m2 0h2m-1 0h2m2 0h2m1 0h2m5 0h2m1 0h2m-1 0h2m-2 0h2m-2 0h2m2 0h2m0 0h2m1 0h2m6 0h2m0 0h2m3 0h2m0 0h2m22 0h2m0 0h2m-2 0h2m-1 0h2m4 0h2m-1 0h2m21 0h2m-405 1h2m168 0h2m19 0h2m20 0h2m35 0h2m5 0h2m2 0h2m0 0h2m-1 0h2m2 0h2m-2 0h2m9 0h2m-2 0h2m1 0h2m10 0h2m10 0h2m11 0h2m4 0h2m-2 0h2m2 0h2m-1 0h2m-2 0h2m7 0h2m0 0h2m-1 0h2m-1 0h2m-1 0h2m-2 0h2m-1 0h2m1 0h2m-1 0h2m2 0h2m0 0h2m-1 0h2m5 0h2m14 0h2m4 0h2m3 0h2m-2 0h2m9 0h2m-2 0h2m7 0h2m16 0h2m-353 1h2m160 0h2m18 0h2m7 0h2m7 0h2m-2 0h2m10 0h2m-1 0h2m1 0h2m9 0h2m1 0h2m9 0h2m-2 0h2m9 0h2m4 0h2m4 0h2m-1 0h2m-1 0h2m4 0h2m-2 0h2m-2 0h2m0 0h2m11 0h2m6 0h2m-1 0h2m-1 0h2m0 0h2m55 0h2m-291 1h2m69 0h2m4 0h2m3 0h2m21 0h2m-1 0h2m-2 0h2m9 0h2m2 0h2m4 0h2m2 0h2m-1 0h2m11 0h2m9 0h2m14 0h2m4 0h2m-1 0h2m0 0h2m0 0h2m-2 0h2m3 0h2m-1 0h2m0 0h2m-1 0h2m-1 0h2m3 0h2m-1 0h2m-2 0h2m0 0h2m-1 0h2m12 0h2m6 0h2m2 0h2m4 0h2m7 0h2m4 0h2m11 0h2m12 0h2m-353 1h2m134 0h2m52 0h2m-1 0h2m4 0h2m17 0h2m1 0h2m-2 0h2m-2 0h2m-2 0h2m3 0h2m12 0h2m2 0h2m-2 0h2m1 0h2m3 0h2m9 0h2m2 0h2m3 0h2m-2 0h2m-1 0h2m-2 0h2m1 0h2m16 0h2m6 0h2m5 0h2m6 0h2m4 0h2m29 0h2m7 0h2m-216 1h2m19 0h2m20 0h2m2 0h2m1 0h2m2 0h2m0 0h2m0 0h2m2 0h2m9 0h2m0 0h2m0 0h2m6 0h2m4 0h2m4 0h2m0 0h2m3 0h2m6 0h2m4 0h2m4 0h2m0 0h2m5 0h2m-1 0h2m10 0h2m1 0h2m2 0h2m1 0h2m0 0h2m15 0h2m-2 0h2m-2 0h2m10 0h2m-213 1h2m56 0h2m-1 0h2m3 0h2m-2 0h2m13 0h2m9 0h2m2 0h2m3 0h2m1 0h2m10 0h2m0 0h2m-1 0h2m2 0h2m6 0h2m3 0h2m-1 0h2m7 0h2m0 0h2m1 0h2m-2 0h2m11 0h2m3 0h2m-1 0h2m9 0h2m5 0h2m-2 0h2m3 0h2m-1 0h2m0 0h2m14 0h2m5 0h2m31 0h2m-193 1h2m5 0h2m12 0h2m0 0h2m5 0h2m6 0h2m1 0h2m7 0h2m6 0h2m-1 0h2m0 0h2m12 0h2m6 0h2m13 0h2m14 0h2m0 0h2m-1 0h2m3 0h2m-2 0h2m2 0h2m13 0h2m14 0h2m18 0h2m-216 1h2m3 0h2m36 0h2m1 0h2m15 0h2m1 0h2m8 0h2m16 0h2m10 0h2m6 0h2m6 0h2m2 0h2m3 0h2m1 0h2m3 0h2m11 0h2m3 0h2m8 0h2m2 0h2m4 0h2m-324 1h2m111 0h2m63 0h2m27 0h2m9 0h2m1 0h2m1 0h2m8 0h2m4 0h2m10 0h2m2 0h2m2 0h2m2 0h2m9 0h2m0 0h2m13 0h2m-1 0h2m-1 0h2m1 0h2m-2 0h2m4 0h2m2 0h2m11 0h2m29 0h2m2 0h2m0 0h2m6 0h2m-239 1h2m23 0h2m38 0h2m11 0h2m0 0h2m23 0h2m0 0h2m0 0h2m-1 0h2m3 0h2m5 0h2m-2 0h2m5 0h2m-1 0h2m-2 0h2m5 0h2m-1 0h2m1 0h2m3 0h2m-2 0h2m2 0h2m6 0h2m11 0h2m21 0h2m8 0h2m-175 1h2m1 0h2m14 0h2m14 0h2m19 0h2m-2 0h2m6 0h2m8 0h2m1 0h2m-2 0h2m-2 0h2m0 0h2m-1 0h2m4 0h2m2 0h2m5 0h2m1 0h2m1 0h2m3 0h2m0 0h2m-1 0h2m1 0h2m-1 0h2m1 0h2m1 0h2m11 0h2m9 0h2m6 0h2m-1 0h2m21 0h2m2 0h2m10 0h2m-205 1h2m5 0h2m-1 0h2m8 0h2m-2 0h2m4 0h2m6 0h2m2 0h2m1 0h2m13 0h2m3 0h2m6 0h2m14 0h2m-2 0h2m6 0h2m0 0h2m-1 0h2m1 0h2m10 0h2m-2 0h2m-1 0h2m19 0h2m-2 0h2m0 0h2m19 0h2m3 0h2m-1 0h2m7 0h2m5 0h2m5 0h2m2 0h2m-2 0h2m-217 1h2m13 0h2m7 0h2m18 0h2m5 0h2m23 0h2m1 0h2m-1 0h2m-1 0h2m3 0h2m1 0h2m13 0h2m2 0h2m5 0h2m-2 0h2m0 0h2m-2 0h2m2 0h2m0 0h2m4 0h2m6 0h2m1 0h2m-1 0h2m-1 0h2m-1 0h2m2 0h2m0 0h2m4 0h2m9 0h2m3 0h2m2 0h2m1 0h2m4 0h2m3 0h2m6 0h2m-1 0h2m1 0h2m0 0h2m29 0h2m-315 1h2m77 0h2m21 0h2m9 0h2m5 0h2m1 0h2m14 0h2m1 0h2m3 0h2m23 0h2m9 0h2m-2 0h2m0 0h2m-1 0h2m2 0h2m1 0h2m13 0h2m1 0h2m-2 0h2m0 0h2m-1 0h2m-1 0h2m-1 0h2m30 0h2m3 0h2m1 0h2m0 0h2m1 0h2m6 0h2m-1 0h2m16 0h2m-2 0h2m-233 1h2m31 0h2m6 0h2m1 0h2m10 0h2m-1 0h2m18 0h2m8 0h2m19 0h2m2 0h2m2 0h2m33 0h2m-1 0h2m1 0h2m-1 0h2m-1 0h2m8 0h2m1 0h2m-1 0h2m3 0h2m-2 0h2m9 0h2m3 0h2m5 0h2m3 0h2m-1 0h2m2 0h2m3 0h2m8 0h2m1 0h2m-1 0h2m0 0h2m2 0h2m-1 0h2m1 0h2m12 0h2m10 0h2m5 0h2m-257 1h2m28 0h2m3 0h2m18 0h2m1 0h2m6 0h2m6 0h2m1 0h2m0 0h2m-2 0h2m-1 0h2m3 0h2m4 0h2m11 0h2m7 0h2m-1 0h2m0 0h2m1 0h2m0 0h2m11 0h2m3 0h2m1 0h2m13 0h2m0 0h2m8 0h2m-2 0h2m-1 0h2m13 0h2m4 0h2m0 0h2m2 0h2m-191 1h2m17 0h2m36 0h2m-1 0h2m-1 0h2m2 0h2m17 0h2m2 0h2m2 0h2m11 0h2m8 0h2m-2 0h2m5 0h2m-2 0h2m0 0h2m12 0h2m0 0h2m-1 0h2m-1 0h2m1 0h2m12 0h2m-1 0h2m4 0h2m3 0h2m2 0h2m5 0h2m3 0h2m6 0h2m0 0h2m21 0h2m-231 1h2m31 0h2m6 0h2m1 0h2m9 0h2m0 0h2m38 0h2m17 0h2m2 0h2m-2 0h2m1 0h2m2 0h2m3 0h2m4 0h2m-2 0h2m4 0h2m-1 0h2m0 0h2m0 0h2m4 0h2m-1 0h2m-2 0h2m4 0h2m5 0h2m1 0h2m-1 0h2m-1 0h2m9 0h2m19 0h2m0 0h2m19 0h2m13 0h2m0 0h2m-263 1h2m47 0h2m3 0h2m33 0h2m5 0h2m9 0h2m1 0h2m3 0h2m0 0h2m-1 0h2m2 0h2m1 0h2m4 0h2m28 0h2m0 0h2m-1 0h2m7 0h2m6 0h2m1 0h2m8 0h2m1 0h2m9 0h2m4 0h2m8 0h2m11 0h2m-244 1h2m54 0h2m17 0h2m50 0h2m-1 0h2m1 0h2m6 0h2m1 0h2m2 0h2m-2 0h2m0 0h2m4 0h2m0 0h2m7 0h2m-1 0h2m1 0h2m3 0h2m0 0h2m13 0h2m14 0h2m1 0h2m0 0h2m0 0h2m0 0h2m9 0h2m11 0h2m10 0h2m4 0h2m3 0h2m-281 1h2m5 0h2m71 0h2m-1 0h2m8 0h2m4 0h2m1 0h2m4 0h2m17 0h2m7 0h2m3 0h2m0 0h2m11 0h2m-1 0h2m8 0h2m0 0h2m-2 0h2m9 0h2m1 0h2m0 0h2m5 0h2m0 0h2m2 0h2m0 0h2m1 0h2m2 0h2m0 0h2m0 0h2m7 0h2m4 0h2m0 0h2m26 0h2m0 0h2m-1 0h2m1 0h2m-1 0h2m0 0h2m3 0h2m14 0h2m-202 1h2m-1 0h2m5 0h2m13 0h2m8 0h2m2 0h2m1 0h2m6 0h2m-1 0h2m-1 0h2m-1 0h2m0 0h2m3 0h2m1 0h2m6 0h2m14 0h2m0 0h2m4 0h2m-1 0h2m-1 0h2m-2 0h2m0 0h2m7 0h2m1 0h2m4 0h2m-1 0h2m4 0h2m6 0h2m6 0h2m0 0h2m1 0h2m7 0h2m0 0h2m0 0h2m0 0h2m26 0h2m12 0h2m9 0h2m-246 1h2m27 0h2m20 0h2m-2 0h2m-1 0h2m18 0h2m9 0h2m22 0h2m0 0h2m-2 0h2m13 0h2m0 0h2m0 0h2m-2 0h2m7 0h2m-2 0h2m33 0h2m6 0h2m3 0h2m5 0h2m5 0h2m0 0h2m-2 0h2m26 0h2m0 0h2m-2 0h2m-224 1h2m4 0h2m-1 0h2m8 0h2m2 0h2m23 0h2m8 0h2m2 0h2m23 0h2m18 0h2m-2 0h2m12 0h2m0 0h2m7 0h2m14 0h2m2 0h2m11 0h2m-1 0h2m-2 0h2m-1 0h2m18 0h2m29 0h2m-253 1h2m66 0h2m7 0h2m-2 0h2m14 0h2m13 0h2m0 0h2m3 0h2m2 0h2m-2 0h2m9 0h2m2 0h2m3 0h2m14 0h2m9 0h2m11 0h2m2 0h2m-1 0h2m4 0h2m5 0h2m2 0h2m0 0h2m-2 0h2m3 0h2m21 0h2m1 0h2m22 0h2m-267 1h2m18 0h2m-2 0h2m60 0h2m6 0h2m2 0h2m9 0h2m25 0h2m9 0h2m0 0h2m3 0h2m2 0h2m1 0h2m1 0h2m-1 0h2m11 0h2m-2 0h2m4 0h2m9 0h2m-2 0h2m-1 0h2m10 0h2m4 0h2m-1 0h2m-2 0h2m6 0h2m1 0h2m-1 0h2m3 0h2m19 0h2m5 0h2m7 0h2m-251 1h2m25 0h2m9 0h2m7 0h2m5 0h2m2 0h2m1 0h2m4 0h2m2 0h2m8 0h2m24 0h2m5 0h2m-1 0h2m1 0h2m0 0h2m10 0h2m10 0h2m4 0h2m1 0h2m3 0h2m3 0h2m9 0h2m3 0h2m1 0h2m11 0h2m17 0h2m-1 0h2m12 0h2m26 0h2m-263 1h2m22 0h2m3 0h2m16 0h2m16 0h2m10 0h2m3 0h2m4 0h2m18 0h2m5 0h2m14 0h2m5 0h2m1 0h2m-1 0h2m10 0h2m-1 0h2m-2 0h2m1 0h2m11 0h2m-2 0h2m2 0h2m-1 0h2m1 0h2m25 0h2m7 0h2m1 0h2m25 0h2m-224 1h2m6 0h2m41 0h2m-2 0h2m7 0h2m17 0h2m-2 0h2m-1 0h2m-2 0h2m2 0h2m12 0h2m0 0h2m2 0h2m8 0h2m-2 0h2m16 0h2m6 0h2m-2 0h2m1 0h2m-2 0h2m0 0h2m0 0h2m1 0h2m-2 0h2m1 0h2m-1 0h2m2 0h2m7 0h2m0 0h2m10 0h2m10 0h2m5 0h2m0 0h2m19 0h2m20 0h2m-240 1h2m14 0h2m22 0h2m4 0h2m2 0h2m3 0h2m1 0h2m10 0h2m23 0h2m3 0h2m-1 0h2m8 0h2m-1 0h2m6 0h2m0 0h2m5 0h2m-2 0h2m3 0h2m0 0h2m7 0h2m-2 0h2m12 0h2m1 0h2m-2 0h2m11 0h2m5 0h2m13 0h2m0 0h2m22 0h2m-221 1h2m23 0h2m1 0h2m8 0h2m1 0h2m6 0h2m-1 0h2m11 0h2m11 0h2m3 0h2m-1 0h2m3 0h2m16 0h2m-1 0h2m-2 0h2m5 0h2m0 0h2m-1 0h2m-2 0h2m-1 0h2m4 0h2m3 0h2m5 0h2m9 0h2m-1 0h2m6 0h2m1 0h2m4 0h2m12 0h2m-2 0h2m2 0h2m-227 1h2m64 0h2m2 0h2m7 0h2m-2 0h2m3 0h2m2 0h2m19 0h2m6 0h2m5 0h2m13 0h2m2 0h2m-1 0h2m4 0h2m2 0h2m-2 0h2m3 0h2m4 0h2m22 0h2m8 0h2m-1 0h2m0 0h2m12 0h2m-203 1h2m32 0h2m9 0h2m14 0h2m5 0h2m0 0h2m18 0h2m6 0h2m-1 0h2m6 0h2m8 0h2m0 0h2m4 0h2m-1 0h2m1 0h2m13 0h2m5 0h2m2 0h2m-2 0h2m4 0h2m0 0h2m-1 0h2m-1 0h2m4 0h2m7 0h2m3 0h2m2 0h2m3 0h2m12 0h2m2 0h2m12 0h2m3 0h2m-1 0h2m-191 1h2m3 0h2m7 0h2m4 0h2m-2 0h2m8 0h2m16 0h2m15 0h2m8 0h2m24 0h2m-1 0h2m7 0h2m0 0h2m0 0h2m1 0h2m5 0h2m8 0h2m3 0h2m4 0h2m4 0h2m11 0h2m2 0h2m5 0h2m0 0h2m4 0h2m7 0h2m-1 0h2m-258 1h2m34 0h2m19 0h2m2 0h2m9 0h2m10 0h2m0 0h2m9 0h2m13 0h2m-1 0h2m8 0h2m5 0h2m0 0h2m2 0h2m1 0h2m0 0h2m-2 0h2m1 0h2m6 0h2m1 0h2m7 0h2m4 0h2m4 0h2m3 0h2m1 0h2m9 0h2m2 0h2m2 0h2m6 0h2m-1 0h2m0 0h2m6 0h2m-2 0h2m3 0h2m-1 0h2m4 0h2m-1 0h2m-254 1h2m75 0h2m37 0h2m8 0h2m2 0h2m5 0h2m5 0h2m-1 0h2m-2 0h2m12 0h2m26 0h2m1 0h2m-2 0h2m-1 0h2m0 0h2m3 0h2m20 0h2m3 0h2m5 0h2m8 0h2m0 0h2m-155 1h2m13 0h2m17 0h2m5 0h2m7 0h2m22 0h2m7 0h2m-1 0h2m4 0h2m-1 0h2m4 0h2m3 0h2m10 0h2m-1 0h2m-1 0h2m3 0h2m-2 0h2m-1 0h2m0 0h2m5 0h2m11 0h2m-2 0h2m21 0h2m12 0h2m4 0h2m9 0h2m-1 0h2m-276 1h2m41 0h2m11 0h2m4 0h2m9 0h2m-1 0h2m12 0h2m6 0h2m10 0h2m9 0h2m-1 0h2m0 0h2m7 0h2m-1 0h2m5 0h2m4 0h2m-2 0h2m0 0h2m5 0h2m-1 0h2m-1 0h2m3 0h2m-1 0h2m5 0h2m2 0h2m3 0h2m0 0h2m11 0h2m18 0h2m4 0h2m-1 0h2m3 0h2m7 0h2m0 0h2m0 0h2m21 0h2m17 0h2m-215 1h2m43 0h2m-1 0h2m7 0h2m3 0h2m1 0h2m0 0h2m17 0h2m1 0h2m8 0h2m-1 0h2m23 0h2m10 0h2m8 0h2m1 0h2m3 0h2m-1 0h2m3 0h2m1 0h2m-1 0h2m-2 0h2m4 0h2m3 0h2m-1 0h2m15 0h2m-1 0h2m-235 1h2m51 0h2m0 0h2m13 0h2m5 0h2m1 0h2m1 0h2m3 0h2m0 0h2m6 0h2m9 0h2m32 0h2m0 0h2m2 0h2m0 0h2m3 0h2m18 0h2m2 0h2m2 0h2m2 0h2m13 0h2m16 0h2m-180 1h2m11 0h2m1 0h2m10 0h2m12 0h2m2 0h2m0 0h2m-1 0h2m-1 0h2m5 0h2m-1 0h2m12 0h2m2 0h2m2 0h2m11 0h2m1 0h2m-2 0h2m4 0h2m0 0h2m-1 0h2m-2 0h2m-1 0h2m-1 0h2m3 0h2m14 0h2m-2 0h2m0 0h2m23 0h2m-1 0h2m8 0h2m6 0h2m11 0h2m-374 1h2m214 0h2m3 0h2m-1 0h2m1 0h2m6 0h2m14 0h2m9 0h2m2 0h2m0 0h2m13 0h2m0 0h2m1 0h2m6 0h2m2 0h2m0 0h2m-2 0h2m4 0h2m5 0h2m-2 0h2m4 0h2m1 0h2m-1 0h2m7 0h2m0 0h2m13 0h2m0 0h2m-1 0h2m10 0h2m6 0h2m-479 1h2m302 0h2m0 0h2m12 0h2m10 0h2m-2 0h2m8 0h2m3 0h2m0 0h2m0 0h2m14 0h2m4 0h2m14 0h2m-1 0h2m2 0h2m2 0h2m17 0h2m-1 0h2m6 0h2m13 0h2m8 0h2m5 0h2m10 0h2m25 0h2m1 0h2m-190 1h2m30 0h2m-1 0h2m-2 0h2m23 0h2m0 0h2m13 0h2m0 0h2m0 0h2m9 0h2m7 0h2m1 0h2m1 0h2m12 0h2m2 0h2m11 0h2m1 0h2m14 0h2m2 0h2m17 0h2m-216 1h2m53 0h2m6 0h2m2 0h2m0 0h2m7 0h2m-2 0h2m1 0h2m-1 0h2m0 0h2m6 0h2m4 0h2m-2 0h2m13 0h2m0 0h2m-1 0h2m8 0h2m17 0h2m12 0h2m0 0h2m4 0h2m3 0h2m7 0h2m17 0h2m-230 1h2m43 0h2m0 0h2m2 0h2m13 0h2m15 0h2m10 0h2m0 0h2m1 0h2m0 0h2m-2 0h2m1 0h2m0 0h2m0 0h2m16 0h2m-1 0h2m-1 0h2m0 0h2m4 0h2m0 0h2m2 0h2m-1 0h2m4 0h2m5 0h2m10 0h2m-1 0h2m1 0h2m18 0h2m1 0h2m-1 0h2m-1 0h2m3 0h2m25 0h2m22 0h2m-252 1h2m28 0h2m6 0h2m0 0h2m21 0h2m18 0h2m31 0h2m5 0h2m-1 0h2m2 0h2m-1 0h2m4 0h2m-2 0h2m3 0h2m10 0h2m1 0h2m0 0h2m4 0h2m5 0h2m2 0h2m6 0h2m0 0h2m-1 0h2m-2 0h2m18 0h2m4 0h2m-225 1h2m20 0h2m14 0h2m67 0h2m0 0h2m6 0h2m18 0h2m6 0h2m10 0h2m0 0h2m2 0h2m3 0h2m-1 0h2m-1 0h2m1 0h2m-1 0h2m-2 0h2m-1 0h2m5 0h2m9 0h2m-2 0h2m6 0h2m2 0h2m0 0h2m-2 0h2m-224 1h2m53 0h2m6 0h2m10 0h2m22 0h2m21 0h2m5 0h2m6 0h2m3 0h2m5 0h2m-1 0h2m-1 0h2m-1 0h2m6 0h2m11 0h2m0 0h2m4 0h2m-2 0h2m1 0h2m0 0h2m2 0h2m3 0h2m22 0h2m0 0h2m6 0h2m20 0h2m10 0h2m-266 1h2m71 0h2m0 0h2m5 0h2m9 0h2m9 0h2m12 0h2m-1 0h2m1 0h2m4 0h2m3 0h2m0 0h2m3 0h2m2 0h2m2 0h2m1 0h2m10 0h2m3 0h2m3 0h2m4 0h2m3 0h2m0 0h2m-2 0h2m0 0h2m6 0h2m6 0h2m6 0h2m-223 1h2m24 0h2m70 0h2m-2 0h2m10 0h2m5 0h2m20 0h2m2 0h2m-1 0h2m1 0h2m6 0h2m15 0h2m8 0h2m3 0h2m0 0h2m10 0h2m0 0h2m26 0h2m0 0h2m-1 0h2m2 0h2m13 0h2m7 0h2m7 0h2m-239 1h2m26 0h2m25 0h2m9 0h2m19 0h2m1 0h2m11 0h2m13 0h2m0 0h2m3 0h2m8 0h2m-2 0h2m-2 0h2m3 0h2m2 0h2m5 0h2m3 0h2m18 0h2m0 0h2m12 0h2m0 0h2m4 0h2m8 0h2m5 0h2m10 0h2m1 0h2m-209 1h2m1 0h2m6 0h2m22 0h2m18 0h2m23 0h2m-1 0h2m5 0h2m0 0h2m18 0h2m9 0h2m4 0h2m12 0h2m2 0h2m10 0h2m13 0h2m2 0h2m2 0h2m15 0h2m-207 1h2m35 0h2m-2 0h2m7 0h2m1 0h2m34 0h2m0 0h2m24 0h2m33 0h2m5 0h2m27 0h2m4 0h2m7 0h2"/>
<path class="a" d="M48.5 817v-2.8M48.5 587v2.8M75.5 817v-2.8M75.5 587v2.8M102.6 817v-2.8M102.6 587v2.8M129.6 817v-2.8M129.6 587v2.8M156.6 817v-2.8M156.6 587v2.8M183.7 817v-2.8M183.7 587v2.8M210.7 817v-2.8M210.7 587v2.8M237.7 817v-2.8M237.7 587v2.8M264.7 817v-2.8M264.7 587v2.8M291.8 817v-2.8M291.8 587v2.8M318.8 817v-2.8M318.8 587v2.8M42.5 801.2h2.8M333.5 801.2h-2.8M42.5 778.9h2.8M333.5 778.9h-2.8M42.5 756.6h2.8M333.5 756.6h-2.8M42.5 734.3h2.8M333.5 734.3h-2.8M42.5 712h2.8M333.5 712h-2.8M42.5 689.6h2.8M333.5 689.6h-2.8M42.5 667.3h2.8M333.5 667.3h-2.8M42.5 645h2.8M333.5 645h-2.8M42.5 622.7h2.8M333.5 622.7h-2.8M42.5 600.4h2.8M333.5 600.4h-2.8"/>
<rect class="a" x="42.5" y="587" width="291" height="230"/>
<g clip-path="url(#c5)">
<path class="m" d="M45.6 587.1C46.1 589.3 47.5 595.8 48.6 600.4C49.7 605 50.9 609.6 52.2 614.6C53.5 619.6 55 625 56.4 630.2C57.8 635.4 59.3 640.4 60.7 645.8C62.1 651.2 63.5 657.1 64.9 662.8C66.3 668.5 67.6 673.3 69.2 679.8C70.8 686.3 72.5 694.1 74.6 701.9C76.6 709.7 79.8 719.6 81.5 726.6C83.2 733.6 84.4 738.6 85.1 743.6C85.8 748.6 85.9 751.9 85.6 756.4C85.3 760.9 84.7 765.8 83.4 770.5C82.1 775.2 80.1 780 77.7 784.7C75.3 789.4 71.8 794.6 69.2 798.9C66.6 803.1 64.1 807.2 62.1 810.2C60.1 813.2 58.1 815.7 57.3 816.8"/>
<path class="m" d="M42.5 817C45 817 43.9 817 57.3 817C70.7 817 106.4 817.1 123 816.9C139.6 816.7 146.7 816.4 157 815.9C167.3 815.4 178 814.8 185 813.9C192 813 194.5 812 199.2 810.5C203.9 809 208.7 807 213.4 804.6C218.1 802.2 223.2 798.8 227.5 796.1C231.8 793.4 235.6 790.4 238.9 788.4C242.2 786.4 244.8 784.9 247.4 783.9C250 782.9 252.1 782.5 254.5 782.5C256.9 782.5 259 782.8 261.6 783.9C264.2 785 266.8 786.6 270.1 789C273.4 791.4 277.6 795.2 281.4 798C285.2 800.8 288.9 803.8 292.7 806C296.5 808.2 299.8 809.7 304.1 811.1C308.4 812.5 313.3 813.5 318.3 814.5C323.3 815.5 331.3 816.4 333.9 816.8"/>
<path class="c" d="M219.6 591.1C218.3 593.1 214.4 598.7 211.9 603.3C209.4 607.9 207.2 612.5 204.8 618.9C202.5 625.3 199.9 634 197.8 641.5C195.7 649 193.9 657.5 192.1 664.2C190.3 671 188.6 676.5 187 682C185.4 687.5 184.3 690 182.6 697C180.9 704 178.2 714.6 176.9 723.8C175.6 733 174.8 744.1 174.7 752.1C174.6 760.1 175.3 765.9 176.4 772C177.5 778.1 179.6 784.2 181.2 789C182.8 793.8 184.2 797.1 186 801C187.8 804.9 191.1 810.3 192.1 812.2"/>
<path class="c" d="M284.2 591.1C285.4 593.4 288.9 599.1 291.3 604.7C293.7 610.3 296.3 617.4 298.4 624.5C300.5 631.6 302.2 639.2 304.1 647.2C306 655.2 308 664.2 309.8 672.7C311.6 681.2 313.5 689.7 314.9 698.2C316.3 706.7 317.5 715.8 318.3 723.8C319.1 731.8 319.6 738.8 319.7 746.4C319.8 754 319.6 761.5 319.1 769.1C318.6 776.7 317.8 784.6 316.8 791.8C315.8 799 313.8 808.8 313.2 812.2"/>
<path class="c" d="M273.4 792.6C274.1 791.2 276.2 787.5 277.5 784.5C278.8 781.5 280.1 779.7 281.4 774.8C282.7 769.9 284.5 762.1 285.1 755C285.7 747.9 285.4 739.9 284.8 732.3C284.2 724.7 282.9 717.2 281.4 709.6C279.9 702 277.8 693.5 275.7 686.9C273.6 680.3 271 674.4 268.6 669.9C266.2 665.4 264 662.1 261.6 660C259.2 657.9 257.1 657.1 254.5 657.1C251.9 657.1 248.6 657.4 246 660C243.4 662.6 241.3 667.3 238.9 672.7C236.5 678.1 233.9 685.5 231.8 692.6C229.7 699.7 227.4 707.8 226.1 715.3C224.8 722.8 224 730.8 223.8 737.9C223.6 745 223.8 751.6 224.7 757.8C225.5 763.9 227.6 770.5 228.9 774.8C230.2 779.1 231.2 780.8 232.5 783.5C233.8 786.2 236.1 789.7 236.8 790.9"/>
<path class="c" d="M236.8 790.9L247.7 801.2L258.3 804.2L266.4 800.3L273.4 792.6"/>
</g>
<g font-size="8.61" text-anchor="middle">
<text x="48.5" y="830">12</text>
<text x="75.5" y="830">14</text>
<text x="102.6" y="830">16</text>
<text x="129.6" y="830">18</text>
<text x="156.6" y="830">20</text>
<text x="183.7" y="830">22</text>
<text x="210.7" y="830">24</text>
<text x="237.7" y="830">26</text>
<text x="264.7" y="830">28</text>
<text x="291.8" y="830">30</text>
<text x="318.8" y="830">32</text>
</g>
<g font-size="8.61" text-anchor="end">
<text x="38.9" y="804.4">0</text>
<text x="38.9" y="782.1">2000</text>
<text x="38.9" y="759.8">4000</text>
<text x="38.9" y="737.5">6000</text>
<text x="38.9" y="715.2">8000</text>
<text x="38.9" y="692.9">10000</text>
<text x="38.9" y="670.6">12000</text>
<text x="38.9" y="648.3">14000</text>
<text x="38.9" y="625.9">16000</text>
<text x="38.9" y="603.6">18000</text>
</g>
<text font-size="9.81" text-anchor="middle" x="188" y="842">k p9</text>
<text font-size="9.81" text-anchor="middle" transform="translate(7.9 702.5) rotate(-90)">Ea k p9</text>
</g>
<g id="panel6">
<clipPath id="c6"><rect x="398.9" y="586.8" width="286" height="226.3"/></clipPath>
<path class="d" transform="scale(0.5)" d="M975 1203h2m11 0h2m31 0h2m30 0h2m26 1h2m21 0h2m68 1h2m-253 1h2m20 0h2m15 0h2m11 0h2m11 0h2m37 0h2m27 0h2m40 0h2m16 0h2m17 0h2m-78 1h2m40 0h2m-146 1h2m75 0h2m45 0h2m6 0h2m-158 1h2m101 0h2m-20 1h2m75 0h2m6 0h2m14 0h2m5 0h2m-1 0h2m52 0h2m-176 1h2m94 0h2m57 0h2m34 0h2m-207 1h2m37 0h2m41 0h2m-69 1h2m5 0h2m21 0h2m6 0h2m23 0h2m11 0h2m-64 1h2m28 0h2m16 0h2m24 0h2m11 0h2m0 0h2m95 0h2m-254 1h2m54 0h2m48 0h2m67 0h2m-174 1h2m66 0h2m46 0h2m17 0h2m-68 1h2m12 0h2m10 0h2m38 0h2m1 1h2m31 0h2m-157 1h2m122 0h2m-149 1h2m14 0h2m21 0h2m7 0h2m15 0h2m19 0h2m24 0h2m34 0h2m0 0h2m47 0h2m48 0h2m-179 1h2m55 0h2m130 0h2m-259 1h2m40 0h2m-57 1h2m115 0h2m4 0h2m20 0h2m5 0h2m37 0h2m137 0h2m-279 1h2m11 0h2m9 0h2m25 0h2m62 0h2m-110 1h2m34 0h2m35 0h2m19 0h2m33 0h2m-184 1h2m15 0h2m58 0h2m21 0h2m11 0h2m9 0h2m-152 1h2m22 0h2m36 0h2m3 0h2m20 0h2m-2 0h2m38 0h2m-66 1h2m11 0h2m10 0h2m8 0h2m27 0h2m137 0h2m-211 1h2m8 0h2m9 0h2m23 0h2m2 0h2m23 0h2m6 0h2m-95 1h2m1 0h2m4 0h2m23 0h2m7 0h2m57 0h2m6 0h2m-1 0h2m26 0h2m1 0h2m-68 1h2m41 0h2m1 0h2m76 0h2m-253 1h2m36 0h2m51 0h2m-1 0h2m50 0h2m11 0h2m59 0h2m-199 1h2m64 0h2m8 0h2m111 0h2m-206 1h2m104 0h2m3 0h2m13 0h2m6 0h2m2 0h2m-68 1h2m10 0h2m1 0h2m3 0h2m18 0h2m1 0h2m52 0h2m38 0h2m3 0h2m-126 1h2m4 0h2m5 0h2m12 0h2m13 0h2m2 0h2m-68 1h2m12 0h2m-1 0h2m13 0h2m18 0h2m84 0h2m-168 1h2m76 0h2m31 0h2m-8 1h2m5 0h2m-64 1h2m1 0h2m-79 1h2m61 0h2m3 0h2m1 0h2m9 0h2m66 0h2m-135 1h2m88 0h2m6 0h2m13 0h2m9 0h2m61 0h2m-219 1h2m18 0h2m22 0h2m46 0h2m34 0h2m-1 0h2m11 0h2m2 0h2m0 0h2m9 0h2m2 0h2m86 0h2m-339 1h2m81 0h2m52 0h2m46 0h2m1 0h2m6 0h2m12 0h2m-2 0h2m17 0h2m16 0h2m11 0h2m41 0h2m-152 1h2m40 0h2m42 0h2m30 0h2m8 0h2m11 0h2m-228 1h2m88 0h2m30 0h2m2 0h2m18 0h2m16 0h2m81 0h2m172 0h2m-443 1h2m47 0h2m44 0h2m14 0h2m44 0h2m11 0h2m33 0h2m14 0h2m37 0h2m9 0h2m6 0h2m-246 1h2m9 0h2m50 0h2m36 0h2m1 0h2m0 0h2m8 0h2m28 0h2m11 0h2m-2 0h2m10 0h2m1 0h2m4 0h2m34 0h2m-131 1h2m13 0h2m3 0h2m11 0h2m-1 0h2m21 0h2m0 0h2m11 0h2m-163 1h2m32 0h2m17 0h2m19 0h2m18 0h2m10 0h2m22 0h2m2 0h2m9 0h2m-149 1h2m14 0h2m0 0h2m13 0h2m29 0h2m7 0h2m9 0h2m5 0h2m6 0h2m0 0h2m1 0h2m22 0h2m9 0h2m84 0h2m6 0h2m132 0h2m4 0h2m-333 1h2m22 0h2m43 0h2m19 0h2m21 0h2m8 0h2m64 0h2m9 0h2m2 0h2m-177 1h2m13 0h2m9 0h2m0 0h2m-1 0h2m24 0h2m14 0h2m-2 0h2m5 0h2m1 0h2m8 0h2m0 0h2m1 0h2m172 0h2m-289 1h2m14 0h2m30 0h2m88 0h2m4 0h2m-135 1h2m50 0h2m3 0h2m19 0h2m9 0h2m46 0h2m0 0h2m69 0h2m-299 1h2m87 0h2m-1 0h2m11 0h2m3 0h2m15 0h2m2 0h2m17 0h2m58 0h2m86 0h2m23 0h2m-243 1h2m0 0h2m4 0h2m5 0h2m3 0h2m12 0h2m1 0h2m21 0h2m5 0h2m9 0h2m11 0h2m3 0h2m12 0h2m62 0h2m-201 1h2m9 0h2m20 0h2m28 0h2m3 0h2m1 0h2m9 0h2m2 0h2m3 0h2m23 0h2m0 0h2m-2 0h2m-2 0h2m13 0h2m1 0h2m26 0h2m23 0h2m-261 1h2m97 0h2m48 0h2m22 0h2m7 0h2m10 0h2m4 0h2m4 0h2m3 0h2m65 0h2m-222 1h2m43 0h2m14 0h2m1 0h2m11 0h2m15 0h2m8 0h2m1 0h2m13 0h2m13 0h2m9 0h2m0 0h2m19 0h2m6 0h2m19 0h2m37 0h2m-237 1h2m40 0h2m14 0h2m0 0h2m18 0h2m11 0h2m39 0h2m26 0h2m-158 1h2m2 0h2m24 0h2m-2 0h2m49 0h2m6 0h2m3 0h2m10 0h2m12 0h2m7 0h2m20 0h2m1 0h2m-111 1h2m15 0h2m2 0h2m0 0h2m19 0h2m4 0h2m-1 0h2m-2 0h2m31 0h2m4 0h2m19 0h2m18 0h2m17 0h2m-230 1h2m10 0h2m23 0h2m16 0h2m54 0h2m10 0h2m18 0h2m8 0h2m16 0h2m1 0h2m1 0h2m39 0h2m20 0h2m-193 1h2m1 0h2m14 0h2m19 0h2m-2 0h2m32 0h2m25 0h2m2 0h2m0 0h2m60 0h2m2 0h2m17 0h2m-229 1h2m-1 0h2m12 0h2m16 0h2m6 0h2m0 0h2m11 0h2m-1 0h2m6 0h2m22 0h2m38 0h2m52 0h2m3 0h2m20 0h2m-193 1h2m6 0h2m36 0h2m18 0h2m25 0h2m3 0h2m6 0h2m17 0h2m1 0h2m9 0h2m17 0h2m8 0h2m16 0h2m2 0h2m26 0h2m6 0h2m-236 1h2m7 0h2m32 0h2m19 0h2m2 0h2m17 0h2m12 0h2m41 0h2m15 0h2m1 0h2m30 0h2m-218 1h2m40 0h2m-1 0h2m39 0h2m-2 0h2m13 0h2m14 0h2m5 0h2m16 0h2m0 0h2m12 0h2m1 0h2m8 0h2m44 0h2m-180 1h2m19 0h2m37 0h2m19 0h2m4 0h2m1 0h2m6 0h2m26 0h2m2 0h2m2 0h2m47 0h2m-233 1h2m16 0h2m21 0h2m3 0h2m50 0h2m8 0h2m9 0h2m6 0h2m12 0h2m11 0h2m6 0h2m7 0h2m15 0h2m12 0h2m42 0h2m9 0h2m4 0h2m-162 1h2m13 0h2m21 0h2m3 0h2m1 0h2m5 0h2m18 0h2m3 0h2m26 0h2m-2 0h2m0 0h2m2 0h2m18 0h2m-206 1h2m64 0h2m-1 0h2m8 0h2m2 0h2m4 0h2m15 0h2m3 0h2m-1 0h2m4 0h2m5 0h2m62 0h2m11 0h2m1 0h2m2 0h2m-173 1h2m30 0h2m-2 0h2m4 0h2m15 0h2m3 0h2m-1 0h2m4 0h2m4 0h2m13 0h2m-1 0h2m28 0h2m2 0h2m10 0h2m38 0h2m6 0h2m7 0h2m-213 1h2m-2 0h2m13 0h2m13 0h2m9 0h2m-2 0h2m-2 0h2m24 0h2m-2 0h2m1 0h2m-2 0h2m5 0h2m20 0h2m9 0h2m0 0h2m2 0h2m29 0h2m16 0h2m-208 1h2m5 0h2m44 0h2m9 0h2m7 0h2m13 0h2m5 0h2m2 0h2m4 0h2m8 0h2m0 0h2m5 0h2m6 0h2m0 0h2m10 0h2m22 0h2m-1 0h2m3 0h2m7 0h2m20 0h2m-210 1h2m91 0h2m11 0h2m-1 0h2m-1 0h2m0 0h2m7 0h2m0 0h2m2 0h2m12 0h2m7 0h2m10 0h2m8 0h2m17 0h2m7 0h2m-1 0h2m-1 0h2m17 0h2m-231 1h2m12 0h2m10 0h2m22 0h2m23 0h2m3 0h2m23 0h2m-1 0h2m5 0h2m8 0h2m15 0h2m1 0h2m5 0h2m12 0h2m-2 0h2m5 0h2m27 0h2m6 0h2m66 0h2m-260 1h2m37 0h2m23 0h2m13 0h2m4 0h2m14 0h2m18 0h2m-1 0h2m3 0h2m-1 0h2m3 0h2m-1 0h2m2 0h2m-1 0h2m2 0h2m0 0h2m1 0h2m19 0h2m1 0h2m-2 0h2m1 0h2m0 0h2m22 0h2m-197 1h2m19 0h2m25 0h2m6 0h2m32 0h2m16 0h2m22 0h2m-2 0h2m-1 0h2m-1 0h2m9 0h2m0 0h2m27 0h2m10 0h2m7 0h2m38 0h2m13 0h2m-269 1h2m5 0h2m26 0h2m42 0h2m-1 0h2m4 0h2m5 0h2m-2 0h2m5 0h2m5 0h2m34 0h2m2 0h2m2 0h2m-1 0h2m51 0h2m32 0h2m151 0h2m-410 1h2m54 0h2m5 0h2m-1 0h2m3 0h2m14 0h2m4 0h2m25 0h2m0 0h2m6 0h2m11 0h2m19 0h2m3 0h2m7 0h2m21 0h2m9 0h2m8 0h2m9 0h2m32 0h2m5 0h2m-293 1h2m80 0h2m7 0h2m21 0h2m1 0h2m2 0h2m12 0h2m13 0h2m21 0h2m18 0h2m5 0h2m27 0h2m-1 0h2m-161 1h2m9 0h2m2 0h2m18 0h2m16 0h2m27 0h2m2 0h2m7 0h2m-1 0h2m-1 0h2m0 0h2m19 0h2m7 0h2m8 0h2m-2 0h2m7 0h2m3 0h2m70 0h2m-203 1h2m4 0h2m32 0h2m-2 0h2m4 0h2m0 0h2m0 0h2m16 0h2m16 0h2m2 0h2m2 0h2m3 0h2m7 0h2m1 0h2m13 0h2m2 0h2m-2 0h2m7 0h2m1 0h2m26 0h2m3 0h2m-243 1h2m24 0h2m12 0h2m5 0h2m2 0h2m5 0h2m13 0h2m3 0h2m5 0h2m3 0h2m4 0h2m21 0h2m1 0h2m0 0h2m6 0h2m0 0h2m1 0h2m0 0h2m2 0h2m4 0h2m-1 0h2m0 0h2m6 0h2m10 0h2m17 0h2m53 0h2m-224 1h2m23 0h2m8 0h2m9 0h2m-2 0h2m1 0h2m9 0h2m3 0h2m5 0h2m-2 0h2m4 0h2m16 0h2m-1 0h2m3 0h2m4 0h2m0 0h2m2 0h2m9 0h2m-1 0h2m4 0h2m9 0h2m14 0h2m-1 0h2m1 0h2m-1 0h2m7 0h2m4 0h2m6 0h2m1 0h2m25 0h2m43 0h2m-263 1h2m7 0h2m41 0h2m15 0h2m3 0h2m2 0h2m4 0h2m-1 0h2m1 0h2m17 0h2m0 0h2m10 0h2m13 0h2m1 0h2m3 0h2m2 0h2m2 0h2m9 0h2m-2 0h2m-2 0h2m27 0h2m4 0h2m-1 0h2m11 0h2m33 0h2m-242 1h2m13 0h2m5 0h2m8 0h2m9 0h2m4 0h2m19 0h2m11 0h2m12 0h2m14 0h2m4 0h2m-1 0h2m0 0h2m-2 0h2m8 0h2m0 0h2m1 0h2m6 0h2m0 0h2m1 0h2m6 0h2m7 0h2m0 0h2m1 0h2m12 0h2m9 0h2m2 0h2m3 0h2m23 0h2m27 0h2m-242 1h2m30 0h2m12 0h2m-1 0h2m-1 0h2m-1 0h2m2 0h2m-2 0h2m11 0h2m-1 0h2m7 0h2m1 0h2m-1 0h2m0 0h2m7 0h2m5 0h2m2 0h2m1 0h2m-1 0h2m2 0h2m15 0h2m5 0h2m1 0h2m38 0h2m-234 1h2m16 0h2m25 0h2m6 0h2m26 0h2m0 0h2m8 0h2m7 0h2m4 0h2m-2 0h2m-2 0h2m6 0h2m0 0h2m12 0h2m-2 0h2m18 0h2m1 0h2m3 0h2m7 0h2m4 0h2m8 0h2m2 0h2m10 0h2m28 0h2m16 0h2m0 0h2m28 0h2m-220 1h2m25 0h2m-2 0h2m0 0h2m15 0h2m-1 0h2m-1 0h2m13 0h2m0 0h2m31 0h2m3 0h2m1 0h2m1 0h2m12 0h2m5 0h2m17 0h2m33 0h2m29 0h2m-225 1h2m9 0h2m32 0h2m-1 0h2m1 0h2m15 0h2m5 0h2m7 0h2m1 0h2m-1 0h2m1 0h2m4 0h2m7 0h2m1 0h2m4 0h2m1 0h2m4 0h2m33 0h2m10 0h2m5 0h2m3 0h2m5 0h2m-244 1h2m66 0h2m4 0h2m0 0h2m-1 0h2m0 0h2m-1 0h2m-1 0h2m1 0h2m-1 0h2m-1 0h2m-1 0h2m-1 0h2m29 0h2m3 0h2m19 0h2m22 0h2m2 0h2m4 0h2m-2 0h2m7 0h2m8 0h2m-2 0h2m111 0h2m-297 1h2m13 0h2m0 0h2m8 0h2m10 0h2m0 0h2m13 0h2m19 0h2m3 0h2m4 0h2m3 0h2m0 0h2m-2 0h2m7 0h2m13 0h2m-2 0h2m12 0h2m0 0h2m4 0h2m3 0h2m16 0h2m19 0h2m-2 0h2m4 0h2m7 0h2m6 0h2m51 0h2m-264 1h2m72 0h2m16 0h2m1 0h2m11 0h2m1 0h2m13 0h2m14 0h2m0 0h2m3 0h2m-2 0h2m2 0h2m14 0h2m0 0h2m8 0h2m0 0h2m5 0h2m2 0h2m4 0h2m25 0h2m0 0h2m4 0h2m15 0h2m5 0h2m77 0h2m-369 1h2m90 0h2m2 0h2m5 0h2m-1 0h2m10 0h2m5 0h2m4 0h2m0 0h2m-1 0h2m2 0h2m8 0h2m1 0h2m7 0h2m5 0h2m0 0h2m27 0h2m6 0h2m1 0h2m31 0h2m64 0h2m20 0h2m-305 1h2m3 0h2m13 0h2m26 0h2m1 0h2m0 0h2m-1 0h2m5 0h2m13 0h2m7 0h2m9 0h2m-2 0h2m0 0h2m1 0h2m-1 0h2m-1 0h2m1 0h2m4 0h2m6 0h2m11 0h2m2 0h2m1 0h2m1 0h2m7 0h2m13 0h2m1 0h2m18 0h2m-1 0h2m18 0h2m-1 0h2m3 0h2m6 0h2m12 0h2m-208 1h2m18 0h2m2 0h2m12 0h2m14 0h2m14 0h2m-1 0h2m0 0h2m10 0h2m6 0h2m6 0h2m9 0h2m4 0h2m-2 0h2m0 0h2m0 0h2m0 0h2m8 0h2m11 0h2m5 0h2m1 0h2m13 0h2m46 0h2m145 0h2m10 0h2m-389 1h2m45 0h2m2 0h2m22 0h2m-1 0h2m2 0h2m5 0h2m1 0h2m1 0h2m-1 0h2m0 0h2m7 0h2m1 0h2m-1 0h2m4 0h2m2 0h2m4 0h2m4 0h2m12 0h2m0 0h2m-2 0h2m7 0h2m24 0h2m25 0h2m-199 1h2m3 0h2m18 0h2m8 0h2m-1 0h2m-1 0h2m3 0h2m3 0h2m2 0h2m7 0h2m0 0h2m3 0h2m7 0h2m3 0h2m0 0h2m-1 0h2m0 0h2m4 0h2m-2 0h2m3 0h2m18 0h2m-1 0h2m-1 0h2m3 0h2m17 0h2m8 0h2m20 0h2m9 0h2m16 0h2m11 0h2m12 0h2m-248 1h2m8 0h2m-1 0h2m4 0h2m2 0h2m23 0h2m18 0h2m1 0h2m-2 0h2m-1 0h2m-2 0h2m8 0h2m6 0h2m13 0h2m6 0h2m1 0h2m0 0h2m8 0h2m1 0h2m-2 0h2m2 0h2m32 0h2m2 0h2m0 0h2m-1 0h2m8 0h2m13 0h2m-220 1h2m9 0h2m11 0h2m3 0h2m-1 0h2m8 0h2m2 0h2m12 0h2m3 0h2m-1 0h2m20 0h2m0 0h2m0 0h2m3 0h2m1 0h2m-1 0h2m-1 0h2m8 0h2m5 0h2m7 0h2m0 0h2m-1 0h2m-2 0h2m-1 0h2m7 0h2m4 0h2m-1 0h2m-2 0h2m21 0h2m5 0h2m-2 0h2m3 0h2m7 0h2m3 0h2m20 0h2m79 0h2m6 0h2m-289 1h2m1 0h2m8 0h2m8 0h2m9 0h2m23 0h2m2 0h2m10 0h2m-1 0h2m2 0h2m6 0h2m1 0h2m-1 0h2m4 0h2m-2 0h2m6 0h2m6 0h2m-2 0h2m8 0h2m27 0h2m14 0h2m3 0h2m30 0h2m-192 1h2m5 0h2m18 0h2m-1 0h2m10 0h2m5 0h2m9 0h2m15 0h2m8 0h2m16 0h2m5 0h2m-2 0h2m6 0h2m-2 0h2m-1 0h2m16 0h2m-1 0h2m2 0h2m-151 1h2m19 0h2m13 0h2m0 0h2m-2 0h2m28 0h2m7 0h2m16 0h2m2 0h2m-2 0h2m2 0h2m5 0h2m2 0h2m-2 0h2m5 0h2m6 0h2m0 0h2m14 0h2m-2 0h2m3 0h2m-2 0h2m-1 0h2m-1 0h2m-1 0h2m9 0h2m11 0h2m14 0h2m16 0h2m-234 1h2m25 0h2m1 0h2m4 0h2m1 0h2m1 0h2m8 0h2m1 0h2m6 0h2m4 0h2m5 0h2m15 0h2m0 0h2m-1 0h2m14 0h2m5 0h2m-1 0h2m-1 0h2m-1 0h2m7 0h2m3 0h2m5 0h2m-2 0h2m3 0h2m7 0h2m26 0h2m3 0h2m-1 0h2m8 0h2m4 0h2m-181 1h2m5 0h2m0 0h2m3 0h2m10 0h2m5 0h2m-1 0h2m17 0h2m-2 0h2m2 0h2m7 0h2m7 0h2m-1 0h2m2 0h2m4 0h2m8 0h2m6 0h2m4 0h2m10 0h2m1 0h2m-2 0h2m1 0h2m7 0h2m-1 0h2m7 0h2m7 0h2m-1 0h2m3 0h2m-1 0h2m26 0h2m17 0h2m123 0h2m-392 1h2m58 0h2m19 0h2m-1 0h2m4 0h2m1 0h2m10 0h2m3 0h2m1 0h2m0 0h2m3 0h2m5 0h2m3 0h2m14 0h2m2 0h2m1 0h2m2 0h2m2 0h2m10 0h2m-1 0h2m5 0h2m3 0h2m-1 0h2m2 0h2m1 0h2m34 0h2m27 0h2m-243 1h2m12 0h2m19 0h2m10 0h2m1 0h2m7 0h2m11 0h2m13 0h2m5 0h2m2 0h2m-1 0h2m15 0h2m12 0h2m3 0h2m1 0h2m6 0h2m2 0h2m0 0h2m3 0h2m0 0h2m1 0h2m9 0h2m11 0h2m5 0h2m20 0h2m16 0h2m25 0h2m-270 1h2m31 0h2m-1 0h2m3 0h2m43 0h2m1 0h2m2 0h2m2 0h2m8 0h2m2 0h2m-1 0h2m1 0h2m-2 0h2m-2 0h2m-1 0h2m-1 0h2m0 0h2m18 0h2m5 0h2m-2 0h2m13 0h2m1 0h2m0 0h2m34 0h2m14 0h2m-232 1h2m8 0h2m17 0h2m3 0h2m1 0h2m20 0h2m1 0h2m15 0h2m-1 0h2m20 0h2m-2 0h2m0 0h2m4 0h2m-2 0h2m3 0h2m4 0h2m6 0h2m15 0h2m3 0h2m22 0h2m-2 0h2m1 0h2m15 0h2m1 0h2m12 0h2m13 0h2m18 0h2m7 0h2m9 0h2m-255 1h2m26 0h2m6 0h2m12 0h2m4 0h2m7 0h2m1 0h2m-1 0h2m4 0h2m30 0h2m3 0h2m2 0h2m-2 0h2m-1 0h2m-2 0h2m8 0h2m1 0h2m3 0h2m6 0h2m-1 0h2m2 0h2m4 0h2m1 0h2m8 0h2m-2 0h2m4 0h2m-1 0h2m22 0h2m72 0h2m-293 1h2m38 0h2m23 0h2m6 0h2m0 0h2m2 0h2m-1 0h2m7 0h2m0 0h2m7 0h2m1 0h2m-2 0h2m-2 0h2m-1 0h2m-1 0h2m1 0h2m-2 0h2m8 0h2m0 0h2m12 0h2m17 0h2m17 0h2m2 0h2m1 0h2m1 0h2m2 0h2m-2 0h2m0 0h2m2 0h2m7 0h2m1 0h2m5 0h2m2 0h2m31 0h2m-221 1h2m9 0h2m-2 0h2m0 0h2m58 0h2m2 0h2m0 0h2m-2 0h2m6 0h2m-1 0h2m2 0h2m3 0h2m-1 0h2m0 0h2m3 0h2m8 0h2m-2 0h2m4 0h2m3 0h2m2 0h2m1 0h2m-1 0h2m4 0h2m3 0h2m9 0h2m45 0h2m7 0h2m15 0h2m0 0h2m-263 1h2m68 0h2m10 0h2m9 0h2m15 0h2m4 0h2m7 0h2m7 0h2m10 0h2m12 0h2m0 0h2m-1 0h2m1 0h2m0 0h2m15 0h2m-2 0h2m0 0h2m7 0h2m-1 0h2m0 0h2m1 0h2m-2 0h2m0 0h2m2 0h2m2 0h2m-1 0h2m-1 0h2m5 0h2m-2 0h2m0 0h2m4 0h2m21 0h2m40 0h2m-293 1h2m18 0h2m37 0h2m6 0h2m18 0h2m28 0h2m0 0h2m11 0h2m4 0h2m8 0h2m-1 0h2m-1 0h2m0 0h2m1 0h2m-1 0h2m7 0h2m-1 0h2m5 0h2m-2 0h2m4 0h2m6 0h2m-2 0h2m0 0h2m2 0h2m3 0h2m-1 0h2m-1 0h2m3 0h2m1 0h2m5 0h2m2 0h2m-2 0h2m4 0h2m5 0h2m4 0h2m6 0h2m0 0h2m13 0h2m69 0h2m-301 1h2m17 0h2m9 0h2m-2 0h2m9 0h2m7 0h2m5 0h2m1 0h2m-1 0h2m-2 0h2m-1 0h2m0 0h2m5 0h2m9 0h2m16 0h2m4 0h2m-1 0h2m2 0h2m1 0h2m-2 0h2m3 0h2m-1 0h2m-1 0h2m-1 0h2m1 0h2m4 0h2m7 0h2m-2 0h2m19 0h2m4 0h2m1 0h2m23 0h2m17 0h2m13 0h2m-264 1h2m51 0h2m1 0h2m11 0h2m1 0h2m-2 0h2m-1 0h2m14 0h2m7 0h2m3 0h2m1 0h2m-2 0h2m6 0h2m-1 0h2m-1 0h2m-1 0h2m4 0h2m-2 0h2m5 0h2m4 0h2m1 0h2m2 0h2m0 0h2m0 0h2m8 0h2m2 0h2m-2 0h2m5 0h2m-2 0h2m14 0h2m4 0h2m-1 0h2m7 0h2m8 0h2m14 0h2m19 0h2m6 0h2m23 0h2m-243 1h2m-2 0h2m-1 0h2m8 0h2m12 0h2m11 0h2m1 0h2m15 0h2m4 0h2m3 0h2m7 0h2m32 0h2m2 0h2m-1 0h2m1 0h2m8 0h2m-1 0h2m8 0h2m-2 0h2m1 0h2m5 0h2m12 0h2m39 0h2m25 0h2m7 0h2m1 0h2m-242 1h2m17 0h2m-1 0h2m11 0h2m0 0h2m5 0h2m-1 0h2m-2 0h2m-1 0h2m1 0h2m12 0h2m2 0h2m13 0h2m2 0h2m1 0h2m-1 0h2m1 0h2m-2 0h2m1 0h2m2 0h2m0 0h2m-1 0h2m0 0h2m-1 0h2m-1 0h2m-1 0h2m2 0h2m2 0h2m-1 0h2m1 0h2m10 0h2m-1 0h2m12 0h2m3 0h2m5 0h2m19 0h2m-2 0h2m5 0h2m-2 0h2m12 0h2m-1 0h2m21 0h2m-233 1h2m-1 0h2m13 0h2m8 0h2m-1 0h2m4 0h2m23 0h2m-1 0h2m-1 0h2m1 0h2m10 0h2m7 0h2m1 0h2m0 0h2m1 0h2m-2 0h2m2 0h2m1 0h2m-1 0h2m-1 0h2m-1 0h2m-1 0h2m-1 0h2m2 0h2m3 0h2m4 0h2m1 0h2m-1 0h2m-1 0h2m1 0h2m11 0h2m3 0h2m0 0h2m-1 0h2m1 0h2m6 0h2m0 0h2m1 0h2m3 0h2m9 0h2m-1 0h2m-1 0h2m1 0h2m59 0h2m-229 1h2m27 0h2m-1 0h2m1 0h2m9 0h2m1 0h2m2 0h2m-1 0h2m4 0h2m17 0h2m-1 0h2m1 0h2m20 0h2m-2 0h2m1 0h2m0 0h2m2 0h2m3 0h2m-2 0h2m-2 0h2m-1 0h2m0 0h2m-2 0h2m5 0h2m0 0h2m-1 0h2m-2 0h2m1 0h2m0 0h2m4 0h2m-1 0h2m11 0h2m4 0h2m3 0h2m1 0h2m1 0h2m10 0h2m3 0h2m22 0h2m158 0h2m-421 1h2m30 0h2m0 0h2m15 0h2m-1 0h2m1 0h2m32 0h2m2 0h2m9 0h2m7 0h2m0 0h2m5 0h2m5 0h2m4 0h2m1 0h2m5 0h2m-2 0h2m-1 0h2m1 0h2m4 0h2m2 0h2m6 0h2m1 0h2m-2 0h2m-2 0h2m0 0h2m1 0h2m30 0h2m-1 0h2m2 0h2m0 0h2m0 0h2m2 0h2m2 0h2m24 0h2m0 0h2m-263 1h2m4 0h2m13 0h2m14 0h2m3 0h2m32 0h2m4 0h2m11 0h2m7 0h2m2 0h2m4 0h2m0 0h2m3 0h2m6 0h2m4 0h2m6 0h2m0 0h2m0 0h2m0 0h2m0 0h2m-1 0h2m4 0h2m0 0h2m-1 0h2m-1 0h2m3 0h2m0 0h2m-1 0h2m9 0h2m4 0h2m3 0h2m9 0h2m6 0h2m8 0h2m3 0h2m12 0h2m2 0h2m42 0h2m-306 1h2m56 0h2m3 0h2m12 0h2m24 0h2m14 0h2m6 0h2m12 0h2m-1 0h2m-1 0h2m1 0h2m-1 0h2m1 0h2m0 0h2m-1 0h2m4 0h2m1 0h2m3 0h2m-2 0h2m4 0h2m1 0h2m-1 0h2m8 0h2m1 0h2m3 0h2m-2 0h2m1 0h2m0 0h2m4 0h2m4 0h2m-2 0h2m0 0h2m6 0h2m57 0h2m2 0h2m41 0h2m41 0h2m-379 1h2m3 0h2m56 0h2m6 0h2m19 0h2m1 0h2m1 0h2m7 0h2m2 0h2m4 0h2m-1 0h2m11 0h2m4 0h2m2 0h2m3 0h2m2 0h2m0 0h2m3 0h2m7 0h2m10 0h2m4 0h2m-1 0h2m-1 0h2m-1 0h2m-2 0h2m0 0h2m-1 0h2m-1 0h2m6 0h2m27 0h2m2 0h2m14 0h2m32 0h2m-258 1h2m59 0h2m5 0h2m-2 0h2m5 0h2m-1 0h2m-1 0h2m-1 0h2m-1 0h2m3 0h2m7 0h2m2 0h2m5 0h2m0 0h2m3 0h2m14 0h2m12 0h2m8 0h2m-1 0h2m8 0h2m-2 0h2m1 0h2m6 0h2m3 0h2m0 0h2m1 0h2m7 0h2m1 0h2m0 0h2m11 0h2m9 0h2m-2 0h2m0 0h2m2 0h2m4 0h2m0 0h2m7 0h2m9 0h2m-2 0h2m-243 1h2m48 0h2m-1 0h2m17 0h2m4 0h2m-1 0h2m-1 0h2m9 0h2m-2 0h2m2 0h2m14 0h2m0 0h2m3 0h2m9 0h2m3 0h2m5 0h2m-2 0h2m2 0h2m-2 0h2m0 0h2m11 0h2m2 0h2m3 0h2m18 0h2m4 0h2m4 0h2m3 0h2m0 0h2m34 0h2m-1 0h2m-235 1h2m18 0h2m-2 0h2m-2 0h2m26 0h2m-1 0h2m8 0h2m10 0h2m-2 0h2m-2 0h2m13 0h2m0 0h2m1 0h2m1 0h2m2 0h2m1 0h2m-2 0h2m-1 0h2m4 0h2m-2 0h2m6 0h2m8 0h2m1 0h2m7 0h2m-2 0h2m-1 0h2m-2 0h2m-1 0h2m4 0h2m-2 0h2m13 0h2m-2 0h2m4 0h2m-2 0h2m0 0h2m7 0h2m6 0h2m0 0h2m36 0h2m7 0h2m108 0h2m26 0h2m-374 1h2m7 0h2m4 0h2m5 0h2m22 0h2m3 0h2m0 0h2m0 0h2m3 0h2m6 0h2m-1 0h2m6 0h2m-2 0h2m2 0h2m6 0h2m-1 0h2m4 0h2m-2 0h2m2 0h2m1 0h2m-1 0h2m-1 0h2m1 0h2m3 0h2m2 0h2m-2 0h2m0 0h2m3 0h2m-1 0h2m1 0h2m2 0h2m-1 0h2m6 0h2m1 0h2m6 0h2m0 0h2m3 0h2m8 0h2m1 0h2m6 0h2m4 0h2m14 0h2m0 0h2m0 0h2m16 0h2m15 0h2m36 0h2m36 0h2m-368 1h2m32 0h2m5 0h2m5 0h2m10 0h2m18 0h2m6 0h2m15 0h2m-1 0h2m-1 0h2m-2 0h2m2 0h2m3 0h2m8 0h2m5 0h2m4 0h2m-1 0h2m5 0h2m2 0h2m9 0h2m-1 0h2m1 0h2m4 0h2m1 0h2m-2 0h2m-2 0h2m-1 0h2m5 0h2m7 0h2m9 0h2m-1 0h2m-1 0h2m6 0h2m7 0h2m-1 0h2m10 0h2m20 0h2m4 0h2m17 0h2m-196 1h2m1 0h2m11 0h2m1 0h2m10 0h2m4 0h2m0 0h2m14 0h2m37 0h2m2 0h2m0 0h2m-1 0h2m-1 0h2m-2 0h2m-1 0h2m-1 0h2m1 0h2m-1 0h2m6 0h2m4 0h2m0 0h2m6 0h2m7 0h2m-1 0h2m5 0h2m2 0h2m-2 0h2m-1 0h2m-2 0h2m10 0h2m9 0h2m14 0h2m4 0h2m-300 1h2m29 0h2m2 0h2m32 0h2m3 0h2m10 0h2m0 0h2m8 0h2m-1 0h2m11 0h2m0 0h2m-2 0h2m2 0h2m2 0h2m-1 0h2m3 0h2m5 0h2m8 0h2m1 0h2m-1 0h2m16 0h2m1 0h2m-2 0h2m-2 0h2m0 0h2m8 0h2m-2 0h2m5 0h2m-2 0h2m-1 0h2m4 0h2m-1 0h2m-1 0h2m0 0h2m5 0h2m18 0h2m15 0h2m1 0h2m1 0h2m1 0h2m0 0h2m10 0h2m1 0h2m15 0h2m47 0h2m-284 1h2m25 0h2m13 0h2m9 0h2m0 0h2m4 0h2m0 0h2m5 0h2m4 0h2m1 0h2m4 0h2m0 0h2m-1 0h2m4 0h2m13 0h2m-1 0h2m-2 0h2m5 0h2m5 0h2m3 0h2m38 0h2m4 0h2m6 0h2m0 0h2m1 0h2m0 0h2m-2 0h2m-1 0h2m9 0h2m1 0h2m1 0h2m11 0h2m0 0h2m1 0h2m3 0h2m-264 1h2m18 0h2m20 0h2m15 0h2m10 0h2m-1 0h2m7 0h2m12 0h2m-1 0h2m-2 0h2m6 0h2m9 0h2m5 0h2m1 0h2m0 0h2m1 0h2m0 0h2m0 0h2m0 0h2m1 0h2m1 0h2m0 0h2m2 0h2m0 0h2m1 0h2m-1 0h2m32 0h2m-1 0h2m-2 0h2m0 0h2m-1 0h2m14 0h2m2 0h2m2 0h2m6 0h2m1 0h2m15 0h2m3 0h2m12 0h2m-1 0h2m22 0h2m-292 1h2m21 0h2m14 0h2m17 0h2m1 0h2m-1 0h2m-1 0h2m-2 0h2m15 0h2m5 0h2m5 0h2m0 0h2m-1 0h2m4 0h2m2 0h2m2 0h2m4 0h2m17 0h2m-1 0h2m1 0h2m1 0h2m1 0h2m6 0h2m1 0h2m1 0h2m9 0h2m-2 0h2m6 0h2m9 0h2m8 0h2m14 0h2m-1 0h2m-2 0h2m11 0h2m3 0h2m41 0h2m5 0h2m17 0h2m-245 1h2m2 0h2m4 0h2m-2 0h2m1 0h2m-2 0h2m6 0h2m-1 0h2m4 0h2m2 0h2m2 0h2m2 0h2m2 0h2m4 0h2m-1 0h2m7 0h2m-2 0h2m-1 0h2m-1 0h2m2 0h2m1 0h2m0 0h2m0 0h2m3 0h2m2 0h2m-1 0h2m-2 0h2m2 0h2m8 0h2m0 0h2m2 0h2m2 0h2m1 0h2m2 0h2m4 0h2m5 0h2m4 0h2m-1 0h2m3 0h2m-2 0h2m-1 0h2m-1 0h2m12 0h2m18 0h2m1 0h2m1 0h2m3 0h2m-1 0h2m-2 0h2m-237 1h2m48 0h2m-1 0h2m0 0h2m0 0h2m8 0h2m5 0h2m8 0h2m-1 0h2m-2 0h2m0 0h2m22 0h2m1 0h2m-2 0h2m3 0h2m9 0h2m-1 0h2m-2 0h2m0 0h2m0 0h2m3 0h2m0 0h2m8 0h2m0 0h2m0 0h2m-2 0h2m0 0h2m3 0h2m1 0h2m-2 0h2m0 0h2m5 0h2m2 0h2m-1 0h2m-1 0h2m0 0h2m-2 0h2m4 0h2m4 0h2m3 0h2m1 0h2m-1 0h2m6 0h2m1 0h2m0 0h2m0 0h2m3 0h2m2 0h2m5 0h2m8 0h2m6 0h2m30 0h2m20 0h2m-283 1h2m10 0h2m0 0h2m5 0h2m9 0h2m15 0h2m3 0h2m-2 0h2m3 0h2m12 0h2m1 0h2m1 0h2m1 0h2m-1 0h2m7 0h2m2 0h2m0 0h2m1 0h2m1 0h2m0 0h2m-1 0h2m0 0h2m4 0h2m2 0h2m0 0h2m1 0h2m3 0h2m8 0h2m-1 0h2m-2 0h2m-2 0h2m-2 0h2m0 0h2m-1 0h2m4 0h2m14 0h2m9 0h2m1 0h2m19 0h2m5 0h2m3 0h2m5 0h2m12 0h2m1 0h2m-1 0h2m8 0h2m8 0h2m4 0h2m-1 0h2m-274 1h2m0 0h2m46 0h2m5 0h2m9 0h2m19 0h2m2 0h2m8 0h2m3 0h2m0 0h2m-1 0h2m6 0h2m-1 0h2m-1 0h2m6 0h2m1 0h2m1 0h2m-1 0h2m-1 0h2m-2 0h2m-1 0h2m-2 0h2m9 0h2m2 0h2m-1 0h2m1 0h2m1 0h2m1 0h2m6 0h2m3 0h2m5 0h2m6 0h2m2 0h2m12 0h2m10 0h2m56 0h2m10 0h2m5 0h2m-351 1h2m74 0h2m1 0h2m34 0h2m2 0h2m0 0h2m-1 0h2m-2 0h2m7 0h2m1 0h2m2 0h2m9 0h2m1 0h2m2 0h2m-1 0h2m-2 0h2m-1 0h2m-1 0h2m-1 0h2m3 0h2m13 0h2m2 0h2m11 0h2m2 0h2m1 0h2m3 0h2m-2 0h2m0 0h2m2 0h2m-1 0h2m7 0h2m14 0h2m-1 0h2m41 0h2m26 0h2m133 0h2m-421 1h2m10 0h2m13 0h2m28 0h2m7 0h2m-1 0h2m12 0h2m3 0h2m5 0h2m-2 0h2m4 0h2m0 0h2m9 0h2m-2 0h2m0 0h2m-2 0h2m8 0h2m0 0h2m3 0h2m-2 0h2m11 0h2m5 0h2m1 0h2m1 0h2m-1 0h2m0 0h2m4 0h2m0 0h2m3 0h2m6 0h2m-1 0h2m6 0h2m1 0h2m3 0h2m-2 0h2m1 0h2m-1 0h2m4 0h2m-2 0h2m3 0h2m1 0h2m-1 0h2m1 0h2m4 0h2m11 0h2m3 0h2m10 0h2m38 0h2m35 0h2m-269 1h2m25 0h2m13 0h2m3 0h2m0 0h2m1 0h2m15 0h2m2 0h2m4 0h2m4 0h2m2 0h2m3 0h2m0 0h2m9 0h2m0 0h2m-2 0h2m7 0h2m5 0h2m-1 0h2m3 0h2m12 0h2m13 0h2m-1 0h2m2 0h2m-2 0h2m13 0h2m1 0h2m-1 0h2m12 0h2m15 0h2m10 0h2m-2 0h2m-260 1h2m-2 0h2m11 0h2m10 0h2m4 0h2m6 0h2m0 0h2m5 0h2m1 0h2m0 0h2m4 0h2m-1 0h2m2 0h2m7 0h2m12 0h2m8 0h2m3 0h2m0 0h2m-1 0h2m1 0h2m2 0h2m-2 0h2m-1 0h2m1 0h2m-1 0h2m12 0h2m7 0h2m-2 0h2m1 0h2m2 0h2m2 0h2m-2 0h2m1 0h2m1 0h2m2 0h2m-2 0h2m0 0h2m-1 0h2m2 0h2m-1 0h2m2 0h2m1 0h2m8 0h2m-1 0h2m4 0h2m4 0h2m30 0h2m1 0h2m-2 0h2m8 0h2m-224 1h2m22 0h2m0 0h2m7 0h2m0 0h2m-1 0h2m4 0h2m1 0h2m1 0h2m-2 0h2m1 0h2m1 0h2m0 0h2m-1 0h2m-1 0h2m-1 0h2m-1 0h2m5 0h2m0 0h2m13 0h2m-1 0h2m0 0h2m6 0h2m6 0h2m1 0h2m-1 0h2m17 0h2m2 0h2m0 0h2m-2 0h2m6 0h2m8 0h2m11 0h2m4 0h2m0 0h2m0 0h2m-1 0h2m17 0h2m3 0h2m-1 0h2m59 0h2m-328 1h2m5 0h2m22 0h2m16 0h2m13 0h2m4 0h2m20 0h2m4 0h2m-1 0h2m4 0h2m0 0h2m12 0h2m1 0h2m8 0h2m-2 0h2m1 0h2m-1 0h2m2 0h2m-1 0h2m-1 0h2m-1 0h2m11 0h2m-2 0h2m0 0h2m0 0h2m3 0h2m-2 0h2m9 0h2m-2 0h2m1 0h2m0 0h2m2 0h2m-2 0h2m5 0h2m-1 0h2m2 0h2m-2 0h2m0 0h2m9 0h2m-2 0h2m1 0h2m9 0h2m39 0h2m10 0h2m3 0h2m21 0h2m-216 1h2m21 0h2m0 0h2m8 0h2m-1 0h2m2 0h2m17 0h2m6 0h2m-1 0h2m2 0h2m2 0h2m0 0h2m7 0h2m-2 0h2m0 0h2m2 0h2m-2 0h2m0 0h2m1 0h2m-1 0h2m3 0h2m2 0h2m9 0h2m0 0h2m6 0h2m-2 0h2m-1 0h2m-2 0h2m25 0h2m2 0h2m-2 0h2m9 0h2m20 0h2m32 0h2m-275 1h2m9 0h2m20 0h2m1 0h2m1 0h2m8 0h2m6 0h2m1 0h2m-2 0h2m4 0h2m2 0h2m-1 0h2m0 0h2m0 0h2m3 0h2m-2 0h2m-2 0h2m0 0h2m5 0h2m1 0h2m-1 0h2m-1 0h2m0 0h2m2 0h2m1 0h2m2 0h2m2 0h2m0 0h2m0 0h2m2 0h2m7 0h2m0 0h2m0 0h2m-2 0h2m7 0h2m21 0h2m2 0h2m3 0h2m1 0h2m-2 0h2m2 0h2m3 0h2m4 0h2m5 0h2m8 0h2m5 0h2m130 0h2m-355 1h2m31 0h2m-2 0h2m0 0h2m1 0h2m-2 0h2m4 0h2m11 0h2m-2 0h2m1 0h2m3 0h2m3 0h2m-1 0h2m2 0h2m5 0h2m0 0h2m2 0h2m1 0h2m0 0h2m5 0h2m-2 0h2m6 0h2m2 0h2m8 0h2m1 0h2m-2 0h2m5 0h2m-1 0h2m-1 0h2m-1 0h2m3 0h2m1 0h2m10 0h2m-2 0h2m7 0h2m-1 0h2m9 0h2m5 0h2m5 0h2m17 0h2m0 0h2m40 0h2m11 0h2m-1 0h2m-269 1h2m26 0h2m3 0h2m-1 0h2m3 0h2m17 0h2m0 0h2m9 0h2m-2 0h2m0 0h2m1 0h2m0 0h2m5 0h2m-1 0h2m4 0h2m-1 0h2m3 0h2m2 0h2m13 0h2m0 0h2m1 0h2m7 0h2m7 0h2m0 0h2m0 0h2m-1 0h2m4 0h2m9 0h2m-1 0h2m2 0h2m8 0h2m2 0h2m2 0h2m2 0h2m7 0h2m13 0h2m-228 1h2m30 0h2m9 0h2m8 0h2m9 0h2m5 0h2m6 0h2m2 0h2m2 0h2m-1 0h2m12 0h2m-2 0h2m1 0h2m2 0h2m4 0h2m1 0h2m4 0h2m1 0h2m-2 0h2m2 0h2m12 0h2m-2 0h2m-1 0h2m2 0h2m0 0h2m14 0h2m-2 0h2m1 0h2m17 0h2m17 0h2m7 0h2m38 0h2m-259 1h2m16 0h2m-1 0h2m18 0h2m11 0h2m8 0h2m2 0h2m7 0h2m-1 0h2m2 0h2m1 0h2m0 0h2m2 0h2m-1 0h2m4 0h2m1 0h2m-1 0h2m-1 0h2m-2 0h2m1 0h2m-2 0h2m-1 0h2m-1 0h2m-1 0h2m-1 0h2m2 0h2m-2 0h2m-1 0h2m-1 0h2m5 0h2m6 0h2m-1 0h2m1 0h2m2 0h2m1 0h2m0 0h2m1 0h2m10 0h2m-2 0h2m0 0h2m-1 0h2m15 0h2m3 0h2m0 0h2m1 0h2m-1 0h2m-2 0h2m5 0h2m-1 0h2m8 0h2m2 0h2m4 0h2m8 0h2m13 0h2m3 0h2m-236 1h2m1 0h2m-1 0h2m3 0h2m27 0h2m3 0h2m-2 0h2m3 0h2m6 0h2m7 0h2m4 0h2m1 0h2m0 0h2m1 0h2m1 0h2m2 0h2m3 0h2m0 0h2m-1 0h2m1 0h2m-2 0h2m0 0h2m-1 0h2m2 0h2m2 0h2m-1 0h2m1 0h2m-2 0h2m0 0h2m4 0h2m0 0h2m1 0h2m0 0h2m1 0h2m2 0h2m0 0h2m4 0h2m-1 0h2m-2 0h2m0 0h2m0 0h2m5 0h2m7 0h2m1 0h2m1 0h2m4 0h2m9 0h2m27 0h2m2 0h2m4 0h2m18 0h2m-276 1h2m32 0h2m15 0h2m7 0h2m3 0h2m-1 0h2m0 0h2m0 0h2m3 0h2m-1 0h2m0 0h2m-1 0h2m0 0h2m13 0h2m6 0h2m-1 0h2m-1 0h2m-1 0h2m-1 0h2m13 0h2m-1 0h2m-1 0h2m0 0h2m-2 0h2m-1 0h2m5 0h2m1 0h2m-1 0h2m1 0h2m0 0h2m15 0h2m-1 0h2m0 0h2m-2 0h2m8 0h2m3 0h2m-2 0h2m2 0h2m0 0h2m1 0h2m0 0h2m0 0h2m8 0h2m0 0h2m13 0h2m-2 0h2m80 0h2m-324 1h2m34 0h2m14 0h2m0 0h2m10 0h2m7 0h2m5 0h2m1 0h2m18 0h2m1 0h2m1 0h2m7 0h2m2 0h2m10 0h2m-1 0h2m-2 0h2m-1 0h2m7 0h2m4 0h2m2 0h2m1 0h2m-2 0h2m-2 0h2m-2 0h2m2 0h2m7 0h2m5 0h2m0 0h2m3 0h2m2 0h2m1 0h2m19 0h2m-1 0h2m2 0h2m12 0h2m10 0h2m4 0h2m-1 0h2m14 0h2m-2 0h2m4 0h2m5 0h2m8 0h2m3 0h2m24 0h2m-252 1h2m11 0h2m0 0h2m2 0h2m4 0h2m1 0h2m15 0h2m5 0h2m9 0h2m-1 0h2m15 0h2m-2 0h2m0 0h2m-2 0h2m4 0h2m-2 0h2m0 0h2m0 0h2m-1 0h2m-1 0h2m3 0h2m-1 0h2m1 0h2m3 0h2m6 0h2m2 0h2m-1 0h2m-1 0h2m-2 0h2m10 0h2m1 0h2m7 0h2m1 0h2m0 0h2m8 0h2m9 0h2m11 0h2m-1 0h2m10 0h2m0 0h2m-2 0h2m2 0h2m6 0h2m-272 1h2m12 0h2m18 0h2m17 0h2m3 0h2m10 0h2m3 0h2m1 0h2m1 0h2m6 0h2m8 0h2m0 0h2m-2 0h2m0 0h2m1 0h2m2 0h2m12 0h2m0 0h2m1 0h2m0 0h2m1 0h2m-1 0h2m-2 0h2m3 0h2m1 0h2m-1 0h2m25 0h2m5 0h2m4 0h2m1 0h2m6 0h2m-2 0h2m3 0h2m-1 0h2m-2 0h2m1 0h2m2 0h2m5 0h2m1 0h2m39 0h2m8 0h2m59 0h2m-318 1h2m34 0h2m8 0h2m3 0h2m4 0h2m2 0h2m0 0h2m7 0h2m-2 0h2m13 0h2m5 0h2m-1 0h2m0 0h2m3 0h2m1 0h2m1 0h2m0 0h2m-2 0h2m-1 0h2m-1 0h2m2 0h2m9 0h2m3 0h2m-1 0h2m-2 0h2m-1 0h2m-2 0h2m-2 0h2m4 0h2m-2 0h2m2 0h2m-2 0h2m1 0h2m4 0h2m6 0h2m-2 0h2m3 0h2m-1 0h2m3 0h2m0 0h2m4 0h2m7 0h2m11 0h2m7 0h2m5 0h2m5 0h2m27 0h2m5 0h2m13 0h2m-267 1h2m0 0h2m18 0h2m6 0h2m-2 0h2m1 0h2m17 0h2m25 0h2m3 0h2m3 0h2m1 0h2m8 0h2m1 0h2m4 0h2m0 0h2m-2 0h2m0 0h2m1 0h2m-2 0h2m10 0h2m1 0h2m0 0h2m-1 0h2m-2 0h2m-2 0h2m5 0h2m6 0h2m-1 0h2m-2 0h2m15 0h2m0 0h2m3 0h2m-2 0h2m6 0h2m1 0h2m7 0h2m-1 0h2m17 0h2m3 0h2m7 0h2m5 0h2m3 0h2m-265 1h2m13 0h2m25 0h2m0 0h2m11 0h2m1 0h2m6 0h2m3 0h2m1 0h2m20 0h2m-1 0h2m0 0h2m0 0h2m0 0h2m6 0h2m-2 0h2m0 0h2m-2 0h2m-1 0h2m1 0h2m9 0h2m2 0h2m12 0h2m-2 0h2m-1 0h2m6 0h2m-1 0h2m10 0h2m-1 0h2m2 0h2m-2 0h2m2 0h2m-2 0h2m1 0h2m4 0h2m3 0h2m0 0h2m5 0h2m20 0h2m-1 0h2m1 0h2m0 0h2m5 0h2m12 0h2m-218 1h2m-1 0h2m5 0h2m4 0h2m-1 0h2m1 0h2m18 0h2m-1 0h2m0 0h2m0 0h2m2 0h2m2 0h2m-1 0h2m11 0h2m3 0h2m3 0h2m-2 0h2m-1 0h2m-2 0h2m9 0h2m-2 0h2m11 0h2m-1 0h2m1 0h2m1 0h2m-2 0h2m1 0h2m-2 0h2m4 0h2m2 0h2m-1 0h2m9 0h2m5 0h2m0 0h2m-1 0h2m0 0h2m3 0h2m1 0h2m4 0h2m2 0h2m0 0h2m-1 0h2m-1 0h2m5 0h2m3 0h2m11 0h2m1 0h2m19 0h2m2 0h2m-263 1h2m34 0h2m7 0h2m14 0h2m11 0h2m12 0h2m4 0h2m2 0h2m1 0h2m1 0h2m14 0h2m-1 0h2m1 0h2m1 0h2m0 0h2m1 0h2m-1 0h2m1 0h2m0 0h2m1 0h2m4 0h2m2 0h2m0 0h2m-1 0h2m0 0h2m0 0h2m-1 0h2m-1 0h2m3 0h2m-2 0h2m-1 0h2m3 0h2m0 0h2m1 0h2m-2 0h2m0 0h2m1 0h2m1 0h2m4 0h2m4 0h2m2 0h2m0 0h2m7 0h2m10 0h2m-2 0h2m-1 0h2m4 0h2m-1 0h2m14 0h2m1 0h2m4 0h2m-1 0h2m9 0h2m18 0h2m-236 1h2m19 0h2m10 0h2m11 0h2m5 0h2m-1 0h2m0 0h2m5 0h2m-2 0h2m0 0h2m1 0h2m4 0h2m3 0h2m-1 0h2m-2 0h2m-1 0h2m-2 0h2m3 0h2m1 0h2m-1 0h2m2 0h2m-1 0h2m4 0h2m0 0h2m1 0h2m1 0h2m6 0h2m0 0h2m2 0h2m0 0h2m-2 0h2m1 0h2m6 0h2m-2 0h2m-2 0h2m1 0h2m4 0h2m24 0h2m6 0h2m1 0h2m18 0h2m-2 0h2m9 0h2m-272 1h2m29 0h2m13 0h2m1 0h2m15 0h2m5 0h2m6 0h2m9 0h2m0 0h2m-1 0h2m13 0h2m-1 0h2m2 0h2m0 0h2m2 0h2m-1 0h2m-2 0h2m4 0h2m0 0h2m1 0h2m3 0h2m1 0h2m-1 0h2m0 0h2m13 0h2m9 0h2m2 0h2m2 0h2m-1 0h2m4 0h2m3 0h2m-2 0h2m1 0h2m0 0h2m3 0h2m0 0h2m9 0h2m1 0h2m0 0h2m6 0h2m-1 0h2m2 0h2m10 0h2m-2 0h2m2 0h2m10 0h2m1 0h2m-2 0h2m3 0h2m-2 0h2m3 0h2m113 0h2m-317 1h2m2 0h2m-1 0h2m3 0h2m-1 0h2m6 0h2m-1 0h2m0 0h2m7 0h2m9 0h2m0 0h2m0 0h2m-2 0h2m1 0h2m0 0h2m0 0h2m4 0h2m9 0h2m0 0h2m0 0h2m-2 0h2m3 0h2m3 0h2m1 0h2m1 0h2m-1 0h2m2 0h2m-1 0h2m2 0h2m7 0h2m0 0h2m-2 0h2m7 0h2m-2 0h2m0 0h2m6 0h2m1 0h2m6 0h2m25 0h2m0 0h2m8 0h2m17 0h2m17 0h2m-330 1h2m47 0h2m12 0h2m-2 0h2m5 0h2m28 0h2m-1 0h2m2 0h2m5 0h2m3 0h2m-1 0h2m1 0h2m-1 0h2m5 0h2m1 0h2m0 0h2m-1 0h2m-1 0h2m3 0h2m-2 0h2m-1 0h2m9 0h2m-1 0h2m3 0h2m0 0h2m0 0h2m0 0h2m2 0h2m2 0h2m-2 0h2m0 0h2m-2 0h2m-1 0h2m0 0h2m1 0h2m-1 0h2m9 0h2m0 0h2m-1 0h2m5 0h2m-1 0h2m0 0h2m-1 0h2m-1 0h2m0 0h2m-2 0h2m2 0h2m-1 0h2m-2 0h2m-2 0h2m2 0h2m-2 0h2m5 0h2m3 0h2m3 0h2m10 0h2m7 0h2m2 0h2m6 0h2m3 0h2m3 0h2m5 0h2m-1 0h2m5 0h2m-252 1h2m54 0h2m7 0h2m1 0h2m20 0h2m-1 0h2m4 0h2m0 0h2m-1 0h2m1 0h2m0 0h2m-2 0h2m3 0h2m-2 0h2m11 0h2m-2 0h2m1 0h2m-2 0h2m0 0h2m6 0h2m6 0h2m0 0h2m-1 0h2m0 0h2m6 0h2m1 0h2m6 0h2m0 0h2m-2 0h2m7 0h2m5 0h2m2 0h2m14 0h2m0 0h2m2 0h2m12 0h2m2 0h2m-1 0h2m2 0h2m8 0h2m17 0h2m-250 1h2m5 0h2m3 0h2m8 0h2m3 0h2m13 0h2m-1 0h2m8 0h2m20 0h2m10 0h2m8 0h2m2 0h2m0 0h2m-2 0h2m5 0h2m-2 0h2m-1 0h2m1 0h2m11 0h2m1 0h2m1 0h2m6 0h2m0 0h2m-2 0h2m0 0h2m-1 0h2m-1 0h2m-1 0h2m0 0h2m-1 0h2m-1 0h2m0 0h2m1 0h2m0 0h2m0 0h2m-2 0h2m5 0h2m2 0h2m-1 0h2m-1 0h2m-1 0h2m2 0h2m4 0h2m0 0h2m19 0h2m18 0h2m-1 0h2m1 0h2m16 0h2m2 0h2m12 0h2m-295 1h2m31 0h2m2 0h2m23 0h2m0 0h2m-1 0h2m5 0h2m2 0h2m2 0h2m4 0h2m0 0h2m5 0h2m7 0h2m0 0h2m-1 0h2m6 0h2m3 0h2m3 0h2m7 0h2m-1 0h2m-1 0h2m-2 0h2m-1 0h2m-2 0h2m2 0h2m-2 0h2m-1 0h2m-1 0h2m2 0h2m0 0h2m5 0h2m0 0h2m-1 0h2m-2 0h2m-1 0h2m-2 0h2m-2 0h2m1 0h2m3 0h2m-1 0h2m2 0h2m-1 0h2m-2 0h2m-2 0h2m3 0h2m17 0h2m-1 0h2m3 0h2m6 0h2m5 0h2m0 0h2m3 0h2m3 0h2m-1 0h2m20 0h2m6 0h2m5 0h2m8 0h2m-250 1h2m-1 0h2m7 0h2m7 0h2m-1 0h2m20 0h2m10 0h2m-2 0h2m0 0h2m10 0h2m-1 0h2m2 0h2m4 0h2m7 0h2m13 0h2m1 0h2m2 0h2m-1 0h2m0 0h2m1 0h2m1 0h2m-2 0h2m0 0h2m-1 0h2m1 0h2m-1 0h2m0 0h2m4 0h2m2 0h2m-1 0h2m-1 0h2m-1 0h2m1 0h2m5 0h2m9 0h2m0 0h2m10 0h2m1 0h2m0 0h2m5 0h2m13 0h2m-1 0h2m0 0h2m-1 0h2m19 0h2m1 0h2m6 0h2m52 0h2m-347 1h2m56 0h2m9 0h2m26 0h2m-1 0h2m0 0h2m11 0h2m1 0h2m5 0h2m3 0h2m11 0h2m-1 0h2m-1 0h2m0 0h2m0 0h2m-1 0h2m-1 0h2m3 0h2m-1 0h2m9 0h2m1 0h2m-1 0h2m-1 0h2m-2 0h2m-1 0h2m0 0h2m3 0h2m8 0h2m3 0h2m-1 0h2m-1 0h2m4 0h2m4 0h2m-1 0h2m8 0h2m7 0h2m0 0h2m-1 0h2m2 0h2m4 0h2m2 0h2m22 0h2m7 0h2m1 0h2m26 0h2m11 0h2m-241 1h2m23 0h2m-1 0h2m-2 0h2m4 0h2m0 0h2m11 0h2m0 0h2m-2 0h2m-1 0h2m-1 0h2m14 0h2m-2 0h2m4 0h2m-2 0h2m0 0h2m0 0h2m0 0h2m13 0h2m0 0h2m3 0h2m0 0h2m-1 0h2m-1 0h2m-2 0h2m-1 0h2m9 0h2m0 0h2m-1 0h2m0 0h2m0 0h2m1 0h2m-1 0h2m-2 0h2m8 0h2m-1 0h2m-1 0h2m10 0h2m2 0h2m4 0h2m3 0h2m8 0h2m6 0h2m-2 0h2m4 0h2m45 0h2m-364 1h2m63 0h2m42 0h2m6 0h2m11 0h2m6 0h2m11 0h2m1 0h2m7 0h2m7 0h2m-1 0h2m-2 0h2m-1 0h2m0 0h2m-2 0h2m11 0h2m1 0h2m0 0h2m-1 0h2m3 0h2m10 0h2m-1 0h2m-1 0h2m-2 0h2m3 0h2m-1 0h2m-2 0h2m0 0h2m-2 0h2m1 0h2m0 0h2m-1 0h2m-1 0h2m-1 0h2m0 0h2m8 0h2m-2 0h2m1 0h2m-1 0h2m4 0h2m0 0h2m-1 0h2m-1 0h2m-2 0h2m0 0h2m3 0h2m4 0h2m-1 0h2m2 0h2m10 0h2m8 0h2m4 0h2m-1 0h2m1 0h2m24 0h2m10 0h2m4 0h2m39 0h2m-292 1h2m10 0h2m1 0h2m-2 0h2m7 0h2m3 0h2m6 0h2m0 0h2m2 0h2m9 0h2m3 0h2m5 0h2m5 0h2m0 0h2m-1 0h2m2 0h2m-1 0h2m6 0h2m9 0h2m5 0h2m-1 0h2m11 0h2m-1 0h2m-2 0h2m0 0h2m0 0h2m-2 0h2m-1 0h2m2 0h2m-2 0h2m1 0h2m3 0h2m1 0h2m-2 0h2m1 0h2m1 0h2m2 0h2m0 0h2m-2 0h2m1 0h2m10 0h2m0 0h2m19 0h2m0 0h2m0 0h2m15 0h2m10 0h2m-237 1h2m2 0h2m18 0h2m3 0h2m0 0h2m0 0h2m8 0h2m3 0h2m32 0h2m10 0h2m-1 0h2m5 0h2m-2 0h2m10 0h2m-2 0h2m1 0h2m0 0h2m-2 0h2m-1 0h2m-2 0h2m1 0h2m-1 0h2m2 0h2m-2 0h2m-1 0h2m1 0h2m-1 0h2m2 0h2m3 0h2m15 0h2m-2 0h2m6 0h2m-1 0h2m1 0h2m-1 0h2m4 0h2m-1 0h2m0 0h2m13 0h2m-1 0h2m1 0h2m0 0h2m15 0h2m-1 0h2m5 0h2m-1 0h2m6 0h2m6 0h2m0 0h2m0 0h2m10 0h2m-286 1h2m25 0h2m0 0h2m0 0h2m24 0h2m0 0h2m-2 0h2m0 0h2m10 0h2m4 0h2m4 0h2m3 0h2m0 0h2m0 0h2m-2 0h2m13 0h2m-1 0h2m0 0h2m4 0h2m5 0h2m11 0h2m1 0h2m3 0h2m-1 0h2m-1 0h2m6 0h2m0 0h2m0 0h2m6 0h2m8 0h2m0 0h2m-1 0h2m1 0h2m2 0h2m-2 0h2m2 0h2m0 0h2m2 0h2m0 0h2m-2 0h2m1 0h2m1 0h2m-2 0h2m2 0h2m2 0h2m1 0h2m-2 0h2m4 0h2m6 0h2m5 0h2m-1 0h2m3 0h2m5 0h2m2 0h2m21 0h2m-273 1h2m27 0h2m-1 0h2m4 0h2m4 0h2m10 0h2m1 0h2m17 0h2m11 0h2m-2 0h2m3 0h2m14 0h2m10 0h2m-1 0h2m3 0h2m1 0h2m-1 0h2m1 0h2m0 0h2m2 0h2m4 0h2m1 0h2m3 0h2m-2 0h2m3 0h2m-1 0h2m3 0h2m-1 0h2m8 0h2m2 0h2m4 0h2m0 0h2m-1 0h2m-2 0h2m1 0h2m1 0h2m3 0h2m-1 0h2m10 0h2m-1 0h2m12 0h2m-1 0h2m47 0h2m-225 1h2m3 0h2m0 0h2m13 0h2m-1 0h2m7 0h2m1 0h2m0 0h2m3 0h2m0 0h2m-1 0h2m1 0h2m-1 0h2m1 0h2m1 0h2m-1 0h2m0 0h2m1 0h2m1 0h2m1 0h2m0 0h2m5 0h2m2 0h2m7 0h2m-1 0h2m1 0h2m0 0h2m-2 0h2m-1 0h2m5 0h2m-1 0h2m1 0h2m7 0h2m1 0h2m-1 0h2m10 0h2m2 0h2m6 0h2m-2 0h2m2 0h2m10 0h2m-2 0h2m0 0h2m6 0h2m13 0h2m16 0h2m27 0h2m-286 1h2m9 0h2m1 0h2m10 0h2m9 0h2m11 0h2m5 0h2m0 0h2m4 0h2m-1 0h2m44 0h2m0 0h2m1 0h2m3 0h2m4 0h2m0 0h2m2 0h2m-2 0h2m3 0h2m-2 0h2m0 0h2m1 0h2m-1 0h2m1 0h2m0 0h2m10 0h2m2 0h2m3 0h2m-1 0h2m0 0h2m1 0h2m-2 0h2m-1 0h2m3 0h2m-2 0h2m2 0h2m1 0h2m2 0h2m0 0h2m1 0h2m-2 0h2m0 0h2m0 0h2m14 0h2m0 0h2m-2 0h2m7 0h2m11 0h2m-2 0h2m27 0h2m-284 1h2m19 0h2m1 0h2m3 0h2m0 0h2m8 0h2m5 0h2m6 0h2m4 0h2m5 0h2m2 0h2m7 0h2m2 0h2m3 0h2m-1 0h2m-2 0h2m1 0h2m0 0h2m1 0h2m-1 0h2m7 0h2m1 0h2m-1 0h2m4 0h2m4 0h2m1 0h2m-1 0h2m1 0h2m0 0h2m10 0h2m0 0h2m0 0h2m2 0h2m3 0h2m-1 0h2m1 0h2m0 0h2m1 0h2m2 0h2m2 0h2m1 0h2m-1 0h2m-1 0h2m-2 0h2m-2 0h2m3 0h2m3 0h2m-1 0h2m2 0h2m5 0h2m1 0h2m1 0h2m1 0h2m-1 0h2m1 0h2m0 0h2m4 0h2m-2 0h2m3 0h2m-1 0h2m0 0h2m2 0h2m-258 1h2m21 0h2m44 0h2m-2 0h2m1 0h2m4 0h2m24 0h2m-1 0h2m4 0h2m1 0h2m-1 0h2m2 0h2m7 0h2m0 0h2m-1 0h2m-1 0h2m-1 0h2m-2 0h2m-2 0h2m3 0h2m1 0h2m5 0h2m-1 0h2m0 0h2m2 0h2m-1 0h2m6 0h2m2 0h2m-2 0h2m0 0h2m4 0h2m7 0h2m1 0h2m0 0h2m1 0h2m7 0h2m2 0h2m4 0h2m3 0h2m7 0h2m0 0h2m-2 0h2m11 0h2m0 0h2m2 0h2m6 0h2m1 0h2m6 0h2m8 0h2m8 0h2m8 0h2m-1 0h2m0 0h2m27 0h2m31 0h2m-318 1h2m11 0h2m3 0h2m1 0h2m9 0h2m3 0h2m1 0h2m1 0h2m7 0h2m-1 0h2m2 0h2m4 0h2m2 0h2m1 0h2m-1 0h2m1 0h2m-2 0h2m2 0h2m9 0h2m2 0h2m1 0h2m4 0h2m-1 0h2m0 0h2m-1 0h2m4 0h2m1 0h2m0 0h2m0 0h2m1 0h2m2 0h2m1 0h2m10 0h2m1 0h2m-1 0h2m6 0h2m-1 0h2m2 0h2m2 0h2m0 0h2m-2 0h2m9 0h2m10 0h2m-1 0h2m14 0h2m1 0h2m6 0h2m-1 0h2m-1 0h2m4 0h2m5 0h2m23 0h2m0 0h2m2 0h2m11 0h2m-269 1h2m6 0h2m11 0h2m21 0h2m10 0h2m-1 0h2m0 0h2m2 0h2m-1 0h2m-1 0h2m4 0h2m2 0h2m-2 0h2m11 0h2m-1 0h2m-1 0h2m1 0h2m-1 0h2m0 0h2m2 0h2m0 0h2m5 0h2m4 0h2m2 0h2m1 0h2m6 0h2m-1 0h2m6 0h2m-1 0h2m5 0h2m-2 0h2m-1 0h2m-1 0h2m7 0h2m-1 0h2m-1 0h2m1 0h2m0 0h2m7 0h2m-1 0h2m-2 0h2m1 0h2m0 0h2m-2 0h2m20 0h2m1 0h2m0 0h2m2 0h2m1 0h2m-207 1h2m10 0h2m-1 0h2m14 0h2m-1 0h2m1 0h2m-2 0h2m-1 0h2m6 0h2m1 0h2m-1 0h2m4 0h2m1 0h2m3 0h2m0 0h2m5 0h2m0 0h2m1 0h2m1 0h2m2 0h2m-2 0h2m0 0h2m-1 0h2m3 0h2m9 0h2m7 0h2m10 0h2m-1 0h2m11 0h2m1 0h2m40 0h2m-2 0h2m-1 0h2m12 0h2m-2 0h2m5 0h2m-1 0h2m1 0h2m-1 0h2m2 0h2m11 0h2m9 0h2m16 0h2m18 0h2m-271 1h2m3 0h2m19 0h2m4 0h2m0 0h2m7 0h2m1 0h2m-1 0h2m2 0h2m1 0h2m-2 0h2m3 0h2m0 0h2m3 0h2m0 0h2m3 0h2m11 0h2m2 0h2m-1 0h2m-1 0h2m-2 0h2m0 0h2m1 0h2m-1 0h2m8 0h2m-1 0h2m0 0h2m-2 0h2m8 0h2m5 0h2m-1 0h2m-1 0h2m5 0h2m-2 0h2m4 0h2m-2 0h2m-2 0h2m8 0h2m2 0h2m4 0h2m6 0h2m-2 0h2m0 0h2m-1 0h2m-2 0h2m8 0h2m-1 0h2m-2 0h2m10 0h2m25 0h2m-252 1h2m52 0h2m22 0h2m0 0h2m6 0h2m-1 0h2m-2 0h2m0 0h2m0 0h2m1 0h2m1 0h2m-1 0h2m0 0h2m0 0h2m-1 0h2m3 0h2m2 0h2m2 0h2m-2 0h2m4 0h2m7 0h2m3 0h2m-2 0h2m10 0h2m0 0h2m-1 0h2m3 0h2m6 0h2m-1 0h2m-2 0h2m0 0h2m-2 0h2m5 0h2m1 0h2m0 0h2m4 0h2m3 0h2m2 0h2m-2 0h2m14 0h2m2 0h2m5 0h2m3 0h2m4 0h2m-229 1h2m0 0h2m1 0h2m16 0h2m7 0h2m0 0h2m2 0h2m27 0h2m-2 0h2m0 0h2m5 0h2m0 0h2m2 0h2m-2 0h2m-1 0h2m3 0h2m5 0h2m-1 0h2m2 0h2m1 0h2m2 0h2m3 0h2m-2 0h2m7 0h2m0 0h2m0 0h2m-2 0h2m0 0h2m4 0h2m5 0h2m-1 0h2m1 0h2m0 0h2m-1 0h2m0 0h2m1 0h2m11 0h2m1 0h2m0 0h2m4 0h2m2 0h2m6 0h2m5 0h2m11 0h2m13 0h2m17 0h2m14 0h2m-282 1h2m6 0h2m2 0h2m15 0h2m16 0h2m2 0h2m10 0h2m1 0h2m16 0h2m2 0h2m9 0h2m3 0h2m0 0h2m0 0h2m3 0h2m-2 0h2m0 0h2m-2 0h2m0 0h2m-1 0h2m16 0h2m3 0h2m1 0h2m1 0h2m1 0h2m-2 0h2m5 0h2m-2 0h2m6 0h2m-1 0h2m-2 0h2m0 0h2m-2 0h2m1 0h2m-1 0h2m0 0h2m-1 0h2m-1 0h2m3 0h2m-1 0h2m4 0h2m0 0h2m2 0h2m1 0h2m13 0h2m-2 0h2m-1 0h2m3 0h2m18 0h2m6 0h2m5 0h2m-1 0h2m-251 1h2m32 0h2m4 0h2m3 0h2m5 0h2m6 0h2m5 0h2m2 0h2m23 0h2m-1 0h2m0 0h2m-2 0h2m0 0h2m9 0h2m4 0h2m1 0h2m6 0h2m2 0h2m1 0h2m2 0h2m1 0h2m1 0h2m1 0h2m9 0h2m0 0h2m0 0h2m7 0h2m7 0h2m0 0h2m2 0h2m-2 0h2m0 0h2m5 0h2m-1 0h2m9 0h2m7 0h2m15 0h2m40 0h2m114 0h2m-371 1h2m16 0h2m5 0h2m4 0h2m11 0h2m3 0h2m0 0h2m3 0h2m0 0h2m5 0h2m4 0h2m1 0h2m2 0h2m3 0h2m3 0h2m3 0h2m4 0h2m5 0h2m0 0h2m0 0h2m0 0h2m3 0h2m3 0h2m-1 0h2m-1 0h2m1 0h2m12 0h2m3 0h2m0 0h2m4 0h2m-1 0h2m-1 0h2m3 0h2m-1 0h2m-1 0h2m1 0h2m3 0h2m1 0h2m-1 0h2m-1 0h2m3 0h2m4 0h2m13 0h2m6 0h2m17 0h2m23 0h2m-2 0h2m15 0h2m-288 1h2m15 0h2m8 0h2m10 0h2m16 0h2m-1 0h2m3 0h2m6 0h2m6 0h2m8 0h2m-1 0h2m1 0h2m-1 0h2m-1 0h2m-1 0h2m-1 0h2m-1 0h2m-1 0h2m9 0h2m4 0h2m2 0h2m4 0h2m7 0h2m2 0h2m0 0h2m0 0h2m0 0h2m7 0h2m0 0h2m4 0h2m-1 0h2m-1 0h2m9 0h2m0 0h2m1 0h2m-1 0h2m3 0h2m-1 0h2m9 0h2m2 0h2m-1 0h2m6 0h2m23 0h2m7 0h2m0 0h2m3 0h2m-250 1h2m6 0h2m-2 0h2m8 0h2m20 0h2m6 0h2m1 0h2m-1 0h2m11 0h2m-2 0h2m0 0h2m0 0h2m-1 0h2m-2 0h2m0 0h2m2 0h2m4 0h2m-2 0h2m0 0h2m3 0h2m-1 0h2m0 0h2m-1 0h2m-1 0h2m0 0h2m0 0h2m-1 0h2m-1 0h2m0 0h2m0 0h2m0 0h2m3 0h2m1 0h2m0 0h2m0 0h2m2 0h2m-1 0h2m-2 0h2m-1 0h2m2 0h2m-2 0h2m-1 0h2m-1 0h2m-2 0h2m0 0h2m-1 0h2m0 0h2m-2 0h2m1 0h2m-1 0h2m1 0h2m1 0h2m1 0h2m1 0h2m3 0h2m-1 0h2m0 0h2m1 0h2m6 0h2m0 0h2m0 0h2m4 0h2m-1 0h2m5 0h2m-1 0h2m3 0h2m14 0h2m5 0h2m0 0h2m8 0h2m10 0h2m-2 0h2m2 0h2m72 0h2m-350 1h2m14 0h2m32 0h2m21 0h2m6 0h2m18 0h2m-1 0h2m1 0h2m0 0h2m-2 0h2m-2 0h2m-1 0h2m0 0h2m0 0h2m-1 0h2m3 0h2m6 0h2m2 0h2m-2 0h2m-1 0h2m2 0h2m5 0h2m-2 0h2m0 0h2m2 0h2m-2 0h2m0 0h2m9 0h2m0 0h2m1 0h2m0 0h2m2 0h2m-1 0h2m-1 0h2m-1 0h2m-1 0h2m0 0h2m2 0h2m-2 0h2m-1 0h2m-2 0h2m0 0h2m12 0h2m2 0h2m-1 0h2m2 0h2m0 0h2m4 0h2m-1 0h2m3 0h2m5 0h2m8 0h2m-2 0h2m9 0h2m19 0h2m29 0h2m-285 1h2m62 0h2m0 0h2m0 0h2m9 0h2m-2 0h2m-1 0h2m7 0h2m7 0h2m0 0h2m-1 0h2m0 0h2m4 0h2m0 0h2m1 0h2m0 0h2m9 0h2m0 0h2m2 0h2m0 0h2m5 0h2m-1 0h2m-1 0h2m2 0h2m5 0h2m-1 0h2m11 0h2m-2 0h2m4 0h2m1 0h2m1 0h2m6 0h2m6 0h2m1 0h2m2 0h2m5 0h2m10 0h2m0 0h2m-1 0h2m1 0h2m2 0h2m31 0h2m-238 1h2m-1 0h2m8 0h2m1 0h2m3 0h2m3 0h2m4 0h2m2 0h2m2 0h2m3 0h2m0 0h2m2 0h2m8 0h2m-2 0h2m1 0h2m5 0h2m8 0h2m2 0h2m4 0h2m0 0h2m0 0h2m-1 0h2m2 0h2m-2 0h2m-2 0h2m-1 0h2m6 0h2m1 0h2m2 0h2m2 0h2m1 0h2m11 0h2m-1 0h2m0 0h2m-2 0h2m-1 0h2m1 0h2m1 0h2m3 0h2m-2 0h2m1 0h2m-1 0h2m0 0h2m0 0h2m0 0h2m1 0h2m7 0h2m3 0h2m2 0h2m0 0h2m4 0h2m11 0h2m4 0h2m-241 1h2m13 0h2m3 0h2m14 0h2m-1 0h2m5 0h2m15 0h2m-2 0h2m-1 0h2m8 0h2m2 0h2m6 0h2m-2 0h2m2 0h2m4 0h2m5 0h2m3 0h2m-1 0h2m10 0h2m-1 0h2m-1 0h2m-2 0h2m0 0h2m1 0h2m2 0h2m-1 0h2m4 0h2m-1 0h2m3 0h2m0 0h2m-1 0h2m13 0h2m2 0h2m1 0h2m0 0h2m0 0h2m0 0h2m-1 0h2m1 0h2m-1 0h2m4 0h2m3 0h2m3 0h2m4 0h2m1 0h2m4 0h2m3 0h2m-1 0h2m0 0h2m7 0h2m20 0h2m27 0h2m5 0h2m65 0h2m-373 1h2m36 0h2m0 0h2m6 0h2m17 0h2m3 0h2m-1 0h2m-1 0h2m7 0h2m1 0h2m0 0h2m2 0h2m1 0h2m0 0h2m7 0h2m-1 0h2m7 0h2m-1 0h2m0 0h2m11 0h2m-1 0h2m0 0h2m1 0h2m1 0h2m-2 0h2m-2 0h2m0 0h2m0 0h2m-1 0h2m2 0h2m-1 0h2m0 0h2m3 0h2m0 0h2m-1 0h2m-2 0h2m-2 0h2m-1 0h2m0 0h2m2 0h2m-1 0h2m0 0h2m-1 0h2m1 0h2m0 0h2m9 0h2m1 0h2m9 0h2m-1 0h2m0 0h2m0 0h2m0 0h2m-1 0h2m6 0h2m-1 0h2m-1 0h2m0 0h2m-2 0h2m3 0h2m2 0h2m0 0h2m0 0h2m-1 0h2m0 0h2m2 0h2m3 0h2m-1 0h2m8 0h2m1 0h2m1 0h2m0 0h2m87 0h2m-302 1h2m3 0h2m-1 0h2m-2 0h2m11 0h2m5 0h2m-1 0h2m13 0h2m5 0h2m4 0h2m3 0h2m2 0h2m12 0h2m2 0h2m1 0h2m3 0h2m0 0h2m5 0h2m-1 0h2m6 0h2m0 0h2m3 0h2m1 0h2m-1 0h2m1 0h2m12 0h2m22 0h2m-1 0h2m-2 0h2m-1 0h2m-1 0h2m6 0h2m17 0h2m0 0h2m11 0h2m7 0h2m-1 0h2m6 0h2m-249 1h2m8 0h2m24 0h2m0 0h2m-2 0h2m0 0h2m-1 0h2m9 0h2m-2 0h2m0 0h2m1 0h2m0 0h2m0 0h2m-1 0h2m0 0h2m-1 0h2m0 0h2m-1 0h2m0 0h2m4 0h2m-1 0h2m-2 0h2m1 0h2m-1 0h2m3 0h2m2 0h2m1 0h2m4 0h2m3 0h2m2 0h2m11 0h2m-2 0h2m2 0h2m2 0h2m-2 0h2m1 0h2m4 0h2m-1 0h2m3 0h2m1 0h2m-1 0h2m-1 0h2m-1 0h2m1 0h2m3 0h2m0 0h2m4 0h2m-1 0h2m-2 0h2m12 0h2m-1 0h2m1 0h2m7 0h2m-1 0h2m4 0h2m7 0h2m5 0h2m-189 1h2m12 0h2m0 0h2m8 0h2m6 0h2m10 0h2m-2 0h2m0 0h2m-2 0h2m1 0h2m-1 0h2m2 0h2m1 0h2m2 0h2m2 0h2m0 0h2m1 0h2m1 0h2m2 0h2m0 0h2m2 0h2m7 0h2m1 0h2m-1 0h2m-1 0h2m0 0h2m1 0h2m7 0h2m1 0h2m1 0h2m-1 0h2m-2 0h2m-1 0h2m-1 0h2m1 0h2m0 0h2m0 0h2m3 0h2m6 0h2m1 0h2m11 0h2m14 0h2m6 0h2m8 0h2m17 0h2m2 0h2m17 0h2m15 0h2m-273 1h2m47 0h2m3 0h2m0 0h2m1 0h2m1 0h2m2 0h2m4 0h2m1 0h2m3 0h2m1 0h2m6 0h2m2 0h2m-2 0h2m-2 0h2m-1 0h2m-1 0h2m3 0h2m2 0h2m13 0h2m5 0h2m1 0h2m0 0h2m1 0h2m0 0h2m3 0h2m6 0h2m4 0h2m0 0h2m0 0h2m0 0h2m4 0h2m5 0h2m6 0h2m4 0h2m1 0h2m1 0h2m8 0h2m2 0h2m8 0h2m51 0h2m-297 1h2m4 0h2m35 0h2m0 0h2m7 0h2m2 0h2m11 0h2m3 0h2m4 0h2m4 0h2m8 0h2m2 0h2m2 0h2m-2 0h2m-1 0h2m1 0h2m4 0h2m0 0h2m4 0h2m1 0h2m-2 0h2m0 0h2m-2 0h2m1 0h2m-1 0h2m3 0h2m-1 0h2m-1 0h2m-1 0h2m-1 0h2m-1 0h2m1 0h2m0 0h2m1 0h2m0 0h2m-2 0h2m0 0h2m10 0h2m0 0h2m4 0h2m3 0h2m8 0h2m11 0h2m5 0h2m4 0h2m3 0h2m-1 0h2m0 0h2m3 0h2m11 0h2m4 0h2m30 0h2m3 0h2m44 0h2m-317 1h2m25 0h2m18 0h2m-1 0h2m0 0h2m1 0h2m2 0h2m1 0h2m4 0h2m-1 0h2m3 0h2m2 0h2m-2 0h2m3 0h2m0 0h2m-1 0h2m2 0h2m2 0h2m0 0h2m0 0h2m4 0h2m1 0h2m2 0h2m1 0h2m-1 0h2m1 0h2m-2 0h2m0 0h2m2 0h2m25 0h2m2 0h2m8 0h2m2 0h2m5 0h2m-2 0h2m0 0h2m3 0h2m-2 0h2m0 0h2m7 0h2m1 0h2m9 0h2m22 0h2m4 0h2m0 0h2m13 0h2m25 0h2m55 0h2m-382 1h2m31 0h2m2 0h2m21 0h2m27 0h2m17 0h2m-1 0h2m-1 0h2m2 0h2m-2 0h2m3 0h2m-1 0h2m-1 0h2m-2 0h2m13 0h2m-1 0h2m3 0h2m3 0h2m5 0h2m-2 0h2m-1 0h2m-2 0h2m8 0h2m0 0h2m-1 0h2m-2 0h2m-2 0h2m-1 0h2m0 0h2m3 0h2m-2 0h2m-1 0h2m3 0h2m5 0h2m5 0h2m0 0h2m12 0h2m5 0h2m-1 0h2m4 0h2m0 0h2m0 0h2m1 0h2m9 0h2m-2 0h2m17 0h2m1 0h2m28 0h2m-244 1h2m18 0h2m5 0h2m7 0h2m6 0h2m2 0h2m-1 0h2m-2 0h2m6 0h2m0 0h2m0 0h2m0 0h2m2 0h2m0 0h2m5 0h2m12 0h2m2 0h2m-2 0h2m0 0h2m-2 0h2m3 0h2m-2 0h2m2 0h2m3 0h2m3 0h2m11 0h2m-1 0h2m1 0h2m2 0h2m-1 0h2m3 0h2m0 0h2m-1 0h2m-2 0h2m2 0h2m2 0h2m6 0h2m-1 0h2m3 0h2m-2 0h2m-1 0h2m2 0h2m-1 0h2m9 0h2m30 0h2m14 0h2m7 0h2m18 0h2m6 0h2m27 0h2m-315 1h2m3 0h2m32 0h2m2 0h2m1 0h2m4 0h2m8 0h2m5 0h2m-1 0h2m5 0h2m-1 0h2m-1 0h2m1 0h2m2 0h2m-1 0h2m0 0h2m-2 0h2m-1 0h2m0 0h2m0 0h2m0 0h2m1 0h2m-1 0h2m1 0h2m-2 0h2m1 0h2m7 0h2m-2 0h2m0 0h2m2 0h2m9 0h2m1 0h2m2 0h2m2 0h2m-1 0h2m-1 0h2m2 0h2m1 0h2m3 0h2m4 0h2m4 0h2m1 0h2m-1 0h2m1 0h2m3 0h2m1 0h2m-1 0h2m-1 0h2m4 0h2m0 0h2m6 0h2m-1 0h2m0 0h2m1 0h2m2 0h2m-1 0h2m1 0h2m25 0h2m4 0h2m-247 1h2m8 0h2m-2 0h2m3 0h2m0 0h2m21 0h2m4 0h2m-1 0h2m3 0h2m3 0h2m4 0h2m-1 0h2m-2 0h2m0 0h2m8 0h2m-2 0h2m-1 0h2m-2 0h2m2 0h2m3 0h2m5 0h2m0 0h2m0 0h2m-1 0h2m-2 0h2m1 0h2m1 0h2m0 0h2m-1 0h2m-1 0h2m0 0h2m-2 0h2m0 0h2m1 0h2m-1 0h2m3 0h2m5 0h2m3 0h2m-1 0h2m0 0h2m5 0h2m-1 0h2m7 0h2m2 0h2m2 0h2m0 0h2m-1 0h2m1 0h2m0 0h2m2 0h2m3 0h2m0 0h2m-1 0h2m-1 0h2m1 0h2m5 0h2m3 0h2m5 0h2m-1 0h2m11 0h2m12 0h2m7 0h2m55 0h2m-292 1h2m3 0h2m14 0h2m25 0h2m2 0h2m10 0h2m7 0h2m7 0h2m-1 0h2m1 0h2m1 0h2m1 0h2m-1 0h2m0 0h2m-1 0h2m-1 0h2m10 0h2m1 0h2m0 0h2m2 0h2m1 0h2m6 0h2m-1 0h2m2 0h2m4 0h2m-2 0h2m1 0h2m-1 0h2m13 0h2m5 0h2m0 0h2m1 0h2m2 0h2m4 0h2m2 0h2m-2 0h2m6 0h2m49 0h2m2 0h2m24 0h2m-288 1h2m2 0h2m0 0h2m-1 0h2m16 0h2m11 0h2m9 0h2m-2 0h2m10 0h2m1 0h2m2 0h2m0 0h2m9 0h2m5 0h2m-2 0h2m0 0h2m9 0h2m-1 0h2m-1 0h2m-1 0h2m0 0h2m0 0h2m-2 0h2m-1 0h2m0 0h2m-1 0h2m-2 0h2m-1 0h2m7 0h2m-1 0h2m0 0h2m-1 0h2m-2 0h2m3 0h2m7 0h2m-1 0h2m-1 0h2m-1 0h2m-1 0h2m4 0h2m2 0h2m3 0h2m6 0h2m-1 0h2m-1 0h2m2 0h2m20 0h2m2 0h2m-1 0h2m0 0h2m3 0h2m5 0h2m25 0h2m36 0h2m-296 1h2m27 0h2m22 0h2m0 0h2m19 0h2m6 0h2m1 0h2m3 0h2m-1 0h2m-1 0h2m10 0h2m-2 0h2m0 0h2m1 0h2m13 0h2m-1 0h2m0 0h2m-1 0h2m2 0h2m1 0h2m6 0h2m-1 0h2m5 0h2m4 0h2m3 0h2m-2 0h2m-1 0h2m3 0h2m-1 0h2m2 0h2m-2 0h2m1 0h2m4 0h2m-1 0h2m1 0h2m1 0h2m4 0h2m8 0h2m0 0h2m15 0h2m-1 0h2m0 0h2m11 0h2m4 0h2m7 0h2m-249 1h2m8 0h2m19 0h2m3 0h2m-1 0h2m3 0h2m2 0h2m8 0h2m7 0h2m-1 0h2m6 0h2m-1 0h2m1 0h2m-1 0h2m2 0h2m4 0h2m-1 0h2m6 0h2m3 0h2m1 0h2m3 0h2m0 0h2m1 0h2m-2 0h2m2 0h2m0 0h2m0 0h2m0 0h2m0 0h2m-1 0h2m-1 0h2m0 0h2m2 0h2m-1 0h2m-2 0h2m-1 0h2m0 0h2m-1 0h2m-1 0h2m-2 0h2m1 0h2m-1 0h2m-1 0h2m6 0h2m-1 0h2m-1 0h2m-1 0h2m7 0h2m5 0h2m0 0h2m7 0h2m6 0h2m-1 0h2m6 0h2m1 0h2m3 0h2m1 0h2m5 0h2m2 0h2m18 0h2m10 0h2m80 0h2m-388 1h2m7 0h2m24 0h2m36 0h2m3 0h2m5 0h2m4 0h2m20 0h2m0 0h2m-1 0h2m5 0h2m0 0h2m11 0h2m-1 0h2m0 0h2m-1 0h2m12 0h2m5 0h2m-1 0h2m2 0h2m4 0h2m1 0h2m2 0h2m-1 0h2m-2 0h2m0 0h2m-2 0h2m-1 0h2m-2 0h2m-1 0h2m-1 0h2m1 0h2m4 0h2m-1 0h2m-1 0h2m0 0h2m6 0h2m1 0h2m-2 0h2m0 0h2m1 0h2m2 0h2m6 0h2m-2 0h2m-2 0h2m1 0h2m-1 0h2m7 0h2m-2 0h2m7 0h2m0 0h2m3 0h2m-1 0h2m8 0h2m1 0h2m5 0h2m85 0h2m-314 1h2m16 0h2m31 0h2m2 0h2m-1 0h2m9 0h2m1 0h2m-2 0h2m9 0h2m0 0h2m-1 0h2m2 0h2m5 0h2m3 0h2m1 0h2m-1 0h2m2 0h2m1 0h2m-1 0h2m1 0h2m0 0h2m5 0h2m1 0h2m5 0h2m-1 0h2m9 0h2m11 0h2m0 0h2m6 0h2m0 0h2m-2 0h2m-1 0h2m-1 0h2m9 0h2m4 0h2m1 0h2m-2 0h2m-1 0h2m11 0h2m3 0h2m6 0h2m8 0h2m6 0h2m-1 0h2m0 0h2m4 0h2m63 0h2m-386 1h2m20 0h2m72 0h2m-1 0h2m17 0h2m7 0h2m8 0h2m1 0h2m2 0h2m-1 0h2m6 0h2m2 0h2m-1 0h2m3 0h2m8 0h2m-1 0h2m3 0h2m-1 0h2m-1 0h2m-2 0h2m-1 0h2m4 0h2m16 0h2m-2 0h2m1 0h2m2 0h2m-2 0h2m2 0h2m8 0h2m8 0h2m0 0h2m4 0h2m-1 0h2m0 0h2m0 0h2m1 0h2m1 0h2m-1 0h2m1 0h2m-1 0h2m-1 0h2m1 0h2m15 0h2m9 0h2m7 0h2m-1 0h2m-196 1h2m3 0h2m11 0h2m10 0h2m7 0h2m-1 0h2m15 0h2m-1 0h2m5 0h2m1 0h2m2 0h2m0 0h2m8 0h2m2 0h2m1 0h2m0 0h2m1 0h2m0 0h2m-1 0h2m-1 0h2m6 0h2m-1 0h2m-1 0h2m3 0h2m1 0h2m2 0h2m0 0h2m2 0h2m-1 0h2m-2 0h2m2 0h2m11 0h2m2 0h2m2 0h2m8 0h2m5 0h2m4 0h2m1 0h2m-2 0h2m-1 0h2m10 0h2m20 0h2m-1 0h2m5 0h2m8 0h2m-268 1h2m2 0h2m32 0h2m8 0h2m5 0h2m-2 0h2m0 0h2m11 0h2m3 0h2m7 0h2m7 0h2m0 0h2m7 0h2m3 0h2m-2 0h2m7 0h2m4 0h2m0 0h2m0 0h2m-1 0h2m-1 0h2m2 0h2m-2 0h2m-1 0h2m2 0h2m2 0h2m-2 0h2m3 0h2m-1 0h2m-1 0h2m11 0h2m7 0h2m4 0h2m3 0h2m17 0h2m26 0h2m3 0h2m36 0h2m29 0h2m-299 1h2m20 0h2m10 0h2m4 0h2m11 0h2m2 0h2m1 0h2m1 0h2m0 0h2m4 0h2m-1 0h2m1 0h2m5 0h2m-1 0h2m-2 0h2m-2 0h2m2 0h2m1 0h2m-1 0h2m1 0h2m5 0h2m4 0h2m-1 0h2m2 0h2m-2 0h2m2 0h2m-1 0h2m-2 0h2m-1 0h2m-1 0h2m-2 0h2m-1 0h2m5 0h2m0 0h2m-1 0h2m3 0h2m0 0h2m-2 0h2m-1 0h2m-1 0h2m1 0h2m2 0h2m-2 0h2m-1 0h2m4 0h2m2 0h2m-2 0h2m3 0h2m-1 0h2m-1 0h2m-1 0h2m-1 0h2m5 0h2m0 0h2m6 0h2m13 0h2m8 0h2m3 0h2m2 0h2m1 0h2m30 0h2m-242 1h2m15 0h2m7 0h2m1 0h2m11 0h2m-1 0h2m1 0h2m0 0h2m7 0h2m1 0h2m2 0h2m2 0h2m-2 0h2m1 0h2m-1 0h2m1 0h2m0 0h2m6 0h2m0 0h2m1 0h2m-1 0h2m-1 0h2m0 0h2m3 0h2m-2 0h2m-1 0h2m3 0h2m-1 0h2m-2 0h2m8 0h2m3 0h2m-1 0h2m2 0h2m2 0h2m2 0h2m4 0h2m-2 0h2m5 0h2m0 0h2m1 0h2m0 0h2m2 0h2m5 0h2m0 0h2m-1 0h2m1 0h2m9 0h2m17 0h2m5 0h2m7 0h2m2 0h2m-231 1h2m17 0h2m-2 0h2m-1 0h2m1 0h2m6 0h2m9 0h2m2 0h2m7 0h2m4 0h2m3 0h2m4 0h2m15 0h2m17 0h2m5 0h2m-1 0h2m1 0h2m-1 0h2m0 0h2m0 0h2m1 0h2m4 0h2m-1 0h2m-1 0h2m1 0h2m0 0h2m1 0h2m-2 0h2m2 0h2m0 0h2m2 0h2m1 0h2m2 0h2m10 0h2m6 0h2m-2 0h2m20 0h2m1 0h2m8 0h2m-2 0h2m93 0h2m-347 1h2m10 0h2m7 0h2m20 0h2m10 0h2m0 0h2m19 0h2m0 0h2m14 0h2m19 0h2m9 0h2m3 0h2m2 0h2m-2 0h2m-2 0h2m0 0h2m1 0h2m0 0h2m-2 0h2m-2 0h2m1 0h2m3 0h2m-1 0h2m2 0h2m-2 0h2m4 0h2m0 0h2m-1 0h2m6 0h2m-1 0h2m8 0h2m-1 0h2m-1 0h2m1 0h2m1 0h2m4 0h2m-2 0h2m-1 0h2m4 0h2m-1 0h2m3 0h2m-2 0h2m-1 0h2m-1 0h2m0 0h2m0 0h2m6 0h2m3 0h2m20 0h2m15 0h2m9 0h2m98 0h2m-373 1h2m7 0h2m6 0h2m9 0h2m1 0h2m17 0h2m-1 0h2m-1 0h2m3 0h2m6 0h2m2 0h2m6 0h2m4 0h2m9 0h2m9 0h2m0 0h2m9 0h2m-1 0h2m6 0h2m7 0h2m1 0h2m-1 0h2m-1 0h2m0 0h2m7 0h2m-1 0h2m-2 0h2m2 0h2m-2 0h2m2 0h2m1 0h2m3 0h2m-1 0h2m2 0h2m6 0h2m2 0h2m0 0h2m5 0h2m-1 0h2m1 0h2m4 0h2m-2 0h2m2 0h2m1 0h2m0 0h2m2 0h2m2 0h2m4 0h2m3 0h2m27 0h2m45 0h2m-304 1h2m6 0h2m11 0h2m32 0h2m3 0h2m-2 0h2m1 0h2m14 0h2m0 0h2m0 0h2m1 0h2m16 0h2m2 0h2m-1 0h2m1 0h2m0 0h2m1 0h2m4 0h2m3 0h2m1 0h2m1 0h2m2 0h2m-1 0h2m6 0h2m-1 0h2m3 0h2m5 0h2m5 0h2m17 0h2m2 0h2m1 0h2m-1 0h2m-1 0h2m16 0h2m16 0h2m-1 0h2m1 0h2m5 0h2m5 0h2m3 0h2m-1 0h2m-248 1h2m13 0h2m0 0h2m29 0h2m19 0h2m3 0h2m8 0h2m-1 0h2m8 0h2m2 0h2m3 0h2m2 0h2m2 0h2m0 0h2m-1 0h2m-1 0h2m-2 0h2m10 0h2m2 0h2m3 0h2m10 0h2m2 0h2m-1 0h2m10 0h2m4 0h2m4 0h2m0 0h2m-2 0h2m16 0h2m3 0h2m1 0h2m5 0h2m-264 1h2m38 0h2m9 0h2m17 0h2m14 0h2m6 0h2m1 0h2m1 0h2m2 0h2m0 0h2m-1 0h2m0 0h2m5 0h2m2 0h2m2 0h2m6 0h2m-2 0h2m-1 0h2m-2 0h2m4 0h2m-1 0h2m0 0h2m0 0h2m-1 0h2m1 0h2m1 0h2m0 0h2m0 0h2m0 0h2m-2 0h2m0 0h2m4 0h2m5 0h2m0 0h2m1 0h2m3 0h2m8 0h2m3 0h2m-2 0h2m-2 0h2m0 0h2m4 0h2m2 0h2m4 0h2m5 0h2m-1 0h2m3 0h2m-1 0h2m-2 0h2m10 0h2m15 0h2m3 0h2m5 0h2m-213 1h2m-1 0h2m-2 0h2m21 0h2m10 0h2m3 0h2m4 0h2m3 0h2m2 0h2m-2 0h2m-1 0h2m-2 0h2m15 0h2m2 0h2m9 0h2m9 0h2m-2 0h2m-1 0h2m-1 0h2m-1 0h2m-1 0h2m8 0h2m1 0h2m0 0h2m-1 0h2m0 0h2m10 0h2m0 0h2m1 0h2m-1 0h2m0 0h2m-1 0h2m-2 0h2m3 0h2m1 0h2m-2 0h2m3 0h2m1 0h2m2 0h2m1 0h2m-2 0h2m-1 0h2m3 0h2m0 0h2m7 0h2m1 0h2m1 0h2m3 0h2m16 0h2m2 0h2m15 0h2m-257 1h2m11 0h2m26 0h2m4 0h2m0 0h2m6 0h2m14 0h2m0 0h2m-1 0h2m2 0h2m3 0h2m13 0h2m-1 0h2m-2 0h2m2 0h2m-1 0h2m0 0h2m5 0h2m-2 0h2m-1 0h2m-2 0h2m5 0h2m-2 0h2m1 0h2m6 0h2m0 0h2m5 0h2m0 0h2m4 0h2m10 0h2m2 0h2m2 0h2m4 0h2m1 0h2m-2 0h2m3 0h2m-1 0h2m5 0h2m-1 0h2m-2 0h2m12 0h2m-2 0h2m1 0h2m-1 0h2m4 0h2m14 0h2m0 0h2m28 0h2m12 0h2m4 0h2m-262 1h2m0 0h2m7 0h2m1 0h2m1 0h2m8 0h2m27 0h2m19 0h2m2 0h2m-1 0h2m0 0h2m1 0h2m1 0h2m5 0h2m3 0h2m0 0h2m2 0h2m5 0h2m-2 0h2m-1 0h2m0 0h2m1 0h2m4 0h2m0 0h2m3 0h2m0 0h2m-1 0h2m1 0h2m2 0h2m8 0h2m1 0h2m-2 0h2m1 0h2m5 0h2m5 0h2m10 0h2m3 0h2m14 0h2m1 0h2m20 0h2m10 0h2m23 0h2m-267 1h2m25 0h2m22 0h2m15 0h2m-2 0h2m-1 0h2m-1 0h2m2 0h2m1 0h2m4 0h2m-2 0h2m-1 0h2m1 0h2m3 0h2m5 0h2m-1 0h2m4 0h2m3 0h2m1 0h2m1 0h2m1 0h2m7 0h2m5 0h2m4 0h2m2 0h2m0 0h2m6 0h2m-2 0h2m4 0h2m2 0h2m0 0h2m-1 0h2m3 0h2m3 0h2m49 0h2m-244 1h2m14 0h2m4 0h2m16 0h2m0 0h2m7 0h2m4 0h2m3 0h2m3 0h2m3 0h2m-1 0h2m5 0h2m3 0h2m2 0h2m-1 0h2m0 0h2m-1 0h2m0 0h2m1 0h2m0 0h2m1 0h2m-2 0h2m6 0h2m-1 0h2m-1 0h2m-2 0h2m2 0h2m1 0h2m0 0h2m-2 0h2m-1 0h2m4 0h2m-1 0h2m0 0h2m5 0h2m0 0h2m-1 0h2m-1 0h2m11 0h2m13 0h2m2 0h2m4 0h2m7 0h2m-2 0h2m13 0h2m12 0h2m13 0h2m28 0h2m-308 1h2m36 0h2m6 0h2m24 0h2m1 0h2m6 0h2m0 0h2m2 0h2m12 0h2m5 0h2m5 0h2m1 0h2m-1 0h2m13 0h2m3 0h2m2 0h2m0 0h2m13 0h2m2 0h2m0 0h2m6 0h2m8 0h2m4 0h2m10 0h2m7 0h2m1 0h2m0 0h2m0 0h2m11 0h2m-1 0h2m-2 0h2m0 0h2m2 0h2m5 0h2m-1 0h2m2 0h2m32 0h2m46 0h2m-298 1h2m31 0h2m0 0h2m23 0h2m7 0h2m0 0h2m-1 0h2m6 0h2m-1 0h2m1 0h2m3 0h2m-1 0h2m7 0h2m5 0h2m3 0h2m5 0h2m4 0h2m-1 0h2m4 0h2m-2 0h2m-1 0h2m2 0h2m3 0h2m6 0h2m1 0h2m3 0h2m-1 0h2m0 0h2m-2 0h2m2 0h2m1 0h2m9 0h2m-1 0h2m6 0h2m10 0h2m7 0h2m1 0h2m2 0h2m0 0h2m3 0h2m7 0h2m10 0h2m17 0h2m-1 0h2m-322 1h2m19 0h2m12 0h2m18 0h2m16 0h2m9 0h2m11 0h2m-2 0h2m-1 0h2m28 0h2m0 0h2m0 0h2m1 0h2m-1 0h2m-1 0h2m-1 0h2m26 0h2m1 0h2m10 0h2m1 0h2m-2 0h2m2 0h2m15 0h2m1 0h2m1 0h2m1 0h2m2 0h2m3 0h2m3 0h2m-1 0h2m-2 0h2m3 0h2m11 0h2m2 0h2m27 0h2m92 0h2m-345 1h2m14 0h2m37 0h2m11 0h2m3 0h2m-1 0h2m0 0h2m-1 0h2m-2 0h2m16 0h2m-1 0h2m0 0h2m0 0h2m14 0h2m1 0h2m-1 0h2m-1 0h2m0 0h2m3 0h2m2 0h2m-2 0h2m7 0h2m1 0h2m0 0h2m14 0h2m1 0h2m-1 0h2m1 0h2m-2 0h2m-1 0h2m5 0h2m4 0h2m12 0h2m5 0h2m2 0h2m5 0h2m-1 0h2m-193 1h2m4 0h2m2 0h2m11 0h2m0 0h2m-2 0h2m2 0h2m8 0h2m5 0h2m-1 0h2m0 0h2m1 0h2m5 0h2m3 0h2m9 0h2m-1 0h2m-1 0h2m1 0h2m-2 0h2m2 0h2m0 0h2m0 0h2m7 0h2m2 0h2m-2 0h2m0 0h2m1 0h2m-1 0h2m3 0h2m0 0h2m0 0h2m2 0h2m8 0h2m-1 0h2m6 0h2m1 0h2m5 0h2m-2 0h2m1 0h2m11 0h2m1 0h2m2 0h2m17 0h2m-2 0h2m0 0h2m6 0h2m3 0h2m6 0h2m17 0h2m56 0h2m-333 1h2m10 0h2m2 0h2m5 0h2m76 0h2m1 0h2m0 0h2m-1 0h2m-2 0h2m12 0h2m2 0h2m-1 0h2m-1 0h2m6 0h2m23 0h2m-1 0h2m6 0h2m-1 0h2m2 0h2m8 0h2m4 0h2m53 0h2m5 0h2m4 0h2m-1 0h2m16 0h2m29 0h2m2 0h2m27 0h2m-295 1h2m16 0h2m9 0h2m6 0h2m2 0h2m9 0h2m1 0h2m7 0h2m-1 0h2m1 0h2m11 0h2m-1 0h2m-1 0h2m0 0h2m0 0h2m1 0h2m-1 0h2m-1 0h2m4 0h2m3 0h2m-2 0h2m0 0h2m9 0h2m5 0h2m0 0h2m0 0h2m0 0h2m-1 0h2m4 0h2m1 0h2m1 0h2m-1 0h2m0 0h2m1 0h2m-1 0h2m6 0h2m-2 0h2m15 0h2m-1 0h2m12 0h2m12 0h2m1 0h2m4 0h2m11 0h2m110 0h2m-341 1h2m-1 0h2m14 0h2m-2 0h2m-2 0h2m14 0h2m3 0h2m0 0h2m-2 0h2m17 0h2m2 0h2m0 0h2m2 0h2m3 0h2m7 0h2m-1 0h2m10 0h2m0 0h2m3 0h2m7 0h2m10 0h2m4 0h2m-1 0h2m1 0h2m-1 0h2m0 0h2m7 0h2m2 0h2m1 0h2m0 0h2m4 0h2m1 0h2m4 0h2m7 0h2m2 0h2m1 0h2m-1 0h2m-2 0h2m-2 0h2m0 0h2m10 0h2m2 0h2m1 0h2m27 0h2m-1 0h2m15 0h2m-273 1h2m5 0h2m5 0h2m-1 0h2m12 0h2m15 0h2m26 0h2m2 0h2m-2 0h2m3 0h2m1 0h2m-1 0h2m-1 0h2m1 0h2m5 0h2m6 0h2m4 0h2m3 0h2m5 0h2m12 0h2m-2 0h2m-1 0h2m3 0h2m-1 0h2m12 0h2m6 0h2m9 0h2m9 0h2m3 0h2m0 0h2m0 0h2m-1 0h2m4 0h2m2 0h2m3 0h2m12 0h2m11 0h2m5 0h2m-2 0h2m13 0h2m-321 1h2m73 0h2m17 0h2m2 0h2m18 0h2m-2 0h2m-1 0h2m1 0h2m8 0h2m4 0h2m12 0h2m-2 0h2m9 0h2m0 0h2m1 0h2m1 0h2m4 0h2m-1 0h2m2 0h2m1 0h2m-1 0h2m-1 0h2m2 0h2m-1 0h2m-1 0h2m1 0h2m5 0h2m1 0h2m9 0h2m-2 0h2m-1 0h2m-2 0h2m0 0h2m14 0h2m4 0h2m9 0h2m4 0h2m0 0h2m9 0h2m8 0h2m5 0h2m21 0h2m-270 1h2m15 0h2m2 0h2m11 0h2m8 0h2m16 0h2m-1 0h2m3 0h2m-1 0h2m-2 0h2m10 0h2m-1 0h2m0 0h2m3 0h2m-1 0h2m-1 0h2m3 0h2m4 0h2m0 0h2m-1 0h2m9 0h2m10 0h2m12 0h2m1 0h2m4 0h2m1 0h2m-1 0h2m1 0h2m2 0h2m-1 0h2m7 0h2m-1 0h2m1 0h2m7 0h2m25 0h2m4 0h2m4 0h2m-1 0h2m5 0h2m0 0h2m8 0h2m2 0h2m47 0h2m-292 1h2m18 0h2m20 0h2m3 0h2m10 0h2m19 0h2m10 0h2m12 0h2m-2 0h2m1 0h2m1 0h2m6 0h2m-1 0h2m4 0h2m-1 0h2m3 0h2m1 0h2m4 0h2m6 0h2m-2 0h2m1 0h2m5 0h2m0 0h2m2 0h2m7 0h2m0 0h2m-2 0h2m0 0h2m14 0h2m5 0h2m1 0h2m1 0h2m13 0h2m-1 0h2m3 0h2m2 0h2m8 0h2m19 0h2m-288 1h2m12 0h2m26 0h2m-2 0h2m8 0h2m-2 0h2m10 0h2m0 0h2m0 0h2m20 0h2m2 0h2m0 0h2m10 0h2m-2 0h2m-1 0h2m1 0h2m-2 0h2m3 0h2m0 0h2m-1 0h2m0 0h2m9 0h2m0 0h2m5 0h2m7 0h2m2 0h2m4 0h2m0 0h2m-1 0h2m-2 0h2m-1 0h2m1 0h2m1 0h2m9 0h2m0 0h2m3 0h2m20 0h2m3 0h2m5 0h2m0 0h2m16 0h2m-1 0h2m6 0h2m41 0h2m26 0h2m-287 1h2m5 0h2m13 0h2m21 0h2m3 0h2m5 0h2m14 0h2m0 0h2m5 0h2m0 0h2m2 0h2m0 0h2m6 0h2m-2 0h2m2 0h2m7 0h2m10 0h2m0 0h2m0 0h2m0 0h2m0 0h2m1 0h2m2 0h2m6 0h2m1 0h2m6 0h2m4 0h2m-1 0h2m0 0h2m1 0h2m3 0h2m2 0h2m5 0h2m-1 0h2m1 0h2m4 0h2m3 0h2m7 0h2m13 0h2m-313 1h2m106 0h2m-1 0h2m-1 0h2m2 0h2m0 0h2m12 0h2m6 0h2m-1 0h2m0 0h2m0 0h2m1 0h2m7 0h2m3 0h2m0 0h2m-2 0h2m3 0h2m-1 0h2m-1 0h2m10 0h2m0 0h2m1 0h2m-1 0h2m10 0h2m8 0h2m0 0h2m-1 0h2m-2 0h2m0 0h2m9 0h2m-1 0h2m0 0h2m-1 0h2m0 0h2m1 0h2m1 0h2m1 0h2m-1 0h2m7 0h2m1 0h2m0 0h2m4 0h2m2 0h2m4 0h2m8 0h2m32 0h2m61 0h2m-313 1h2m10 0h2m21 0h2m13 0h2m-1 0h2m12 0h2m10 0h2m5 0h2m10 0h2m2 0h2m-1 0h2m0 0h2m0 0h2m1 0h2m-1 0h2m5 0h2m-1 0h2m2 0h2m-1 0h2m0 0h2m-2 0h2m4 0h2m-1 0h2m3 0h2m0 0h2m0 0h2m2 0h2m7 0h2m6 0h2m0 0h2m-1 0h2m2 0h2m1 0h2m9 0h2m9 0h2m-2 0h2m7 0h2m7 0h2m2 0h2m-2 0h2m-220 1h2m35 0h2m1 0h2m-1 0h2m-2 0h2m10 0h2m5 0h2m4 0h2m19 0h2m1 0h2m8 0h2m-1 0h2m2 0h2m0 0h2m-1 0h2m5 0h2m8 0h2m-2 0h2m-2 0h2m5 0h2m2 0h2m4 0h2m5 0h2m1 0h2m1 0h2m2 0h2m-2 0h2m2 0h2m-2 0h2m-1 0h2m-1 0h2m8 0h2m4 0h2m8 0h2m0 0h2m2 0h2m-2 0h2m-2 0h2m-1 0h2m8 0h2m-2 0h2m5 0h2m18 0h2m31 0h2m21 0h2m3 0h2m130 0h2m-410 1h2m37 0h2m2 0h2m8 0h2m7 0h2m3 0h2m5 0h2m8 0h2m1 0h2m6 0h2m3 0h2m-2 0h2m-1 0h2m0 0h2m0 0h2m0 0h2m1 0h2m-1 0h2m5 0h2m5 0h2m2 0h2m0 0h2m2 0h2m-1 0h2m4 0h2m0 0h2m-1 0h2m30 0h2m-1 0h2m2 0h2m3 0h2m11 0h2m11 0h2m13 0h2m10 0h2m54 0h2m-357 1h2m65 0h2m48 0h2m17 0h2m-1 0h2m-2 0h2m2 0h2m13 0h2m3 0h2m4 0h2m0 0h2m1 0h2m1 0h2m-2 0h2m4 0h2m2 0h2m-1 0h2m5 0h2m-2 0h2m23 0h2m6 0h2m6 0h2m9 0h2m-1 0h2m-2 0h2m6 0h2m7 0h2m28 0h2m2 0h2m2 0h2m9 0h2m-1 0h2m-261 1h2m13 0h2m9 0h2m46 0h2m22 0h2m15 0h2m5 0h2m9 0h2m0 0h2m-1 0h2m3 0h2m6 0h2m-1 0h2m12 0h2m26 0h2m0 0h2m7 0h2m5 0h2m7 0h2m4 0h2m0 0h2m-2 0h2m8 0h2m12 0h2m11 0h2m-217 1h2m4 0h2m4 0h2m3 0h2m3 0h2m-2 0h2m3 0h2m2 0h2m5 0h2m15 0h2m16 0h2m11 0h2m11 0h2m8 0h2m-2 0h2m2 0h2m4 0h2m-1 0h2m1 0h2m-1 0h2m1 0h2m4 0h2m-1 0h2m30 0h2m2 0h2m-1 0h2m7 0h2m15 0h2m-244 1h2m27 0h2m-1 0h2m23 0h2m0 0h2m7 0h2m16 0h2m0 0h2m1 0h2m7 0h2m-2 0h2m-1 0h2m6 0h2m0 0h2m1 0h2m0 0h2m-1 0h2m6 0h2m-2 0h2m8 0h2m-2 0h2m2 0h2m0 0h2m-2 0h2m0 0h2m5 0h2m3 0h2m4 0h2m3 0h2m2 0h2m9 0h2m10 0h2m-2 0h2m-1 0h2m21 0h2m15 0h2m3 0h2m10 0h2m34 0h2m-287 1h2m7 0h2m4 0h2m2 0h2m-1 0h2m9 0h2m11 0h2m3 0h2m7 0h2m0 0h2m2 0h2m6 0h2m-1 0h2m1 0h2m9 0h2m2 0h2m2 0h2m4 0h2m1 0h2m0 0h2m-1 0h2m-2 0h2m5 0h2m3 0h2m10 0h2m-1 0h2m8 0h2m2 0h2m8 0h2m0 0h2m2 0h2m1 0h2m-1 0h2m32 0h2m2 0h2m3 0h2m-211 1h2m5 0h2m25 0h2m18 0h2m18 0h2m11 0h2m10 0h2m-1 0h2m1 0h2m1 0h2m3 0h2m-1 0h2m1 0h2m0 0h2m0 0h2m5 0h2m2 0h2m-1 0h2m0 0h2m0 0h2m2 0h2m9 0h2m9 0h2m0 0h2m-2 0h2m15 0h2m0 0h2m-2 0h2m0 0h2m11 0h2m5 0h2m17 0h2m31 0h2m5 0h2m43 0h2m-291 1h2m7 0h2m-1 0h2m-1 0h2m17 0h2m-2 0h2m-2 0h2m6 0h2m3 0h2m7 0h2m1 0h2m7 0h2m-1 0h2m18 0h2m10 0h2m14 0h2m12 0h2m1 0h2m-2 0h2m0 0h2m-1 0h2m2 0h2m-1 0h2m1 0h2m2 0h2m-1 0h2m-1 0h2m3 0h2m14 0h2m11 0h2m16 0h2m7 0h2m-1 0h2m-289 1h2m26 0h2m67 0h2m8 0h2m12 0h2m-1 0h2m11 0h2m0 0h2m-2 0h2m2 0h2m2 0h2m1 0h2m0 0h2m8 0h2m6 0h2m6 0h2m7 0h2m0 0h2m-1 0h2m2 0h2m8 0h2m2 0h2m-1 0h2m18 0h2m3 0h2m3 0h2m6 0h2m-1 0h2m5 0h2m12 0h2m12 0h2m-1 0h2m-1 0h2m5 0h2m11 0h2m17 0h2m1 0h2m-296 1h2m41 0h2m9 0h2m1 0h2m17 0h2m8 0h2m9 0h2m4 0h2m12 0h2m2 0h2m0 0h2m-1 0h2m4 0h2m5 0h2m8 0h2m12 0h2m4 0h2m0 0h2m1 0h2m11 0h2m2 0h2m2 0h2m5 0h2m-1 0h2m-1 0h2m-1 0h2m0 0h2m20 0h2m2 0h2m22 0h2m2 0h2m-195 1h2m6 0h2m2 0h2m6 0h2m21 0h2m0 0h2m-2 0h2m0 0h2m1 0h2m3 0h2m1 0h2m1 0h2m5 0h2m1 0h2m5 0h2m0 0h2m3 0h2m0 0h2m4 0h2m5 0h2m3 0h2m1 0h2m12 0h2m1 0h2m22 0h2m1 0h2m7 0h2m0 0h2m1 0h2m13 0h2m4 0h2m-1 0h2m17 0h2m-262 1h2m43 0h2m5 0h2m16 0h2m1 0h2m6 0h2m7 0h2m2 0h2m8 0h2m11 0h2m4 0h2m3 0h2m3 0h2m3 0h2m1 0h2m-2 0h2m10 0h2m1 0h2m-2 0h2m4 0h2m0 0h2m5 0h2m1 0h2m11 0h2m-1 0h2m2 0h2m4 0h2m2 0h2m6 0h2m12 0h2m17 0h2m49 0h2m19 0h2m-366 1h2m20 0h2m99 0h2m-1 0h2m-2 0h2m4 0h2m0 0h2m16 0h2m-1 0h2m8 0h2m-1 0h2m-2 0h2m1 0h2m2 0h2m-1 0h2m-1 0h2m0 0h2m19 0h2m10 0h2m1 0h2m12 0h2m12 0h2m4 0h2m7 0h2m2 0h2m6 0h2m70 0h2m15 0h2m12 0h2m-288 1h2m39 0h2m-1 0h2m10 0h2m6 0h2m10 0h2m0 0h2m4 0h2m15 0h2m-2 0h2m1 0h2m-1 0h2m3 0h2m1 0h2m3 0h2m-2 0h2m6 0h2m0 0h2m-1 0h2m-1 0h2m1 0h2m-1 0h2m22 0h2m2 0h2m3 0h2m13 0h2m-1 0h2m6 0h2m-249 1h2m29 0h2m5 0h2m0 0h2m10 0h2m37 0h2m11 0h2m5 0h2m7 0h2m1 0h2m4 0h2m0 0h2m14 0h2m-2 0h2m1 0h2m3 0h2m0 0h2m4 0h2m3 0h2m6 0h2m6 0h2m-1 0h2m-1 0h2m9 0h2m54 0h2m-2 0h2m2 0h2m-1 0h2m6 0h2m-225 1h2m41 0h2m4 0h2m2 0h2m23 0h2m6 0h2m1 0h2m6 0h2m-2 0h2m2 0h2m-1 0h2m-1 0h2m-1 0h2m6 0h2m10 0h2m3 0h2m3 0h2m2 0h2m3 0h2m10 0h2m2 0h2m14 0h2m-2 0h2m-1 0h2m6 0h2m33 0h2m14 0h2m-1 0h2m0 0h2m47 0h2m-289 1h2m10 0h2m4 0h2m21 0h2m16 0h2m4 0h2m1 0h2m5 0h2m1 0h2m1 0h2m-2 0h2m6 0h2m4 0h2m-1 0h2m4 0h2m23 0h2m5 0h2m14 0h2m3 0h2m-1 0h2m7 0h2m9 0h2m-2 0h2m17 0h2m2 0h2m24 0h2m18 0h2m12 0h2m35 0h2m-284 1h2m13 0h2m24 0h2m-1 0h2m4 0h2m0 0h2m4 0h2m15 0h2m3 0h2m2 0h2m5 0h2m1 0h2m0 0h2m1 0h2m2 0h2m-1 0h2m4 0h2m2 0h2m0 0h2m2 0h2m-1 0h2m3 0h2m2 0h2m4 0h2m1 0h2m1 0h2m8 0h2m-2 0h2m9 0h2m8 0h2m-2 0h2m32 0h2m-264 1h2m46 0h2m47 0h2m11 0h2m0 0h2m-1 0h2m1 0h2m8 0h2m1 0h2m12 0h2m-1 0h2m0 0h2m-1 0h2m2 0h2m-2 0h2m7 0h2m2 0h2m-2 0h2m4 0h2m-1 0h2m-1 0h2m13 0h2m7 0h2m8 0h2m81 0h2m13 0h2m-307 1h2m31 0h2m6 0h2m22 0h2m14 0h2m0 0h2m15 0h2m2 0h2m26 0h2m-1 0h2m4 0h2m6 0h2m0 0h2m4 0h2m11 0h2m12 0h2m-2 0h2m3 0h2m13 0h2m5 0h2m3 0h2m15 0h2m1 0h2m-1 0h2m-1 0h2m7 0h2m5 0h2m15 0h2m1 0h2m-214 1h2m9 0h2m13 0h2m12 0h2m2 0h2m1 0h2m11 0h2m0 0h2m-1 0h2m7 0h2m-2 0h2m9 0h2m-1 0h2m6 0h2m14 0h2m1 0h2m5 0h2m4 0h2m2 0h2m5 0h2m-2 0h2m5 0h2m1 0h2m-2 0h2m0 0h2m30 0h2m-1 0h2m10 0h2m15 0h2m3 0h2m8 0h2m10 0h2m128 0h2m-453 1h2m81 0h2m5 0h2m10 0h2m31 0h2m7 0h2m-2 0h2m28 0h2m19 0h2m1 0h2m29 0h2m7 0h2m9 0h2m30 0h2m15 0h2m-198 1h2m-1 0h2m19 0h2m6 0h2m13 0h2m-1 0h2m0 0h2m1 0h2m10 0h2m-1 0h2m6 0h2m18 0h2m3 0h2m6 0h2m6 0h2m9 0h2m23 0h2m-1 0h2m8 0h2m27 0h2m54 0h2m-352 1h2m76 0h2m11 0h2m13 0h2m0 0h2m4 0h2m22 0h2m-1 0h2m19 0h2m0 0h2m0 0h2m-1 0h2m4 0h2m1 0h2m-1 0h2m5 0h2m2 0h2m3 0h2m-1 0h2m6 0h2m10 0h2m2 0h2m3 0h2m5 0h2m1 0h2m1 0h2m0 0h2m2 0h2m1 0h2m11 0h2m8 0h2m29 0h2m33 0h2m-305 1h2m26 0h2m24 0h2m15 0h2m3 0h2m26 0h2m19 0h2m14 0h2m-1 0h2m1 0h2m-1 0h2m1 0h2m4 0h2m0 0h2m9 0h2m1 0h2m1 0h2m8 0h2m0 0h2m5 0h2m2 0h2m6 0h2m12 0h2m0 0h2m1 0h2m-1 0h2m20 0h2m37 0h2m2 0h2m21 0h2m-279 1h2m4 0h2m4 0h2m40 0h2m11 0h2m0 0h2m15 0h2m0 0h2m5 0h2m4 0h2m-1 0h2m-2 0h2m16 0h2m2 0h2m8 0h2m7 0h2m2 0h2m11 0h2m0 0h2m0 0h2m-2 0h2m0 0h2m2 0h2m30 0h2m9 0h2m4 0h2m-252 1h2m2 0h2m0 0h2m29 0h2m2 0h2m14 0h2m8 0h2m1 0h2m-1 0h2m20 0h2m-1 0h2m6 0h2m11 0h2m15 0h2m21 0h2m-2 0h2m0 0h2m1 0h2m11 0h2m-2 0h2m-1 0h2m7 0h2m-1 0h2m17 0h2m10 0h2m-1 0h2m5 0h2m0 0h2m1 0h2m8 0h2m10 0h2m12 0h2m60 0h2m-280 1h2m7 0h2m10 0h2m14 0h2m11 0h2m20 0h2m0 0h2m7 0h2m4 0h2m5 0h2m-1 0h2m9 0h2m3 0h2m24 0h2m8 0h2m-1 0h2m2 0h2m2 0h2m2 0h2m1 0h2m6 0h2m13 0h2m4 0h2m22 0h2m51 0h2m-286 1h2m25 0h2m6 0h2m15 0h2m11 0h2m3 0h2m3 0h2m10 0h2m1 0h2m2 0h2m-1 0h2m16 0h2m-1 0h2m-2 0h2m-2 0h2m2 0h2m8 0h2m16 0h2m7 0h2m0 0h2m-1 0h2m8 0h2m7 0h2m-1 0h2m7 0h2m-2 0h2m14 0h2m4 0h2m0 0h2m147 0h2m-379 1h2m28 0h2m4 0h2m35 0h2m-2 0h2m1 0h2m9 0h2m-2 0h2m11 0h2m-1 0h2m3 0h2m2 0h2m8 0h2m8 0h2m3 0h2m4 0h2m6 0h2m11 0h2m-1 0h2m4 0h2m7 0h2m-1 0h2m8 0h2m1 0h2m14 0h2m14 0h2m36 0h2m-1 0h2m126 0h2m-368 1h2m31 0h2m14 0h2m20 0h2m21 0h2m1 0h2m0 0h2m7 0h2m4 0h2m16 0h2m9 0h2m8 0h2m5 0h2m4 0h2m3 0h2m0 0h2m0 0h2m3 0h2m18 0h2m0 0h2m2 0h2m28 0h2m-218 1h2m-2 0h2m29 0h2m0 0h2m19 0h2m1 0h2m1 0h2m31 0h2m5 0h2m31 0h2m-1 0h2m3 0h2m-1 0h2m41 0h2m10 0h2m10 0h2m5 0h2m4 0h2m-275 1h2m13 0h2m43 0h2m22 0h2m3 0h2m7 0h2m-2 0h2m22 0h2m4 0h2m2 0h2m1 0h2m-2 0h2m9 0h2m1 0h2m12 0h2m13 0h2m15 0h2m6 0h2m10 0h2m34 0h2m28 0h2m2 0h2m1 0h2m-286 1h2m70 0h2m14 0h2m0 0h2m5 0h2m19 0h2m-1 0h2m7 0h2m2 0h2m1 0h2m0 0h2m7 0h2m8 0h2m7 0h2m2 0h2m1 0h2m-1 0h2m5 0h2m10 0h2m1 0h2m-1 0h2m-1 0h2m9 0h2m3 0h2m4 0h2m5 0h2m2 0h2m3 0h2m35 0h2m-217 1h2m10 0h2m9 0h2m-1 0h2m2 0h2m1 0h2m5 0h2m1 0h2m-1 0h2m2 0h2m8 0h2m9 0h2m7 0h2m12 0h2m2 0h2m0 0h2m3 0h2m22 0h2m2 0h2m0 0h2m0 0h2m3 0h2m15 0h2m24 0h2m1 0h2m20 0h2m2 0h2m2 0h2m11 0h2m-219 1h2m-1 0h2m25 0h2m0 0h2m2 0h2m8 0h2m2 0h2m1 0h2m14 0h2m9 0h2m2 0h2m2 0h2m-1 0h2m3 0h2m6 0h2m9 0h2m10 0h2m17 0h2m-2 0h2m8 0h2m50 0h2m40 0h2m-339 1h2m80 0h2m25 0h2m-1 0h2m-2 0h2m-1 0h2m3 0h2m1 0h2m12 0h2m0 0h2m8 0h2m9 0h2m-2 0h2m0 0h2m1 0h2m15 0h2m-1 0h2m22 0h2m5 0h2m11 0h2m8 0h2m-1 0h2m7 0h2m41 0h2m-224 1h2m4 0h2m13 0h2m3 0h2m2 0h2m16 0h2m-1 0h2m8 0h2m-1 0h2m15 0h2m1 0h2m4 0h2m-2 0h2m1 0h2m9 0h2m6 0h2m-1 0h2m-2 0h2m1 0h2m11 0h2m1 0h2m1 0h2m13 0h2m5 0h2m9 0h2m10 0h2m5 0h2m12 0h2m7 0h2m24 0h2m19 0h2m50 0h2m-309 1h2m34 0h2m9 0h2m5 0h2m11 0h2m0 0h2m3 0h2m-1 0h2m16 0h2m5 0h2m2 0h2m15 0h2m0 0h2m8 0h2m0 0h2m1 0h2m1 0h2m4 0h2m17 0h2m32 0h2m-208 1h2m1 0h2m15 0h2m31 0h2m2 0h2m15 0h2m2 0h2m7 0h2m2 0h2m22 0h2m23 0h2m3 0h2m5 0h2m2 0h2m2 0h2m9 0h2m7 0h2m81 0h2m-248 1h2m20 0h2m8 0h2m4 0h2m4 0h2m-1 0h2m0 0h2m3 0h2m1 0h2m3 0h2m-1 0h2m2 0h2m7 0h2m9 0h2m27 0h2m2 0h2m-1 0h2m-1 0h2m-1 0h2m17 0h2m48 0h2m-1 0h2m13 0h2m3 0h2m-309 1h2m57 0h2m31 0h2m14 0h2m8 0h2m16 0h2m11 0h2m-1 0h2m2 0h2m15 0h2m7 0h2m5 0h2m1 0h2m-1 0h2m2 0h2m1 0h2m-1 0h2m-1 0h2m0 0h2m7 0h2m-1 0h2m6 0h2m16 0h2m-1 0h2m13 0h2m0 0h2m27 0h2m24 0h2m21 0h2m-229 1h2m8 0h2m3 0h2m-2 0h2m29 0h2m-2 0h2m-2 0h2m35 0h2m8 0h2m3 0h2m8 0h2m5 0h2m36 0h2m5 0h2m17 0h2m-138 1h2m5 0h2m13 0h2m15 0h2m1 0h2m1 0h2m9 0h2m0 0h2m1 0h2m1 0h2m8 0h2m-2 0h2m14 0h2m9 0h2m10 0h2m17 0h2m-209 1h2m70 0h2m-1 0h2m4 0h2m3 0h2m-1 0h2m3 0h2m13 0h2m11 0h2m10 0h2m-2 0h2m0 0h2m16 0h2m9 0h2m0 0h2m-1 0h2m5 0h2m6 0h2m7 0h2m0 0h2m-253 1h2m38 0h2m45 0h2m14 0h2m14 0h2m1 0h2m2 0h2m9 0h2m0 0h2m-2 0h2m7 0h2m13 0h2m4 0h2m3 0h2m14 0h2m8 0h2m6 0h2m-1 0h2m-1 0h2m33 0h2m8 0h2m-137 1h2m0 0h2m1 0h2m17 0h2m13 0h2m15 0h2m0 0h2m1 0h2m0 0h2m3 0h2m9 0h2m-1 0h2m3 0h2m13 0h2m9 0h2m0 0h2m5 0h2m6 0h2m-207 1h2m33 0h2m32 0h2m20 0h2m11 0h2m-1 0h2m-2 0h2m6 0h2m7 0h2m4 0h2m-1 0h2m3 0h2m7 0h2m7 0h2m20 0h2m4 0h2m-2 0h2m0 0h2m-1 0h2m16 0h2m27 0h2m-284 1h2m124 0h2m-1 0h2m10 0h2m6 0h2m1 0h2m4 0h2m-1 0h2m35 0h2m15 0h2m14 0h2m4 0h2m16 0h2m13 0h2m28 0h2m0 0h2m7 0h2m-257 1h2m24 0h2m34 0h2m23 0h2m1 0h2m-1 0h2m17 0h2m31 0h2m7 0h2m-2 0h2m1 0h2m18 0h2m15 0h2m1 0h2m0 0h2m-188 1h2m68 0h2m9 0h2m24 0h2m2 0h2m13 0h2m18 0h2m0 0h2m2 0h2m18 0h2m10 0h2m24 0h2m30 0h2m-189 1h2m7 0h2m33 0h2m13 0h2m17 0h2m2 0h2m43 0h2m14 0h2m4 0h2m39 0h2m-208 1h2m26 0h2m29 0h2m-2 0h2m4 0h2m17 0h2m21 0h2m-2 0h2m0 0h2m36 0h2m-1 0h2m4 0h2m10 0h2m-2 0h2m56 0h2m-212 1h2m11 0h2m26 0h2m18 0h2m3 0h2m1 0h2m-1 0h2m11 0h2m-1 0h2m9 0h2m3 0h2m10 0h2m-2 0h2m9 0h2m79 0h2m18 0h2m-302 1h2m52 0h2m26 0h2m9 0h2m8 0h2m11 0h2m-1 0h2m9 0h2m21 0h2m2 0h2m77 0h2m8 0h2m-196 1h2m12 0h2m9 0h2m0 0h2m-1 0h2m10 0h2m6 0h2m1 0h2m10 0h2m1 0h2m-2 0h2m-1 0h2m38 0h2m2 0h2m-1 0h2m8 0h2m6 0h2m4 0h2m5 0h2m10 0h2m10 0h2m33 0h2m8 0h2m-229 1h2m6 0h2m16 0h2m1 0h2m-1 0h2m5 0h2m4 0h2m1 0h2m12 0h2m18 0h2m-2 0h2m1 0h2m3 0h2m0 0h2m0 0h2m3 0h2m32 0h2m42 0h2m37 0h2m2 0h2m9 0h2m27 0h2m-210 1h2m15 0h2m0 0h2m31 0h2m16 0h2m7 0h2m14 0h2m0 0h2m43 0h2m-218 1h2m2 0h2m67 0h2m9 0h2m5 0h2m0 0h2m15 0h2m1 0h2m32 0h2m15 0h2m18 0h2m2 0h2m6 0h2m6 0h2m0 0h2m-219 1h2m20 0h2m40 0h2m6 0h2m11 0h2m7 0h2m22 0h2m10 0h2m-1 0h2m1 0h2m1 0h2m5 0h2m-1 0h2m4 0h2m0 0h2m-2 0h2m9 0h2m11 0h2m17 0h2m10 0h2m8 0h2m9 0h2m4 0h2m19 0h2m0 0h2m-213 1h2m6 0h2m11 0h2m54 0h2m45 0h2m7 0h2m0 0h2m2 0h2m36 0h2m10 0h2m32 0h2m-166 1h2m6 0h2m35 0h2m7 0h2m3 0h2m1 0h2m16 0h2m-1 0h2m1 0h2m50 0h2m75 0h2m-290 1h2m12 0h2m2 0h2m25 0h2m0 0h2m8 0h2m18 0h2m9 0h2m3 0h2m-2 0h2m4 0h2m13 0h2m10 0h2m-1 0h2m6 0h2m12 0h2m9 0h2m20 0h2m23 0h2m-161 1h2m41 0h2m0 0h2m-2 0h2m4 0h2m17 0h2m2 0h2m29 0h2m4 0h2m-1 0h2m23 0h2m83 0h2m-248 1h2m60 0h2m12 0h2m59 0h2m19 0h2m59 0h2m1 0h2m-249 1h2m12 0h2m0 0h2m57 0h2m9 0h2m8 0h2m40 0h2m8 0h2m10 0h2m13 0h2m13 0h2m21 0h2m16 0h2m-228 1h2m17 0h2m61 0h2m10 0h2m18 0h2m0 0h2m12 0h2m11 0h2m11 0h2m24 0h2m18 0h2m2 0h2m77 0h2m-258 1h2m4 0h2m5 0h2m25 0h2m16 0h2m17 0h2m20 0h2m19 0h2m23 0h2m5 0h2m31 0h2m38 0h2m-267 1h2m39 0h2m34 0h2m13 0h2m-2 0h2m-1 0h2m14 0h2m18 0h2m-134 1h2m47 0h2m17 0h2m8 0h2m21 0h2m7 0h2m4 0h2m-2 0h2m-1 0h2m6 0h2m35 0h2m18 0h2m-152 1h2m25 0h2m23 0h2m3 0h2m14 0h2m16 0h2m7 0h2m-1 0h2m24 0h2m10 0h2m-153 1h2m54 0h2m40 0h2m51 0h2m7 0h2m35 0h2m-180 1h2m20 0h2m29 0h2m2 0h2m31 0h2m7 0h2m28 0h2m17 0h2m50 0h2m-1 0h2m56 0h2m-242 1h2m-2 0h2m20 0h2m12 0h2m20 0h2m43 0h2m16 0h2m1 0h2m20 0h2m56 0h2m-190 1h2m36 0h2m3 0h2m121 0h2m-158 1h2m1 0h2m1 0h2m-1 0h2m27 0h2m13 0h2m10 0h2m12 0h2m10 0h2m18 0h2m-2 0h2m11 0h2m10 0h2m-214 1h2m28 0h2m29 0h2m45 0h2m20 0h2m2 0h2m1 0h2m4 0h2m-1 0h2m16 0h2m2 0h2m12 0h2m13 0h2m2 0h2m32 0h2m-193 1h2m24 0h2m36 0h2m1 0h2m10 0h2m21 0h2m14 0h2m-31 1h2m4 0h2m17 0h2m5 0h2m7 0h2m45 0h2m-277 1h2m103 0h2m6 0h2m18 0h2m0 0h2m41 0h2m50 0h2m7 0h2m17 0h2m42 0h2m25 0h2m-263 1h2m59 0h2m1 0h2m-2 0h2m7 0h2m17 0h2m-1 0h2m10 0h2m0 0h2m30 0h2m55 0h2m-150 1h2m14 0h2m9 0h2m9 0h2m-1 0h2m10 0h2m17 0h2m17 0h2m13 0h2m36 0h2m-187 1h2m54 0h2m20 0h2m14 0h2m25 0h2m1 0h2m12 0h2m8 0h2m5 0h2m21 0h2m-28 1h2m8 0h2m50 0h2m-2 0h2m-226 1h2m84 0h2m-1 0h2m26 0h2m0 0h2m5 0h2m18 0h2m5 0h2m74 0h2m-251 1h2m67 0h2m3 0h2m31 0h2m8 0h2m-1 0h2m20 0h2m4 0h2m11 0h2m9 0h2m3 0h2m30 0h2m3 0h2m27 0h2m-244 1h2m64 0h2m69 0h2m26 0h2m18 0h2m4 0h2m-124 1h2m31 0h2m13 0h2m11 0h2m38 0h2m-1 0h2m9 0h2m8 0h2m19 0h2m-124 1h2m10 0h2m34 0h2m36 0h2m-95 1h2m12 0h2m18 0h2m8 0h2m5 0h2m9 0h2m11 0h2m123 0h2m-203 1h2m54 0h2m8 0h2m4 0h2m9 0h2m1 0h2m-155 1h2m93 0h2m15 0h2m58 0h2m1 0h2m-158 1h2m18 0h2m100 0h2m15 0h2m0 0h2m40 0h2m190 0h2m-300 1h2m20 0h2m0 0h2m3 0h2m7 0h2m20 0h2m31 0h2m26 0h2m-193 1h2m52 0h2m34 0h2m50 0h2m12 0h2m-155 1h2m33 0h2m32 0h2m17 0h2m34 0h2m36 0h2m-218 1h2m71 0h2m33 0h2m10 0h2m53 0h2m8 0h2m1 0h2m15 0h2m57 0h2m-210 1h2m21 0h2m31 0h2m25 0h2m6 0h2m12 0h2m5 0h2m10 0h2m18 0h2m18 0h2m-156 1h2m9 0h2m101 0h2m-98 1h2m15 0h2m6 0h2m13 0h2m47 0h2m205 0h2m-322 1h2m35 0h2m4 0h2m74 0h2m14 0h2m-14 1h2m44 0h2m-142 1h2m22 0h2m3 0h2m19 0h2m2 0h2m11 0h2m-186 1h2m60 0h2m53 0h2m43 0h2m0 0h2m29 0h2m116 0h2m57 0h2m-227 1h2m-1 0h2m13 0h2m7 0h2m6 0h2m11 0h2m66 0h2m-243 1h2m153 0h2m65 0h2m16 0h2m0 0h2m-218 1h2m117 0h2m-12 1h2m0 0h2m15 0h2m1 0h2m56 0h2m64 1h2m-145 1h2m7 0h2m8 0h2m34 0h2m63 0h2m-236 1h2m79 0h2m5 0h2m9 0h2m27 0h2m-134 1h2m225 0h2m-221 1h2m89 0h2m7 0h2m118 0h2m-155 1h2m2 0h2m26 0h2m20 0h2m5 0h2m-23 1h2m6 0h2m18 0h2m59 0h2m47 0h2m-205 1h2m56 0h2m50 0h2m-3 1h2m82 0h2m-191 2h2m81 0h2m103 1h2m-193 1h2m-1 0h2m115 0h2m-59 1h2m89 0h2m-50 1h2m40 0h2m69 0h2m-241 1h2m3 0h2m-16 1h2m16 0h2m102 0h2m118 0h2m11 0h2m-105 1h2m33 0h2m75 0h2m-168 1h2m28 0h2m6 0h2m7 0h2m46 0h2m-170 1h2m52 0h2m117 0h2m-35 1h2m47 0h2m-45 1h2m24 0h2m-160 1h2m63 0h2m1 0h2m82 0h2m10 0h2m-149 1h2m119 0h2m-82 1h2m-32 1h2m116 0h2m-179 2h2m79 1h2m-79 1h2m149 0h2m-24 1h2"/>
<path class="a" d="M406.4 812.4v-2.8M406.4 587.5v2.8M436.5 812.4v-2.8M436.5 587.5v2.8M466.6 812.4v-2.8M466.6 587.5v2.8M496.6 812.4v-2.8M496.6 587.5v2.8M526.7 812.4v-2.8M526.7 587.5v2.8M556.8 812.4v-2.8M556.8 587.5v2.8M586.8 812.4v-2.8M586.8 587.5v2.8M616.9 812.4v-2.8M616.9 587.5v2.8M646.9 812.4v-2.8M646.9 587.5v2.8M677 812.4v-2.8M677 587.5v2.8M399.6 803.1h2.8M684.2 803.1h-2.8M399.6 778.6h2.8M684.2 778.6h-2.8M399.6 754.2h2.8M684.2 754.2h-2.8M399.6 729.7h2.8M684.2 729.7h-2.8M399.6 705.2h2.8M684.2 705.2h-2.8M399.6 680.8h2.8M684.2 680.8h-2.8M399.6 656.3h2.8M684.2 656.3h-2.8M399.6 631.9h2.8M684.2 631.9h-2.8M399.6 607.4h2.8M684.2 607.4h-2.8"/>
<rect class="a" x="399.6" y="587.5" width="284.6" height="224.9"/>
<g clip-path="url(#c6)">
<path class="m" d="M400.7 587.7C400.9 590.1 401.2 596.6 402.1 601.8C403 607 404.4 613.2 406.3 618.9C408.2 624.6 410.5 630.2 413.4 635.9C416.2 641.6 420.1 647.7 423.4 652.9C426.7 658.1 430.6 662.9 433.3 667.1C436 671.4 438.3 674.9 439.8 678.4C441.3 681.9 442.1 685 442.3 688.3C442.5 691.6 441.9 694.4 440.9 698.2C439.9 702 438.3 706 436.1 711C433.9 716 430.7 721.9 427.6 728C424.5 734.1 420.8 741 417.7 747.9C414.6 754.8 411.6 762.2 409.2 769.1C406.8 776 404.9 782.9 403.5 789C402.1 795.1 401.3 802.2 400.7 806C400.1 809.8 400.2 810.8 400.1 811.7"/>
<path class="m" d="M400.1 811.7C404 811.7 416.7 811.9 423.4 811.6C430.1 811.4 434.7 811 440.4 810.2C446.1 809.4 452.2 808 457.4 806.6C462.6 805.2 466.9 803.6 471.6 801.7C476.3 799.8 481 797.6 485.7 795.2C490.4 792.9 495.6 789.8 499.9 787.6C504.1 785.4 507.9 783.3 511.2 781.9C514.5 780.5 517.2 779.6 519.8 779C522.4 778.4 524.2 778.1 526.8 778.2C529.4 778.3 532 778.4 535.3 779.5C538.5 780.6 542.1 782.4 546.3 784.7C550.5 787 555.8 790.5 560.5 793.2C565.2 795.9 570 798.7 574.7 800.9C579.4 803.1 584.2 805.1 588.9 806.6C593.6 808.1 597.8 809 603 809.7C608.2 810.5 612.4 810.8 620 811.1C627.6 811.4 637.8 811.6 648.4 811.7C659 811.8 677.9 811.7 683.8 811.7"/>
<path class="c" d="M499.9 591.4C497.5 592.8 490.4 596 485.7 599.6C481 603.2 476.1 608.1 471.6 613.2C467.1 618.3 462.6 624.5 458.8 630.2C455 635.9 451.7 641.1 448.9 647.2C446.1 653.4 443.6 660.5 441.8 667.1C440 673.7 438.8 680.8 438.1 686.9C437.4 693 437.2 697.8 437.5 703.9C437.8 710 438.6 717.2 439.8 723.8C441 730.4 442.6 737 444.6 743.6C446.6 750.2 448.9 757.4 451.7 763.5C454.5 769.6 457.8 775.8 461.6 780.5C465.4 785.2 469.9 788.7 474.4 791.8C478.9 794.9 483.4 797.2 488.6 798.9C493.8 800.5 499.9 801.2 505.6 801.7C511.3 802.2 517.7 802.1 522.6 801.9C527.5 801.7 530.6 801.1 535 800.5C539.4 799.9 544.5 799.2 549.2 798C553.9 796.8 558.2 795.7 563.4 793.2C568.6 790.8 575.2 787.3 580.4 783.3C585.6 779.3 590.2 774.3 594.5 769.1C598.8 763.9 602.7 758.7 605.9 752.1C609.1 745.5 611.8 737 613.8 729.4C615.8 721.8 617.1 714.3 618.1 706.8C619.1 699.2 619.5 691.2 619.5 684.1C619.5 677 619.2 671.3 618.1 664.2C617 657.1 615.3 648.6 613 641.5C610.7 634.4 607.6 627.4 604.5 621.7C601.4 616 598 611.5 594.5 607.5C591 603.5 587.2 600.3 583.2 597.6C579.2 594.9 572.5 592.4 570.4 591.4"/>
<path class="c" d="M528.3 638.1C524.5 638.4 518.8 639.3 514.1 641.5C509.4 643.7 503.9 647.5 499.9 651.5C495.9 655.5 492.6 660.2 490 665.6C487.4 671 485.4 678.2 484.3 684.1C483.2 690 483 695.4 483.5 701.1C484 706.8 485.1 712.9 487.1 718.1C489.1 723.3 492.4 728.3 495.7 732.3C499 736.3 503 739.9 507 742.2C511 744.6 515.3 746 519.8 746.4C524.3 746.8 530.2 745.5 533.9 744.6C537.6 743.7 538.9 742.8 542.1 740.8C545.4 738.8 549.9 736.1 553.4 732.3C556.9 728.5 560.8 723.3 563.4 718.1C566 712.9 568 706.5 569 701.1C570 695.7 570.2 690.7 569.6 685.5C569 680.3 567.6 674.9 565.6 669.9C563.6 664.9 560.9 659.9 557.7 655.7C554.5 651.5 549.8 647.5 546.3 644.9C542.8 642.3 540 641.1 537 640C534 638.9 532.1 637.9 528.3 638.1Z"/>
</g>
<g font-size="8.42" text-anchor="middle">
<text x="406.4" y="825.1">90</text>
<text x="436.5" y="825.1">100</text>
<text x="466.6" y="825.1">110</text>
<text x="496.6" y="825.1">120</text>
<text x="526.7" y="825.1">130</text>
<text x="556.8" y="825.1">140</text>
<text x="586.8" y="825.1">150</text>
<text x="616.9" y="825.1">160</text>
<text x="646.9" y="825.1">170</text>
<text x="677" y="825.1">180</text>
</g>
<g font-size="8.42" text-anchor="end">
<text x="396.1" y="806.3">0.2</text>
<text x="396.1" y="781.8">0.4</text>
<text x="396.1" y="757.3">0.6</text>
<text x="396.1" y="732.9">0.8</text>
<text x="396.1" y="708.4">1</text>
<text x="396.1" y="683.9">1.2</text>
<text x="396.1" y="659.5">1.4</text>
<text x="396.1" y="635">1.6</text>
<text x="396.1" y="610.6">1.8</text>
</g>
<text font-size="9.59" text-anchor="middle" x="542.5" y="838">k p10</text>
<text font-size="9.59" text-anchor="middle" transform="translate(378 700.3) rotate(-90)">Ea k p10</text>
<text font-size="8.42" x="400.1" y="585.7">× 10<tspan dx="0.7" dy="-4.1" font-size="6.74">5</tspan></text>
</g>
</svg>
</body>
</html>
